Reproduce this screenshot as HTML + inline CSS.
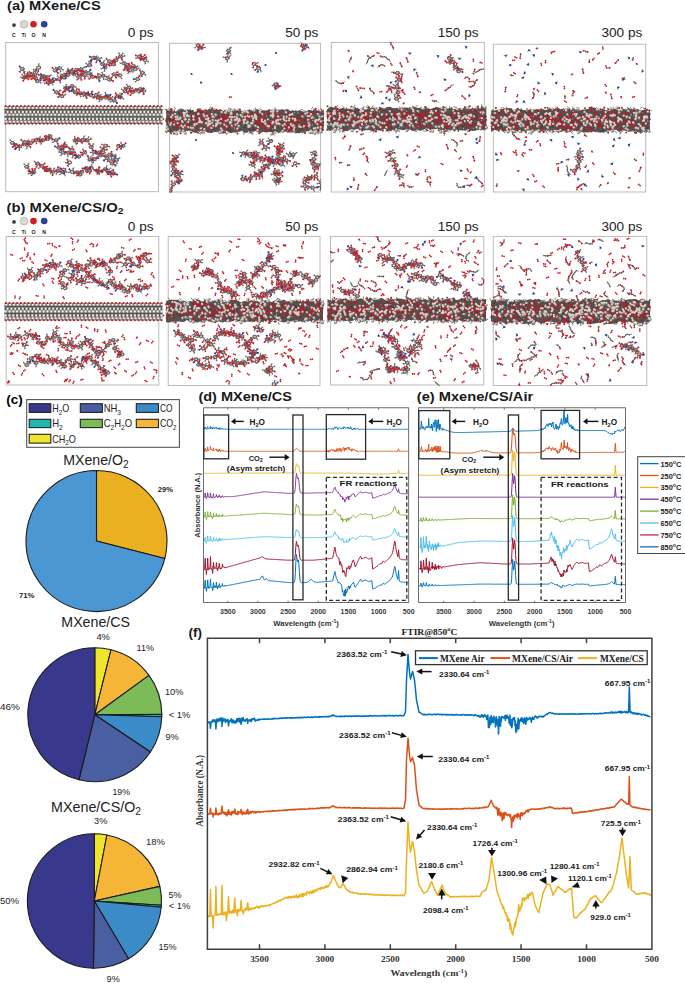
<!DOCTYPE html>
<html><head><meta charset="utf-8"><style>
html,body{margin:0;padding:0;background:#fff;}
svg{display:block;}
</style></head><body>
<svg width="685" height="983" viewBox="0 0 685 983">
<rect width="685" height="983" fill="#fff"/>
<defs><clipPath id="ca1"><rect x="5.2" y="42.1" width="153.7" height="150.1"/></clipPath><clipPath id="ca2"><rect x="169.1" y="42.8" width="152.0" height="149.7"/></clipPath><clipPath id="ca3"><rect x="330.8" y="41.9" width="154.0" height="150.6"/></clipPath><clipPath id="ca4"><rect x="492.8" y="43.7" width="153.4" height="148.8"/></clipPath><clipPath id="cb1"><rect x="5.7" y="236.0" width="153.6" height="149.5"/></clipPath><clipPath id="cb2"><rect x="167.7" y="235.9" width="152.8" height="150.2"/></clipPath><clipPath id="cb3"><rect x="330.0" y="235.9" width="154.3" height="149.6"/></clipPath><clipPath id="cb4"><rect x="492.7" y="235.9" width="154.6" height="150.2"/></clipPath></defs>
<rect x="5.7" y="42.6" width="152.7" height="149.1" fill="none" stroke="#b4b4b4" stroke-width="0.9"/>
<rect x="169.6" y="43.3" width="151.0" height="148.7" fill="none" stroke="#b4b4b4" stroke-width="0.9"/>
<rect x="331.3" y="42.4" width="153.0" height="149.6" fill="none" stroke="#b4b4b4" stroke-width="0.9"/>
<rect x="493.3" y="44.2" width="152.4" height="147.8" fill="none" stroke="#b4b4b4" stroke-width="0.9"/>
<rect x="6.2" y="236.5" width="152.6" height="148.5" fill="none" stroke="#b4b4b4" stroke-width="0.9"/>
<rect x="168.2" y="236.4" width="151.8" height="149.2" fill="none" stroke="#b4b4b4" stroke-width="0.9"/>
<rect x="330.5" y="236.4" width="153.3" height="148.6" fill="none" stroke="#b4b4b4" stroke-width="0.9"/>
<rect x="493.2" y="236.4" width="153.6" height="149.2" fill="none" stroke="#b4b4b4" stroke-width="0.9"/>
<rect x="4.5" y="105.9" width="158.0" height="18.1" fill="#86827e"/>
<line x1="4.5" y1="109.6" x2="162.5" y2="109.6" stroke="#52504e" stroke-width="1.1"/>
<line x1="4.5" y1="116.7" x2="162.5" y2="116.7" stroke="#52504e" stroke-width="1.1"/>
<path d="M5.7 112h0m3.8 0h0m3.8 0h0m3.8 0h0m3.8 0h0m3.8 0h0m3.8 0h0m3.8 0h0m3.8 0h0m3.8 0h0m3.8 0h0m3.8 0h0m3.8 0h0m3.8 0h0m3.8 0h0m3.8 0h0m3.8 0h0m3.8 0h0m3.8 0h0m3.8 0h0m3.8 0h0m3.8 0h0m3.8 0h0m3.8 0h0m3.8 0h0m3.8 0h0m3.8 0h0m3.8 0h0m3.8 0h0m3.8 0h0m3.8 0h0m3.8 0h0m3.8 0h0m3.8 0h0m3.8 0h0m3.8 0h0m3.8 0h0m3.8 0h0m3.8 0h0m3.8 0h0m3.8 0h0m3.8 0h0m-153.9 6.9h0m3.8 0h0m3.8 0h0m3.8 0h0m3.8 0h0m3.8 0h0m3.8 0h0m3.8 0h0m3.8 0h0m3.8 0h0m3.8 0h0m3.8 0h0m3.8 0h0m3.8 0h0m3.8 0h0m3.8 0h0m3.8 0h0m3.8 0h0m3.8 0h0m3.8 0h0m3.8 0h0m3.8 0h0m3.8 0h0m3.8 0h0m3.8 0h0m3.8 0h0m3.8 0h0m3.8 0h0m3.8 0h0m3.8 0h0m3.8 0h0m3.8 0h0m3.8 0h0m3.8 0h0m3.8 0h0m3.8 0h0m3.8 0h0m3.8 0h0m3.8 0h0m3.8 0h0m3.8 0h0m3.8 0h0" stroke="#454545" stroke-width="1.9" stroke-linecap="round" fill="none"/>
<path d="M6.3 107.9h0m3.8 0h0m3.8 0h0m3.8 0h0m3.8 0h0m3.8 0h0m3.8 0h0m3.8 0h0m3.8 0h0m3.8 0h0m3.8 0h0m3.8 0h0m3.8 0h0m3.8 0h0m3.8 0h0m3.8 0h0m3.8 0h0m3.8 0h0m3.8 0h0m3.8 0h0m3.8 0h0m3.8 0h0m3.8 0h0m3.8 0h0m3.8 0h0m3.8 0h0m3.8 0h0m3.8 0h0m3.8 0h0m3.8 0h0m3.8 0h0m3.8 0h0m3.8 0h0m3.8 0h0m3.8 0h0m3.8 0h0m3.8 0h0m3.8 0h0m3.8 0h0m3.8 0h0m3.8 0h0m3.8 0h0m-156.4 6.9h0m1.9-2.8h0m1.9 2.8h0m1.9-2.8h0m1.9 2.8h0m1.9-2.8h0m1.9 2.8h0m1.9-2.8h0m1.9 2.8h0m1.9-2.8h0m1.9 2.8h0m1.9-2.8h0m1.9 2.8h0m1.9-2.8h0m1.9 2.8h0m1.9-2.8h0m1.9 2.8h0m1.9-2.8h0m1.9 2.8h0m1.9-2.8h0m1.9 2.8h0m1.9-2.8h0m1.9 2.8h0m1.9-2.8h0m1.9 2.8h0m1.9-2.8h0m1.9 2.8h0m1.9-2.8h0m1.9 2.8h0m1.9-2.8h0m1.9 2.8h0m1.9-2.8h0m1.9 2.8h0m1.9-2.8h0m1.9 2.8h0m1.9-2.8h0m1.9 2.8h0m1.9-2.8h0m1.9 2.8h0m1.9-2.8h0m1.9 2.8h0m1.9-2.8h0m1.9 2.8h0m1.9-2.8h0m1.9 2.8h0m1.9-2.8h0m1.9 2.8h0m1.9-2.8h0m1.9 2.8h0m1.9-2.8h0m1.9 2.8h0m1.9-2.8h0m1.9 2.8h0m1.9-2.8h0m1.9 2.8h0m1.9-2.8h0m1.9 2.8h0m1.9-2.8h0m1.9 2.8h0m1.9-2.8h0m1.9 2.8h0m1.9-2.8h0m1.9 2.8h0m1.9-2.8h0m1.9 2.8h0m1.9-2.8h0m1.9 2.8h0m1.9-2.8h0m1.9 2.8h0m1.9-2.8h0m1.9 2.8h0m1.9-2.8h0m1.9 2.8h0m1.9-2.8h0m1.9 2.8h0m1.9-2.8h0m1.9 2.8h0m1.9-2.8h0m1.9 2.8h0m1.9-2.8h0m1.9 2.8h0m1.9-2.8h0m1.9 2.8h0m1.9-2.8h0m-157.7 6.9h0m.6 2.9h0m3.2-2.9h0m.6 2.9h0m3.2-2.9h0m.6 2.9h0m3.2-2.9h0m.6 2.9h0m3.2-2.9h0m.6 2.9h0m3.2-2.9h0m.6 2.9h0m3.2-2.9h0m.6 2.9h0m3.2-2.9h0m.6 2.9h0m3.2-2.9h0m.6 2.9h0m3.2-2.9h0m.6 2.9h0m3.2-2.9h0m.6 2.9h0m3.2-2.9h0m.6 2.9h0m3.2-2.9h0m.6 2.9h0m3.2-2.9h0m.6 2.9h0m3.2-2.9h0m.6 2.9h0m3.2-2.9h0m.6 2.9h0m3.2-2.9h0m.6 2.9h0m3.2-2.9h0m.6 2.9h0m3.2-2.9h0m.6 2.9h0m3.2-2.9h0m.6 2.9h0m3.2-2.9h0m.6 2.9h0m3.2-2.9h0m.6 2.9h0m3.2-2.9h0m.6 2.9h0m3.2-2.9h0m.6 2.9h0m3.2-2.9h0m.6 2.9h0m3.2-2.9h0m.6 2.9h0m3.2-2.9h0m.6 2.9h0m3.2-2.9h0m.6 2.9h0m3.2-2.9h0m.6 2.9h0m3.2-2.9h0m.6 2.9h0m3.2-2.9h0m.6 2.9h0m3.2-2.9h0m.6 2.9h0m3.2-2.9h0m.6 2.9h0m3.2-2.9h0m.6 2.9h0m3.2-2.9h0m.6 2.9h0m3.2-2.9h0m.6 2.9h0m3.2-2.9h0m.6 2.9h0m3.2-2.9h0m.6 2.9h0m3.2-2.9h0m.6 2.9h0m3.2-2.9h0m.6 2.9h0m3.2-2.9h0m.6 2.9h0m3.2-2.9h0m.6 2.9h0" stroke="#eeebe5" stroke-width="2.3" stroke-linecap="round" fill="none"/>
<path d="M5.7 106.1h0m3.8 0h0m3.8 0h0m3.8 0h0m3.8 0h0m3.8 0h0m3.8 0h0m3.8 0h0m3.8 0h0m3.8 0h0m3.8 0h0m3.8 0h0m3.8 0h0m3.8 0h0m3.8 0h0m3.8 0h0m3.8 0h0m3.8 0h0m3.8 0h0m3.8 0h0m3.8 0h0m3.8 0h0m3.8 0h0m3.8 0h0m3.8 0h0m3.8 0h0m3.8 0h0m3.8 0h0m3.8 0h0m3.8 0h0m3.8 0h0m3.8 0h0m3.8 0h0m3.8 0h0m3.8 0h0m3.8 0h0m3.8 0h0m3.8 0h0m3.8 0h0m3.8 0h0m3.8 0h0m3.8 0h0m-155.8 17.7h0m3.8 0h0m3.8 0h0m3.8 0h0m3.8 0h0m3.8 0h0m3.8 0h0m3.8 0h0m3.8 0h0m3.8 0h0m3.8 0h0m3.8 0h0m3.8 0h0m3.8 0h0m3.8 0h0m3.8 0h0m3.8 0h0m3.8 0h0m3.8 0h0m3.8 0h0m3.8 0h0m3.8 0h0m3.8 0h0m3.8 0h0m3.8 0h0m3.8 0h0m3.8 0h0m3.8 0h0m3.8 0h0m3.8 0h0m3.8 0h0m3.8 0h0m3.8 0h0m3.8 0h0m3.8 0h0m3.8 0h0m3.8 0h0m3.8 0h0m3.8 0h0m3.8 0h0m3.8 0h0m3.8 0h0" stroke="#b51a22" stroke-width="2.0" stroke-linecap="round" fill="none"/>
<path d="M21.4 70.3l-1.4 1.4M21.3 67.7l-1.6-1.2M23.3 70.2l1.4 1.4M24.2 76.8l-1.7 1M27.2 77.7l1.2 1.6M27.9 76.3l1.9-.5M22.3 69l2 3.9M24.3 72.9l1.7 3.7M30.9 72.9l2-.4M28.7 74.8l-.5 1.9M30.5 74.3l1.5 1.3M26 76.6l1.3-2.1M27.3 74.4l1.8-1.1M33.1 78l-1.5 1.3M32.6 76.5l-1.9-.5M35.8 75.9l1.2-1.6M29.1 73.3l2.5 2.7M31.6 76l2.8 .9M37.2 79.6l-.1-2M39.2 81.6l1.6 1.2M39 80.1l1.6-1.3M34.5 76.9l.6 2.5M35.1 79.4l2.4 1.7M38.8 69l-.6 1.9M38.7 66l.1-2M37.1 68.3l-1.4 1.4M44.1 77.9l-.3 2M42.4 75.6l-1.6-1.2M42.4 77.1l-1.5 1.3M46.8 81.6l-1.6-1.2M48.5 80.9l-.5-1.9M46.7 83.1l-2 .2M44.1 76.4l2.6 3M46.7 79.3l1.7 3.1M51.6 80.4l1-1.7M51.5 83l1.3 1.5M49.6 83l-1 1.7M48.4 82.4l1.3-1.2M49.7 81.3l.9 .4M54.2 69.3l-1.6-1.1M56.6 71.6l1.4 1.4M57.3 70.2l1.8-.9M57.8 67.7l-2-.2M60 69.6l.6 1.9M61.4 68.7l1.6 1.2M55.4 70.4l1.7-.8M57.1 69.6l2.5-1.4M62.4 78.1l-1.9 .7M65.8 76.7l1.9-.5M62.5 76.6l-1.9-.7M69.2 73.9l1.5-1.3M67.3 73.6l-.7-1.9M66.1 74.7l-1.7-1.1M64.1 77.4l1.6-1.8M65.8 75.7l2.2-.6M71.5 70.6l.9-1.8M72.8 73l1.5 1.4M69.8 71.2l-1.9-.7M67.9 75l2.1-2.1M70.1 72.9l1.3-.9M75.1 75.2l1.3 1.5M74.8 72.6l1.1-1.6M75.9 73.8l1.8-.8M71.3 72.1l2.1 1.6M73.5 73.6l.5 .4M78.5 75.5l-1.6-1.1M80.6 78l.8 1.8M78.7 78.1l-1.2 1.6M74 74l3.7 .8M77.7 74.7l1.8 2M82.3 71.4l.4-2M80.3 73.5l-1.5 1.3M83.8 72.4l2-.1M79.5 76.7l1.9-1.9M81.4 74.9l.6-1.9M86.3 75.7l1.8 1M82.8 74.5l-2-.3M84.8 76.5l0 2M82 72.9l.4 1.4M82.4 74.4l2.1 .7M87.8 64.6l-1.7-1.1M89.3 63.6l-.3-2M88.2 66.1l-1.9 .7M95 56.9l1.9-.7M92 58.8l-1.2 1.6M91.8 57.3l-1.9-.6M89.6 65.1l1.6-3.3M91.2 61.8l2.3-4M96.9 60.3l-.5 1.9M95.8 59.1l-2 .2M99.6 58.8l1.8-.8M93.5 57.9l1.4 .9M94.9 58.7l2.8 .2M101.5 62.7l-1.5-1.3M103.4 62.6l.7-1.9M103.5 65.2l.7 1.9M97.7 58.9l2.4 2.1M100.1 61l2.4 2.9M103.1 67.9l-1.8 .8M104.5 68.9l0 2M105.5 66l1-1.7M102.5 63.9l1.6 2.7M104.1 66.6l.9 .9M109.4 62.8l-.6 1.9M107.9 60.5l-1.3-1.5M111.1 62.1l2 .4M105 67.5l1.8-2.9M106.7 64.6l2.7-3.3M113.1 62.7l-.1-2M111.6 63.6l-1.7-1M111.8 65.1l-1.9 .6M109.5 61.3l1.3 2.3M110.8 63.6l2.6 .6M115.6 61.8l-.7 1.9M114.1 60.9l-1.4 1.4M116.1 58.9l.3-2M113.3 64.2l1.3-2.4M114.6 61.8l1.2-1.4M121.6 55l1.2-1.6M122.6 56.3l2-.4M119.7 55.1l-.8-1.8M115.8 60.4l2.3-2.3M118.1 58.1l2.6-1.7M122.5 63l-2 .2M124.9 64.8l0 2M126.2 63.7l2 .1M120.7 56.4l1.4 3.4M122.1 59.8l2.2 3.6M129.3 65.8l-.1-2M126.9 67.6l-1.8 .9M128.2 68.7l-.3 2M124.3 63.3l1.8 2.3M126.1 65.6l2.6 1.6M132.7 64.6l-1.2-1.6M135 66.5l2 .1M131.4 65.6l-1.9-.6M128.7 67.2l2.6-.2M131.3 67.1l1.9-1M137 69l1.9-.8M136 67.7l1.5-1.4M134.2 70.4l-1.3 1.5M133.2 66.1l.2 1.5M133.4 67.6l1.7 1.4M139.6 58.2l.9 1.8M137.7 56.1l-1.9-.6M137.9 57.6l-1.9 .7M141.5 56.5l-.8-1.9M143.4 56.5l1.3-1.5M144.3 57.9l1.9-.6M139.4 56.7l2 0M141.4 56.7l1.1 1.2M146.6 60.7l1.7 1.1M143.2 59.2l-2-.3M144.9 61.5l.4 2M142.4 57.8l.9 1.2M143.3 59l1.6 .9M24.2 78.9l-.9 1.8M23.6 76.3l-1.4-1.5M23 77.8l-2-.4M32.3 75.6l1.5-1.3M30.6 75l.5-1.9M29.1 75.9l-2-.2M24.8 77.5l2.5-.8M27.3 76.7l3.4-.2M34.8 74l-.5 1.9M34.2 71.4l-.7-1.9M36.1 71.1l.6-1.9M30.8 76.5l2.2-2.2M32.9 74.3l2.5-1.7M43.2 78.7l.5 1.9M41.3 78.7l-.8 1.8M44.1 77.3l1.9 .7M35.4 72.6l3.1 2.3M38.6 74.8l3.7 2.6M48 78.8l.5 1.9M49.1 76.3l1.7-1M46.2 78.3l-1.4 1.4M42.2 77.4l3.2-.2M45.5 77.2l2.2 .2M54.1 80.4l1.9-.6M50.8 80.1l-1.2-1.6M52.5 79.5l.9-1.8M47.6 77.3l1.7 1.7M49.3 79l3 2M59.8 80.5l.6 1.9M57.4 78.7l-2 .2M58.7 77.6l-1.2-1.6M52.3 81l4.1-.9M56.4 80.1l2.9-1.1M62.7 74.5l-2-.1M64.9 76.4l.7 1.9M63.1 75.9l-1.7 1M59.3 79l1.7-1.3M60.9 77.7l3.6-2.8M72.3 72l1.5 1.3M69.3 70.2l-1.4-1.4M69.1 71.6l-2 .3M64.5 74.9l2.3-1.1M66.8 73.8l4-2.7M76.7 71.4l.5 1.9M74.9 71l-1.8 .9M78.1 70.4l1.9 .6M70.8 71.1l3.6 .3M74.4 71.4l1.9-1.4M79.5 70.3l-1.9 .6M82.5 68.4l1.7-1.1M81.3 70.9l.4 2M76.3 69.9l1.4 .3M77.7 70.2l3.3-.8M89.6 74.2l.8 1.8M87.5 71.7l-1.6-1.2M89.4 71.6l1-1.7M81 69.4l3.2 2M84.2 71.4l4.3 1.6M90.9 77.7l-1.6 1.1M92.2 75.3l-.4-2M94.2 77.3l2 .1M88.6 73l2.7 2.2M91.3 75.2l1.2 1.6M98.8 79l.7 1.9M96.5 77.1l-2 .2M97.9 76.1l.1-2M92.5 76.8l2.9-.2M95.4 76.6l2.9 1M101.4 75.2l-1.8-1M103.4 77.3l.2 2M102.9 74.3l-.9-1.8M98.3 77.6l3.3-1.8M101.6 75.8l1.6 0M109 78.1l-.2-2M111.3 79.9l1.6 1.1M107.6 79.2l-2 0M103.1 75.8l3.7 1M106.8 76.7l2.7 2.8M115 75.8l1.1 1.7M116.2 74.6l1.8 .9M115.4 73.3l1.7-1M109.5 79.6l2.1-1.9M111.6 77.6l2.7-3.2M119.1 74l-1-1.7M118 75.2l-2-.3M120.5 76.8l1.1 1.7M114.3 74.5l2.6 .2M116.9 74.7l3 .7M126 66l-1-1.7M125.3 68.5l-1.5 1.4M127.8 66.3l1.6-1.3M128.2 70.3l-2-.1M129.3 71.6l-1.2 1.6M130.9 68.8l1.4-1.5M126.6 67.4l1 1.4M127.6 68.8l2.5 1.4M138.4 77.5l1.3-1.5M136.8 80.2l-1.2 1.6M135.7 79l-2 .2M142.2 74.3l-.5 1.9M143.9 73.8l1.6 1.1M140.9 71.9l-1-1.7M137.6 78.9l1.7-3.1M139.3 75.8l3.1-2.9M55 91.4l-1.5-1.3M58 93.2l1.3 1.5M58.3 91.7l1.6-1.1M60.7 95l-1.3-1.6M60.2 96.4l-1.9 .6M63.9 95.6l1.6-1.2M56.5 92.3l2.2 1.8M58.7 94.1l3.3 2M66 86.7l.2-2M65.2 89.7l-.3 2M67 89.2l1.2 1.6M62 96l1-3.7M63 92.3l2.6-4.1M66 87.8l-1.9-.7M68.6 89.3l.9 1.8M66.7 89.2l-1.3 1.5M65.6 88.2l.2-.1M65.8 88.1l2.1-.1M72.3 87.6l0 2M73.9 86.7l2 .4M70.6 87l-1.7 1M67.9 87.9l1.2-.4M69.1 87.5l3-1.4M73.4 91.9l-1.8-.8M76.3 90.8l.6-1.9M76.1 93.4l1.4 1.4M72.1 86.1l1.3 3.5M73.4 89.6l1.8 2.4M79.6 91.6l-.7-1.9M78.2 94l-1.7 1.1M79.9 94.6l.8 1.9M75.3 92l2.9 1.5M78.1 93.5l1.7-.4M85 94.8l.7 1.9M85.6 93.4l2 .2M81.9 93.9l-2-.1M79.8 93.1l1.8 .9M81.6 94.1l2.2-.4M86.4 96l.3 2M85.2 93.6l-1.3-1.5M84.9 95.1l-1.5 1.3M83.8 93.6l2-.5M85.8 93.2l1 1.4M89.3 93.9l-1.2-1.6M91.2 93.6l.9-1.8M91.9 96.1l1.4 1.4M86.7 94.5l2.2 .2M88.9 94.8l1.7 .3M97.6 94.1l1-1.7M96.4 96.5l.5 1.9M94.6 96l-1.5 1.3M90.6 95l1.8-.7M92.4 94.3l3.7 .7M100.1 97.7l2-.4M99.4 96.3l1.4-1.4M96.3 97.2l-2 .3M96.1 95l1.8 .8M97.9 95.8l.3 1.7M99.9 99.6l-.6 1.9M100.1 97l-1.2-1.6M102.9 98.4l2-.4M98.2 97.5l2.2-.2M100.4 97.3l.6 1M106 94.5l-.8-1.8M106.2 97.1l-.4 2M105.2 95.9l-1.9 .7M101 98.3l3.3-1.5M104.3 96.8l2.8-1M111 97.8l1.8-.9M109.7 96.8l.6-1.9M107.8 97.2l-1.1-1.7M107.1 95.8l.4 1.7M107.5 97.5l1.7 .7M114.7 99.1l.9-1.8M112.3 100.9l-1.8 .8M115.5 101.6l1.5 1.3M109.2 98.2l1.6 1.1M110.8 99.3l3.4 1.2M119.2 96.6l2 .4M116.7 95l-1-1.7M116.1 97.5l-1.1 1.7M114.2 100.5l.9-3M115.1 97.5l2.3-1.1M121.9 97.6l1.6 1.2M118.3 96.5l-2 0M119.8 95.6l.3-2M117.3 96.4l1.5 .5M118.9 96.9l1.2 .1M125 89.7l-.5-1.9M126.7 91.9l1.3 1.5M123.4 90.4l-1.6-1.1M120.1 97.1l1.8-3.1M122 93.9l3-2.8M126.9 87.6l-1.8 .8M130.7 87.4l1.9 .7M127.7 86.2l-1.1-1.6M125 91.2l1.6-2M126.6 89.2l2.1-1.7M131.6 93.4l-1.1 1.6M131.5 90.8l-.5-1.9M130.6 92.1l-1.9-.6M128.8 87.5l1 2.6M129.8 90.1l2.8 2M134.1 89.5l-1.7-1M133.6 91l-2 0M136.7 91.6l1.7 1M132.5 92.1l.8-1M133.4 91.1l2.1-.5M141.4 90.2l1.3 1.5M141.5 88.7l2-.4M139.7 90.8l-.5 1.9M135.4 90.6l1.8-1.2M137.2 89.4l2.6 0M142.1 91l-1.8 .8M143.4 92l.3 2M142.5 89.5l-1.2-1.6M139.8 89.3l2.4 1.1M142.3 90.4l1.6 .1M13.2 144.2l1.2 1.6M11.6 141.5l-1.4-1.4M14.3 143l1.8 .8M15.8 147.2l-.5 1.9M14.7 145.9l-1.8 .9M15.5 144.6l-1.4-1.4M12.4 142.8l1.8 1.1M14.2 143.9l2.4 1.8M21.3 145.8l1.8-.9M17.9 147.1l-1.8 .9M19.5 147.9l-.2 2M16.6 145.8l2.2 .5M18.7 146.3l.9 .2M24.4 143.6l-.1 2M26.1 142.9l1.3 1.5M23 141.2l-1.7-1.1M19.6 146.4l3.1-2.7M22.7 143.8l1.8-1.7M27.1 146.3l-.3 2M28.9 145.7l1.5 1.3M27.7 143.3l0-2M24.6 142.1l2.3 2.1M26.8 144.2l.6 .6M29.7 141.6l-1.3-1.5M31.6 141.5l.5-1.9M28.8 143l-2 .1M27.4 144.8l2.2-.7M29.6 144.1l1.1-1.2M37.7 139.3l1.7-1.1M34.5 140.9l-1.5 1.4M36.1 141.6l.3 2M30.7 142.9l3.1-1.4M33.8 141.5l2.3-1.4M39.1 139.8l-1.7-1.1M40.8 142l.5 1.9M40.7 139l-.4-2M36.1 140.1l3.3-.5M39.4 139.6l1.3 .9M44.5 139.3l1.5-1.4M41.3 140.9l-1.9 .5M41.2 139.4l-1.4-1.4M40.7 140.5l.1 .5M40.8 141l2.1-.9M46.5 137.6l-1.7-1.1M48.4 137.5l1.4-1.5M49.4 138.7l2 0M42.9 140.1l3-.3M45.9 139.8l1.6-1M51 137.3l1.2 1.6M48 136.2l-2 0M49.1 137.4l-.7 1.9M47.5 138.8l1.6-1.1M49.1 137.7l.8-1.6M57.5 139.3l1.8-.9M54.5 141.1l-1.6 1.2M54.3 139.7l-2 0M49.9 136l2.4 2.6M52.3 138.7l3.7 1.5M59.2 149.1l.2 2M57 147.2l-1.9-.7M60.6 148.1l1.6 1.3M56 140.2l1.7 3.5M57.8 143.7l1 3.9M63.5 145.3l.8-1.8M61.8 148l-.8 1.8M64.6 146.6l2 .2M58.8 147.6l1.5-1M60.2 146.6l2.4 .1M65.3 144.2l-.4-2M66.7 146.6l1.9 .5M63.4 146.3l-1.6 1.3M62.7 146.7l1.7 .1M64.3 146.8l.8-1.1M71.9 148.6l.4-2M73.6 150.8l1.5 1.4M70.2 149.3l-1.6-1.3M65.1 145.7l4.4 2.5M69.5 148.2l2.4 1.8M74.9 138.9l-.2-2M75.3 141.9l.9 1.8M76.6 139.5l1.2-1.6M77.9 141.6l-.9 1.8M79.8 141.3l1.7 1M76.7 140.5l-2 .2M75.1 140.4l2.5-.7M77.5 139.7l1 .5M82.9 141.1l-.5 1.9M83.4 138.2l.7-1.9M84.7 140.6l1.8 .8M78.6 140.2l2.4 .2M80.9 140.4l2.3-.8M85.5 140.8l-1.9 .6M87.7 138.8l1-1.8M89.1 139.8l1.7-1.1M83.2 139.6l2.3 .8M85.5 140.4l1.9-.2M92.3 145.7l1-1.7M90.4 145.5l-1.4-1.4M92 148.3l.6 1.9M87.3 140.3l2.2 3.7M89.5 144l1.7 3M93.2 150.8l-.8-1.8M92.4 152.2l-2 .4M93.4 153.4l-.7 1.9M91.2 146.9l1.6 3.1M92.8 150l1.5 2M97.5 152.1l-1.7-1M101.1 152.9l1.9 .6M100.7 151.5l1.4-1.4M94.3 152.1l2.8 .8M97.1 152.9l2.2-.4M104.1 151.1l.9 1.8M104.9 149.8l2-.1M101.9 148.7l-1.4-1.4M99.3 152.5l1.2-.4M100.5 152.1l2.5-2.1M107.4 146.3l2 .3M103.8 145.2l-1.9-.7M104.1 146.7l-1.1 1.7M103 149.9l.4-1.5M103.4 148.4l2.2-2.6M110.8 153.5l.7-1.9M107.8 154.6l-1.9 .5M111.5 154.9l2 .3M112.5 156l-.2-2M113.4 158.9l-.3 2M114.3 156.4l1-1.7M109.7 154.7l1.7 .5M111.4 155.2l1.6 2.2M119.6 147.3l1.5 1.3M117.7 147.5l-.7 1.9M120.3 145.9l2-.1M121.9 147.1l-1.1 1.7M122.2 144.5l-1.2-1.6M124.1 144.7l1.4-1.4M118.4 146.1l1.3 .2M119.7 146.3l3.3-.4M25.6 165.5l-1.3-1.5M27.5 165.4l1.2-1.6M27.7 168l1.5 1.3M30.4 172l-1.9-.7M30.4 173.5l-2 .3M32.1 171.3l.5-1.9M26.6 166.7l2.9 4M29.6 170.7l2.5 2.1M32.8 173.5l-1.1 1.7M32.6 170.9l-.6-1.9M34.5 170.8l.5-1.9M32.1 172.8l.3-.5M32.4 172.3l1.3-.1M36.2 162.6l-1.7-1M39.1 164.5l1.2 1.6M37.3 165l-1 1.8M40.4 167l-1.6 1.2M43.1 164.9l1.5-1.3M43.6 166.4l2 .3M37.6 163.6l2.1 .9M39.8 164.5l2 1.5M48.1 169.4l1.8-.9M44.8 169.2l-1.9-.7M46.5 168.5l.6-1.9M41.7 166l2.5 1.7M44.2 167.7l2.2 2.3M49.7 171.1l1.1 1.7M46.5 170.4l-2 .4M47 169l-1.4-1.4M46.4 170l.1 1M46.4 171l1.9-1M51.6 170.6l-.9-1.8M53.4 170.2l.9-1.8M52.6 173.1l0 2M48.4 170l1.7 .2M50.1 170.2l2.9 1.4M57.4 172.1l-1 1.7M59.5 170.2l1.6-1.2M58 169.2l-.1-2M53 171.6l3.2-.5M56.2 171.2l1.5-.5M61.7 173.4l-1.7 1.1M64.7 172.4l1.9-.5M63.6 173.6l1.4 1.4M57.7 170.7l2.1 .8M59.8 171.5l3 .8M64 171.2l0 2M62.3 170.5l-1.8 .9M62.2 169l-1.9-.7M62.8 172.2l.3-1.5M63.1 170.7l.8-1M68.2 161.5l-.9-1.8M67.8 162.9l-2-.2M69.1 164l-1.1 1.7M71.1 170.6l-1.6-1.2M70.3 172l-1.9 .5M73 170.4l.3-2M75.6 172.6l-1.8 .9M79.2 171.8l1.9-.6M76.9 173.7l.1 2M72.2 171.8l2.8 .8M75.1 172.6l2.3-.4M78.5 173.6l-1.2-1.6M80.1 172.9l.7-1.9M81.8 173.6l1.5-1.3M77.4 172.2l.5 1.5M77.9 173.7l2.2 .6M87.4 169.7l.5 1.9M84.6 168.3l-2 .2M88.4 168.5l1.9-.6M80.1 174.4l2.8-3.6M82.9 170.7l3.7-2.4M88.9 171.7l1.2 1.6M89.2 170.2l1.6-1.2M86 169.7l-1.4-1.5M86.5 168.4l.1 .2M86.6 168.6l.8 2.1M91.2 166.2l.6-1.9M91.1 169.2l0 2M92.8 168.5l1.3 1.5M87.4 170.7l2.6-2M90 168.8l1.1-1M98.4 169.4l1-1.7M99.2 170.8l1.8 .9M98.1 172l1 1.7M91.2 167.7l3.7 2.3M94.9 170l2.4 .6M97.7 172.2l-.5 1.9M98.6 169.2l.5-1.9M100 170.3l2 .2M97.3 170.6l-.2-.8M97.1 169.9l1.1 .8M106.2 168.1l.5-1.9M105.8 170.7l.7 1.9M104 170.5l-1.4 1.4M98.2 170.7l4.2-.2M102.3 170.4l2.7-1.1M107.6 172l.2 2M109.2 171.2l1.7 1.1M109.2 169.7l1.4-1.5M105.1 169.3l1.7-.1M106.8 169.2l.7 1.3M110.8 172.2l1.2-1.6M111.4 173.6l1.8 .8M110.2 174.7l1.1 1.7M107.5 170.5l.9 2.4M108.4 172.9l1.2 .4M115.1 174.1l1.9 .5M111.7 172.8l-1.7-1.1M113.3 171.9l-.1-2M109.6 173.3l1.8 .1M111.4 173.4l2.1 0M60.9 152.6l-1.9-.5M62 153.8l-1 1.7M63.6 151.1l.1-2M66.5 153.1l-1.6 1.1M70.1 152.2l2 .1M67.9 154.2l-.1 2M62.8 152.4l2.8-.6M65.6 151.9l2.7 .8M72.1 154.4l-2-.1M73.2 155.6l-.7 1.9M75.1 155.4l1.5 1.3M68.3 152.7l2.9 .5M71.2 153.2l2.7 1M77 155.8l-1.8-.9M77.1 157.3l-1.7 1M80.3 155.6l1.5-1.3M74 154.2l1.8 1.2M75.8 155.4l2.9 1M82.8 152.5l-2-.1M83.6 151.1l-.8-1.8M83.8 153.7l-1.4 1.5M78.7 156.4l3.5-2M82.2 154.5l2.4-2.1M90.6 158.1l.8-1.8M88.7 158.4l-.9-1.8M91.3 160.6l1 1.7M84.7 152.4l3.2 3.5M87.8 155.9l2.2 3.6M92.5 159.5l-2 .1M93.8 160.6l-.5 1.9M96.2 158.7l2-.4M90 159.5l2.7 .6M92.7 160l1.6-.9M98.8 154.7l-1.9-.6M102.3 155.8l1.9 .6M102 154.3l1.8-.9M94.3 159.1l3.1-2.1M97.4 157.1l3.1-1.8M107.2 159.6l.4 2M108.8 158.7l1.5 1.3M105.5 158.9l-1.4 1.5M100.5 155.2l4.1 .4M104.6 155.7l2.4 2.4M113.8 162.6l1.7-1M113.8 164.1l1.6 1.2M112.2 161.9l-.2-2M107.1 158.1l2.3 3.6M109.3 161.6l2.8 1.8M117.8 158.9l1.8-.8M116 158.5l-.4-2M116.8 161.4l.2 2M112.2 163.4l1.8-1.7M114 161.7l2.4-1.8M21.4 70.3l-1-1.3 .9-1.3 1.9-.1 1 1.3-.9 1.3zM24.2 76.8l.6-1.4 1.9-.3 1.2 1.2-.7 1.4-1.8 .3zM28.7 74.8l-1.4-1 .4-1.5 1.8-.4 1.4 1-.4 1.4zM36.3 77.3l-1.3 1.1-1.9-.4-.5-1.5 1.4-1 1.8 .4zM36 82l-.3-1.5 1.5-.9 1.8 .5 .2 1.5-1.5 .9zM37.1 68.3l0-1.5 1.6-.8 1.7 .7 0 1.5-1.6 .8zM45.7 77.1l-1.6 .8-1.7-.8 0-1.5 1.7-.7 1.6 .7zM50 83.3l-1.7 .6-1.6-.8 .1-1.5 1.7-.7 1.6 .9zM49.6 83l-.9-1.4 1-1.2 1.9 0 .9 1.4-1 1.2zM53.5 70.7l.7-1.4 1.9-.3 1.2 1.2-.7 1.4-1.9 .2zM61.4 68.7l-1.4 .9-1.8-.4-.4-1.5 1.4-1 1.8 .5zM64 78.9l-1.6-.8 .1-1.5 1.7-.7 1.6 .8-.1 1.5zM66.7 76.1l-.6-1.4 1.2-1.1 1.9 .3 .6 1.4-1.3 1.1zM72.8 73l-1.7 .5-1.5-.8 .2-1.5 1.7-.6 1.6 .9zM73.2 75.4l-1.1-1.3 .8-1.3 1.9-.2 1.1 1.2-.8 1.4zM77.6 76.8l.9-1.3 1.9-.1 1 1.2-.8 1.4-1.9 .1zM83.5 73.9l-1.7 .5-1.5-.9 .2-1.5 1.8-.6 1.5 1zM86.3 75.7l-1.5 .8-1.8-.5-.2-1.5 1.5-.9 1.8 .6zM88.2 66.1l-.4-1.5 1.5-1 1.8 .5 .3 1.5-1.4 1zM93.8 59.3l-1.8-.5-.2-1.5 1.5-.9 1.7 .5 .3 1.5zM98.8 60.1l-1.9 .2-1.1-1.2 .8-1.4 1.9-.2 1.1 1.3zM100.6 64l.9-1.3 1.9-.1 1 1.3-.9 1.3-1.9 .1zM103.1 67.9l.6-1.5 1.8-.4 1.3 1.1-.5 1.5-1.8 .3zM109.4 62.8l-1.6-.8 .1-1.5 1.6-.7 1.6 .8 0 1.5zM115.1 64.7l-1.5 1-1.8-.6-.2-1.5 1.5-.9 1.7 .5zM117.3 61.3l-1.7 .5-1.5-.9 .2-1.4 1.8-.6 1.5 .9zM119.9 57.7l-1.1-1.3 .9-1.3 1.9-.1 1 1.3-.8 1.3zM126.2 63.7l-1.3 1.1-1.9-.4-.5-1.4 1.3-1.1 1.8 .3zM130 68.3l-1.8 .4-1.3-1.1 .5-1.5 1.9-.3 1.3 1.1zM135 66.5l-1.4 1-1.8-.4-.4-1.5 1.3-1 1.9 .4zM136.1 70.3l-1.9 .1-1-1.3 .9-1.3 1.9-.1 1 1.3zM137.9 57.6l-.2-1.5 1.5-.9 1.8 .7 .1 1.4-1.5 .9zM144.3 57.9l-.9 1.2-1.9 0-1-1.3 1-1.3 1.9 0zM144.9 61.5l-1.6-.8-.1-1.5 1.7-.7 1.6 .7 .1 1.5zM26.1 78.6l-1.9 .3-1.2-1.1 .6-1.5 1.8-.3 1.3 1.2zM30.9 78l-1.7-.6-.1-1.5 1.5-.9 1.7 .6 .2 1.5zM36.6 73.7l-1.8 .3-1.3-1.2 .7-1.4 1.9-.3 1.2 1.2zM43.2 78.7l-1.9 0-1-1.3 .9-1.3 1.9 0 1 1.2zM49.4 77.8l-1.4 1-1.8-.5-.4-1.4 1.5-1 1.8 .4zM53.8 81.9l-1.7 .6-1.5-.9 .2-1.5 1.7-.6 1.6 .9zM58 80.1l-.6-1.4 1.3-1.1 1.9 .4 .5 1.4-1.3 1.1zM63.1 75.9l-.4-1.4 1.4-1.1 1.8 .5 .4 1.4-1.4 1.1zM72.3 72l-1.7 .6-1.5-1 .2-1.4 1.8-.6 1.5 .9zM76.7 71.4l-1.8-.4-.4-1.5 1.4-1 1.8 .4 .4 1.5zM81.3 70.9l-1.8-.6-.3-1.4 1.5-1 1.8 .5 .3 1.5zM87.7 74.3l-1-1.2 .8-1.4 1.9-.1 1.1 1.3-.9 1.3zM92.7 78.3l-1.8-.6-.2-1.5 1.5-.9 1.8 .6 .2 1.4zM98.8 79l-1.9-.4-.4-1.5 1.4-1 1.8 .4 .4 1.5zM103.4 77.3l-1.8-.6-.2-1.5 1.5-.9 1.8 .6 .2 1.5zM110 81l-1.9-.4-.5-1.4 1.4-1.1 1.8 .4 .5 1.4zM115 75.8l-1.9-.2-.7-1.3 1.2-1.2 1.8 .2 .8 1.3zM121.7 75.6l-1.2 1.2-1.9-.2-.6-1.4 1.1-1.2 1.9 .2zM128.4 67.7l-1.2 1.1-1.9-.3-.6-1.4 1.3-1.1 1.8 .3zM129.3 71.6l-1.1-1.3 .8-1.3 1.9-.2 1.1 1.2-.8 1.4zM138.7 80.1l-1.9 .1-1.1-1.2 .8-1.4 1.9-.1 1.1 1.2zM142.2 74.3l-1.5-.9 .2-1.5 1.8-.5 1.5 .9-.3 1.5zM56.3 93.8l-1.5-.9 .2-1.5 1.8-.6 1.5 .9-.3 1.5zM61.6 97.5l-1.4-1.1 .5-1.4 1.8-.4 1.4 1-.5 1.5zM67 89.2l-1.8 .5-1.4-1 .4-1.5 1.8-.5 1.4 1zM68.6 89.3l-1.9-.1-.7-1.4 1.1-1.2 1.9 .1 .7 1.4zM70.6 87l-.2-1.5 1.5-.9 1.7 .6 .3 1.5-1.6 .9zM77.2 92.1l-1.1 1.3-1.9-.1-.8-1.4 1-1.2 1.9 .1zM81.5 93.8l-1.6 .8-1.7-.6-.1-1.5 1.5-.9 1.8 .7zM81.9 93.9l.6-1.4 1.9-.3 1.2 1.2-.6 1.4-1.9 .2zM88.2 95.5l-1.8 .5-1.5-.9 .3-1.5 1.8-.5 1.5 .9zM90 96.5l-1.2-1.2 .5-1.4 1.9-.3 1.3 1.1-.6 1.4zM94.6 96l-.3-1.5 1.5-.9 1.8 .5 .3 1.5-1.5 .9zM97 98.6l-.7-1.4 1.2-1.1 1.9 .2 .7 1.4-1.2 1.2zM99.9 99.6l-.8-1.4 1-1.2 1.9 .1 .9 1.3-1.1 1.3zM108.1 97.1l-1.9 0-1-1.2 .8-1.4 1.9 0 1.1 1.2zM108.7 99.7l-1.4-1.1 .5-1.4 1.9-.4 1.3 1-.5 1.5zM115.5 101.6l-1.9 .3-1.3-1 .5-1.5 1.9-.3 1.3 1zM119.2 96.6l-1.2 1.2-1.9-.3-.6-1.4 1.2-1.1 1.9 .2zM120.4 98.5l-1.8-.5-.3-1.5 1.5-.9 1.8 .5 .3 1.5zM126.7 91.9l-1.7 .8-1.6-.8 0-1.5 1.6-.7 1.6 .7zM127.9 88.8l-1-1.2 .8-1.4 1.9 0 1.1 1.2-.9 1.4zM131.6 93.4l-1-1.3 .9-1.3 1.9-.1 1 1.3-.9 1.3zM133.6 91l.5-1.5 1.8-.4 1.3 1.1-.5 1.4-1.8 .4zM138.1 90l.2-1.5 1.6-.7 1.6 .9-.1 1.5-1.7 .6zM142.1 91l.4-1.5 1.8-.4 1.4 1.1-.5 1.4-1.8 .4zM13.2 144.2l-1.9-.1-.8-1.4 1.1-1.2 1.9 .1 .8 1.4zM15.8 147.2l-1.1-1.3 .8-1.3 1.8-.2 1.2 1.2-.8 1.4zM17.9 147.1l.1-1.5 1.7-.7 1.6 .9-.1 1.5-1.7 .6zM24.4 143.6l-1.6-.9 .2-1.5 1.7-.6 1.6 .8-.2 1.5zM28.9 145.7l-1.8 .6-1.5-1 .3-1.5 1.8-.5 1.5 .9zM29.9 144.2l-1.1-1.2 .9-1.4 1.9-.1 1 1.3-.8 1.3zM37.7 140.8l-1.6 .8-1.6-.7-.1-1.5 1.6-.8 1.7 .7zM39.1 141.3l0-1.5 1.6-.8 1.7 .7 0 1.5-1.6 .8zM44.6 140.8l-1.6 .8-1.7-.7-.1-1.5 1.6-.8 1.7 .7zM45.6 138.9l.9-1.3 1.9-.1 1 1.2-.8 1.4-1.9 0zM49.1 137.4l-1.1-1.2 .8-1.4 1.9-.1 1.1 1.2-.8 1.4zM56.3 141.7l-1.8-.6-.2-1.4 1.5-1 1.7 .6 .3 1.5zM60.6 148.1l-1.4 1-1.8-.5-.4-1.4 1.4-1 1.8 .4zM60.8 146.8l.8-1.4 1.9-.1 1.1 1.3-.9 1.3-1.9 .1zM65 147.2l-1.6-.9 .2-1.5 1.7-.6 1.5 .9-.1 1.5zM70.3 150.8l-.1-1.5 1.7-.7 1.6 .7 .1 1.5-1.7 .8zM73.5 141.3l-.2-1.5 1.6-.9 1.7 .6 .2 1.5-1.5 .9zM76.7 140.5l.6-1.4 1.9-.3 1.2 1.1-.6 1.4-1.9 .3zM84.7 140.6l-1.8 .5-1.5-.9 .3-1.5 1.7-.5 1.6 .9zM87 141.7l-1.5-.9 .4-1.5 1.8-.5 1.4 1-.3 1.4zM90.1 148.1l-.8-1.3 1.1-1.3 1.9 .2 .8 1.3-1.1 1.3zM92.4 152.2l.8-1.4 1.9-.1 1.1 1.3-.9 1.3-1.9 .1zM99.8 154l-1.9-.5-.4-1.4 1.4-1.1 1.8 .5 .4 1.4zM104.1 151.1l-1.8 .2-1.2-1.2 .8-1.4 1.9-.1 1.1 1.2zM104.1 146.7l-.3-1.5 1.5-.9 1.8 .5 .3 1.5-1.5 .9zM110.4 156.1l-1.9-.2-.7-1.3 1.1-1.2 1.9 .1 .7 1.4zM113.4 158.9l-1.8-.4-.5-1.5 1.4-1 1.8 .4 .5 1.4zM117.7 147.5l-1.2-1.2 .8-1.4 1.8-.2 1.2 1.2-.7 1.4zM121.9 147.1l-.8-1.3 1.1-1.3 1.9 .2 .8 1.3-1.1 1.2zM27.7 168l-1.9 .1-1.1-1.3 .9-1.3 1.9-.1 1 1.2zM33.7 173.5l-1.6 .8-1.7-.8 0-1.5 1.7-.7 1.6 .7zM34.7 173.4l-1.9 .1-1.1-1.2 .9-1.4 1.9-.1 1 1.2zM35.9 164.1l.3-1.5 1.8-.5 1.4 .9-.3 1.5-1.8 .5zM40.4 167l-.5-1.4 1.3-1.1 1.9 .4 .5 1.5-1.4 1zM46.3 171.5l-1.6-.8 .1-1.5 1.7-.7 1.6 .9-.1 1.5zM49.7 171.1l-1.8 .4-1.4-1.1 .5-1.4 1.8-.4 1.4 1zM52.6 173.1l-1.4-1 .4-1.5 1.8-.4 1.5 1-.4 1.4zM57.4 172.1l-1.5-.9 .3-1.5 1.8-.5 1.5 1-.4 1.4zM63.6 173.6l-1.9-.2-.8-1.4 1.2-1.2 1.9 .2 .7 1.4zM64 171.2l-1.7-.7-.1-1.5 1.6-.8 1.7 .7 .1 1.5zM67.8 162.9l.4-1.4 1.9-.4 1.3 1.1-.5 1.4-1.8 .4zM71.5 173.2l-1.2-1.2 .8-1.4 1.9-.2 1.1 1.2-.7 1.4zM78.8 173.3l-1.9 .4-1.3-1.1 .4-1.4 1.9-.4 1.3 1zM78.5 175.1l0-1.5 1.6-.7 1.7 .7-.1 1.5-1.6 .8zM88.4 168.5l-1 1.2-1.9-.1-.9-1.3 1.1-1.3 1.9 .1zM88.9 171.7l-1.9 .5-1.4-1 .4-1.5 1.8-.5 1.4 1zM89.5 168.5l0-1.5 1.7-.8 1.6 .8 0 1.5-1.7 .7zM98.1 172l-1.9-.1-.8-1.4 1.1-1.2 1.9 .1 .8 1.4zM97.7 172.2l-1.4-1.1 .5-1.4 1.8-.5 1.4 1.1-.5 1.4zM106.9 169.5l-1.1 1.2-1.8-.2-.8-1.3 1.1-1.2 1.9 .1zM107.6 172l-1.7-.7 0-1.5 1.6-.8 1.7 .7 0 1.5zM110.2 174.7l-1.8-.2-.7-1.4 1.2-1.2 1.9 .3 .6 1.4zM111.8 174.3l-.1-1.5 1.6-.9 1.7 .7 .1 1.5-1.6 .8zM60.9 152.6l.8-1.4 1.9-.1 1.1 1.2-.8 1.4-1.9 .1zM69.7 153.7l-1.8 .5-1.4-1.1 .4-1.4 1.8-.5 1.4 1zM75.1 155.4l-1.9 .2-1.1-1.2 .7-1.4 1.9-.2 1.2 1.2zM78.8 157.9l-1.7-.6-.1-1.5 1.6-.9 1.7 .7 .1 1.5zM82.8 152.5l.8-1.4 1.9 0 1 1.2-.8 1.4-1.9 0zM88.1 159.8l.6-1.4 1.9-.3 1.3 1.1-.6 1.4-1.9 .3zM92.5 159.5l.5-1.4 1.8-.4 1.4 1-.5 1.5-1.9 .4zM100.8 156.7l-1.8-.5-.2-1.5 1.4-1 1.8 .6 .3 1.5zM108.8 158.7l-1.6 .9-1.7-.7-.1-1.5 1.5-.8 1.7 .6zM112.2 164.9l-1.7-.7 0-1.5 1.7-.8 1.6 .7 0 1.5zM118.2 160.4l-1.4 1-1.8-.5-.4-1.4 1.4-1 1.8 .4z" stroke="#5a5a5a" stroke-width="0.75" fill="none" stroke-linecap="round" clip-path="url(#ca1)"/>
<path d="M93.3 56.4h0m1.7 .5h0m1.9-.6h0m19.4 .6h0m2.5-.5h0m.1-3.1h0m.8 1.8h0m1.9-.1h0m1 1.3h0m.2-2.9h0m1.8 2.5h0m13.1 .2h0m1.5-.9h0m1.8 .7h0m.5 .6h0m1.9 0h0m-54.4 5.1h0m2.8-4.3h0m.2 1.5h0m1.8 .5h0m0 0h0m1.5-.9h0m.5 .7h0m.8-1.4h0m.3 2.6h0m1.6-2.8h0m.3 2.6h0m.8-1.3h0m1.8-.9h0m.1 4.8h0m1.9-.1h0m.8-1.8h0m3.6 1.2h0m.1-1.5h0m1.5 2.3h0m.1-3h0m.4 2.8h0m1.2-.5h0m0-1.5h0m2 2.1h0m1-1.8h0m1.5 .9h0m.5-2.9h0m1.2 2.4h0m.3-1.5h0m2.3-2.1h0m3.9 4.2h0m1.8 .3h0m10.4-3.9h0m1.9-.7h0m2.6 .2h0m.6-.5h0m.4 1.8h0m1.7 .1h0m.1 1.5h0m.1-1.6h0m.9-1.2h0m.6 3.6h0m1.6-2.3h0m.1 1.5h0m1.6 1.1h0m-126.9 5.9h0m1.9-.1h0m1 1.3h0m12.9-2.1h0m0 1.5h0m1.6-2.3h0m.1-2h0m1.6 2.7h0m0 1.5h0m15.4-.7h0m2 .2h0m1.4-1h0m1.8 .5h0m.4 1.5h0m6.5 0h0m8-.2h0m1.8 .4h0m1.5 0h0m1.5-1h0m1.8 .5h0m1.7-1h0m2-3.9h0m1.6 1.1h0m.4 1.5h0m1.1-2.5h0m.7 3h0m1.1-2.5h0m9.5-.1h0m.7 4.7h0m.3-3.4h0m1.5 2.6h0m.4-2.7h0m.2 1.2h0m.8 2.5h0m1-2.9h0m.8 2.6h0m.2-4.3h0m.3 2.8h0m4.8-3.5h0m.2 1.5h0m1.8 .6h0m1.2-2.5h0m.1 .5h0m5.6-.5h0m2-.2h0m.5 1.4h0m1.7 2.7h0m.2-2.3h0m0 2h0m.1-2.5h0m.3 4.2h0m.7-2.5h0m.2-2.3h0m.7 3.9h0m.3 1.2h0m.2-2.7h0m.4 .2h0m.4 2.4h0m.2-1h0m.6 1.3h0m.2-5.2h0m.1 2h0m.2-.8h0m.5 3.3h0m.6-1.4h0m.3 1.9h0m.5-3.2h0m.4 1.5h0m.4 .3h0m.5-2.8h0m.9 2.9h0m1-2.5h0m1.4 2.7h0m1-1.1h0m.5-.2h0m1.3 1.9h0m6.6-4.9h0m-125 5.6h0m1 1.3h0m.8 4.6h0m1.1-4.7h0m1.4 1.4h0m3 .7h0m1 2.5h0m.8-2.9h0m1 2.4h0m.4-1.4h0m2-.4h0m.6 .3h0m.1-3.3h0m.3 4.9h0m.3-3h0m.6 2.6h0m1.3-2.9h0m.5-1.9h0m0 4.5h0m.4 .6h0m.3-2h0m1.5-3.3h0m5.3 5.9h0m9.4-4.2h0m.7-1.4h0m.5 2.5h0m1.4-2.8h0m1.2 1.2h0m.9-1h0m.9 .1h0m.9 .3h0m.6 2h0m.1 2.8h0m2 .1h0m.3-4.6h0m1.1 3.5h0m.3 .2h0m1.7 1.1h0m.5-3h0m.5 .2h0m.2 1.7h0m1.9 .3h0m.1-3.7h0m.3 2.5h0m.2-1.5h0m.8 1.4h0m.1 0h0m.4-3h0m0 3.9h0m.4-2.9h0m.6 3.5h0m.2-2.1h0m.3-1.5h0m.2 2.5h0m.1-.2h0m.2-1.3h0m0 .4h0m1.2 2.4h0m.2-4.8h0m.3 3.1h0m.1-1.6h0m1 2.8h0m.8-2.4h0m.1 2.9h0m.5-1h0m.3-2.3h0m.5-.6h0m.7 4.4h0m.7-4.5h0m.8 3.2h0m.2-1.5h0m1.2 .8h0m.1 1.6h0m.9-4.9h0m.1 .4h0m0 4.6h0m.7-.6h0m.3-1.5h0m.5 1.2h0m1.5-1.3h0m.1-1.7h0m.2 3.6h0m.6-1.1h0m.8-1.4h0m.2 2.6h0m1.7-2.7h0m.2 2.6h0m.9-1.3h0m1.3 .4h0m7.9 .9h0m2.3-1.7h0m.9 1.8h0m1.6-3.4h0m.2 4h0m8.9-1.8h0m1.8 .2h0m.6 1.6h0m.2-.3h0m2-2.3h0m.9 1.7h0m1.9 .2h0m5.2-4h0m1.9 3h0m.1-2.9h0m3 1.1h0m.8-1.4h0m.9 1.9h0m.3-2.8h0m1 1.3h0m1.9-.1h0m.9-1.3h0m3.7 4.4h0m.2-1.5h0m1.3 2.4h0m.5-2.9h0m1.2 2.4h0m.3-1.5h0m1.4 2.6h0m-124.6 2.5h0m2 .4h0m.6-1.5h0m.6 .5h0m0 2.1h0m.6-3.5h0m.6 .6h0m.7 2.6h0m.6-3.5h0m.4 .5h0m.1 2.1h0m.7-1.4h0m.3 .4h0m1 .7h0m.7-1.6h0m.7-.8h0m.3 3h0m1.1-2.3h0m.3-.1h0m.2 1.5h0m.1-.6h0m1.4-1h0m1 2.9h0m.7 2.1h0m.1-4.6h0m.5 1.4h0m.8 .3h0m1.9 2.5h0m1.3-2.7h0m.2 1.5h0m.7-2.8h0m.1 2.6h0m1.1-1.6h0m.7-1h0m.1 2.6h0m.6 1.1h0m.3-1.9h0m0-.6h0m1.6-1.7h0m0 1.5h0m.1-.2h0m.2 1.2h0m.2 .2h0m1.1-2.4h0m.7 3.1h0m0-.2h0m.5 2.1h0m.9-3.1h0m.2 .7h0m.1 1.9h0m1.1-.3h0m0-4.7h0m.8 5h0m.9-.9h0m.9-1.8h0m.7 2.7h0m1.3-1.5h0m2-.2h0m.1-2.7h0m.5 4.1h0m.7-2.5h0m1.9 1.2h0m0-.8h0m.5 1.4h0m1.4-2.8h0m.6-.7h0m.9 3h0m.2-3h0m.7 .5h0m.8 1.8h0m.1-1.5h0m.5-1.4h0m.4 .8h0m1.1 .2h0m.7 .1h0m1.3-1.1h0m3.4 .1h0m1.9-.2h0m1.3 1.5h0m1.2 .1h0m.9-1.3h0m.2 2.6h0m1.7-2.7h0m.2 2.6h0m.8-1.4h0m1.6-.6h0m3.3-.3h0m1.7 .9h0m2.9 1.1h0m1.3-2.4h0m.5 3h0m1.3-2.4h0m.2 1.4h0m2.7 1.3h0m1-2.5h0m.9 2.9h0m.9-2.5h0m.4 1.5h0m1.3-2.8h0m.2 1.5h0m1.8 .6h0m.2 1.9h0m1.3-2.8h0m.7 2.8h0m2 0h0m.5 1.4h0m.7-4.5h0m.2 2h0m1 2.9h0m.8-2.5h0m2.3-2.9h0m1.9 .2h0m3.6 .8h0m1.9 .2h0m1.1 1.7h0m.1-2.9h0m14 3.4h0m.8-1.4h0m.3 2.6h0m1.6-2.7h0m.3 2.6h0m.8-1.4h0m.2-2.7h0m-103.7 6h0m1.7 .5h0m1.5-.9h0m1.6 1.2h0m3.9 .6h0m2.1-1.8h0m1.5 2.3h0m.4-2.3h0m.9 1.4h0m.4 .3h0m.1-1.5h0m.5-.2h0m.9 1.4h0m.6-.5h0m.7 2h0m7.6-2.1h0m5.6 4.3h0m.2-2h0m.9 1.9h0m1.9 .1h0m1.4-1.2h0m.2 1.5h0m1.3-2.4h0m1.7 .6h0m.3 1.5h0m52.7-2.1h0m1.1 1.6h0m1.9 0h0m6-4.4h0m-80.8 11.1h0m.2-1.5h0m1.8-.6h0m1.5 .9h0m5.5-3h0m.3-1.6h0m.1 .1h0m1 2.5h0m.8-1.9h0m1.4-.1h0m.8 3.1h0m.4-1.5h0m1.1-1.2h0m3.7 3.8h0m1-1.2h0m1.4-3.6h0m.5 3.7h0m.9 1.3h0m2.4-.5h0m1.8 .7h0m1.1 .2h0m1.5-.4h0m.4 .1h0m20.8 .5h0m16.5-3.4h0m1.7 1.1h0m0 1.5h0m1.6-2.2h0m0 3h0m0-4.3h0m1.6 2h0m.3-2.8h0m1 1.2h0m1.9 0h0m.9-1.4h0m.3 1.4h0m.5 2h0m.8-2.3h0m.3-.4h0m.8 2.6h0m.2 .3h0m.5-1.5h0m.3 2.5h0m.5 0h0m1.8-.4h0m.5-1.4h0m.9-.2h0m.2-1.5h0m.2 4.1h0m.8 .2h0m.4-2h0m.2-3h0m1.4 .2h0m.1 2.2h0m.1-1.5h0m.6 2.3h0m.6 .7h0m.7 .3h0m.9-2.9h0m.9 2.5h0m.5-1.4h0m-89.4 3.6h0m1.7-.6h0m2.2 3.2h0m1.4 1.1h0m.9-2.9h0m.9 2.5h0m.5-1.5h0m1.5-1.2h0m10.7-1h0m.4 1.7h0m1-.3h0m.7-.8h0m1.7 .6h0m.8 1.9h0m.8-2.7h0m.4 .1h0m1.2 1.1h0m.3 1.4h0m1.5-1.3h0m.1-.3h0m.2-1.2h0m.5 3h0m.7-.6h0m.6-2.9h0m1.2 2.4h0m.3-1.5h0m.3 1.3h0m.5-1.4h0m.7 2.6h0m1.2-2.9h0m.7 2.5h0m.6-1.4h0m.6 2.6h0m1.2-2.8h0m.3 1.5h0m1.2-2.4h0m.5 3.6h0m.1-.7h0m.5 1.9h0m.6-2.3h0m.1-2h0m.3 1.5h0m1 3.3h0m0-3.5h0m.2 2.8h0m.3-1.9h0m.7 1.4h0m0-.7h0m.7-2.1h0m1.2 2.2h0m.9 1.3h0m.4-1.8h0m1.5 1.4h0m.4-2.1h0m.8-1.4h0m.2 2.6h0m1.1 1.5h0m.5-1.4h0m.1-2.7h0m1.1 1.2h0m.7 1.1h0m1.3 1h0m1.8-.9h0m2.7-.8h0m.6 1.4h0m.2-1h0m1.7 1.3h0m.3-1.3h0m.3-1.3h0m0 2.8h0m.6-1.4h0m.6-1h0m.3-2h0m1.5 2.5h0m.3 1.5h0m1.6 1.2h0m8.1-5.4h0m1.9-.1h0m-34.2 8.2h0m.6-1.9h0m1.9 .1h0m4-.6h0m4.7 2.6h0m0-2.4h0m1.8 1.6h0m.5-1.5h0m.8 2.5h0m1.1-2.8h0m.3 .1h0m.5 2.4h0m.5-1.5h0m-67.2 34.7h0m1.9-.1h0m-40.5 5.4h0m14.5 .5h0m3.7-.5h0m3.7-.5h0m2.4 1.3h0m1.5-2.3h0m1.7 .7h0m0 1.5h0m1.4-1h0m.2-1.6h0m.5-.2h0m.5-1h0m.4 2h0m.5 .4h0m.1 1.5h0m1.1-1.2h0m.4-1.1h0m1.7 .7h0m.1 1.5h0m1-1.9h0m.9-1.3h0m.2 2.5h0m1.3-3.9h0m.3 3.1h0m.3 .8h0m.5-2.7h0m.3 1.3h0m.3-2.7h0m1.3 1.3h0m.4 1.4h0m.4-2.8h0m.5 3.7h0m2 .1h0m1.5-1h0m1.7 .6h0m.3 1.5h0m15.5-1h0m1.3-2.9h0m.1 3.8h0m1.9-1.2h0m.1 1h0m.1 .5h0m.5-1.9h0m1.9-.3h0m1.2 1.1h0m1 .3h0m.3-1.5h0m1.7-.5h0m.8-1.9h0m.5 4.3h0m.3-1.5h0m.5 1.7h0m2.2-2h0m.9-1.8h0m.5 2.8h0m-78.6 2.9h0m.8 1.4h0m.3-2.6h0m1.6 2.7h0m.3-2.6h0m.5 1.6h0m.3-.2h0m.4 2.9h0m.8-1.3h0m.6-.8h0m1.6 3.2h0m.3-1.4h0m.5 0h0m1.2-.7h0m1.6 .9h0m1.5-3.1h0m.2-1.5h0m1.3 4.4h0m.1-2h0m1.2 1.7h0m.3-1.5h0m.2-.9h0m.2-1.5h0m.5 1.7h0m.3 3.2h0m.6-3h0m1.1-.3h0m.1 2.7h0m1-1.5h0m1.7-2.7h0m.2 2.6h0m.8-1.3h0m3.5-1.2h0m.4 1.9h0m2.6-2.2h0m1.7 .7h0m.4 1.9h0m1.8-2.3h0m10 .8h0m1.5-1.3h0m1.8 .6h0m3.9 4.9h0m.6 .2h0m.8-1.4h0m1.8 .9h0m.2-1.5h0m1 1.8h0m.3-4.4h0m.4 2h0m1.4 2.4h0m.1-1.5h0m5.5 1.5h0m1.2-5.3h0m1.8 .6h0m.8 1.8h0m1.8-2.1h0m1.9-.3h0m2.6 1.8h0m.5-2h0m.7 .3h0m2.9 0h0m.5 .3h0m1.8-.5h0m.2 2.9h0m.3 2.7h0m1.1-1.3h0m3-1.5h0m8.6 .5h0m1.8 .7h0m.3 1.5h0m1.2-2.4h0m1.8 .5h0m2.2 1.8h0m7.2-.3h0m.8-1.4h0m3 1h0m.7-3h0m.1 2.9h0m1.1-1.3h0m1.9 .2h0m.8 1.3h0m-109.1 1.2h0m2.1-.1h0m1.4 2.8h0m.2-2h0m1.7-.6h0m5.6 .9h0m30.2-1h0m.4 1.4h0m1.6 3.5h0m.2-3h0m.2 2h0m1.2-3h0m.3 4.5h0m.8-1.4h0m.1-3.2h0m.1-.4h0m1.7 3.5h0m.1-3.2h0m1.3-.7h0m1.9 4.5h0m1.7-4.6h0m.1 1h0m0 3.1h0m1.4 1h0m.1-2.9h0m.1 1.5h0m1.6-2.2h0m0 3h0m.2 .8h0m1.5-1.6h0m1.1 2h0m8.1-.3h0m0-3.2h0m.8 1.8h0m2.9 1.2h0m3.6-4.2h0m.3 4.4h0m1.6-4.2h0m.4 3.9h0m0-3.2h0m.7-2h0m.1 3.8h0m1.9-.1h0m1.1 1.3h0m1.3 .1h0m1.4-1.1h0m2.2-.9h0m0 2.8h0m.8-4.2h0m.2 1.4h0m.2 1.2h0m1.5-2.7h0m.3 2.5h0m.8-1.3h0m.1 3.1h0m.9-5.7h0m11.8 .3h0m1.9-.2h0m1.2 1.5h0m1.1-1.7h0m1.9 .1h0m-62.8 8.3h0m1-1.7h0m1.9-.1h0m.9 .6h0m1.7-1.2h0m1.3 3.1h0m.1-2h0m4.2 .2h0m.4 3.1h0m.7-1.9h0m1.9-.2h0m.8-1.4h0m1.2 3.3h0m1.5-2.4h0m.2 3h0m1.5-2.3h0m.1 1.5h0m1.4-2.8h0m2-.6h0m1.9 0h0m2.1 2.9h0m.9 1.8h0m1.9-.3h0m.8-1.9h0m1.3-.9h0m.7-1.9h0m1.4 4.3h0m1.4 1h0m.6-4.6h0m1.1-.6h0m.9 1.2h0m.2 1.5h0m.8-2.2h0m1 2.7h0m1.2-2.4h0m.3 1.5h0m1.5-2.4h0m1.6 4h0m.1 1.5h0m.3-3.8h0m2-.5h0m.7 1.3h0m.1 1.3h0m.2 1.5h0m.1-5.3h0m1.5 2.7h0m.4-2.6h0m.3 3.5h0m.4-2.1h0m.1 3.6h0m.7-4.5h0m.2 2h0m.9 2.9h0m.1-3.7h0m.8 1.2h0m.5 1.4h0m.5-3.2h0m.7 3.9h0m1.8 .4h0m1.8-.8h0m-95.4 5.9h0m4.4-.2h0m5.8-2.2h0m1.8 1h0m1.8-.5h0m1.1 2.4h0m.3-1.5h0m1.8 1.5h0m1.9 .4h0m22.7-2.1h0m2.4-1.3h0m.9 2.5h0m1-2.9h0m.8 2.5h0m.5-1.4h0m16.7-2.4h0m1.3 1.1h0m1.1-1.3h0m.8 1h0m.5 3.7h0m.5-2h0m.2-2.8h0m.8 3h0m.5-1.9h0m1.9-.4h0m11.5-.6h0m.4 1.9h0m2.7-1.4h0m.2 2.6h0m0 1.5h0m1.4-4.3h0m.3 2h0m0 3h0m.9-4.1h0m.7 1.8h0m0 1.5h0m.8-4.6h0m.9 2.1h0m1.3-.2h0m.2 2h0m1.2-3h0m-93.5 6.4h0m.9-1.3h0m.2 2.6h0m1.7-2.7h0m.2 2.6h0m1.5 1.3h0m2.8-.3h0m.6 1.9h0m1.9-.1h0m2.8-5.8h0m1.5 3.2h0m1.5-2.1h0m.1 .9h0m1.8 .4h0m1.4-1h0m1.1 4.3h0m.1-1.5h0m.7-2.5h0m1 1.8h0m0 1.9h0m1.5 .5h0m.1-1.5h0m.7-.8h0m1.4 1h0m.5-.8h0m.9 1.8h0m1.8-.4h0m.9-1.8h0m1.9 1.3h0m1.8-.5h0m1.5 1h0m2.6 .6h0m.1-1.8h0m.1 1.5h0m1.5-2.3h0m1.7 .7h0m.1 1.5h0m5.5 .2h0m1.9-.2h0m.3-2h0m4.6 2.4h0m6.7-2.5h0m.9 1.3h0m.5 .1h0m1.4 0h0m.2-2.6h0m.2 2.1h0m.6-.7h0m.8 1.7h0m.3-3.2h0m1.4 2.1h0m.2 .1h0m.1-3h0m1.6 2.3h0m0-1.5h0m1.3 3.1h0m1.3 .4h0m1.1-1.2h0m.3 .4h0m1.6-.3h0m.2-.2h0m.6 1.6h0m.2-3.1h0m.6 2.6h0m3.2-1.1h0m.8 1.3h0m.3-2.5h0m1.5 2.7h0m.1-.9h0m.3-1.7h0m.4-1.9h0m.3 3.3h0m.6-.5h0m1.7 .7h0m1.3-1.4h0m1.4 2.2h0m-83.4 3.3h0m1.9-.3h0m1.3 1.7h0m0-2.9h0m.4-1h0m0 3h0m.7-.8h0m.9-1.5h0m0 1.5h0m1-.1h0m.8-1.4h0m10.8-.5h0m1.6 0h0m1.8-.4h0m1.5 1h0m1.4 1h0m1.9-.5h0m.4-1.4h0m1 0h0m.5 2.7h0m1-1.8h0m2.6 2.4h0m.5-3.1h0m.4 .6h0m.8 1.4h0m1.9 .2h0m.4-2.6h0m.7 1.4h0m.3 2.6h0m1.7-3.1h0m1.7 .6h0m1.9-.5h0m1.2 1.2h0m1.9-.2h0m.7-1.4h0m1.5 1h0m.4-1.4h0m.9 2.5h0m.1 2h0m.3-3.7h0m1.2 1.6h0m.7-1.8h0m.9 4.1h0m0-3h0m1-1.7h0m.6 3.9h0m.1-1.5h0m1.5-1.2h0m2.3-1.2h0m2.3 .5h0m1 0h0m7.3 .2h0m.1-.8h0m.9 3h0m.9-2.1h0m1.4-.3h0m6.4-.4h0m.7 1.3h0m1-.6h0m.1 1.1h0m.7 1.4h0m.8-3.3h0m1 3.5h0m.6-2.5h0m.1 .1h0m.5 1.3h0m.3-.8h0m.1 1.5h0m1.5-2.4h0m.2 3h0m1.5-2.3h0" stroke="#5d635f" stroke-width="1.6" stroke-linecap="round" fill="none" clip-path="url(#ca1)"/>
<path d="M89.3 55.5h0m8.8 1.3h0m19.3-.7h0m2-4h0m4.7 1.1h0m1.6 3.5h0m9.5-2.4h0m6.1-.8h0m4.7 1.5h0m-60.1 7.2h0m3.6-1.7h0m.3 .1h0m3-2.1h0m2.5 4.4h0m4.6-2.8h0m2.7-1.7h0m2.8 1.9h0m1.3-2.7h0m2.9 3.7h0m1.7 1h0m2.6-2.6h0m5.6 2.7h0m10.5 .4h0m1.8-1.1h0m3-4h0m5.3 3.5h0m.4-3.4h0m6.9 0h0m-127.8 7.4h0m14.5 3.1h0m3.7 .3h0m2-5.4h0m12.5 3.7h0m2.7-.4h0m13 .9h0m5.6 1h0m10.2 .4h0m1.3-2.6h0m.3 1.5h0m14.7 .6h0m3.6 0h0m3.9-3h0m.1-1.3h0m1.1 1h0m4.9-.8h0m0-.7h0m10.1 4.5h0m.2-.3h0m1.3-4.7h0m3.6 .9h0m.1 .8h0m1.7 .5h0m2.8 2.1h0m4.4 .3h0m.9-1.2h0m1.2 2.4h0m.3 .1h0m4.4-4.4h0m3.8-1.4h0m-129.8 8.5h0m3.6 2h0m2.4-.7h0m1.6 1.7h0m3.8 .3h0m2.2-2.5h0m1.7 .8h0m.4-3.5h0m.8 4.8h0m1.8-3h0m1.3 2.6h0m2.4-1h0m17 1.6h0m.3-.4h0m1.8-.8h0m.2-.8h0m.1 2.1h0m.2-5.1h0m2.8 1.5h0m1.1 1.1h0m1.8-1.1h0m1.2-.6h0m.2-1.3h0m4.5 2.2h0m.1 1.3h0m1.9 1.8h0m2.6-4.2h0m.1 4.1h0m0-1.4h0m.6-2.3h0m.3 3.9h0m1.4-1.1h0m1.1-.4h0m.6-1h0m.4 1.7h0m4.7-4.6h0m1.1 3.8h0m4.9-3.5h0m.9 2.6h0m6.3 1h0m.4-.3h0m3.2-1.6h0m1 .5h0m11.7 2.1h0m3.2-1.4h0m.1-1.5h0m4.1-1.1h0m2.8-.7h0m1.3 2.2h0m.1 1.9h0m4.8-1.3h0m-111.3 4.3h0m.9 1.1h0m5.9 0h0m1.1 3.2h0m2.1-1.4h0m.7-2.6h0m1.1 .4h0m1-.5h0m4.8 .1h0m1.8 1.8h0m2.1 .6h0m.9 1.6h0m.8-.9h0m1.6-.6h0m1.4 .2h0m2.2-1.4h0m1.1-.7h0m2.2-1.5h0m2 2.7h0m.5-.4h0m.1-.7h0m2.5 3.1h0m2.3-2.2h0m.7-1.7h0m5.1 2.9h0m3.7-2.4h0m5.4-1.4h0m1.9 4.2h0m.1-1.8h0m7.6 1.5h0m4.1-.9h0m.4-.7h0m1.6-.6h0m3.5-.8h0m3.6 1.9h0m5.7 1.9h0m1.9-2.1h0m5-3.1h0m6.1 3.7h0m2.5-2h0m3 2.9h0m11.5-1.4h0m7.8-1.4h0m.4-1h0m4.8 .3h0m-123.7 4.8h0m17.3 0h0m1.6 3.1h0m2-2.4h0m.7 .8h0m3.6 2.5h0m.6-3.2h0m4.8 4h0m7.1-2.3h0m3.8 2.4h0m3.7-2h0m13.6-2.9h0m18 1.1h0m14.3 .2h0m12 4.3h0m1.7-3.3h0m7.4-1.3h0m7.2 4.7h0m-88.1 2.1h0m6.2 3.3h0m1.6-1.3h0m2.6 1.6h0m.3-1.7h0m3.5-3.1h0m.4 4.5h0m1.2 .2h0m1.9-2.4h0m.3 .6h0m5.1-2.3h0m1.6 .1h0m.9 4.5h0m.5-4.2h0m4.6 2.2h0m4.2 .3h0m5 .3h0m6.5 .7h0m5.9-.6h0m10.4 .5h0m5.1 .9h0m.3-4.9h0m2.3-.1h0m4.4 2.4h0m2.5-.3h0m1-2.3h0m.3-.4h0m1.1 1.9h0m5.9 2.1h0m3.6 1.7h0m2-3.9h0m-87.4 7.3h0m2.1-.4h0m7.4-1.5h0m8.6 .3h0m2.2 1.3h0m2.7 1.5h0m2-1.3h0m3 1.5h0m3.3-3.3h0m3.3 2.6h0m1.5 1.8h0m0-2.2h0m5.8-2.6h0m3 1.9h0m0-1.1h0m1 3.1h0m2.8 .7h0m1.1-4.5h0m4.4 .1h0m2.6 3.1h0m1.5-1.9h0m1.3 1.4h0m5.1 1.2h0m6-3.4h0m1.3 .5h0m8.9-1.8h0m.7 .5h0m4.1 1.1h0m-57 4h0m10.4 .6h0m1.9 2.4h0m6.5-2.2h0m4.6 1.4h0m4.4-1.8h0m3.3 4.8h0m6.7-4.2h0m-113.5 38.8h0m10.9 0h0m7.5 0h0m.1 1.6h0m4.5-1.5h0m4-1.5h0m1.1 3.3h0m1.5-4h0m.8 1.7h0m.4-2.5h0m3.6-.7h0m.5 0h0m2 4.6h0m.2-1.8h0m3.7-2h0m.4 2.7h0m.6 1.5h0m.3-.5h0m8.2-.8h0m13.2 .9h0m1.7-3.9h0m3.7 1.9h0m3.4 3h0m2.8-5h0m4.6 .9h0m2.2 2.3h0m-80.4 7.5h0m2.3-4.6h0m2.5 3.1h0m6.8 1.4h0m1-1.1h0m1.6-3.1h0m1.5 3.5h0m4.3-3.5h0m4 2.4h0m4.8 .4h0m11.2-2.8h0m2.8 3.1h0m11-2.3h0m.2-1.8h0m2.9 5.6h0m4.8-.9h0m2.3-1h0m.1-1.1h0m5.5-.1h0m.5-.1h0m5.2-1h0m2.1 .2h0m5.5 .9h0m5.9 2.3h0m.9-2.7h0m19.9-1.7h0m2 5.1h0m3.5-3.4h0m-112.7 6.4h0m0-2.6h0m.8 .6h0m3.3 3h0m7.6-1.7h0m4.7-.7h0m27.8 2.7h0m.2 1.1h0m1.3-1.8h0m.8-2.8h0m1.7 3.1h0m2.4-2.4h0m2.6-.3h0m1.9 .3h0m10.7 3.2h0m3.4-3.3h0m6 3.7h0m2.8-.5h0m.8-3.5h0m2.6 2h0m.7 3.2h0m5.5-4.4h0m1.7 1.5h0m4.5 .4h0m2.2-2.8h0m2.6 3.5h0m.4 1.8h0m2.6-3.1h0m3.9-.9h0m1.6 .9h0m-61.5 5.9h0m3.9-1.8h0m3.3 3h0m.9 1.5h0m1.5-5.2h0m2 4.7h0m1.7-4.6h0m1.2 4.5h0m.6-4.3h0m.3-.1h0m1.6 4.5h0m4.4-2.8h0m2-.8h0m5.1 1h0m1.3 3.3h0m2-2.9h0m1.1 0h0m11.1-1.2h0m.9-.4h0m.1 .3h0m.1 3h0m.2-3.6h0m7.7 5h0m1.5-2.6h0m2.1-.9h0m.3-1.1h0m4.3 4.3h0m-96.6 4.1h0m5.6 .9h0m4.2-3.2h0m11.8 3.3h0m19-1.9h0m27.1 1.8h0m.2-.5h0m.8 .6h0m6.2-4.7h0m3.6 1.4h0m4.1 2.2h0m3.4-1.2h0m1.8 .2h0m4.1 2.8h0m.6-2.4h0m-88.8 8.1h0m1.3 .5h0m3.3-2.7h0m1.1 .8h0m1.4-1.6h0m1 1.2h0m1.4-.3h0m2.6-.6h0m2.3-.1h0m1.1 2.8h0m2.1-3.8h0m.7 1.5h0m2-1.7h0m2.8 2.8h0m0-1.3h0m4.5 .4h0m3.3-1.7h0m.4 4.6h0m.5-3.8h0m2.5 2h0m4.5-3.1h0m2.5 2.1h0m5-.4h0m3.2 3h0m4.1-3h0m.4 2.8h0m2.7-3.5h0m6.8 1.4h0m.6 .9h0m8.2-2.6h0m.4 .7h0m7-1.9h0m2.1 4.9h0m2-2.2h0m1.4 2.1h0m.9-1.3h0m1.4-2.3h0m-88.1 6.3h0m3 2.4h0m20.1-1.4h0m1.2 2h0m3.4-1.8h0m3.6 0h0m4.3-.1h0m2 2.2h0m2.3-4.5h0m.4 .8h0m4.9 .5h0m3.5 3.5h0m6.2-4.8h0m2.3 .7h0m2.6 .3h0m2.6 1.8h0m.3-2.5h0m3.8-.7h0m2.2 3.3h0m2.6 .3h0m2.5-3h0m.1 1h0m1.5-1.5h0m3.2 2.2h0m.9 1.3h0m4.2-1.4h0m2.7 2h0m3.9 .2h0m-6.7 1.9h0" stroke="#c4c4c4" stroke-width="1.1" stroke-linecap="round" fill="none" clip-path="url(#ca1)"/>
<path d="M135.8 55.5h0m4.9-.8h0m.7 2h0m3.3-1.7h0m-53.5 6.8h0m3.7-3.1h0m1.5 3.5h0m3.7-1.2h0m6.5-2.1h0m6 3.4h0m.4-1.6h0m0 1.7h0m1.3-2.9h0m.3 2.3h0m3.5-3.7h0m3.7-.5h0m.3 2.2h0m9.5 3.2h0m8-4.8h0m.9 1.8h0m.8-1.1h0m2 .1h0m1.6-.5h0m1.3-1.3h0m-93.7 10.9h0m19.9 .7h0m19-3.2h0m12.7 1h0m.3-2.7h0m2.3 .7h0m2.1 .1h0m1.1 1h0m.9-2.1h0m4.3 1.1h0m10 3.7h0m1-2.8h0m1.5 3.2h0m.6-5h0m1.2 1.2h0m1.9 2.1h0m2.1 .5h0m.7 .2h0m.9-1.3h0m-115 5.2h0m4.3 1.2h0m3 .9h0m0 .6h0m3.8-1.3h0m1.8 1.2h0m2.8-4.6h0m2.5 1.2h0m.4 3.9h0m18-3.2h0m.5-2h0m8.8 4.3h0m.9-.1h0m2.3-2.2h0m1 1.3h0m3.4 .7h0m.9-2.2h0m1.5-.4h0m1.8 2.1h0m0-2.9h0m0 4.5h0m2.3-3.7h0m.8 3.2h0m.5-3.3h0m.1 4h0m.9-3.5h0m.1 3h0m1.8-3h0m13.7 2.7h0m14.5 .2h0m4.5 .4h0m.2-2.5h0m6.8-2.3h0m3.9 .7h0m1.5 1h0m10.6-1.4h0m-117.5 7.6h0m.9 2.9h0m2.1-2.7h0m1.3-.8h0m.6-.5h0m1.1 2.6h0m.7-3.4h0m1.6 .1h0m.9 3.3h0m0-3.3h0m1.5 2h0m1.1-2.1h0m.9 3.5h0m2.1 .2h0m3.8-1.1h0m1.4-2.9h0m1.3 5h0m1.1-.9h0m.4 .7h0m.3-3.2h0m1.2 2.1h0m1.8 1.4h0m.6-4.4h0m.2 2.7h0m6.7 .8h0m.4 .3h0m3.4 .4h0m.9-4.6h0m.2 1.8h0m.5-.8h0m1 1.2h0m3.4-2.4h0m11.7 3.9h0m3.9 .2h0m3.4-3.3h0m0 2h0m4.5 .3h0m1.2-2.7h0m.2 .1h0m.6-1h0m3.2 2.1h0m.9-.7h0m.8 .8h0m.3-.3h0m5.1-1.3h0m5.2 .9h0m4.5 3.2h0m.3-2.3h0m4.5-.1h0m1.8-1.9h0m.1-.4h0m21.3 .6h0m2.4 .5h0m-95 6.8h0m1.9 1.6h0m1.1-3.4h0m2.8 .5h0m1.3 .1h0m59.2-.8h0m-53.1 9.5h0m3.1 1.7h0m1.9-.7h0m.5-1h0m.4-2.5h0m.9 1.1h0m.3 0h0m2.1-1.7h0m3.2 .1h0m1.1 2h0m3.5-.7h0m1.2 3.6h0m.8-2.8h0m19.7 2.7h0m25.9-4.6h0m2.1 1.4h0m.1 2.7h0m2-.4h0m1.1-1.4h0m.8 2h0m1-1.2h0m1.8 .2h0m2.5-2h0m1.3 .3h0m3 2.4h0m2.1-1.4h0m.2-.9h0m-84.2 7.5h0m.4-2.9h0m.7 .6h0m0-1.3h0m1.3 1.6h0m13.5-1.7h0m3.9 .2h0m1.8 .3h0m1.7 .3h0m4-.7h0m.2-.2h0m.9 4.8h0m.9-4.5h0m1.3 1.3h0m3.5-.5h0m.9 3.3h0m1-.1h0m2.7 1.1h0m.9-2.8h0m2.5 1.5h0m1.6 0h0m2.3-.5h0m3.2 .7h0m.6-.4h0m7 .4h0m.5-.2h0m.1-4.1h0m1 1.8h0m2.2 1.9h0m1.5 1.6h0m1.6-4.6h0m6-.5h0m2.5 1.6h0m13.2-1h0m-35 5.7h0m2.1-.4h0m-89.5 40.8h0m13.1-.7h0m3-.7h0m2 .9h0m1.4 1.4h0m4-4.6h0m1.1 3.4h0m.1-1.9h0m0-1.8h0m2.4 1.4h0m.7 .2h0m3.1 1.2h0m.1-.2h0m22.6 .2h0m2.6 .8h0m.3-1.8h0m3.1 2.5h0m4.6 0h0m.4-1.1h0m4.9-.6h0m-77.9 8.2h0m1.3-3h0m.2 1.9h0m2.9-1.4h0m1.4 1.9h0m4-2.5h0m.4 1.1h0m3.7-.7h0m.7 .2h0m.2-3.1h0m1.5 2.9h0m.4-.1h0m.1-2.5h0m3.3 .6h0m.8-.7h0m5.6-.1h0m3-.2h0m15.4 2.5h0m.6 2.5h0m1.8 .4h0m3.3-1.3h0m.8-1.8h0m0 3.3h0m2.2 0h0m10.5-3.4h0m4.5-1.1h0m8 1.7h0m2.8 1.7h0m15.1 .6h0m11.7-1.6h0m.6 1.6h0m5.8-3.1h0m-109.4 4.9h0m14.3-1.1h0m31.7 2.3h0m1.6-.2h0m1 3.2h0m.9-.4h0m3.9-3.7h0m4 1.1h0m1.5 2.9h0m5.8 .2h0m4.7-1.3h0m7.2-.9h0m.1-.2h0m4.3 2.9h0m3.4-5.6h0m0 4.8h0m.2-.6h0m2.3-3.2h0m.4 .1h0m3.5 1.2h0m4.6 2.1h0m5.4-2.3h0m4.2-.8h0m-51.4 5.1h0m.4 .6h0m1.1-1.1h0m1.6-.2h0m2.6 5.3h0m.4-2.9h0m1.2 .4h0m5.2-1.3h0m.2 .7h0m5.4 .7h0m5.2 2.2h0m2.3-4.8h0m2.1 3.8h0m2.8-3.4h0m2.9-.2h0m1.1 2.8h0m.4-.6h0m2.3 .9h0m4.5-1.4h0m-75.5 8.9h0m3.9 .4h0m4.8-.9h0m22.8-3.9h0m.4 3.2h0m24.1-3.7h0m.8 .8h0m16.6 1.6h0m4.7 .1h0m1-.8h0m-86.5 5.7h0m1.1 4.1h0m3-1.4h0m2.4-.4h0m1.4-2.1h0m3.5-1.2h0m3 2.9h0m1.3-.8h0m.4 3.1h0m1-3.2h0m1.4 1.4h0m.1-2.4h0m2.8 1.9h0m.2 1.7h0m7.9-3h0m3.1 1.7h0m2 1.8h0m4.9-5h0m14.9 5h0m1.7-2.5h0m1.1-1.2h0m.9 1.6h0m2.9-.1h0m.5 .3h0m4.9 1.2h0m2.2-.1h0m2-2.6h0m2.9 3.2h0m.3-.1h0m4.5-1.2h0m6.4 .7h0m-84.7 1.4h0m1.9 .7h0m2 .3h0m14-1.3h0m4.4 1.8h0m1.8 2.3h0m3.6-3.9h0m2.9 .4h0m.7-.1h0m4.2-.3h0m9.8 2.3h0m1.3-.9h0m2.8 1.1h0m.6 1.4h0m.3-1.8h0m2-2.3h0m6.2 1.2h0m3 1.1h0m1.1-2.1h0m6.6 1h0m1.4 1.5h0m1.9-2h0m1.5 .3h0m5.3 2h0m.6-1.1h0m.5-1h0m2.4 4.5h0m.1-3h0m1.9 .9h0m1.8-.2h0" stroke="#cc1f2a" stroke-width="2.0" stroke-linecap="round" fill="none" clip-path="url(#ca1)"/>
<path d="M89.9 56.7h0m.9 3.7h0m9.2 1h0m-80.3 5.1h0m66.6 .3h0m17.9 .3h0m-63.3 7.3h0m17.1-1.4h0m9.9-2.5h0m5.9 2.8h0m16.6-3.4h0m-49.8 10.6h0m12.1-1.8h0m13-.5h0m33.7 2.7h0m34.4-1.7h0m-80.3 10.9h0m15.3-2.2h0m.8 3.2h0m1.9 0h0m.8-1.5h0m15.8 2.7h0m3.9-.5h0m51.5-3.5h0m-36.8 7.2h0m3.6-.6h0m10.9 2.1h0m-4.2 5.9h0m-57.7 35.5h0m-4.2 8.1h0m67.2-.7h0m-107 3.3h0m45.7 .8h0m34.8 1.2h0m-20.6 3.8h0m1.5 1.8h0m21.4 1.6h0m17.5-1.8h0m-11.5 3.9h0m-43.8 7.9h0m9.2 1.1h0m13.2-.9h0m7.6-.7h0m25.1-2.4h0m-51.5 7.8h0m46.1-1.5h0m7 2.9h0" stroke="#2b3aa5" stroke-width="2.1" stroke-linecap="round" fill="none" clip-path="url(#ca1)"/>
<path d="M166.2 109.2 L169.2 110.7 L172.3 109.4 L175.3 111.2 L178.3 110.3 L181.4 108.8 L184.4 110.5 L187.4 111.1 L190.4 109.4 L193.5 111.7 L196.5 111.4 L199.5 108.9 L202.6 110.2 L205.6 111.6 L208.6 109.2 L211.7 109.1 L214.7 110.1 L217.7 109.8 L220.8 109.3 L223.8 111.3 L226.8 111.1 L229.8 111.7 L232.9 111.0 L235.9 110.5 L238.9 109.1 L242.0 111.2 L245.0 111.5 L248.0 110.0 L251.1 110.1 L254.1 111.7 L257.1 108.8 L260.2 110.9 L263.2 110.2 L266.2 110.4 L269.2 109.4 L272.3 110.4 L275.3 109.3 L278.3 109.8 L281.4 109.8 L284.4 109.7 L287.4 108.9 L290.5 111.1 L293.5 110.8 L296.5 111.4 L299.6 110.0 L302.6 111.6 L305.6 111.4 L308.6 109.9 L311.7 111.4 L314.7 109.0 L317.7 111.1 L320.8 111.3 L323.8 109.5 L323.8 131.1 L320.8 130.4 L317.7 131.7 L314.7 132.7 L311.7 130.7 L308.6 131.0 L305.6 131.7 L302.6 132.0 L299.6 133.2 L296.5 133.1 L293.5 132.3 L290.5 131.4 L287.4 132.7 L284.4 130.6 L281.4 132.0 L278.3 133.0 L275.3 130.8 L272.3 132.1 L269.2 132.1 L266.2 132.5 L263.2 131.7 L260.2 133.2 L257.1 130.5 L254.1 131.4 L251.1 131.4 L248.0 131.3 L245.0 132.9 L242.0 130.9 L238.9 131.7 L235.9 132.4 L232.9 132.5 L229.8 132.9 L226.8 130.9 L223.8 131.0 L220.8 130.4 L217.7 131.7 L214.7 131.9 L211.7 133.0 L208.6 132.7 L205.6 131.4 L202.6 130.6 L199.5 131.2 L196.5 132.1 L193.5 132.5 L190.4 130.4 L187.4 130.9 L184.4 130.5 L181.4 131.4 L178.3 131.0 L175.3 131.8 L172.3 132.6 L169.2 131.7 L166.2 132.3 Z" fill="#55514f"/>
<path d="M246.7 132.4l.2-2.2M239.1 110.6l-1.6 1.5M182.1 131l-.5-2.2M296.8 131.6l-2.2-.4M228 133.1l-1.7 1.3M230.6 109.1l-1.7-1.5M320.8 132.5l1-2M310.6 110.4l-.3 2.2M250.2 111.9l-.6-2.1M281.4 130.8l-.7-2.1M167 109.7l-2.2-.2M252.7 132.6l.2 2.2M274.5 129.9l1.9-1M167 132.4l-2.1-.5M188.1 111.9l-2.1 .7M271.1 109.9l-2.2 0M185.6 131.7l-2.2-.1M212.9 109.6l2-1M201.1 108.9l-2.2-.4M313.7 109l.2 2.2M199.1 132.9l1.4 1.7M246 132.5l1.5-1.6M310.4 130.4l-.7-2.1M250.3 131.9l-1.7 1.4M278.2 111l.8 2.1M172.2 112.2l-1.7-1.5M272.8 110l2.2-.2M318.8 110.5l1.9 1.1M219.9 131.7l-1.6 1.5M311 110.4l1.4 1.7M249.3 109.2l0 2.2M169.3 111.2l2.1 .6M211.1 130.4l-.1-2.2M273 110.8l-1.5 1.6M243.9 132.3l-.1 2.2M237 110.7l1.8 1.2M292.5 130.7l.7-2.1M301.1 109.3l2.1 .7M179.2 109.7l-.4 2.2M319 109.3l-1.7 1.5M293.2 131.1l2.1-.5M322.3 130.7l-.5 2.1M302.2 133.2l.8-2M189.6 130.4l1 1.9M209.7 108.8l.9-2M222.7 131.2l-.3 2.2M276.2 131.2l-.3 2.2M201.9 112.2l2.2-.3M275.2 109.8l-.3-2.2M204.3 133.1l-1.9-1M287.3 111.4l2.1 .7M304.8 110.6l1.8 1.3M290.7 132.5l2.1-.8M224.8 132.6l1.8 1.2M205 111.2l-1.4-1.7M259.5 111.5l-.8 2M225.2 111.8l-1-2M289.4 111.8l1.6 1.5M256 110l-.6-2.1M236.2 110.5l-1.4-1.7M172.3 111.8l.9 2M314 132.9l1.8-1.3M189 112.1l1.9 1.1M273.2 132.1l1.8-1.2M204 110l2.2 .4M208.2 130.5l-2.1 .8M186.3 109.7l-1.7 1.3M179.9 111.1l-.5 2.1M281.5 111.9l-.1-2.2M310.5 111.2l0 2.2M227.9 131.7l1.9-1.1M184.4 110.1l-1.9-1.1M271.7 110.6l2.2 .1M249.7 130l1-2M230.6 131.8l-2.2-.3M211.7 111.1l1.9-1.2M202.4 131.5l-1.8 1.3M257.7 109.4l-1.4 1.7M289.8 131.3l2.2 .5M232.3 109.4l-2.2-.2M310.3 110.6l-2.2 .4M268 130.5l.7-2.1M189.2 109.9l1.7-1.4M282.6 132l-2.1-.6M271.7 110.6l-2.2-.4M210.4 129.9l-2 1M283 109.9l-1.1 1.9M175.6 108.9l-1.2-1.8M296.1 132.7l-1.8-1.3M226.6 112.2l2-.8M170.3 112l2.1-.5M315.5 132.4l-1.9 1.2M199.2 110.6l-1.1-1.9M242.7 110.9l.1 2.2M291.9 110.4l2.1 .5M202.6 133.1l2.1-.8M198.8 130.7l1.5 1.6M304.6 132.4l-2.2 .4M244.2 110.8l.9 2M219.2 111.6l.7 2.1M200.9 132.2l1.2 1.8M223.6 131l0 2.2M319.5 133.1l-2 1M290.2 112.2l.3 2.2M179 110.5l1.1-1.9M207.5 111.9l-2.2 0M275 110.9l-.8 2M283.9 111.1l2.2 .3M197.5 111l-1.8 1.3M193.2 131.9l-2.1 .7M203.4 131.2l-1.9-1.1M208.6 110l1.5 1.6M231.4 131.8l2.2-.4M218.4 131.7l1.9-1.2M179.5 131.2l1.5-1.6M274.6 133l-1.8 1.3M171.9 130l2.1 .7M217.8 131.2l2.1-.6M246.9 112.2l1.8-1.3M214.6 111.8l-2.1-.7M190.9 110.8l2.1-.5M296.2 130.7l.2-2.2M215.5 129.8l1.3-1.8M273.6 133.2l.5 2.1M207.2 130.4l2.2 .2M202.5 111.6l-2.1 .6M293.6 131.7l.6-2.1M181.8 110l-1.5 1.6M311.6 109.1l1.1-1.9M210.3 129.9l1.5 1.6M179.9 111.5l-1.3-1.8M169.1 130.1l1.1 1.9M242.4 130.5l2.1-.8M297.2 131.9l-1.5 1.6M278 130.8l1.1 1.9M257 131.1l1.3-1.8M307.6 130.1l-1.9-1.2M217.2 131.9l0-2.2M218.6 111.8l1.4-1.7M261.6 109.7l-2-.9M223.9 131.8l-1.7-1.4" stroke="#5a5a5a" stroke-width="0.75" fill="none" stroke-linecap="round"/>
<path d="M169 109.8h0m4.8 .7h0m56.1-1h0m3.5 .8h0m5-.4h0m16.3 .3h0m19.4 0h0m-101.2 5.2h0m2.6-1.1h0m8.4-1h0m.6 1.6h0m.2 1.9h0m.6-3.3h0m.1 .2h0m1.9-1.3h0m.2 3.5h0m.1-.6h0m1.7 1.3h0m4.2 .1h0m.4-.4h0m4.6-1.7h0m.4-.4h0m5.1 .7h0m1 2h0m2.6-.6h0m4.6-1.7h0m4 .4h0m5.8-2.6h0m3.7 .8h0m1-2.1h0m2.6 .2h0m2.2 2.1h0m.2-.2h0m.1 1.2h0m5.8 .4h0m3.5 .7h0m2-2.6h0m2.2-1.5h0m2.2 .7h0m.5 4.2h0m.3-3.5h0m4 3.9h0m2.9 .2h0m.2-1.8h0m1 1.1h0m4.1-3.5h0m2.3 1.8h0m8.5 1.5h0m.1-4.1h0m.6 3.9h0m1.6-3.9h0m0 2.3h0m.4 2h0m3.9-4.5h0m.6 5.2h0m7.8-4.1h0m3.7 2.8h0m.6-.6h0m.2 .3h0m1.9-.9h0m10.1 2.4h0m2.9-2.7h0m2.1-1h0m.4 3.5h0m2.1-.1h0m1.2-1.8h0m6.8-.1h0m1.5 2.4h0m1.2-6h0m-149.4 6.4h0m4.5-.1h0m.5 2.6h0m1.3-2.5h0m.8 2.5h0m1.8-.7h0m.3-1.2h0m1.7 3.5h0m.4 .8h0m2.3-2.3h0m.8-.3h0m.2 0h0m2.6 2.7h0m.7-2.4h0m4.4 .1h0m.1-2.7h0m5.6 5.3h0m.1-3.9h0m.5 2.1h0m1.2 1.8h0m.9 .2h0m4.1-3.4h0m1.8-.4h0m.4 .7h0m.2 2.3h0m.1-3.4h0m1.1 2.9h0m.6 .3h0m2.3-4.8h0m.4 3.4h0m.2-3.5h0m2.7 4h0m1.8 1.4h0m.2-.7h0m.9-1h0m2.5-1.3h0m4.5 1.9h0m2.3-1h0m2-3.1h0m.1 5.3h0m1.3-2.1h0m.6-2.5h0m.1-.6h0m2.6 0h0m.1 3h0m1.4-.1h0m.8-2.2h0m.4 1.3h0m1 2.3h0m1.1-.5h0m0-1.4h0m2.9-2.6h0m1.2 3.3h0m.3 1.6h0m1.1-2.1h0m.1-2.6h0m2.8 5.3h0m1.3-5.3h0m3.8 3.8h0m.3-2.2h0m2.2-1.3h0m.6 .2h0m.3 1.6h0m5.4 2.2h0m.1-1.8h0m1.7 2.7h0m1.6-1.3h0m2.7-1.4h0m5.1 2.5h0m.1-5h0m.3 5.1h0m2.8 .2h0m.2-1.7h0m1.8-.6h0m2.5-.3h0m2.7-1h0m.4 .3h0m.2-2.2h0m.3 3.5h0m2.1 .8h0m.3-4.2h0m2.5 1.6h0m0 2h0m3.5-1.7h0m2.3 1.9h0m.1-1.7h0m.6 1.4h0m12.3-.5h0m4-2h0m.6-.4h0m2.5 3.8h0m.4 1h0m1.1-2.1h0m1.9-.2h0m.9-.8h0m1.5 2.4h0m1.4-4.9h0m-155.6 10.2h0m3.7-2.1h0m.7-1.6h0m3 1.6h0m3.6-1.5h0m3.8 2.7h0m.2-.5h0m1.6 1.9h0m1.7-1.7h0m3.3 1.6h0m2.7 .5h0m2.1 .2h0m1.3-2.6h0m.4-1.4h0m2.2-.1h0m4.2 4.6h0m5-5.2h0m1.7 2.6h0m.5-2h0m.9 .8h0m.7-.6h0m1.4 4h0m.1 .3h0m.6-5.4h0m1.2 2.8h0m2.7 .3h0m.2-2h0m.6 .8h0m1.2-1.7h0m2.4 .2h0m.7 5.2h0m3.3-3.7h0m2.2 1.7h0m3.7-3.5h0m1-.4h0m.6 3h0m3.8-.7h0m1.9-1.6h0m1.1 2.6h0m5.2-2.6h0m2.7-.2h0m1.9 2.3h0m0 1.6h0m1.3-1.3h0m.1 .9h0m1.3-3.3h0m1.4-.3h0m2.9 2.6h0m2.5 1.7h0m7.4-3.1h0m.3-.8h0m1.9 2.6h0m1.6 .1h0m3.2-3.1h0m2.7 5.3h0m.1-1.6h0m1.6-2.8h0m1.6-.5h0m1.1 .8h0m3.2 1.2h0m2.1-1.2h0m4.2 3.3h0m1.9-3.1h0m.3-.3h0m1.2 1.8h0m1.5-.4h0m.5 2.5h0m4.9-1.5h0m1.4 .5h0m3.3-.7h0m4.8-3.5h0m.1 3.3h0m.5-1.1h0m4.5 3.4h0m1.6-.2h0m2-3.9h0m.4 3.4h0m2.9-.8h0m-154.6 3.4h0m1.9-1.1h0m6.6 2.8h0m1.6 1.4h0m3.2-2.9h0m3.7 .1h0m1.7 2.2h0m19.4-3.6h0m15.5 2.8h0m2.4-1.3h0m15.1-2h0m20.3 1.6h0m13.6 3.3h0m11.3-2.7h0m2-2.2h0m9.3 1.4h0m15.8 1.9h0m1.1-1.3h0m1.3 1.2h0m2.5 .9h0m0-1.3h0m1.9-.1h0m4.1-1.8h0m.3 1.7h0" stroke="#7c7872" stroke-width="3.0" stroke-linecap="round" fill="none"/>
<path d="M187.7 110.5h0m5.1 .4h0m4.7-1.1h0m12 .4h0m19.6-1.1h0m53.1 1.2h0m-112.5 4.3h0m1.2-.5h0m.1 1.3h0m1.4-.6h0m2.3-.1h0m4 1.3h0m.4-2.7h0m.2 .9h0m7.5 0h0m2.2-3h0m1.9 .6h0m1 4.9h0m2.2 .3h0m1.9-2.5h0m4.8-2h0m7-.5h0m.7 4.4h0m4.1 .2h0m5.4-4.2h0m2.3 3.5h0m4.8-2h0m4.1 2.7h0m2.5-1.4h0m1.6 .1h0m.7-2.9h0m2.5 1.8h0m1.6-2.4h0m4.8 .9h0m8.6-.5h0m7.3 1.9h0m.2 1.5h0m6.2-2.7h0m2.3 1h0m.6 1.1h0m.1 .6h0m3.9-.4h0m2 1h0m11.6-1.5h0m1.9-.4h0m3.8-1.4h0m4.5-1.8h0m1.2 4.7h0m.7 .4h0m.2-1h0m3.3-1.2h0m.7 2.7h0m.7-2.5h0m.9-.1h0m5.2-2.6h0m1.7 5.3h0m.2-2.5h0m.2-2.9h0m.6 2.2h0m12 0h0m-157.1 7.7h0m1-2.6h0m.6 2.8h0m1-2.8h0m.5 2.1h0m.1-2.6h0m.6 3.6h0m.9-2.1h0m1.8 0h0m0 .8h0m4.6 1.9h0m.3-1.5h0m3.3-.7h0m3.2 1.1h0m2.4 1.5h0m.5-3h0m2.9 3.2h0m3.7-1.5h0m2.9 .9h0m.5-.9h0m1.7 1.2h0m1.7-.1h0m.5-.6h0m4-4.4h0m.3 2.8h0m1.3-3h0m.6 .4h0m1 5h0m.4-3.5h0m6.4 1.2h0m.4-.1h0m1 1.9h0m.9 .4h0m1.5-.4h0m.1-4h0m1.6 2.3h0m.1 .7h0m1.2 .2h0m1.2-4h0m1.8 2.8h0m.7 .3h0m3.2-.7h0m.3 .4h0m3.8-1h0m5.6 3.5h0m2.4-3.7h0m1 2.8h0m1.8-3.7h0m.8-.7h0m1.1 3.5h0m3.4 .6h0m.1-2.8h0m2.1 .9h0m2 3.1h0m3.4-1h0m.8-2.8h0m3-.1h0m1.5-.8h0m1.4 2.7h0m2.6 0h0m1.3 1.6h0m.6-2.6h0m.1 .3h0m.2-1.4h0m2.4 1.1h0m2.2 1.8h0m.8 0h0m1.7-.8h0m.5-.1h0m.9-1.4h0m4.3-.9h0m1.1 1.7h0m1.9-.4h0m.5 1h0m4.1-.9h0m3.2 .1h0m5.1 2.2h0m.8-1h0m.4-2.4h0m0-1.5h0m.1-.2h0m.3 .2h0m6 3h0m.6 0h0m1.5-1.8h0m.9 1h0m1.2 1.7h0m3.8-1.1h0m5.5-2.4h0m5.1 1.7h0m.4 3.2h0m-154.3 6.5h0m1.6-5.1h0m3.2 3.2h0m.4-.1h0m4.1-3.4h0m2.2 1.5h0m0 .4h0m1.2-2.1h0m.1 1.3h0m5.5 .3h0m.8 2.3h0m.2-3.7h0m.8 0h0m1.6 3.4h0m3.4 .1h0m3.7 .4h0m9.4-1.8h0m5.3-.9h0m.6 .6h0m0-.5h0m.5-.7h0m2.8 3.7h0m0-1.7h0m4.7 1.4h0m.5-2.1h0m1.8 1h0m2.2-1.7h0m.6 0h0m.3 .1h0m1 3.9h0m2.2-2h0m0-3.4h0m1.8 2h0m.7-2.2h0m.3 .5h0m3.9 2.3h0m.2-1.3h0m.2 1.7h0m1.6-1.8h0m6.6 2.5h0m.4-2.4h0m4.3-.6h0m0-.1h0m1.5 4.8h0m2.2-.5h0m2.7-4h0m2 .6h0m4.7-1.8h0m2.1 .5h0m3.4 2.7h0m4 0h0m3.7-3.1h0m.1 3.1h0m.1 .9h0m.6 1.3h0m1.6-4.1h0m3.5 .4h0m.6-1.4h0m2.5 5h0m2.6-4.6h0m.4 1.4h0m.1-1.3h0m.8 3.2h0m.9 1.3h0m1-.9h0m2.1 .6h0m1.8-3.2h0m1.2 3.6h0m.4-4.8h0m1.4 2.2h0m1.2 3h0m.6-2h0m3.1 .8h0m.6-1h0m.7-2h0m.1-1.2h0m1.4-.4h0m1.1 2.8h0m2-.8h0m.1 .3h0m.1-2.1h0m5.1 3.6h0m2.7-.6h0m.1-3h0m1.3 1.3h0m1 .5h0m1.1-.9h0m.7-.9h0m-151.3 7.2h0m1.6 3h0m7.1-3.7h0m6.6 1.7h0m29.4-1.3h0m14.6-.3h0m1.8 .2h0m.9 2h0m9.6-2.4h0m6.2 1.7h0m1.6-2.4h0m1 2.1h0m3-.4h0m.4-.6h0m17.9-.6h0m.6-.3h0m3.3 1h0m6.5-.6h0m13.3-.4h0m3.3 2.3h0m1.7-2.2h0m9.3 1h0m2.8 2.2h0m6.5-2.2h0m3.4-.6h0m.7-.4h0" stroke="#454545" stroke-width="1.9" stroke-linecap="round" fill="none"/>
<path d="M214.1 109h0m30.2 1h0m6.7-.2h0m.2-.1h0m9.7 .8h0m22.3-1.1h0m2 1.4h0m30.2-1h0m-147.3 4.7h0m1.7 .8h0m6.1-3.7h0m2.2 3.6h0m5.8-.3h0m2.6 1.4h0m21.4-3.5h0m3.7 4h0m3.5-2.3h0m.3 1.4h0m4.8 0h0m6.7-4h0m3.2 2.2h0m6.2 2.1h0m5.4-2h0m1.4-2.9h0m1 .4h0m5.7 4.3h0m9.3-5h0m4.7 5.7h0m2.1-3.7h0m.7 2.9h0m9.4-3.1h0m2.7-1.5h0m.4 1.8h0m2.3 1.9h0m2.3 1.1h0m10.9-3.8h0m3.3 .6h0m-129.7 8.4h0m.3 1.6h0m4.5-4.2h0m1 2.7h0m9.1 1.2h0m14.5-2h0m15.2 1h0m1.5-4.4h0m14.8 .2h0m16.8 3.3h0m1.3-.7h0m9.5 2h0m.3-2.7h0m13.9 1h0m6.8-.2h0m.3 .6h0m1.9-.9h0m6.2-1.6h0m.9 2.6h0m1.4 2.1h0m10.8-2.7h0m5 1.5h0m4.5-2.5h0m2-1.1h0m2.1 2.3h0m2.2-1h0m7.8 1.2h0m-143.4 5.7h0m.1-2.9h0m7.2-.3h0m1.5 .9h0m3.5 3.9h0m3.2-4.5h0m3.9 4.6h0m1.4 .9h0m5-5.3h0m.5-.3h0m12.3-.2h0m7.3 1.2h0m4.9-.1h0m4.1 3.3h0m.1 1.2h0m.4-4.9h0m33.3 4.1h0m4.3-4.4h0m.3 5.2h0m13.6-3.5h0m2.5 2.3h0m10-2.7h0m.8 .1h0m3.4 2.6h0m2.6-2.3h0m2.3-2.1h0m4.8 2h0m5.4 1.8h0m5.3 1.2h0m-81.4 2.5h0m30.6 1.5h0m14.7-1.3h0" stroke="#c4c4c4" stroke-width="1.1" stroke-linecap="round" fill="none"/>
<path d="M170.9 109.2h0m.7 .1h0m.8 1.3h0m25.8 .3h0m1.3-.1h0m2-.1h0m4.6-.4h0m6.1-1.9h0m2.4 2.5h0m1.8-1.2h0m9 1.1h0m8-.8h0m6.5-.5h0m28.8 1.5h0m46.9-2.1h0m5.6 1h0m-152.8 1.9h0m1.9 2.2h0m.2 1.4h0m4.4-2.7h0m7.2 3.4h0m.1-3.3h0m.2 2.7h0m6-2.4h0m5 3.5h0m.5-.8h0m1.9-1.9h0m1.5 2.7h0m1.5-.5h0m2.5-1.8h0m1.4-2.4h0m1.3 4.4h0m.6 .5h0m.1-4.2h0m0 3.8h0m3.1-3.8h0m2 4.4h0m.2-.5h0m1.2 0h0m.8-.7h0m6.8 0h0m.2 .2h0m1.4-4.7h0m1.3 5.3h0m.9-.7h0m1.1-.9h0m2.1 .9h0m1.7-.2h0m.2 .4h0m1.6-.1h0m3.6 0h0m1.7-.5h0m10.2 .6h0m1.5-1h0m1.7 .1h0m2.4-.3h0m.6-2.5h0m.1 1.6h0m.7 .1h0m5.3 .7h0m.1-.9h0m3.5 .9h0m1-.4h0m.6-2.9h0m1.5 2.2h0m.5 2.2h0m3-2.7h0m1.6 .2h0m.5-1h0m4.9 2.5h0m1-2.1h0m3-1h0m.4 3.7h0m.1-4.2h0m.3 1.4h0m1.7 1.3h0m3.8 1.2h0m1 1.5h0m2.9 0h0m1-1h0m.7-.1h0m.2-1.9h0m.9-.4h0m5.1 3.2h0m5.2-2.7h0m0-.6h0m0 .1h0m1.3 1.8h0m5.7-.7h0m2.8 1.1h0m1.5-3.8h0m.3 1.6h0m4.8 .5h0m.8-1.7h0m.3 4.3h0m1.8-4.8h0m-154.7 8.6h0m.1 .1h0m.4-1.5h0m.5 .1h0m2.7 2.7h0m.1-2.4h0m2.8 .7h0m1.5-.8h0m.7 1.4h0m1.6-3.3h0m1 4.5h0m.5-1.8h0m1.6 1.9h0m0-2.7h0m3.8 1.1h0m5.4 1.4h0m2.3-3.1h0m.2 .8h0m1.3 1.4h0m.8 1.7h0m1.7-4.5h0m2.5 0h0m.1 2.5h0m.6-.8h0m1.9-1h0m.8 3.6h0m1.8-3.2h0m2.2-.1h0m.3-1.5h0m1.7 4.3h0m1.6 1h0m.3-2.2h0m3 .9h0m3.6-.8h0m4.3 0h0m0-3.3h0m.9 4h0m.3 .2h0m1.5-1.7h0m.2-1.7h0m.7 1.4h0m.4-.6h0m.9 .2h0m.1 2.3h0m.8 1.2h0m.8-5.1h0m.2 .4h0m3.9 2.4h0m1.3-2.9h0m.4 4.8h0m2.4-2.6h0m0-.1h0m.5-1.9h0m1.9 4.4h0m.4-4.1h0m1 .6h0m.3 3.9h0m.3-3.3h0m.8 3.4h0m2.9-4.1h0m.7 2.9h0m.2-4.1h0m.4 1.7h0m3-1h0m.1 .7h0m.9-.7h0m.9 .5h0m1.7-1.3h0m.3 5.7h0m.2 0h0m2.4-3h0m2.3 1h0m.2 2h0m1.2-.1h0m.5-1.4h0m.2-2.6h0m.3 .6h0m1.6 .6h0m.5 2h0m.4-4.3h0m2.3 2.3h0m.4-1.5h0m2 1.1h0m.9 0h0m4.2 2.1h0m2 .2h0m1-1.9h0m1-1.2h0m.1-.5h0m.4-.7h0m2.3 0h0m.4 2.8h0m.2-1.1h0m.6 3.8h0m1.6-1.6h0m.8-1.6h0m3.1-1.5h0m2.6 3.2h0m.7 1.2h0m.4-.1h0m.3-4.3h0m1.3 4.3h0m1-1.7h0m.9-3.8h0m1 1.2h0m.3-.1h0m1.2 2.8h0m1 .7h0m.8-3h0m.6 .5h0m.7 1.9h0m.3 .3h0m2.5 .2h0m.1-3h0m.1 3.9h0m1.7-4.7h0m1 2.9h0m2.1 .8h0m2.5-3.4h0m1 .8h0m.6 3.5h0m1.3-5.2h0m.1 4.1h0m.7-.8h0m1.1-3.5h0m1.9 5.5h0m4.8-3.4h0m1.5 1h0m.3 2.7h0m2.4-5h0m-152.7 5.3h0m1 .8h0m1.6-.8h0m1.1 2.1h0m1.8 .5h0m1.6 1.2h0m.1-2.7h0m1.5-.2h0m.5 1.3h0m2.5 1.5h0m.2 .1h0m.5-2.3h0m1.8-.5h0m.1 2.9h0m.2 .3h0m1.9-2.3h0m1.2-1.2h0m1.3 2.3h0m2.2 .9h0m1.7 .8h0m2.6-4.4h0m2.2 2h0m2.6-1h0m.3-1.1h0m2.4 .3h0m4 2.5h0m1.8-.5h0m.3 1h0m2.1-3.4h0m.2 .3h0m.3 4.1h0m0 .3h0m.1-1.6h0m1.4 2.5h0m1.3-2.5h0m1.6-2.4h0m2 2.6h0m.1-2.7h0m1.6-.6h0m.1-.1h0m2.4 2.5h0m2.8 1h0m.2-2.4h0m.2 2.9h0m.3 .6h0m2.1-2.2h0m.9 1.4h0m2-3.1h0m2.5 1.6h0m.8 .9h0m2.3-2.6h0m7.6 .1h0m5.9 2.2h0m.8 2.3h0m4.2-4.5h0m2.2 5.1h0m2.3-4.7h0m.4 1.7h0m.8-1.3h0m1-.2h0m1.1 2h0m1.2-1.1h0m.3 .2h0m1.8 2.7h0m.4-1.3h0m.9-1h0m.3-1.3h0m.1-.7h0m1.8 2.1h0m.5-2.8h0m.4 2.3h0m.3 1h0m0 1.3h0m1.4-1.4h0m3.5-3.2h0m1-.1h0m0 1.7h0m2.4 0h0m.2 .3h0m2.6 .9h0m3.5 .7h0m.7-2.8h0m1.1-.2h0m0 3.1h0m.4-3.2h0m1.8 3.6h0m.4-1.4h0m1.4 1h0m.3 1.5h0m.6-3.4h0m.1 1.4h0m.1 2.2h0m.1-1.2h0m1.8-1.9h0m0-.5h0m.9-1.4h0m1.1 .5h0m.1-.3h0m3.4 2h0m1.7-.9h0m0 3.7h0m2.3-3.8h0m1.5 2.4h0m1-.7h0m.3-3.2h0m.5 4.7h0m.1-1.2h0m9 1.1h0m1.1-4.1h0m.2 .9h0m.1-.3h0m.4-1.1h0m1.8 5.6h0m.2-3.8h0m.2-1.3h0m1 2.3h0m.6 0h0m1.4-.6h0m-152.4 6.6h0m3.3 1.6h0m6.7-.3h0m3-3.5h0m7.4 3h0m4.8-.8h0m1.6-2.9h0m.5 3.7h0m4.3-3.7h0m5.5 2.3h0m.7-.3h0m15.1 1.3h0m1.6-.1h0m3.5-2.6h0m8.7 3.8h0m1.5-3.7h0m12.3 3h0m6.4-2h0m1.5 2.4h0m1.3-4.2h0m4.9 2.1h0m3.2-.5h0m4.4 1.2h0m11.7-1h0m1.2-1.1h0m3.2 1.9h0m.3-.7h0m1.3-.7h0m2.9 .1h0m11.6 2.7h0m13.5-1.6h0" stroke="#b01e28" stroke-width="2.1" stroke-linecap="round" fill="none"/>
<path d="M168.5 109.3h0m4.8 .7h0m52.9 .6h0m2.6 .2h0m.6-1.8h0m3.5 .8h0m5-.4h0m6.9 1.5h0m9.4-1.2h0m19.4 0h0m46.9 .8h0m-149.4 6.4h0m1.3-2h0m2.6-1.1h0m.6 3h0m1.8 .1h0m6-4.1h0m.6 1.6h0m.2 1.9h0m.6-3.3h0m.1 .2h0m1.9-1.3h0m.2 3.5h0m.1-.6h0m1.7 1.3h0m4.2 .1h0m.4-.4h0m.1 1.1h0m4.5-2.8h0m.4-.4h0m5.1 .7h0m1 2h0m2.6-.6h0m4.6-1.7h0m.7 2.5h0m.6-.1h0m2.7-2h0m5.8-2.6h0m3.7 .8h0m4.7 4h0m1.1-3.8h0m.2-.2h0m.1 1.2h0m.7 2.9h0m2.6 0h0m2.5-2.5h0m3.5 .7h0m1.7 1.6h0m.3-4.2h0m2.4 4.4h0m2-5.2h0m.5 4.2h0m.3-3.5h0m1.3 4.5h0m2.7-.6h0m2.9 .2h0m.2-1.8h0m1 1.1h0m4.1-3.5h0m2.3 1.8h0m8.5 1.5h0m.1-4.1h0m.6 3.9h0m1.5 1.5h0m.1-5.4h0m0 2.3h0m.4 2h0m3.9-4.5h0m.6 5.2h0m5.9 .2h0m1.9-4.3h0m.8 4.4h0m2.9-1.6h0m.6-.6h0m.2 .3h0m1.9-.9h0m10.1 2.4h0m2.9-2.7h0m2.1-1h0m.4 3.5h0m2.1-.1h0m1.2-1.8h0m6.8-.1h0m1.5 2.4h0m2.9 0h0m-151.2 6.5h0m5.1-3.6h0m2.1 0h0m1.8-.7h0m.3-1.2h0m1.7 3.5h0m.4 .8h0m2.3-2.3h0m.8-.3h0m.2 0h0m2.6 2.7h0m.7-2.4h0m4.4 .1h0m5.7 2.6h0m.1-3.9h0m.5 2.1h0m1.2 1.8h0m.9 .2h0m4.1-3.4h0m1.8-.4h0m.4 .7h0m.2 2.3h0m.1-3.4h0m1.1 2.9h0m.6 .3h0m1.9 1.4h0m.8-2.8h0m2.9 .5h0m1.8 1.4h0m.2-.7h0m.2 1.8h0m.7-2.8h0m2.5-1.3h0m4.5 1.9h0m2.3-1h0m2.1 2.2h0m.2 .9h0m1-.4h0m.1-2.6h0m.6-2.5h0m2.8 2.4h0m1.4-.1h0m.8-2.2h0m.4 1.3h0m1 2.3h0m1.1-.5h0m0-1.4h0m4.1 .7h0m.3 1.6h0m1.1-2.1h0m2.9 2.7h0m4.7 .8h0m.4-2.3h0m.3-2.2h0m2.2-1.3h0m.6 .2h0m.3 1.6h0m5.4 2.2h0m.1-1.8h0m1.7 2.7h0m1.6-1.3h0m2.7-1.4h0m4.5 3.6h0m.6-1.1h0m.4 .1h0m2.8 .2h0m.2-1.7h0m1.8-.6h0m2.5-.3h0m2.7-1h0m.4 .3h0m.5 1.3h0m2.1 .8h0m2.8-2.6h0m0 2h0m3.5-1.7h0m2.3 1.9h0m.1-1.7h0m.6 1.4h0m12.3-.5h0m.8 3h0m3.2-5h0m.6-.4h0m2.5 3.8h0m.4 1h0m1.1-2.1h0m1.9-.2h0m.9-.8h0m1.5 2.4h0m-154.2 5.3h0m3.7-2.1h0m3.7 0h0m3.6-1.5h0m3.8 2.7h0m.2-.5h0m1.6 1.9h0m1.7-1.7h0m3.3 1.6h0m2.7 .5h0m2.1 .2h0m1.3-2.6h0m.4-1.4h0m2.2-.1h0m4.2 4.6h0m5-5.2h0m1.7 2.6h0m.5-2h0m.9 .8h0m.7-.6h0m1.4 4h0m.1 .3h0m1.8-2.6h0m2.7 .3h0m.2-2h0m.6 .8h0m3.6-1.5h0m.7 5.2h0m3.3-3.7h0m2.2 1.7h0m5.3-.9h0m3.8-.7h0m1.6 3.8h0m.3-5.4h0m1.1 2.6h0m5.2-2.6h0m2.7-.2h0m1.9 2.3h0m0 1.6h0m1.3-1.3h0m.1 .9h0m1.3-3.3h0m4.3 2.3h0m2.5 1.7h0m7.4-3.1h0m.3-.8h0m1.9 2.6h0m1.6 .1h0m5.9 2.2h0m.1-1.6h0m1.6-2.8h0m1.6-.5h0m1.1 .8h0m3.2 1.2h0m1.8 3.3h0m.3-4.5h0m4.2 3.3h0m1.9-3.1h0m.3-.3h0m1.2 1.8h0m1.5-.4h0m.5 2.5h0m4.9-1.5h0m1.4 .5h0m3.3-.7h0m4.9-.2h0m.5-1.1h0m4.5 3.4h0m1.6-.2h0m2-3.9h0m.4 3.4h0m2.9-.8h0m-154.6 3.4h0m1.9-1.1h0m6.6 2.8h0m1.6 1.4h0m3.2-2.9h0m3.7 .1h0m1.7 2.2h0m19.4-3.6h0m15.5 2.8h0m2.4-1.3h0m35.4-.4h0m13.6 3.3h0m11.3-2.7h0m11.3-.8h0m15.8 1.9h0m1.1-1.3h0m1.3 1.2h0m2.5 .9h0m0-1.3h0m1.9-.1h0m4.1-1.8h0m.3 1.7h0" stroke="#d6d2ca" stroke-width="2.2" stroke-linecap="round" fill="none"/>
<path d="M229.4 49.4l1.1-1.7M227.7 52l-.7 1.9M229.6 52l1.1 1.7M225.6 57.5l-2-.2M228.9 57.3l1.3-1.6M227.4 59.6l-.1 2M228.5 50.7l-.2 2.7M228.3 53.4l-1 4.7M253.8 65.5l-.6 1.9M255.9 63.5l1.9-.7M255.6 65l1.8 1M256.8 68.7l-1.6 1.2M260 69.3l.9 1.8M258.2 69.7l-.4 2M254.1 64l2.8 2.4M257 66.4l1.6 1.8M198.2 46.9l-.1 2M199.7 46l1.4 1.4M196.5 46.2l-1.3 1.5M202.3 46.5l1-1.8M199.8 48.7l-1.4 1.4M202.9 47.9l2-.4M198 45.4l1.4 .9M199.5 46.3l1.6 1.3M304.8 45.6l2-.3M304 47l.8 1.8M301.9 44.5l-.6-1.9M303.4 48.9l-1.1 1.7M306.3 47.6l2-.1M305.4 46.3l.5-1.9M302.9 45.7l.5 .4M303.4 46.2l1.1 1.4M277.5 85.2l1.7 1M274.3 84.7l-1.7 1M275.7 85.7l-.9 1.8M278.6 86.4l2-.4M275.4 85.8l-1.7-1.1M277.2 85.3l0-2M276.1 84.2l.7 2.2M276.8 86.4l0 .4M179.6 174.9l.5 1.9M180.3 172.4l1.6-1.1M180.9 173.8l1.9 .7M174.7 174.4l.2 2M172.9 174l-1.5 1.3M175.6 171.9l1.4-1.4M179 173.5l-3.3-.6M175.8 172.8l-1.5 .1M175.7 173.2l-1.9-.8M177.5 172.8l.7-1.9M176.6 175.7l-.3 2M172.7 169.9l-1.4 1.4M172.8 168.4l-1.5-1.4M174.5 167.7l-.6-1.9M177 174.2l-2-3.1M175.1 171.1l-.6-1.9M179.9 180.4l2-.3M178.3 179.5l.2-2M176.6 181.7l-1.4 1.4M178.2 180.7l-1.4 1.4M178.5 179.2l-1.3-1.5M179.7 181.6l-.9 1.8M178.2 181l1.3 .5M179.6 181.6l.4-1.5M176.3 160.7l1.8 .9M174.2 158.7l-.1-2M174.8 161.6l-.1 2M174.1 163.7l1.7 1M170.8 162.3l-2-.3M172.5 164.5l.2 2M174.5 160.2l-1.4 .7M173.1 160.9l-.6 2.2M174.4 156.2l-1.8-.8M174.7 157.7l-1.7 1.1M177.6 155.8l1.5-1.4M173.3 161l-2 .4M176.1 159.5l.2-2M174.4 162.2l-.4 2M176.2 156.8l-.6 1.3M175.6 158l-.4 2.8M174.4 183.2l.5-1.9M172.4 185.7l-1 1.8M172.5 183.1l-.9-1.8M169 189.5l-1.6-1.2M168.3 190.9l-2-.2M169.4 192.1l-.5 1.9M173.4 184.5l-1.3 3.8M172.1 188.3l-1.9 2.4M277 159l-2 .3M280.8 158.9l2-.3M278 160.2l-.6 1.9M279 151l-1.6 1.2M278.9 149.5l-1.3-1.5M282.2 149.4l1.8-.9M278.9 158.9l.3-5.1M279.2 153.8l1.4-3.6M280.4 144.7l-1.6-1.1M282.3 144.6l1.3-1.5M279.6 146l-1.9 .7M280.6 150.2l-.5-1.7M280.1 148.5l1.3-2.6M278.5 159.6l1.4-1.4M279.1 161l2 .4M276.6 159.3l-.8-1.8M282.3 160.2l.5 1.9M279.8 158.5l-2-.2M283 157.7l.9-1.8M277.2 160.7l2.3-.7M279.5 160l2.2-1.2M286.8 161.8l.5 1.9M288.1 160.7l2 .2M285.7 159l-.7-1.9M281.7 158.8l1.7 1.7M283.4 160.5l2.8-.1M274.4 180.6l-1.9-.7M275.9 182.9l.5 1.9M277.7 180.7l1.9-.8M279.8 180.9l1.9 .6M278.4 181.9l.3 2M279.4 179.5l1.1-1.6M276 181.4l.2-.7M276.2 180.7l1.8-.2M277.4 177.9l-1-1.7M278.8 180.7l.8 1.8M276.2 179l-1.9-.5M278 180.4l.2 .2M278.2 180.7l-.1-1.4M277.5 150.1l-.6-1.9M280.3 151.5l2 .3M279.3 152.7l.9 1.8M279.2 155.6l.4 1.9M279.3 153l.5-1.9M277.3 155.5l-.5 1.9M278.4 151.4l-.7 1.5M277.7 152.9l.6 1.3M276.3 147.3l-1.7-1M279.4 146.3l1-1.7M280.1 147.7l2 .3M278.3 154.3l.5-4.3M278.9 149.9l-.7-2.5M279.2 172.6l-.3-2M280.9 173.3l1.5-1.3M280.9 174.8l1.7 1.1M273.6 174.1l-2 .3M277.4 174.1l1.9-.4M276.5 175.4l.5 1.9M279.3 174.1l-1.6 .5M277.7 174.6l-2.1-.5M274.7 170.8l.1-2M276.6 171.1l1.4-1.4M275.9 173.7l.1 2M275.5 174.1l.2-.7M275.7 173.4l-.4-1.2M259.4 171.9l-1.1-1.7M261.2 174.5l1.1 1.7M258.4 173.1l-2 .2M261 169.7l-2 .3M261.8 171.1l-1.4 1.4M264 168.7l1-1.7M260.3 173.2l2.2-1.5M262.5 171.7l.4-1.8M263.5 166.7l-2 .4M266.6 167.4l1.7 1M264.8 167.7l-1.2 1.6M262.9 169.9l1.7-1.9M264.7 167.9l.6-1.6M273.7 159.9l2-.1M270 160.6l-1.9 .6M271.3 161.7l-.7 1.9M265.9 159.6l-1.6 1.2M267.8 159.9l1 1.8M266.6 157.1l-1.3-1.5M271.9 160.3l-3.3-1.3M268.6 159l-1.4-.5M261.1 158.7l-1.4-1.4M261.2 160.2l-1.2 1.6M262.9 160.9l-.4 2M267.2 158.5l-2.4 1.4M264.8 159.8l-2-.4M269.6 159.6l-2 .3M270.1 161l-1.4 1.4M271.9 161.4l.7 1.9M272.6 162.4l1.8 .8M270.9 163l-.7 1.9M271.3 160.1l-.5-1.9M271.4 159.9l.1 .9M271.5 160.8l-.5 .7M266.1 166.8l-1.2 1.6M265.3 165.4l-1.9-.7M268 166.9l1.3 1.5M271.1 161.6l-2.1 3M268.9 164.5l-1.7 1M289.7 153.8l.2-2M288.2 154.7l-1.7-1.1M291.8 155.8l1.9 .5M291.6 153.7l-1.7-1M294.8 154l1.5-1.3M292.8 156.1l.4 2M290 155.2l1.3 .4M291.3 155.6l1.7-1.1M297.1 163.7l2 .1M293.9 164.5l-1.3 1.5M295.7 164.8l1 1.7M279.8 163.3l-1.9-.6M281.5 162.7l.8-1.8M282.8 165.1l1.8 .9M276.8 161.8l1.6-1.2M274.4 164.1l-.8 1.8M277.5 163.2l1.7 1.1M281.3 164.2l-3.8-1.4M277.5 162.8l-1.9 .2M272 158.5l.4-2M269.7 160.4l-1.9 .7M270.1 158.9l-1.2-1.6M275.6 162.9l-2.4-.7M273.2 162.2l-1.7-2.3M257.8 159.1l-1.3 1.5M259.7 158.8l.9 1.8M260.2 157.4l1.9-.5M257.2 152.6l2 .2M256.2 153.8l.2 2M254.3 153.8l-1.6 1.1M258.4 157.7l-.6-3.1M257.8 154.5l-2.5-2M254.3 154.5l2-.1M253.3 155.8l1.1 1.7M253.4 153.2l1.3-1.5M255.3 152.5l-1.4 1.1M253.9 153.6l-1.5 .9M260.5 144l-1.4 1.4M260.4 141.4l-.5-1.9M262.3 141.4l.5-1.9M266 148.5l.1 2M264.1 148.2l-1.7 1M267.3 147.4l1.9 .7M261.4 142.7l2.3 2.3M263.7 145l1.7 2.1M268.8 141.2l-2-.2M269.8 139.9l-1.3-1.5M269.8 142.5l-1.3 1.5M265.4 147.1l3.1-3.2M268.5 143.9l2.2-2.7M248.4 155l-1.2-1.6M251.5 156.8l1.5 1.3M250.2 154.4l1-1.7M246 155.1l-.7 1.9M247.9 153l1.9-.6M246.4 152.1l.8-1.8M249.9 155.9l-2.8-1.4M247.2 154.5l-1-.9M241.9 152.8l-1.9-.5M245.5 154l1.8 .8M242.2 154.3l-1.1 1.7M246.2 153.6l-.3 .3M245.9 153.9l-2.2-.5M254 166l.9 1.8M251.3 164.6l-2 .3M252.3 163.3l-1.5-1.3M253.1 157.9l-1.6-1.3M254.9 157.4l-.4-2M254.4 160.4l-1 1.7M253.2 164.6l1.3-2M254.5 162.6l.2-3.7M253.8 155.6l-2 0M254.9 154.4l-.6-1.9M254.5 157l-.8 1.8M254.6 158.9l.9-1.8M255.6 157.1l.1-1.3M313.9 162.1l1.6 1.3M312.2 162.7l-.1 2M314 160.6l1.7-1M318 166.6l.2 2M316.3 165.9l-1.8 .8M319.6 164.3l1.9-.7M312.3 161.2l2.1 1.4M314.4 162.6l3.6 2.5M319.6 183.5l-2 .1M319.9 182.1l-1.2-1.6M321.7 181.6l-.2-2M322.9 187.9l1 1.7M321 187.9l-.8 1.8M320 186.7l-2 .4M321.4 183.1l1 2.1M322.4 185.2l-.5 1.4M310.8 177l1.1-1.7M308.1 178.5l-1.9 .7M308.9 177.2l-1.3-1.5M306 181l.7-1.9M306.6 182.4l2 .3M304.1 180.7l-1.1-1.7M310 178.4l-2.4 1.7M307.6 180.1l-2.8 2M316.5 165.8l2 .3M314.5 163.8l-.2-2M313 164.7l-1.9-.8M316.2 167.5l1.8-.8M314.2 169.5l.4 2M315.9 169l1.8 .9M314.7 165.2l.3 1.3M315 166.5l-.6 1.5M306.8 177.8l-2-.4M310 177.3l1.6-1.2M307.1 179.2l-1.9 .7M314.8 177.7l-.5 1.9M316.6 175.1l.5-1.9M316.7 177.7l1.2 1.6M308.6 178.3l3.3-.6M311.8 177.6l3.9-1.3M314.4 187.8l2-.2M313.4 189l.8 1.8M310.6 187.6l-2 .4M303.5 186.7l-2-.1M306.7 187.2l.9 1.8M304.9 187.7l.3 2M312.5 187.7l-3.7-1.2M308.8 186.4l-3.5-.2M313.5 160.4l-.3 2M312 159.5l-1.9 .6M314.2 157.5l.6-1.9M312.7 152.4l-2 0M313.4 153.8l-1.6 1.2M315.3 154l1.2 1.6M313.8 159l1.1-4M315 155l-.4-2.4M242.6 177.7l-.3-2M244.4 178.2l1.2-1.6M244.7 179.7l2 .3M250.3 179.9l-.3 2M250.3 176.9l.4-2M248.6 179.1l-1.5 1.3M242.9 179.2l3.5-.4M246.4 178.8l3.9-.4M256.3 177l0 2M255.3 174.1l-.8-1.9M257.6 175.9l2 .1M250.3 178.4l2.1-1.8M252.4 176.5l3.4-1M260.6 173.7l-.1-2M261.4 176.2l1.1 1.7M259.5 176.6l0 2M255.8 175.5l1.4-.8M257.2 174.7l2.9 .4M229.6 52l-1.9 0-1.1-1.2 .9-1.4 1.9 0 1 1.2zM225.7 59l-.1-1.5 1.6-.9 1.7 .7 .1 1.5-1.6 .8zM253.8 65.5l-1.4-1 .3-1.4 1.8-.6 1.4 1-.3 1.5zM258.2 69.7l-1.4-1 .4-1.5 1.9-.4 1.3 1-.4 1.5zM199.7 46l-1.5 .9-1.7-.7-.2-1.5 1.6-.8 1.7 .6zM201.7 49l-1.9-.3-.6-1.4 1.3-1.1 1.8 .3 .6 1.4zM301 45.8l.9-1.3 1.9-.1 1 1.2-.8 1.4-1.9 .1zM306.3 47.6l-1 1.3-1.9 0-.9-1.3 1-1.3 1.9 0zM277.5 85.2l-1.8 .5-1.4-1 .4-1.5 1.8-.4 1.4 1zM278.2 87.8l-1.8 .5-1.4-1.1 .4-1.4 1.8-.5 1.4 1.1zM179.6 174.9l-1.8-.3-.6-1.5 1.3-1.1 1.8 .4 .6 1.4zM176.1 173.4l-1.4 1-1.8-.4-.5-1.4 1.4-1.1 1.8 .4zM175.2 174.6l.5-1.4 1.8-.4 1.4 1-.5 1.5-1.8 .4zM172.7 169.9l.1-1.5 1.7-.7 1.6 .8-.1 1.5-1.7 .7zM179.9 181.9l-1.7 .6-1.6-.8 0-1.5 1.7-.7 1.6 .9zM178.2 180.7l.3-1.5 1.7-.6 1.5 .9-.2 1.5-1.8 .6zM174.8 161.6l-1.8-.5-.3-1.5 1.5-.9 1.7 .5 .4 1.5zM170.8 163.8l0-1.5 1.6-.8 1.7 .7 0 1.5-1.6 .8zM176.5 158.2l-1.8-.5-.3-1.5 1.4-.9 1.8 .5 .3 1.5zM173.3 161l.9-1.4 1.9-.1 1 1.3-.8 1.3-1.9 .1zM175.3 184.5l-1 1.3-1.9-.1-.9-1.3 1-1.3 1.9 .1zM169.4 192.1l-1.1-1.2 .7-1.4 1.9-.2 1.1 1.2-.7 1.4zM279.9 160.2l-1.9 0-1-1.2 .9-1.4 1.9 0 1 1.3zM279 151l-.1-1.5 1.6-.8 1.7 .7 .1 1.5-1.6 .8zM279.6 146l.8-1.3 1.9-.1 1.1 1.2-.9 1.4-1.9 .1zM276 161.9l-.6-1.4 1.2-1.2 1.9 .3 .6 1.4-1.2 1.1zM282.3 160.2l-1.9-.3-.6-1.4 1.3-1.1 1.9 .3 .6 1.4zM284.9 161.5l-.5-1.4 1.3-1.1 1.8 .3 .6 1.4-1.3 1.1zM277.6 182.2l-1.7 .7-1.6-.8 .1-1.5 1.7-.7 1.6 .8zM278.4 181.9l-1.8-.5-.4-1.5 1.4-.9 1.8 .5 .4 1.4zM280 179.5l-1.2 1.2-1.9-.3-.7-1.4 1.2-1.1 1.9 .2zM277.4 152.7l-.9-1.3 1-1.3 1.9 .1 .9 1.3-1 1.2zM277.3 155.5l-.9-1.3 1-1.3 1.9 .1 .9 1.3-1 1.3zM278.9 148.9l-1.9-.2-.7-1.4 1.2-1.2 1.9 .2 .7 1.4zM280.9 174.8l-1.6 .8-1.6-.7-.1-1.5 1.6-.8 1.7 .7zM276.5 175.4l-1.9 0-1-1.3 1-1.3 1.9 0 .9 1.3zM277.2 172.5l-1.3 1.2-1.8-.3-.6-1.5 1.2-1.1 1.9 .3zM259.3 174.5l-.9-1.4 1-1.2 1.9 0 .9 1.4-1 1.2zM263.7 171.2l-1.9-.1-.8-1.4 1.1-1.2 1.9 .2 .8 1.3zM266.6 167.4l-1.8 .3-1.3-1 .5-1.5 1.8-.4 1.3 1.1zM273.2 161.4l-1.9 .3-1.3-1.1 .6-1.4 1.8-.3 1.3 1zM265.9 159.6l-.6-1.4 1.3-1.1 1.9 .3 .5 1.4-1.2 1.1zM262.9 160.9l-1.7-.7-.1-1.5 1.6-.8 1.7 .7 .1 1.5zM271.9 161.4l-1.8-.4-.5-1.4 1.3-1.1 1.8 .4 .5 1.4zM269.3 162.2l.2-1.5 1.8-.6 1.5 .8-.2 1.5-1.7 .6zM268 166.9l-1.9-.1-.8-1.4 1.1-1.2 1.9 .1 .8 1.4zM288.5 156.2l-.3-1.5 1.5-.9 1.7 .5 .4 1.5-1.5 .9zM294.5 155.5l-1.7 .6-1.5-1 .3-1.4 1.7-.6 1.5 .9zM295.7 164.8l-1.8-.3-.5-1.5 1.3-1.1 1.8 .4 .6 1.4zM279.6 164.8l.2-1.5 1.7-.6 1.5 .9-.2 1.5-1.7 .6zM277.5 163.2l-1.2 1.2-1.9-.3-.7-1.4 1.2-1.2 1.9 .3zM269.7 160.4l.4-1.5 1.9-.4 1.3 1-.4 1.5-1.9 .4zM257.8 159.1l-1.3-1.1 .6-1.4 1.8-.3 1.3 1.1-.5 1.4zM254.3 153.8l-.9-1.4 1.1-1.2 1.9 .1 .8 1.3-1 1.2zM254.3 154.5l-1 1.3-1.9-.1-.9-1.3 1-1.3 1.9 .1zM262.4 143.9l-1.9 .1-1-1.2 .9-1.4 1.9 0 1 1.2zM264.1 148.2l-.6-1.4 1.3-1.1 1.8 .3 .7 1.4-1.3 1.1zM272.6 141.2l-.9 1.3-1.9 0-1-1.3 1-1.3 1.9 0zM249.7 157.4l-1.5-.9 .2-1.5 1.8-.6 1.5 .9-.2 1.5zM247.7 154.5l-1.7 .6-1.5-.9 .2-1.5 1.7-.6 1.5 .9zM245.5 154l-1.5 .9-1.8-.6-.3-1.5 1.5-.9 1.8 .6zM252.1 165.9l-.8-1.3 1-1.3 1.9 .1 .9 1.3-1.1 1.3zM254.4 160.4l-1.5-1 .2-1.5 1.8-.5 1.5 .9-.3 1.5zM257.5 156l-1.1 1.2-1.9-.2-.7-1.4 1.1-1.2 1.9 .2zM312.2 162.7l-1.6-.8 .2-1.5 1.7-.7 1.5 .9-.1 1.5zM318 166.6l-1.7-.7 0-1.5 1.6-.8 1.7 .7 0 1.5zM321 184.5l-1.4-1 .3-1.4 1.8-.5 1.5 1-.4 1.5zM322.9 187.9l-1.9 0-1-1.2 .9-1.3 1.9-.1 1 1.3zM311.1 179.6l-1.9 .2-1.1-1.3 .8-1.3 1.9-.2 1.1 1.3zM303.5 183.2l-.6-1.4 1.2-1.1 1.9 .3 .6 1.4-1.3 1.1zM316.5 165.8l-1.5 .9-1.8-.5-.2-1.5 1.5-.9 1.7 .5zM315.9 169l-1.7 .5-1.5-.9 .2-1.5 1.8-.5 1.5 .9zM308.9 179.8l-1.8-.6-.3-1.4 1.4-1 1.8 .5 .3 1.5zM316.7 177.7l-1.9 0-1-1.3 .9-1.3 1.9 0 1 1.2zM314.4 187.8l-1 1.2-1.9-.1-.9-1.3 1-1.3 1.9 .1zM303.5 186.7l.4-1.5 1.9-.5 1.4 1.1-.5 1.4-1.8 .5zM313.5 160.4l-1.5-.9 .4-1.5 1.8-.5 1.4 1-.3 1.4zM315.3 154l-1.9-.2-.7-1.4 1.2-1.2 1.8 .2 .8 1.4zM244.7 179.7l-1.5 1-1.8-.6-.3-1.5 1.5-.9 1.8 .5zM250.3 179.9l-1.7-.8 0-1.5 1.7-.7 1.6 .7 0 1.5zM257.6 175.9l-1.3 1.1-1.8-.4-.5-1.5 1.3-1 1.9 .3zM259.5 176.6l-1.3-1.1 .6-1.4 1.8-.4 1.3 1.1-.5 1.4z" stroke="#5a5a5a" stroke-width="0.75" fill="none" stroke-linecap="round" clip-path="url(#ca2)"/>
<path d="M196.3 44.7h0m1.6-.8h0m1.7 .6h0m102.3 0h0m1.9-.1h0m2.1 0h0m-110.8 3.3h0m1.4-1.5h0m1.6 2.7h0m1.1-1.6h0m.5-1.3h0m.1 2.7h0m.7-2.5h0m1.8 .3h0m.6 1.4h0m2-.4h0m21.7 3.3h0m.9-1.4h0m1.9 0h0m1 1.2h0m71.7-3.5h0m.4 .5h0m1-1.3h0m.5 .7h0m.8-1.4h0m.5 3.3h0m.1-2.6h0m.9 1.3h0m-79.3 6.3h0m.2 2.7h0m.5-4.6h0m1.9 0h0m.6 3.8h0m.4-2.1h0m-7 3.5h0m2.1 1.8h0m1.6 2.6h0m.1-2h0m1.5-2.3h0m.1 1.5h0m25.5 3.7h0m3.3 .3h0m-5.4 1.7h0m1.4 1h0m1.8-.5h0m.3-1.5h0m.9 5.2h0m.4-1.5h0m.2-1.3h0m3 1.9h0m-2.2 1.9h0m1.8-.4h0m.9 1.8h0m11.7 14.6h0m1.1-1h0m.6 0h0m.4-1.5h0m.7 2.6h0m.3-.1h0m.8-2.9h0m.7 .5h0m0 2h0m.7-1.5h0m.7 2.6h0m2-.4h0m-5.8 1.5h0m1.6 .8h0m1.8-.5h0m-18.3 51.7h0m2.9-.1h0m5.6-1h0m1.4 1.5h0m-10.7 5.5h0m.4-2.6h0m1 1.2h0m1.8-2.6h0m.1 2.5h0m.9-1.3h0m.2 4.2h0m1.3-1.1h0m1.8 .3h0m.2-5h0m2 .2h0m1 1.3h0m1.9 0h0m.9-1.3h0m4.9 4.9h0m1.3-2.6h0m.6 2.8h0m.2-.3h0m.8-1.3h0m1.9-.1h0m1.3-1.5h0m-43.6 9.2h0m1.9 .5h0m1.5-.9h0m1.3 .8h0m.5-.2h0m1.2-.4h0m.9-1.8h0m2.6 2.1h0m4.4 .1h0m.2-1.3h0m.2 .5h0m1.7-.4h0m.8 1.3h0m2 .2h0m4.9-4.6h0m1.9 .3h0m.1 2h0m1.2-3.1h0m9-.1h0m.2 4.1h0m.9 1.3h0m0-.5h0m.2-4.2h0m1.3 .9h0m0 .6h0m.1 1.5h0m.3 1.7h0m0 .3h0m.1-2.8h0m.7-2.5h0m.2 3.8h0m.2-2.8h0m.1-1.4h0m1.4 .7h0m.2 1.4h0m.1 1.5h0m.2-3.7h0m7.3 5.5h0m.1-.9h0m6.5 1h0m14.3-.4h0m2 0h0m1.2-1.2h0m1.8 .2h0m.8 1.4h0m-142.4 3.9h0m.1 2h0m.2-2.5h0m.3 1.5h0m1.1-2.4h0m.7 2.9h0m1.1-2.4h0m1.5-1.4h0m63.1-.1h0m1.8 .6h0m.5-.7h0m.7 2.8h0m.3-3h0m.5 1.1h0m1.3-.4h0m.4-.2h0m.2-1.5h0m.3 3.5h0m.2-1.5h0m1.3 2.4h0m.5-3h0m.3 0h0m1 2.4h0m0-3.7h0m.1 3.6h0m.1-1.4h0m.9-.4h0m.3 3.3h0m.4-2.4h0m.1-2.6h0m.3 5.6h0m.1-3.2h0m.5-1.8h0m0 .7h0m.2 2.5h0m.4 .4h0m0-3h0m1.3-.6h0m.1 .7h0m.1 2.7h0m0 1.1h0m.1-.3h0m.3-3.4h0m.3 2h0m.4-.6h0m1.4 .3h0m.8 2.5h0m0-1.4h0m1.4 1.3h0m1.6-.8h0m3.9-.8h0m1.9 .3h0m.5 1.4h0m1.7-.7h0m.2 .4h0m1.1 0h0m.4 .4h0m.3 0h0m3.1-1.4h0m.6-3.3h0m.5 3.3h0m.1 1.5h0m.3-3.5h0m.5 2.8h0m.1-.7h0m1.3-2h0m.5 1.9h0m.1 .1h0m0 .9h0m0-.4h0m.3-3.5h0m.1-.3h0m.6 4.6h0m.3-1.5h0m1.7 1.2h0m1-2.7h0m1.9 3.1h0m.8-5.4h0m1.7 1.1h0m.3 1.5h0m1.2-2.4h0m.6 2.9h0m1-1.6h0m.1-.8h0m.2-.6h0m.2 2.1h0m1 .3h0m.4 1.9h0m.1-4.9h0m.4 3.1h0m.8-.7h0m.3-1.5h0m17 .9h0m.6 3.1h0m1-4.2h0m.8 3.7h0m1.1-3.5h0m.3 4.5h0m-144.8 3.8h0m0 1.5h0m1.6-2.3h0m.1 3h0m.5-3.4h0m.3-.1h0m.7 3.2h0m.1-2h0m.1-2.6h0m.2 2.6h0m.3 1.4h0m.1-2h0m1.1-2.4h0m.2 .3h0m.2 1.2h0m0 1.4h0m.8-1.3h0m72.2 4.1h0m2-.3h0m1.6-5.2h0m1.3 4h0m.2-3h0m.7 4.3h0m1-4.9h0m1.7-.7h0m2.2 2.7h0m1.2-1.6h0m1.4 2.7h0m.3-2h0m.5 3.9h0m1.1-4.7h0m1.4-.5h0m.5 4.6h0m1.4-4.3h0m0 1.1h0m.5 3.3h0m.3-1.9h0m.1-.7h0m.6 .5h0m.3-2.6h0m.1 .8h0m.3 .2h0m.1 .4h0m.1 3.9h0m.4-5.7h0m0 4.4h0m.3-.6h0m.1-1.6h0m.3-1.3h0m0 1.6h0m.6-.3h0m.7 1h0m.2-1.5h0m.1 .1h0m.3 .4h0m0-1.1h0m.1-.8h0m.4 .4h0m0 2.8h0m.7 1.4h0m0-.9h0m.5-1.7h0m.1-2.3h0m.4 1.3h0m.6 1.4h0m.3 2.5h0m.3-5.1h0m.2 2.5h0m.7 1.4h0m.4-1.1h0m.5-1.5h0m.7 .4h0m.5 3.8h0m.2-1.5h0m.1-3.1h0m.5-.3h0m.6 1.5h0m.5 1.3h0m.8-2.5h0m.7 3.4h0m.6-4.5h0m.8 1h0m.5 1.4h0m2.4 2.3h0m.2-4.5h0m.6 1.4h0m5.3 2.3h0m.5 1.5h0m.8-2.6h0m1 2.9h0m.8-2.5h0m.6 1.4h0m13.5-1.8h0m.2-1.5h0m.3 3.5h0m.9-4.4h0m.1 5.2h0m.1-2h0m.3-3h0m.5 5h0m.5-4.3h0m.4 1.7h0m.1-1.5h0m.3 1.2h0m.2 2h0m.8-3.9h0m.1 3.4h0m.4-3.7h0m.4 4.7h0m.1 .1h0m1.6-.8h0m1.7 .7h0m1.9-.6h0m-150.1 3.3h0m1.3 2.9h0m.1-1.5h0m1.5 2.3h0m.2-3h0m1.5 2.3h0m.1-1.5h0m76-2.6h0m1.9 .1h0m.9 1.8h0m3.4 2.4h0m.7-.2h0m2-.3h0m1.1-1.2h0m1.4-1.8h0m.5-1.5h0m0 3.5h0m.8-1h0m0 2.3h0m.3-3h0m.2-1.6h0m.8 1.4h0m.5 .6h0m.5-1.5h0m.9 1h0m.3 1.5h0m.8-2.7h0m.2 2.7h0m4.3-2.5h0m1.1 4.9h0m3.3-1.1h0m1 1h0m2.1-5h0m1.7-.6h0m1.8 .9h0m12.1 .6h0m16 2h0m.2-1.5h0m.3-.9h0m1.3 .5h0m.2-.1h0m.3 .1h0m.9 2.3h0m.3-1.5h0m.1-1.6h0m.2-.1h0m1.3 4h0m.2-3.2h0m.5-.5h0m1.1-.3h0m-148.3 5.5h0m1.1 1.3h0m.5 1.4h0m.9-2.5h0m0 .9h0m.9 2h0m.5 .2h0m.4-2.7h0m.1 1.3h0m.4 .2h0m.5 2.3h0m.6-2.6h0m.3-.3h0m.3 1.8h0m.6 .7h0m.1-3.3h0m.4 1.8h0m.7 1.1h0m1.3-1.1h0m1.9 .7h0m67.5 2.4h0m3.7-1.8h0m.5 1.5h0m1.8 .4h0m.9-2.6h0m.4 1.5h0m.8-2.8h0m.4 1h0m.5 .4h0m.1-2.6h0m.1 4.7h0m.1-.6h0m1-2.3h0m.6 .8h0m.1-2.6h0m.1 4.3h0m.4-5.1h0m.1 3.7h0m.3-1.5h0m1.5-2.1h0m8 3.2h0m1.8-2.5h0m.1 2.2h0m1 1.3h0m1.3-1.7h0m.1 2h0m.4 .4h0m.1-3.3h0m0 2.6h0m.1-4.3h0m.6 1.4h0m.2 1.6h0m.3 .8h0m1.5-2.3h0m.1 3h0m1.6-2.3h0m0 1.5h0m26.6 .9h0m.7 1.1h0m3.6-1.5h0m2 1.1h0m.9-1.3h0m1.9 0h0m1 1.2h0m-142.7 5h0m1.4-3.7h0m.3 4.1h0m0-1.5h0m1.6 .5h0m.1-1.2h0m.2-.3h0m0-1.6h0m1.2 4h0m.2 .3h0m0-1.5h0m.3-1.8h0m1.5 .9h0m.2 .6h0m59.5 0h0m1.2-2.4h0m.6 3h0m1.2-2.5h0m.3 1.5h0m3.9-.6h0m0-1.5h0m3.3 1.5h0m0-1.5h0m10.6 .3h0m10.1 1.9h0m1.7-1.2h0m0 3.5h0m.1-1.5h0m1.5 2.3h0m.2-3h0m.1 0h0m0-.9h0m.4 2.4h0m.3-1h0m.1-3h0m.4 .5h0m.2 4.3h0m0-3.2h0m.8 2.9h0m.4-1.2h0m.5-2.6h0m.4 4.4h0m.1-1.6h0m.8-3.1h0m1.1 3.7h0m21.2 .3h0m.1-2.8h0m1.1 1.7h0m1.1-.8h0m.8 1.1h0m.2-1.7h0m.4 3.1h0m.2-4.6h0m.3 1.4h0m1-.7h0m.8-1.3h0m0 2.6h0m1.1-2.5h0m.3 1.5h0m.5-1.8h0m.3 2.6h0m.8-1.3h0m4.8-.6h0m2 2.8h0m1.2 1.6h0m1.8-.5h0m1.5 1h0m-150.8 3.1h0m.1-2.6h0m1.8 2.7h0m.1-2.6h0m.8 0h0m.1 1.3h0m101.1 .3h0m2.3-.9h0m24.8 2.8h0m.4-1.5h0m1 2.5h0m.4-4.2h0m.5 1.2h0m.9 2.5h0m.5-1.4h0m1.4 2.2h0m2-.4h0m.9 1.3h0m.1-2.6h0m1.9 .1h0m.9 1.4h0m3.2-4.2h0m2-.1h0m.4 3.2h0m.9-1.3h0m.1-.9h0m1.8-.4h0m0 1.2h0m.1 2.6h0m.9-1.3h0m-157.5 4.1h0m2 .2h0m.7-1.4h0m.4 2.6h0m1.5-2.8h0m1.1 1.2h0m135.6-1.5h0m5.8 0h0m.7 1.9h0m6.2-1.1h0" stroke="#5d635f" stroke-width="1.6" stroke-linecap="round" fill="none" clip-path="url(#ca2)"/>
<path d="M204.5 44.3h0m97.4-2.9h0m5.1 2.3h0m-113.2 4h0m3.3 2.4h0m0-.4h0m4-.9h0m4.9-.6h0m25.8-.7h0m69.3 3.3h0m3.2-.8h0m3.5-3.8h0m1.5 2.2h0m-86.5 7.8h0m3-1.7h0m4.5 .4h0m1.2 .7h0m45.7-1.8h0m-50.9 8.7h0m25.8 5.5h0m5.6-.8h0m1.3-3.9h0m7.7 2.5h0m-74 9h0m40 0h0m21.2-5h0m2.8 2.6h0m3.7-.1h0m-58.2 11.1h0m69.1 2h0m2.2-2h0m4.6-1h0m3.5 4.3h0m-8 1.2h0m3.1 1.9h0m2.8-2.3h0m-66.3 43.3h0m-16 10h0m63.4-2.4h0m3.3 .4h0m2.1 1.2h0m2.5-2.9h0m-10.7 8.3h0m9.3-1.3h0m7.1 .9h0m2.3 1.1h0m1.3 .6h0m.8-4.4h0m3.1 2h0m3.2-1.3h0m-45.5 8.1h0m8.1 1h0m1-2.2h0m4 2.5h0m2.4-1.1h0m1.1 .4h0m5.1-2.9h0m4.1 2.6h0m4.5-2.1h0m6.4 2.7h0m1.5-5h0m3.3 3.4h0m1.9-1.3h0m.3 3.7h0m2.1-3.8h0m1.1 3.4h0m3.2-1h0m1.4-.4h0m6.7 1.9h0m12.2-1.4h0m-138 7.1h0m.3-4.4h0m2.9 1.5h0m2.3 1.1h0m3.1-2.3h0m53.8-.7h0m5.6 2.4h0m4.2 1.3h0m3.8-1.5h0m3.1-1.4h0m.1-1.5h0m.4 1.6h0m.1 .7h0m2.6 3.3h0m1.2-4.3h0m.2 2.4h0m1.7-1.4h0m2.5 .7h0m.3-2.3h0m3.3 3.8h0m2.1-3.4h0m3.7 1.8h0m2.3 1h0m2.1-1.1h0m.5 2.5h0m1.7-.3h0m.6-1.8h0m.7 .9h0m2 1.4h0m.7-2.8h0m1.4 2.3h0m4-2.6h0m.5 .4h0m8.8 1.4h0m16.1-2.6h0m5.4 .3h0m.5 1.8h0m-148.3 4.1h0m2.2-.3h0m2.6 4.3h0m.9-.4h0m.7 .2h0m3.9-1.9h0m69.9 1.3h0m2.3-3.4h0m1.6 1.7h0m.3-3.1h0m.5 .2h0m2.3 1.3h0m3.4 1.1h0m1.4-.1h0m1.4 1.8h0m1.3 0h0m.2-2.9h0m3.6-1.7h0m0 1.5h0m.4 .2h0m.3 1.6h0m1 .6h0m1.1 1.2h0m2.7 .3h0m2.8 0h0m1.4-1.7h0m.4-2h0m.6 .8h0m2.4-.8h0m2 1.8h0m.4 .8h0m1.4-2.9h0m.3-.9h0m2.8 5.4h0m4.2-2.9h0m1.6-2.9h0m7.5 5.7h0m9.1-5.3h0m1.6 3.2h0m1.5 .5h0m3.1-2.4h0m.4 3.8h0m1.4-4.6h0m5.6 4.2h0m-151.3 1.5h0m.6 1.8h0m4.3-1.5h0m2.1 4.6h0m1.1-.2h0m75.1-1.4h0m3.5 .2h0m.6-.3h0m1.8-2.6h0m1 4.5h0m.9-1.3h0m1.3-1h0m2.7-1.8h0m2.4 2.9h0m.3-4.1h0m.2 4.2h0m3.1-3.3h0m3.6 1.6h0m3.4 1.7h0m.1-4.2h0m.4 4.1h0m5.2-2.3h0m6.3-1.2h0m5.1 1.7h0m14.7-2.2h0m2.2 .6h0m4.1 3.4h0m1.8-2.4h0m0-.1h0m-149.2 4.2h0m.1 4h0m3.2-4.1h0m4 5.2h0m2.2 .4h0m3.8-5.3h0m0 4.2h0m59.8-1h0m3.8 1.8h0m4.9-2.3h0m3.3-3.2h0m.3 1.4h0m3.7 .1h0m1.4 4.4h0m10.1-3.3h0m4.5 3h0m1.6-1.7h0m3.8-.5h0m3.2-2.2h0m20.4 4.1h0m3.5-1.9h0m5.3 1.9h0m.2-1.2h0m.7-2.5h0m4.4-1.6h0m0 1.5h0m-146.1 7.6h0m2.1-2.7h0m1 1h0m.3 3.6h0m.5-1.4h0m3.5-2.7h0m3.4 3h0m62.9-.6h0m1.6 .7h0m1.5 1.6h0m6.5-2.7h0m3.2-.4h0m3.3-2h0m.3 1.7h0m9.9-.6h0m1.5-1.2h0m2.6 1.1h0m4.6 2h0m1.1-2.9h0m.4 5.1h0m.5-5.4h0m20.6 .4h0m.6 1.6h0m1-.6h0m2.8-.2h0m5.3 1.7h0m3.5 2.5h0m1-2.1h0m1.3-1.4h0m3.5-.6h0m-155.2 8.5h0m3 .7h0m3.7-4.6h0m3.7 .6h0m98.1 2.1h0m2.2-1h0m1.3-1.2h0m21.5 1.8h0m6.9 1.7h0m1.7-3.5h0m7.7 2.6h0m.4 2h0m-151.9 1.4h0m2.3 5h0m136.6-4h0m2.8-.5h0m6.4 1.9h0m5.4-1.8h0m4.6 .6h0" stroke="#c4c4c4" stroke-width="1.1" stroke-linecap="round" fill="none" clip-path="url(#ca2)"/>
<path d="M203.3 44.7h0m98-2.1h0m-103.1 4.3h0m.2 3.2h0m1.1-3.8h0m1.6 1.2h0m.6 1.5h0m28.8-1.3h0m70.5-1.9h0m2.4 .4h0m0 2.7h0m1.4-.1h0m3.5-1.3h0m-80 5.9h0m-2.7 4.1h0m27.1 5.6h0m.5 4.3h0m3.8-1h0m2.1 .4h0m-3.9 3.1h0m21.6 16.5h0m.7-1.2h0m1.7 1.1h0m-4.2 .9h0m-3.3 52.7h0m-11.3 1.5h0m3.3 3.6h0m4.8-1.1h0m6.1 2.4h0m3.1 .4h0m2.7-2.1h0m3 1.2h0m-32.2 6.9h0m2.2-.3h0m9-3.2h0m6.7-1.1h0m7.8 .1h0m.1 .5h0m.4 4.2h0m.1-2.8h0m.2 2.8h0m1.2-3h0m.9 1.1h0m.3-2.5h0m.6 3.2h0m1.6 0h0m1.7-3.2h0m-111.5 6.9h0m.5 3.4h0m2.6-.8h0m.7-.4h0m1.6-.3h0m68-3.4h0m1.3 .6h0m.1-1.1h0m4.1 2.3h0m1.7 2.2h0m.8-4.3h0m.5 3.9h0m.1-2.1h0m1.1 1.7h0m.8-1.3h0m1.4-1.3h0m2.4 2.9h0m2-.5h0m2.2 1.7h0m.9-3.1h0m0 2.7h0m4.8 .7h0m9.1-5.1h0m3.8 3.9h0m2-.6h0m6.3-1.5h0m23.5 0h0m.2-.6h0m1.6 .5h0m-147.8 6.5h0m2.6-.7h0m1.3-1.7h0m.4 1.3h0m1 2.8h0m1.8 1h0m2.2-3.1h0m72.6 .4h0m1.6 1.3h0m1.1-1.2h0m1.1 .5h0m2-1.9h0m4-.1h0m3.8 .2h0m.5-1h0m1 5h0m1.8-5h0m.5 1.5h0m.5-2.3h0m.3 5.5h0m.6-3.8h0m2 .1h0m1.7 1.4h0m2.5-2.4h0m1.7 2.3h0m.1 .7h0m.4-.1h0m.1-2.5h0m.5-.6h0m.7 4.7h0m.3-4.3h0m2.8 .9h0m1.1-.4h0m3.4 1.3h0m3.3-.8h0m8.9 2.8h0m11.1-3.7h0m3.1 2.3h0m1.2 .2h0m-141.7 3.9h0m1.2-.7h0m3.1 4.7h0m1.2 .4h0m83.3-3.9h0m2.1 2.3h0m1.1-1.4h0m.2 .5h0m10 .4h0m17.7-2.8h0m21.6 3.5h0m.8-3h0m3 .2h0m.2 1.9h0m-143.2 7.8h0m.1-5.3h0m.7 1.7h0m4.3 4h0m.2-4.4h0m70.4 2.5h0m1.7 1.6h0m2.2-4.3h0m.7 1.9h0m1.1-.8h0m.8 1.4h0m1 .8h0m2.3-3.8h0m1.7 4.5h0m.3-4.5h0m11.6 1.7h0m.5-.6h0m1.1 .6h0m1.9 0h0m.1 1.2h0m1.7-.9h0m3-1.6h0m.2 3.9h0m29 .1h0m3-4.6h0m2.5 1.6h0m-145.5 8.2h0m5.2 .8h0m.4-4.4h0m1 4.8h0m1.4-.9h0m1.9-.6h0m59.6-2.4h0m5.3 .2h0m.3 1.2h0m.4 .4h0m2.8 1.5h0m.4-2h0m6-.9h0m3.2-.4h0m16.7 2.1h0m1.5 0h0m.5 0h0m1.2-1.2h0m.2 .5h0m.4-.5h0m24.8-2.1h0m1.9 1.7h0m.9 1h0m1 2.6h0m.6-2.9h0m2.6-2.2h0m2.4 2h0m.6-1.9h0m3 1.6h0m-150.4 9h0m4-.8h0m.1-3.1h0m.6 3.9h0m129.4-1.8h0m2-3.3h0m5.3 3.2h0m7.6 1.1h0m4.6 .4h0m1.4-2.7h0m-153.5 8.9h0m2.4-2.2h0m133.9-2.2h0m18.8-.1h0" stroke="#cc1f2a" stroke-width="2.0" stroke-linecap="round" fill="none" clip-path="url(#ca2)"/>
<path d="M229.5 97h0m1.7 0h0" stroke="#c8202a" stroke-width="1.75" stroke-linecap="round" fill="none" clip-path="url(#ca2)"/>
<path d="M302.4 50.6h0m4.4-5.2h0m-30.8 7.6h0m-10.5 12h0m-74 9h0m40 0h0m26.3-2.3h0m-56.8 10.9h0m74.5 6.4h0m-63.5 41h0m-16 10h0m72.4 4h0m-35.4 9h0m8.1 3h0m10.7-.4h0m17.1 1.7h0m3.5-.8h0m.2 6.7h0m10.2-1h0m-111.4 13.2h0m10.6-4.2h0m60.3 4.5h0m3.3 .9h0m14.8-4.1h0m61.2 7.1h0m-142.8 3.8h0m139.2 3.7h0" stroke="#2b3aa5" stroke-width="2.1" stroke-linecap="round" fill="none" clip-path="url(#ca2)"/>
<path d="M327.0 109.6 L330.0 106.8 L333.0 107.3 L336.0 108.7 L339.0 109.4 L342.0 109.6 L345.0 108.6 L348.0 108.8 L351.0 108.9 L354.1 109.4 L357.1 107.7 L360.1 109.3 L363.1 109.6 L366.1 109.6 L369.1 108.8 L372.1 107.5 L375.1 107.7 L378.1 109.6 L381.1 107.2 L384.1 108.8 L387.1 106.9 L390.1 106.8 L393.1 108.3 L396.1 108.0 L399.1 109.5 L402.1 107.9 L405.1 107.6 L408.2 108.4 L411.2 108.8 L414.2 107.0 L417.2 107.8 L420.2 108.0 L423.2 109.6 L426.2 108.0 L429.2 109.4 L432.2 108.4 L435.2 107.7 L438.2 107.3 L441.2 108.4 L444.2 108.7 L447.2 108.8 L450.2 108.0 L453.2 109.5 L456.2 109.3 L459.2 108.3 L462.3 109.7 L465.3 108.2 L468.3 108.7 L471.3 109.1 L474.3 108.6 L477.3 106.8 L480.3 108.7 L483.3 107.3 L486.3 108.1 L486.3 129.1 L483.3 130.3 L480.3 129.3 L477.3 129.8 L474.3 131.1 L471.3 130.7 L468.3 129.3 L465.3 130.4 L462.3 130.5 L459.2 130.0 L456.2 129.7 L453.2 129.6 L450.2 130.7 L447.2 128.4 L444.2 128.9 L441.2 130.6 L438.2 128.4 L435.2 129.3 L432.2 129.3 L429.2 128.8 L426.2 128.5 L423.2 129.8 L420.2 131.0 L417.2 129.5 L414.2 131.2 L411.2 129.8 L408.2 129.6 L405.1 130.0 L402.1 130.0 L399.1 129.2 L396.1 130.2 L393.1 129.8 L390.1 131.0 L387.1 129.8 L384.1 128.8 L381.1 130.7 L378.1 130.2 L375.1 130.6 L372.1 131.1 L369.1 130.1 L366.1 129.9 L363.1 130.6 L360.1 130.0 L357.1 128.8 L354.1 130.0 L351.0 128.4 L348.0 131.0 L345.0 131.0 L342.0 129.2 L339.0 128.9 L336.0 129.3 L333.0 128.6 L330.0 131.2 L327.0 128.7 Z" fill="#55514f"/>
<path d="M354.4 107.8l-2.2-.3M445 109.9l1.9-1.1M465.6 109.9l.1 2.2M350.3 129.1l.7 2.1M420.9 129.7l-.9-2M363.3 108.8l1.6 1.6M429.5 109.5l-1.9 1.2M401.2 127.9l.7 2.1M474.6 127.9l-.1-2.2M405.8 128.9l1.7 1.4M370 131l2.2 .1M344.4 131.1l1.9-1M388.1 128.3l-1.1 1.9M339.4 107.6l-1.7 1.4M396.5 130.9l-.5 2.1M358.7 130.6l1.8-1.3M428.6 130.6l2-.9M399.2 108.5l-2.1 .7M445.3 130.3l-1 2M397.9 130.6l1.9 1.1M354 109.5l-.5-2.2M401.9 109.4l2.2 0M481.4 109.9l-1.3-1.8M400.1 109l-.6-2.1M408.6 129.8l-1.8 1.2M435.4 107.3l2.2 .4M393.4 130.3l2 1M439.7 109.4l1.1-1.9M482 106.8l-.3-2.2M420.3 108l-1 2M388.3 130.4l.8 2M485.9 130l0-2.2M455.4 128.2l.9-2M362 109.9l.3 2.2M388.7 108.6l-2.2-.5M481.9 110.2l1.9-1.1M465.6 130.8l.3-2.2M415 109.4l1.9 1.1M478.1 109.5l-2.1-.6M367.8 108.2l2.2 .3M414.3 106.9l-2-1M465.9 128.4l1.4 1.7M377.6 109.4l.6 2.1M334.4 107.4l1.6 1.5M397.4 108.8l-2.1 .8M448.1 130.6l1.5 1.6M450 108.4l-.6-2.1M443.4 108.2l-1.2 1.9M332.2 129.6l2-.9M351 128.3l-.3-2.2M415.7 106.9l1.5-1.6M444.6 131.2l-2.1 .7M385.9 131.2l.8-2M355.9 128.9l-2.1-.6M372.2 130.1l1.6 1.5M363 129.7l.8-2.1M428.5 108.1l1.6 1.5M421.5 107l-1.1 1.9M391 109.6l-2.1 .7M425 109l-.2-2.2M481 128.2l0 2.2M340.6 130.1l-.9 2M481.2 109.6l-1.4 1.7M411.5 129.2l1.9 1.1M408.6 130.5l-1.6-1.5M437.1 107.4l-2 .9M391.6 129l-.3 2.2M419.9 128.3l0-2.2M453.5 128.5l-2.2 .1M374.3 130.6l-.5 2.1M423.4 130.9l2.2 .3M364.1 130.5l.6-2.1M440.6 128.6l-1 2M432.2 109.4l1.6-1.5M439.4 130.3l.4 2.2M445.6 128.5l-.5-2.1M344.4 130.9l1.6-1.5M440.5 109.8l-1.7 1.4M468.1 108.2l.8-2.1M388.6 109.7l1.8-1.3M445 129.6l1.4 1.7M378.5 109.6l-2-.9M417.5 129.8l-1.2 1.9M397.1 107.7l1.2 1.8M369.2 110l1.4 1.7M397 130.7l.2-2.2M375 128.1l1.9 1.1M331.1 128.6l1.7 1.4M396.8 130.6l-.1-2.2M328.5 127.8l0 2.2M440.3 130.7l-2.2-.4M442.3 108.1l1.1-1.9M449.3 110.1l-.8 2.1M446.3 107.3l-2.2-.1M410.4 107.9l2.1-.7M468.8 130.4l-1.5 1.6M414.3 107.6l-2.2 .2M453.8 106.8l2.1 .6M415.6 129.6l-.7-2.1M414.6 128.3l1.7-1.4M478.2 109.6l1.6 1.5M376.6 128.4l-2.1-.6M344.1 107.6l-1.5-1.6M360.1 109.6l.3 2.2M370.9 108.5l-1.9 1.1M407.1 128l-1.4-1.7M398.3 131l1.6-1.6M481.6 109.3l-1.9 1M347.9 128.3l.4-2.2M455 129.1l-1.7-1.4M346.5 107.6l.2 2.2M457.1 129.5l-.1-2.2M403 109.2l-.9-2M420.2 110.2l-.5-2.1M393.6 128.5l-.6-2.1M390.4 129.6l-.2-2.2M456 107l1.5 1.6M444.4 107.7l-1.7 1.3M365.9 129.8l0-2.2M472.7 109l1.9 1.1M337 131.2l-1-2M431.7 129l2.2-.4M461.5 127.8l2.2-.4M367.4 127.9l-.1 2.2M371.8 107.3l1.6-1.5M417.5 128.7l2.1-.7M343.8 108.5l-1.2 1.8M363.2 108.4l.9-2M456 128.8l-.9 2M426.6 107.2l-2.1-.5M386.7 108.3l-1 2M353.7 106.9l1.2-1.8M331 109.6l-2-.9M484 109.5l-.5-2.1M414 130.2l1.8 1.3M442.9 128.6l-2.1-.5M393.7 108.8l2.2 .2M336.5 107.4l1-1.9M477.1 128.1l.5 2.1M363.9 107.9l-2.2 .2M352.4 128.6l-1.5-1.6M484.1 107.8l1.2 1.8M425.1 110.1l-1.5-1.6" stroke="#5a5a5a" stroke-width="0.75" fill="none" stroke-linecap="round"/>
<path d="M351.9 108.6h0m1.8 .3h0m7.7 1h0m6-3.1h0m4.7 3.6h0m1.2 .2h0m2.6-2.4h0m1.2 2.3h0m24.8-.6h0m10.1-1.3h0m1.5 1.5h0m28.6-1.7h0m3.7 2.4h0m11.8-1.2h0m4.7-.2h0m5.3-1.3h0m.3 .1h0m8.6-.4h0m8.7-.4h0m-156.3 6.5h0m1.8 2.8h0m2.9-3h0m.1 .6h0m.7-2.7h0m.8-.4h0m.2 3.3h0m0-1.3h0m4.6 .6h0m.2 2.3h0m2.8-.8h0m4.7 1.6h0m.9-4.6h0m2.2 4.6h0m.1-2.8h0m2.3-.8h0m1.9 2.3h0m.1 .5h0m5.7-4h0m1-1h0m.2 5.8h0m1.4-5.3h0m.1 4h0m2.5-.1h0m.4-1.6h0m4.5 2.6h0m.2-3.2h0m.3-.3h0m6.2 3.9h0m4.6-2.1h0m4.6 .1h0m3.4-3.1h0m1.9 2.9h0m5.8 0h0m1.8-.5h0m5-.1h0m4.4 2.4h0m4.5-4.7h0m.3 3.5h0m4.1-3.8h0m11.4 5.1h0m.7-.6h0m.5 .6h0m.6-3.6h0m.5-1.5h0m1.4 1.8h0m3.2-2h0m5.1 4h0m.8-3.4h0m1.7 .7h0m.1 2.7h0m1.6 1h0m8.1-5.2h0m1.3 2.5h0m3.7 2.6h0m.1-2.6h0m1 3.3h0m5 .1h0m1.3-.6h0m3.2-.8h0m2 .7h0m0-1.3h0m3.2 1.9h0m6.6-4.1h0m2.5 0h0m-155.2 7.8h0m1.1 .3h0m0-2.2h0m4.8 .2h0m.6 .5h0m4.5 .6h0m.8-1.9h0m3.8-1.1h0m2 3.9h0m3.1-.9h0m.1 .1h0m.6-1.5h0m4.3 3.3h0m.8 .6h0m2.3 .3h0m1.5-5.3h0m.2 4.4h0m1.8-.9h0m1-2.9h0m.9 3.6h0m1.5-1.3h0m1.6 1.9h0m1.3-.8h0m3.4-.7h0m.8 1.2h0m1.7-1.8h0m.8 1.6h0m2-2.1h0m.7 2.7h0m.1-1.4h0m2-3.6h0m1.5 5.1h0m7.4-2.2h0m2.8-1.2h0m2.8 1.6h0m.1 .1h0m.3-2.6h0m2.2 1.7h0m2.9 3h0m.6-5.6h0m.3 1.9h0m1 .1h0m2.7 2.5h0m.7-.8h0m0 .7h0m1.6-.7h0m1.3 .9h0m.7-3.8h0m.7 1.8h0m.1 2.5h0m1.1-2.5h0m.1 2.1h0m.6 .5h0m.6-5h0m.6-.5h0m.1 2.8h0m4.1-1.1h0m.8-.7h0m.4 4.7h0m9-4.3h0m.8 .6h0m.3 3.3h0m2.3-1.2h0m1.8 0h0m1.5-1.5h0m3.3-1.4h0m1.8-.2h0m6.1 .6h0m1 3.2h0m2.2-3.9h0m.2 4.6h0m0-5h0m.9 1.9h0m.8-2h0m.1 3.8h0m.9-3.5h0m.4 2.9h0m0 2.4h0m.9-3.2h0m.1 2h0m5.3-1h0m1.6 .1h0m1.6-2.2h0m3 .4h0m.8-.5h0m0-.4h0m1.9 3.3h0m.6-3.9h0m1.5 .6h0m.8-.3h0m.3 3.3h0m0 0h0m1.4-2.3h0m1.8 2.9h0m7.2 1.1h0m3.5-4.2h0m-154.6 5.9h0m3.6 0h0m2.3 2.1h0m.3-1.5h0m.5 .1h0m.8-2h0m1.1 .9h0m1.6-.7h0m0 2.3h0m1.9 .2h0m1.6 1h0m.4-2.1h0m.1 .4h0m2.3-.2h0m3.7 0h0m5.1 .2h0m.5 1.2h0m.4-.9h0m1.3-1.5h0m5.7 4h0m1.5-3.5h0m0 .2h0m4.3 3.3h0m1.1-.8h0m1.1-.4h0m4.1-.4h0m1.5 1.5h0m2.2-3.7h0m2.2 1.5h0m1.9 1.9h0m1.9-4.3h0m2.2 .4h0m1.7 3.9h0m6.6-2.8h0m1.7-.5h0m.1 .5h0m5.9 .3h0m1 .6h0m.2-1.8h0m8 1.7h0m1.6-1.9h0m1.6 2.4h0m11.1-2h0m8.3-.3h0m3.7 3.2h0m3 .1h0m2.5-.7h0m1.1-1.1h0m.3 2.3h0m6-3.3h0m3.2 1.2h0m1-1.6h0m.7 4.6h0m.8-2.6h0m1.1-.4h0m1.4-1.8h0m1.8-.1h0m2-.6h0m8.9 0h0m6.7 4.5h0m1.5-2.8h0m1.4-.1h0m.5 4h0m.5-2.7h0m.1-.7h0m5.5 2.2h0m-152.1 4.3h0m1-2.5h0m3.4-.3h0m13.5 1.8h0m44.4-.9h0m10.1 .6h0m23.5 .6h0m2.4 .1h0m8 .7h0" stroke="#7c7872" stroke-width="3.0" stroke-linecap="round" fill="none"/>
<path d="M327.6 106.3h0m2.3 4.6h0m4.5-1.6h0m2.5 .6h0m2.7-.2h0m2.4-.6h0m13.2-.9h0m3.1 2.7h0m9.8-1.2h0m11.6-1.9h0m4.9 2.6h0m24.9-2.3h0m1.9 2.6h0m10.5 .2h0m3.6-.1h0m8.2-1.4h0m0-.2h0m4.7 1.7h0m4.2-2.9h0m9.1 .2h0m1.8 1.7h0m7.1-.8h0m2.7 .1h0m1.4-1.4h0m9.5 3.2h0m1-.5h0m6.6-3.3h0m-154 6.4h0m3 3.3h0m.6-5.4h0m3.3 3.9h0m.3 .8h0m2.3-4.8h0m4.6 4.9h0m1-4.6h0m.8 5h0m.6-1.4h0m.6 1.5h0m.8-1.1h0m1.3-2.1h0m.2-2.6h0m.5 1.5h0m2.2 .4h0m7.8 1.5h0m5.2-1.9h0m1.8 1.2h0m7.3-2.2h0m1.5 2.2h0m.3 1.1h0m3.4-.7h0m4.1 2.8h0m2.1-.8h0m.1 0h0m2.8-1.7h0m1.2-.1h0m0 2.2h0m3.8 .5h0m.6-5.4h0m1.9 3.9h0m4-3.2h0m3.7 3.2h0m2.9-1.3h0m1.7 1.7h0m.4 .5h0m.7-2.9h0m0 0h0m1.9 0h0m1.9 .9h0m1.2 2.1h0m0-4h0m.3 1.9h0m4.1-3h0m.4 .8h0m2.7 1h0m.8 .7h0m1.8 2.2h0m.4-1h0m.2 1.6h0m1.6-1.2h0m2-1.3h0m1.3-2.6h0m1.2 3.3h0m.5-2h0m.2 0h0m1.3 .4h0m1.5-1.2h0m3.1 4.1h0m1.9-5.2h0m.6 3.4h0m2.8 2.5h0m.9-3.7h0m2.3 .4h0m1.5 1.9h0m2.9-.7h0m.4-.2h0m1.2 .8h0m1.2 1.5h0m.1-3.9h0m2.9-1.2h0m2.3 4.4h0m.3-.7h0m.3-4.3h0m1.4 5h0m.2-2.4h0m1.4 2.3h0m1.1-4.1h0m.7 1.5h0m2.9-1.2h0m.8 3.7h0m5.6-4.3h0m.2 .7h0m1.2 .4h0m2.2 1.3h0m.3 1.2h0m.8-.1h0m1-2h0m6.8 3.6h0m.9-1h0m1.1 .7h0m-158.3 4.9h0m2.6 1.4h0m1.7-4.9h0m.8 .3h0m.6 4.5h0m.3-1.8h0m.1 .4h0m1.3-1.1h0m.7-2.7h0m1.8-.4h0m.5 1.6h0m3 2.6h0m3.1-.1h0m.3-2.1h0m1.5-.9h0m1 4.8h0m1-6h0m2.3 5.7h0m3.5-4.9h0m5.4 1.9h0m4.9 3h0m.1-.6h0m.4-3.7h0m1.8 1.7h0m6.1 1.7h0m.7 .6h0m1.5-1.3h0m.7 .4h0m1.3-2.3h0m0 3.4h0m.8-.7h0m.1-3.9h0m.1 3.5h0m3.9-2.5h0m.4-1.4h0m.1 5.3h0m4.8-5.8h0m.8 5.2h0m.4-2.4h0m.8-2.6h0m.7 5.5h0m1.4-.4h0m.9-1.4h0m3.8-3.6h0m0 2.8h0m.1-1.7h0m.8 1.9h0m2.4-1.4h0m.8-.5h0m2.6 3.7h0m.5-1.7h0m.1-2.6h0m1.6 3.7h0m.2-2.7h0m1.2-.4h0m.2-.8h0m3.5 4.3h0m0-1.6h0m0-3h0m.4 1.5h0m.6 3.5h0m.4 .5h0m.6-4.1h0m.7 4h0m1.1-5.7h0m.2 3.5h0m.9 .5h0m2-1.7h0m1.9 2.4h0m.7-2.2h0m1-.7h0m1.1-.5h0m2.5 3.6h0m1 0h0m1.2-.2h0m4.7-3.2h0m.1 3.1h0m2.3-.9h0m2-1h0m.1-.3h0m.4-.3h0m9.7 2.4h0m.5-.9h0m.3 .7h0m1.5 1.1h0m3.1-2.8h0m1.2-1.1h0m1.8 3.7h0m.4-4h0m1-.7h0m1.2 4.8h0m.7 .5h0m2.6-3.8h0m.2 1.6h0m0-2.5h0m2.1 3.6h0m1.3 .3h0m.7-.3h0m.2-3.3h0m.2 1.8h0m2.7 1.3h0m1.1-1.3h0m2.2-1.4h0m1.9 .9h0m.1 2.6h0m2.2-4.1h0m1.1-1h0m2.2-.2h0m0 2.5h0m4.6-.1h0m1.5 2.6h0m-153.2 6.2h0m12.3-1.3h0m2.3 1.7h0m2.5-2.9h0m7.3-1.5h0m13.7 1.7h0m4.3-1.3h0m2.6 3.2h0m3.6-.7h0m1.2-.5h0m3.9 .4h0m1.1-1.7h0m.2-.4h0m2.7-.4h0m.7-1.4h0m1.2 .1h0m1 4.1h0m4.1-1.2h0m.7-2.2h0m2.5 1.7h0m.2 .1h0m4.6-1.6h0m8.2-1h0m0 1.9h0m.3 .6h0m3.9-.8h0m6.6-.4h0m8.5-.1h0m3.5-.6h0m2.3-.7h0m8.4 0h0m.8 4h0m.9-3.1h0m.1 4.9h0m.2 0h0m.2-5.4h0m1.5 4.5h0m2.4-2.8h0m1.6-.8h0m.6 1.4h0m1-.9h0m6.9-.6h0m1.7 2h0m2.6-.8h0m.6 1.1h0m5-2.3h0m.3 1.7h0m.7-1.6h0m.8 0h0m.6 2.2h0m1 2.1h0m3.1-3.3h0m1.4-2.3h0m2.6-.1h0m3.2 4.3h0m-141.9 4.1h0m14.1 .3h0m5.1-2.6h0m11.1 .6h0m2.3-.1h0m4.5-.3h0m9.7 .2h0m6-.5h0m30.8 .6h0m.9 .8h0m11.4-.2h0m19.6 .6h0" stroke="#454545" stroke-width="1.9" stroke-linecap="round" fill="none"/>
<path d="M337.8 110.6h0m62.9-1h0m3.3-.4h0m39.8-1.3h0m28.6 2.3h0m-143.5 3.2h0m1.2-.7h0m2.6 3.4h0m7.4-.8h0m.4-2.3h0m12.2 .2h0m8.9 .5h0m15.8 0h0m2.1-1.8h0m2.2 3.7h0m19.2-.3h0m5.7-4.2h0m1.9 3.6h0m2.7-.1h0m7.6-2.1h0m4.4 2.1h0m6.6-2.4h0m2.8 .7h0m27.7 2.8h0m3.5-2.1h0m5.2 2.3h0m9.8-4.4h0m3.7 2.9h0m.5-.5h0m-145.4 8.4h0m.3-4.2h0m.2 4.6h0m7.8-1.7h0m2.3-1.6h0m3.9 0h0m1.8 1.2h0m6.5-3.6h0m5.8 2.2h0m6.8 1.5h0m3.5-.4h0m2.6 1h0m5.6 .3h0m12.4-1.7h0m5.9 2.9h0m.4-4h0m1.1 1h0m.3 .6h0m2.8 2.2h0m1.9-1.6h0m2.2-2.4h0m4 3.4h0m1.6-2.1h0m5 .2h0m3.9-1.5h0m14.8-1.1h0m1.6 4.4h0m2.2-3.6h0m4.7 3.9h0m1.1-4.9h0m.1 5.1h0m3.2-1.6h0m.6-1.7h0m14.4-2h0m9.4 5h0m.9-4.2h0m1.2-.1h0m.8 2.7h0m-154.1 7.5h0m2-2.5h0m9.4 2h0m12.1 .5h0m9-2h0m3-2.2h0m1.3 1.2h0m2.6-.6h0m8.4-1.1h0m24.8 3.8h0m14.3 .6h0m2.1-3.5h0m2.5 2.3h0m3.2-2.9h0m3.6 .6h0m9.2 1.9h0m10.8-1.9h0m.6 .4h0m7.5 1.4h0m10.1 2.6h0m8-4.9h0m2.2 4.6h0m4.8-4.8h0m-107.7 6.8h0m4.6-.6h0m70.9 1.8h0m37.2-1.1h0m.5 .3h0" stroke="#c4c4c4" stroke-width="1.1" stroke-linecap="round" fill="none"/>
<path d="M334.7 110.5h0m1-3.4h0m.9 2.2h0m.6-.4h0m2.8 1.1h0m.8-.5h0m2.3-.8h0m8.3-1.8h0m4.2 3.5h0m13.3-3h0m4.2 3.2h0m.7-.8h0m5.7-.3h0m10.6-.1h0m10 1h0m.8-1.8h0m5.4 .2h0m1-.3h0m4.1-.4h0m2.3 .7h0m11.9-1.3h0m2.2 1.7h0m2.2 1.3h0m6-2.2h0m1.7 2.7h0m4.4-2h0m1.4-1.7h0m11.4 2.6h0m7.4 .4h0m2.7-3h0m4.7-1h0m2.7 2.3h0m5.7-2h0m3.7 2.5h0m-154.5 2.4h0m.1 5h0m.1-2.2h0m.1-1.9h0m3.3 2.6h0m0-.6h0m1-1.4h0m.8 1.6h0m2.3-3h0m.8 2.8h0m.2-1.4h0m2.2 3.8h0m1.2-1.9h0m1-.8h0m.2 2.3h0m.5-3.7h0m.1 1.7h0m.9-1.7h0m1.4 3.4h0m1.8-3.2h0m1.2 .2h0m1.7 3.2h0m.5-2.1h0m2.3-2.4h0m4.9 1.5h0m1.4 3.4h0m5.1-3.8h0m.6 2h0m.8-3h0m.7-.3h0m.6 1.8h0m.9 3.1h0m.4-.8h0m1.2-2.5h0m.7 0h0m.7-.5h0m4.6 2.9h0m1.1 .6h0m1.2-2.6h0m3.5 2.7h0m1.7-4.5h0m3.9 2.8h0m1.4-1.2h0m.8 1.7h0m.6 .8h0m2-3.6h0m3.5 .4h0m2.2 2.8h0m1-3.3h0m.5 .7h0m4.2 .5h0m1.6-.8h0m.2 2.9h0m.3-.5h0m.7 .6h0m.5 .7h0m2-2.1h0m.2 .4h0m1.2-1.1h0m.9 .3h0m.6-.2h0m2.1 2.1h0m1.3-3h0m.2-.3h0m1 2.2h0m2.6 .7h0m1.7-.1h0m.9-1.7h0m.5 2.6h0m.2-2.8h0m2.1 1.2h0m.1 1.4h0m.5-.3h0m.7-.8h0m1.3-1.7h0m.6 2.3h0m.4 1.3h0m1.2-4.8h0m3.9 1.4h0m3.2-.2h0m1.1 2.4h0m.1-3.8h0m1.4 4.7h0m.4-2.1h0m.2-1.1h0m.5-1.8h0m.6 4.2h0m2.1-.4h0m1.1-3h0m.1 2.3h0m.2-2h0m3.6-.1h0m5.1 3.7h0m1.2-3.4h0m.3 3.7h0m2.1-5h0m1.3 2.8h0m.4 1.9h0m1.3-1.9h0m5-1h0m1.1 3h0m1.1 .5h0m2.8 0h0m1-4.5h0m0 1.2h0m1.3 2.5h0m1.7-4.5h0m1.4 .7h0m3.6 .7h0m.6 .7h0m1-1.4h0m1.6 4.6h0m1-5.6h0m1 5.1h0m.4-3.5h0m2.6 4h0m-156.3 3.6h0m2.4-1.4h0m1.5-.4h0m1.1-.6h0m2.4 1.7h0m.3-.2h0m1.9 3.4h0m2.2-1.1h0m1.2-2h0m.1 2.4h0m3-2.8h0m1.8 1.5h0m2.9-3.7h0m.9 1.3h0m0-.6h0m1.8 3.9h0m.9-2.2h0m1.7 .8h0m.2 .1h0m.2-.1h0m.3 .7h0m2-1.5h0m.1 1.7h0m.5-.8h0m.4 1.9h0m.2-2.2h0m1.3 .5h0m.1-3h0m.1-.2h0m.5 3.7h0m.4 .4h0m2-.9h0m.3 .1h0m1-2.5h0m.2 0h0m.1 1.9h0m.2-.5h0m1.1-2.2h0m.2 2.2h0m1.1-.3h0m.3-.3h0m.7-1h0m.3 1.1h0m2.1 0h0m.9-1.8h0m0 3.3h0m4.4-1.5h0m.5-1.3h0m1.9-.8h0m1.4 3.2h0m3.6 1.5h0m1.1-.5h0m.4-2.4h0m.7 1.2h0m.1-1.1h0m1.1 3h0m1.9-3.4h0m.7 2.2h0m4.5 1.8h0m2.2-1h0m.2-3.8h0m1.3 1.3h0m.5-1.8h0m.6-.2h0m1.1 .1h0m3.9 4.4h0m.1-1.6h0m.5-2.7h0m.4 4h0m.9-1.7h0m.3-1.9h0m1.4-.1h0m.6 1.5h0m.6 .5h0m.3 1.1h0m4.4-2.8h0m.4 2.6h0m6.5-2.2h0m.9 4.8h0m0-2.1h0m.8-3.3h0m2.5-.5h0m.9 2.6h0m.5-1.4h0m.6 .4h0m.3 4.1h0m2.1-3.3h0m.7 .2h0m.3-.4h0m.9-2.2h0m.4 1.1h0m.3 1.9h0m1.3 2.7h0m.7 0h0m1.9-1h0m.7-3.4h0m.3 3.2h0m1.7 1.1h0m.6-3.3h0m.2 2.9h0m.7-4.6h0m.4 1.5h0m1 1.7h0m.3-3.9h0m1.5 4.9h0m2.5 1.1h0m.4-.8h0m.7-2.5h0m.9 1.8h0m2.3 .7h0m.1-4.1h0m2 3h0m4-1.7h0m1.2-1.3h0m.1 3.8h0m.7-4.5h0m.7 5.2h0m2-4.6h0m.4 4.6h0m.1-1h0m2.1-1h0m1-.4h0m.2 .5h0m2.8 .1h0m2.1-.3h0m.7-2.8h0m.2 5.1h0m.9-3.1h0m.7 2.2h0m.9-4.2h0m.1 4.1h0m2.9-4.1h0m1.8 .9h0m1.9 1.7h0m2.2 1.8h0m1.4-3h0m.2 3.3h0m.9-4.5h0m1.3 5h0m.8-.9h0m1.1-2.1h0m-154.6 3.7h0m1.4 2.2h0m7.2-2.2h0m.1 .2h0m.4-.2h0m5.8-.1h0m1.6 .5h0m.5-.7h0m2.9 4.6h0m6.9-3.3h0m2.9 1.6h0m1.9-2h0m.3-1.2h0m.6 .6h0m4.8 3.9h0m2.6-2.2h0m6.8 0h0m1.7 .4h0m2.7 2.4h0m1.1-3.4h0m.5 .6h0m2.9-.3h0m1.5 2.4h0m.3-3.9h0m1.6 5.3h0m1.1-2.1h0m3.1-2.7h0m10.3-.3h0m.9 1.8h0m2.7-2.1h0m0 .6h0m1.3 1.2h0m3.6 .4h0m1.7-.1h0m.4-.4h0m.3-1.4h0m2.5 .3h0m.8 1.8h0m1.1 2.1h0m1.5-1.1h0m1.8-2.1h0m4.1 .6h0m1.7 2.5h0m.5 .2h0m1.1-2.4h0m7.7 2.4h0m2.4-1.3h0m3.2 .7h0m0 1.2h0m1.2-4h0m.8 2.8h0m1.6-1.3h0m.5 1.2h0m2.7-1.6h0m6 1.5h0m3.6-3.8h0m.6 1h0m3.8 .9h0m.7-1.6h0m.8-.7h0m2.2 3.6h0m1.2-1.7h0m.8 .8h0m1.1 .2h0m2.4-.6h0m.2-1.5h0m5.3 2.7h0m.7-2h0m3.1 3.4h0m.1-.9h0m2.4-.9h0m-158.9 3.7h0m16.4 .1h0m18.5 .7h0m10.4-1.4h0m3.5 2.2h0m6.9-.8h0m4.3-.1h0m24.8-.8h0m18.5-.4h0m13.4 .3h0m10.5 .9h0m14.8 .5h0m.6-.8h0" stroke="#b01e28" stroke-width="2.1" stroke-linecap="round" fill="none"/>
<path d="M334.7 110.7h0m16.7-2.6h0m1.8 .3h0m7.7 1h0m.5 1.2h0m5.5-4.3h0m4.7 3.6h0m1.2 .2h0m2.6-2.4h0m1.2 2.3h0m24.8-.6h0m10.1-1.3h0m1.5 1.5h0m22.9 1.2h0m5.7-2.9h0m3.7 2.4h0m8 .3h0m3.8-1.5h0m4.7-.2h0m5.3-1.3h0m.3 .1h0m8.6-.4h0m8.7-.4h0m-156.3 6.5h0m1.8 2.8h0m2.9-3h0m.1 .6h0m.7-2.7h0m1 2.9h0m0-1.3h0m4.6 .6h0m.2 2.3h0m2.8-.8h0m1.1 1.7h0m3.6-.1h0m.9-4.6h0m2.2 4.6h0m.1-2.8h0m2.3-.8h0m1.9 2.3h0m.1 .5h0m5.7-4h0m1.2 4.8h0m1.4-5.3h0m.1 4h0m2.5-.1h0m.4-1.6h0m4.5 2.6h0m.2-3.2h0m.3-.3h0m6.2 3.9h0m.9 .5h0m3.7-2.6h0m4.6 .1h0m3.4-3.1h0m1.9 2.9h0m5.8 0h0m1.2 2.6h0m.6-3.1h0m5-.1h0m4.4 2.4h0m1.5 1h0m.6-.5h0m2.4-5.2h0m.3 3.5h0m4.1-3.8h0m11.4 5.1h0m.7-.6h0m.5 .6h0m.6-3.6h0m.5-1.5h0m1.4 1.8h0m8.3 2h0m.8-3.4h0m1.7 .7h0m.1 2.7h0m1.6 1h0m1.3 1.2h0m1.7-.1h0m6.4-3.8h0m3.7 2.6h0m.1-2.6h0m1 3.3h0m5 .1h0m1.3-.6h0m3.2-.8h0m2 .7h0m0-1.3h0m3.2 1.9h0m6.6-4.1h0m2.5 0h0m-155.2 7.8h0m1.1 .3h0m0-2.2h0m4.8 .2h0m.6 .5h0m.3 3.9h0m2.7 .2h0m1.5-3.5h0m.8-1.9h0m5.8 2.8h0m3.1-.9h0m.1 .1h0m.6-1.5h0m4.3 3.3h0m.8 .6h0m2.3 .3h0m1.5-5.3h0m.2 4.4h0m1.8-.9h0m1-2.9h0m.9 3.6h0m1.5-1.3h0m1.6 1.9h0m1.3-.8h0m3.4-.7h0m.8 1.2h0m1.7-1.8h0m.8 1.6h0m2-2.1h0m.7 2.7h0m.1-1.4h0m3.5 1.5h0m2.7 .9h0m4.7-3.1h0m2.8-1.2h0m2.8 1.6h0m.1 .1h0m.3-2.6h0m2.2 1.7h0m2.9 3h0m.9-3.7h0m1 .1h0m2.7 2.5h0m.7-.8h0m0 .7h0m1.6-.7h0m1.3 .9h0m.7-3.8h0m.7 1.8h0m.1 2.5h0m1.1-2.5h0m.1 2.1h0m.6 .5h0m1.3-2.7h0m4.1-1.1h0m.8-.7h0m.4 4.7h0m9-4.3h0m.8 .6h0m.3 3.3h0m2.3-1.2h0m1.8 0h0m1.5-1.5h0m3.3-1.4h0m1.8-.2h0m6.1 .6h0m1 3.2h0m2.2-3.9h0m.2 4.6h0m.9-3.1h0m.9 1.8h0m.9-3.5h0m.4 2.9h0m0 2.4h0m.9-3.2h0m.1 2h0m5.3-1h0m1.6 .1h0m1.6-2.2h0m1.8 4.4h0m1.2-4h0m.8-.5h0m0-.4h0m1.9 3.3h0m.6-3.9h0m1.5 .6h0m.8-.3h0m.3 3.3h0m0 0h0m1.4-2.3h0m.4 4.2h0m1.4-1.3h0m7.2 1.1h0m3.5-4.2h0m-154.6 5.9h0m3.6 0h0m2.3 2.1h0m.3-1.5h0m.5 .1h0m.9 4h0m1-5.1h0m1.6 1.6h0m.8 3.2h0m1.1-3h0m1.6 1h0m.4-2.1h0m.1 .4h0m2.3-.2h0m3.7 0h0m5.1 .2h0m.5 1.2h0m.4-.9h0m1.3-1.5h0m5.7 4h0m1.5-3.5h0m0 .2h0m4.3 3.3h0m1.1-.8h0m1.1-.4h0m4.1-.4h0m1.5 1.5h0m2.2-3.7h0m2.2 1.5h0m1.9 1.9h0m4.1-3.9h0m1.7 3.9h0m6.6-2.8h0m1.7-.5h0m.1 .5h0m5.9 .3h0m1 .6h0m.2-1.8h0m8 1.7h0m1.6-1.9h0m1.6 2.4h0m11.1-2h0m8.3-.3h0m3.7 3.2h0m3 .1h0m2.5-.7h0m1.1-1.1h0m.3 2.3h0m6-3.3h0m3.2 1.2h0m1-1.6h0m.7 4.6h0m.8-2.6h0m1.1-.4h0m1.4-1.8h0m1.8-.1h0m17.6 3.9h0m1.5-2.8h0m1.4-.1h0m.5 4h0m.5-2.7h0m.1-.7h0m5.5 2.2h0m-152.1 4.3h0m17.9-1h0m44.4-.9h0m10.1 .6h0m23.5 .6h0m2.4 .1h0m8 .7h0" stroke="#d6d2ca" stroke-width="2.2" stroke-linecap="round" fill="none"/>
<path d="M366 64.1l1.1-1.7M367.1 62.5l.6-1.9M367.7 60.5l.9-1.8M368.6 58.8l1.8-.9M370.4 57.9l1.5-1.3M372 56.6l1.8-.8M420.1 92.3l-1.5 .1M407.2 59.9l-.7-1.9M390.8 82.5l1.5-.6M390.8 82.5l-.2 1.6M444.8 79.8l-.9-1.3M444.8 79.8l1.6-.1M343.4 91.1l.5-1.4M459.6 58.7l-1.4-.8M459.6 58.7l1.4-.8M464.1 78.7l1.6-1.2M465.7 77.5l2-.2M467.7 77.3l1.5 1.3M393.8 49.6l-.6-1.9M393.2 47.7l-.9-1.8M392.3 45.9l-1.4-1.4M390.9 44.5l0-2M390.9 42.5l-.1-2M392 72.2l2 .4M361.2 97.4l-1.3 .9M361.2 97.4l-.1-1.6M369.3 57.3l-1.4-1.4M385.7 93l1.5-1.4M387.2 91.7l1.5-1.3M388.6 90.3l.6-1.9M389.2 88.4l-.6-1.9M388.6 86.5l-1.9-.7M474.1 71.5l.7-1.9M348.3 77.3l1-1.2M348.3 77.3l.5 1.5M389.4 99.7l1.3-1M389.4 99.7l.2 1.6M344.6 81.6l-1.5 1.3M343.1 82.9l-1.9 .7M341.2 83.6l-2-.4M339.3 83.2l-1.8-.9M337.5 82.3l-1.4-1.5M463.7 97.3l1.5 1.4M409.7 53.5l-1.3-1M409.7 53.5l1.5-.6M474.6 73.2l1.7-1.1M476.2 72l1.8-.9M478 71.2l1.6-1.2M479.6 69.9l1.8-.8M481.5 69.2l2 .2M414.4 69.5l1.6-.2M414.4 69.5l-.6 1.5M453.2 84.7l-1.8 .8M451.4 85.5l-1.1 1.7M450.3 87.2l-1.8 .8M448.5 88l-1.5 1.3M447 89.3l-1.6 1.3M357.5 88.4l1 1.8M377.6 67.2l1.6-1.2M379.3 66.1l1.6-1.2M380.9 64.8l2 .2M382.8 65.1l1.8 .8M471.2 81.5l-2 0M466.3 47l-.3 1.6M466.3 47l-1.2-1M391.7 87.2l-.9 1.8M390.7 88.9l.7 1.9M391.4 90.8l.4 2M415 89.3l-.9-1.8M349.9 62.7l-.3-2M349.5 60.7l1.2-1.6M350.7 59.1l.7-1.9M453.4 65.2l.2 2M453.6 67.2l1.4 1.5M454.9 68.7l2 .1M456.9 68.7l2 .1M458.9 68.8l1.9 .7M460.8 69.5l2 .3M374.1 94.7l-.5-1.9M373.6 92.8l-1.3-1.5M372.3 91.3l-1.8-.9M370.5 90.5l-.5-1.9M390.1 61.5l-.9-1.8M389.2 59.7l-1.9-.7M387.3 59l-1.2-1.6M386.1 57.4l-1.8-.8M384.3 56.6l-1.9 .6M382.4 57.2l-1.7-1M386.9 86.1l2-.1M388.9 86l1.8 .8M390.7 86.8l1.8 .8M392.5 87.6l1.7 1.1M394.2 88.7l1.9-.5M403 73.2l-.7 1.9M402.3 75.1l-.8 1.8M401.5 76.9l-.1 2M401.4 78.9l-.4 2M401 80.9l.6 1.9M454.1 60.4l-1.9 .8M452.3 61.1l-1.7 1.1M450.6 62.2l-1.8 .8M448.7 63l-1.9-.5M446.8 62.5l-1.4-1.4M382.4 103.2l1.4 .7M382.4 103.2l-1.3 .9M353.2 71.5l-.6-1.4M401 64.8l.7 1.9M362.2 88.3l-2-.2M438.2 56.1l-.2 1.6M438.2 56.1l-1.3-.9M437.8 102.4l-1.4-1.4M436.3 101l-2 .2M434.4 101.2l-1.9-.6M372.6 65.6l.8 1.4M372.6 65.6l-1.6 0M386.2 98l.5-1.5M386.2 98l1 1.2M348.5 50.8l.9 1.2M403.5 103.4l1.3-.8M417.2 74.7l.5 1.9M468.7 86.7l2 .3M470.7 87l1.8-.9M472.5 86.1l1.7-1.1M474.2 85.1l.6-1.9M474.8 83.1l.7-1.9M475.4 81.3l1.6-1.2M346.1 90.9l.5 1.5M346.1 90.9l-1.6-.4M469.5 95.6l-.8 1.4M469.5 95.6l-.7-1.4M464.1 186.9l-1.5 .6M464.1 186.9l.2-1.6M470.5 172.4l1.3-.8M430.4 182.3l1.5-.1M407.5 155.4l-.5-1.4M465.8 134.3l-1.4-.6M366.7 175.4l-1.2-1.6M363.1 134.1l-2 .4M476.3 177.4l1.5 .4M476.3 177.4l-1.2 1.1M419.4 157.2l1.5 .4M419.4 157.2l-1.1 1.1M404.6 187.6l-1-1.8M403.7 185.8l-1.8-.9M401.9 184.9l-1.9 .5M465.9 185.3l2 0M467.9 185.4l2 .4M469.8 185.7l1.7-1.1M444.3 135.3l0-2M444.3 133.3l.8-1.8M445 131.5l1.9-.6M446.9 130.9l1-1.7M448 129.2l1.5-1.3M449.4 127.9l.7-1.9M479.9 139l-.3 2M345 136.4l-.6-1.4M365.2 155.6l1.6 1.2M366.8 156.8l.8 1.9M367.5 158.6l-.4 2M367.1 160.6l1.2 1.6M473.8 158.7l-.5-1.9M385.2 152.2l1.7 1.1M430.7 186.2l-.6-1.9M430.1 184.3l-.9-1.8M429.2 182.5l-1.7-1.1M427.5 181.4l-.4-2M427.1 179.5l.5-1.9M456.3 151.6l-1.4-1.4M477.2 143l-1.6-.3M477.2 143l1.1-1.2M413.5 186.5l-1.9 .6M411.6 187.1l-2-.3M409.6 186.9l-1.7-1M350.9 187.1l-1.2-1M350.9 187.1l1.5-.5M358.1 187.1l-.4 2M476.4 139.1l1.1-1.2M476.4 139.1l.5 1.5M416.3 174.5l-1-1.3M416.3 174.5l1.6-.2M464.1 185.6l-1.6 1.2M462.5 186.8l-1.9 .6M460.6 187.4l-2-.2M458.6 187.3l-1.3-1.5M457.3 185.8l-.2-2M456.8 146.7l.5-1.9M457.3 144.7l-.6-1.9M456.7 142.8l-1.6-1.2M455.1 141.6l-1.4-1.5M453.8 140.2l-1.9-.5M347.8 189l-1.2 1.1M347.8 189l-.3-1.6M460.3 141.3l1.9-.5M353.9 178.1l0 2M349.9 147.9l.6-1.9M447.3 146.5l.7 1.9M387.7 169.9l-1.2 1.6M386.5 171.5l-.8 1.8M385.6 173.3l-.8 1.9M349.7 165.1l-2 .1M361.7 148.9l-1.9 .7M341.8 162.5l-2 .2M397.6 137.1l-1.6-.2M397.6 137.1l1-1.3M380.4 139.7l-1.6 .2M380.4 139.7l.6-1.5M474.3 178l2 .2M476.3 178.2l1.6 1.2M477.9 179.3l1.1 1.7M479 181l1.7 1.1M480.7 182.1l1.4 1.4M387.6 155.7l1.5-1.3M461.1 170.8l-.9-1.3M461.1 170.8l1.6-.2M335.6 159.7l-.3-2M375.8 188.6l1.1-1.7M395.6 73.1l-2-.1M398.3 74.5l.2 2M399.4 73.3l1.8 .9M397.3 80.3l-1.6 1.2M400.6 80.6l1.4 1.4M397.6 78.8l-1.3-1.5M397.5 73.2l1.5 2.6M399 75.8l.1 4M395.4 87l-1.7 1M395.3 85.5l-1.9-.7M398.7 86.8l1.3 1.5M399.1 79.7l-1.4 3.7M397.7 83.4l-.7 2.7M396.6 93.4l-1.7 1M397.4 90.9l-.9-1.8M398.4 93.8l.7 1.9M397 86.2l1.3 2.3M398.3 88.5l-.4 3.9M395.3 97.7l-.7-1.9M397.6 100.1l1 1.7M398.4 98.7l1.8-.9M397.9 92.4l-.4 3.4M397.5 95.8l-1 3.1M450.6 59.4l1.6 1.2M450.2 56.8l.4-2M451.4 58l1.9-.4M451.2 61.5l-2-.4M452.5 60.4l-.2-2M451.7 63l-1.8 1M449.5 58.2l1.4 2.8M450.9 61l2.1 .9M454.5 65.5l-.8-1.8M454.8 68.1l-1.1 1.7M456.4 65.4l.3-2M453 61.9l.7 2M453.8 63.8l1.9 2.9M458.1 69.7l.1-2M460 70.1l1.2-1.6M460.5 71.5l2 .4M455.6 66.7l1.5 1.3M457.1 68l1.5 3.2M391.7 151.4l1.4-1.4M389.4 153.8l-.8 1.8M392.5 152.8l2-.1M390.3 160.4l-1.9 .6M393.6 160.5l1.9 .5M393.7 159l1.5-1.3M390.6 152.6l-.3 3M390.3 155.6l1.7 4.1M394.4 165.2l-1.9 .6M395.4 166.4l-1 1.8M395.2 163.9l-1.2-1.6M392 159.7l1.6 1.8M393.7 161.5l2.6 3.6M395.9 172.9l-1.3 1.5M397.7 173.3l.9 1.8M398.6 170.8l1.5-1.3M396.3 165.1l-.2 3.7M396.1 168.9l1.2 3M401.3 176.6l1.8 .9M401.6 175.1l2-.2M399.5 177.1l0 2M397.2 171.8l1.6 2M398.9 173.9l1 1.8M399.4 73.3l-1.1 1.2-1.9-.1-.8-1.3 1.1-1.3 1.9 .1zM400.6 80.6l-1.7 .6-1.6-.9 .3-1.5 1.7-.6 1.5 .9zM397.1 87.7l-1.7-.7-.1-1.5 1.5-.8 1.7 .6 .2 1.5zM399.8 92.7l-1.4 1.1-1.8-.4-.5-1.4 1.3-1.1 1.9 .4zM397.6 100.1l-1.8 .2-1.2-1.2 .7-1.4 1.9-.2 1.2 1.2zM447.6 58.4l.7-1.4 1.9-.2 1.2 1.2-.8 1.4-1.9 .2zM451.7 63l-.5-1.5 1.3-1.1 1.8 .4 .6 1.4-1.3 1.1zM453.7 66.9l.8-1.4 1.9-.1 1.1 1.2-.8 1.4-1.9 .1zM459.2 72.6l-1.8-.3-.6-1.5 1.3-1.1 1.9 .4 .5 1.4zM391.3 154l-1.9-.2-.7-1.4 1.1-1.2 1.9 .2 .8 1.4zM390.3 160.4l.1-1.5 1.7-.7 1.6 .8-.1 1.5-1.7 .7zM394.4 165.2l.8-1.3 1.9-.1 1.1 1.3-.9 1.3-1.9 0zM399.1 172.3l-1.4 1-1.8-.4-.5-1.5 1.4-1 1.8 .4zM401.3 176.6l-1.8 .5-1.5-1 .4-1.5 1.8-.4 1.4 .9z" stroke="#5a5a5a" stroke-width="0.75" fill="none" stroke-linecap="round" clip-path="url(#ca3)"/>
<path d="M390.8 40.5h0m.1 4h0m1.4 1.4h0m-20.3 10.7h0m12.3 0h0m65.9 .2h0m-100.7 3.9h0m1.9-3.5h0m15.7 5.3h0m.6-2h0m.9-1.7h0m.7-1.5h0m1.1 .6h0m12-.7h0m3.7 .2h0m1.2 1.6h0m1.9 .7h0m18 .2h0m40.4-1.5h0m1.1 4.6h0m0-3.4h0m1.9 2.6h0m0-2.8h0m.6 2.1h0m.2-3.5h0m.3 5h0m.5-2.3h0m.1 .4h0m0-2.6h0m.2 1.9h0m.8-2.8h0m1 3.2h0m-73.4 4h0m1.9 .3h0m1.9 .8h0m16.3-1.1h0m49-.9h0m3.6-.6h0m.1 3.6h0m.8-1.4h0m.3 2.6h0m.1 .6h0m1.5-3.3h0m.5 3.3h0m.6-2.1h0m.7 1.1h0m2.9 .8h0m-69.1 3.7h0m1.6 .7h0m2 .2h0m.8 1.3h0m.3-2.6h0m1.9 .1h0m.8 1.4h0m1.8 .9h0m16 .5h0m36.6-4.9h0m3 1h0m.6 1.5h0m1.8 .3h0m.8-2.5h0m.5 1.4h0m.3-2h0m2 .3h0m11.3 1.7h0m2.1 .5h0m1.8-.8h0m3.5-2h0m2 .1h0m-147.4 11.6h0m61.2-.6h0m1.2-3.8h0m.8 1.7h0m1.3 2.4h0m.2-1.5h0m1.5-4h0m65.4 2.2h0m-130.2 5h0m1.8 .9h0m47.4 2.6h0m1.9 .7h0m.3-.5h0m1.8 .8h0m2.7-2h0m1.9 .7h0m1.5-.8h0m1.7 .6h0m.2 1.5h0m.2-5.6h0m2.8 1.6h0m.3-.8h0m49.4 3.5h0m19.8-4h0m3 3.6h0m1.2-3.8h0m-117.9 7.1h0m4.7-.1h0m8.3 2.2h0m1.8 .8h0m19.5 1.5h0m2.4-4.1h0m1.2-1.7h0m.7 5h0m0-3.8h0m.4 .9h0m.6-1.4h0m.3 3.2h0m1.9 .4h0m.5 1.4h0m15.2-3.4h0m32 0h0m3.3-2.1h0m-55.7 8.7h0m.2-1.5h0m.5 3.3h0m1.3-4.3h0m.6 4.1h0m1.2 1.2h0m0-4.9h0m65.3 3.5h0m-69.1 1.8h0m1.2 1.2h0m1.8-.2h0m1.1 1.7h0m33.7-1.2h0m3.9 .4h0m13.1 26.9h0m-86.3 6.2h0m81.9-2.6h0m1.9-.6h0m1.1-1.7h0m3.8 10.5h0m2 .5h0m26.1-1.2h0m-32.6 7.5h0m7.8-4.9h0m2.2 3.1h0m3-3.4h0m-110.4 6.6h0m11.8 1h0m23.5 3.3h0m3.5 .2h0m1.1-1.2h0m1.9 .2h0m.8 1.4h0m.6-2.8h0m63.2 1.6h0m-68.7 4.1h0m1.1 0h0m.7-1.9h0m1 5.1h0m.9-4.9h0m.8 4.2h0m3.1-.5h0m78.6 1h0m-138.2 1h0m6.2 2.8h0m26.5-.3h0m22-1.8h0m1.6 .8h0m1.8-2.2h0m.4 3.2h0m1.1 1.7h0m1.9-.1h0m-47.4 1.3h0m45.7 1.3h0m1.9 0h0m.9-1.3h0m.4 5.7h0m-31.9 4.6h0m18.2-.3h0m.7-1.8h0m.9-1.8h0m8.1 2.9h0m.8-3h0m.5 1.5h0m1.8 .4h0m.3 2.8h0m.4-1.5h0m.2 .5h0m.5-2.8h0m1.1 1.9h0m1.1 2.4h0m.3-1.5h0m2-.1h0m-49.7 3.1h0m45.6-1h0m3.5 .4h0m24.1 2h0m2.1 3h0m47.1-4.3h0m1.6 1.1h0m1.1 1.7h0m1.7 1.1h0m-122.6 5h0m17.7 1.5h0m26.1-3.7h0m6 .9h0m3.7 1.3h0m18.5-2.8h0m27-.5h0m.2 2h0m1.3 1.5h0m2 .1h0m1.9-.6h0m5.4-1.4h0m3.6-.8h0" stroke="#5d635f" stroke-width="1.6" stroke-linecap="round" fill="none" clip-path="url(#ca3)"/>
<path d="M465.1 46h0m.9 2.6h0m-116.6 3.4h0m59 .5h0m2.8 .4h0m25.7 2.3h0m14.8-1h0m-13.7 3.5h0m10.5 2.4h0m3.8 1.9h0m.9-4.5h0m1 5h0m.2-4.2h0m3.4 4.3h0m.4-4.7h0m2.8 .1h0m-90 7.6h0m2.4 1.4h0m75.3-3.4h0m10.5 3.3h0m3.2 1.4h0m-109.8 1.8h0m40.1 1.9h0m21.1-1h0m2.2-1.7h0m36.5 .8h0m10.7 2.8h0m-114.3 5.9h0m.5-2.7h0m46.9-.1h0m1.3 1.5h0m3.9-2h0m42.4 3h0m2.5 1.2h0m-55.8 4.4h0m1.7-2.2h0m.6 1.7h0m1.6-2.2h0m7.5 1.9h0m-58.1 6.4h0m.7 .8h0m2 1.9h0m45.9-4.7h0m4.5 .2h0m2.9 1.7h0m18.7 2.7h0m-58.7 6h0m1.2-2.5h0m25.7 .7h0m3.9 2.3h0m2.9-4.8h0m1.5 .7h0m3.4 2.2h0m2.9 1.4h0m67.2-1.4h0m.1-2.7h0m-87.6 9.9h0m2.7-.2h0m3.5-4.7h0m2.3 2.1h0m8.7 1.8h0m6.5-.5h0m59.6 31.1h0m-120 1.4h0m34.4 4.8h0m2.2-1.7h0m15.1-1.3h0m2.5-1h0m78.3 4.8h0m.6-2.8h0m-1.9 4.8h0m2.6-.9h0m-83.8 8.2h0m-6.9 6.1h0m7.9-2.5h0m1.1 4.1h0m10.5-3.8h0m11.3 4.4h0m2.7-.7h0m-33.7 2.7h0m7 .7h0m1.9 1.1h0m-4.9 3.1h0m1.9 3.3h0m8.2 1.1h0m58.7-.1h0m2.6 1.1h0m-69.4 3.9h0m4.9 1.8h0m6.4-.5h0m10.8-2.6h0m2.5 1.1h0m53.8-2.7h0m-73.1 8.4h0m4.8-1.2h0m28.5 3.4h0m43.2-3.7h0m2.7-.6h0m-130.4 9.6h0m2.3-1.5h0m2.7 .5h0m110.2 1h0m1.7-2.2h0m-117.7 4.8h0" stroke="#c4c4c4" stroke-width="1.1" stroke-linecap="round" fill="none" clip-path="url(#ca3)"/>
<path d="M390.9 42.5h0m-42.4 8.3h0m44.7-3.1h0m-25.3 8.2h0m5.9-.1h0m6.9 .4h0m69.9-1.3h0m-99.9 4.2h0m49.6 3.8h0m6.2-4.9h0m1.4 3.7h0m37.5-.7h0m1.4 1.5h0m1.5-5.5h0m.9 4.2h0m1.7-.2h0m4 1.2h0m-75.6 3.9h0m22.5 .5h0m51.8 .6h0m.1-3.5h0m.1 .1h0m2.9-.4h0m0 4.6h0m.4 0h0m1.8 .8h0m-105.7 2.7h0m40.7 1.1h0m4.4 1.9h0m18.4-1.8h0m41.4-3h0m4.4 2.2h0m10.9 1.5h0m1.4-3.8h0m4.8 .3h0m-83.4 7.4h0m1.4 1.5h0m1.4-3h0m2 5.1h0m.4-2h0m.1-2h0m16.3-.3h0m47.9 .9h0m3.5 1.2h0m7.8 1.3h0m-135.8 3.6h0m1.9-.7h0m13.4 3.7h0m41.2-3.2h0m71.5-1.9h0m3.3 4.6h0m.7-4.6h0m1.6 1.6h0m-131.4 8h0m15-.9h0m1.8-2.1h0m4 .4h0m5.7 0h0m3.7 4.3h0m13.6-1.1h0m1.4-1.4h0m.6-1.9h0m1.5 .5h0m.7 1.9h0m1.1-3.2h0m1.2 .5h0m4.6 .4h0m1.7-.2h0m14.2-.8h0m5.9 4.8h0m25.3-1.7h0m3.1-2.6h0m22.2-1h0m-73.2 8.8h0m1.6-.1h0m1.1 2.1h0m62-1.8h0m3 2.7h0m-61.7 4.7h0m30.9-2.2h0m15.8 24.8h0m-89 8.5h0m83.1-1.2h0m21.5 1h0m-120.8 2.1h0m117.3 4.4h0m17.9-3.7h0m-129.7 8.9h0m96.1-1.3h0m10.1-1.9h0m22.9-1.8h0m-130.3 8.8h0m10.6-.2h0m3.7-1.4h0m30.9 4.5h0m53.4-4.3h0m7 1.7h0m-119.6 7.6h0m31.5-.9h0m.7 1.8h0m18.6-1.6h0m.8-3.7h0m2.2 1.1h0m1.2 1.2h0m17.2-.2h0m65.7 1.4h0m-133.4 5.9h0m27.3-2.1h0m21.3 .3h0m5.2-.4h0m.1 1h0m1.9-.5h0m78.7-.3h0m-126.6 4.5h0m44.8 .6h0m1.9-.6h0m0 3h0m1.7 .7h0m.7 1.5h0m3.3-.9h0m-34.6 4.3h0m33.4 .1h0m71.6-1.5h0m-116.6 7.7h0m45.6-1h0m28 2.3h0m.1-3.9h0m2.8 4.8h0m-71.9 2.8h0m18.4 1.8h0m23.1-1.5h0m3.7 .4h0m5.9 1.1h0m60.2-1.2h0m12.3-2.2h0m-124.4 5.5h0m17 1.3h0" stroke="#cc1f2a" stroke-width="2.0" stroke-linecap="round" fill="none" clip-path="url(#ca3)"/>
<path d="M377.1 52.8h0m1.7 .5h0m94.5 6h0m.1 1.8h0m6.8 1.3h0m1.7 .5h0m-91.1 .6h0m1.1 1.5h0m-11.9 26.8h0m1.8-.3h0m19.6-.8h0m1-.1h0m.4-.9h0m.3 2.5h0m.5 .5h0m1.3 1.3h0m26.2 1.4h0m1.5-.9h0m-89.7 43.9h0m1.4-1.2h0m73 8.9h0m1.7 .8h0m-5.1 3.9h0m1.4-1h0m-52.2 4.7h0m1.3-1.3h0m94.9 5.5h0m1.3-1.2h0m-19.4 6.1h0m1.6 .8h0m-36.3 2.6h0m.9-1.5h0m18 4.3h0m42-.6h0m.7 1.7h0m-50.4 4.1h0m1.1-1.4h0m6.7-2h0m4 4.9h0m-26.9 6.3h0m27.8-4.8h0m34.6 .3h0m1.8 .4h0m-62.8 5.2h0m66 1.5h0m1.6-.9h0m10 2.1h0m1.3-1.2h0" stroke="#c8202a" stroke-width="1.75" stroke-linecap="round" fill="none" clip-path="url(#ca3)"/>
<path d="M466.3 47h0m-56.6 6.5h0m28.5 2.6h0m21.4 2.6h0m-87 6.9h0m41.8 3.9h0m-66.1 7.8h0m96.5 2.5h0m-54 2.7h0m5-.9h0m-49.7 9.3h0m15.1 6.5h0m25 .6h0m83.3-2.4h0m-87.1 7.6h0m7-3.5h0m-9 40h0m17.2-2.6h0m78.8 2h0m.8 3.9h0m-57.8 14.2h0m41.7 13.6h0m-44.8 3.7h0m60 2.9h0m-125.4 9.7h0m113.2-.2h0m-116.3 2.1h0" stroke="#2b3aa5" stroke-width="2.1" stroke-linecap="round" fill="none" clip-path="url(#ca3)"/>
<path d="M491.2 110.7 L494.3 110.6 L497.3 109.7 L500.4 109.5 L503.4 108.5 L506.5 108.6 L509.5 108.0 L512.6 110.1 L515.6 109.5 L518.7 109.0 L521.7 110.3 L524.8 109.9 L527.8 110.9 L530.9 110.2 L534.0 109.7 L537.0 108.9 L540.1 109.4 L543.1 109.7 L546.2 109.9 L549.2 108.5 L552.3 110.4 L555.3 108.3 L558.4 108.1 L561.4 109.7 L564.5 108.9 L567.5 108.8 L570.6 110.3 L573.7 108.7 L576.7 110.3 L579.8 110.4 L582.8 109.6 L585.9 109.7 L588.9 108.5 L592.0 108.1 L595.0 108.0 L598.1 110.0 L601.1 110.4 L604.2 109.6 L607.2 110.2 L610.3 110.9 L613.4 108.5 L616.4 109.3 L619.5 110.8 L622.5 108.6 L625.6 109.5 L628.6 109.6 L631.7 108.7 L634.7 110.7 L637.8 109.0 L640.8 110.4 L643.9 110.0 L646.9 110.0 L650.0 109.9 L650.0 130.2 L646.9 131.9 L643.9 130.7 L640.8 132.1 L637.8 132.1 L634.7 130.8 L631.7 130.7 L628.6 131.9 L625.6 130.0 L622.5 129.8 L619.5 132.3 L616.4 130.0 L613.4 129.7 L610.3 130.6 L607.2 130.5 L604.2 132.4 L601.1 132.3 L598.1 132.4 L595.0 131.9 L592.0 130.7 L588.9 132.4 L585.9 132.3 L582.8 132.2 L579.8 130.2 L576.7 131.6 L573.7 129.8 L570.6 131.1 L567.5 130.4 L564.5 130.6 L561.4 131.9 L558.4 130.3 L555.3 129.7 L552.3 130.0 L549.2 130.4 L546.2 130.0 L543.1 130.8 L540.1 131.6 L537.0 129.7 L534.0 131.4 L530.9 130.6 L527.8 130.5 L524.8 131.3 L521.7 131.2 L518.7 129.6 L515.6 131.7 L512.6 130.7 L509.5 129.7 L506.5 130.8 L503.4 130.8 L500.4 129.8 L497.3 130.7 L494.3 129.7 L491.2 132.3 Z" fill="#55514f"/>
<path d="M543.6 109.4l-1.9 1.1M636.6 110.8l2.2 .3M507.1 132l2.1-.5M640.3 108.4l1.7-1.4M645.9 130.5l.4 2.2M614.6 131.7l2.1 .6M571.2 131.4l-2.2 .2M573.8 129.2l1.4 1.7M536.4 130l-2.1-.7M647.2 109.6l-2.1 .5M611.9 108.6l-1.7 1.4M618.1 129.8l-1.6-1.6M545.9 131.6l1.8-1.2M561.9 109.2l-1.7 1.3M631.2 131.4l2.2-.3M632.5 110.5l-1.1 1.9M623.8 129.3l-1.8 1.3M590.3 129.9l-1.5-1.6M588.6 110.9l-2.1-.5M520.2 132.3l2.1-.5M619 129.1l2.2 .3M628.7 109.1l-1.1-1.9M588.5 109.3l.2 2.2M506.8 130.7l2.2 .4M625.8 110.4l1.8 1.3M580.8 131.4l-2.1-.5M568 130l-.3 2.2M611.9 129.2l-.9-2M606.1 131.7l2.2-.4M542.6 131.3l2 .9M544.7 130.7l-1-2M636.9 109.5l1.8 1.3M555.4 129.3l1.7 1.4M565.3 110.6l2.2 0M563.3 108.6l1.9 1M615.1 129.2l-1.9 1.1M603.7 132l-.3-2.2M539.1 132.3l-1.7-1.4M514 129.6l0 2.2M580.3 132.4l-2.1-.7M575.7 111l-.9-2M577.3 111.2l-2.2-.1M609.1 130.4l1.7-1.4M503.1 131.1l1.6 1.5M561.5 109.6l-1.3 1.8M533.2 130.5l-1.3 1.8M572.1 108.9l.9-2M526.7 130.7l-2 .9M516.6 130.5l-1.8-1.3M544.4 129.1l1.4 1.7M571.3 132.3l1.5 1.6M648.3 109.8l-2.1 .6M566 129.8l-1.5 1.7M548.3 109.2l1.8-1.3M647.6 130.8l-1.5 1.6M511.7 111.2l-.5 2.1M628.8 110l2-.9M596.3 109.7l.3-2.2M611.8 108l.5 2.1M564.5 129l-2.2 .3M609 109.4l-1.7-1.3M618 111.1l1.9 1.1M638.9 130.1l-.3-2.2M555.2 111.1l-2 1M521.4 110.7l2.2-.3M584.4 110.3l2.1-.5M629.7 109.1l1-2M554.6 110.8l.7 2.1M526.2 108.4l1.5 1.6M627 110.1l-1.5 1.6M506.1 108.4l2 1M643.5 129.9l.8 2.1M507.2 108.8l-.9-2M501 109.4l.8-2.1M612.2 130.9l-2.2-.2M613.1 110.2l2.1-.7M517 109.2l1.4 1.7M516.7 110.9l-.3 2.2M527.4 108.8l-.4 2.2M530 108.7l1.4 1.7M494.1 111l-1.2-1.8M572.7 109.7l1.4-1.7M629.1 129.6l-1.8-1.2M644.9 109.5l-1.7-1.4M518.7 130.3l-.2-2.2M504.5 109.2l-.2 2.2M552.9 132.3l2.1-.8M632 130.1l-2.1 .8M593 110.9l-1-2M555.9 131.2l2.2 .4M514.5 130.7l2.1-.5M561.1 129.7l2.2-.4M531.1 109.8l-2.1 .5M601 110.7l-1.9 1.1M635.3 108.5l-2.1-.7M540.6 130.9l-.2-2.2M638.8 131l1.2 1.9M546 131.4l1.2 1.8M635.4 130.3l-2.2 .3M574.1 129.4l-2.1-.6M622.8 131.3l1.1-1.9M552.7 130.7l-.5 2.1M554.1 129.9l-.7 2.1M621.6 131.6l-1.5 1.6M513.5 129.8l1.7-1.4M565.5 129.8l1.4-1.7M516.3 110.1l2.2-.1M491.2 110.9l2.1-.6M519.1 110.1l-1.1-1.9M607.5 129.1l.5-2.1M634.9 110.2l2.1-.7M551.2 131.9l-2.2-.2M643.7 131.1l-2.1-.7M550.6 129.5l-1.9 1.1M647.5 110.2l2.1 .6M502.5 111.3l-1.2 1.8M638.5 132.2l-.9-2M519.1 131.9l1.8-1.3M529.6 132.4l-1.6 1.5M564.6 129.4l1.8 1.2M577.6 111.1l2-.8M571.8 132.1l1.4-1.7M619.5 108.2l-1.8-1.2M504.6 129.9l-1.5-1.6M583.4 130.8l-2.1 .8M560.6 129.8l1.9-1.1M594.6 111.3l-2.1 .8M569 108.2l-1.6-1.5M553.1 130.6l-1.9-1.2M519.6 129.1l-.5 2.1M552.5 130.1l.5-2.1M582.4 131.8l-.7-2.1M595.7 109l2.2-.4M593.8 110.9l-1.5-1.6M642.3 132.4l.1-2.2M602.7 109.1l-2 1M649.3 110l2.1 .5M588.4 110l2.2 .4M504.2 110.3l-1.7 1.4M621.3 132.3l-1.3 1.8M514.1 132.3l2.2 .2M505.6 130.2l-.7 2.1" stroke="#5a5a5a" stroke-width="0.75" fill="none" stroke-linecap="round"/>
<path d="M503 108.6h0m2.5 2.2h0m26.9 .2h0m20.3-2h0m3.9-1.2h0m9.7 2.9h0m.3-1.4h0m10.9-.6h0m.7 .3h0m19.1 .7h0m13.1-.8h0m2.4-.5h0m4.2-.5h0m4.7 2.2h0m-126.4 3.4h0m4.1-2.3h0m7.1 1.4h0m1.9-1.3h0m2.6 5.2h0m.8-2.1h0m1.4 1.5h0m1.5-4.8h0m.7 5.4h0m.1-.8h0m.4 .9h0m.9-.7h0m.9-2.4h0m1.2-1.5h0m.6 0h0m6 3.1h0m.6 1.7h0m1-.2h0m5.9-5.4h0m2.3 3.4h0m1.1 .4h0m2.5-1.5h0m6.7 1.1h0m1.3-.9h0m2.4 .7h0m1.2-.8h0m.4 2h0m5.2-3.1h0m.1 3.2h0m.2-2.5h0m.5 1.5h0m1.1-1.2h0m9.9 1.3h0m7.2-.3h0m1.3 1.8h0m.7-1.7h0m7.8-2.1h0m2.3 3.5h0m0-1.7h0m2 2h0m1.2-1.2h0m1.7 .7h0m5.1 1.2h0m8.5-.7h0m.5-3.9h0m4.7 3.5h0m2 .2h0m.8-.9h0m1.7 .6h0m4-3h0m4.8 3.4h0m4.5-4.9h0m5.7 2h0m2.1 3.5h0m.2-2.7h0m0 2h0m.3-2.9h0m3.1-1h0m5.3 4.7h0m1.9 0h0m.9-4.9h0m-156.6 5.1h0m.5 3.9h0m.4 0h0m.4-3.5h0m1.8 .6h0m3 2.6h0m3.8-2.8h0m1 3h0m1 .5h0m.5-2h0m.5 1.8h0m.4-.5h0m.2-3.2h0m0 .8h0m1.3 3.1h0m.1-2.9h0m1 .7h0m2.3-1.8h0m.3 .1h0m1.4 4.5h0m4.2-2.7h0m.4-1.9h0m0 4.5h0m2.3-.5h0m1.9 .5h0m2.6-2.4h0m2.3-2.1h0m.7 2h0m1.3-1.9h0m1.7 .3h0m.2 1.4h0m1.4 .7h0m4.7 2h0m6-4.2h0m.3 3.6h0m.1-4.1h0m.9 5.5h0m1.1-2.2h0m1.7-1.4h0m1.3 3.3h0m3.9-1.1h0m.3 1.6h0m.5-4.4h0m2.9-1.4h0m9.1 2.7h0m1.6-2h0m.3 3.8h0m1.5-2h0m.9 .4h0m1.3 2.4h0m.7-1.7h0m.7 .3h0m8-2.1h0m1.8-.9h0m1.9 3h0m1.5-3.7h0m.9 2.4h0m1.1-.5h0m1.8 3h0m.7-.7h0m1.6-4h0m1.6 2.4h0m1.5-.6h0m1.9 2.4h0m.4-.1h0m.1-1.9h0m.9-.5h0m1.2 2.9h0m1.9-3.3h0m3.3 1.4h0m.3 1h0m1.4-3.2h0m1.8 4.6h0m0 0h0m.6-1.7h0m1.2 1.5h0m2.8 .5h0m0-1.3h0m1.5 1.1h0m6.5-4.7h0m.2 3.8h0m.2-1.2h0m.3 .2h0m.4-.6h0m.1-.7h0m.5-.3h0m.6 .2h0m1.1 1.1h0m5.3-3.5h0m0 .6h0m2.1 4.3h0m.9-3.7h0m0 4.6h0m3.4 .1h0m2.3-3.5h0m.2-.5h0m3.5-.7h0m3.9 3.2h0m.9-4.1h0m.1 1.9h0m0 1.7h0m1.3-3.6h0m1.6 .6h0m-153.7 9.7h0m1.7-4.2h0m1.4-.3h0m1.9 2.6h0m3.1-2.7h0m2.3 1.5h0m1 .4h0m1.5 .4h0m1.4-.4h0m1 2.7h0m1.8 1.4h0m.1-.7h0m2.8-5.3h0m.5 4.3h0m5.4-2.6h0m1.3 1.9h0m.3-3.2h0m1.9 1.4h0m.8 1h0m4.1 1.8h0m.3 .9h0m3-5.4h0m.1 1.7h0m2.3-.5h0m3.8 2.1h0m.1-3.3h0m1 2.5h0m5.7-.5h0m1.2-.6h0m.7-1.4h0m1.5 4.5h0m.6 .4h0m1.2-3.5h0m1.1 .6h0m3-.8h0m3.7 1.5h0m1.5-1.6h0m1.8 .3h0m3.9 .5h0m6.8 .4h0m.9 0h0m1.9 2.4h0m1.4-3.2h0m1.6 .6h0m5.2 2.9h0m1.9-4.8h0m.4 1.8h0m1.7 .4h0m1.3-2.3h0m2.5 .8h0m1.5 1.3h0m3.8-.4h0m.6 1.5h0m8.8 1.5h0m.5-3.2h0m2.5 1.2h0m.5 1.5h0m2.9-2.2h0m.2 .8h0m1.7 2.3h0m1-1.6h0m.6-3.3h0m.9 1.9h0m8.4 1.5h0m.5-.3h0m1.7 2.4h0m1.5-4.9h0m.1 2.2h0m6.2-2.9h0m2.3 5h0m.3 0h0m2 .5h0m.5-4.2h0m.9 .5h0m1 1.3h0m1.4 2.1h0m1.7-.3h0m2.3-4.1h0m-138.9 5.3h0m.7 2.3h0m4.6-.6h0m1.4 .6h0m6.2-.3h0m5.6-2.1h0m5.1 3.7h0m1.8-2.1h0m6.3-.1h0m21.5-.4h0m8.1 .3h0m9.5 2.1h0m3.1-3.2h0m31.1 1.5h0m15.7-1h0m14.7-.8h0m1.5 .9h0m4.8 1h0" stroke="#7c7872" stroke-width="3.0" stroke-linecap="round" fill="none"/>
<path d="M511.4 109.3h0m9.9 .1h0m7.2 1.3h0m5-.2h0m11.6-2.7h0m2.4 0h0m14.6 1.8h0m1.9 .8h0m13.1-2.5h0m10 2.9h0m4.5-2h0m16.6 .3h0m10.9-.9h0m9.2 .8h0m16.8-.4h0m-151.3 7.1h0m3.4-1.7h0m1.4-1.5h0m1.2 .5h0m4.6 1.4h0m6.6-.8h0m.7-1.5h0m1.4 .3h0m1.2 4.3h0m.4-.1h0m1.7-1h0m.6-3.2h0m.1 3.6h0m.3-2.7h0m1.7 .9h0m1.6-3.1h0m5.4 1.8h0m2.1 2.4h0m5.3 .9h0m1.1 0h0m2.5-.1h0m2.3-2h0m2.8-.9h0m1.2 1.3h0m1.7-2.6h0m6.5 2.9h0m2.9-2.2h0m3.6 1.3h0m1.5 2.3h0m8-2.7h0m1.4 1.1h0m.7 1.8h0m1.1-2.5h0m.5 .1h0m5.5 1.7h0m2.3 .5h0m.4-1.4h0m.2-1.1h0m9.9-.6h0m1.5 1.5h0m.6 1.4h0m.6 .5h0m.3-1.4h0m1.3-2h0m2.9 1.1h0m4.7-1.8h0m6.1 .6h0m1.3 3.6h0m1-1.7h0m1.6-.2h0m4.6 .7h0m.4 .1h0m1.4-3.7h0m2.2 4.9h0m13.3-2.9h0m3.2 1.6h0m4.6-1.9h0m1.3 .8h0m.7-3.2h0m2.5 4.5h0m.3 .6h0m1.9-1.3h0m1.6-1.5h0m.2 .6h0m-155.5 3.5h0m.3 2.4h0m.9 2.3h0m8.5-4.9h0m1 2h0m.4 1.9h0m.8-1.2h0m1.9-1h0m.9 .5h0m7-.2h0m.6 3.2h0m2.6-2.6h0m1 2.4h0m4-2.9h0m8.3 1.4h0m2.1-3.6h0m.2 1.3h0m3.8-1.2h0m.9 1.7h0m.6 1.7h0m0-2.7h0m1.6 4.4h0m.1-2.2h0m.8 1.9h0m2.3-2.8h0m3.7-.2h0m.2-1.6h0m.2 1h0m2-.4h0m4.9 3.6h0m.7-1.7h0m4.7-.3h0m1.1-1.8h0m1.5 2.9h0m.5-3.3h0m.6 4.9h0m.8-4.5h0m5.1 5.1h0m.2-5.5h0m.3 4.8h0m.4-3.5h0m1.7 2.2h0m5.7-.1h0m1.8-1.6h0m1 .8h0m3.1-.8h0m4.8 1.6h0m.6-1.4h0m3.4-.1h0m1.4 2.2h0m1.8-1h0m3.8-2.8h0m7.3 1.1h0m.5-1.2h0m.5 4.6h0m.6-2.5h0m.3-2.1h0m4.8 2h0m1-1h0m2.5-.5h0m1.3 2.1h0m.4 .3h0m1.1-1.2h0m1.2-2h0m1.2 .9h0m.1 1.8h0m.3 .9h0m1.3-3.7h0m.6 0h0m.5 3.2h0m2.5-1.1h0m2.2 2.1h0m.7-3.8h0m10.6 4.6h0m1.7-2.4h0m.1 3h0m1.9-2.1h0m2.5-.2h0m.7-2.2h0m.7 .9h0m-158.4 7.1h0m1 .5h0m.8 1.7h0m.7-5.3h0m1.2 3.7h0m1.2 2h0m0-5.6h0m.9 4.2h0m.7-3.5h0m.9-.3h0m.6 2.8h0m1 1.3h0m.5-4.2h0m.9 2.9h0m.2-1.4h0m.4-.4h0m2.4-.2h0m8.8-1.5h0m5.7 2.1h0m.6 1.8h0m1.8-1.6h0m5.1 2.1h0m.4-.5h0m3.5-3.4h0m2 1.1h0m.6 .4h0m4.4 .8h0m.1 0h0m4 1.7h0m.5-1.8h0m.2-1h0m1.3-1.4h0m6.4 3.9h0m.8-3.9h0m1.9 3.8h0m5.7-.7h0m2 .8h0m1.8-2.2h0m.5 2.5h0m5-.1h0m2.6-2.9h0m1.1-.3h0m1.4 3.3h0m4.7-1.5h0m.7 .1h0m1.5-2.9h0m2 1.3h0m.5 2.4h0m2.1-3.1h0m1.3 0h0m1 1.5h0m1.7-1.7h0m1.7 4.6h0m.3-.3h0m2.1-3h0m1.2 3.5h0m3.4-1.7h0m1.3-1h0m8.6-.2h0m.7-2h0m1.6 1.6h0m4.1-1.2h0m1.8 1.2h0m.5-2.1h0m.8 3.8h0m1.1-1.6h0m2.2-1.7h0m2.8 2.9h0m.6-3.3h0m1.1 4.3h0m.2-2.2h0m.1 1.3h0m.1-2.3h0m2.7 1.6h0m.4 2.4h0m1.4-.6h0m9-1.9h0m.6 2.7h0m0-3.6h0m2.5 2.6h0m1.7-1.7h0m1.5 2.6h0m2.3-4.6h0m.4 4h0m-148.6 3.1h0m3.7-.5h0m1.3-.2h0m5-.6h0m.4 .1h0m3.4 1.8h0m4.9-.8h0m22.5 1h0m18.5 .4h0m4.7-2.3h0m5.4 .2h0m11.3-.6h0m4.3 1.1h0m.3 2.1h0m16.2-1.1h0m2.3 0h0m.2-1.9h0m5 3.1h0m3.7-1.5h0m13.3-1.3h0m1 2.5h0m9.7 .4h0m5-.2h0" stroke="#454545" stroke-width="1.9" stroke-linecap="round" fill="none"/>
<path d="M498.2 109.9h0m58.6-.7h0m6.6 1.5h0m.3-.7h0m10.1 .7h0m44.3 .1h0m16.3-2.9h0m9.8 1.3h0m-148.8 3.6h0m.3 .6h0m26.9 .1h0m4.4-2.5h0m3.7 5.1h0m2.9 .3h0m17.3 .4h0m21.7-2.4h0m.1-2.7h0m1.4 .1h0m26.5 2.5h0m10.7 1.8h0m.6-.2h0m10.9 .9h0m8.2-1.6h0m.1-.9h0m2.8 1.3h0m1.3 .2h0m7.1-2.7h0m-148.9 6.8h0m2.2 1.2h0m.7-.6h0m3-.3h0m1.1 1.9h0m1.7-2.3h0m2.8 2.9h0m2.4-2.1h0m.5-1.5h0m1.7-1.5h0m4.5 3.6h0m7.8-1h0m3.8-.4h0m2.9-.2h0m.6-1.7h0m2.7 .7h0m6.7 1.5h0m2.8 .6h0m.7-3.7h0m2.1 1.1h0m1.6 2.8h0m1.2 1.8h0m6.4-1.5h0m3.3-4.1h0m0 .8h0m3 4.1h0m1.6-2h0m7-2.9h0m2.1 1h0m.4 1.8h0m1.8-.9h0m3.1 3.1h0m9.7-3.4h0m2.5-.5h0m3 .3h0m7.6 2h0m4.7-2.1h0m.5 .9h0m2.3-.5h0m1.2-.3h0m2.8 1.4h0m10.1-.7h0m.8-.9h0m.4 1.3h0m1 2.4h0m24.9-4.3h0m.3 3.2h0m1.4-.5h0m.5 1.2h0m-157.6 3.6h0m3.7-.9h0m8.2 1.8h0m6.8 1.2h0m12.7-.5h0m13.7-2.7h0m1.5 2.8h0m4.4 1.9h0m6.1-4h0m14 .8h0m1.7-2.3h0m12.2 2.9h0m9.6 .7h0m4.7-2.5h0m4.2 4.3h0m.3-3.8h0m54.3 .6h0m-148.6 3.8h0m14.9 1.7h0m68.6 1.4h0m12.4-1.1h0m22.6 1.4h0m27.6-2.6h0" stroke="#c4c4c4" stroke-width="1.1" stroke-linecap="round" fill="none"/>
<path d="M495.9 108.1h0m6.3 2.7h0m.3-.1h0m.4-1.1h0m6.8-.2h0m7.9-.5h0m12.6 1.6h0m7.9 .4h0m3.2-1.5h0m9.3 .2h0m6.4-1.1h0m1.1 1.8h0m4.2 0h0m7.2-1h0m15.6-1h0m4.5-.6h0m2-.2h0m.2 .1h0m2.4 1h0m.9 .4h0m5.4 .3h0m2.4 .3h0m1.5-2h0m17.3 .1h0m12.3 1.8h0m13.1 .3h0m.1 .3h0m-155.9 5.5h0m3.9-1.9h0m2.4-.1h0m3.1-.3h0m.9-2h0m3.5 3.8h0m2.9 1h0m.4 .2h0m.9-3.3h0m2.7 3.4h0m.9-.6h0m1.6-.5h0m1.4-2.2h0m1.3-1.1h0m.1 4.1h0m.4-.6h0m1 1.5h0m1-.1h0m.3-.5h0m2.2-3.7h0m3.9 2.6h0m2.1 1.3h0m.2 .3h0m.6-.4h0m.2-2.5h0m.2 1.1h0m.2 .2h0m1-1.7h0m1.2-.1h0m2.7 1.2h0m1.2 1.2h0m4-.3h0m.7 1.2h0m5.4-1.2h0m1.8-4.3h0m.1 3.6h0m.8 1.2h0m1.7-.7h0m.6-1.3h0m5 1h0m2 .3h0m1.4-1h0m.6-1.1h0m.5 3h0m.5-1.3h0m2.7-3.2h0m3.7 3.9h0m3.1-1.4h0m.1 2.6h0m1.7-.1h0m.1-3.8h0m2.1-.8h0m.3 2.5h0m1.5-1h0m6.5 2.2h0m1.2-1.3h0m.3-.6h0m6.8-2.9h0m1.8 5.8h0m1.6-4.5h0m2 1.3h0m1.3 2h0m.2 .4h0m0-1.1h0m5.1-.8h0m.1 .3h0m1.7 .6h0m1.4 1.7h0m.3-1.1h0m1.4 .5h0m.6-3.7h0m.2 2.4h0m1.7 1h0m.6-4.4h0m3.5 .2h0m.7 2.1h0m.4 2.7h0m1.6-4.2h0m.4 .6h0m4.2 1.1h0m1.2 2.8h0m1.7-2.4h0m1.9-1.6h0m1.1 .2h0m.5-.6h0m.5 1.6h0m6.1-3h0m4 5.3h0m2.7-2.9h0m3.4-2h0m.3 1h0m.7 3.1h0m2.8 0h0m-156.8 2h0m.1-.4h0m1.8 2.5h0m.2-2h0m1.9 .1h0m2.5 2.5h0m.1-.4h0m1-1.9h0m0 3h0m1-3.9h0m.7 0h0m.6 4.9h0m.2-2.4h0m.3-.2h0m2.9 1.8h0m0-3.2h0m4.4 3.5h0m.2-3.1h0m.1-.2h0m0-.1h0m.1 4.2h0m.4-.7h0m1-3.6h0m1.9 2.7h0m.1 1.3h0m2-3.6h0m.5-.2h0m1 4.5h0m2.8-3.2h0m.8-1.9h0m4.2 1.5h0m2.1-1.4h0m.1 5.4h0m1.2-2.7h0m1.4 .4h0m.2-1.9h0m.7-1.5h0m1 2.4h0m0-1.4h0m3.2-.1h0m.4 .4h0m1.9 4.3h0m0-3.4h0m.5-1.7h0m1.1 1.4h0m2.1 1.8h0m2.5-2.3h0m.3 1.6h0m.1-2.4h0m.4 2.1h0m.5 1.8h0m0 .2h0m.3-2.6h0m.5 3.4h0m2-3.7h0m1.1 3.2h0m.2-1.7h0m.3-1.2h0m1.5 .7h0m.8-.4h0m.9 2.1h0m.8-2.9h0m1.2-1.9h0m.1 2.7h0m1.1 2.3h0m1.1-3.7h0m.2 2.1h0m.4-.1h0m.2 1.5h0m1.6-1.2h0m1.7-1.2h0m.2 1.3h0m.5 .8h0m2.7 .1h0m.9-4h0m.3 1.5h0m1.2 1.4h0m1-2.5h0m.1 1.9h0m1.3-1.6h0m2.7 2.8h0m1-.5h0m3.1-2h0m1.4 1.1h0m.3 1.2h0m1.2-3.3h0m.6 2.3h0m.9 2.9h0m2-1h0m2.1-3.6h0m1.7-.2h0m1.8 2.4h0m.2-2.2h0m.8 1.5h0m.7 1.4h0m.2-2.7h0m.5 3.3h0m.9-3.2h0m.5-1.1h0m.8 5.1h0m2.8 0h0m0-1.9h0m3-2.5h0m.5 1.3h0m.8 .7h0m.6 1.8h0m.4 .8h0m2.3-2.2h0m1-2.5h0m3 .4h0m1.6 1.8h0m3.8-.3h0m2.7 0h0m.5-.9h0m.2 2.5h0m3.7-.4h0m.4-1.3h0m.5 .9h0m1.3 1.5h0m1.6-4.6h0m3.3 4.1h0m.6-.9h0m.5-3.1h0m.2 2.3h0m.2 2.6h0m3.3-3h0m1.1 0h0m2.7 1.1h0m6.1-2.5h0m1.5-.2h0m.3 3.7h0m1.4-4h0m5.3 2.2h0m-157.7 3.2h0m.4 5.5h0m1.4-2.5h0m.1-.8h0m1.6-2.2h0m.3 4.6h0m1-2.4h0m.2-1.7h0m.5 4.8h0m.6-.6h0m5 .7h0m6.1-.3h0m.2-3.2h0m2.2 3.7h0m.5-3.9h0m2.8-.3h0m.7 2.9h0m.1 .5h0m1.2-2.2h0m.5 .2h0m3.8-2.4h0m5.1 1.9h0m.2 2.3h0m.6-2.8h0m2-.8h0m.5 3.6h0m3.6 1.1h0m.9-4.1h0m.3 1.1h0m2.6-2.5h0m.9 1.4h0m1.1 1.6h0m2.2 2.3h0m1.8 .3h0m1.6-4.1h0m1.4-.2h0m1.5 1.4h0m4.5-.4h0m2.3-.5h0m4.1-1.9h0m.5 5.7h0m.6-1.7h0m1.6-2.6h0m.7 2h0m1.5-.4h0m.6-2.4h0m.9 3.8h0m.5-1.4h0m1.5 2.8h0m.4-3.2h0m2.9 1.5h0m.5-2.3h0m1.5 2h0m0 .4h0m1.5-4h0m.1 1.6h0m.3 2.7h0m1.5-2.4h0m2.8 3.1h0m1.6-3.7h0m4.5 4.3h0m.3-2.2h0m2.5 .4h0m1.9 .8h0m.5-.5h0m.2 .9h0m2.6-5h0m4.8 1h0m2.2-1.2h0m.5 3.5h0m.2-2.3h0m.2-.5h0m.9 1.2h0m1.9 1.1h0m4.3-1.9h0m0 2.6h0m0 .3h0m4.2-1.8h0m1.3 3.5h0m.9-4.7h0m.8 1h0m.8 1.7h0m1.9-3.4h0m.9 .5h0m2.8 4.7h0m1.1-3.1h0m1.8-1.4h0m4.1 .5h0m2.3-1h0m.2 .6h0m1.7 2.6h0m.2-3.9h0m.9 3.1h0m.6-2.3h0m2.1 .4h0m.4-1h0m2.6 1.5h0m2.2-.4h0m.9 4.1h0m.6-4h0m.2 3.1h0m4.3-2.7h0m.4 .6h0m.1 .4h0m-144.4 4.1h0m11.1 .9h0m3.4-1.5h0m3.6 1.8h0m5.1 1.1h0m6.4-1.2h0m11.2 .9h0m7-2.2h0m10.1 .9h0m5.7 1.1h0m.5-1.4h0m2.8-.7h0m.1-.3h0m4.4 .4h0m16.6-.7h0m.3 2.5h0m1.7-.8h0m17.3-1.7h0m11.1 1h0m6-.3h0m.9-.6h0m7 3.3h0m1 .3h0" stroke="#b01e28" stroke-width="2.1" stroke-linecap="round" fill="none"/>
<path d="M498.9 110.7h0m3.6-2.6h0m2.5 2.2h0m2.9 .5h0m6.3-.2h0m17.7-.1h0m.6 .2h0m19.7-2.2h0m3.9-1.2h0m9.7 2.9h0m.3-1.4h0m10.9-.6h0m.7 .3h0m19.1 .7h0m13.1-.8h0m2.4-.5h0m4.2-.5h0m4.7 2.2h0m7 1.2h0m-137.1 5.8h0m3.7-3.6h0m9.8 4h0m1.4-4.9h0m3.3 4.8h0m.3 .1h0m.9-1h0m.8-2.1h0m1.4 1.5h0m2.2 .6h0m.1-.8h0m.4 .9h0m.2 .8h0m.7-1.5h0m.9-2.4h0m1.2-1.5h0m.6 0h0m5.7 5.4h0m.3-2.3h0m.6 1.7h0m1-.2h0m.1 .9h0m8.1-2.9h0m1.1 .4h0m2.5-1.5h0m2.7 3.7h0m4-2.6h0m1.3-.9h0m2.4 .7h0m1.2-.8h0m.4 2h0m3.3 1.5h0m1.9-4.6h0m.1 3.2h0m.2-2.5h0m.5 1.5h0m1.1-1.2h0m9.9 1.3h0m7.2-.3h0m1.3 1.8h0m.7-1.7h0m6.4 2.7h0m1.4-4.8h0m2.3 3.5h0m0-1.7h0m2 2h0m1.2-1.2h0m1.7 .7h0m5.1 1.2h0m8.5-.7h0m.5-3.9h0m4.7 3.5h0m2 .2h0m.8-.9h0m1.7 .6h0m4-3h0m4.8 3.4h0m3 .8h0m7.2-3.7h0m2.1 3.5h0m.2-2.7h0m0 2h0m.3-2.9h0m3.1-1h0m4.3 5.1h0m1-.4h0m.4 .4h0m1.5-.4h0m.9-4.9h0m-156.1 9h0m.4 0h0m.4-3.5h0m1.8 .6h0m.7 5.3h0m1.4-.3h0m.9-2.4h0m3.8-2.8h0m.3 5.1h0m.7-2.1h0m1 .5h0m.5-2h0m.5 1.8h0m.4-.5h0m.2-2.4h0m1.3 3.1h0m.1-2.9h0m1 .7h0m4 2.8h0m2.2 1h0m2-3.7h0m.4 2.6h0m2.3-.5h0m1.9 .5h0m.9 1.5h0m1.7-3.9h0m3-.1h0m3-1.6h0m.2 1.4h0m1.4 .7h0m.8 3.2h0m3.9-1.2h0m2.4 1.2h0m3.6-5.4h0m.3 3.6h0m1 1.4h0m1.1-2.2h0m1.7-1.4h0m.9 4h0m.4-.7h0m3.9-1.1h0m.3 1.6h0m.5-4.4h0m12 1.3h0m1.6-2h0m.3 3.8h0m1.5-2h0m.9 .4h0m1.3 2.4h0m.7-1.7h0m.7 .3h0m8-2.1h0m1.8-.9h0m1.9 3h0m2.2 2.3h0m.2-3.6h0m1.1-.5h0m1.8 3h0m.3 1h0m.4-1.7h0m1.6-4h0m1.6 2.4h0m1.5-.6h0m1.9 2.4h0m.4-.1h0m.1-1.9h0m.9-.5h0m1.2 2.9h0m1.9-3.3h0m3.3 1.4h0m.3 1h0m1.4-3.2h0m1.8 4.6h0m0 0h0m.6-1.7h0m1.2 1.5h0m2.8 .5h0m0-1.3h0m1.5 1.1h0m2.7 .7h0m3.8-5.4h0m.2 3.8h0m.2-1.2h0m.3 .2h0m.4-.6h0m.1-.7h0m.5-.3h0m.6 .2h0m1.1 1.1h0m5.3-2.9h0m2.1 4.3h0m.9-3.7h0m0 4.6h0m3.4 .1h0m.4 .4h0m1.9-3.9h0m.2-.5h0m3.5-.7h0m3.9 3.2h0m1-2.2h0m0 1.7h0m2.9-3h0m-153.7 9.7h0m5-1.9h0m5.4-1.2h0m1 .4h0m1.5 .4h0m.9 4.1h0m.5-4.5h0m1 2.7h0m1.8 1.4h0m.1-.7h0m3.3-1h0m5.4-2.6h0m1.3 1.9h0m2.2-1.8h0m.8 1h0m2.1 3.5h0m2-1.7h0m.3 .9h0m3.1-3.7h0m2.3-.5h0m3.8 2.1h0m1.1-.8h0m5.7-.5h0m1.2-.6h0m2.2 3.1h0m.6 .4h0m1.2-3.5h0m1.1 .6h0m3-.8h0m3.7 1.5h0m1.5-1.6h0m1.8 .3h0m3.9 .5h0m6.8 .4h0m.9 0h0m1.9 2.4h0m1.4-3.2h0m1.6 .6h0m5.2 2.9h0m2.3-3h0m1.7 .4h0m3.8-1.5h0m1.5 1.3h0m3.8-.4h0m.6 1.5h0m8.8 1.5h0m.5-3.2h0m2.5 1.2h0m.5 1.5h0m2.9-2.2h0m.2 .8h0m1.7 2.3h0m1-1.6h0m1.5-1.4h0m8.4 1.5h0m.5-.3h0m1.7 2.4h0m1.5-4.9h0m.1 2.2h0m8.5 2.1h0m.3 0h0m2 .5h0m.5-4.2h0m.9 .5h0m1 1.3h0m1.4 2.1h0m.5 .8h0m1.2-1.1h0m2.3-4.1h0m-138.2 7.6h0m4.6-.6h0m1.4 .6h0m6.2-.3h0m10.7 1.6h0m1.8-2.1h0m6.3-.1h0m21.5-.4h0m8.1 .3h0m9.5 2.1h0m3.1-3.2h0m31.1 1.5h0m15.7-1h0m16.2 .1h0m4.8 1h0" stroke="#d6d2ca" stroke-width="2.2" stroke-linecap="round" fill="none"/>
<path d="M589.4 60.1l-.1 2M538.5 83.2l-.6-1.5M538.5 83.2l1.6 .3M629.1 58l-.6 1.5M629.1 58l-1-1.3M534 55.3l.2 1.6M534 55.3l-1.5-.6M618 87.6l1.5-.4M618 87.6l-.4 1.5M585.7 51.4l1.9 .6M513 75.5l-2-.3M552.7 74.1l0 1.6M552.7 74.1l-1.4-.8M528.2 64.6l-1.6 .2M528.2 64.6l.6-1.5M609.6 67.7l-1.4 .5M633.9 82l1.6 1.2M536.6 48.4l1.5-.2M505.5 89.6l.3-2M505.8 55.7l-1.6-.3M505.8 55.7l1.1-1.2M520.4 56.2l.2-2M533.8 89l1.2-.9M524 101.6l1.3 1M524 101.6l-1.5 .6M545.6 60.5l-.1 2M605.8 65.9l.8 1.8M623.4 79.4l1.6 .1M623.4 79.4l-.9 1.3M585.3 98.2l1.9-.6M616.8 61.6l-1.3 1.5M551.4 52.6l.2 1.5M556.2 82.9l1.2-1M556.2 82.9l.3 1.6M531.6 99.4l1.4-1.4M533 98l.7-1.9M533.7 96.1l.3-2M534 94.1l-1-1.7M545.2 93.6l-.9 1.3M545.2 93.6l-.7-1.4M621.1 97l1 1.2M624.4 77.9l-1.9 .5M611.4 96.5l.4 1.9M510.2 65.1l1.6 .3M510.2 65.1l-1 1.2M529 50.3l1.5 .7M529 50.3l-1.3 .9M524.7 72.9l-1.3 .9M524.7 72.9l-.1-1.6M636.9 64.1l-1-1.1M565.1 98.2l-.2-2M580.4 52.3l-1.4-.8M580.4 52.3l1.4-.8M572.3 74.2l-1.3 .8M594.1 58.2l-1.3 1.5M583 71.2l-.4-2M573 93.6l.5-1.9M605.8 92.5l.3 1.5M642.6 71.3l-1.2 1.1M642.6 71.3l-.4-1.6M633.3 57.9l-.6 1.9M523 77.8l-1.6 0M523 77.8l.8-1.4M516.6 101.5l1.6 0M516.6 101.5l-.8 1.4M613.3 145.9l1.4-.9M613.3 145.9l.1 1.6M608 182.9l-1 1.1M526.1 137.3l-1.5 0M628.9 187.6l-1.5-.1M578.4 143.8l-1.1-1.2M578.4 143.8l1.6-.3M496.1 154.4l-.3-1.6M496.1 154.4l1.5 .5M584.8 184.8l.5 1.5M584.8 184.8l-1.6-.4M602.3 176.5l-.4-1.6M602.3 176.5l1.5 .5M613.6 172.6l1.3 1.6M524.8 144.7l-1.4 .9M524.8 144.7l-.1-1.6M566.5 159.8l2-.3M520.4 140l-1.7-1M518.7 138.9l-1.9-.5M516.8 138.4l-1.3-1.5M515.5 136.9l-1.4-1.4M514.1 135.5l-1.3-1.5M512.8 133.9l-.3-2M570.8 174.5l-1.8-1M569.1 173.5l-1.2-1.6M567.9 171.9l-.6-1.9M567.3 170l.1-2M567.4 168l-.6-1.9M527.9 179.3l.9 1.3M527.9 179.3l-1.6 .1M591.9 151.4l1 1.1M640.1 169.3l.7-1.9M572.7 137.1l-1.5-.5M572.7 137.1l1.2-1.1M614 139.6l.6-1.5M614 139.6l1 1.3M497.1 184.1l-.5 1.9M551.3 140.1l.4 1.5M551.3 140.1l-1.5-.4M516.2 152.8l.4 2M619.6 138.2l-1.6 0M619.6 138.2l.8-1.4M564.1 141.8l.6 1.9M524.7 142.5l1.2-1.6M561.5 162.1l1.6 .2M561.5 162.1l-1 1.2M628.9 144.9l1.3-1M628.9 144.9l.2 1.6M588.2 171.4l-1.5 .5M588.2 171.4l.3-1.6M629.7 178.3l-1.4-.4M497.3 159.7l1.6 .2M497.3 159.7l-1 1.3M612 163.9l-1.6 0M612 163.9l.8-1.4M518.5 170.9l-1.5 0M599.4 186.7l1.1-1.7M523.4 156.5l-1-1.7M581.4 188.9l.8 1.3M523.6 189.6l.4 1.6M523.6 189.6l-1.5-.4M586.5 136.2l-1.8-1M578.4 179.3l-.8 1.4M578.4 179.3l-.8-1.4M576.3 187.4l2-.2M578.3 187.2l1.5-1.4M579.8 185.8l1.6-1.2M581.4 184.7l1.8-.9M583.2 183.8l1.9 .6M585.1 184.4l1.4 1.5M536.4 142.1l1.4-1.4M568.6 175l.4 1.6M568.6 175l-1.5-.5M581 151.6l1.9-.6M580.5 153.1l1.5 1.3M579.7 150.6l.5-1.9M580.8 156.7l2 .3M577 156.6l-2 .3M578 155.3l-1.5-1.3M579.2 152l-1 3M578.2 155l.7 1.6M579.3 162.8l-.3 2M577.3 160.7l-1.4-1.4M580.6 160.4l1.8-.8M578.9 156.6l.8 1.8M579.7 158.5l-.6 2.8M579.3 167.4l1 1.7M577.5 167.9l-1.1 1.7M578.1 164.9l.6-1.9M579.1 161.3l.1 2.5M579.1 163.7l-1.3 2.7M576 169.9l1.6-1.2M572.7 170.2l-2-.4M574.6 172.3l.1 2M577.8 166.4l-2 3M575.8 169.4l-1.3 1.4M577.4 152.4l.5-1.5 1.8-.3 1.3 1-.5 1.5-1.8 .3zM577.9 157.9l-.9-1.3 1-1.3 1.9 .1 .9 1.3-1 1.3zM579.3 162.8l-1.8-.6-.2-1.5 1.5-.9 1.8 .6 .2 1.5zM579.3 167.4l-1.8 .5-1.5-1 .4-1.5 1.7-.5 1.5 1zM572.9 171.7l-.2-1.5 1.6-.9 1.7 .6 .2 1.5-1.6 .9z" stroke="#5a5a5a" stroke-width="0.75" fill="none" stroke-linecap="round" clip-path="url(#ca4)"/>
<path d="M520.4 56.2h0m65.3-4.8h0m-40.1 9.1h0m43.8-.4h0m4.7-1.9h0m22.7 3.4h0m16.5-3.7h0m-27.5 8h0m-22.8 5.3h0m-70 4.3h0m111.4 2.4h0m9.5 4.1h0m-128.4 7.6h0m27.5 2.8h0m.7 3.7h0m31.4 2.1h0m7.9-4.6h0m12.3 4.6h0m26.1-1.7h0m-98.9 35.5h0m.3 1.9h0m2.7 3h0m71-.7h0m-61.8 6.3h0m11.7-.4h0m27.7-.3h0m-47.9 11h0m61.2-.4h0m.5-1.5h0m1.8-.3h0m1.3 1h0m2-.5h0m-59.6 5.4h0m51.6 .4h0m1.5-2.9h0m.5 2.6h0m1-1.3h0m.7-1.9h0m1.1 4.6h0m.1-2.6h0m.6-2.3h0m.3 3.6h0m1.2-2.3h0m-15.5 5.4h0m9.4-.5h0m1.4 1.4h0m.2 1.5h0m.6 2.7h0m.6-1.9h0m.1-3.2h0m.1 4.9h0m.4-1.9h0m1.3-2.4h0m.2 1.5h0m1.6-2.4h0m-15.6 6.5h0m.5 4h0m.1-2h0m5.3 2.2h0m1.6-.9h0m1.7-2.4h0m0 3h0m.4-4.5h0m0 4.2h0m1.2-.8h0m1.7-1.4h0m.3-1.5h0m.7 3.2h0m59.8 .2h0m-72.2 2.6h0m1.2 1.6h0m3.8-1.8h0m3.3-.3h0m37.4 1.2h0m-116.5 11.5h0m86.1-.3h0m1.9 .6h0m1.4 1.5h0m12.9 .8h0" stroke="#5d635f" stroke-width="1.6" stroke-linecap="round" fill="none" clip-path="url(#ca4)"/>
<path d="M530.5 50.9h0m7.6-2.7h0m-33.9 7.2h0m2.6-.9h0m20.9-3.3h0m4.8 3.5h0m1.7 2.2h0m17.4-2.8h0m27.4-2.6h0m2.8 .1h0m46.4 5.2h0m.3 2.7h0m-119.3 6.8h0m2.6-.9h0m14.8-.6h0m2.2-1.7h0m79.4 5.1h0m27.7-5.2h0m-112.5 10.8h0m1.2-2.5h0m26.8 2h0m19.6 1.6h0m70.4-2.6h0m.8-2.6h0m-120.8 8.1h0m2.4-1.4h0m28.9-.7h0m69.8 5.1h0m2.5-1.3h0m-87.1 2.2h0m2.1 1.7h0m16.5 1.1h0m.9-2.6h0m-22.4 6.2h0m9.5 4.1h0m73.1-3.1h0m2-1.9h0m-75.3 7.8h0m61.8-1h0m16 4.1h0m-106.3 4.8h0m2.4-1.4h0m4.3 .7h0m2.8 .4h0m-.7 34.6h0m25.1 2.5h0m21.5-3.1h0m2.7-.6h0m40.7 2.1h0m.4 2.8h0m3-2.7h0m2.4-1.4h0m-96.9 8.8h0m1.3-2.5h0m26.9-1.5h0m25.6 1h0m2.7 .8h0m34.7 1.6h0m14.4 1.5h0m1-2.6h0m-134.3 8.9h0m80.6-.1h0m4.9-4.7h0m2.8 3.7h0m8.8 .9h0m20.5-5.1h0m-115.7 7.4h0m76.3 1.2h0m1.9 1.9h0m6.2-2.3h0m1.4 2.4h0m-87.1 2.9h0m2.5-1.1h0m61.6 3.4h0m2.6-1h0m16.7 .1h0m3.8-2.4h0m26.8 3.9h0m2.4-1.4h0m-95.8 8.4h0m53.1-2.2h0m5 1.2h0m2.8-4.4h0m1 3.5h0m1.1 1.3h0m8.5-.5h0m-21.4 4.7h0m1.8 2h0m5-1.2h0m12.8-3.4h0m15.2 3h0m1.9 2h0m-77.5 2.5h0m2.5 1.2h0m48.8 0h0m0-2.7h0m50.6 0h0m-45 6.6h0m2 1.9h0m21.8-2.4h0m20.4 3.5h0m-105.3 1.7h0m1.9 2h0m58.2-1.1h0" stroke="#c4c4c4" stroke-width="1.1" stroke-linecap="round" fill="none" clip-path="url(#ca4)"/>
<path d="M536.6 48.4h0m47.2 2.3h0m-63.2 3.5h0m30.8-1.6h0m36.2-.6h0m-67.4 6.2h0m25.3 4.3h0m43.8-.4h0m3.5-2.4h0m25.4 .4h0m14.4-.3h0m-26 8h0m3-.1h0m5.9-4.6h0m21.4 1h0m-64.6 10.1h0m10.3-5h0m.8 3.9h0m-72.3 2.1h0m111.4 3.2h0m13 4.8h0m-130.3 8.4h0m.5-4h0m28.1 1.4h0m39.7 2.7h0m32.3 .8h0m-72.8 5.5h0m1-3.9h0m30.9 2.1h0m7.6-.6h0m14.7 2h0m23.7-3.1h0m.9 3.9h0m9.3-1.4h0m-107 38.5h0m2.7 2.9h0m1.9 .5h0m7.2 2.1h0m.2-3.7h0m11.6 3.4h0m47.1-5.4h0m-20.1 8.4h0m-48.9 7.1h0m64.4-2.2h0m11.7 2.8h0m-75.4 3.4h0m5.8 0h0m55.6 3.1h0m.3-2.9h0m1.5 3.5h0m-11.2 .9h0m10.6 4.3h0m-60.6 7.2h0m52.3-1.1h0m5-.4h0m1.7-1.5h0m63.3-.5h0m-66.2 4.9h0m.2 2h0m40-.2h0m24.6-2.9h0m-31.4 11.7h0m21.7-4.6h0m-133.1 7.8h0m81.7 1.1h0m1.5-1.4h0m1.6 3.1h0m0-4.2h0m19.2 .3h0m28.3 2.6h0" stroke="#cc1f2a" stroke-width="2.0" stroke-linecap="round" fill="none" clip-path="url(#ca4)"/>
<path d="M602.7 47.1h0m.2 1.8h0m-87.9 8h0m37.9-5.1h0m1.7-.4h0m43.2 2.5h0m1.5-.9h0m-86.6 7.4h0m1.8-.3h0m2.1-2.3h0m24.5 5.7h0m.3 1.8h0m-27.6 7.2h0m1.3 1.2h0m49.2 13h0m40.9-2.1h0m1.1 1.5h0m-68.9 3.8h0m1.2 1.4h0m25.8-2.8h0m8.7 2h0m1.4 1.1h0m-57.5 4.8h0m.7-1.6h0m115 2.3h0m1.7-.4h0m-69.7 4.2h0m1.5 1.1h0m-26.1 41.9h0m.4 1.7h0m24 .6h0m-63.7 6.7h0m12.5-1.1h0m1.5 .9h0m14.8-3h0m1.8 .2h0m34.6-2.7h0m-64.6 7.3h0m21.7-1.5h0m1.8 .1h0m118.4 1.9h0m.1-1.7h0m-86.6 10.6h0m1.8-.4h0m34.1-.6h0m1.1 1.4h0m40.8-4.9h0m1.6 1h0m-78.5 8.7h0m.4 .3h0m.1 1.5h0m.1-3.3h0m26.9-.4h0m1.1-1.4h0m-53.5 8.9h0m1.1 1.5h0m1 5.5h0m1.6-.8h0m6.4 5.1h0m1.3 1.3h0m33 .4h0m61.5-3.3h0m1.4 1.1h0m-63.2 4h0" stroke="#c8202a" stroke-width="1.75" stroke-linecap="round" fill="none" clip-path="url(#ca4)"/>
<path d="M529 50.3h0m-23.2 5.4h0m28.2-.4h0m46.4-3h0m48.7 5.7h0m-118.9 7.1h0m18-.5h0m-3.5 8.3h0m28 1.2h0m89.9-2.8h0m-119.6 6.5h0m100.4 1.6h0m-84.9 3.8h0m17.7-.3h0m61.8 4.7h0m-72.8 6h0m-28.6 7.9h0m7.4 .1h0m27.3 38.5h0m21.4-3h0m41.3 2.5h0m5.6-1.4h0m-94.8 6.5h0m53.6-.9h0m34.9 2.1h0m15.6-1h0m-132.8 9.5h0m86.7 2.6h0m-85.5 2.7h0m64.2 2.4h0m50.5 1.8h0m-43.4 11.1h0m19.6-3.6h0m14.1 5.1h0m-74.4 2.8h0m50.5 0h0m6.4 5.5h0m-61.2 4.8h0" stroke="#2b3aa5" stroke-width="2.1" stroke-linecap="round" fill="none" clip-path="url(#ca4)"/>
<rect x="4.5" y="302.8" width="158.0" height="17.7" fill="#86827e"/>
<line x1="4.5" y1="306.4" x2="162.5" y2="306.4" stroke="#52504e" stroke-width="1.1"/>
<line x1="4.5" y1="313.4" x2="162.5" y2="313.4" stroke="#52504e" stroke-width="1.1"/>
<path d="M5.7 308.8h0m3.8 0h0m3.8 0h0m3.8 0h0m3.8 0h0m3.8 0h0m3.8 0h0m3.8 0h0m3.8 0h0m3.8 0h0m3.8 0h0m3.8 0h0m3.8 0h0m3.8 0h0m3.8 0h0m3.8 0h0m3.8 0h0m3.8 0h0m3.8 0h0m3.8 0h0m3.8 0h0m3.8 0h0m3.8 0h0m3.8 0h0m3.8 0h0m3.8 0h0m3.8 0h0m3.8 0h0m3.8 0h0m3.8 0h0m3.8 0h0m3.8 0h0m3.8 0h0m3.8 0h0m3.8 0h0m3.8 0h0m3.8 0h0m3.8 0h0m3.8 0h0m3.8 0h0m3.8 0h0m3.8 0h0m-153.9 6.7h0m3.8 0h0m3.8 0h0m3.8 0h0m3.8 0h0m3.8 0h0m3.8 0h0m3.8 0h0m3.8 0h0m3.8 0h0m3.8 0h0m3.8 0h0m3.8 0h0m3.8 0h0m3.8 0h0m3.8 0h0m3.8 0h0m3.8 0h0m3.8 0h0m3.8 0h0m3.8 0h0m3.8 0h0m3.8 0h0m3.8 0h0m3.8 0h0m3.8 0h0m3.8 0h0m3.8 0h0m3.8 0h0m3.8 0h0m3.8 0h0m3.8 0h0m3.8 0h0m3.8 0h0m3.8 0h0m3.8 0h0m3.8 0h0m3.8 0h0m3.8 0h0m3.8 0h0m3.8 0h0m3.8 0h0" stroke="#454545" stroke-width="1.9" stroke-linecap="round" fill="none"/>
<path d="M6.3 304.7h0m1.3 4.1h0m2.5-4.1h0m1.3 4.1h0m2.5-4.1h0m1.3 4.1h0m2.5-4.1h0m1.3 4.1h0m2.5-4.1h0m1.3 4.1h0m2.5-4.1h0m1.3 4.1h0m2.5-4.1h0m1.3 4.1h0m2.5-4.1h0m1.3 4.1h0m2.5-4.1h0m1.3 4.1h0m2.5-4.1h0m1.3 4.1h0m2.5-4.1h0m1.3 4.1h0m2.5-4.1h0m1.3 4.1h0m2.5-4.1h0m1.3 4.1h0m2.5-4.1h0m1.3 4.1h0m2.5-4.1h0m1.3 4.1h0m2.5-4.1h0m1.3 4.1h0m2.5-4.1h0m1.3 4.1h0m2.5-4.1h0m1.3 4.1h0m2.5-4.1h0m1.3 4.1h0m2.5-4.1h0m1.3 4.1h0m2.5-4.1h0m1.3 4.1h0m2.5-4.1h0m1.3 4.1h0m2.5-4.1h0m1.3 4.1h0m2.5-4.1h0m1.3 4.1h0m2.5-4.1h0m1.3 4.1h0m2.5-4.1h0m1.3 4.1h0m2.5-4.1h0m1.3 4.1h0m2.5-4.1h0m1.3 4.1h0m2.5-4.1h0m1.3 4.1h0m2.5-4.1h0m1.3 4.1h0m2.5-4.1h0m1.3 4.1h0m2.5-4.1h0m1.3 4.1h0m2.5-4.1h0m1.3 4.1h0m2.5-4.1h0m1.3 4.1h0m2.5-4.1h0m1.3 4.1h0m2.5-4.1h0m1.3 4.1h0m2.5-4.1h0m1.3 4.1h0m2.5-4.1h0m1.3 4.1h0m2.5-4.1h0m1.3 4.1h0m2.5-4.1h0m1.3 4.1h0m2.5-4.1h0m1.3 4.1h0m2.5-4.1h0m1.3 4.1h0m-157.7 2.7h0m3.8 0h0m3.8 0h0m3.8 0h0m3.8 0h0m3.8 0h0m3.8 0h0m3.8 0h0m3.8 0h0m3.8 0h0m3.8 0h0m3.8 0h0m3.8 0h0m3.8 0h0m3.8 0h0m3.8 0h0m3.8 0h0m3.8 0h0m3.8 0h0m3.8 0h0m3.8 0h0m3.8 0h0m3.8 0h0m3.8 0h0m3.8 0h0m3.8 0h0m3.8 0h0m3.8 0h0m3.8 0h0m3.8 0h0m3.8 0h0m3.8 0h0m3.8 0h0m3.8 0h0m3.8 0h0m3.8 0h0m3.8 0h0m3.8 0h0m3.8 0h0m3.8 0h0m3.8 0h0m3.8 0h0m-155.8 4h0m.6 2.9h0m3.2-2.9h0m.6 2.9h0m3.2-2.9h0m.6 2.9h0m3.2-2.9h0m.6 2.9h0m3.2-2.9h0m.6 2.9h0m3.2-2.9h0m.6 2.9h0m3.2-2.9h0m.6 2.9h0m3.2-2.9h0m.6 2.9h0m3.2-2.9h0m.6 2.9h0m3.2-2.9h0m.6 2.9h0m3.2-2.9h0m.6 2.9h0m3.2-2.9h0m.6 2.9h0m3.2-2.9h0m.6 2.9h0m3.2-2.9h0m.6 2.9h0m3.2-2.9h0m.6 2.9h0m3.2-2.9h0m.6 2.9h0m3.2-2.9h0m.6 2.9h0m3.2-2.9h0m.6 2.9h0m3.2-2.9h0m.6 2.9h0m3.2-2.9h0m.6 2.9h0m3.2-2.9h0m.6 2.9h0m3.2-2.9h0m.6 2.9h0m3.2-2.9h0m.6 2.9h0m3.2-2.9h0m.6 2.9h0m3.2-2.9h0m.6 2.9h0m3.2-2.9h0m.6 2.9h0m3.2-2.9h0m.6 2.9h0m3.2-2.9h0m.6 2.9h0m3.2-2.9h0m.6 2.9h0m3.2-2.9h0m.6 2.9h0m3.2-2.9h0m.6 2.9h0m3.2-2.9h0m.6 2.9h0m3.2-2.9h0m.6 2.9h0m3.2-2.9h0m.6 2.9h0m3.2-2.9h0m.6 2.9h0m3.2-2.9h0m.6 2.9h0m3.2-2.9h0m.6 2.9h0m3.2-2.9h0m.6 2.9h0m3.2-2.9h0m.6 2.9h0m3.2-2.9h0m.6 2.9h0m3.2-2.9h0m.6 2.9h0m3.2-2.9h0m.6 2.9h0" stroke="#eeebe5" stroke-width="2.3" stroke-linecap="round" fill="none"/>
<path d="M5.7 303h0m3.8 0h0m3.8 0h0m3.8 0h0m3.8 0h0m3.8 0h0m3.8 0h0m3.8 0h0m3.8 0h0m3.8 0h0m3.8 0h0m3.8 0h0m3.8 0h0m3.8 0h0m3.8 0h0m3.8 0h0m3.8 0h0m3.8 0h0m3.8 0h0m3.8 0h0m3.8 0h0m3.8 0h0m3.8 0h0m3.8 0h0m3.8 0h0m3.8 0h0m3.8 0h0m3.8 0h0m3.8 0h0m3.8 0h0m3.8 0h0m3.8 0h0m3.8 0h0m3.8 0h0m3.8 0h0m3.8 0h0m3.8 0h0m3.8 0h0m3.8 0h0m3.8 0h0m3.8 0h0m3.8 0h0m-155.8 17.3h0m3.8 0h0m3.8 0h0m3.8 0h0m3.8 0h0m3.8 0h0m3.8 0h0m3.8 0h0m3.8 0h0m3.8 0h0m3.8 0h0m3.8 0h0m3.8 0h0m3.8 0h0m3.8 0h0m3.8 0h0m3.8 0h0m3.8 0h0m3.8 0h0m3.8 0h0m3.8 0h0m3.8 0h0m3.8 0h0m3.8 0h0m3.8 0h0m3.8 0h0m3.8 0h0m3.8 0h0m3.8 0h0m3.8 0h0m3.8 0h0m3.8 0h0m3.8 0h0m3.8 0h0m3.8 0h0m3.8 0h0m3.8 0h0m3.8 0h0m3.8 0h0m3.8 0h0m3.8 0h0m3.8 0h0" stroke="#b51a22" stroke-width="2.0" stroke-linecap="round" fill="none"/>
<path d="M23.2 278.9l-.2 2M24.6 276.5l1.3-1.6M22.8 275.9l-.4-2M29.4 275.8l2-.1M25.8 276.6l-1.9 .6M26.2 275.2l-1.5-1.4M23 277.4l2.8 .3M25.9 277.7l1.7-1.4M30 272.5l-.1 2M29.3 269.9l-1.6-1.2M31.1 269.6l.9-1.8M27.6 276.2l1.3-3.2M28.9 273l1.6-2M36.6 277.7l.3 2M34.6 275.1l-.7-1.9M34.7 277.7l-.3 2M30.5 271l3.5 2.3M34 273.4l1.6 3.1M37.6 274.1l-1.8 .8M39.4 274.5l.9 1.8M40.7 273.4l2-.1M35.6 276.4l2.1-.8M37.7 275.7l1.2-2.6M41.1 271.2l-1.4 1.4M43.9 269.9l2 0M40.1 270l-1.9-.5M38.9 273.1l.6-2.5M39.5 270.6l2.5-.7M48.1 264l1.7-1M45.7 266.3l-1.3 1.5M45 264.9l-2 .2M42 269.9l3-3.1M45 266.8l1.9-1.6M50.8 264.9l-.8-1.8M53 266.8l1.6 1.2M52.6 265.3l1.8-.8M46.9 265.2l2.7 1.2M49.6 266.4l1.6-.1M55.2 264.2l1.3 1.5M53.6 265l.9 1.8M53.3 262.1l-.6-1.9M51.2 266.3l1.7-.9M52.9 265.4l.6-1.9M59.3 264.3l1-1.7M56.1 264.9l-1.6-1.2M59.7 265.7l1.9 .6M53.5 263.6l2.4 .9M55.9 264.4l2 .9M60.7 274l-.8-1.8M63.1 275.8l1.8 .8M59.9 276.5l-1.4 1.4M64.3 271.8l0 2M66.5 269.9l2-.3M62.9 270.8l-1.8 .8M61.2 275.4l2.1-3.1M63.3 272.3l1.4-2M69.9 263.5l-.3 2M70.9 261l1-1.7M68 263l-1.5 1.4M70 265.9l-1.7 1M73.7 265.2l2-.1M73.1 266.7l.7 1.9M69.5 262l1.6 2.4M71.1 264.4l.8 1.2M75.4 270l-1.5 1.3M77.8 267.6l1.5-1.3M77.3 270.2l-.1 2M71.8 265.5l1.4 .8M73.2 266.4l3.4 2.4M77.2 263.7l-.7-1.9M77.5 266.3l-.4 2M80.2 264.8l2 .4M76.6 268.8l.4-1.8M77 267l1.2-2.1M84 270.6l1.7 1.1M84.3 269.2l2-.3M80.7 270.1l-1.8 .9M78.3 264.9l3.1 2.6M81.4 267.5l1.2 2.1M87.9 266.8l1.2 1.6M89 265.5l1.9 .5M86 266.7l-1.1 1.6M82.5 269.7l3.1-2.1M85.7 267.6l1.4-2.1M89.8 261.2l-1.8-.8M91.1 260.1l-.7-1.9M93.5 261.9l2 .1M87.1 265.4l2.8-1.5M89.9 264l1.8-2.4M95.3 262.1l-.7-1.9M95.9 265.1l.5 1.9M94.1 264.5l-1.9 .6M91.7 261.6l2.3 1.9M94 263.5l1.6 .1M100.2 264.7l1.9-.6M97.3 266l-1.5 1.3M97.3 263.4l-1.4-1.4M95.6 263.6l1.2 1.5M96.8 265.1l1.5-.4M103.1 264.6l.8 1.8M101.4 263.9l-1.4 1.4M103 261.6l-.6-1.9M98.3 264.7l2.2-1.5M100.5 263.2l2.5-.1M103.7 263.8l-1.5-1.3M105.1 262.8l-.8-1.8M104 265.2l-1.7 1M103 263.1l.8-.2M103.9 263l1.6 1.3M110.7 270l-.4-2M110.2 273l-.8 1.8M108.7 272.1l-1.8 .8M105.4 264.3l3.3 2.9M108.7 267.1l1.7 4.4M111.9 261.8l-1.7 1M112 260.3l-1.2-1.6M115.1 262l1.9 .7M118.5 255.9l.4-2M116.3 257.8l-1.9 .6M119.9 256.9l2-.3M113.5 261.1l2.5-2.6M116 258.6l2.1-1.3M119.1 255.1l-2-.4M121.7 253.5l.5-1.9M122.9 254.7l2 0M118.1 257.3l2.3-1.9M120.4 255.5l.7-.6M123.6 263.6l-1.8-.8M123.9 265.1l-1.4 1.4M125.6 265.6l.7 1.9M130.3 258.2l1.9-.5M126.6 258.7l-2 .1M129.6 259.6l1 1.7M125.4 264.1l.9-3.8M126.2 260.3l2.2-1.9M131.7 262.5l-1.1-1.7M130.7 263.7l-1.9-.5M131.6 265l-1.4 1.4M128.5 258.4l2.5 1.7M131 260.1l1.6 3.6M140.6 266.2l2 .2M139.7 264.8l.6-1.9M136.8 266l-1.9-.6M132.6 263.8l3.5 1.7M136.1 265.5l2.7 .6M138 257.9l-1.6-1.2M139.9 257.7l1-1.7M140.3 260.3l1.1 1.7M138.7 266.1l.4-4M139.1 262l.1-2.9M146.6 254.1l2-.4M143 255l-1.9 .4M144.4 256l-1.1 1.7M139.2 259.1l3.3-2.8M142.5 256.3l2.4-1.8M149.4 261.9l2 .4M146 260.5l-1.8-.9M149.3 260.4l1.4-1.4M144.8 254.5l1.7 3.5M146.5 258.1l1.2 3.1M60.6 283.6l-2 .2M61.9 284.6l-.2 2M61 282.1l-1.8-.8M63.3 288.2l-1.9 .5M66 286.7l1.1-1.7M64.1 286.9l-1-1.7M62.4 283.2l1.2 2.5M63.6 285.7l1.7 2.4M70.2 280.5l.6 1.9M71.8 279.8l2 .3M68.5 278.3l-1.8-.9M71.1 273.8l-1.9-.6M73.3 275.7l-.3 2M72.5 272.8l0-2M70.2 279l.7-1.4M70.9 277.6l2-3.3M77.5 282.5l-.7 1.9M77.3 279.9l-1.3-1.5M80.3 281.1l1.9 .5M72.9 274.3l3.3 4.2M76.3 278.4l2.1 2.7M83 278.6l1.4-1.4M81.7 281l-.3 2M81.3 278l.3-2M78.4 281.1l1.9 .1M80.3 281.2l1.2-1.7M82.3 281.9l-2-.3M82.8 283.3l-1 1.7M83.6 280.8l-1-1.7M81.5 279.5l1.4 1.3M82.9 280.7l1.3 1.5M88.5 274.4l1.1-1.6M86.6 274.3l-.5-1.9M89.3 275.7l1.9 .5M84.1 282.2l1.8-3M85.9 279.2l1.5-3.6M90.5 277.5l-1.4 1.4M92.4 277.9l1.2 1.6M93.1 275.3l1.7-1M87.4 275.6l1.7-.4M89.1 275.2l2.7 1.2M95.1 279.1l-.5-1.9M93.5 281.4l-1.6 1.2M93.5 279.9l-1.4-1.4M91.8 276.4l2.2 2M94 278.4l1.2 2.2M97 281l-1.8-.9M100.3 281.5l1.9-.5M98.8 280.5l.7-1.9M95.1 280.6l1.8 .7M97 281.3l1.5 .6M99.8 284.7l-1.7 1.1M103.1 284.7l1.9 .6M99.8 283.2l-1.4-1.4M98.5 282l1.2 1.8M99.7 283.7l1.8 .2M103.9 285.9l-2-.3M106.5 284.3l1-1.7M106.9 286.9l1.6 1.2M101.5 284l1.2 .5M102.6 284.4l3.1 1.3M108.6 281.4l-1.6 1.2M110.2 282.2l.2 2M112 280.1l2-.4M105.8 285.7l2.7-3.3M108.5 282.4l1.8-1.6M114.9 285l1.8 1M114.3 283.5l1.2-1.6M113.7 286.1l.8 1.9M110.3 280.7l2.2 1.7M112.5 282.5l.5 2.2M119.6 287.7l2 .4M117 286.1l-1.1-1.7M116.5 288.7l-.8 1.9M113.1 284.7l2.5 1.1M115.6 285.8l2.1 1.7M120.3 286.8l.2 2M121.9 286l1.8 .8M120.1 283.8l-.4-2M117.7 287.5l1.7-2M119.3 285.5l.8-.2M122.9 287.3l-.8-1.9M122.1 288.7l-1.8 .9M123.2 289.9l-1 1.7M120.2 285.3l2 1.8M122.2 287.1l1.8 1.4M127 290.5l-1.1-1.7M128.9 290.4l.9-1.8M126.2 291.9l-1.9 .5M124 288.5l1.3 1.5M125.3 290l2.8 1.8M131.3 285.9l-.7-1.9M129.6 286.6l-1.8-.8M132.9 286.7l1.8-.8M128.1 291.8l.8-2.2M128.9 289.6l2.4-2.2M133.9 286l-2 .2M137.7 285.8l1.9-.5M134.9 287.2l-1.4 1.4M131.2 287.4l3.2-1.2M134.4 286.2l1.4-.3M138 288.6l-.2-2M139.3 291l1.7 1M139.6 289.5l2-.1M135.8 285.9l.4 2.4M136.2 288.3l1.7 1.8M145.6 286.8l2-.3M142.3 286.6l-1.8-.9M145.5 288.3l1.9 .7M137.8 290.1l3.1-.4M141 289.7l2.9-2.3M146 288.5l-1.8 .9M148.6 286.2l1.7-1.1M145.4 287l-1.8-.8M143.9 287.4l2.6 .6M146.5 288.1l.8-.7M13.3 338.4l1.6 1.2M11.3 336.4l-.8-1.8M9.8 337.3l-1.8-.8M14.6 336.9l-1.3 1.6M17.9 335.3l1.9-.4M16.2 334.6l-.5-1.9M11.5 337.9l2.2-.6M13.8 337.2l2.5-1.2M17.7 337.2l-2 .4M20.8 338.1l1.1 1.7M18.9 338.4l-.6 1.9M16.3 336.1l.8 .6M17 336.7l2.5 .3M24.6 346.2l.4 2M26 345.2l2 .1M25.6 343.8l1.2-1.6M25.3 334.6l-1.8 .9M26.1 333.2l-1.2-1.6M29.1 334.3l1.9-.6M34.3 335.2l1.9-.6M31 335l-1.9-.6M32.5 337.3l-.4 2M27.2 334.4l2.1 .1M29.3 334.6l3.3 1.3M36.2 337.4l1.4 1.4M34.3 337.4l-.9 1.8M37.2 336.1l2 0M32.6 335.8l2.2 0M34.9 335.8l.4 .3M39.9 343.6l1.5 1.3M39.1 341.1l.5-1.9M40.4 342.2l2-.3M35.3 336.1l1 2.9M36.3 339l2.2 3.6M41.8 343.2l-1.8-.9M44.9 342.3l1.4-1.4M42.5 344.6l-1.1 1.6M38.6 342.5l2.8-.4M41.4 342.1l2.3 1.3M47.4 336.4l-.7-1.9M49.1 338.6l1.4 1.4M47.5 339.4l-.4 2M43.7 343.5l2.6-2.4M46.3 341l1.1-3.1M55 337.1l1.5-1.3M53.4 339.4l-.1 2M51.7 338.6l-1.7 1M47.4 337.9l3.1 .8M50.5 338.7l2.8-.8M55.7 332.1l1.3-1.5M53.8 332l-.6-1.9M55.4 334.7l.5 1.9M53.4 337.9l-.4-2.6M53 335.3l1.6-1.9M57.6 338.3l-1.7-1.1M59.1 337.4l.1-2M59.6 340.3l-.5 1.9M54.6 333.4l2.6 2M57.2 335.4l2.2 3.4M60.3 343l-1.7-1.1M60.7 344.5l-1.6 1.3M62.5 345l-.3 2M59.4 338.8l.9 2.3M60.3 341.2l1.8 2.3M67.3 347.2l.2 2M65.6 346.4l-1.4 1.4M67.4 344.2l.4-2M62.1 343.5l1.8 1.7M64 345.2l3.3 .5M69.8 341.3l-1.4-1.4M71.4 340.5l.6-1.9M71.5 343.5l-.5 1.9M67.3 345.7l1.9-1.8M69.3 343.9l2.2-1.9M74.2 346l1.3-1.5M75.3 347.2l1.9-.5M72.3 346.1l-1.1-1.7M71.5 342l1.7 3.4M73.1 345.5l.2 1.9M79.7 344.8l-1.2-1.6M79.7 347.4l-1.5 1.3M81.6 347.5l.5 1.9M73.4 347.3l3.5-1.4M76.9 345.9l3.8 .2M85.4 342.5l1.5-1.3M82.2 342.2l-1.9-.6M85.2 344l1.5 1.4M80.7 346.1l1.3-2.1M82 344l1.7-.9M88.8 340.1l1.9-.6M85.9 341.3l-.8 1.8M86 338.7l-1-1.7M83.7 343.1l1-.8M84.7 342.3l2.2-2.3M91.4 342.5l1.2-1.6M90 345.3l-.4 2M91.9 345.1l1.2 1.6M86.9 340l1.2 1.8M88.1 341.8l2.6 2.1M95.9 351.7l.1 2M96.4 349.1l1-1.7M97.1 350.5l2 0M90.7 343.9l2.2 4M92.9 347.9l2.3 2.3M96.5 353.5l-1.9-.8M99.8 353.3l1.1-1.7M98.4 355.6l-.4 2M95.3 350.3l2.2 1.4M97.4 351.6l.8 2.5M104.2 351.2l1.9 .7M102.8 352.3l.8 1.8M103.6 349.8l1.2-1.6M98.2 354.1l2.4-1.7M100.7 352.4l1.7-1.5M107.9 343.9l.6-1.9M106.1 344.4l-1.4-1.5M109.3 344.9l1.9-.5M102.3 350.9l3.6-3.1M105.9 347.8l1.6-2.4M115 340.5l1.9 .7M113.8 341.6l1.3 1.6M111.3 339.9l-2 .3M107.5 345.4l2.8-3M110.3 342.4l2.8-2.2M115.9 347.3l1.2-1.6M115.1 349.9l.1 2M116.5 348.8l2-.2M113.2 340.2l1 3.6M114.2 343.8l.4 4.7M120.4 352.9l1.1-1.7M118.2 355.3l-.7 1.9M118.5 352.7l-.3-2M114.6 348.4l2.8 2.5M117.4 350.9l1.9 3.1M121.1 355.6l-1.5 1.3M120.1 354.4l-2 0M121 353l-1.5-1.3M119.3 354.1l.8 .8M120.1 354.9l1.9-.6M27.1 363.5l.3-2M28.6 364.3l1.6-1.2M25.3 364.1l-1.6-1.3M29.4 358.7l-2 .4M32.6 359.4l1.2 1.6M30.8 359.8l-.5 1.9M26.8 364.9l2.5-3.1M29.4 361.9l1.9-3.5M36.2 364.2l-.1 2M34.3 362.1l-1.7-1M37.6 361.8l1.8-.8M31.3 358.4l1.8 2.2M33.1 360.6l3 2.1M38.2 356.6l1.8 1M38.4 355.1l1.9-.7M34.9 356.4l-1.9 .5M36.1 362.7l.8-4.2M36.9 358.5l-.2-2.8M41.4 359.6l-.3-2M39.7 360.3l-1.2-1.6M43 360.4l1.6-1.1M36.7 355.8l1.7 2.5M38.4 358.3l2.9 2.8M46 362.6l1.9 .6M44.4 360.4l-.2-2M42.8 361.1l-1.9-.5M41.3 361.1l1.7 .3M43 361.4l1.4 .5M50.4 358.7l1.6-1.2M50.8 360.2l2 .4M48.6 358.2l.2-2M44.4 361.9l1.5-.3M45.9 361.6l3.1-2M52.2 362.8l.3 2M52.6 360.2l.5-1.9M50.7 360l-1.2-1.6M49 359.7l1.2 0M50.2 359.6l1.3 1.8M56.4 359.1l1.1-1.7M54.4 361.6l-.9 1.8M56.3 361.7l.8 1.8M51.4 361.4l1.1-.5M52.6 360.8l2.8-.5M59.6 360.7l1.6-1.3M56.3 361.2l-2-.1M59.9 362.2l1.7 1.1M55.4 360.4l1.6-.1M57 360.2l1.2 1.5M61.8 362.3l-.9-1.8M60.6 364.7l-1.3 1.5M63.6 362.8l1.8-.8M58.1 361.7l1.5 .7M59.7 362.4l2.4 1.4M62.7 366.9l-1.5 1.3M64.5 364.7l-.6-1.9M62.8 365.4l-1.6-1.1M62.1 363.8l.2 .5M62.3 364.3l2 2M69.8 357.6l1.3-1.6M67.3 359.3l-1.7 1M71 358.8l2 .4M64.4 366.2l1.8-4.3M66.2 361.9l3-2.9M70.8 365l-1.5-1.3M71.6 367.5l-1.2 1.6M72.6 364.6l1.2-1.6M69.2 359l2 2.6M71.1 361.6l1 4.4M75.5 361.1l-.4-2M73.9 363.4l-1.3 1.5M77.2 363.4l1.9 .8M72.1 366.1l2.4-1.6M74.5 364.4l1-1.8M79.3 365.9l-1.1 1.7M81 366.5l.8 1.8M82.5 365.7l1.5 1.3M75.5 362.6l3.4 .6M78.9 363.3l1.9 1.8M86.1 357.7l1.9-.7M85 356.5l1.3-1.6M85.3 359.1l.5 1.9M80.8 365l1.1-4.4M81.9 360.7l2.3-2.8M83.8 359.6l-2 0M84.8 360.8l-1.2 1.6M84.7 358.2l-1.5-1.3M84.2 357.9l.6 .7M84.8 358.5l.9 .9M88.4 357.4l-2-.3M91.5 356.5l.8-1.8M90.9 359.1l1.1 1.6M85.7 359.5l1.4-.8M87 358.7l3.2-1M93.1 362.9l-1.2 1.6M92.4 361.5l-1.8-.8M96.2 361.9l2 .2M90.3 357.7l1.4 2.6M91.6 360.3l2.6 1.4M96 362.8l-1-1.7M95.8 365.3l-1.4 1.5M97.7 365.4l.8 1.8M94.3 361.7l2.2 1.7M96.5 363.4l.4 .7M103 367.8l1-1.8M104 369.1l1.9 .7M103 370.4l.8 1.8M96.9 364.1l3 2.5M99.9 366.6l2.1 2.5M103.2 373.5l-1.5 1.3M102.6 372.1l-2 .3M105 373.8l.5 1.9M102.1 369.1l.8 1.9M102.9 371l1.6 1.4M106.3 371.6l-1.6-1.1M107.1 374.1l-1.1 1.6M105.8 373l-1.8 .9M104.4 372.4l1-.2M105.5 372.2l2.2 .5M97.8 259.1l1.5-.2M59.6 246l-1.3 .7M34.3 254.6l-.1-1.5M77.1 357.3l1.2-.9M117.9 340.1l-.5-1.4M137 337.6l-.8 1.2M41.8 344.5l-.8 1.3M17.2 350.8l1 1.1M71.6 366.3l-.2-1.5M23.2 278.9l-1.7-.7-.2-1.5 1.5-.8 1.8 .6 .1 1.5zM27.1 277.7l-1.3-1.1 .4-1.4 1.9-.4 1.3 1-.5 1.5zM28.7 271.4l.6-1.5 1.8-.3 1.3 1.1-.6 1.4-1.8 .4zM34.7 277.7l-1-1.3 .9-1.3 1.9 0 1 1.3-.9 1.3zM39.4 274.5l-1.8-.4-.5-1.4 1.3-1.1 1.8 .4 .5 1.4zM40.1 270l.9-1.4 1.9 0 1 1.3-.9 1.3-1.9 0zM47.6 266.6l-1.9-.3-.7-1.4 1.2-1.1 1.9 .2 .7 1.4zM53 266.8l-1.4 1-1.8-.5-.4-1.4 1.4-1 1.8 .4zM53.6 265l-1.7-.6-.1-1.5 1.5-.8 1.7 .6 .2 1.5zM56.5 266.4l-.4-1.5 1.3-1 1.9 .4 .4 1.4-1.3 1.1zM59.9 276.5l-.5-1.4 1.3-1.1 1.9 .4 .5 1.4-1.3 1.1zM62.9 270.8l.4-1.5 1.8-.4 1.4 1-.4 1.4-1.8 .5zM69.9 263.5l-1.9-.5-.4-1.4 1.4-1 1.9 .4 .4 1.5zM70 265.9l.6-1.5 1.8-.3 1.3 1.1-.6 1.5-1.9 .3zM78.5 269.1l-1.2 1.1-1.9-.2-.7-1.5 1.2-1.1 1.9 .2zM77.5 266.3l-1.1-1.2 .8-1.4 1.9-.1 1.1 1.2-.8 1.3zM82.2 271.1l-1.5-1 .4-1.4 1.8-.5 1.4 1-.3 1.4zM89 265.5l-1.1 1.3-1.9-.1-.8-1.4 1-1.2 1.9 .1zM92.3 263l-1.9-.3-.6-1.5 1.3-1.1 1.9 .4 .5 1.4zM94.1 264.5l-.3-1.4 1.5-1 1.8 .6 .2 1.4-1.4 1zM99.2 266l-1.9 0-.9-1.3 .9-1.3 1.9 0 1 1.3zM104.7 263.8l-1.6 .8-1.7-.7 0-1.5 1.6-.8 1.6 .7zM107.2 264.8l-1.4 1-1.8-.6-.3-1.4 1.4-1 1.8 .5zM112 272.4l-1.8 .6-1.5-.9 .2-1.5 1.8-.6 1.5 .9zM111.9 261.8l.1-1.5 1.6-.7 1.6 .9-.1 1.5-1.7 .6zM119.5 258.4l-1.8 .4-1.4-1 .4-1.5 1.8-.4 1.4 1zM119.1 255.1l.8-1.4 1.8-.2 1.2 1.2-.7 1.4-1.9 .2zM125.6 265.6l-1.7-.5-.3-1.5 1.5-.9 1.8 .5 .2 1.5zM129.6 259.6l-1.8 .2-1.2-1.1 .7-1.4 1.8-.3 1.2 1.2zM134.5 263.8l-1 1.3-1.9-.1-.9-1.3 1-1.2 1.9 0zM137.7 267.3l-.9-1.3 1.1-1.2 1.8 0 .9 1.4-1 1.2zM140.3 260.3l-1.9 .2-1.1-1.2 .7-1.4 1.9-.2 1.1 1.2zM144.4 256l-1.4-1 .4-1.5 1.8-.4 1.4 1-.3 1.4zM146.1 262l-.1-1.5 1.7-.8 1.6 .7 .1 1.5-1.7 .8zM60.6 283.6l.4-1.5 1.9-.4 1.3 1-.4 1.5-1.9 .4zM63.3 288.2l.8-1.3 1.9-.2 1.1 1.3-.8 1.3-1.9 .2zM68.5 279.8l0-1.5 1.6-.8 1.7 .8 0 1.5-1.6 .7zM71.5 275.3l-.4-1.5 1.4-1 1.8 .5 .4 1.4-1.4 1zM77.5 282.5l-1-1.3 .8-1.3 1.9-.1 1.1 1.3-.9 1.3zM83.2 280.1l-1.5 .9-1.8-.7-.1-1.5 1.5-.8 1.7 .6zM84.7 283.7l-1.9-.4-.5-1.4 1.3-1.1 1.9 .3 .5 1.5zM89.3 275.7l-1 1.3-1.9-.1-.9-1.3 1.1-1.3 1.9 .1zM93.6 276.7l-1.2 1.2-1.9-.4-.6-1.4 1.3-1.1 1.9 .3zM95.2 282.1l-1.7-.7 0-1.5 1.6-.8 1.6 .7 .1 1.5zM99.9 282.9l-1.8 .5-1.4-.9 .3-1.5 1.8-.5 1.5 1zM99.8 284.7l0-1.5 1.6-.7 1.7 .7 0 1.5-1.6 .8zM105 287.1l-1.1-1.2 .7-1.4 1.9-.2 1.2 1.2-.8 1.4zM110.2 282.2l-1.6-.8 .1-1.5 1.7-.7 1.6 .9-.1 1.5zM111.8 285.8l-.6-1.4 1.2-1.1 1.9 .2 .6 1.5-1.2 1.1zM116.5 288.7l-.7-1.4 1.2-1.2 1.8 .2 .8 1.4-1.2 1.2zM121.9 286l-1.6 .8-1.7-.7-.1-1.5 1.6-.8 1.7 .7zM125.1 289.7l-1.9 .2-1.1-1.2 .8-1.4 1.8-.1 1.2 1.2zM126.2 291.9l.8-1.4 1.9-.1 1.1 1.2-.8 1.4-1.9 .1zM129.6 288.1l0-1.5 1.7-.7 1.6 .8 0 1.5-1.7 .7zM136.8 287.2l-1.9 0-1-1.2 .9-1.4 1.9 0 1 1.2zM139.3 291l-1.7 .6-1.5-.9 .2-1.5 1.7-.6 1.6 .9zM145.5 288.3l-1.7 .6-1.6-.8 .1-1.5 1.7-.7 1.6 .9zM147.9 288.8l-1.9-.3-.6-1.5 1.3-1.1 1.9 .3 .6 1.5zM10.1 338.8l-.3-1.5 1.5-.9 1.7 .5 .3 1.5-1.5 .9zM17.9 336.8l-1.6 .8-1.7-.7 0-1.5 1.6-.8 1.7 .7zM17.7 337.2l.6-1.4 1.9-.2 1.2 1.1-.6 1.4-1.9 .3zM22.8 345.8l-.4-1.5 1.4-1 1.8 .5 .4 1.4-1.4 1zM26.5 335.8l-1.2-1.2 .8-1.4 1.8-.1 1.2 1.2-.8 1.3zM32.5 337.3l-1.6-.8 .1-1.5 1.8-.7 1.5 .9-.1 1.5zM36.2 337.4l-1.9 0-.9-1.3 .9-1.3 1.9 0 1 1.3zM38.1 344l-1.4-1.1 .5-1.4 1.9-.4 1.3 1.1-.5 1.4zM45.6 343.7l-1.3 1.2-1.8-.3-.7-1.4 1.2-1.2 1.9 .3zM47.5 339.4l-1.7-.7 0-1.5 1.6-.8 1.6 .7 .1 1.5zM51.7 338.6l0-1.5 1.6-.7 1.7 .7 0 1.5-1.6 .8zM56.5 333.5l-1.1 1.2-1.9-.1-.8-1.4 1.1-1.2 1.9 .1zM57.9 339.8l-.3-1.5 1.5-.9 1.8 .5 .2 1.5-1.5 .9zM63.9 344l-1.4 1-1.8-.5-.4-1.5 1.4-1 1.8 .5zM65.6 346.4l.1-1.5 1.7-.7 1.6 .8-.1 1.5-1.6 .7zM69.8 342.8l0-1.5 1.6-.8 1.7 .7 0 1.5-1.6 .8zM71.5 347.4l.8-1.3 1.9-.1 1.1 1.2-.9 1.4-1.9 .1zM79.7 347.4l-.9-1.3 .9-1.3 1.9 .1 1 1.3-1 1.3zM85.2 344l-1.8 .6-1.5-.9 .3-1.5 1.7-.6 1.5 .9zM87.8 341.4l-1.9-.1-.9-1.3 1-1.3 1.9 .1 .9 1.3zM90 345.3l-1.2-1.2 .7-1.4 1.9-.2 1.2 1.2-.7 1.4zM95.9 351.7l-1.8-.3-.7-1.4 1.2-1.1 1.8 .2 .7 1.4zM98.4 355.6l-1.7-.6-.2-1.5 1.6-.9 1.7 .7 .2 1.5zM102.8 352.3l-1.8-.4-.5-1.4 1.3-1.1 1.8 .4 .6 1.4zM108.9 346.3l-1.7 .5-1.5-.9 .4-1.5 1.8-.5 1.4 1zM111.9 341.3l-.6-1.4 1.3-1.1 1.9 .3 .5 1.4-1.2 1.1zM116.5 348.8l-1.4 1.1-1.8-.4-.5-1.4 1.3-1.1 1.8 .3zM121.2 354.2l-1.1 1.2-1.9-.1-.8-1.4 1.1-1.2 1.9 .2zM121.1 355.6l-1-1.2 .9-1.4 1.9 0 1 1.2-.9 1.4zM25.1 365.5l.2-1.4 1.8-.6 1.5 .8-.2 1.5-1.8 .6zM29.4 358.7l.6-1.4 1.8-.4 1.3 1.1-.5 1.4-1.8 .4zM36.2 364.2l-1.7-.6-.2-1.5 1.6-.9 1.7 .6 .2 1.5zM38.2 356.6l-1.7 .7-1.6-.9 .2-1.5 1.7-.6 1.6 .8zM41.2 362.6l-1.6-.8 .1-1.5 1.7-.7 1.6 .8-.1 1.5zM42.7 362.6l.1-1.5 1.6-.7 1.6 .7 0 1.5-1.6 .8zM47.5 360.6l-.3-1.4 1.4-1 1.8 .5 .4 1.5-1.5 .9zM50.3 362.6l-.7-1.4 1.1-1.2 1.9 .2 .7 1.4-1.1 1.2zM56.3 361.7l-1.9-.1-.9-1.3 1-1.2 1.9 0 .9 1.4zM56.7 362.7l-.4-1.5 1.5-1 1.8 .5 .3 1.5-1.4 1zM60.6 364.7l-.3-1.5 1.5-.9 1.8 .5 .3 1.5-1.5 1zM66 367.1l-1.7 .6-1.6-.8 .1-1.5 1.7-.7 1.6 .9zM67.3 359.3l.6-1.4 1.9-.3 1.2 1.2-.6 1.4-1.9 .3zM71.6 367.5l-1.3-1 .5-1.5 1.8-.4 1.4 1.1-.5 1.4zM75.6 364.1l-1.7-.7-.1-1.5 1.7-.8 1.6 .8 .1 1.5zM82.5 365.7l-1.5 .8-1.7-.6-.2-1.5 1.5-.8 1.8 .6zM83.4 359.3l-1.1-1.3 .8-1.3 1.9-.2 1.1 1.2-.8 1.4zM84.8 360.8l-1-1.2 .9-1.4 1.8-.1 1.1 1.3-.9 1.3zM90.9 359.1l-1.9-.3-.6-1.4 1.2-1.1 1.9 .2 .6 1.5zM93.1 362.9l-.7-1.4 1.2-1.2 1.9 .2 .7 1.4-1.2 1.2zM97.7 365.4l-1.9-.1-.8-1.3 1-1.2 1.9 0 .9 1.4zM104 369.1l-1 1.3-1.9 0-.9-1.3 .9-1.3 1.9 0zM106.3 372.7l-1.3 1.1-1.8-.3-.6-1.4 1.2-1.1 1.9 .3zM109 373.7l-1.9 .4-1.3-1.1 .5-1.4 1.9-.4 1.3 1.1z" stroke="#5a5a5a" stroke-width="0.75" fill="none" stroke-linecap="round" clip-path="url(#cb1)"/>
<path d="M117.2 254.7h0m1.7-.8h0m1-.2h0m1.8-.2h0m.5-1.9h0m.7 3.1h0m20.1 .3h0m2.2-1.9h0m1.4 1h0m-77.6 6.5h0m2.8-1.3h0m19.3 .8h0m1.9 .4h0m11.3 .5h0m7.7-.7h0m1.6-.7h0m1.6 .9h0m1.1-2.7h0m.4-1.5h0m1 2.5h0m.8-2.9h0m.6-.8h0m.4 3.3h0m.8-2.1h0m1.6 .3h0m.3-.5h0m4.4 2.6h0m.7-1.4h0m.5 2.5h0m1.3-2.8h0m1.2 1.2h0m2-.5h0m5 1.6h0m.7-1.4h0m.4 2.6h0m1.9-.2h0m.6-4.3h0m.1 2.9h0m2.4-1.2h0m1-1.7h0m1.6 4.5h0m.3-5h0m1.4 4.2h0m1.6 .7h0m-104.3 4.5h0m.7 1.4h0m.5-2.5h0m1.4 2.8h0m.5-2.6h0m.7 1.4h0m2-.5h0m1-2h0m.1 1.5h0m.7 .9h0m.4 1.5h0m.3-4.7h0m1.2 4.8h0m.5-4.2h0m.2 1.5h0m.9 .7h0m1.3-1h0m1 2.9h0m.9-2.5h0m.4 1.4h0m2 .6h0m5.9-4.7h0m.6 5.2h0m1.3-1.3h0m.4-2h0m.1 2.4h0m.6-1.5h0m.3-3.4h0m.3 6h0m.1-4.5h0m1.1 1.6h0m.7 2.6h0m2.6-1.6h0m1.5-1.4h0m.3 2.6h0m1.6-2.7h0m.3 2.5h0m.8-1.3h0m5.8 1.9h0m.2-2.6h0m1.7 2.7h0m.2-2.6h0m.9 1.3h0m.8-4.3h0m.6 1.5h0m.5 3.3h0m1.3-.9h0m.1-2.1h0m1.5 .1h0m.3 1.4h0m1.2-2.4h0m.6 3h0m.5-.4h0m.7-2h0m.2 3.3h0m0-2.6h0m0 .7h0m1.9 1.9h0m0-2.6h0m1 1.3h0m1.2-2.3h0m0 1.5h0m1.6-2.3h0m.1 3h0m.6-.8h0m.2 2.7h0m.8-2.7h0m.4-1h0m.7 3h0m1.1-2.5h0m.3 1.5h0m2.9-2h0m3.3-.2h0m1.7-.6h0m6.7 .8h0m.6 3.7h0m1.2-2.9h0m.3 1.5h0m1.2-2.4h0m.5 2.9h0m1.3-2.4h0m1.8 .1h0m2 .4h0m.9 1.3h0m.1-2.5h0m1.8 2.6h0m1-1.3h0m.4 1.6h0m1.9 .6h0m1.1-1.2h0m1.8 0h0m.9 1.4h0m.8-4.2h0m4.7 0h0m1.6 .7h0m3.6-.4h0m-123.6 6.4h0m1 2.7h0m1.3 1.1h0m1.1-2.9h0m.7 2.5h0m.2-4.3h0m.4 2.9h0m4.7 2h0m1.3-1.1h0m1.3 1.1h0m.5-.7h0m.8-3.4h0m.1 2.6h0m1.8-2.6h0m.1 2.6h0m.9-1.3h0m5.9-2.6h0m1.8 .5h0m11.3 3h0m.4-1.5h0m1 2.5h0m.8-2.9h0m1 2.4h0m.4-1.4h0m2-.3h0m4 3.2h0m2.2-4.3h0m.7 1.5h0m.5-2.6h0m1.4 2.8h0m.5-2.6h0m.7 1.5h0m.5 1.9h0m1.7-.9h0m.4-1.4h0m1.1 2.4h0m.7-2.9h0m1.1 2.4h0m5.1-2.2h0m17.8 4.5h0m1.8-.8h0m.2-1.5h0m1.3 2.4h0m.1-5h0m1.7 4.4h0m.2-1.5h0m14.2-3.4h0m11.3-.2h0m-116.2 10.9h0m.9-4.3h0m.4 2h0m.4 3h0m.6-1.7h0m.8-.7h0m.1 1.5h0m1.1-1.4h0m0-1.7h0m1.3 2.8h0m1-2.9h0m.8 2.5h0m.5-1.5h0m5.2-.7h0m.1 2.6h0m1-2.8h0m.8 .2h0m.1 2.6h0m.9-1.3h0m.1-2.3h0m1.8 .4h0m3.3-1.1h0m16.7 1.7h0m.5 1.4h0m.8-2.5h0m1.1 2.9h0m.8-2.5h0m.5 1.4h0m1.8 .8h0m1.8 .8h0m2.5-4.2h0m.9 4.3h0m1-3.7h0m.4 1.5h0m.3 3h0m2.5-5h0m.4 1.4h0m1.3 3.7h0m3.8 .4h0m3.2-.2h0m1.5-1.4h0m1-1.6h0m.9 1.3h0m.2-2.6h0m1.9 .1h0m.6 4.6h0m.2-3.3h0m.6 .4h0m.6 1.4h0m.7-2.5h0m1.2 2.9h0m1.2-1.2h0m1 .4h0m5 1.5h0m-76.6 2.2h0m13.8-1.1h0m21.8 4.1h0m2.4-1.7h0m.9 2.5h0m1-2.9h0m.9 2.5h0m.4-1.5h0m4.3-2.9h0m1.7 .7h0m1.6-.7h0m5.5 .1h0m.2 2.6h0m1.7-2.7h0m.2 2.6h0m.5-2.1h0m.4 .8h0m1.1 1.8h0m.3-1.9h0m.6 .9h0m.3-2.9h0m.2 4.3h0m.4-3.2h0m.4 .7h0m1.1 2.9h0m.8-2.6h0m.5 1.5h0m5.9 0h0m1.6-1.2h0m.1-1.9h0m1.5-.4h0m.1 3h0m1.5-2.3h0m.1 1.5h0m.2-.3h0m1.1 2.4h0m.7-2.9h0m1 2.7h0m0 1.5h0m.1-1.8h0m.4-1.4h0m1.1 1h0m.8-1.5h0m.9 3.7h0m1.5-.2h0m1.9-.2h0m.5-1.7h0m.5 0h0m1.2-2.7h0m1.5 2.3h0m.2 2h0m0-5h0m.8 5.2h0m.7-2.8h0m.1-1.5h0m.4 3.2h0m1.9 .2h0m.6 1.5h0m.6-3h0m.4 2.4h0m2.6 .2h0m1.1-2.7h0m.5 1.9h0m1.7 .7h0m8.8-.5h0m4.2 .6h0m-73.4 4.1h0m.4-2.1h0m1.3-1.4h0m.2 3h0m.8-1.3h0m.3 2.6h0m1.6-2.8h0m.3 2.6h0m.8-4.3h0m0 3h0m14.7-3h0m16.4 .8h0m3.3-.3h0m2.4 .4h0m1.1 1.2h0m0-1.8h0m2.7 .2h0m4.1 .3h0m1.9 .3h0m2.1 1.2h0m.7 1.4h0m.5-2.6h0m1.4 2.8h0m.2-2.8h0m1 1.6h0m.7-.9h0m0 2.8h0m1.2-1.5h0m.4-2.1h0m.2 2.7h0m.8-1.4h0m.3 2.6h0m.5-3.1h0m1 .4h0m.4 2.5h0m.8-1.3h0m0 .5h0m1.1 1.6h0m.8-4.6h0m1.1 4.5h0m.7-2.3h0m0-1.5h0m.2 2h0m1.4 .3h0m.7-2.7h0m1 2h0m0-1.5h0m.6 2h0m.4-2.7h0m.8-.1h0m.2 1.3h0m1.2 3.5h0m.2-1.5h0m.5-2h0m.9-1.4h0m.2 .8h0m1.4 4.4h0m.3-1.5h0m0-4.1h0m.9 .3h0m1.7 2.4h0m.1-1.5h0m1.3-.4h0m.2 2.7h0m.2-3h0m.2 3.4h0m1.2-2.3h0m.1 1.3h0m.5 .2h0m1.3 .4h0m.2-2.4h0m.4 2.3h0m.7-2.6h0m.6 1.5h0m-27 3.9h0m4 .3h0m1.1 1.2h0m1.9-.1h0m8.4-1.4h0m3.5 .4h0m-125.4 40.6h0m37.4-2.5h0m.7 1.9h0m1.9 .1h0m1.3-1.5h0m-47.2 6.7h0m.3 1.5h0m1.2-2.4h0m2 2h0m1.3-3h0m0 1.5h0m1.6-2.3h0m.1 3h0m1.4-.4h0m.2-.4h0m.4-1h0m.6 2.6h0m.9-3.6h0m.4 .8h0m.6 2.5h0m2.7-2.6h0m1.8-.9h0m.8-1.4h0m.4 2.6h0m1.4-2.7h0m.4 2.5h0m.8-1.2h0m1.8 2.1h0m.1-2.9h0m0 1.4h0m1.5 2.3h0m.9-1.2h0m.8 .6h0m.1-1.5h0m0-.4h0m0 2.6h0m1.9-2.6h0m0 2.6h0m9.6-.2h0m0 1.5h0m.9-4.2h0m2.3 2.6h0m.1 1.5h0m2.6 0h0m1-5.4h0m.6 3.2h0m.2-1.8h0m1.5 2.5h0m0 1.5h0m.4-3.9h0m.5 2h0m0 .5h0m.6-3.7h0m0 2.3h0m1.1 2.5h0m1.5-.9h0m.1-2h0m1.7 2.5h0m27 .9h0m24.7 0h0m-100.8 .5h0m3.1 .3h0m7.5 4.7h0m1.4-1h0m1.8 .5h0m6.4-4.5h0m5.2 2.2h0m.9 2.5h0m1-2.9h0m.8 2.5h0m.1-1.3h0m.4-.1h0m1 2.7h0m.4-1.7h0m.6-1.4h0m.1 2.8h0m.5-2.6h0m1.3 2.9h0m.6-2.6h0m.7 1.4h0m1.9-4.3h0m2.5 .2h0m.5 .4h0m2.9-.6h0m4.5 .4h0m1.2 2.5h0m.5-2h0m1.1 4.2h0m.4-5.1h0m.6 2.6h0m.8 3h0m1-2.5h0m.4 1.5h0m1.8 .9h0m1.7-.7h0m.3-2h0m1.3 2.8h0m.8-3.7h0m1.6-.8h0m.1 3h0m1.6-2.3h0m0 1.5h0m2.4 1.8h0m3-1.3h0m1.2 1.6h0m.6-3.2h0m1.3 3.3h0m.3-1.2h0m.3-1.5h0m1.2 2.4h0m.5-3h0m1.1-1.6h0m.4 2.5h0m.5-1.2h0m1.1 0h0m.8 .1h0m1 2.7h0m0-4h0m.7 2.6h0m1.9-.2h0m1.2 1.2h0m13.5 .7h0m1.8-.5h0m.6-1.9h0m.8 2.9h0m1.9-.5h0m.1-4.5h0m.6 1.4h0m1.9 .3h0m.7-2.5h0m.5 1.4h0m1.9 .7h0m-94.1 4.6h0m1.8 .4h0m.3 2h0m3.1-2.9h0m31.2 .5h0m6.4 .6h0m1.7 .8h0m1.6-.7h0m2.6 .9h0m.8-1.3h0m.2 2.6h0m1.7-2.7h0m.2 2.6h0m.9-1.4h0m2.8 1.5h0m.7-2.6h0m2.8 1.4h0m.5 1.9h0m.5-3.2h0m7.4-.9h0m1.9-.2h0m1.2 1.6h0m1.5 2.2h0m1.8 .2h0m.7 1.4h0m.3-3.1h0m3.1 3.1h0m1.3-1.1h0m1.8 .4h0m1.3-1.6h0m2.3-1.4h0m1.7-.5h0m3.9 1.8h0m.5 1.4h0m.8-2.5h0m1 2.9h0m1.4-1.1h0m.7-3h0m1 4.9h0m.3-2.1h0m-86.7 8.3h0m3.3-2h0m1.7-.6h0m1.4 2.3h0m.2-1.5h0m10.5 1.1h0m34.2 .5h0m1.9-.2h0m1.2-1.5h0m5.3 1.5h0m.8-1.8h0m1.8-3.3h0m.6 1.3h0m1.2-1h0m.1 2h0m.5-.2h0m.2 1.5h0m1.4-2.4h0m.3 3h0m1.6-.8h0m.9-3.2h0m1.9 .7h0m1.4-1.1h0m1.8 .7h0m11.4 2h0m.7 .5h0m.1 .9h0m.3-2.6h0m1.1 4.2h0m.5-1.5h0m0-1h0m.9-1.4h0m.1 2.6h0m.1-1.4h0m1.7-1.2h0m.1 2.6h0m.9-1.4h0m-100.1 8.6h0m3.7-3.7h0m1.9-.4h0m.6-1.4h0m.8 2.5h0m1.8-.4h0m.5-1.4h0m.8 3h0m.4 1.1h0m1.6-.9h0m.6-3.9h0m1.1 4.5h0m1.8-.8h0m.2 .8h0m.4-4.2h0m1.1 .1h0m.1 4.9h0m.2-3h0m1.3 3h0m.1-1.5h0m.1 .8h0m.1-1.5h0m3 2.2h0m0-1.5h0m1.2-1.9h0m.3 1.4h0m1.1-2.4h0m.9 .2h0m.8 4.2h0m.1-3.9h0m.3 1.3h0m.1 .2h0m1.2-2.7h0m.2 5.3h0m.4-2.6h0m.5-1.9h0m.2 3.3h0m.2-1.3h0m.8 .8h0m.1 .5h0m1.9 .1h0m0-.5h0m.1-2.1h0m.3 3.6h0m.6-2.2h0m.5-.3h0m1.8 .5h0m.3 1.5h0m1-1.7h0m.2-1h0m.7 2.8h0m1.8 .5h0m.3 0h0m1.5-.8h0m1.9-2.7h0m.6-1.4h0m.6 2.6h0m1.3-2.9h0m.6 2.6h0m.6-1.4h0m2 .4h0m.8 2.7h0m1.7-.8h0m1.6 .8h0m4.7-2.4h0m1.6-.2h0m.2 3.1h0m.2-2.8h0m.9-1.4h0m.1 2.6h0m.5-1.7h0m.8-1.4h0m.4 .4h0m.2 2.6h0m1.7-3.3h0m.6 1.4h0m1.6 1.9h0m.3-1.6h0m1.2-1.1h0m.3 3.5h0m.7 1.4h0m.5-2.6h0m2.4 2.5h0m.2-.9h0m1.7 .9h0m-72.8 2.7h0m.2-1.4h0m1.3 2.3h0m.5-2.9h0m1.3 2.3h0m.2-1.5h0m1.6-1.2h0m6 3.1h0m0-2h0m1.6-.9h0m6.6 .1h0m14.1-.2h0m.8 3h0m1-3h0m.3 1.5h0m.6 3.5h0m0-3.9h0m.4-1.1h0m1.1 3.7h0m.1-1.5h0m1.1-1.1h0m.6 .4h0m1.5 2.4h0m.1-1.5h0m4.7-.6h0m.8 2.5h0m1-2.6h0m0-.3h0m.9 2.5h0m.3-4.1h0m.1 .4h0m.1 2.3h0m1.6-1.6h0m1.6-.7h0m1.9 1h0m.2 1.5h0m1.3-2.3h0m.4 2.9h0m.8 1.9h0m.6-4.2h0m1.6 2.8h0m8-2.5h0m3-.5h0m0-.9h0m.8 2.2h0m1.9 .1h0m.8 1.9h0m.3-3.1h0m2.3 3.6h0m1.9 0h0m-1.9 2.6h0m1.5 1.7h0m.4-1.7h0m.2 3.1h0m.6-1.3h0m.2-3.1h0m1 4.7h0m.7-2.5h0m.1 1.7h0m.5-.3h0m0-1.1h0m.8 2.5h0m1.9-.4h0m.5-1.4h0" stroke="#5d635f" stroke-width="1.6" stroke-linecap="round" fill="none" clip-path="url(#cb1)"/>
<path d="M58.2 246.7h0m-24 6.4h0m82.3 .5h0m3.5-.4h0m3.3-2.3h0m16.7 3.8h0m9.7-.3h0m-96.4 4.6h0m19.8-.1h0m3.9 1.7h0m10.5-1.3h0m3.5-2.2h0m4.2 2h0m.7 1.6h0m3.4-1.8h0m3.7-.3h0m1.8 1.2h0m6.1-2.3h0m2.3 .3h0m9.7-.4h0m.7 .4h0m2.2-2.1h0m5 3.8h0m2.6-1.2h0m2.8-2.8h0m5.9 2.5h0m.1-2.3h0m1.7 2.6h0m8.1 .7h0m-110 5.3h0m8.4-2.5h0m.7 1.5h0m3.2-.8h0m1.3 2.4h0m.8 2.1h0m5.2-4.7h0m3.7 2h0m1.7 2.1h0m1.4-.2h0m8.2-.2h0m4 .5h0m2.2-.2h0m8.2-1.8h0m5.4-1.5h0m2.3 2.3h0m2.3 .5h0m1.1-4.7h0m1.1 3.6h0m5.7-2.3h0m2.1 4.6h0m6.5-3.1h0m3.6 2.5h0m.2-4.8h0m6.8 .5h0m.8 4.3h0m1.4-3.8h0m4 1.7h0m6.8-1.1h0m.4-.9h0m10.6 1h0m-128.9 9.5h0m1.5-.3h0m2.8-5.1h0m5.8 0h0m1.1 4.7h0m3.2-3.8h0m.8 4.4h0m4.7-4.8h0m3.7 2.9h0m7.2-2.7h0m.8 1.1h0m5.1 2h0m.5-.2h0m1.9-3.5h0m6.3 4.5h0m1-1.7h0m3 .9h0m.6-1.5h0m.3 .2h0m2.5-1h0m1.7 1.7h0m5.9-2.1h0m2.4 4.5h0m.8-1.7h0m.5-1.7h0m1.6 .1h0m2 2.8h0m.7-5.4h0m2.9 .1h0m1.2 .9h0m7.7-.4h0m2.3 4.7h0m20.1-3.7h0m17.6-1.4h0m-120.7 9.3h0m4.4-1.8h0m1.8 .5h0m3.5 1.3h0m2.1-2.2h0m5.4 3.1h0m3.8-3.3h0m13.5 3.8h0m6.3-3.3h0m1.8 3.2h0m1-1.7h0m5.7 2.3h0m4.1-1.4h0m.1-4h0m6.5 2.1h0m.3 2.6h0m2.8-.6h0m2 1.8h0m4.1-1.7h0m.1-.1h0m2.9 1.6h0m.4-2.8h0m.7-1.4h0m4.8 3.5h0m7.4-2.8h0m-86.3 6.3h0m11.4-1.1h0m2.7 .2h0m21.6 2.3h0m1.2-2.9h0m4.7 3.8h0m4.9 .9h0m1.8-1.2h0m4.4-2.5h0m1 3.8h0m4-4.4h0m.7 3.2h0m2.6-1h0m7.7-.4h0m2.8-1.6h0m5.1-.2h0m2.7 4h0m2.1-2.8h0m2.4 .7h0m3-.2h0m6.4-1.8h0m1.1 2.8h0m.6-1.3h0m3.6-1.1h0m2.2 3.5h0m4.7 .3h0m3.8-1.7h0m9.1 1.5h0m-79.9 3.6h0m.5-.6h0m19.8-2h0m16.3 .1h0m8.7 1h0m3.1 2.9h0m.8-4.2h0m4.4 3.9h0m3.1-1.9h0m2.1 2h0m.6 .6h0m2.5-.6h0m1.9-1.2h0m2.1-.4h0m4.7-2.2h0m.1 2.8h0m1.2 .4h0m3.7-2.2h0m2.8-.8h0m2 .5h0m1.8 4.2h0m.5-1.4h0m.1-3.9h0m4.8 5.1h0m.7-2.9h0m2.9-1.7h0m-37 5.5h0m6.4 .9h0m2.3-.2h0m18.2 1.6h0m-125.1 38.2h0m8.8-1.2h0m28.6-1.3h0m4.6 1.6h0m-50.8 4.6h0m3.5-1.9h0m1.1 5.2h0m2.5-1.6h0m6.3-1.4h0m1.4-.4h0m6.2-1.8h0m3.6 .9h0m5.3 1h0m2.7 1.8h0m.7 1.6h0m6.5-5.3h0m7.9 4.5h0m.5-1.9h0m2.1 0h0m2.4-1.4h0m8.2 4.1h0m4.7-.6h0m12.3-2.3h0m32 3h0m18.7 .1h0m-121.1 2.1h0m2.1 0h0m4.4 .2h0m6.6 .9h0m2.8-2h0m1.3-.5h0m5.4 .6h0m2 1h0m3.8 1.5h0m2.6-.5h0m1.6-1.3h0m1.2-1.6h0m1.7 2.1h0m1.8 .9h0m5.7 .7h0m.4-2.2h0m10.4 .8h0m2.8 1.6h0m5.2 1.3h0m1.9-2.5h0m1-1.4h0m4.2 3.1h0m4.4-2.2h0m3.6-1.3h0m2 .8h0m10.9 .7h0m3.5-2.2h0m1.3 2h0m5.3 3.1h0m2.6-2.1h0m-93.3 6.9h0m4.6-3h0m11.2 .2h0m1-.7h0m.5 .4h0m16.4-.6h0m3.3 2.1h0m1.7 .1h0m3.8 2.4h0m3.1-4.1h0m7 2.5h0m1.5-1.2h0m3.1 3.1h0m5.3-3.8h0m1.8 1.3h0m4.4 0h0m5.8-.9h0m7.5 1h0m6.1-3h0m6.2 .5h0m.5 4.1h0m.3 .8h0m.2-1.1h0m3.3 1.6h0m-104.6 .9h0m13.7 4.3h0m9.5-1.2h0m.5 1.6h0m8-1.2h0m22.4 .6h0m6 .4h0m4.7-.7h0m2.6 .4h0m1.9-1.3h0m6-.6h0m.7-2.7h0m.9 3.1h0m4.9-3.2h0m2.2 0h0m1 3.9h0m3.4-2.2h0m7.7-.3h0m2.9 .7h0m1.1 3.3h0m-94.7 4.7h0m2.8-3.2h0m2.1 2.4h0m.6 1.7h0m3.2-2.6h0m1.4 2.5h0m5-4.9h0m1.5 2h0m.1-.6h0m.3 2.7h0m4.4-4.1h0m.9 2.1h0m3.8-2.4h0m3.6 .5h0m.1 4.1h0m.1-1.5h0m.8-2.6h0m4.5-.4h0m2.2 5.8h0m.3-3.7h0m1.1 .3h0m1.9 .5h0m.3 1.6h0m2 .8h0m2.6-.1h0m4.5-2.1h0m1.4 2.5h0m.7-4.7h0m5.1 .5h0m1.4 3.9h0m2.8-.4h0m4-4.6h0m1.1 2h0m1.6 2.5h0m3.5-2.2h0m1.6-1.5h0m19.3-.7h0m-84.7 5.7h0m3.7 3.8h0m13.3-2.7h0m3.2 1.4h0m.5-2h0m4.4 1h0m1.4 1.5h0m1.9 1.8h0m2-3.6h0m9.4 .5h0m.1-.2h0m5.5 3h0m2.6-2.5h0m4.6 3h0m6.6-3.6h0m2.5 2.1h0m4.8 1.7h0m1-5.4h0m6.3 2.6h0m-36.2 3.6h0m12.2 .3h0m18.2 2.1h0m.9 3.1h0m2.4-1.2h0m.5-.2h0m1.2-4.2h0m1.9 1.8h0m-1.7 5h0m.2 .9h0" stroke="#c4c4c4" stroke-width="1.1" stroke-linecap="round" fill="none" clip-path="url(#cb1)"/>
<path d="M59.6 246h0m-25.3 8.6h0m90.6 .1h0m18.5-1.2h0m5.2 .2h0m-95.9 6.5h0m35.3 .3h0m2.4-2.2h0m4.2 1.9h0m3.2-1.1h0m4.6 .6h0m8.3-1h0m3.7-.3h0m1.6 .2h0m3.9-1.7h0m.5-1.4h0m4.2 3.2h0m1.6 1.6h0m3.4-.7h0m1 1.2h0m.4-.7h0m5.4-3.3h0m3.5 .9h0m1.2-2.3h0m1.4 .9h0m1.7 3.2h0m2.3-1.4h0m4.2 .9h0m-107.7 6.2h0m2 1.6h0m4.4-.9h0m.2 .5h0m.3-3.4h0m3 2.4h0m.7-.4h0m.8-.5h0m.1-.7h0m1.4 .6h0m.6 1.3h0m0 .7h0m10.1-2h0m1.4-1.4h0m3.1 1.4h0m2.1 2h0m.5-1.2h0m2.7-.1h0m0-3.3h0m2.9 4.5h0m2.8-1.1h0m3.1 .1h0m4.7-1.3h0m3.6-2.1h0m.5 1.6h0m1.5-1.5h0m.4 0h0m.9 3.1h0m3.2 .2h0m.5-2.1h0m1.6 .9h0m.1 2.1h0m1.7-3.2h0m.1 2.2h0m.6-2.9h0m7.3-.5h0m5.1 .9h0m10.1 2h0m3.6-3.4h0m2.9 1.2h0m2.5 3h0m3-3.5h0m1.3 .9h0m2.2 3.4h0m6.8-4.4h0m-120.1 8h0m8.9-.5h0m1.3 1.2h0m.6-.6h0m4.3-2.2h0m10.2 .2h0m5.3 4.2h0m1.2-.6h0m2.2 .7h0m10.5-3.8h0m3.2-1.5h0m.1 1.2h0m4.3-.7h0m2.9 1.7h0m.6-.9h0m.8-.7h0m0 4.1h0m.4 .7h0m.2-3.6h0m3.3 3.9h0m6.2-5.4h0m.6-.3h0m12.3 .1h0m2 2.9h0m28.9-2.6h0m-118.3 9.3h0m4.6 1h0m.3-2.5h0m2.7-2.2h0m1 1.5h0m1.5 1.2h0m2.3 .7h0m.2-3.1h0m.1 .1h0m3.7 2.3h0m2.6 .6h0m.4-2.9h0m17.8 4.6h0m5.9-4.2h0m4.1 4.5h0m2.4-.7h0m2.2 .1h0m.2-2h0m3 2.7h0m5-.4h0m7-1h0m.8-1.8h0m2.2 1h0m.7 2.3h0m1.1-3.2h0m.9 3.1h0m.8-4.1h0m14.6 .5h0m-50.2 6.5h0m1.4 2.3h0m10.2-1.2h0m3-2.3h0m2.7 1.1h0m.3 3.1h0m3.5-3.1h0m0 .3h0m1.9 0h0m.7-.8h0m3-1.5h0m7.6 .7h0m3.2 2.6h0m.3-1.2h0m1.4 .5h0m1.3 1.9h0m2.9 .7h0m.5-1.2h0m5.4-.8h0m.1-1h0m3.9 1.1h0m1.5-2.9h0m22.7 5h0m-73.1 1.1h0m43.3 1.2h0m7.6 1h0m1.1-2.1h0m1.1 .1h0m2.1 .4h0m.5-.8h0m1.2 3.3h0m1.6-3.3h0m.1 1.6h0m3.1 2.9h0m3.6-.4h0m2.4-3.7h0m3.1 .3h0m1.8 2.1h0m1.8 .3h0m3 1.1h0m4.6-2.9h0m.9 1.3h0m.2-2.2h0m3.6-.7h0m-26 7.2h0m5.7-.8h0m-105.1 40h0m-16.9 4.9h0m2.5-2h0m2.5 2.4h0m.4 1.5h0m.4-1.2h0m3.2-.5h0m.9-1.4h0m3.5 1.4h0m7.7-2.4h0m.2 .3h0m3.5-.3h0m2.1 1.5h0m1.3-1.2h0m.1 4.4h0m.9-2.9h0m.4 2.7h0m9.8-2.4h0m3.1 2.3h0m1.2-1.6h0m1.3-1.8h0m4.2 .1h0m14.7 3.2h0m14.1 .1h0m51-1.1h0m-118.7 2.7h0m3.5-.5h0m11.6-.6h0m3.3 3.7h0m2.9-3.7h0m1.8 2.9h0m.4 2.4h0m4.5-3.6h0m0 .1h0m.8 .4h0m6.2 0h0m5.3 .6h0m1.7-.8h0m0 1.8h0m8.1-3.1h0m.9 4h0m.5-1.1h0m1.4 1.6h0m10.8-.4h0m2.7-1.7h0m.4 .8h0m.1 .9h0m2.9-2.2h0m4.6-.8h0m12 1.9h0m4.6-2.7h0m1 2.2h0m3.9 1.4h0m.8-.6h0m2.9-3.1h0m-100.7 10.7h0m8.8-5.6h0m15.3 1h0m20.9 .8h0m1.8-1.8h0m.2 2.6h0m3.3 1.4h0m3.5-3.7h0m2.1 0h0m3.8 .4h0m.3 .8h0m2.5 .7h0m7-2h0m2.9 1.9h0m3.3 .6h0m.5 2.1h0m12.3-4.1h0m.2 1.9h0m10-.5h0m1.5 3.6h0m-84.4 6h0m1.9-.5h0m5.4-2h0m30.7 1.7h0m16.9 .9h0m1.7-.7h0m7.8-4.7h0m2.4 1.7h0m.9-.9h0m.3-.5h0m2.7 2.2h0m11.5-2.2h0m4.3-.1h0m.6 3.1h0m.3-2h0m1.1-1.7h0m-94.1 10.3h0m2 .4h0m3.7-1.3h0m3.8-2.1h0m1.5-.2h0m.1 .4h0m1.2 1.6h0m1.1 .3h0m2.2 .8h0m1.2-3h0m.2 2h0m.2-1.1h0m1.3 2.3h0m3.4-.5h0m.3 .1h0m.6-1.6h0m2.4 1.2h0m.1-.2h0m1.8-1.5h0m2.5 1.1h0m.6-2.7h0m2.1 4.9h0m5.9-2h0m.6 1.5h0m4.9-.3h0m3.9-2.4h0m2.1-1.9h0m4.8 3.4h0m.4-2.7h0m2.5 .5h0m1 2.5h0m.6-3.8h0m.6 1.5h0m.6 .7h0m4 .9h0m.4 .5h0m3 .2h0m.5-.5h0m2.7 1.6h0m19.3-5h0m-83 6.5h0m13.4-.4h0m5.6 .2h0m3.6 .2h0m5.2 .7h0m.1 1h0m1.9 2.4h0m5-4h0m1 2.8h0m1.3-.2h0m2.9-1.9h0m3.6 3.2h0m.8-4.3h0m.1 .8h0m3.5 1.6h0m14-2.3h0m3.4 3.2h0m4.1-.5h0m-33.6 3h0m29.8 0h0m.4 3.3h0m1.1 2.5h0m1.2-3.9h0m.9 0h0m.3 3h0m1.4-1.8h0m.3-2.4h0m2.4 1.4h0m-2.6 4.6h0m.4 0h0" stroke="#cc1f2a" stroke-width="2.0" stroke-linecap="round" fill="none" clip-path="url(#cb1)"/>
<path d="M24.2 239.6h0m.4 .8h0m.7-2.2h0m.2 3.7h0m.2 .8h0m45.5-4.5h0m1.4 3.5h0m.1-2.5h0m4.7 2.6h0m.8-1.6h0m51.2-.2h0m1.6-.9h0m-106.4 8.9h0m2.7-4.6h0m20.5 .3h0m1.8-.1h0m2.5 0h0m.5 1.8h0m2.1 1.1h0m1.5 1.1h0m16.3-4.1h0m17.7 .8h0m1.6-.9h0m1.4 3h0m.1-1.8h0m3.2 1.3h0m1-1.5h0m24.3 3.2h0m1.8 .4h0m14.7 .9h0m1.8 0h0m-129.3 5.6h0m13.9-4.7h0m2.8 4.7h0m.6-1.6h0m23.9 1.5h0m20.7-4.4h0m1.6-1h0m11.8 1h0m.8 1.6h0m46.9-.6h0m1.1-1.3h0m9.3 3.8h0m1.8-.2h0m.1-.8h0m.9 1.5h0m2.5-.6h0m1.8 .3h0m-138.8 1.4h0m7.9 3.4h0m1.7-.7h0m.6 2.9h0m1.8 0h0m2.3-4h0m1.1-1.4h0m2.2 2.4h0m.4 1.8h0m14.7 .4h0m1.6 .9h0m4.2-4.9h0m47.9 2.6h0m.7 1.7h0m10.1 .1h0m2-.4h0m25.8-1.7h0m1.1-1.5h0m.4 .5h0m.5 1.8h0m.2-.9h0m.3 2.6h0m2.9-1.8h0m.6-1.7h0m-111.5 4.6h0m1.3 1.3h0m12.9 1.6h0m1.6 .9h0m30.2 1.4h0m.4-1.8h0m31-3.1h0m1.3-.7h0m6.5 5.2h0m1.2-4.3h0m1.8-.2h0m11.3 4.6h0m.7-1.6h0m-85.4 7.4h0m1.2-1.3h0m.2-1.7h0m1.7-.3h0m6-1.1h0m.1 1.8h0m22.9 .6h0m.2 1.8h0m6.8-1.1h0m1.6 .8h0m.2-.3h0m1.7 .2h0m1.5-1.1h0m14.6-2.7h0m.7 1.6h0m2.4 1.1h0m1.8 0h0m6.3-2.5h0m3.9 3.9h0m1.1-1.3h0m5.2-.7h0m1.8-.4h0m1.4 2.2h0m.8-1.6h0m1 1.6h0m1.7-.6h0m18.5 1.4h0m-127.5 5.7h0m.5-.4h0m1.1-1.4h0m2 1.1h0m2.7 .7h0m.8-1.6h0m20.3 1.4h0m1.7 .6h0m23.4-4.6h0m.7 1.7h0m10.8-2.6h0m24.1 3.4h0m1.5 1h0m25.9 1.2h0m11.2-4.6h0m1.9 1.5h0m.8 1.7h0m-135.7 3.1h0m1-1.5h0m3.6 2.2h0m.5-1.8h0m.7 .6h0m5.3-1h0m13.5 4.9h0m9.5-2.7h0m.7 1.7h0m6.9-2.8h0m1.4-1.1h0m4.8 5h0m1.5-1h0m.1 .9h0m20.2-1.9h0m1.8-.2h0m34.9-1.4h0m1.3-1.2h0m12.3 .1h0m2.3 1.5h0m1.8-.1h0m1.8 2.9h0m1.7 .4h0m4.7 .1h0m-106.7 1.3h0m22.5-.5h0m19.5 1.9h0m1.6 .9h0m19.5 1.2h0m1.5-.9h0m6.9-1h0m1.6 .9h0m21.5 2h0m.7-1.6h0m.2-1.5h0m.6-1.7h0m11.3 .6h0m-136.2 10.1h0m21.2-.3h0m1.8 .4h0m6.1-.1h0m18.9 .9h0m47.2-3.3h0m1.7 .6h0m13.5 2.4h0m1.6-.8h0m4.9-1.1h0m.4 1.7h0m13.9-.9h0m1.3-1.3h0m-132.6 3.6h0m4.5 .9h0m.6-1.7h0m24.1 .8h0m19.9 .6h0m-7.3 27.9h0m24.6-1h0m-63.4 3.2h0m1.6-.8h0m9.9 3.4h0m1.1-1.4h0m5.1 3.2h0m20.2-5h0m1.1 .4h0m1.8-.5h0m11.3 3.7h0m11.4-4.4h0m4.7-.1h0m1.5 1h0m7 .9h0m0 1.8h0m2.7 .8h0m.3-1.8h0m7.8 .4h0m.4 1.8h0m-81.6 6h0m3 .5h0m1.2-1.3h0m6.9-2.5h0m28.7 3.1h0m.9-4.2h0m.9 4.2h0m.9-4h0m3.6-.4h0m5.4 5.2h0m.7-1.6h0m1.6-1.1h0m1.4-1.1h0m42.5 1.8h0m1-1.4h0m1.1 2.6h0m-112.4 7h0m1.2-2.2h0m1.4 1.1h0m2.7 0h0m1.8-.3h0m3.2-.2h0m1.3 1.3h0m2-5h0m18.3 5.5h0m1 0h0m.6-.9h0m.8-.3h0m7.9-2h0m1.6-.9h0m33.1 1.1h0m.3-1.8h0m1.9 3.7h0m12.2-1.2h0m1.5-.9h0m20.1-2.2h0m15 4.9h0m1-1.5h0m5.9-2.5h0m1.6 .8h0m3.7 1.6h0m1.1-1.5h0m-142.3 4.8h0m31.6 1.1h0m1.5 1.1h0m14.5 .4h0m0 1.8h0m7.9-.6h0m1.8 .4h0m3.8 .6h0m1.6-5.1h0m1.8 0h0m16-.2h0m.9 3.8h0m.2-1.8h0m.4 1.3h0m1.6 .7h0m2.1-2.9h0m1.8 .2h0m1.5 .3h0m1.6 .7h0m-90.9 6.2h0m.9-1.5h0m.9 1.6h0m.8-1.2h0m10.1 .2h0m1.7 .8h0m.8 .2h0m1.7 .7h0m11.7 .8h0m7.7-1h0m1.7 .7h0m21.6-4.4h0m17.8 2.9h0m1.5-.9h0m6.1 4h0m.9-1.6h0m4.4-3.1h0m1.6-.9h0m.1 5.2h0m1.1-1.4h0m14.9-.2h0m.5-1.7h0m-79.3 5.4h0m.3-1.4h0m1.4 .8h0m1.3 1.5h0m1.8-.2h0m10.9 1h0m.9 1.6h0m30-.8h0m.5 1.7h0m16.1-2.7h0m.4-1.7h0m6.2 2.7h0m1.6-.9h0m15.5-1.1h0m1.8-.2h0m7.7 3.4h0m1.6-.7h0m13.1 .4h0m-132 2.9h0m1.5 1.2h0m60.9-.3h0m1.8 .2h0m31.3 1h0m1.3 1.2h0m3.1-3.5h0m1.2-1.3h0m24.6 3.6h0m.6 1.7h0m7.2-5.7h0m-139.1 9.5h0m.9 1.6h0m7.7 .6h0m.8-1.6h0m1.3-2.2h0m1.4-1.2h0m17.3 4.4h0m13.6-3.6h0m.7 1.6h0m41.5-2.8h0m1.8-.3h0m14.8 3.4h0m1.3 1.2h0m8.7-3.2h0m1.4 1.2h0m7.2 3.1h0m2.1-1.3h0m.9-1.6h0m17.7-2.3h0m1.7 .5h0m.8 2.4h0m.1-1.8h0m-113 4.8h0m21.8 4.4h0m.8 .8h0m.9-1.5h0m3 .8h0m10.8-.1h0m1.7-.6h0m18.8-1.1h0m.6 2.6h0m.2-1h0m1.6 .7h0m28-4.7h0m13.3 4.7h0m8-2.2h0m.7-1.7h0m-146.2 5.9h0m.4 .3h0m.4-1.8h0m.8 .6h0m55.3-.2h0m4.5 0h0m4 1.6h0m.8-1.6h0m72.8 0h0" stroke="#c8202a" stroke-width="1.75" stroke-linecap="round" fill="none" clip-path="url(#cb1)"/>
<path d="M49.8 263h0m10.5-.4h0m41.9-.2h0m28 4h0m-84.3 3.5h0m26.6 .9h0m1.4 .5h0m3.3 .9h0m-52.4 1.6h0m56.8 2.2h0m-47.2 3.7h0m60.9 .3h0m6.6 5.5h0m6.6 2.6h0m7.2 2.4h0m25.9-1.1h0m-125.9 48.2h0m23.5-1.5h0m45.8 .9h0m-58.2 5.2h0m63.9-2.7h0m8.4 11h0m-16 6.5h0m-52.9 4.7h0m2.4-.6h0m65.4-3.5h0m-45.5 7.1h0m42 2.1h0m10.2 3.6h0" stroke="#2b3aa5" stroke-width="2.1" stroke-linecap="round" fill="none" clip-path="url(#cb1)"/>
<path d="M166.0 301.6 L169.0 300.0 L172.0 300.1 L175.1 299.8 L178.1 300.0 L181.1 301.7 L184.1 300.8 L187.1 302.5 L190.2 301.1 L193.2 301.7 L196.2 300.4 L199.2 299.8 L202.2 302.0 L205.2 300.5 L208.3 301.1 L211.3 302.2 L214.3 300.4 L217.3 299.7 L220.3 301.5 L223.4 302.0 L226.4 302.1 L229.4 301.7 L232.4 299.8 L235.4 300.0 L238.5 300.9 L241.5 302.4 L244.5 301.0 L247.5 301.8 L250.5 300.2 L253.6 300.3 L256.6 301.4 L259.6 301.9 L262.6 300.9 L265.6 300.3 L268.7 301.2 L271.7 302.1 L274.7 300.6 L277.7 300.9 L280.7 300.8 L283.8 299.6 L286.8 301.6 L289.8 301.1 L292.8 300.7 L295.8 300.2 L298.8 300.4 L301.9 302.2 L304.9 301.4 L307.9 300.3 L310.9 301.6 L313.9 301.4 L317.0 300.3 L320.0 301.8 L323.0 301.7 L323.0 320.7 L320.0 320.5 L317.0 320.6 L313.9 322.2 L310.9 320.8 L307.9 321.1 L304.9 319.6 L301.9 321.9 L298.8 320.5 L295.8 320.4 L292.8 320.7 L289.8 321.2 L286.8 321.9 L283.8 322.5 L280.7 321.8 L277.7 320.4 L274.7 319.7 L271.7 320.2 L268.7 320.8 L265.6 320.1 L262.6 322.0 L259.6 320.7 L256.6 320.7 L253.6 321.4 L250.5 321.4 L247.5 321.1 L244.5 322.5 L241.5 319.9 L238.5 321.5 L235.4 319.9 L232.4 321.0 L229.4 322.3 L226.4 320.3 L223.4 322.5 L220.3 321.9 L217.3 319.8 L214.3 322.2 L211.3 322.3 L208.3 320.6 L205.2 320.4 L202.2 320.0 L199.2 321.8 L196.2 322.4 L193.2 320.8 L190.2 322.4 L187.1 319.8 L184.1 322.1 L181.1 321.8 L178.1 321.6 L175.1 321.8 L172.0 321.5 L169.0 322.5 L166.0 322.0 Z" fill="#55514f"/>
<path d="M318.2 302.3l-1.6 1.5M216.8 321.3l1.7-1.3M197.7 299.9l-1.2 1.9M257.1 319.7l.3 2.2M191.4 321.8l2.1-.5M181.2 300.1l-1.7-1.4M306.8 301.3l-.1-2.2M258.5 301.9l-1.9-1.2M284.2 300.6l-.6 2.1M220 319l-1 2M258.3 302.9l2.1 .5M244.2 319.4l-1.1-1.9M269.9 300l-2.2-.2M205.5 321.7l-1.6 1.6M238.3 320.1l-1.7-1.4M301.1 300.9l-1.5-1.6M253.2 302.9l-2 .9M169.7 299.6l-1.6-1.5M228 302.4l1.1 1.9M226.5 302.7l-.9-2M265.4 319.7l.8 2M223 320.6l2.1-.8M278.4 322.3l.7 2.1M278 301.1l1.6-1.5M262.5 301l-1.9-1M267.1 300.7l-2.1 .5M229.2 302.8l2.1-.7M205.3 301.1l-1.5-1.6M170.2 322l2.2-.3M222.6 320.9l-2.1-.7M190.5 320.6l-.4-2.2M204.8 300.5l2.1 .5M220.2 300.6l-2-1M269 302.8l2.1 .7M166.5 320.2l.7 2.1M278.6 300.1l-1.2-1.8M199.7 319l.1 2.2M266.6 319.1l2-.9M246.9 301.4l1.5-1.6M226.3 322.1l-1.1-1.9M219.6 302.5l-1.2 1.9M280 301.2l0-2.2M167.7 302.8l2.2-.3M219.5 300.3l1.1-1.9M176 321.1l1.8-1.2M263.7 320.1l-.4 2.2M191.7 320.2l-2.2 .2M207.7 319.5l-2-.9M268.7 321.9l1.8 1.3M316.5 302l1.8 1.2M276.4 299.7l2-1M272.2 320.6l-2.1 .6M265 320.3l-.5-2.1M204.4 321.5l-.5-2.1M212.2 301.6l-2.1 .5M257.6 302.2l-2.1-.7M197.8 302.5l-1.7 1.4M291.7 319.3l.4 2.2M184.9 302.6l1.3-1.8M281 302.2l1.8 1.3M320.3 300.3l.5-2.2M178.1 299.6l.3 2.2M254.3 319.8l-2.2 .2M203.7 302.1l-2.2-.3M196.7 321.5l2.1 .5M197.2 299.7l1.5-1.6M238.9 299.9l1.1-1.9M222.2 319.5l-.4-2.2M318 321.8l-.3 2.2M304.3 302.2l1.8-1.2M283.5 301.3l-2.1 .6M194.4 320.3l-1.7 1.4M311.9 300.4l1.7-1.3M205.6 300.5l-1.2-1.8M305.2 322.5l-1.8-1.2M199.8 303l-1.9-1.1M275.5 302.8l-.1-2.2M319.5 300l-1.3-1.8M263.9 300.8l1.8 1.3M230.7 301.2l-1.9-1M252.3 321.9l.1-2.2M310.3 302.8l-2.2-.2M283.2 302.3l.8 2.1M304 320.5l-1.3 1.8M261.7 302.6l2.2 .3M181.4 301.3l2.2-.4M203.1 322.3l-2.2-.3M225 320.8l.1-2.2M180.2 319.7l-2.2 0M174 320.5l-.2 2.2M266.5 319.2l1.2-1.8M313.1 301.7l-1.4 1.7M243.1 320.2l1.4 1.7M198.7 301.8l-1.4-1.7M314.4 302.9l-1.2-1.8M306.7 321.6l2.1-.6M209.1 300.2l1.7-1.4M179.9 320.2l.9-2M183.2 320.1l-1.1 1.9M197 321.9l2.1-.8M291.9 320.6l-2.1 .6M222.5 301.3l2.1-.7M297.4 321.2l-2.1 .7M196.8 299.6l-2-.9M197.1 302.8l1.9-1.2M248 322l1.2-1.9M207.5 302.9l-1.8 1.2M253.6 302.5l.3-2.2M231.3 301.7l-2.1-.5M217.2 320.8l-1.4 1.7M261 302.2l2.1 .7M312.6 299.8l1.5-1.6M192.5 299.7l-1.3-1.7M234.5 301.4l1.9 1.1M292.5 300.5l-2.2-.4M310.3 300.5l1.8-1.2M212 302.6l.6-2.1M215.3 322.2l2.1-.7M237.7 321.5l-2.2-.3M260 321.5l-1.4 1.7M322.2 321.7l1.9-1M242.8 301.9l2 .9M269.8 302.8l-.2 2.2M295.9 319.7l0-2.2M242.5 322l-1.5-1.6M208.1 300.1l-2-.9M170.9 301.4l.8-2M272.7 320.6l-1.7 1.4M212.7 321.2l-1.5-1.6M306.9 301.6l2.2 0M226.6 301.9l-2 .9M313.7 322.3l1.5-1.6M205.1 320.4l-.2-2.2M299.6 320.4l-.7-2.1M232.4 302.6l-1.7-1.3M232.6 300.4l-2.2 .1M205.2 321l-2.2 .5M246.1 320.2l2-.9M315.4 322l1.7-1.4M273.5 302.6l2.2 .4M262.5 301.4l1.9 1" stroke="#5a5a5a" stroke-width="0.75" fill="none" stroke-linecap="round"/>
<path d="M172.9 302.3h0m2.5 .4h0m13.1-.2h0m9.5 0h0m9.2-2h0m.1 1.8h0m1.7-3h0m8.1 1.6h0m4.5-.6h0m.2 2.6h0m7.4-1.8h0m18.7-1.3h0m6 .9h0m9.9 1.9h0m4.2-1.2h0m7.9 .9h0m.6 .4h0m15.2-.8h0m4.4-1.5h0m3.6 .5h0m16 1.8h0m6.7-1.3h0m-154.6 5.3h0m3.9 2.2h0m4.8-.6h0m.4-2h0m0-2.8h0m.1 .9h0m2.1-.3h0m1.9 1.1h0m.2 2h0m2.6 1.6h0m1.1-3.9h0m0-1.3h0m1 4h0m1.7-2.9h0m.7 .1h0m2 2.9h0m4.2 1.2h0m.6-1.8h0m.5-.7h0m1.5 2.3h0m2-.1h0m.4 0h0m3-4.2h0m2.2 3.9h0m.8 .4h0m3.3-1.9h0m.4 .8h0m6.3-3.2h0m3.3 2.2h0m1.5 1.4h0m2-2.9h0m1.5 .4h0m.5 1.6h0m.5 1.6h0m3.2-4.5h0m2.6 1.1h0m4.8-.1h0m.2 2.4h0m1.1-.4h0m5.2-2.7h0m.7 2.3h0m4.2 .8h0m1.1 .1h0m2.5-2.9h0m1.4-1.2h0m5.3 1h0m2.1 4.3h0m1.3-3.1h0m.8-2.3h0m.6 4.2h0m.9 .5h0m2.1-2.7h0m.5-1.2h0m6.1 3.1h0m5.9-.9h0m.7-1h0m.5-1.8h0m.9 2.6h0m6.7-.3h0m2 1.6h0m.8-1.2h0m4.5 1.2h0m5.3 .8h0m2-3.6h0m4.7 .2h0m.3 .9h0m6.4 2.2h0m2.2 .6h0m7.3-2.4h0m1.1-2.1h0m.3-.4h0m-156.3 9.2h0m.8-1.2h0m.6-2h0m1.4 3.2h0m2.2 .6h0m1.4-2.5h0m0-.8h0m3-.5h0m1.4 .6h0m2 2.2h0m.9-3.1h0m1.9 3.5h0m2-.9h0m1.7-1.2h0m0-1.3h0m.2 1.8h0m4.3-.3h0m4.3 2.5h0m.1 .4h0m1.9-3.1h0m.1 0h0m5.6 2.1h0m.1 .9h0m3.1 .2h0m1-3.8h0m1 1.2h0m2.5 1.3h0m9.6-.2h0m2.3 .7h0m.7-.5h0m2-.6h0m1.3-1.6h0m2.4 .3h0m1.2 3.4h0m.7-1h0m2.6-4.1h0m3.8 5.2h0m5-4h0m1.6-.7h0m.4 4.3h0m.7-.2h0m.1-3.5h0m.7 3.3h0m2.3-1.9h0m1.3-1.4h0m1.5 2.4h0m2.5-.2h0m.3-3.4h0m2.8 2.6h0m.4-.9h0m.4-1.2h0m1 .9h0m.8 2h0m1.8-2h0m.6 1.7h0m.1 .7h0m.4 1.4h0m.4-.4h0m1.9-2.7h0m1 1.6h0m6.7 .7h0m5.8-2.3h0m4 1.2h0m3.7-.9h0m.7 0h0m1.7-2.5h0m2.6 4h0m.7-1.3h0m.1 2.6h0m.3-2h0m1.5-3.1h0m2.1 3.1h0m1 1.2h0m.7-3.5h0m.3 2.9h0m.6 1.9h0m.7-1.4h0m.6 1.4h0m.5-2.2h0m3.8-.4h0m4.5 .6h0m7.2-2.9h0m2.1 1h0m1.4 3.6h0m.2-5.3h0m1 2.4h0m.2-.3h0m-137 7h0m3.4-.7h0m4.3-.4h0m.4 3.6h0m1.1-3.2h0m7.7-.5h0m6.5 .6h0m2.5 1.4h0m1.9-.3h0m2.5 1.7h0m3.1-1.2h0m.9-3.5h0m1.3 4.2h0m.9-3.8h0m2.2 3.2h0m0-1.1h0m.6-2.8h0m5.2 .7h0m1.5 4.6h0m1.7-5.2h0m2.7-.4h0m2.6 3.4h0m.1-2.6h0m.4-.4h0m2.7 3.3h0m3.3 1.1h0m.8-.3h0m.1-1.6h0m.1 .7h0m2-1.6h0m1.7 2.7h0m1-4.5h0m3.4 0h0m.8 2h0m1.1 0h0m.4-2.2h0m.9 1.3h0m1.2 0h0m3.9 1.4h0m.3 2.1h0m4.8-3.9h0m1-.3h0m1 1.8h0m4.5 0h0m5.7-.2h0m1.3 1.3h0m1.6-.5h0m1 2.4h0m7.8-2.8h0m1.2-.8h0m9.6-1.8h0m6.3 4.3h0m1.3-.6h0m3.4-3.5h0m4 2.8h0m-120.8 3.7h0m21.2-.4h0m26.4 1.2h0m18.7-1.2h0m28.4 .7h0m25.4-.6h0m5.7 .2h0m3.2 1h0" stroke="#7c7872" stroke-width="3.0" stroke-linecap="round" fill="none"/>
<path d="M175.8 302.7h0m29-.7h0m.1-.8h0m13.3-.7h0m58.1 2.3h0m22.9 .2h0m.6-1.6h0m1 1.2h0m19.1-2.1h0m-153.3 4.4h0m1.4-1.6h0m1 5.5h0m.8-.1h0m.8-5h0m4-.4h0m.5 1.2h0m1.2 2.1h0m3.1 .8h0m0 .8h0m3.6-3.3h0m1.3 2h0m.1-3.1h0m5.6 3.7h0m.6 .2h0m1.6 .7h0m.6-4.5h0m2.2 3.8h0m1.3-.8h0m2.3-1.3h0m.3-.5h0m1.3 1h0m2.6 1.7h0m1.2 .7h0m2.2-5.4h0m3.1 2.1h0m.8 3.5h0m2.4-2.2h0m2.1-1.8h0m6.5 1.7h0m.3 .2h0m2.6 .1h0m1.3-.4h0m1.6-.2h0m.8-1h0m3-.1h0m1.4-.7h0m2.5 3.3h0m1.6 .4h0m1.3 .9h0m1.6-3.8h0m1.9 1h0m1.4-1.5h0m1.1-1.3h0m.5 5.1h0m.5-.4h0m5.5-4.6h0m.7 5.2h0m.2-4.9h0m1.9 4.8h0m.3-1.8h0m3.9-3.4h0m1.6 2.4h0m2.1 1.3h0m3.9 1.3h0m2.8-.3h0m4.8-2.3h0m1-1.9h0m1.2 .6h0m3 3.3h0m0-4.2h0m3.4 4.2h0m3.4-.5h0m.2-.5h0m.9 1.6h0m.7-2h0m1.5 0h0m2.7 2.1h0m5.2-2.7h0m.3 1.3h0m.4 1.2h0m1.4-.5h0m2.2-1.6h0m1.2 1.5h0m.9-2.3h0m.2 1.5h0m.9 .8h0m1.6-1.5h0m2.2 .8h0m.7-.5h0m2.4 2.3h0m5.3-1.6h0m.7 .8h0m2-1.6h0m.9 1.7h0m.3-.8h0m3.6 1.3h0m.3-2.8h0m-156.1 4.2h0m.6 2.4h0m.2-.3h0m.3-2h0m.2 .4h0m.4-.8h0m.7 .1h0m2 3.9h0m2.4-2.4h0m.3 2.8h0m3.6 .8h0m.1-1.5h0m3.3 1.4h0m0-.6h0m.4-2.4h0m2.6 1.4h0m.6 1h0m5.9 .4h0m.1-5.4h0m6.6 4h0m9.4-3.9h0m.1 2.4h0m1.7-.1h0m2.1-2.2h0m1.8 4.5h0m.1-1.6h0m.8 2.3h0m1.2-1.7h0m3.7 .4h0m.5-1.8h0m.5-1.7h0m.6 .8h0m1.2 2.1h0m.2-2.1h0m1.8-1.1h0m.3 4.4h0m2.5-4.3h0m.3 1.1h0m5.3 1.1h0m1.4-2.2h0m.4 4.8h0m.5-2.1h0m1.3 .4h0m.5-3.3h0m1.8 1.2h0m5 2.5h0m4.6-3.7h0m2.2 .2h0m3.7 2.8h0m2.6-2h0m.5 4.3h0m.1-3.3h0m1.3 2.9h0m.6-3.2h0m.4-.2h0m1.1-1.2h0m.5 3.1h0m3.8-.1h0m.1-3.6h0m2.2 3.8h0m1.4-.2h0m.3-2.5h0m1.5-.7h0m.8 4.7h0m4-3.4h0m.5 1.3h0m.4-1.9h0m1.6 3.8h0m.7-.9h0m.1-1.5h0m.8-.8h0m.6-.6h0m1.8 3.3h0m.2-4.1h0m1 1.5h0m2.6-.4h0m1 .4h0m1.8 .3h0m.8 1.2h0m.4 1.1h0m.6-1h0m.9-.8h0m.2 .3h0m.7 0h0m.4 .4h0m.4 .7h0m1.4 1.8h0m5.4-5.7h0m2.9 2.1h0m3 1.1h0m0-3.1h0m2.8 .4h0m.1 3.7h0m0-3.8h0m2.9 3.7h0m1.7 1.5h0m.1-2.1h0m.7-2.8h0m.3 .2h0m.2 .7h0m.2-1.2h0m.9 4.8h0m2.2 0h0m.3-1.4h0m.9-.9h0m.9-2.7h0m1.8 2h0m1.2 0h0m-147.6 6h0m.6 .7h0m6.1-.2h0m.9 .7h0m3.3-1.8h0m3.2 2.7h0m9.7 1.1h0m2.7-4.3h0m6.8 1.3h0m3.1-1.8h0m1.5 1.8h0m1.6-2.3h0m1.1 4.1h0m.2 .5h0m.5-3.9h0m2.1 1.8h0m1.8-.8h0m.8-1.4h0m6.2 2.7h0m3.2-1.6h0m1.1 2.1h0m2.7-1.3h0m6.3 3h0m11.1 .5h0m.5-4.4h0m4.6-1.4h0m5.8 2h0m1-.6h0m3.8 3.6h0m3.6-1.8h0m1.6 .4h0m2.2-3h0m1 .3h0m.5 2.1h0m3.5-2.2h0m1.3 .8h0m4.3 .7h0m3.8-1.9h0m3.9 3.5h0m1.2-3h0m.4 .9h0m4.1-.1h0m1.6 3.9h0m1-2.6h0m.6-1.6h0m8.8-1.1h0m4.2-.1h0m7.3 .5h0m-119.3 5.2h0m13.4 1.2h0m10.7-1.1h0m35.9-.1h0m8.3 .2h0m4.7 .3h0m20.1 0h0m9.8-.4h0m6.6 .2h0" stroke="#454545" stroke-width="1.9" stroke-linecap="round" fill="none"/>
<path d="M166.4 300.4h0m7.3 1.1h0m51.6-1h0m18.4 2.5h0m7.8-.5h0m11 .5h0m14.4-1.9h0m1.5 1.8h0m-108.7 2.7h0m4.1 2.3h0m3.3-2.4h0m27.6 1.4h0m1.2 .2h0m2.2-.8h0m10.6-2.6h0m6.7-.7h0m10.2 6h0m.4-2.4h0m5.6 .6h0m3.7 1h0m2.1 .5h0m11.5-.4h0m0-4.3h0m12.2 1.4h0m9.1 2.7h0m4.3-.7h0m9.9 1.2h0m5.1 .1h0m5.4-5.3h0m2.3 1.6h0m1.2 1.8h0m2.7 2.2h0m4.9-2.6h0m3.6 2.5h0m-153.5 3.3h0m1.8-3.2h0m10.5 2.4h0m6.5 1h0m1.1-1.3h0m14.2 3.2h0m2.1-3.6h0m11 1.8h0m3.6-2.5h0m5.5 3.8h0m6.4-.3h0m1.7-4.4h0m1.2 1.2h0m3.7 2h0m12.1-3h0m3.9 3.2h0m1.7-2h0m1.7 .9h0m1.4-2.1h0m7.4 .9h0m4.4 0h0m8.2 1.7h0m.4 2.5h0m2.5-3.7h0m3.9-.8h0m9.8-.8h0m3.2 1.5h0m14.6 3.2h0m2.6-.9h0m.4 .4h0m1.4-1.9h0m2 .6h0m.8-2.6h0m.9 4.4h0m-146.8 2.8h0m12-.1h0m3.5 1.8h0m1.5-.4h0m6.6-2.6h0m5 .3h0m2.7 2.6h0m8.6-.7h0m9 1.5h0m11.8-.5h0m9.6-.8h0m32.2-1.6h0m.7-.3h0m17.1 .8h0m4.9-.1h0m7.4 3.6h0m4.9-2h0m2.5-2h0m2.6-.4h0m4.3-.3h0m.7 3.8h0m-87.1 2.9h0m5.9-.5h0m34.5-.5h0m37.7 .3h0m6.1 .7h0" stroke="#c4c4c4" stroke-width="1.1" stroke-linecap="round" fill="none"/>
<path d="M172.3 301.2h0m1-.1h0m20 1.2h0m.3-1.8h0m3 1.5h0m3.8 .5h0m5.7 .4h0m24.8-2h0m5.2-.7h0m8.4 1.9h0m3.8-2.8h0m5.5 2.8h0m9.7 .8h0m12.7-1h0m20.5-.6h0m6.3 .1h0m1.8 1.3h0m3.4-2.6h0m3.6 2.8h0m4.7-3h0m3.1 .9h0m-153.3 3.6h0m.9 3.6h0m.3-2.6h0m2.9-1.1h0m1.1 .7h0m1.4-.7h0m.5 3.2h0m3.1-.6h0m2.6-3.6h0m.6 2.6h0m.6 .8h0m2.9 .9h0m6.6-.1h0m.4 1.1h0m3.4-2.5h0m0-.4h0m1.2-1.8h0m1.4-.7h0m.3 2.5h0m.9-.3h0m.5 .4h0m.6-1.3h0m1.7 2h0m.9-1.3h0m2.1-2.2h0m.1 2.7h0m.8-.7h0m.3 3.2h0m2.3-2.5h0m1.2 .1h0m1 .3h0m3.4-1.3h0m.7 0h0m.7 3.3h0m8.1-4.7h0m4.7 3.4h0m1.1-1.3h0m.6 3.4h0m.1-4.4h0m.2 2.8h0m2.1-.3h0m1.5-2.1h0m.4 2.9h0m10.1-.7h0m1.5-2h0m1.6 3.7h0m.7-1.8h0m5.5-1.7h0m.8-.6h0m.2-.1h0m.6-1h0m.5 2.2h0m.3 2.8h0m1.2 .2h0m.4-5.6h0m.8 4.1h0m0 1.2h0m.2-4.8h0m1.1 3.7h0m1.6-4.1h0m.5 4.7h0m.1-3.9h0m.6 .7h0m1.8 3.8h0m.5-4.8h0m.8 .8h0m1.2 4.1h0m3.9 .2h0m.8-4.7h0m2.6 2.4h0m.2-2.2h0m.2 .6h0m1.2-1.7h0m2.1 3.7h0m.4-.8h0m.7 2.2h0m4.9-3.8h0m1 1.7h0m.2-2.9h0m1.8 4.6h0m.4 .5h0m1.1 .2h0m.2-2.3h0m.7-2.9h0m1.7 1.8h0m4.7 2.9h0m4.1 .7h0m.4-.2h0m3.4-1.9h0m.6-1.3h0m0 3.1h0m.8-1.3h0m2.8-4h0m2.1 1.1h0m1.2 3.8h0m3.3-.2h0m2.8-2.1h0m3.7-1.3h0m0-.7h0m.1 .7h0m0 1.5h0m.2 1.1h0m.6-2.5h0m.4-.4h0m-153.7 5.2h0m.5 5h0m.2-5h0m2.9 2.9h0m.5-1.2h0m2.3 .2h0m5.9 2.9h0m.4 .1h0m2.7-4h0m.7 4.3h0m2.8-2.9h0m2.3 1.9h0m.3-3.4h0m.8 3.1h0m0-2.8h0m2 1.5h0m.9 1.3h0m.4 0h0m.6-1.2h0m2.2 1.2h0m.5-3.8h0m4.4 2h0m1.5 .5h0m.7-1.1h0m.3 3.5h0m.1-3.1h0m1.3 .2h0m2.8-1h0m1.8-.6h0m2 1.8h0m2.4-1h0m.2 1.1h0m1.9 .5h0m.4-2.3h0m1.6 2h0m0 2.3h0m1.3-1.2h0m.3 1.7h0m.5-5.6h0m.7 2.1h0m1.2 .3h0m.7-2.4h0m1.4 2.1h0m.3-1.8h0m0 3.2h0m.3-1h0m.6-1.9h0m.6 0h0m.5 .9h0m.7 .6h0m2.6-.5h0m.5 1.3h0m.1 .2h0m.8-2.2h0m0 2.6h0m1.6-3.1h0m.5 .2h0m1.2 .5h0m1.9 3.8h0m.8-.8h0m.6-2.8h0m.7 1.5h0m.1 .5h0m4.5 1.1h0m.1-1.1h0m1-2h0m1 1.6h0m.5-2.5h0m.1 1.8h0m.4 .6h0m.7 1.2h0m0 .9h0m.1-4.5h0m8.4 .4h0m.9 1.3h0m.2 1.1h0m.2-1.6h0m.3-1.3h0m.3 4.8h0m.6-2.7h0m1.2-1.5h0m3.9 2.7h0m.7-.5h0m.1 1.4h0m2.4 .3h0m.7-1.5h0m.1 .1h0m.7-.3h0m.5 .5h0m0 .4h0m.5-3.1h0m.8-.2h0m.3 1.2h0m.8 .6h0m1.1 2.5h0m2.5-3.4h0m.8 1.9h0m4.9-2.5h0m1.1-1.3h0m2.3 3.6h0m.1 .3h0m.1 1.6h0m2.8-4.3h0m.4 2.3h0m1.3 1h0m.2 1.1h0m5.8 .3h0m.3-4.9h0m.7 3.8h0m1.4-1.9h0m1.3-.7h0m0 2.1h0m.2-3.1h0m1.4 .7h0m.5 .6h0m1.3-2.1h0m.2 4.7h0m1.3-.8h0m.2-2.6h0m1 .8h0m.6 3.2h0m.5-4.5h0m.5-.7h0m4.1 2.8h0m.9-2.6h0m1.9 3.5h0m.8-1.5h0m.3-1.9h0m.9 .5h0m1.9 3.1h0m.3-1.9h0m1.1 1.7h0m.9 1.2h0m.4-4.7h0m.1 4.5h0m1.2-2.6h0m.9-2.6h0m1.9 .5h0m-155.2 8.9h0m1.3-3.3h0m1.6 .5h0m4 0h0m6.5-.2h0m.6 .9h0m.6 1h0m11.6 3.5h0m.1-2.6h0m3.3 1.6h0m.2-4.4h0m5.3 1.2h0m.4 .7h0m.9-1.6h0m.3 3.8h0m3-1h0m2-.8h0m.1-1.6h0m.4 4.3h0m.4-.4h0m.7-3.7h0m1-.5h0m2.9 .1h0m1.6 2.4h0m4.7-2.5h0m.9-.6h0m1.3 4.2h0m2.4-3.3h0m4.5 3.8h0m2.8-4.4h0m.8 4.6h0m.4-4h0m.2-.5h0m.7-.5h0m.2 0h0m5.5 .3h0m7.2 4h0m3.5-1.2h0m.5-2.6h0m1.5 .9h0m2.9 1h0m2.1 3.5h0m.1-5.4h0m.9 2.3h0m2.4 .1h0m.5-2.8h0m1.9 3.7h0m2.2 1.6h0m3.6-1.4h0m9.9 .2h0m4.1-2.5h0m7.7-1.3h0m5.1 .9h0m3.8-1h0m7.2-.3h0m1.4 1.8h0m1.5-1.8h0m1.7 5.2h0m2.8-4.8h0m7.3 2.1h0m-146 5h0m78.6-1.6h0m14.8 1.9h0m1.1-1.6h0m5.5 .1h0m41.9 1.4h0m4.2 0h0" stroke="#b01e28" stroke-width="2.1" stroke-linecap="round" fill="none"/>
<path d="M172.4 301.8h0m2.5 .4h0m13.1-.2h0m9.5 0h0m9.2-2h0m.1 1.8h0m1.7-3h0m8.1 1.6h0m4.5-.6h0m.2 2.6h0m7.4-1.8h0m18.7-1.3h0m6 .9h0m7.4 2.8h0m2.5-.9h0m4.2-1.2h0m7.9 .9h0m.6 .4h0m15.2-.8h0m4.4-1.5h0m3.6 .5h0m16 1.8h0m6.7-1.3h0m-154.6 5.3h0m3.9 2.2h0m4.8-.6h0m.4-2h0m0-2.8h0m.1 .9h0m2.1-.3h0m1.4 5.4h0m.5-4.3h0m.2 2h0m2.6 1.6h0m1.1-3.9h0m0-1.3h0m1 4h0m1.7-2.9h0m.7 .1h0m2 2.9h0m4.2 1.2h0m.6-1.8h0m.5-.7h0m1.5 2.3h0m2-.1h0m.4 0h0m3-4.2h0m2.2 3.9h0m.8 .4h0m3.3-1.9h0m.4 .8h0m6.3-3.2h0m3.3 2.2h0m1.5 1.4h0m2-2.9h0m1.5 .4h0m.5 1.6h0m.5 1.6h0m3.2-4.5h0m2.6 1.1h0m2.5 3.9h0m2.3-4h0m.2 2.4h0m1.1-.4h0m5.2-2.7h0m.7 2.3h0m4.2 .8h0m1.1 .1h0m2.5-2.9h0m1.4-1.2h0m1.5 5.5h0m3.8-4.5h0m2.1 4.3h0m1.3-3.1h0m1.4 1.9h0m.9 .5h0m2.1-2.7h0m.5-1.2h0m6.1 3.1h0m5.9-.9h0m.7-1h0m.5-1.8h0m.9 2.6h0m6.7-.3h0m1.3 3h0m.7-1.4h0m.8-1.2h0m3.7 2.8h0m.8-1.6h0m5.3 .8h0m2-3.6h0m4.7 .2h0m.3 .9h0m6.4 2.2h0m2.2 .6h0m4 .5h0m3.3-2.9h0m1.1-2.1h0m.3-.4h0m-156.3 9.2h0m.8-1.2h0m.6-2h0m1.4 3.2h0m2.2 .6h0m1.4-2.5h0m0-.8h0m3-.5h0m1.4 .6h0m2 2.2h0m2.8 .4h0m2-.9h0m1.7-1.2h0m0-1.3h0m.2 1.8h0m4.3-.3h0m4.3 2.5h0m.1 .4h0m1.9-3.1h0m.1 0h0m5.6 2.1h0m.1 .9h0m3.1 .2h0m1-3.8h0m1 1.2h0m2.5 1.3h0m9.6-.2h0m2.3 .7h0m.7-.5h0m2-.6h0m1.3-1.6h0m2.4 .3h0m1.2 3.4h0m.7-1h0m2.5 1.9h0m3.9-.8h0m5-4h0m1.6-.7h0m.4 4.3h0m.7-.2h0m.1-3.5h0m.7 3.3h0m2.3-1.9h0m.1 3.7h0m1.2-5.1h0m1.5 2.4h0m.7 2.7h0m1.8-2.9h0m.5 2.7h0m2.6-3.5h0m.4-.9h0m.4-1.2h0m1 .9h0m.8 2h0m1.8-2h0m.6 1.7h0m.1 .7h0m.4 1.4h0m.4-.4h0m1.9-2.7h0m1 1.6h0m6.7 .7h0m5.8-2.3h0m4 1.2h0m3.7-.9h0m.7 0h0m4.3 1.5h0m.7-1.3h0m.1 2.6h0m.3-2h0m3.6 0h0m1 1.2h0m.7-3.5h0m.3 2.9h0m.6 1.9h0m.7-1.4h0m.6 1.4h0m.5-2.2h0m.1 2.6h0m3.7-3h0m4.5 .6h0m2.8 2.6h0m4.4-5.5h0m2.1 1h0m1.4 3.6h0m1.2-2.9h0m.2-.3h0m-137 7h0m3.4-.7h0m4.3-.4h0m.4 3.6h0m1.1-3.2h0m7.7-.5h0m6.5 .6h0m2.5 1.4h0m1.9-.3h0m2.5 1.7h0m1.8 1h0m1.3-2.2h0m.9-3.5h0m1.3 4.2h0m.9-3.8h0m2.2 3.2h0m0-1.1h0m.6-2.8h0m5.2 .7h0m1.5 4.6h0m1.7-5.2h0m5.3 3h0m.1-2.6h0m.4-.4h0m2.7 3.3h0m3.3 1.1h0m.8-.3h0m.1-1.6h0m.1 .7h0m2-1.6h0m1.7 2.7h0m5.2-2.5h0m1.1 0h0m1.3-.9h0m1.2 0h0m3.9 1.4h0m.3 2.1h0m4.8-3.9h0m1-.3h0m1 1.8h0m4.5 0h0m5.7-.2h0m1.3 1.3h0m1.6-.5h0m1 2.4h0m7.8-2.8h0m1.2-.8h0m15.9 2.5h0m1.3-.6h0m7.4-.7h0m-120.8 3.7h0m47.6 .8h0m18.7-1.2h0m28.4 .7h0m25.4-.6h0m5.7 .2h0m3.2 1h0" stroke="#d6d2ca" stroke-width="2.2" stroke-linecap="round" fill="none"/>
<path d="M195.3 266.2l2 0M193.8 265.2l.9-1.8M195 267.7l1.5 1.3M194 267.4l-1.6-1.2M197.2 266.9l1.2-1.6M194.4 268.9l-1.5 1.3M193.5 266.7l.5 1.3M194 268.1l1.8-.2M200.2 262.1l1.9 .6M200.1 260.6l1.8-.8M196.8 260.7l-1.7-1.1M195.8 267.9l2.2-3.1M198.1 264.9l.4-3.4M203.3 273l-.6-1.9M205 273.7l1.4-1.4M201.7 273.7l-1.8-.8M205.3 271.7l-1.7 1M208.5 272.2l1.8 1M206.7 272.6l.1 2M203.4 274.5l1.5-1.9M204.9 272.6l2.2-1.4M211 275.3l1.7 1.1M211.7 273.9l1.9 .5M207.9 274.4l-2-.1M207.1 271.2l.8 1.1M207.9 272.3l1.9 1.8M210.6 272.5l-.9 1.8M209.4 271.3l-2 .1M210.2 269.9l-1.4-1.4M209.8 274.2l1.2-2.3M210.9 271.9l.4-.7M217 277.4l1.7 1M213.8 276.6l-2 0M216.3 274.8l1.3-1.5M211.3 271.1l1.4 2M212.7 273.1l2.9 3.1M218.7 284.3l-.4 2M220.6 284.1l.7 1.9M217.5 283.1l-2-.2M215.7 276.3l2 3.6M217.7 279.8l1.7 3.1M221.2 290.1l-.2 2M223.1 289.9l1 1.8M220 289l-2 0M219.4 282.9l1 2.8M220.4 285.8l1.4 2.9M224.2 291.5l-1.4 1.4M223.6 290l-1.9-.6M224.9 288.9l-.5-1.9M221.9 288.7l1.8 1.3M223.6 290l1.9 .4M227.5 290.8l-1.6-1.3M229.6 293.3l1.6 1.1M226.7 292.1l-2 .3M225.5 290.4l1 .5M226.5 290.9l2.1 1.2M231.3 293.5l-.4 2M234.2 292.3l2-.2M233.2 293.6l1.2 1.6M228.6 292l1.6-.4M230.2 291.6l2.1 .7M235.3 293.5l-.1-2M234.1 295.9l-1.9 .7M235.8 296.5l-.4 2M232.3 292.3l1.7 .9M234 293.2l1.6 1.8M237.2 283.4l-1.7 1.1M238.9 284.1l-.6 1.9M240.4 281.8l1.3-1.6M242.8 283l1.9-.5M240.2 281.4l-.2-2M241.7 284.2l1.3 1.6M238.8 282.6l1.9 .8M240.7 283.4l.2-.6M242.1 279.3l-2 0M242.5 280.7l-1.3 1.5M244.3 281.1l-.2 2M240.9 282.8l2-1.7M243 281.1l.9-1.4M247 286.4l-.4-2M248.9 288.9l1.5 1.3M247 289l-1 1.7M243.9 279.7l2 3.2M245.9 282.8l2 4.8M239.9 276.9l-1.4-1.4M242.8 278.1l1.9-.5M241.8 276.8l1.4-1.4M245.2 274.9l.5 1.9M242.2 273.9l-2-.2M242.9 272.5l-1.7-1.1M240.9 278.1l2.3-1.7M243.2 276.5l.8-2.8M245.5 281.6l-1.8 .9M249.2 281.2l2 0M248.5 282.6l1.7 1.1M244.1 273.7l2.3 3.8M246.4 277.5l1 3.9M250.3 283.9l-1.2 1.6M250.2 281.3l-.5-1.9M252.2 283.9l.6 1.9M247.4 281.4l2.1 1.1M249.5 282.5l1.7 .1M254.3 273.6l.4-2M252.6 274.2l-1.5-1.3M255.8 274.5l1.8-.9M251.2 282.6l1.3-4.6M252.5 277.9l1.5-2.9M256.2 275.6l1.3 1.5M257.4 274.5l1.9 .7M254.3 275.3l-1.4 1.4M254.1 275.1l0-.9M254 274.2l1.6 0M256.5 267.2l-2-.1M258.5 269.3l0 2M256.7 268.7l-1.5 1.3M255.6 274.2l1.4-2.4M257 271.7l1.3-3.9M261.9 268.9l1-1.7M260 268.8l-.6-1.9M262.8 270.2l1.8 .8M258.2 267.8l1.5 .6M259.7 268.4l1.2 1.7M263.6 263.3l-1.5-1.4M263.4 264.8l-2 .4M266.7 265l1.5 1.3M260.9 270.1l1.5-3.3M262.4 266.8l2.8-2.7M270.4 258.8l2 0M267.2 259.2l-1 1.7M268.9 259.8l.5 1.9M265.1 264.2l2.5-2.9M267.6 261.3l1-3M271 254.8l1.3-1.5M269.3 254.2l-.9-1.8M268 256.6l-1.1 1.7M268.6 258.3l1.2-.6M269.9 257.7l-.4-2M269.8 259l-.6 1.9M270.4 256.1l.8-1.8M271.8 257l1.5-1.3M269.5 255.7l.7 1.5M270.2 257.2l-.1 .3M272.1 266.8l-1.9-.7M273 268.2l-1.1 1.7M275.9 267l1.9 .7M276.5 269.7l-1.2-1.6M279.2 271.1l2-.1M278.2 272.3l.3 2M274 266.9l1.1 2.7M275.1 269.6l2.2 1.4M278.4 275.4l1.8-.8M275.1 275.7l-1.9-.7M277.1 277.8l0 2M277.3 271l-1 2.4M276.3 273.4l.6 2.9M279.5 283l-.7 1.9M279.2 280.4l-1.4-1.4M282.2 281.5l1.9-.7M276.9 276.3l1.7 3.6M278.6 279.9l1.7 1.7M282.3 283.5l-.8-1.8M282.9 286.1l-.9 1.8M284.2 283.3l.6-1.9M280.3 281.6l1.7 1.1M282 282.7l1.5 2M289.7 286.2l1 1.7M287 284.2l-1.3-1.5M287.9 286.6l-.2 2M283.5 284.7l2.4 .3M285.9 285l2.4 .2M291.6 283.4l1.5 1.3M289.9 284.1l.5 1.9M290.2 281.1l.1-2M288.4 285.2l.8-.4M289.2 284.8l.9-2.2M294 273.4l-1.2-1.6M295.9 273.8l1.7-1.1M292.7 274.5l-1.8-.9M290.1 282.6l1.3-3.5M291.4 279.1l3.1-4.2M298.8 273.1l1.6-1.2M295.4 274.4l-1.5 1.4M295.5 272.9l-1.7-1M294.5 274.9l1.1 0M295.6 274.9l1.5-1.1M300.3 287l1.5 1.4M297.3 285.2l-1.9-.6M300.6 285.5l1.8-.9M302.5 274.3l-1.1-1.7M304.4 274.5l1.7-1M304 277l1 1.7M307.3 275.9l.7-1.9M307.9 277.3l2 .3M304.8 278.1l-1.7 1.1M303.3 275.6l2.1 .1M305.4 275.8l.6 1.2M310 282.4l-1.6 1.2M312.9 281.2l2 .1M310.1 279.8l-1.1-1.7M306 277l1.7 2.5M307.8 279.5l3.3 1.7M314.4 282.1l1.8-1M312.4 284.2l.2 2M310.9 283.3l-1.8 .8M311 281.2l1 1.7M312.1 282.9l.6-.2M318.9 276.6l1.9-.5M317.3 278.9l.1 2M315.6 276.6l-1.5-1.3M312.6 282.7l1.7-3M314.4 279.7l2.9-2.4M254.5 296l-1.7 1M256.2 296.8l.4 2M257.8 296l1.9 .5M261.7 296.9l2-.4M260.3 295.9l.5-1.9M261.3 298.4l1.2 1.6M256.2 295.3l2.7 1.3M258.8 296.5l1.1 .8M265.6 294.4l1.7-1M263.3 296.8l-1.2 1.6M263.7 294.2l-1.4-1.4M259.9 297.4l1.4-.3M261.3 297.1l3.1-1.5M266 293l-1.9-.6M266.7 294.3l-1.4 1.4M267.2 291.8l-.7-1.9M264.4 295.6l1-2.1M265.4 293.5l2.5-.4M272.5 292l1.8 .9M270.7 292.7l.4 2M269.2 291.8l-1.5 1.4M267.9 293.1l1.5-1.8M269.4 291.3l1.5-.1M274.4 290.3l.2 2M276.6 288.3l1.8-.9M273 289.3l-1.6 1.2M270.9 291.2l2.8-1.5M273.7 289.7l1.1-.9M278.1 286.4l-1.4-1.5M280 286.5l1.4-1.4M277 287.7l-2-.3M274.8 288.8l2.5-.9M277.3 287.9l1.7-.2M280.4 284.8l-1.9-.5M281.7 283.7l-.6-1.9M284.1 285.6l1.8 .9M278.9 287.7l2.6-1.7M281.5 286l.7-.8M284.9 287.4l1.3-1.5M284.3 289.9l.7 1.9M283.1 287.1l-.6-1.9M282.2 285.2l.2 .9M282.5 286.1l1.2 2.4M291.3 290.2l1.9 .7M287.8 288.9l-1.4-1.4M291.1 288.7l1.5-1.4M283.7 288.5l3 1.4M286.7 290l2.9-.4M290.8 288.1l-1.9 .5M291 286.6l-1.5-1.3M294.3 286.9l1.4-1.4M289.6 289.5l2.4-1.6M292 287.9l.5-.4M177.5 331.7l.2-2M175.7 332l-1.5-1.3M176.5 334.6l-1.2 1.6M182.4 334.1l2 .4M181.4 335.4l.5 1.9M179.5 332.7l-.6-1.9M177 333.1l.9 0M177.9 333.1l2.6 1M182.7 338l-1.8-.8M184 340.4l.6 1.9M182.5 339.5l-1.8 .9M180.5 334.1l2.7 1.7M183.1 335.7l1.1 3.2M188.2 340.3l1.1 1.7M188 337.7l.6-1.9M186.1 337.8l-.9-1.8M184.2 338.9l2.4 .9M186.6 339.8l.5-.7M191 341.1l-1.5 1.4M191.2 338.5l-.6-1.9M193.9 340l2 .1M187.1 339.1l2.7 .2M189.8 339.3l2.2 .6M195.3 332.3l-1.3-1.5M194.7 333.8l-1.8 .9M196.1 334.9l.2 2M192 339.9l2.3-3.6M194.4 336.3l2.2-2.9M199.4 336.9l-2 .4M202.7 337l1.4 1.4M201.2 334.7l.1-2M196.6 333.4l1.5 1.8M198.1 335.2l3 1M201 348.7l-1.7 1M204.7 348.1l1.9-.5M201.6 347.3l-1.5-1.3M209 340l1.6-1.2M205.8 340.3l-1.5-1.3M207.7 342.4l-.1 2M202.8 348.4l1.5-3M204.3 345.4l3.2-4.5M212.7 344l1.8-.8M212.2 345.4l1.7 1.1M209.5 343.3l-1.4-1.5M207.5 340.9l2.1 1.2M209.6 342l1.2 2.3M217 338l1.4 1.4M216.1 335.5l.8-1.8M215.1 338.4l-.1 2M210.9 344.3l2.1-3.7M212.9 340.6l2.7-3.7M224 334l1.8 .8M221.5 332.3l-.1-2M220.3 333.4l-2 .2M215.6 336.9l3.6-1.7M219.3 335.3l2.9-1.5M221.9 330.7l-1.3-1.5M223.8 330.8l.4-2M220.8 331.9l-2 .1M222.1 333.7l.2-1.6M222.4 332.2l.3-.1M224.5 332.6l-2 .1M227.7 333.3l1.6 1.1M225.8 333.7l-.8 1.8M222.7 332.1l2.7 .4M225.4 332.5l.9-.2M232.5 333.1l2 .1M230 334.7l-1.1 1.7M231.9 334.5l1.6 1.2M226.3 332.2l1.3 1.2M227.6 333.5l3-.1M232.3 335.1l-2 .2M234.1 332.9l-.5-1.9M232.4 333.6l-1.4-1.5M230.7 333.3l2.2 .6M232.9 334l1.1 .5M238.5 338.6l.9 1.8M237 335.9l-.3-2M238.9 336.1l.7-1.9M234 334.4l2.4 1.6M236.4 336l1.3 1.2M240.4 335.4l-1.5-1.4M241.7 337.8l.5 1.9M242.1 334.8l.8-1.8M237.7 337.2l2.1-.2M239.9 337.1l2-.8M244.1 344.5l-1.7 1M247.5 343.1l1.7-1.1M245.9 342.3l-.2-2M241.9 336.3l2.7 3.6M244.6 340l1.2 3.8M250 339.7l.7-1.9M251.5 342l1.7 1.1M248.2 341.9l-2 .4M245.8 343.8l1.4-.6M247.2 343.2l2.7-2M252.9 337.3l-1.6 1.1M256.1 337.7l1.3 1.5M256.4 336.2l1.9-.4M249.9 341.2l2.3-1.7M252.3 339.5l2.4-2.8M258.2 326l1.2-1.6M255.5 328.1l-.9 1.8M258.7 327.5l1.7 1.1M261.3 329.1l.8-1.8M259.4 331.2l-2 .2M259.6 329.8l-1.5-1.3M256.8 327.1l2 .8M258.8 327.9l2.3 2.7M265.7 340.2l-1 1.7M266.9 337.8l0-2M267.5 340.7l.9 1.8M272.1 339.9l2 .1M268.4 339.3l-1.7-1.1M271.5 338.5l.7-1.9M267.2 339.3l1.9-.2M269.1 339l1.1 .6M274.6 335.4l.2 2M273.3 332.6l-.8-1.8M272.1 333.7l-2 .1M270.2 339.6l.9-3.4M271.1 336.2l2.8-2.2M277.4 336.5l-1.8 .9M279.2 336.8l.1 2M278.1 334l-.7-1.9M274 334l1.4 1.3M275.4 335.3l3.3 .1M188.5 345.5l-2-.4M190.1 344.7l.6-1.9M191.8 345.3l1.9-.6M191.9 350.5l-1.7 1.1M193.7 350.9l.5 1.9M191.4 349l-1.9-.5M190.2 346.2l2.2 2.5M192.4 348.6l.8 .8M197.8 359.4l2-.3M194 359.3l-1.9 .5M195 360.7l-1.1 1.7M200.5 364.3l2 0M199.8 365.7l1.7 1.1M199.3 363.1l0-2M195.9 359.4l2.3 2.3M198.3 361.7l.4 2.8M202.8 364.7l-.4-1.9M204 367.5l1.3 1.5M204.6 365l1.4-1.4M198.7 364.5l2.2-.2M200.9 364.3l2.5 1.8M206.3 359.1l-1 1.7M209.2 357.8l1.9 .6M205.4 357.8l-2 .4M211.6 366.6l1.9 .6M207.9 366l-2-.4M208.5 367.4l-1.2 1.6M207.3 357.8l1.8 4.8M209.1 362.6l.7 3.7M216.9 357.1l1.9-.5M213.1 357.1l-2-.4M216 358.4l.6 1.9M218.4 349.8l.4-2M216.7 350.5l-1.4-1.5M216.6 352l-1.5 1.4M215 357.1l2-2M217.1 355.2l1.3-3.9M223.6 350.9l1.2-1.6M221.1 352.6l-2 .2M224.2 353.5l1.8 1M218.3 351.3l1.8-.1M220.1 351.2l2.8 1.1M226.7 359.5l1-1.7M224.8 362.1l-.3 2M223.9 360.8l-2 0M222.9 352.3l.5 4M223.5 356.3l2.3 4.5M231.8 362.4l.7-1.9M232.2 365l1.4 1.4M229.2 364l-2-.1M225.8 360.8l2.1 1.9M227.9 362.7l3.1 1.1M236.3 361.2l.6-1.9M235.6 363.7l.2 2M234.4 360.9l.1-2M231.1 363.8l1.6-.2M232.7 363.6l2.3-1.2M237.5 364.5l-.5 1.9M239.8 362.6l1.6-1.2M236.6 362l-1.2-1.6M235 362.3l1.3 1.1M236.3 363.4l1.7-.4M243.1 364.6l1.5 1.3M243.3 362l1.6-1.2M240.3 363.2l-1.9 .6M238 363l2.1 .2M240.1 363.2l2.1 0M246.8 362.9l2 .1M243 363.4l-2-.3M243.6 362l-.7-1.9M242.2 363.2l1.1 0M243.3 363.2l1.5-.1M247.7 357.5l-1.7-1M251 357.8l2-.2M250.8 359.3l1.6 1.2M244.9 363.1l2.9-2.8M247.7 360.3l1.5-1.9M252.1 353.6l-2-.3M255.8 353.5l1.8-.8M253.1 354.9l-1 1.7M249.2 358.4l3.3-2.3M252.6 356.2l1.4-2.6M245.8 346.7l-.5 1.9M248.1 344.8l2-.4M246.8 343.8l.5-1.9M247.5 345.6l-.9-1.8M249.4 345.6l.9-1.8M249.5 348.2l1.1 1.7M246.3 345.2l1.3 1.3M247.6 346.5l.9 .4M251.5 354l.4 2M249.5 351.9l-1.9-.8M252.8 351.6l1.1-1.7M248.5 346.9l.7 2.6M249.2 349.5l2.1 3M256 350.8l1.2-1.6M254.4 353l0 2M256 352.3l1.9 .6M251.3 352.5l2-.1M253.2 352.4l1.1-.9M255 361.8l-2-.3M257.5 360.1l1.3-1.5M255.6 360.4l-.8-1.8M262.8 357.5l2-.3M261.8 356.3l1.3-1.5M259 357.7l-2 .3M256.9 361.5l3-2.1M259.9 359.4l1-1.8M260.2 358.4l-1.2 1.6M262.7 356.1l1.8-.9M260.8 355.8l-.4-2M260.9 357.6l1.1 .7M262 358.3l-.6-1.1M265.3 357.8l2-.3M264.3 359l1.6 1.3M264.3 356.4l1.4-1.4M261.5 357.2l1.3 .2M262.8 357.5l.6 .3M264.8 370.4l-2-.3M268 369.8l1.6-1.1M268.4 371.3l1.9 .6M269.1 370.6l1.6-1.2M267.2 370.5l-.5-1.9M268.8 373.2l.8 1.8M266.6 370.8l1.3-.1M267.9 370.8l.1 1.1M272.8 370.8l1.9 .6M271.6 372l.8 1.9M270.2 369.2l-.9-1.8M268 371.8l1.4 .3M269.4 372.2l1.5-1.6M268.8 368.1l-1.8 .9M272.4 367.2l1.8-.8M271 366.2l.5-1.9M270.9 370.6l.8-1.9M271.7 368.7l-1.1-1M275.7 385l1.1 1.7M274.3 382.7l.5-1.9M275.8 383.5l1.7-1.1M231.1 288.9l1.4 .6M251.3 292.5l1.5 .1M239.7 285.6l-1.3 .8M299.7 257.7l1.3 .7M212.2 288.1l-1.4 .6M271.7 248.3l1.3-.8M281.4 354.6l.9-1.2M299 373.6l1.5-.3M283 355.9l-.6 1.4M195 267.7l-1.8 .5-1.5-1 .4-1.4 1.7-.6 1.5 1zM194.4 268.9l-.4-1.5 1.4-1 1.8 .5 .4 1.5-1.4 1zM200.2 262.1l-1.6 .8-1.7-.7-.1-1.5 1.6-.8 1.7 .7zM205 275.2l-1.6 .8-1.7-.8 0-1.5 1.6-.7 1.7 .7zM208.5 272.2l-1.8 .4-1.4-.9 .4-1.5 1.8-.5 1.4 1zM207.9 274.4l.7-1.4 1.9-.2 1.2 1.1-.7 1.4-1.9 .2zM209.4 271.3l.8-1.4 1.9-.1 1.1 1.2-.8 1.3-1.8 .2zM217 277.4l-1.9 .3-1.3-1.1 .6-1.4 1.9-.4 1.3 1.1zM218.7 284.3l-1.2-1.2 .8-1.3 1.8-.2 1.2 1.1-.7 1.4zM221.2 290.1l-1.2-1.1 .7-1.4 1.8-.3 1.2 1.2-.6 1.4zM227.4 290.7l-1.3 1.1-1.9-.3-.6-1.5 1.3-1.1 1.9 .4zM229.6 293.3l-1.9 .1-1-1.3 .8-1.3 1.9-.1 1.1 1.2zM231.3 293.5l-.9-1.3 1-1.3 1.9 .1 .9 1.3-1 1.3zM234.1 295.9l-.3-1.5 1.5-.9 1.7 .5 .3 1.5-1.5 1zM238.9 284.1l-1.7-.7-.1-1.5 1.6-.8 1.7 .7 .1 1.5zM242.8 283l-1.1 1.2-1.9-.2-.7-1.4 1.1-1.2 1.9 .2zM245.7 280.1l-1.4 1-1.8-.4-.4-1.4 1.3-1.1 1.8 .4zM248.9 288.9l-1.9 .1-1-1.3 1-1.3 1.9 0 .9 1.2zM239 278.2l.9-1.3 1.9-.1 1 1.3-.8 1.3-1.9 .1zM245.2 274.9l-1.9 .2-1.1-1.2 .7-1.4 1.9-.1 1.2 1.2zM246.6 282.8l-1.1-1.2 .7-1.4 1.9-.2 1.1 1.2-.7 1.4zM250.3 283.9l-1-1.3 .9-1.3 1.9 0 1 1.2-.9 1.4zM253.8 276.6l-1.5-.9 .3-1.5 1.7-.6 1.5 .9-.2 1.5zM257.4 274.5l-1.2 1.1-1.9-.3-.6-1.4 1.3-1.1 1.8 .2zM258.5 269.3l-1.8-.6-.2-1.5 1.5-.9 1.8 .6 .2 1.5zM262.8 270.2l-1 1.2-1.9 0-.9-1.3 1-1.3 1.9 .1zM265 265.7l-1.6-.9 .2-1.5 1.7-.6 1.5 .8-.1 1.5zM267.2 259.2l-.3-1.4 1.4-1 1.8 .5 .3 1.5-1.5 1zM269.7 257.2l-1.7-.6-.2-1.5 1.5-.9 1.7 .6 .3 1.5zM269.8 259l-1.5-.9 .3-1.5 1.8-.5 1.4 .9-.3 1.5zM274.9 268.2l-1.9 0-.9-1.4 1-1.2 1.9 0 .9 1.4zM278.2 272.3l-1.9-.1-.9-1.3 1.1-1.2 1.9 0 .8 1.4zM277.1 277.8l-1.8-.6-.2-1.5 1.6-.9 1.7 .6 .2 1.5zM279.5 283l-1.1-1.3 .8-1.3 1.9-.1 1.1 1.2-.8 1.3zM281.7 284.9l.6-1.4 1.9-.2 1.2 1.1-.6 1.4-1.9 .3zM287.9 286.6l-1.4-1 .5-1.4 1.8-.5 1.4 1.1-.5 1.4zM291.6 283.4l-1.7 .7-1.5-.8 .1-1.5 1.7-.7 1.6 .8zM295 276.3l-1.8-.4-.5-1.4 1.3-1.1 1.9 .4 .4 1.5zM295.4 274.4l.1-1.5 1.7-.6 1.6 .8-.1 1.5-1.8 .7zM300.3 287l-1.8 .6-1.4-1 .2-1.4 1.8-.6 1.5 .9zM305.1 275.8l-1.1 1.2-1.9-.2-.7-1.4 1.1-1.1 1.9 .2zM306.6 278.4l-1.8-.3-.6-1.4 1.2-1.1 1.9 .3 .6 1.4zM310 282.4l-.9-1.3 1-1.3 1.9 .1 .9 1.3-1 1.3zM312.4 284.2l-1.5-.9 .2-1.5 1.8-.6 1.5 .9-.3 1.5zM315.6 278.1l0-1.5 1.6-.7 1.7 .7 0 1.5-1.6 .8zM257.8 296l-1.6 .8-1.7-.8 0-1.5 1.6-.7 1.7 .7zM261.3 298.4l-1.8 .4-1.4-1 .4-1.4 1.8-.5 1.4 1zM263.3 296.8l-.7-1.4 1.1-1.2 1.9 .2 .7 1.4-1.1 1.2zM266.7 294.3l-.7-1.3 1.2-1.2 1.8 .2 .8 1.3-1.2 1.2zM272.5 292l-1.8 .7-1.5-.9 .1-1.5 1.8-.6 1.5 .8zM276.2 289.8l-1.8 .5-1.4-1 .4-1.5 1.8-.5 1.4 1zM279.8 289.1l-1.9-.1-.9-1.3 1.1-1.3 1.9 .1 .8 1.3zM280.9 286.3l-.5-1.5 1.3-1.1 1.9 .4 .5 1.5-1.4 1zM282.4 289.6l-.6-1.4 1.3-1.1 1.8 .3 .6 1.4-1.2 1.1zM288 290.4l-.2-1.5 1.6-.9 1.7 .7 .2 1.5-1.6 .8zM292.3 289l-1.5-.9 .2-1.5 1.7-.6 1.6 .9-.3 1.5zM178.3 334.2l-1.8 .4-1.3-1.1 .5-1.5 1.8-.3 1.3 1.1zM182.4 334.1l-1 1.3-1.9-.1-.9-1.3 .9-1.3 1.9 .1zM182.5 339.5l.2-1.5 1.7-.6 1.6 .9-.2 1.5-1.8 .6zM188.2 340.3l-1.9 .1-1.1-1.2 .9-1.4 1.9-.1 1 1.3zM191 341.1l-.9-1.3 1.1-1.3 1.9 .1 .8 1.4-1 1.2zM196.1 334.9l-1.4-1.1 .6-1.5 1.8-.3 1.3 1.1-.5 1.4zM199.4 336.9l.1-1.5 1.7-.7 1.6 .8-.1 1.5-1.7 .7zM202.3 349.8l-1.3-1.1 .6-1.4 1.8-.3 1.3 1.1-.6 1.4zM206 341.8l-.2-1.5 1.5-.9 1.7 .6 .3 1.5-1.6 .9zM210.3 345.8l-1.3-1.1 .5-1.4 1.9-.4 1.3 1.1-.5 1.4zM215.1 338.4l-1.3-1.1 .4-1.4 1.9-.4 1.3 1-.4 1.5zM220.8 334.8l-.5-1.4 1.2-1.1 1.9 .3 .6 1.4-1.3 1.1zM223.5 333.4l-1.9-.1-.8-1.4 1.1-1.2 1.9 .1 .8 1.4zM227.7 333.3l-1.9 .4-1.3-1.1 .4-1.4 1.9-.4 1.3 1zM231.9 334.5l-1.9 .2-1.2-1.1 .7-1.4 1.8-.3 1.2 1.2zM232.3 335.1l.1-1.5 1.7-.7 1.6 .9-.2 1.4-1.6 .7zM239.6 337.4l-1.1 1.2-1.9-.2-.7-1.4 1.1-1.1 1.9 .2zM241.7 337.8l-1.5-.9 .2-1.5 1.7-.6 1.6 .9-.3 1.5zM245.7 345.3l-1.6-.8 .1-1.5 1.7-.7 1.6 .8-.1 1.5zM249.8 342.7l-1.6-.8 .1-1.5 1.7-.7 1.6 .8-.1 1.5zM254.3 338.2l-1.4-.9 .3-1.5 1.8-.5 1.4 .9-.3 1.5zM258.7 327.5l-1.4 1-1.8-.4-.5-1.4 1.4-1.1 1.8 .4zM261 332.1l-1.6-.9 .2-1.4 1.7-.7 1.6 .9-.2 1.5zM269 339.8l-1.5 .9-1.8-.5-.3-1.5 1.5-.9 1.8 .5zM272.1 339.9l-1.3 1.1-1.9-.3-.5-1.4 1.3-1.1 1.8 .3zM274.6 335.4l-1.9-.3-.6-1.4 1.2-1.1 1.9 .3 .6 1.4zM277.4 336.5l-.6-1.4 1.3-1.1 1.9 .3 .5 1.4-1.3 1.1zM191.9 346.8l-1.6 .9-1.7-.7-.1-1.5 1.6-.8 1.7 .6zM193.7 350.9l-1.8-.4-.5-1.5 1.3-1 1.9 .4 .5 1.4zM197.8 359.4l-.9 1.3-1.9 0-1-1.4 1-1.2 1.9 0zM196.8 364.7l.7-1.4 1.8-.2 1.2 1.2-.7 1.4-1.8 .2zM205.3 366.4l-1.3 1.1-1.8-.3-.7-1.4 1.3-1.1 1.8 .3zM208.2 359.1l-1.9 0-.9-1.3 1-1.3 1.9 0 .9 1.3zM210.3 367.7l-1.8-.3-.6-1.4 1.3-1.1 1.9 .3 .5 1.4zM216 358.4l-1.9 0-1-1.3 1-1.3 1.9 0 .9 1.3zM216.6 352l.1-1.5 1.7-.7 1.6 .8-.1 1.5-1.7 .7zM221.1 352.6l.6-1.4 1.9-.3 1.2 1.2-.6 1.4-1.9 .3zM223.9 360.8l.9-1.3 1.9 0 1 1.3-1 1.3-1.9 0zM232.2 365l-1.8 .2-1.2-1.2 .7-1.4 1.9-.2 1.2 1.2zM236.9 362.6l-1.3 1.1-1.8-.3-.6-1.4 1.2-1.1 1.9 .3zM236.2 363.4l.4-1.4 1.9-.4 1.3 1-.4 1.5-1.9 .4zM244.1 363.3l-1 1.3-1.9-.1-.9-1.3 1.1-1.3 1.9 .1zM243 363.4l.6-1.4 1.9-.3 1.3 1.2-.7 1.4-1.8 .3zM249 359.9l-1.5-.9 .2-1.5 1.8-.6 1.5 .9-.2 1.5zM253.1 354.9l-1-1.3 .8-1.3 1.9-.1 1 1.3-.8 1.3zM247.7 346.3l-1.9 .4-1.3-1.1 .4-1.4 1.9-.4 1.3 1zM247.6 348.2l-1-1.3 .9-1.3 1.9 0 1 1.3-.9 1.3zM251.5 354l-1.7-.6-.3-1.5 1.6-.9 1.7 .6 .2 1.5zM254.4 353l-1.7-.7 .1-1.5 1.6-.8 1.6 .8 0 1.5zM255 361.8l.6-1.4 1.9-.3 1.2 1.1-.6 1.4-1.8 .3zM261.9 358.9l-1.9 .1-1-1.3 .9-1.3 1.9-.1 1 1.2zM260.2 358.4l-.6-1.4 1.2-1.2 1.9 .3 .6 1.4-1.2 1.1zM265.3 357.8l-1 1.2-1.9 0-.9-1.3 .9-1.3 1.9 0zM265.2 371.9l-.4-1.5 1.4-1 1.8 .4 .4 1.5-1.4 1zM266.9 373.1l-.8-1.4 1.1-1.2 1.9 .1 .8 1.4-1.1 1.2zM272.8 370.8l-1.2 1.2-1.9-.2-.7-1.4 1.2-1.2 1.9 .2zM268.8 368.1l.4-1.5 1.8-.4 1.4 1-.4 1.5-1.8 .4zM274 385.6l-1.6-.8 .1-1.5 1.8-.6 1.5 .8-.1 1.5z" stroke="#5a5a5a" stroke-width="0.75" fill="none" stroke-linecap="round" clip-path="url(#cb2)"/>
<path d="M269.3 254.2h0m1.8 0h0m1.2-.9h0m-77.2 6.4h0m3.3 .2h0m1.7 .7h0m1.8-.8h0m64.2 1.2h0m.8-3.2h0m.3 1.4h0m.6-4.1h0m.2 1.5h0m.3 1.5h0m.6 1.7h0m.8-2.6h0m.1 1.8h0m.3-1.7h0m.3-1.2h0m0 2.7h0m.9-2.5h0m.2 2.2h0m.3-1.5h0m1.5-1.3h0m-81.2 10.1h0m.3 .5h0m1.4-1.1h0m.9-1.7h0m.6 2.7h0m.1 .2h0m1.5-4.2h0m.3 4.7h0m.1-.7h0m1.3-3.3h0m1.6-.8h0m1.9 .6h0m55.9 3.6h0m1.3 .6h0m.5 0h0m1.7-1.6h0m.6-3.3h0m1.3 2.8h0m.2-1.5h0m1.4 2.4h0m.3-3h0m1.4 2.3h0m.1-1.5h0m1.5 2.8h0m4.8-.7h0m1.9 0h0m.9 1.4h0m-82.7 1.2h0m.8-.8h0m1 .3h0m1.2 1.7h0m.3-.4h0m1.1-.6h0m5.7 4.6h0m.3-.3h0m2.1-2.5h0m.7 2.1h0m.3 .3h0m.8-2.9h0m1 2.5h0m.1 .8h0m.2-4.5h0m.1 2.2h0m.5 .6h0m.8-1.4h0m.3 2.9h0m.1-.3h0m1.5-2.7h0m1.1 1.2h0m28.1 .4h0m1.6 1.1h0m1.9-.1h0m9.7-5.3h0m.2 4.5h0m.3 1.2h0m.2-2.8h0m1.3-2.8h0m2 2.1h0m.5 .8h0m.9 1.3h0m.1-3h0m1.8 3h0m.1-2.5h0m.9 1.3h0m10.2-2h0m1.9 0h0m.4-.2h0m.1 2.9h0m.9 1.3h0m.2-2.5h0m1.3-2h0m.4 4.6h0m1-1.2h0m2-.1h0m11.7 .8h0m2.6 1.1h0m1.7-.6h0m.4 .5h0m2.8-.9h0m1.1 .7h0m-99.8 1.1h0m0 1.5h0m3.3-1.5h0m0 1.5h0m2.9-.8h0m1.2 1.1h0m1.2-2.4h0m.7 2.2h0m.8 1.3h0m2 0h0m.6-1.4h0m.7 2.5h0m1.2-2.9h0m.7 2.6h0m.6-4.1h0m1.1 5.1h0m20.3-.2h0m.9-1.3h0m1.9-.1h0m1 1.3h0m.5-3h0m.1 3.1h0m1.3-.7h0m.5-2.6h0m0 3.7h0m.8-5h0m6.6 .6h0m1.1-.3h0m.1 2.7h0m.5-3h0m0 1.7h0m1.3 .7h0m.2-1.5h0m.4 1.1h0m1.2-1.1h0m.1 2.6h0m.1-3.4h0m15.7 1.3h0m1.8 .7h0m.2 1.5h0m1.4-2.4h0m.4 3h0m1.3-2.4h0m.1-1.1h0m1.7 .3h0m10.7-1h0m1.8 .9h0m.5 1.4h0m.7-.1h0m.1-2.4h0m1 2.9h0m.4-1.9h0m.9 .9h0m.6 0h0m1.9-2.2h0m2.6 2.3h0m.7 1.4h0m.4-2.5h0m1.5 2.7h0m.2-.3h0m.2-2.2h0m.4 3.6h0m.2 .7h0m.1-3h0m1-2.4h0m.5 5h0m.7-2.5h0m.6 1.4h0m1.2 .8h0m5-2.8h0m1.5 1.3h0m0 1.5h0m1.6-2.2h0m.1 3h0m1.6-.8h0m-103.4 4.8h0m2 .2h0m.8-1.3h0m.4 2.5h0m1.4-2.7h0m1.2 1.1h0m14.2 1.8h0m1.6-2.6h0m.1 1.5h0m1.5-2.3h0m1.1 2.9h0m.2-4.6h0m.1-.2h0m0 .3h0m.1 1.9h0m.2 .4h0m.1 1.5h0m1.2 .9h0m.3-4.8h0m.1-.1h0m0 2.3h0m.4-.9h0m.3 2.3h0m.9-.4h0m.4 .5h0m.2-2h0m1.2 .5h0m.2-1.5h0m.5 .1h0m.3 4.2h0m.1-1.6h0m1.5-2.8h0m.4 2.6h0m.7-1.4h0m.1 1.4h0m.9-1.3h0m0 2.4h0m.1 .2h0m1.8-2.6h0m1 1.2h0m25.3-.8h0m.5 3.2h0m.3-4.5h0m1.2 4.4h0m.7-4.5h0m.1 1.5h0m.2 1h0m.1-1.1h0m.2 3.2h0m0-1.2h0m.5-2.2h0m.1 2h0m1.3 .6h0m.5-3.4h0m.1 2.6h0m1.5-.7h0m1.3 1.6h0m1.5-2.4h0m.3 1.9h0m1.1 .4h0m.3-3h0m0 3.7h0m1.4-1.4h0m.2-1.5h0m3.6 2.7h0m3.7 0h0m3.3 0h0m6-1h0m.7-2.5h0m.9 1.3h0m.1-2.6h0m.8 3.5h0m1-.8h0m.1-2.6h0m.4 4.3h0m.5-3h0m0 0h0m1.2 2.4h0m.3-1.5h0m.5-.8h0m1.3-.1h0m1.1-.3h0m-97.3 8.1h0m.7-1.4h0m.5 2.5h0m1.3-2.8h0m.6 2.6h0m.5 .1h0m1.3-1.1h0m1.9 .4h0m.6 1.4h0m.1 .1h0m10.8-4.8h0m4.7-.3h0m3 5h0m0-3h0m1-1.3h0m0 2.6h0m1.9-2.6h0m0 2.5h0m.9-1.3h0m.7 2.6h0m2.3-4.4h0m13.7 4.1h0m2.8 .4h0m1.8-.6h0m1.5 .8h0m.4-1.2h0m.4-1.5h0m1 2.5h0m.7-3h0m.1 0h0m1 2.5h0m.8-2.1h0m.9 1.3h0m.2-2.6h0m1.7 2.7h0m.2-2.6h0m.8 1.3h0m.1-1.5h0m.9 1.9h0m.6 1.4h0m.3-3h0m.2-.5h0m.2 1h0m1-1.5h0m.2 4.3h0m.5-4.1h0m.1 1.6h0m.6 1.4h0m.8-2.9h0m.1 1.6h0m.1-1.9h0m1.3 3.3h0m.1-2.3h0m.1 3.8h0m.8-1.8h0m.7-3.3h0m.2 .9h0m.8-.2h0m.3 2.1h0m.3 .6h0m.2 1.5h0m1-1.2h0m.4-3h0m.5 4.9h0m.8-2.5h0m.3-1.5h0m2.8-.3h0m1.4 1h0m1.8-.6h0m.3-1.5h0m1.2 2.9h0m-79 4.5h0m1.4-1.4h0m.5 .9h0m1.4-.6h0m.6 .3h0m1 1.3h0m1.9-.1h0m.8-1.1h0m.1-.3h0m.4 3.6h0m.4-1.1h0m0-.9h0m.9 3.1h0m1-3h0m.1-2.6h0m.5 3.4h0m.4-2.1h0m1-.8h0m.1 2h0m.5 3h0m.4-4.4h0m.8 1.9h0m.3 1.5h0m17.2-1h0m0 1.5h0m1.6-2.2h0m.1 3h0m1.6-2.3h0m.7 1.9h0m3.2 .5h0m.6-4.1h0m1 4h0m.4-2.6h0m.4-1.9h0m1.1 4.7h0m.1-1.2h0m.3-1.4h0m.7 1.4h0m.4-1.5h0m.5-2.5h0m.1 1.6h0m.4-.2h0m.9 1.3h0m.4-2.5h0m.8 1.3h0m.9-.6h0m1.8-.7h0m1.8 .9h0m.2-.6h0m15.2-1.3h0m-54.2 7.4h0m21 .3h0m1.6-.9h0m1.4 1h0m1.8-.4h0m.8 0h0m.4 1.6h0m-7.5 26.7h0m1.4-1.1h0m1.8 .4h0m1.2-1.6h0m-83.7 7.6h0m1.8-.3h0m.2-2h0m1.1 3.1h0m.7-.1h0m1.9 .1h0m13.9-.5h0m5.9 .4h0m19.6-.8h0m.6-1.6h0m.5 .4h0m.6 2.1h0m.9-.2h0m.4-1.8h0m.7 1.8h0m.4-1.4h0m1.9-.4h0m4.5 1.1h0m2.8 1h0m20.5-3h0m.9-1.8h0m1.8 .4h0m2.3 1.3h0m.7-1.2h0m.7 3.5h0m.3-3h0m.9-1.8h0m.5 4.2h0m.2-1.5h0m9.6 .8h0m2.7 2.1h0m2.3-.8h0m-102.3 1.4h0m.1 2.7h0m3-2h0m.3-.2h0m2.3 3.2h0m.5-1.8h0m.5 1.9h0m.5-3.2h0m.3 3.9h0m1.6-3.5h0m.1 2.9h0m.8-1.4h0m.8 2.3h0m.1-.5h0m2.5-2h0m.4 3.2h0m2.2-.5h0m1.7-3.8h0m.2 3.9h0m1.6-4.8h0m1.4 1.1h0m.2 1.9h0m1.2 .5h0m.4-2.8h0m.5-1.4h0m1 3.8h0m1.6 .8h0m.2-3h0m1.5 2.3h0m.1-1.5h0m1.4 2.9h0m9.6-1.1h0m.4-1.4h0m.9 2.5h0m1-2.9h0m.9 2.5h0m.4-1.5h0m.9-2.9h0m2-.2h0m.5 1.4h0m.8-1.5h0m1.1 1.8h0m.8-1.7h0m.5 .6h0m1.8-.3h0m1.9-.4h0m1.1 .3h0m.1 2.8h0m1.1-1.7h0m1.9-.2h0m.4 .6h0m.1-1.5h0m.1-.5h0m1.4 2.8h0m1.6-.7h0m.2-1.4h0m.2 3.2h0m.7 1.4h0m.1-4.5h0m.3 2h0m1.5 2.7h0m.4-2.5h0m0-2h0m1.3 2.8h0m.2-1.5h0m1.3 2.4h0m.4-3h0m1.6 .9h0m7.1 2.1h0m2.1-.5h0m.3-1.5h0m1.1 2.4h0m.7-2.9h0m1.1 2.4h0m.3-1.5h0m9 2.5h0m1.5-.9h0m1.8 .5h0m1.4-4.5h0m1.4 4.7h0m.6-4.8h0m.2 3h0m.4-1.6h0m1.9 .3h0m.2 2h0m.8 0h0m.2-3.1h0m1 .8h0m.6 1.4h0m.7-2.5h0m1.1 2.8h0m.1 2h0m.7-4.5h0m.5 1.4h0m-98 3.8h0m2.7-.3h0m.6 .6h0m.5 .6h0m1.9-.1h0m1.1 1.7h0m.2 .5h0m.6 2.2h0m0-4.9h0m.9 1.3h0m2.7 3.6h0m.2-4.7h0m10.3-1h0m1.6 1.3h0m.2 1.5h0m1.3-2.4h0m.4 5h0m.5-2.6h0m.8 2.9h0m0-4.7h0m.3 1.5h0m.2 1.8h0m1.9-.4h0m1.3 1.1h0m1.8-.8h0m3.9-3.8h0m21 1h0m2.8-.7h0m1.9 4.8h0m.1-1.5h0m.7 1.2h0m.8-3.9h0m.2 2h0m.9 1.5h0m.5-2h0m.1 2.8h0m.1-1.5h0m.6 1.7h0m.1-2.9h0m.1-1.5h0m1.5 2.3h0m.2-3h0m.1 4.7h0m.3-.6h0m1.2-3.3h0m5.8-1.3h0m10.1 1.5h0m.9-1.4h0m0 3.2h0m.5-1.8h0m.1-.9h0m1.8 1.2h0m1.3-1.1h0m2 .1h0m-87.5 5.1h0m1.9 .4h0m.1 1.5h0m.9 1.5h0m.8-.8h0m1.1 1.3h0m.4-3.7h0m.1 5.2h0m1.8 .4h0m.9-2.5h0m.5 1.4h0m5.9-1.1h0m.6-1.4h0m.7 2.5h0m1.1-2.8h0m.7 2.5h0m.6-1.4h0m5.6-2.3h0m1.9-.4h0m4.5 5.1h0m1.7-.7h0m.4-1.9h0m1.2 2.7h0m3.6 .3h0m20.9-5.3h0m1.2-.3h0m.1 1.4h0m.8 .2h0m.9-1.3h0m.1 2.6h0m.1-1.9h0m1.8 1.9h0m.9-1.3h0m3.5 3h0m.5 .1h0m1.6 .8h0m-65.8 .7h0m4 1.3h0m12.2 3.7h0m1.9 0h0m5.8-.7h0m1.9 0h0m.6-3.8h0m1.6 .8h0m.7 3.8h0m2.2-4h0m1.2 1.2h0m1.9-.3h0m.6-1.4h0m21.2 4.4h0m3.5 .4h0m0-5h0m1.6-.9h0m.4 3h0m.4 2h0m.8-3.7h0m.1-.7h0m.1 .7h0m.1 .8h0m.1 1.8h0m1.3-1.9h0m.4-.8h0m.2 2.6h0m.8-1.3h0m.2-1.2h0m1.9 .6h0m1.7 4.1h0m.3-.6h0m.6-2.5h0m.3 1.9h0m1 .5h0m1.3-1.5h0m1.2 1.6h0m.2-1.2h0m1.2-.2h0m-73.6 4.9h0m1.9-.6h0m1-1.2h0m1.9 2.6h0m0-2.6h0m.9 1.3h0m2-.4h0m2.5 3.7h0m3-1.8h0m1-1.8h0m1.9 0h0m1-1.3h0m3.9-.7h0m2.9 1.3h0m.6 1.9h0m.3-3.2h0m7 3.7h0m.9-1.3h0m0 2.6h0m1.9 0h0m1-1.3h0m.1-3h0m4 4.6h0m2.6-1.5h0m.1-2h0m1 1.4h0m.8 .9h0m.3 .8h0m.3 .6h0m0-3.3h0m1.6 2.3h0m1.3 1h0m1.6-1.2h0m1.6-1.3h0m.3 1.9h0m.3 0h0m1.3-1.2h0m.6 .9h0m1.3 1.2h0m.7-3.9h0m.2-1.5h0m1.3 2.4h0m1.8-.6h0m1.5 1.3h0m2.5-2.1h0m.2 3.3h0m.6-1.4h0m.7 2.5h0m1.2-2.8h0m.6 2.5h0m.9-4.9h0m0 2.3h0m1-1h0m.2-.6h0m1.3-.7h0m.4 1.2h0m.2-.3h0m.3 .4h0m.4-1.5h0m.5 0h0m1 1.5h0m1-1.2h0m1.9-.3h0m-70.4 7.2h0m.7-1.4h0m.5 2.6h0m1.3-2.8h0m.5 2.6h0m1.7 1.1h0m0-1h0m.7 1.4h0m.3-2.9h0m1.5 3.2h0m.6-2.5h0m.7 1.4h0m.7-2.9h0m1.9 2.5h0m.6 1.4h0m1.8 .3h0m.8-2.5h0m.5 1.4h0m1.9 .7h0m11-3.2h0m2.7-.3h0m2 .2h0m1.2 1.2h0m1.8-.2h0m.8-1.4h0m.6 2.8h0m.2-3h0m1.8 .3h0m.6-.3h0m1.3 1.1h0m.9-.8h0m1 .4h0m.9-.9h0m.7-.1h0m.2 1.4h0m1.8-1.1h0m.1 1.2h0m1-1.3h0m.2 1.3h0m1.8-.3h0m20.9 4.7h0m1.8-.9h0m.4-.7h0m.4 1.3h0m1.4-2.5h0m.5-1.9h0m.5 4.4h0m.4-1.5h0m1.9-.7h0m-68.9 2.5h0m57.4 1.1h0m2 .3h0m.4 1.5h0m.9-.2h0m.1-2.3h0m.7 3.7h0m.1-.8h0m.2-1.8h0m.8-.7h0m.4 1.5h0m.4 1.9h0m.3-2.6h0m.6 1.2h0m.2 .2h0m.3-2.9h0m0 .1h0m.1 2.6h0m.4-2.4h0m.9 2.6h0m.5-2.6h0m.3 4.4h0m.4-3h0m-3.2 4.2h0m5.2 5.7h0m-2.4 4.1h0m.1-1.5h0m1.5 2.3h0m.3-2.9h0m1.5 .8h0" stroke="#5d635f" stroke-width="1.6" stroke-linecap="round" fill="none" clip-path="url(#cb2)"/>
<path d="M272.9 247.4h0m-4.1 3.8h0m3.5 2.5h0m1.3-.5h0m-78.8 5.2h0m8.3 2h0m59 .3h0m3.6-2.1h0m7.6 1.2h0m1.3-4h0m26.4 2.5h0m-108.8 6.7h0m3.8-1.9h0m3.7 2h0m3-1.3h0m51 2.3h0m6.2-.3h0m.5-1.3h0m3.8 2.3h0m.7-5.6h0m3.1 .3h0m.8 1.3h0m.9 2.1h0m5.8 1.8h0m-83.9 3.5h0m5 .1h0m1.6-3.1h0m1.2 4.6h0m2.9 .5h0m1.1-2.4h0m3.1 .6h0m1.2 1.9h0m1.1-5.2h0m30.6 5.5h0m1.7-2.6h0m9.9 1.5h0m2.9-1.7h0m1.9 1h0m1.7 1.3h0m7.5 0h0m3.4-4.6h0m2.2 2.4h0m7.7-1.1h0m3.9 3h0m8.3 .4h0m2.6-1.8h0m.4 .1h0m8.1 1.4h0m.1-.7h0m-96.7 2h0m1 2.3h0m2.5-.9h0m2.1-.3h0m.3 1.3h0m2 2h0m1.3-2.1h0m4.7-2.4h0m19.6 1h0m.7 4.1h0m1.7 .1h0m3.6-2.9h0m.6 2.5h0m.8 .2h0m4.4 .1h0m1.3-1.6h0m5.8 1.7h0m1.5-4.3h0m.9 2.2h0m12.9-2.5h0m5 1.6h0m.1 2.3h0m3.6-2.5h0m9.9 3.1h0m1.3-2.6h0m6.2-2.6h0m3 5.8h0m5.6-5.1h0m1.7-.3h0m.3 3.4h0m1.2 1.8h0m3.4-4.7h0m7.9 2.8h0m-107.2 5.1h0m4.3-2.3h0m15.2 4.5h0m5.8-1.7h0m2.5-.2h0m.5-2.1h0m.1 3.8h0m2.8-.8h0m1.3 .2h0m5-1.2h0m23.9-1.4h0m.7 2.9h0m1-.4h0m4-2.5h0m.2-.2h0m1 3.5h0m2.3-2.7h0m.5 0h0m.1-.5h0m3.5 3.2h0m5.5-.6h0m9.7-3.4h0m2.6 3.5h0m.6 .1h0m8-1.3h0m.6-.5h0m1-.2h0m-106.6 7.2h0m6.3-.8h0m.1-1h0m3.5 .2h0m.5 1h0m3.9-2.3h0m.8 2.3h0m6.6 1.3h0m3.6 1h0m1-3.9h0m1.3-.2h0m4.4 .6h0m1.9 4h0m3.2-5.3h0m2.5-.7h0m1.8 1.9h0m14.9 1.8h0m3 1.6h0m4.2-4h0m3.4-.9h0m1.9 2.5h0m1.2 .4h0m1.9-3.2h0m3.6 2.6h0m.1-1.5h0m.3 3.2h0m.9-3.5h0m.1 2h0m2.1-.8h0m.6 2.1h0m2.9-3.2h0m.6 1.4h0m3.1-1.9h0m4.8 4.2h0m1.8-4.6h0m8.2 2.1h0m-91.8 5.7h0m1.5-.1h0m2.1 .1h0m.1-1.3h0m6.1 4.6h0m1.2-.2h0m.5-.3h0m2.7 .8h0m3-3.6h0m13.4-1.4h0m.9 5.1h0m1.3-4.1h0m9.1 .8h0m.4-1.8h0m1.2-.3h0m.5 4.6h0m2.4-2.7h0m2.1 .6h0m1.9 2h0m3.3-2.5h0m1 1h0m9.7-1.2h0m9.3-1h0m-59.3 7.1h0m21.4 .7h0m4.6-2.1h0m.4 .8h0m1.5 2.8h0m2.4-4h0m-4 26.9h0m2.7 2.7h0m-89.3 2.6h0m4.6-.6h0m.8 .8h0m14.5-.1h0m8.2 2.2h0m15.1 1h0m.6-1.7h0m2.9-3.2h0m.7 4h0m.8-2.6h0m3-1.1h0m5.8 2.6h0m3.2-.9h0m3.2 2.9h0m1.4 0h0m5.3-.2h0m9.1-2.3h0m3.2 .2h0m1.6-3.4h0m2.4 2.8h0m8.7 3h0m3.8-3.4h0m5 1.4h0m-104 5.4h0m6.4-.3h0m.8 2.4h0m3.8-2.8h0m.7-.8h0m4 .4h0m1.5 .3h0m.5-1.3h0m3.8 3.6h0m.9-1.2h0m7.7 1.1h0m7.8 1.2h0m6.2-5.8h0m5.7 2.9h0m2.4 .1h0m1.4 .5h0m1.7-2.2h0m.2 1.3h0m4.2 1.2h0m1.7-2.7h0m5.4-.6h0m9.2 4.6h0m2-.8h0m7.5-.9h0m7 .4h0m1.3-2h0m5.7 1.3h0m.4 2.2h0m.5-1.4h0m-94.9 3h0m4.5 3.4h0m1.9 .6h0m2.3-1.6h0m.8 .9h0m2.9-1.1h0m4.9-1.2h0m3.2 3.7h0m4.2-5h0m4.1 .8h0m5.7 .7h0m1.7 2.5h0m2.7-3h0m20.6 .9h0m2.6-.7h0m3.6 .6h0m1.3-2.2h0m.6 3.3h0m1.3-1.4h0m2.1 1.1h0m1.1 1.1h0m1.9 1h0m3.8-3.9h0m6.2 1.8h0m4.6 1.4h0m6.9-2.7h0m3.4-1.2h0m-89.6 7.6h0m6.1-2.1h0m3.1 4.1h0m8.7-4.2h0m1 3.1h0m6.4-.5h0m1.3-.1h0m4.6-.5h0m6.1 2h0m15.1-4h0m3 4.1h0m3 .7h0m4-4.9h0m3.9 4.6h0m3.5-.6h0m-69.7 2.1h0m4.7 2.7h0m16.9 1.8h0m3.4-2.4h0m4.2-1.4h0m8.2 3.8h0m19.4-.5h0m3.6-2.9h0m1-1.2h0m.5 5.8h0m2.6-1h0m5.1-1.8h0m.4-1h0m2.3-.3h0m3.2 1.9h0m1.3 .9h0m1.3-.6h0m15.3-1.6h0m-91.3 5.8h0m1.6 3.4h0m7.7-2.4h0m.6-.4h0m1.5-2.3h0m.6 4.1h0m1.1-.4h0m7.6-1.7h0m4.3 2h0m4-4.2h0m1 2.6h0m5.4 2.9h0m2.6-5.3h0m4.7 2.5h0m1.8-1.9h0m.2 1h0m2.4-.4h0m2.2 3.4h0m2.4-.5h0m.9-2.7h0m2.6 2.2h0m5-4h0m1 3.4h0m.3 1.4h0m1.5-3.4h0m1.2-1.2h0m.8-.1h0m1.8 2.9h0m2.3-1.6h0m5.7-.5h0m.1 3.6h0m2.4-3.3h0m14-1.1h0m-80.6 10.9h0m1.7-2.9h0m1.8-.7h0m2.1-1h0m6.8 4.9h0m9.3-3.6h0m10.2 2.9h0m1.4-1h0m.9 .3h0m1.4-3.9h0m7.4 4.1h0m4.9-3.2h0m16.2 4.5h0m1.6-1.1h0m2.2-1.2h0m1.3 2.7h0m1.7-5.3h0m2.9 3.4h0m-70.2 3.3h0m.7-1.1h0m56.1-.2h0m8.9 4h0m1-3.4h0m3.3 3h0m25.2 .7h0m-31.4 2.9h0m2.7-1.2h0m4.1 5.1h0m2.9 2.7h0m-2.3 5.1h0" stroke="#c4c4c4" stroke-width="1.1" stroke-linecap="round" fill="none" clip-path="url(#cb2)"/>
<path d="M271.7 248.3h0m-.7 6.5h0m-74.2 5.9h0m71.5-3.9h0m.3-.2h0m.5 4.3h0m.8-3.2h0m.3-.5h0m2.2 1.6h0m27.3-1.1h0m-101.6 7.2h0m.3 .4h0m64 1.5h0m5.2-5.5h0m2.6 4.8h0m1.9 .7h0m-80.4 .4h0m1.2 3.1h0m1.1-2.2h0m.4 .8h0m5.5 4.1h0m2.9-1.9h0m2.1 1.5h0m.4-.9h0m2.6 .6h0m3-.4h0m1.5 .4h0m38.7 .6h0m5.6-4.2h0m.3 3h0m2.7-3.3h0m.3 .4h0m2.9-1.7h0m1.7 3.9h0m7.2-1.2h0m3.3-.2h0m3.3 .1h0m15.4 2.2h0m-90.4 4.1h0m2.5-1.7h0m1 .3h0m2.8-.3h0m2-.4h0m1 2.5h0m0-3.3h0m.9 1.3h0m4 1.5h0m20.9-.4h0m1.7-1.8h0m2 .2h0m1 1.5h0m0 1.1h0m2.5 .4h0m.7 .6h0m5.9-1.8h0m.2 2.2h0m.4-1.2h0m1.1-2.5h0m2.8-1.2h0m2.5 2.2h0m17-1.8h0m2.3 3.5h0m17-2h0m.3-1.1h0m2.8 .8h0m6.7 1.2h0m0-.2h0m2.5-1.6h0m2 3.6h0m9-1h0m-101.2 3.2h0m2.9 4.3h0m18.3 0h0m.2-1.5h0m1.6 .8h0m.6-1.1h0m.4-2.1h0m1.3 .9h0m1.8 1.4h0m1.1 .3h0m3.6-.3h0m.1-3.1h0m1.6 1.8h0m1 2.7h0m24.5 1h0m1.1-5.9h0m.7 5.3h0m.1-4.4h0m.9 3.1h0m2.5-.3h0m2.8-1.3h0m.6 3h0m.5 .6h0m2.5-1.7h0m.8 1.5h0m1.1-5.7h0m1.1 0h0m1.8 5.6h0m9.9-5.5h0m4.7 .3h0m1.2 4.6h0m2.1-2.3h0m1 1.1h0m2.3-3.2h0m-102.2 8.4h0m6.1-1.8h0m2.1-.5h0m.9 .2h0m.5 3.4h0m1.8 .6h0m.1-1.5h0m.8-1.5h0m1.5 2.5h0m.5 1.4h0m2.9-.2h0m1.7-1.8h0m.3 2h0m8.3-5.3h0m9.4-.1h0m24.6 4.2h0m2.9-1.4h0m.7-.4h0m1.1-.4h0m3-2.4h0m.1 .9h0m.9-.8h0m.1 .9h0m3.4 .4h0m.8 3.5h0m1-1.4h0m1.7-.6h0m1.4-.1h0m.2-1.3h0m1 1.3h0m.6-.6h0m4.7-2.1h0m15.3 1h0m-91.6 5.9h0m3-.5h0m6.2 0h0m3.8 1.6h0m.1 2.7h0m.3-.7h0m16.9-2.7h0m1.5 4.5h0m5-1h0m1 .5h0m.9 0h0m.6-.6h0m.5-1.9h0m1.8 1.4h0m1.1 1.1h0m1.7-3h0m.6-.5h0m3.2-1.2h0m.2-.5h0m15.6 .5h0m-23.7 5.3h0m-82.4 33.7h0m15 .1h0m3.2 1.1h0m21.7 0h0m2.7 .3h0m.9-.1h0m1.8-3.3h0m.4 3.3h0m.8 .3h0m2.7-.7h0m1.4 .4h0m1.5-.1h0m27.1-3.7h0m.6-.9h0m.1 .4h0m.6 3.3h0m13.9 1.4h0m-96.8 2h0m1.4-1.5h0m1.6 2.2h0m3.6 .4h0m4.9 2h0m2.6-1.1h0m3.8-.3h0m3.7-1.1h0m1.4 .2h0m11.1 3.3h0m6.2-5.1h0m2.5 1.7h0m5.7 .2h0m.8-.6h0m1.8-1.4h0m1.7 .9h0m1 .9h0m2.6-1.3h0m.6 1.7h0m1-2.5h0m1.9 2.8h0m3.2-1.8h0m0 3.2h0m.3-.3h0m3.5 .1h0m7.8 1.2h0m7.2-2.6h0m8.3 2.4h0m3 0h0m1.4-2h0m4.3-.9h0m-94.7 5.1h0m3.3 0h0m.6 1.9h0m2-2.5h0m3.2-.5h0m.9 3.5h0m2.2-1.6h0m3-1.1h0m11.8 2.3h0m1.9-.4h0m3.3-1.4h0m2.1-.2h0m29.6-.4h0m1.7 2.3h0m.4 1.5h0m.5-.6h0m2-1.2h0m2.3 0h0m.8-2.5h0m.9 3.6h0m11.6-1.1h0m.9-1.8h0m3.4-1.2h0m-77.2 7.8h0m.5 1.8h0m.3-.6h0m7.3-2h0m4.3-.6h0m2.3 2.2h0m7.2-1.1h0m1.5 2.5h0m9.5 .4h0m17.6-3.9h0m3 3.1h0m2.2-2.1h0m1.6 3h0m.2-3.9h0m1.2 4.3h0m2.2 .9h0m-41.6 6h0m5.9-1.6h0m2-2.4h0m.8-.7h0m.2-.9h0m1.6 0h0m1.8 5.1h0m2.4-1.9h0m21.8-3.2h0m2.1 2.2h0m2.3 .2h0m0 3h0m.5-.4h0m.6-3.8h0m1.2 2.6h0m8 1.4h0m.3-.3h0m18.7-1.5h0m1.6 1.3h0m-88 4.8h0m3.3 1h0m1.1-.6h0m4-2.9h0m2-.4h0m3.7 4.8h0m2-4.2h0m3 0h0m7.8 2.4h0m4.8-1.3h0m1.2 3.2h0m2-.1h0m2.6-2.1h0m.7 1.5h0m8.2-.1h0m6.3-1.6h0m3.3-2.5h0m2 3.7h0m4-3.5h0m1.7 3.2h0m.1-2.6h0m1.1 .8h0m2.1-1.1h0m.8-.8h0m2-.3h0m1 3.1h0m-65.3 4h0m.4 0h0m1.9 .4h0m3.2 .9h0m1.3 3.4h0m1.9-4.1h0m23.5-1.3h0m3.1 2.1h0m.5-2.3h0m.7 3h0m3.1-3.2h0m3.2 0h0m1.3 2.7h0m4.1-2.9h0m18 5.5h0m2.5-1.9h0m2.5 2.1h0m-3.8 2.1h0m1.1-.4h0m.4 1.8h0m5.3-.8h0m24.3 2.2h0m-23.3 11.4h0" stroke="#cc1f2a" stroke-width="2.0" stroke-linecap="round" fill="none" clip-path="url(#cb2)"/>
<path d="M183.2 241h0m1 1.5h0m45.8-1.3h0m1.5 1h0m6.5-3.2h0m1.7 .3h0m18-1h0m0 3.4h0m1.3-2.1h0m.4 1.4h0m1.3 1.6h0m42.6-.6h0m-113.8 6.6h0m10.1-1.4h0m1.6-.8h0m35.5 .5h0m1.8-.2h0m20.8-3.1h0m6.5 1.1h0m1.1 1.4h0m1.4-2.9h0m0 3.9h0m.8-2.3h0m1 2.8h0m6.2-1.5h0m1.7 .5h0m5.6-1.2h0m.1-.5h0m1.5 1h0m.2-.7h0m16.3 1.1h0m.4 1.8h0m.8-4.4h0m-111.7 5.3h0m10.8 5.1h0m1.1-1.5h0m12.1 .6h0m1.8 .4h0m1.2-.5h0m.1 1.8h0m10.8-3.3h0m1.1-1.4h0m46.6 1.3h0m1.6-.8h0m-92.4 8.6h0m26.3 .6h0m2-1.4h0m1.4-1.1h0m26.6 2.1h0m1.6 .9h0m51.8-.3h0m2.6-2.8h0m1.8 .5h0m1-.2h0m1.8 .3h0m-117.3 3.1h0m8.8 4.3h0m.9 1.5h0m1.2-3.5h0m1.4 1.1h0m.3 1.6h0m15.3-4.7h0m47 1.9h0m1.5-1h0m24.3-.1h0m1.7-.5h0m7.6 .3h0m-116.1 8.4h0m1.4 1.1h0m16.9-3.7h0m8.9 .5h0m1.7 .5h0m.5 1.6h0m1.7-.7h0m12 2.3h0m12.7-1.5h0m1.8-.1h0m18.9-2.2h0m1 1.5h0m19.3 3h0m1.7-.6h0m2.1-1.3h0m1.7 .5h0m4.7-.2h0m1.1 1.4h0m6.4-1.6h0m1.6 .9h0m.9-1h0m.1 1.8h0m-114 5.5h0m.1-1.8h0m4.5 .6h0m.6 1.7h0m6.4-3.1h0m.4 1.8h0m28.8-3.7h0m12.5 2.2h0m.7 1.7h0m29 .5h0m5.9-.1h0m.6-1.7h0m-95.1 3.4h0m1.8 .1h0m45.9 1.4h0m1.2-1.3h0m40 0h0m5.7 3.3h0m.3-2h0m.3 3.6h0m.7-2.1h0m3.9 1.1h0m.1-1.7h0m2.4 1.8h0m1.3-1.3h0m-108.9 4.7h0m1.7-.6h0m25.4 3.1h0m.6-1.7h0m27.6 .3h0m.9-1.5h0m.8 2.4h0m.6-1.7h0m7.2-1.1h0m.5 1.7h0m17.4-.8h0m1.2 1.4h0m6.4-1.9h0m1.3 1.3h0m20.6 1.9h0m18.1-.5h0m1.6-.7h0m-124 4h0m.6 1.7h0m35.1 .7h0m.3-1.7h0m6.4 2.2h0m9.5 1.2h0m1-1.3h0m5-.9h0m1.5 1h0m5.3-.3h0m.6-1.7h0m7 1.4h0m1.6-.7h0m7.9-1.7h0m1.7 .6h0m4.5 2.9h0m2.5 .5h0m1-1.5h0m11.5-4h0m9.2 2.4h0m.6 1.7h0m7.5-1.7h0m0-1.8h0m-77.3 5.6h0m9.1 1.3h0m.6-1.3h0m34.7 .5h0m-89 28.7h0m.5-1.7h0m24.1 1.3h0m1.6-.8h0m14.2 .2h0m14.7-.9h0m1.4 1.1h0m19 1.2h0m63.5-1.3h0m-100.2 4.7h0m.7-1.6h0m1.9-1.7h0m11.6 2.7h0m.7-1.7h0m15 4.7h0m8-4.5h0m7.2 1.7h0m1.7-.3h0m35.2-.3h0m.5-1.1h0m1 .1h0m.7-.3h0m1.9 2.5h0m1.6 .8h0m13.1-4h0m-70 7h0m22.2 .8h0m1.8 .5h0m33.4 .4h0m1.1-1.5h0m2.9 2.7h0m.7-1.7h0m-121.4 8.5h0m5.3 .3h0m9-2.1h0m1.2-1.4h0m32.8 1.6h0m1.7-.6h0m.3-.6h0m.8 1.6h0m35-.4h0m1.1-1.4h0m4.8-.5h0m1.5-1h0m6.9 1.6h0m1.5-1h0m9.7 3.3h0m1.7 .6h0m-124 1.1h0m1.7 .7h0m7.8-.5h0m7.2 .7h0m10.9 3.3h0m2.2-3.2h0m1.7-.6h0m17.3 2.4h0m.4 1.8h0m11.8-2.6h0m1.2-1.3h0m45.1 1.2h0m1.7-.5h0m1.9 3.4h0m1.4-1h0m1.7 1h0m12.8-3.2h0m1.7-.5h0m10.4 2.3h0m1.7 .6h0m-112.9 2h0m12.9 5.3h0m1-1.5h0m2.2 2h0m.6-.1h0m6.6-.8h0m1.7 .6h0m3.3-2.5h0m1.7 .5h0m17.5 1.9h0m22.7-2.5h0m1.7-.7h0m7-.6h0m1.6 .8h0m1.9 2.7h0m.9 .2h0m1.6-5.4h0m.2 5.2h0m-114.6 5.9h0m.8-4.3h0m1.3 1.2h0m11.7 1.6h0m1.3-1.3h0m1.3 .6h0m.3-1.8h0m27.3-.4h0m.8 .3h0m6.3 .5h0m1.2-1.4h0m22.9 3.2h0m.3-2.9h0m.4 4.5h0m11.5 0h0m25.3-4.1h0m2.9-.2h0m.7 2.4h0m.5 1.8h0m.1-3h0m1 1.5h0m.1 1.8h0m.1-2.4h0m6.1 1.3h0m0-1.8h0m10.6 .1h0m1.8-.3h0m-135.9 4.8h0m15.9 5.2h0m12.2-.4h0m5.2-2.1h0m.4 1.8h0m6.6 .1h0m.4-3.3h0m1.4 1.4h0m.3-.7h0m.2-1h0m44.7-1.2h0m20.1 1.9h0m.9-1.5h0m.6 .9h0m.8 1.6h0m7.5-3.3h0m7.5 .6h0m1.5 1h0m3.3 .8h0m1.8 0h0m-125.6 8.9h0m.1-1.8h0m10.6-2h0m10-1.6h0m14.3 1h0m14.7 4.2h0m6.6-3.7h0m1.4 1.1h0m7.7 2h0m1.5 1.1h0m-60.5 2.6h0m1.7 .6h0m37.5 2.5h0m4-4.4h0m43.1-.2h0m1.6 .9h0m3.9 2.9h0m-54.1 1.8h0m2.7 2.3h0m.2-1.8h0m51.3-.5h0" stroke="#c8202a" stroke-width="1.75" stroke-linecap="round" fill="none" clip-path="url(#cb2)"/>
<path d="M268.4 252.4h0m-1.5 5.9h0m2.6 3.4h0m-62.1 9.7h0m51.1-.1h0m62.3 4.8h0m-43.7 3.7h0m-59.1 9.1h0m53.4 1.6h0m10.6-2.6h0m13.7-2.4h0m-24.5 9.1h0m-97.1 36.2h0m46.5-1.6h0m13 1.8h0m23.8 .4h0m-14.4 1.6h0m23.8 2.8h0m-67.5 14h0m58-.6h0m-42.1 4.2h0m34.9-.1h0m7.6-.6h0m-63.8 9.6h0m59.1-4.6h0m23.8 29h0m.7-4.2h0" stroke="#2b3aa5" stroke-width="2.1" stroke-linecap="round" fill="none" clip-path="url(#cb2)"/>
<path d="M327.5 299.1 L330.5 300.5 L333.6 300.6 L336.6 298.1 L339.7 298.8 L342.7 299.3 L345.8 298.4 L348.8 300.5 L351.9 300.4 L354.9 300.5 L358.0 299.1 L361.0 298.3 L364.1 299.9 L367.1 299.7 L370.2 298.6 L373.2 299.4 L376.3 299.7 L379.3 298.4 L382.4 298.1 L385.4 300.5 L388.5 299.3 L391.5 299.3 L394.6 299.5 L397.6 298.2 L400.7 298.8 L403.7 299.2 L406.8 299.9 L409.8 299.4 L412.8 299.9 L415.9 298.2 L418.9 298.3 L422.0 300.6 L425.0 298.7 L428.1 300.9 L431.1 298.5 L434.2 299.9 L437.2 299.4 L440.3 299.5 L443.3 300.0 L446.4 299.1 L449.4 298.3 L452.5 299.3 L455.5 300.1 L458.6 299.8 L461.6 298.0 L464.7 298.8 L467.7 300.4 L470.8 298.1 L473.8 298.5 L476.9 298.8 L479.9 299.8 L483.0 299.2 L486.0 300.1 L486.0 319.5 L483.0 321.9 L479.9 319.2 L476.9 321.8 L473.8 321.6 L470.8 320.6 L467.7 320.8 L464.7 319.3 L461.6 321.2 L458.6 319.7 L455.5 320.7 L452.5 321.4 L449.4 321.3 L446.4 322.0 L443.3 320.3 L440.3 320.4 L437.2 319.9 L434.2 320.6 L431.1 320.7 L428.1 320.1 L425.0 319.4 L422.0 321.3 L418.9 321.1 L415.9 319.4 L412.8 320.1 L409.8 319.7 L406.8 320.4 L403.7 321.4 L400.7 319.1 L397.6 321.4 L394.6 320.4 L391.5 320.5 L388.5 320.7 L385.4 319.7 L382.4 319.5 L379.3 321.6 L376.3 320.5 L373.2 319.2 L370.2 319.5 L367.1 320.2 L364.1 319.3 L361.0 321.9 L358.0 320.4 L354.9 319.5 L351.9 320.9 L348.8 320.5 L345.8 321.1 L342.7 320.8 L339.7 319.9 L336.6 321.9 L333.6 320.9 L330.5 319.6 L327.5 321.8 Z" fill="#55514f"/>
<path d="M401.9 301.1l-.3-2.2M447.4 299.6l.9 2M454.9 320.8l2.2 .1M444.3 299.9l2.2 .4M338.4 320.8l2.1 .8M330.7 300.8l.6 2.1M409.6 301.2l-2-.9M334.4 321.7l.6 2.1M438.9 320.8l-1.3 1.8M407.7 318.7l-2.2 0M351.8 319l-1.2 1.8M438.2 300.3l-.4-2.2M385 300.4l1.4-1.7M411.8 318.9l1.9-1.1M441.7 318.8l2.1 .6M369.7 300l2-.8M403.6 320.1l1.7 1.3M370.3 298.2l2 1M467.4 301.3l1.5-1.6M421 299.3l-1.8-1.2M339.7 300.7l1.8 1.2M461.9 320.2l1.8 1.3M463.7 320.5l-1.2-1.8M371.4 301.2l-.5-2.1M396.6 320.5l2.2-.3M346.7 299.9l-1.2-1.8M457.5 321.2l-1.6 1.5M353.8 299l1.2-1.8M441.4 321.6l1.9 1.1M458 321.1l-.2-2.2M421 320.4l-.8 2M383 301.5l1.2 1.8M413 299.1l.4 2.2M446.2 321.3l.5-2.1M460.2 299.7l-.7 2.1M364.2 321.7l1.5-1.6M341.4 300.7l.1 2.2M479.5 320.1l-1 2M438.5 320.3l-2.1-.6M339.3 300.6l-1.8 1.2M383.6 321l.1-2.2M482.1 319.4l2.2-.3M354.7 301l-1.7-1.4M422.9 300.6l.5-2.2M454 321.4l.6 2.1M453.7 298.6l-2.2-.2M408.6 318.5l-1 2M348.9 299.8l-1.8 1.2M406.3 318.8l-.2 2.2M378.6 321.8l.9 2M391.1 301.3l-.5-2.2M436.6 300.2l2.1 .5M446.5 321.7l2 .9M485.6 318.7l2.1 .6M464.9 299.4l1.3 1.7M395.8 318.9l-2.2-.2M415.2 301.3l.9 2M370.8 318.9l1.5 1.6M398.8 319.6l-1.8 1.2M436.7 319.5l-.3-2.2M356.3 300.8l1.1-1.9M422.6 319l-2.2 .3M438.9 299.5l2 .9M386.7 320.8l1.3 1.8M406.3 298.1l-.3 2.2M417.4 298.3l-2.2-.3M450.2 300.6l-2.1 .7M454.8 320.5l-.5 2.1M471.2 301.4l2.1-.5M454.8 299.4l-1.3-1.8M434 321.4l-.5 2.1M343.9 321.4l.2-2.2M443.9 301.4l-1 2M485.2 320.7l2-.9M388.4 320.3l-1 2M443.1 299.8l-2.2-.4M416.4 299.9l-2.2-.1M342.7 299.7l-2.1-.6M476.4 321.9l1.3-1.8M425.8 320.3l2.2 .2M483 320.2l2.1 .6M374.4 319.6l2 1M348.5 300.4l2 .9M485.2 319.7l-.8-2M432.7 300.5l0 2.2M449.3 300.8l1.9-1.1M370.9 301.2l-1.6 1.5M452.5 318.8l-2.2 .3M395.3 319l-.1-2.2M472.4 321.9l-1.7 1.4M410.9 320.8l1.6-1.6M396.7 299.9l.1-2.2M413.7 299.9l1.9 1.1M471.6 320.2l-2.2 0M388.7 298.9l-2.1-.6M398.2 319.3l-1.8-1.3M388.8 299.2l.4 2.2M428.8 298.5l-.2-2.2M426.5 320.7l1.5-1.6M363.2 298.9l.5-2.1M367.4 298.4l.6 2.1M357.1 321.7l-1.8-1.3M367.9 298.8l-.9-2M404.8 300.4l2.2 .2M407.4 319.2l-1.7 1.4M457.7 320.7l-2.1 .6M368 299.5l.1 2.2M419.7 299.1l-1.1-1.9M473.7 299.2l1.9-1.2M401.7 300l-.9 2M362.8 299.1l-1.4 1.7M329.4 321.3l-2 .9M430.1 320.9l-.9-2M408.4 298.9l-.9 2M363.8 300.2l1.7 1.4M485 318.7l-2 .9M463.1 320.5l-.8 2.1M471.2 319.6l.5 2.1M468.7 320.4l1.3 1.8M381.8 300.8l-2.1 .6M445.5 299.9l2.1-.7M366.7 320.6l-.5 2.1M450.8 320.9l1.9-1.2M433.6 298.5l0-2.2M373.9 298.5l2.2-.3M406 321l.5-2.1M428 300.1l-1.8 1.3M398.9 321.5l-1.9-1.2M332.5 300.5l-.3-2.2M430.2 300.7l-2.1-.6M383.4 320.4l2.1 .6M367.3 299.8l.1-2.2M475.4 301.4l1.8 1.2M349.4 298.2l1.9-1.1M364.8 321.2l1.3-1.8M367.5 321.4l-.8 2.1M428.4 299.4l1.5-1.6M434.8 319.1l1.6 1.5M427.2 321.7l-2.1 .6M369.3 320.8l-1.6-1.5M347.2 300.2l-1.5 1.6M474.3 299.6l-1.7-1.5" stroke="#5a5a5a" stroke-width="0.75" fill="none" stroke-linecap="round"/>
<path d="M336.5 301.3h0m1.5-1.4h0m7 1.9h0m10.3-1.7h0m10.6 .8h0m1.7 1.5h0m4.8-.7h0m15-1.8h0m8.5 1.9h0m2 .8h0m10-4.1h0m1.8 2.5h0m4.7 1.1h0m2.8-1.8h0m2.9-2h0m17.2 3.8h0m4.5-2h0m10 .3h0m15.6-1.6h0m3.5-.9h0m.9 2.5h0m9.7-.6h0m1 2.8h0m-153.8 5h0m.6 .5h0m3.4-3h0m1.4 3.5h0m1.7-.6h0m0-3.6h0m1.6 .7h0m3.2 3.3h0m0 .1h0m.9-2.7h0m2.4 3.1h0m.5-.6h0m.5-.9h0m.2 1h0m10.3-1h0m4.8-1.1h0m3.3 0h0m6-2.2h0m.6-.1h0m1.1 3.3h0m2.3 .8h0m.1-2.2h0m12.3-.4h0m1.8-.1h0m10.3 1.1h0m1.3 .9h0m.8 1h0m2.3-.4h0m1.2-1.8h0m.3 .2h0m4.1-1h0m2 2.1h0m.2 .8h0m1-4.7h0m1.1 4.4h0m.4-2.4h0m4.8 3.4h0m3.6-2.7h0m2.1-3.2h0m5.5 .8h0m2.4 4.3h0m2.3-3.7h0m.1-.5h0m.5 2.8h0m1.2-2.7h0m.5-.4h0m1.9 2.6h0m2.3-1.1h0m3.3 .5h0m.5 1.2h0m2.3-2h0m2.1 2.6h0m.4-1.1h0m2.2 1h0m1.8-.2h0m.8 1.3h0m1.3-1.7h0m1.2 .6h0m1-2.6h0m4.2-1.3h0m.4 4.9h0m2-.5h0m.3-2.6h0m0-1.2h0m2.8 4.4h0m4-.3h0m1.8-4.1h0m.6 3h0m3.5-2.7h0m1.2 1.4h0m1.7 1.1h0m1.7-.1h0m.5-2.3h0m2 3.1h0m2.7-2.3h0m-150.5 4.3h0m2.7 4.7h0m.8-1.7h0m.6-1.3h0m1.1 3.1h0m.2-3.8h0m.6-1.1h0m2.9 2h0m.5 1.8h0m.6 1.6h0m4.5-2.9h0m.4 2.6h0m1.6-.4h0m1.8-.9h0m6-2.3h0m.7-1.3h0m.8 5.2h0m1.3 0h0m.9-3.5h0m1 2.7h0m.4-4.2h0m0 2.8h0m2.6-3.1h0m2.1 0h0m1.7 2.3h0m2-.6h0m2.3 2.9h0m.3-1h0m1.5-3.5h0m.4 5.3h0m.3-4.6h0m2.2 2.3h0m1.7-1h0m.4 .4h0m2.3 .1h0m.8 1.3h0m.3-1h0m.6-1.5h0m.4-.3h0m3.5 1.6h0m2.7-2.7h0m.6 2.8h0m1.4 .9h0m.6-3h0m.8-1.3h0m1.7 .2h0m2.8 1h0m1.6-.1h0m3.1 3.6h0m0-2.9h0m.2 2h0m4.1-2.1h0m4.5 3.9h0m6.4-.8h0m1.4-4.1h0m.5 3.7h0m2.7 1.4h0m2.1-.1h0m6.2-3.3h0m.1 .6h0m4 1.1h0m2-2.2h0m0 .6h0m2.4 2.2h0m1.1-2h0m0 1.2h0m.4 .5h0m.3 .1h0m2.2-.9h0m2 2.3h0m.4-5.1h0m.4 5h0m.5-1.6h0m1.7-.2h0m.1-.7h0m3.3-.9h0m.9 1.4h0m.5-1.4h0m.8-1.4h0m.9-.2h0m.8 2.2h0m4.3-1.9h0m.5-.7h0m.6 5.1h0m4.8-5.2h0m.8 3.1h0m3-1.8h0m4.4-1.4h0m1.9 .5h0m2.2 3.6h0m.1-3.6h0m1 3.7h0m.9-4.1h0m-149.8 6.3h0m2.3 3.9h0m.1-2.9h0m.2 2h0m1.4-2.6h0m2.8 3.2h0m1-2.1h0m6 2.2h0m3.6-3.3h0m3.4 2.4h0m2.3-3.2h0m2.4 4.3h0m1.8-.2h0m1.6 1.1h0m.7-5.4h0m1.6 4.1h0m1.1-2.8h0m5 2.3h0m2.3-.6h0m7.5-.5h0m.4 .7h0m1.6-2.3h0m7.9 2.2h0m1.5-1.4h0m2.3 .1h0m2 3.9h0m.8-1.7h0m7.1 1h0m.7-2.9h0m8.8-.1h0m1.7 1.9h0m7.2-1h0m1.8-2.9h0m1.9 2.3h0m.3-1.7h0m6 1.5h0m1.7-1.1h0m3.1 1.1h0m10.3 1.4h0m3.4 1.9h0m1.5-3.5h0m3.8-1h0m.5 3.1h0m2.4-.9h0m8.9 2.4h0m1.3-5h0m3.4 3.7h0m3.9-3.8h0m2.4 1.8h0m3.6 1.2h0m-146.9 3.8h0m23.5-.5h0m13.6-.7h0m46.9 .6h0m23.9-.4h0m8.5 .2h0" stroke="#7c7872" stroke-width="3.0" stroke-linecap="round" fill="none"/>
<path d="M333.5 303h0m.9-5h0m16.6 3.9h0m0 .1h0m.4-2.4h0m13.8 2.7h0m1.9-1.6h0m1.6-.6h0m11.2 1.2h0m6.9 .1h0m4.9-1.5h0m7.1 2.3h0m8.1-4.7h0m.3 3.8h0m15-.3h0m7.6-2.3h0m1.5 3h0m7.1-3.6h0m1.4 4.5h0m1.8-3h0m.9-.9h0m.6 3.7h0m4-4.8h0m2.9 2.8h0m4.5-.6h0m15.3-.4h0m4.1 1.7h0m1.2-2.3h0m2.2-.5h0m.7 4.5h0m7.4-2.9h0m-156.8 7.9h0m2.7 1.1h0m1-5.4h0m3.5 4.4h0m.7-.6h0m2.7 1.7h0m.3-5.9h0m1.1 5.5h0m11.2-2.6h0m1.9 2.4h0m9.3-2.4h0m6.1 2.9h0m1.9-4.7h0m.2 1.1h0m.7-.6h0m.9 1.9h0m.5-1.5h0m.6-.2h0m2-.8h0m1.1 3.3h0m5-2.2h0m.5-1.2h0m1.8 .8h0m.5 1.8h0m2.9 .7h0m0-3.8h0m1.2 2.6h0m1.2 1.5h0m.1-2.2h0m2.1 1.6h0m1.3-1.1h0m.5 1.7h0m.3-1h0m2.5-.3h0m3.3 1.4h0m.6-3.2h0m2.7 4.1h0m.3-1.7h0m3.4 .3h0m.6-1.7h0m3.4 2.1h0m2.7-2.2h0m.2 .1h0m.2-1.2h0m.1-.1h0m2.7 2h0m1.8-1.1h0m10.8-.3h0m4.1-1.2h0m.2 3.1h0m2.5-1.8h0m1-1h0m.9 3.7h0m0-2.2h0m2.8 2.9h0m5.4-3.3h0m.1 2.7h0m2.1-3.1h0m2.8 3.4h0m.4-1.3h0m.9 1.2h0m3.3-1.9h0m.7 1.3h0m.5 1.4h0m.4-1.6h0m.4 1.6h0m.1-4.4h0m1 4.7h0m.5-5.1h0m.6 2.9h0m.5-3.1h0m.3 5.2h0m.5-4h0m.9 3.1h0m.8-3.1h0m4.4 1.7h0m2.4 .7h0m4.8-1.7h0m1.5 1.3h0m.1 1.9h0m.8-.1h0m2.7-4h0m1.2 1.8h0m.3 1.8h0m1.9-2.9h0m2-.6h0m-153.8 4.6h0m1.5 5.5h0m2-3.8h0m.6 .9h0m2.1 .2h0m.6-.1h0m6.3 .4h0m.8 2.1h0m.2-.7h0m1.5-3.4h0m1-1.1h0m3.1 3.3h0m2.9 .4h0m0 0h0m1.6 1.2h0m1.9-3.3h0m.1 3h0m2.5-2.5h0m2.1 1.9h0m.1-3.8h0m1.7 3.1h0m1.3-1.5h0m.5-1.2h0m2.8 .4h0m1.7 .1h0m.4 2.3h0m1-3.7h0m0 0h0m.2 1.5h0m2.6 1.1h0m2.4 2.6h0m1.6-2.3h0m.9-.1h0m.5-1.9h0m1.2-.3h0m1.1-.2h0m.5 3.3h0m3-3h0m.1 .4h0m3 2.1h0m6.2 0h0m5.5-2.9h0m.5 2.7h0m1.2-.3h0m.6 1.3h0m2.3-.3h0m2.8-.8h0m.6-2.8h0m.1 .4h0m1.2 1.7h0m.9-1.9h0m1-.3h0m1.3 2.7h0m10.2 .8h0m.2-.5h0m.2-1.4h0m2.7 1.1h0m.1-.7h0m5.2 1.5h0m1.4-2.3h0m1.3 .2h0m.5 3.6h0m.3-1.9h0m.8 2.4h0m.6-3.6h0m5.2 3.4h0m1-.3h0m2.4-1h0m.6-1.2h0m.6 3.1h0m1.3-.6h0m5.2-3.5h0m1.1 2h0m.9-2.1h0m7 .7h0m.2 1.5h0m1.3 .4h0m.2-3.4h0m.2 2.8h0m.6 .1h0m4.7-2.4h0m1.7-.2h0m1.2-.4h0m.2 2.4h0m2.2 0h0m.1-3h0m.4 3h0m1.4 .1h0m.5-1.8h0m.8 2.2h0m.3-3.4h0m.7 1.7h0m1.1 1h0m0 1.9h0m2.1-5h0m.4 .2h0m.7 5.1h0m-155 1.6h0m3 1.4h0m.8 2.9h0m3.3-1.2h0m4.8-1.3h0m1.2 1.1h0m6.4-1.8h0m1.6 3.8h0m2.9-1.1h0m2.7-4.2h0m7.3 2h0m.6-1.5h0m2.3 .4h0m.2 .5h0m1.2-.2h0m1.4-.8h0m.4 3h0m.5-.7h0m8.5-.2h0m2.7 2.4h0m.6-5.3h0m1.6 .7h0m.3 .2h0m7.8 2.5h0m1.4-1.2h0m.6-2.1h0m.7 4.3h0m.9-2.2h0m5.7-.5h0m.9 3.4h0m9.7-1.3h0m4-2h0m.2 .4h0m12.9 3.6h0m9-4.1h0m1-.4h0m2.8 3h0m.4-2.2h0m.9 2.5h0m2.9-4h0m4 .3h0m3.2-.3h0m4.1 3.4h0m7.5 .8h0m.7-3.6h0m3.6-.2h0m3.7 3.3h0m6.1-3.7h0m6.3 .7h0m-132.8 6h0m64.3-.2h0m65.3-.8h0" stroke="#454545" stroke-width="1.9" stroke-linecap="round" fill="none"/>
<path d="M339.4 299.8h0m15.5-1.7h0m15.7 4.8h0m8.5-3.3h0m13 1.7h0m2.7-.3h0m.6 .2h0m9.9 .5h0m23.9-.4h0m7.3-.8h0m32.1-.4h0m11.6 2.6h0m-152 .4h0m9 2.2h0m2.7 .8h0m2.5-1.7h0m.6 1.8h0m2.4 2.1h0m12.8 .6h0m8.4-1.3h0m5 1.3h0m9.6-4.2h0m1 3.2h0m3.4-.8h0m1.3 .6h0m2.4-3.1h0m1.5 .2h0m.1 4.1h0m3.7-2.8h0m4-2.7h0m.7 4.1h0m2.9 .2h0m.3-1.3h0m.1-.4h0m2.4 1.1h0m10.5 1.9h0m3.7-.8h0m1.2-1.5h0m1.7 0h0m13.9-1.1h0m4.4 2.2h0m.8-4h0m2.9 3.1h0m4.3-.3h0m7.3-1.4h0m3.8-.7h0m4.9 2.3h0m4.5 0h0m7.1-3.7h0m7.4 5.1h0m-153.9 2.8h0m.5 3h0m3-5h0m4.3 5.1h0m18.9-1.3h0m3 2h0m3.2-5.3h0m2.8 2h0m1.8 2.2h0m1.5-2.6h0m3.1 2.4h0m3.2-1.8h0m4.1-.1h0m.9 2.3h0m2.3-3.5h0m3.9 2h0m3.5-2.5h0m.5 2.1h0m.2 .5h0m4.8 2.4h0m.1-1h0m3.4-.4h0m3.2-2.9h0m.6 3.5h0m1.6 .3h0m1-1h0m.5-1h0m3.4 1.5h0m5.8-1.1h0m7.2-2.2h0m1.6 1.9h0m1.3-2.5h0m7.3 4.7h0m1.4-2.2h0m7.1-1.4h0m.2-1.1h0m5.6 1.4h0m5-.4h0m5 3.9h0m3.2-3.9h0m4.5 2.7h0m1-.4h0m2.2-.6h0m3.7-.3h0m.1-.8h0m2.5 1.2h0m8.3 2h0m1.2-3.7h0m.7 .9h0m-151.1 8.3h0m1.6 .4h0m22.3-3.9h0m25-1.7h0m20.9 2h0m.5-2h0m22.8 2.8h0m22.1 1.6h0m10.8-1.4h0m15.1-1.8h0m7-1.2h0m.9 5.1h0m-44.9 1.8h0m38.4 .1h0" stroke="#c4c4c4" stroke-width="1.1" stroke-linecap="round" fill="none"/>
<path d="M332.8 302.2h0m.5-1.6h0m3.7-1.3h0m1.2 1.6h0m4 1.7h0m1.5-3h0m4.5 2.1h0m6.8 .8h0m.1-.1h0m1.6-.9h0m9.6-2.9h0m3.7-.1h0m11 1.8h0m6.2 1.3h0m.8-2.6h0m3.1-1.3h0m.4 2.1h0m1.8 2.7h0m6.9-.9h0m3.5 1h0m.9-.2h0m3.8-.4h0m2-1.7h0m.2-1.1h0m2 2h0m4.2 1.8h0m4.3-1.5h0m14.8 .2h0m.5-1.7h0m2.9 1.4h0m3.3 .9h0m5.4-.5h0m1.2 .6h0m.8-.8h0m3.9-2.9h0m10.1 3.3h0m.5-2.6h0m.9-1h0m4.7 4.2h0m3.9-.6h0m7-1.2h0m1.1-.8h0m-153.3 9h0m2.6-2.5h0m2.2 .3h0m.1 1.1h0m1.8-3.4h0m1.8 4.4h0m.7-2.8h0m4 .7h0m4.3-2.9h0m3.1 3.4h0m2.1-3.8h0m.2 4.4h0m.1 0h0m2.9-4.8h0m.6 4h0m3.4 .9h0m1.3-2.3h0m1 .7h0m2.5 1.3h0m.5 .6h0m.1-1.9h0m1.1-2.3h0m.2 4.4h0m1.8-1.5h0m2.4 1.8h0m.3-2.3h0m2.2-.9h0m1.6 1.3h0m.3-2.4h0m1.8 1.7h0m1.2 1.6h0m3.5 1h0m1.8-2.8h0m1.4 .6h0m.2-2.9h0m.3 2.2h0m.3-1.2h0m1-.3h0m2.4 3.1h0m.2 .8h0m1-.2h0m.6-.5h0m0-.2h0m1.3-1.2h0m2.7-2h0m2.7 3.9h0m3.2-3.7h0m.2 4.2h0m2.1 0h0m.6-.8h0m1.4-1h0m0-.2h0m1-3.1h0m.9 4h0m5.3-.2h0m2.4-4h0m2.2 5.3h0m.1-3.2h0m.6 3.2h0m.4-1.7h0m1.1-2.2h0m3-.2h0m.6 1.9h0m1.5-1.2h0m2.6 2.1h0m6.1 1.4h0m.1-3.1h0m.5 0h0m.1-2.5h0m4.4 .3h0m.6 5.6h0m5.3-4.6h0m.7 4.3h0m2-.7h0m0-.6h0m.1 1.1h0m1.6-4.3h0m.6-.7h0m.9 3.3h0m1.3 1.6h0m1.3-2.2h0m.9 .4h0m2.6-.1h0m1 1.8h0m1.4-1.4h0m.5 .4h0m1.9 .6h0m.4-3.5h0m.5-1h0m0 4.6h0m2.7-4.5h0m.3 5.4h0m3-3.2h0m.8-.5h0m1.8 1.8h0m4.2 1.6h0m.2-4.5h0m.5-.1h0m.1 3.3h0m2.5-1.6h0m1.5 1.4h0m.4 1.3h0m.4-1.7h0m1.6 1.4h0m.5-1.1h0m1.9-2.7h0m1 .5h0m2.1 3.2h0m-157.8 2.6h0m1.2 4.3h0m.3-4.3h0m.4 3.1h0m.1-4.7h0m1.1 1.8h0m.2-.5h0m.4 3.1h0m3.1-.3h0m1.6-3.8h0m.3 4.3h0m1.2-1.9h0m.7-.7h0m.5 .2h0m1.5 3h0m1.5-.6h0m1.2-3h0m1.6 0h0m.2 2.2h0m2-1.5h0m.3 .9h0m.7-1.3h0m1.3 .6h0m.9-1.7h0m.2-.5h0m1.4 4.2h0m.1-.2h0m1.3-2.9h0m.1 .2h0m1.2-.6h0m.4-.9h0m1.3 2.5h0m.1 .5h0m.4-2.3h0m1.2 .4h0m.9 2.5h0m2.5-1.4h0m.1 3.6h0m.3-5.1h0m2.2 .5h0m.8 2.9h0m.4 .1h0m1.5-3.5h0m.6 2.7h0m3.1-.9h0m.8 2.2h0m1.2-2.5h0m.6 2.5h0m2.2 .7h0m.6-3.4h0m1.2-1.1h0m1.2 .1h0m2.1 2.9h0m.8-2.6h0m.4 1.2h0m.5 3.2h0m0-3.2h0m1 .1h0m.8 1.4h0m1.9-3.5h0m.2 1.2h0m0-.9h0m.5-.8h0m1.1 2.8h0m1 2.7h0m1.3-3.9h0m1.5 1.6h0m.6 .7h0m.7-2.9h0m1-.9h0m2.7 3.3h0m.1-3.1h0m1.9 3.7h0m.8-1.2h0m1.9 1h0m.4-3h0m2 3.2h0m.8 .6h0m0-.2h0m1-2.8h0m2-1h0m0 3.3h0m2.7-2.8h0m1.2-1h0m.7 3.1h0m1.1-2.3h0m5.5 2.8h0m.5-.9h0m3.3 .8h0m1.5-1.1h0m0 1.7h0m.7 1.4h0m.7 .3h0m.9-5.9h0m2.2 2.2h0m.5 2.9h0m2.8-3.7h0m0 .5h0m.6 3.9h0m4.8-1.6h0m.8 .3h0m.7-4.1h0m.6 2.1h0m.3 .5h0m2.3-1.7h0m2.8 3.5h0m1.5-1.2h0m.6 2.2h0m.4-2.8h0m.1 2.6h0m.4-5.7h0m1.1 2.1h0m.4 2.9h0m1.1 .4h0m5.6-3.5h0m1.8-.6h0m.9 2.9h0m.1-3.2h0m6.1 .4h0m2.8 1.5h0m.1 .2h0m2.5-1.5h0m.8 2.4h0m.1-3.7h0m.3 3.8h0m3.8-2.9h0m1.3 .8h0m.4-.3h0m1.2 .9h0m.3 .3h0m.4 2.1h0m.3-2.8h0m.9 1h0m3.1-2.2h0m1.1 0h0m1.1 2.9h0m.8-3.7h0m-158.1 7.5h0m.7 2.4h0m5.1-1.3h0m4 1.9h0m.7-1.8h0m6.4 1.3h0m1.8-1.8h0m8.6-2.2h0m3.2 4.9h0m.4-5.1h0m3.6 1h0m6.1 1.9h0m1.6 .2h0m1.4-2.6h0m2.1 2.9h0m1.2-2.6h0m2.8 2.5h0m1.7-2.6h0m.4-.2h0m2.5-.4h0m.6 5h0m1.1-3.3h0m2.8-.3h0m4.7-.7h0m.2 1.6h0m4.5-.7h0m3.3 1.1h0m.5 0h0m3.2-1.2h0m4.4 .1h0m1-1.3h0m0 .1h0m5.1-.5h0m2.2 2.8h0m1.9-2.1h0m.9-.7h0m1.8 3.2h0m4.3 .2h0m2.9-1.3h0m.2 3.6h0m5.7-3.3h0m2.1-.7h0m2.4 .3h0m3.7 4h0m1.9-5.8h0m.1 2.5h0m1.6 2.2h0m.2-4.2h0m1.4 2.7h0m1.2-2.5h0m.2 1.6h0m1.8 .6h0m.1-1.5h0m.4 3.1h0m2-3.9h0m0 .1h0m1.2 1.2h0m.2-1.1h0m4.7-.3h0m1.1 3.2h0m.7-.6h0m4.2 2.5h0m1.9-.3h0m6.4-2.9h0m2.9 2.5h0m1-.7h0m1.2 .6h0m5.8-4.6h0m1.4 .2h0m-102.9 5.9h0m59.1 0h0" stroke="#b01e28" stroke-width="2.1" stroke-linecap="round" fill="none"/>
<path d="M336 300.8h0m1.5-1.4h0m7 1.9h0m10.3-1.7h0m10.6 .8h0m1.7 1.5h0m4.8-.7h0m15-1.8h0m8.5 1.9h0m2 .8h0m10-4.1h0m1.8 2.5h0m4.7 1.1h0m2.8-1.8h0m2.9-2h0m3.1 4.8h0m14.1-1h0m4.5-2h0m10 .3h0m9.2 3.1h0m6.4-4.7h0m3.5-.9h0m.9 2.5h0m9.7-.6h0m1 2.8h0m-153.8 5h0m.6 .5h0m3.4-3h0m1.4 3.5h0m1.7-.6h0m0-3.6h0m1.6 .7h0m3.2 3.3h0m0 .1h0m.9-2.7h0m.2 3.7h0m2.2-.6h0m.5-.6h0m.5-.9h0m.2 1h0m10.3-1h0m4.8-1.1h0m3.3 0h0m6-2.2h0m.6-.1h0m1.1 3.3h0m2.3 .8h0m.1-2.2h0m12.3-.4h0m1.8-.1h0m8.9 3.6h0m1.4-2.5h0m.3 2.7h0m1-1.8h0m.8 1h0m2.3-.4h0m1.2-1.8h0m.3 .2h0m4.1-1h0m2 2.1h0m.2 .8h0m1-4.7h0m1.1 4.4h0m.4-2.4h0m4.8 3.4h0m3.6-2.7h0m7.6-2.4h0m2.4 4.3h0m2.3-3.7h0m.1-.5h0m.5 2.8h0m1.2-2.7h0m.5-.4h0m1.9 2.6h0m2.3-1.1h0m3.3 .5h0m.5 1.2h0m2.3-2h0m2.1 2.6h0m.4-1.1h0m2.2 1h0m1.8-.2h0m.8 1.3h0m1.3-1.7h0m1.2 .6h0m1-2.6h0m4.6 3.6h0m2-.5h0m.1 1.5h0m.2-4.1h0m0-1.2h0m2.8 4.4h0m2.4 .8h0m1.6-1.1h0m1.8-4.1h0m.6 3h0m3.5-2.7h0m.7 4.8h0m.5-3.4h0m1.7 1.1h0m1.7-.1h0m.5-2.3h0m1.7 4.8h0m.3-1.7h0m2.7-2.3h0m-150.5 4.3h0m2.7 4.7h0m.8-1.7h0m.6-1.3h0m1.1 3.1h0m.2-3.8h0m3.5 .9h0m.5 1.8h0m.6 1.6h0m4.5-2.9h0m.4 2.6h0m1.6-.4h0m1.8-.9h0m2.5 1.9h0m3.5-4.2h0m.7-1.3h0m.8 5.2h0m1.3 0h0m.2 .1h0m.7-3.6h0m1 2.7h0m.4-4.2h0m0 2.8h0m2.6-3.1h0m2.1 0h0m1.7 2.3h0m2-.6h0m2.3 2.9h0m.3-1h0m1.5-3.5h0m.4 5.3h0m.3-4.6h0m2.2 2.3h0m1.7-1h0m.4 .4h0m2.3 .1h0m.8 1.3h0m.3-1h0m.6-1.5h0m.4-.3h0m3.5 1.6h0m2.7-2.7h0m.6 2.8h0m1.4 .9h0m.6-3h0m5.3-.1h0m1.6-.1h0m3.1 3.6h0m0-2.9h0m.2 2h0m4.1-2.1h0m4.5 3.9h0m6.4-.8h0m1.4-4.1h0m.5 3.7h0m1.4 1.6h0m1.3-.2h0m2.1-.1h0m6.2-3.3h0m.1 .6h0m4 1.1h0m2-2.2h0m0 .6h0m2.4 2.2h0m1.1-2h0m0 1.2h0m.4 .5h0m.3 .1h0m2.2-.9h0m2 2.3h0m.4-5.1h0m.4 5h0m.5-1.6h0m1.7-.2h0m.1-.7h0m3.3-.9h0m.9 1.4h0m.5-1.4h0m.8-1.4h0m.9-.2h0m.8 2.2h0m4.3-1.9h0m1.1 4.4h0m5.6-2.1h0m3-1.8h0m4 4.8h0m2.3-5.7h0m2.2 3.6h0m.1-3.6h0m1 3.7h0m-148.9 2.2h0m2.3 3.9h0m.1-2.9h0m.2 2h0m1.4-2.6h0m2.8 3.2h0m1-2.1h0m6 2.2h0m3.6-3.3h0m3.4 2.4h0m4.7 1.1h0m1.8-.2h0m1.6 1.1h0m2.3-1.3h0m1.1-2.8h0m5 2.3h0m2.2 2.4h0m.1-3h0m7.5-.5h0m.4 .7h0m1.6-2.3h0m7.9 2.2h0m1.5-1.4h0m2.3 .1h0m2 3.9h0m.8-1.7h0m7.1 1h0m.7-2.9h0m8.8-.1h0m1.7 1.9h0m7.2-1h0m3.7-.6h0m.3-1.7h0m6 1.5h0m1.7-1.1h0m3.1 1.1h0m6.4 4.1h0m3.9-2.7h0m3.4 1.9h0m1.2 1h0m.3-4.5h0m3.8-1h0m.5 3.1h0m2.4-.9h0m8.9 2.4h0m1.3-5h0m3.4 3.7h0m6.3-2h0m3.6 1.2h0m-146.9 3.8h0m23.5-.5h0m60.5-.1h0" stroke="#d6d2ca" stroke-width="2.2" stroke-linecap="round" fill="none"/>
<path d="M349.1 249.2l-1.9 .7M351.4 247.4l-.3-2M349.6 247.8l-1.4-1.4M353.4 250.6l1.1-1.7M350.5 251.9l-2-.2M354.3 251.9l1.9 .8M350.9 248.8l.4 .7M351.3 249.6l1.2 2.3M355.6 252.3l1.5-1.3M352.6 253.4l-2-.3M355.3 254.9l.6 1.9M352.4 251.9l.9 1.5M353.3 253.4l1.2 .2M357.3 254.8l1.6 1.2M355.7 255.6l.2 2M355.6 252.6l-.6-1.9M354.5 253.6l1 .3M355.4 253.9l.2 .2M357.3 258.4l-1.5 1.4M360.3 257.4l1.8 1M357.7 255.8l-.2-2M355.6 254.1l1.8 1.3M357.5 255.4l.9 1.8M360.1 260.6l.8 1.8M358.3 260.2l-.9 1.8M357.7 258.8l-1.9-.6M358.4 257.2l.5 .4M358.9 257.6l.7 1.6M379.1 256.3l-.6 1.9M382.1 255.1l2 0M381 256.3l1.1 1.7M385.6 261l1.5 1.3M386 259.5l1.8-.8M383.8 261.5l-1.1 1.7M380.2 255l2.8 3.5M383 258.5l1.2 1.5M385.9 258.2l-1.3-1.5M389.3 259.7l1.9 .6M387.6 257.4l-.5-1.9M384.2 260l1.3-.7M385.4 259.3l2.2-.3M388.8 257.9l-1.6-1.2M392.1 257.9l2-.4M388.9 259.4l-1.7 1M387.6 258.9l2.3-.1M389.9 258.9l.6-.2M393.9 263.9l-1.8 .9M396.5 261.8l.9-1.8M394.7 261.4l-.9-1.8M390.5 258.7l2.2 2M392.7 260.6l2.5 2.2M397.5 266.4l1.1-1.7M396.3 268.8l.6 1.9M394.2 266.8l-1.9-.5M395.2 262.9l.6 3M395.8 265.8l.3 1.5M400.2 267.4l-.8-1.8M401.9 267.9l1.6-1.2M402.2 269.4l1.9 .8M396 267.3l2.1 .6M398.1 267.9l2.3 .9M402.3 269.2l-1.7 1.1M403.2 266.7l-.1-2M404.1 269.6l.4 2M400.5 268.9l2.4 .6M402.9 269.5l.7-1.3M406.4 266.5l.1 2M407.5 264.1l1.2-1.6M404.6 266.1l-1.7 1M403.6 268.2l.7-1.4M404.3 266.8l1.7-1.7M412.6 265l1.3 1.5M410.9 265.7l.5 1.9M411.1 262.7l.5-1.9M406.1 265.1l1.8-.6M407.9 264.5l3.1-.3M415.1 265.4l1.6 1.2M413.6 266.4l.8 1.8M411.4 264.5l-1.8-.8M411 264.2l1.5 .9M412.5 265.1l.7-.1M413.9 261.6l-1.2-1.6M416.2 264.1l1.6 1.3M415.8 261.5l.5-1.9M413.3 265l1.3-1.2M414.5 263.8l.5-.9M419.5 265.6l-.8 1.8M422.7 264.8l1.8 .8M421.4 265.9l.7 1.9M415 262.9l2.3-.1M417.4 262.8l3.4 1.7M410.2 279.7l-.2 2M412.7 278l2 0M412 279.4l1.6 1.2M416.4 275.7l0 2M416.9 273.1l1.4-1.4M413.8 274l-2-.3M410.8 278.2l1.5-1.3M412.3 277l3.4-2.7M418.7 277.2l-1.1 1.7M418.2 275.8l-1.9-.5M421.9 276.5l2 0M415.7 274.3l2.3 .8M418 275.1l2.1 1.1M421.4 280.5l-1.9 .5M424.7 279l1.4-1.4M424.7 280.5l1.4 1.4M420 276.1l1 .9M421 277l2 2.8M425.7 277.8l-2 .3M427.2 278.7l-.2 2M429 278.2l1.5 1.3M423 279.8l1.4-.9M424.5 278.9l3-1.7M432.8 278.8l.8 1.8M429.6 278.2l-1.6 1.2M431 279.2l.1 2M427.5 277.2l3 0M430.4 277.3l1 .5M433.2 283.1l-2-.4M436.5 283l2-.4M434.8 282.3l.5-1.9M431.5 277.8l1.5 2.3M433 280.1l1.8 3.7M439.9 273.4l-.1-2M440.4 276.4l.4 2M438.6 275.8l-1.6 1.2M443.9 279.7l-.8 1.8M443.8 277.1l-.7-1.9M445.8 279.6l1.5 1.3M440.2 274.9l2.8 1.4M442.9 276.3l1.9 2.1M448.5 280.3l1.6 1.2M449 278.9l1.8-.8M445.9 278.2l-1.7-1.1M444.8 278.4l1.6 .2M446.4 278.5l.8 .7M454.9 284l1.9-.7M454 285.3l.4 2M454 282.7l.6-1.9M447.2 279.2l3.6 2M450.8 281.2l2.3 2.7M455.7 286.9l-.2 2M458 285l2 .1M456.6 283.9l.9-1.8M453 284l1 .5M454 284.5l2.1 .9M459.6 284.5l.2-2M457.8 284.9l-1.7-1.1M458.6 287.4l-1 1.7M456.2 285.4l1.1-.7M457.2 284.7l1.9 1.3M467 292.5l2 0M466.3 293.9l.9 1.8M465.8 291.3l1.1-1.7M465.9 295.1l-1.8 .9M469.1 295.9l1.7 1.1M467.2 296.2l.2 2M465.1 292.7l1.3 1M466.4 293.7l1.4 1.1M343.7 292.1l.7 1.9M341.7 289.6l-.8-1.8M344.6 290.8l1.9 .6M348.1 294.2l1.4 1.5M345.9 291.8l-.5-1.9M347.8 291.6l.9-1.8M342.7 290.8l2.4 1.5M345.1 292.4l1.8 .6M349.5 291.6l-2 .4M350.2 293l-1 1.7M352.1 293.2l1.3 1.5M347 293l2.8-.6M349.7 292.4l1.7-.6M356.5 294.7l-1.4-1.4M358.4 294.8l.5-1.9M356.4 297.3l-.4 2M351.4 291.8l2.2 3M353.6 294.8l3.8 1.3M378.1 351.5l-2-.3M380.7 349.9l.2-2M381.2 352.5l.7 1.9M379.1 350.6l-1.4 1.5M381.8 348.5l1.7-1M380 348.1l-.8-1.8M380 351.3l-.3-1.9M379.7 349.4l.8 .1M384.8 350.4l.2-2M385.9 352.9l1.9 .7M386.3 351.4l1.9-.5M380.5 349.5l2 1.8M382.5 351.3l2 .5M387.3 360.3l2 .1M385 358.4l-.9-1.8M386.8 358.8l1.5-1.4M384.5 351.9l.5 3.7M384.9 355.6l.6 4.3M387.4 366.9l0-2M387.8 369.9l.7 1.9M389.1 367.5l1.4-1.4M385.5 359.9l1.9 3.6M387.4 363.5l.2 4.9M392.2 371.2l1.9 .7M389 370.7l-1.5 1.3M392.6 369.7l1.5-1.3M387.6 368.4l2.5 .2M390.1 368.6l.7 1.6M389.1 369.3l-2-.2M392.9 369.5l2 .3M389.9 370.7l-.9 1.8M390.8 370.2l-.1-1.4M390.7 368.8l.3 .6M394.7 366l-.2-2M394.7 369l-.6 1.9M396.4 368.3l2 .3M391 369.4l1.6-1.6M392.6 367.8l2.1-.3M397.4 370.1l.2 2M395.8 369.3l-1.7 1M395.8 367.8l-2-.4M394.7 367.5l1.7 .1M396.4 367.7l1 .9M400.3 355.8l1.5-1.3M400.5 357.3l1.9 .6M397.2 357.4l-1.9 .5M401 355.5l1.1-1.7M400.2 358.4l0 2M402 358l1.8 .8M398.8 356.6l.5 .2M399.3 356.8l1.3 .2M404.6 358.3l1.9-.6M400.9 358.6l-2 .4M401.7 357.3l-1.5-1.4M400.6 357l1.8 1.3M402.4 358.3l.3 .2M405.1 370.1l1.1 1.7M405.2 368.6l2-.2M403.3 370.7l0 2M405.7 369.8l-2 .2M406 368.3l-1.2-1.6M407.2 370.7l.4 2M403.5 369.2l1.9 .6M405.4 369.8l2.1-.5M406 361.7l-1.5-1.3M408.6 363.8l1 1.7M405.5 363.1l-1.8 .8M407.5 369.2l-.7-2.6M406.8 366.6l.5-3.9M409.3 349.1l.1-2M409.8 351.7l1.2 1.6M407.4 349.4l-1.5-1.3M410.1 353.9l-.9 1.8M413 352.6l1.9-.7M412 351.3l1.5-1.3M408.6 350.5l1.7 1.6M410.3 352.1l.7 .5M413.6 346.6l.3-2M415 347.7l2-.3M411.8 347l-1.2-1.6M411.1 352.6l.4-1.5M411.5 351.1l1.6-3M415.3 340.8l-1.4-1.4M417 340.3l.2-2M418.5 341.2l1.6-1.2M413.1 348.1l2-2.8M415.1 345.3l1.6-3.5M420.9 346.6l.8 1.8M418.4 344.3l-1.1-1.7M420.2 344l.2-2M416.7 341.7l2.4 1.1M419.2 342.8l.5 2.6M385 335.5l-1.2-1.6M384.4 336.9l-2-.2M388.1 336.2l2-.3M388.4 336.5l-1.9-.5M392 337.3l1.9 .7M389.7 335.4l-.5-1.9M386.3 336.6l1.3 .2M387.6 336.8l2.6 .1M390.3 340.6l-1.9 .7M393.6 340.6l1.7 1M391.9 341.3l.1 2M390.2 336.9l0 1.2M390.2 338l1.7 1.8M397.8 347.9l1.5 1.3M397.4 346.4l1.8-.8M394.2 346.9l-2 0M391.9 339.8l1.3 4.2M393.2 344l2.8 3.4M398.2 352.9l-1.2 1.6M398.7 350.3l-.3-2M400 353.1l.4 2M396 347.4l1.6 1.8M397.6 349.2l1.8 2.5M399.6 353.2l-2-.1M400.2 351.8l-1.7-1.1M402.7 354.1l.7 1.9M399.4 351.7l.7 1.3M400.1 353l1.4-.1M473.1 366l1.7 1M471.9 367.2l.1 2M472.3 364.6l1.6-1.2M472.2 365.6l-2 0M474.6 367.3l.5 1.9M475.9 366.2l2 .1M471.2 365.8l1-.4M472.1 365.4l1.9 .5M478.9 367.6l1.5 1.3M475.6 367.8l-1.6 1.2M477.3 368.4l.1 2M474 365.9l1.2-.1M475.2 365.8l2 1.2M395.8 290.2l1.4-.6M409 289.3l-1.3 1.5M407.7 290.8l-.6 1.9M407.2 292.7l-.6 1.9M406.6 294.7l-.4 2M406.2 296.6l1 1.7M407.3 298.4l1.9 .6M476.2 263.4l-1.7-1M408.1 281.6l.4-1.6M408.1 281.6l1.1 1.1M372.4 247.8l1.9-.6M470 251.8l-1.1 1.7M468.9 253.5l-1.7 1.1M467.2 254.6l-.9 1.8M466.3 256.4l-.4 2M465.9 258.4l.9 1.8M466.8 260.2l1.8 .9M450.1 289.5l1.8-1M451.8 288.5l1.9 .7M453.7 289.2l1.9 .6M455.6 289.8l1.9 .5M402 287.2l1.2 1.1M402 287.2l-1.5 .5M334.8 252.6l-2 .1M332.8 252.7l-1.8-.8M331 251.9l-1.6-1.2M329.4 250.7l-1.7-1M333.1 260l-1.4 1.4M393.9 258.8l-2-.4M392 258.4l-1.5-1.4M390.5 257l-1.2-1.6M389.3 255.5l-.2-2M359.9 266.3l-.9-1.3M359.9 266.3l1.6-.1M381.1 241.5l-2-.3M379.1 241.2l-1.1-1.7M378 239.6l-.3-2M377.6 237.6l-1.5-1.4M376.2 236.2l-.8-1.8M375.4 234.4l.4-2M406.4 254.3l-1.6 1.2M424.7 241.9l1.3-1M424.7 241.9l.2 1.6M467.9 273.7l-2-.2M465.9 273.5l-1.8-.9M464.2 272.6l-1.9-.5M389 240.6l.6 1.9M389.7 242.5l-.8 1.8M388.9 244.3l-1.5 1.4M387.4 245.7l-1.5 1.3M385.9 247l-1.7 1M477.3 252.4l1.1-1.6M377.3 276.6l2-.2M379.3 276.4l2 0M381.3 276.5l2 .1M373.5 281.9l1.8 .8M472.8 274.9l1.4-.8M472.8 274.9l0 1.6M358.2 281.5l.3 2M358.5 283.4l1.4 1.4M359.9 284.9l1.7 1.1M361.6 286l1.6 1.2M363.2 287.1l1.4 1.4M469.2 295.2l-.3-1.6M469.2 295.2l1.5 .6M439.2 261.9l-1.5 1.3M437.7 263.2l-1.6 1.2M436 264.4l-.3 2M355.4 289.6l1.4 .7M355.4 289.6l-1.3 .9M359.1 239.6l1 1.1M422.8 244.4l1.1-1.2M422.8 244.4l.5 1.5M460.6 243.7l1.3-.9M460.6 243.7l.1 1.6M441.2 271l1.7-1M398.1 255.8l2 .1M350.3 282l1 1.7M351.3 283.7l.9 1.8M352.1 285.5l1.6 1.2M353.7 286.7l2-.1M355.7 286.6l1.8-.8M456.2 253.9l2 .1M458.2 254l2 0M460.2 254l1.7 1.1M461.9 255.1l1.7 1.1M479 269.9l-1.6 1.1M477.4 271.1l-1.7 1.1M475.7 272.2l-2-.3M473.7 271.9l-2-.4M471.8 271.6l-1.9-.7M477.8 283.4l1.5 1.4M479.3 284.7l2-.1M481.3 284.7l1.7-1.1M483 283.6l1-1.7M483.9 281.8l-.3-2M483.6 279.9l-1.4-1.4M381.5 290.1l-1.7-1M379.8 289.2l-1.9 .7M377.9 289.8l-1.7 1M376.2 290.9l-2 .3M374.2 291.2l-1.7-1.1M372.6 290.1l-2-.3M412.4 340.8l-1.4-.7M412.4 340.8l1.3-.9M441.1 361.4l-.8-1.8M367.5 341.9l-1.6 1.2M450.8 347.3l-.8 1.8M450 349.1l-1.5 1.3M448.5 350.4l-1.1 1.7M340.6 352.4l1.7-1.1M415.2 357.8l-.5-1.9M414.7 355.9l.7-1.9M415.4 354l1.7-1M411.4 357.4l.4 2M411.9 359.3l1 1.7M412.9 361.1l2 .4M414.8 361.5l1.7 1M349.9 376.7l-1.5-.3M363 347.3l-1 1.2M363 347.3l-.5-1.5M369.7 376.4l-1.1 1.7M368.6 378.1l-1.5 1.4M367.2 379.4l-2 0M365.2 379.5l-2 .3M378.6 335.8l.1-1.6M378.6 335.8l1.3 .9M398.3 334.5l.7 1.3M345.8 348.8l1.8-.8M424 332.2l.6-1.9M451.5 359.3l0 1.6M451.5 359.3l-1.4-.8M404.7 356.1l.1-1.6M404.7 356.1l1.4 .9M413.9 334.5l-1.5 .4M413.9 334.5l.4-1.5M405.3 353.8l-1.1-1.1M405.3 353.8l1.5-.4M388.9 338.8l-.9-1.8M388.1 337l-1.7-1.1M386.4 335.9l-1.6-1.2M384.8 334.7l-.8-1.8M392.7 328.3l-1.3 1.5M391.4 329.8l-1 1.7M390.4 331.5l-1.1 1.6M389.2 333.1l-.4 2M388.8 335.1l-1.5 1.3M377.2 368.9l2 .2M427.4 326.8l1.5 .3M360.2 348.9l-1.2-1.6M434.9 375.5l-1.5-1.3M433.3 374.2l-.1-2M433.3 372.2l-1-1.7M432.2 370.5l-2-.3M430.3 370.2l-1.8 .8M378 369.1l-1.9 .6M376.1 369.7l-2 .3M374.1 370l-1.7 1M372.4 371l-.4 2M372 372.9l-.7 1.9M371.3 374.8l-1.8 .8M474.4 334.3l1.4-1.4M475.8 332.9l0-2M475.7 330.9l1-1.7M476.7 329.1l-.5-1.9M450.5 328.1l.8 1.8M477.2 362.3l-1-1.7M434.7 381.2l1.2 1.6M435.9 382.8l1.6 1.2M437.5 384.1l1.5 1.3M439 385.4l.5 1.9M439.5 387.3l1.8 .9M407.3 374.6l-1.5-1.4M405.8 373.2l-2-.2M403.9 373.1l-2 .2M393.9 335.2l.5 1.9M394.4 337.1l.8 1.8M395.2 338.9l1.9 .6M397.1 339.5l.7 1.9M397.8 341.4l-.5 1.9M397.3 343.3l-.9 1.8M406.7 357.2l-1.9-.5M364.1 333.5l.1-2M454.9 338.1l1.9-.6M370.5 371.9l.5-1.4M419.9 350.6l-2-.4M417.9 350.2l-1.9 .5M416 350.6l-2-.3M414 350.4l-1.9-.6M412.1 349.8l-.9-1.8M357.4 363.4l1.8-.9M359.1 362.4l2 .1M361.1 362.5l2-.4M363.1 362.1l2-.4M352.2 249.9l-1.8 .4-1.3-1.1 .5-1.4 1.8-.4 1.3 1zM354.3 251.9l-.9 1.3-1.9 0-1-1.3 1-1.3 1.9 0zM356.4 253.7l-1.1 1.2-1.9-.1-.8-1.4 1.1-1.2 1.9 .1zM355.7 255.6l-1.7-.7 0-1.5 1.6-.8 1.7 .7 0 1.5zM357.3 258.4l-.8-1.4 1.2-1.2 1.8 .2 .8 1.4-1.1 1.2zM360.1 260.6l-1.8-.4-.6-1.4 1.3-1.1 1.9 .4 .5 1.4zM379.1 256.3l-.8-1.4 1-1.2 1.9 .1 .9 1.3-1.1 1.2zM383.8 261.5l-1.4-1 .4-1.5 1.8-.5 1.4 1-.4 1.5zM387.6 260.4l-1.6-.7-.1-1.5 1.7-.8 1.6 .8 .1 1.5zM388.9 259.4l-.1-1.5 1.6-.7 1.7 .7 .1 1.5-1.6 .8zM395.7 264.3l-1.8-.4-.6-1.4 1.4-1.1 1.8 .4 .5 1.4zM396.3 268.8l-1.8-.5-.3-1.5 1.5-1 1.8 .6 .3 1.4zM400.8 270.3l-1.8-.5-.3-1.5 1.5-.9 1.7 .5 .3 1.5zM404.1 269.6l-1.8-.4-.5-1.4 1.4-1.1 1.8 .4 .4 1.5zM407.9 265.5l-1.5 1-1.8-.4-.3-1.5 1.4-1 1.8 .5zM412.6 265l-1.7 .7-1.6-.8 .1-1.5 1.7-.7 1.6 .8zM411.8 266l-.4-1.5 1.5-1 1.8 .5 .4 1.4-1.5 1zM413.2 263l.7-1.4 1.9-.1 1.1 1.2-.7 1.4-1.9 .1zM421.4 265.9l-1.9-.3-.6-1.5 1.3-1.1 1.9 .4 .6 1.4zM412 279.4l-1.8 .3-1.3-1.2 .7-1.4 1.8-.3 1.3 1.2zM417.6 274.5l-1.2 1.2-1.9-.3-.7-1.4 1.2-1.1 1.9 .2zM420.5 277.6l-1.8-.4-.5-1.4 1.4-1.1 1.8 .4 .5 1.4zM424.7 280.5l-1.7 .8-1.6-.8 0-1.5 1.7-.7 1.6 .7zM429 278.2l-1.8 .5-1.5-.9 .3-1.5 1.7-.6 1.5 1zM432.8 278.8l-1.8 .4-1.4-1 .5-1.5 1.8-.4 1.4 1.1zM434.8 285.3l-1.6-.7 0-1.5 1.6-.8 1.7 .7 0 1.5zM438.6 275.8l-.2-1.5 1.5-.9 1.8 .6 .2 1.5-1.5 .9zM445.8 279.6l-1.9 .1-1-1.3 .9-1.3 1.9-.1 1 1.3zM446.6 280.7l-1.3-1.1 .6-1.4 1.8-.4 1.3 1.1-.5 1.4zM454 285.3l-1.9-.1-1-1.3 1-1.3 1.9 .1 .9 1.3zM454.3 285.9l.5-1.5 1.8-.5 1.4 1.1-.5 1.4-1.8 .5zM457.3 286.4l.5-1.5 1.8-.4 1.4 1.1-.5 1.5-1.9 .3zM463.2 292.9l.8-1.4 1.8-.2 1.2 1.2-.7 1.4-1.9 .2zM465.9 295.1l.6-1.4 1.9-.3 1.3 1.1-.6 1.4-1.9 .3zM340.8 290.9l.9-1.3 1.9-.1 1 1.3-.9 1.3-1.9 .1zM345.1 293.1l.8-1.3 1.9-.2 1.1 1.3-.8 1.3-1.9 .2zM352.1 293.2l-1.9-.2-.7-1.4 1.2-1.2 1.9 .3 .7 1.4zM359.3 296.1l-1 1.3-1.9-.1-.9-1.3 1-1.3 1.9 .1zM381.2 352.5l-1.9 .2-1.2-1.2 .8-1.4 1.8-.2 1.2 1.2zM379.1 350.6l-.5-1.5 1.4-1 1.8 .4 .5 1.4-1.4 1.1zM382.7 352.4l.3-1.5 1.8-.5 1.5 1-.4 1.5-1.8 .5zM386 361.3l-1.8-.3-.5-1.5 1.3-1.1 1.8 .4 .5 1.5zM386.1 369.3l-.3-1.5 1.6-.9 1.7 .6 .2 1.5-1.5 .9zM390.4 371.7l-1.4-1 .3-1.5 1.8-.5 1.5 1-.4 1.5zM391.8 370.7l-1.9 0-.8-1.4 1-1.2 1.9 .1 .9 1.3zM396.4 368.3l-1.7 .7-1.6-.7 0-1.5 1.6-.8 1.7 .8zM395.8 369.3l0-1.5 1.7-.7 1.6 .8-.1 1.5-1.6 .7zM400.5 357.3l-1.6 .8-1.7-.7-.1-1.5 1.5-.8 1.7 .7zM398.8 357.4l.4-1.5 1.8-.4 1.4 1-.4 1.5-1.8 .4zM402 359.8l-1.1-1.2 .8-1.3 1.8-.2 1.1 1.2-.7 1.4zM405.1 370.1l-1.8 .6-1.5-.9 .2-1.5 1.7-.6 1.5 .9zM408.9 370.2l-1.7 .5-1.5-.9 .3-1.5 1.8-.5 1.5 .9zM406.8 364.2l-1.3-1.1 .5-1.4 1.8-.4 1.3 1.1-.5 1.4zM407.9 351.9l-1.2-1.1 .7-1.4 1.9-.3 1.2 1.2-.7 1.4zM413 352.6l-1 1.3-1.9 0-.9-1.3 .9-1.3 1.9 0zM414.5 349.1l-1.9 .4-1.3-1.1 .5-1.4 1.8-.4 1.4 1.1zM418.2 342.7l-1.7 .5-1.5-.9 .3-1.5 1.7-.5 1.5 .9zM419 346.8l-1.3-1.1 .7-1.4 1.8-.3 1.3 1.1-.6 1.5zM387.6 337.7l-1.9 .3-1.3-1.1 .6-1.4 1.8-.4 1.3 1.1zM390.6 338.3l-1.8-.4-.4-1.4 1.3-1.1 1.9 .4 .4 1.5zM391.9 341.3l-1.6-.7 0-1.5 1.6-.8 1.7 .8 0 1.5zM396.4 348.9l-1.8-.5-.4-1.5 1.4-1 1.8 .5 .4 1.5zM401.3 352l-1.3 1.1-1.8-.2-.7-1.4 1.2-1.2 1.9 .3zM402.7 354.1l-1.9 .3-1.2-1.2 .6-1.4 1.9-.3 1.2 1.2zM471.9 367.2l-1.9-.2-.7-1.4 1.2-1.2 1.8 .2 .8 1.4zM475.9 366.2l-1.3 1.1-1.9-.3-.5-1.4 1.2-1.1 1.9 .3zM475.6 367.8l-.1-1.5 1.5-.9 1.7 .7 .2 1.5-1.6 .8z" stroke="#5a5a5a" stroke-width="0.75" fill="none" stroke-linecap="round" clip-path="url(#cb3)"/>
<path d="M375.4 234.4h0m.8 1.8h0m2.9 5h0m-29.5 6.6h0m1.5-2.4h0m1.6 3h0m19.7-.6h0m15-2.1h0m-59.7 4h0m1.7 1h0m3.4 2h0m15.7-1.1h0m.6-2.4h0m1.3 1.1h0m.1 1.6h0m.1 1.2h0m.9 .1h0m0-2.6h0m.7-.7h0m.4 3.5h0m.8-.2h0m0-2.6h0m.3 1.6h0m.3 1.2h0m0 1.5h0m1-4.2h0m.3 4.2h0m.3-2.6h0m.8 1.4h0m.9-.4h0m0 1.5h0m22-1.1h0m1.9 .1h0m7.9-.3h0m17.3 .8h0m51.8-.3h0m2 0h0m7 .6h0m1.7-1.1h0m8.4-1.1h0m-144.2 7.6h0m22.6-4.4h0m.1 2h0m.1-.8h0m.6 .2h0m.8 1.4h0m.4-2.6h0m0 3h0m.6 1.4h0m.9-1.6h0m.3-2.6h0m.6 4.6h0m.2-3.2h0m.6 .7h0m.5 1.4h0m.6-1.2h0m17.1-2h0m1.9 0h0m1.1-1.2h0m0 2.9h0m.3 2.5h0m.4-1.5h0m1.8-.5h0m1 2.5h0m.3-2.8h0m.1 1.5h0m0-.2h0m1.1-4h0m.1 1.3h0m.4 .6h0m0 3h0m1.2-2.5h0m.1 1.5h0m.3-1.2h0m.1 1.5h0m0-4.2h0m1.1 1.7h0m.1-.2h0m.1 3.2h0m.6 .1h0m.8-1.9h0m.1-.5h0m.1 1.5h0m1.5 .2h0m.4-2.1h0m4-1.7h0m13.5 4.9h0m1.1-.7h0m49.2-4.9h0m1.7 1h0m2.3 2.3h0m.4-2h0m.5 3.8h0m-105.9 2.2h0m21.8 .7h0m1.1-1.6h0m3.3 .8h0m5 2.6h0m.2 1.3h0m1.6-2.3h0m.3 2.9h0m.5-5.4h0m1 2.9h0m0 1.5h0m.8-4h0m.5 1.4h0m.5 3.2h0m5.5-1.7h0m.2 2h0m.3 0h0m.8-2.1h0m.3 1.5h0m1.8 .4h0m1.1-2.4h0m.4 1.4h0m.8-3h0m.6 2.4h0m.1-1.5h0m1.5 2.3h0m.9 .3h0m.8-1h0m.1-1.5h0m.2 0h0m.3-.5h0m.4 3.4h0m.3-4.8h0m.4 2.6h0m.4-.2h0m.4 1.4h0m1.1-1.3h0m.4 2.6h0m.3-4h0m2 1.4h0m.6 1.5h0m1.9 .3h0m.7-2.5h0m.6 1.4h0m1.8 .8h0m44-4.5h0m7.7 2.3h0m-81.7 4.9h0m2.4 2.4h0m.9-2.9h0m.9 .5h0m.3 1.5h0m1.2-2.4h0m.4 2.9h0m.2 0h0m1-2.5h0m.1 .1h0m.4 1.3h0m1.8 .4h0m0 .5h0m1.3-1.5h0m1.2-.1h0m7.9-.3h0m.5 4.7h0m24.8-1.5h0m1.4-.4h0m21 1h0m9.6-.4h0m1.9 .3h0m2 .3h0m1.7-1.1h0m-98.1 5.3h0m2 .1h0m27.6 2h0m.7-1.4h0m1.8-.3h0m1.3 1.2h0m1.1-4h0m.7 1.4h0m.2 2.6h0m1.7-2.3h0m.5-2.6h0m.7 1.4h0m0 4.4h0m.6-3.1h0m.5 1.4h0m.9-2.5h0m.9 2.9h0m.9-2.5h0m1.7 3.2h0m.6-.2h0m.2-1.5h0m1.8 1.2h0m.3-1.5h0m1.2 2.4h0m.5-3h0m1.3 2.5h0m.2-1.5h0m.4 1.5h0m.5-1.5h0m1.8-.4h0m.9 2.5h0m5.6-4.5h0m.2 1.5h0m1.3-2.4h0m.5 3h0m.4 1.9h0m.9-4.3h0m1.2 4.4h0m.9-1.3h0m.4 0h0m1.5-.1h0m1 1.3h0m1-.5h0m1.3 1.1h0m16.9-5.4h0m16.3 4.9h0m-130.9 5.3h0m7.2-.3h0m1.4 1.5h0m13.6-3h0m36.7-2.2h0m1.8-.3h0m7.4 1.6h0m2-.5h0m0-1.5h0m1.6 2.3h0m1.7-.8h0m0-1.5h0m3.3 .4h0m3-.2h0m.1 2h0m.1 1.5h0m2 .4h0m0 1.5h0m.5-4h0m1.1 1.7h0m.5-1.9h0m1.2 2.6h0m1.9-.3h0m5.5-3h0m1.4-.1h0m.5 0h0m.8 1.1h0m.7 .3h0m1.2-.7h0m1.6 1.2h0m1 2.4h0m1-1.3h0m2.7 1.8h0m.1-.4h0m1.2-.2h0m.5 .1h0m.2-.6h0m.6-1.2h0m.4 2.8h0m.2 .1h0m1.6-.5h0m.2-2h0m19.5 2.2h0m3.7-1.1h0m-142.2 7.3h0m.9-1.3h0m1.9-.1h0m1.8 .3h0m5.3 .6h0m1.4-4.9h0m.5 5.2h0m1.1-4h0m2-.1h0m1.9-.8h0m5.6 1.3h0m1.4 1.5h0m6 1.2h0m2 .3h0m5.3-.3h0m29.8 1h0m27.1-5.5h0m17 3.2h0m.3-3.3h0m1.9 .1h0m.3 .6h0m1.2 3h0m.1 .9h0m.1-2.9h0m1.6-.5h0m.2 0h0m0 4h0m.2-1.2h0m.9-1.8h0m1.9-.3h0m-118.7 5.1h0m1.9-.1h0m1.4 1h0m.8-1.3h0m1.9-.2h0m.3 2.6h0m.8-1.3h0m.5 2.8h0m.1-4.1h0m.7 1.4h0m1.9 .2h0m1.3 1.5h0m1.6-1.4h0m.5 2.7h0m1-1.3h0m1.9 .1h0m.9 1.3h0m46.9 .5h0m.4-1.9h0m57.4-3.2h0m.4 2.6h0m1.4-2.8h0m.1 3.8h0m.4-1.2h0m.2-.2h0m.5-1.2h0m.2 3.7h0m1.9-.3h0m.6-1.4h0m-113.7 4.8h0m.4-2h0m1.9 .1h0m50.9 1.5h0m58.2-.7h0m-43.4 34h0m26.5-4.1h0m26.2 1h0m-112.6 4.4h0m20.3 3.4h0m.4-2.2h0m.2 .8h0m.7 2.5h0m.7-2.1h0m.4-.8h0m.8 2.6h0m.5-.7h0m0-.8h0m.3 .3h0m.4-1.4h0m0 2.8h0m.4-4.8h0m.5 2.3h0m.4 .6h0m.5 2.3h0m1-2.5h0m.3 2.5h0m2.5-1.2h0m60.5 1h0m-87.4 3.8h0m20.9-.6h0m1.9-2.2h0m0 1.5h0m1.6 .7h0m1.7-2.2h0m3.5 .4h0m.2 3.8h0m.5-1.9h0m16.1-2h0m0 5.2h0m1.1-2.3h0m.3-1.5h0m1.2 2.4h0m.5-2.9h0m.3 2.3h0m.9 .1h0m.2 1.6h0m.1-3.1h0m1.7 2.8h0m.2-2h0m-74.6 6.8h0m14.4 .1h0m18.4 .2h0m.3 1h0m.2 .5h0m.9-2.5h0m.7 1.8h0m.2 1.1h0m.9-2.5h0m.5 1.4h0m.7 1h0m.5-3.5h0m1.3 3h0m7.4-3.5h0m2 0h0m.4 1.5h0m1-2.5h0m1.8 .5h0m.4 1.5h0m.7 2.8h0m.2-.4h0m.6-1.1h0m1.3 1.4h0m5.3-2.6h0m.8 2.8h0m.7-1.4h0m2-2.3h0m1.1 3.2h0m.7-2.3h0m.1 .4h0m.5-1.4h0m.3 2.8h0m.5-.3h0m1-2.9h0m.4 3.8h0m.5-1.3h0m.5-1.4h0m1 2.9h0m1.7-4.9h0m.2 4.5h0m1.1-3.4h0m1.9-.2h0m.6-1.5h0m-80.9 7.3h0m35.6-1.3h0m1.5 .9h0m.4-.5h0m1.2 1.2h0m2.6-1.6h0m2.2 5.6h0m0-3.3h0m1.8-.5h0m.4-1.5h0m10.7 3.1h0m.1 1.4h0m.4-4.4h0m.1 1.6h0m.6-.2h0m.4 2.2h0m.6 .8h0m.4-2.7h0m.4-.1h0m.2-1.3h0m.8 3.7h0m.9-1h0m.2-3h0m0 2.3h0m.6 .3h0m.6-1.4h0m.1 3.2h0m4.5-4h0m1.3 .7h0m.6-.9h0m.3-.4h0m1.9 2.6h0m0-2.6h0m1 1.3h0m1.8-.7h0m2.3 1.2h0m30.3-1h0m-88.3 10.3h0m2 .1h0m2-.4h0m20.6-2.6h0m.5 1.5h0m.8-2.6h0m1 2.9h0m1.3-1h0m7.9-2.4h0m2-.5h0m1.6 0h0m.1 .7h0m0 .9h0m1.2 1.4h0m.1-2h0m.3-1.1h0m.4 1.3h0m.8-1.3h0m.3 2.5h0m0-1.8h0m1.8 .8h0m.1 .9h0m.7-1.4h0m1.4 3.4h0m.7-4.5h0m1.1 4.1h0m1.3 1.1h0m3.8-1.3h0m1.9 .4h0m26.3-.1h0m36.1 .9h0m-100 6.6h0m8.6-1.1h0m1.6-.9h0m0-2h0m1.7 2.6h0m1 .6h0m.4-2h0m.6 2.6h0m2-.4h0m0-1.5h0m.8 .6h0m.7-3.4h0m.1 2h0m1.1 1.8h0m.6-1h0m1.1 .3h0m1.6 .8h0m2.9 .4h0m1.6-4.4h0m.1 3.8h0m1.1-1h0m.4 1.9h0m.3-5.5h0m.5 5.2h0m.8-4.1h0m.4 4.1h0m.6-.5h0m.8-4h0m.7 4.9h0m.3-3.2h0m59.7 .1h0m.7 1.4h0m.2-1.5h0m.3-1.1h0m1.4 2.8h0m.3-1.6h0m.1-1h0m.4 2.4h0m.7-2.5h0m1.2 2.8h0m.9-1h0m.1 1.5h0m.3-1.6h0m1.1-.8h0m.3 3h0m.5-2h0m1.1 1.2h0m1.5 1.3h0m-109.1 5.9h0m1.1-3.8h0m1.7-1h0m2-.3h0m10-.4h0m1-.2h0m.4 2.9h0m.3-2.1h0m.7 1.9h0m.5-1.1h0m.1-1.4h0m.2-.3h0m0 .2h0m.6 1.5h0m1.9 0h0m.4 .5h0m.4-1.5h0m.3-.2h0m1.8-.5h0m1.1 .3h0m1.6 .8h0m.2 2h0m1.4-2.7h0m2.8 .4h0m.1 3.4h0m1.4-.5h0m0-2h0m.4-.8h0m.2 3.2h0m1.2-3h0m.6-.3h0m.1 3.4h0m.4-1.5h0m1-1h0m.3 2h0m1.4-2.5h0m19.5 .8h0m3.8-.5h0m1.1 1.7h0m0 2h0m40.7-5.2h0m3.5 1.4h0m-114.3 9.3h0m2-.2h0m2-.1h0m1.4-1.3h0m.8-2.5h0m66.5 7.2h0m1.6 1.3h0m1.5 1.3h0m.5 1.9h0m1.8 .9h0" stroke="#5d635f" stroke-width="1.6" stroke-linecap="round" fill="none" clip-path="url(#cb3)"/>
<path d="M360.1 240.8h0m65.8 .1h0m36 1.9h0m-113.8 2.3h0m3.8-.7h0m3.9 4.3h0m67.5-2.7h0m.6-2.8h0m1 .3h0m35.8 1.8h0m-114.7 4h0m1.8 1.3h0m2.1 1.4h0m5.7-2.5h0m1.1 4.3h0m1.6-.9h0m.1-1.8h0m29.4 3.3h0m-33.3 5.3h0m.5-1.1h0m.2-1.6h0m.1 1h0m3.8-.7h0m3.3 2.3h0m15-.8h0m4.4 .5h0m3-3.9h0m.2 .6h0m.9 4.1h0m1.1-4.6h0m2 3.7h0m5.1-.8h0m1.1-.2h0m3.4 1.4h0m14.1 .5h0m.2-1.3h0m4.5 .1h0m-61.3 3.5h0m2.9 2.6h0m1.5-1.4h0m1 2.6h0m20-2.8h0m5.7 .2h0m3.6 .8h0m.9 .7h0m0-3.6h0m8.2 2.9h0m0 .1h0m1.7 2.2h0m2.3-2.9h0m.9 3.1h0m4.4-4.4h0m.8-.1h0m7.8 4.2h0m7.1 .3h0m-28.6 4.9h0m3-1.8h0m4.4 2.6h0m.9-1.3h0m1.1-1.8h0m5.1-.8h0m.3 4h0m2.7-4.9h0m.2 1.7h0m2.8-1.5h0m.7-.2h0m2.1 3.9h0m1.9-2.8h0m19.1 1.5h0m-25.1 8.2h0m.1 .3h0m0-4.7h0m7.1 3.1h0m2.1 .2h0m2.6 .1h0m8.4-.8h0m7.8-2.7h0m.3 1.7h0m8.1 2.7h0m20.8-2h0m1.3-2.4h0m-65.6 5.9h0m.4 2.4h0m.3 .3h0m4.6-.8h0m2.5-2.8h0m2 1.2h0m7.7 3h0m.1-1.8h0m.7-2.4h0m3.5 3.1h0m.2-.6h0m0-.8h0m2.7 1h0m3.2-2.1h0m3.1 3.7h0m.5-4h0m1.9 2.6h0m5.4 .3h0m3 .5h0m5.5-2.6h0m.1 2.3h0m2.1 1.3h0m.7-2.1h0m2.1 0h0m-119.4 4.8h0m4.6 2.2h0m3.9 .8h0m4.2 1h0m2.7-.2h0m40.4-.7h0m3.3-2h0m2.7 .7h0m50.5 0h0m.8 1.4h0m1.9-.2h0m4.4-3.5h0m7.4 3.4h0m-124.4 5.8h0m2.7-4h0m.6 1.4h0m.8 2.4h0m1.5 2h0m3.9-1h0m1.7-4h0m5 .2h0m102.9 3.4h0m3.8 1.3h0m2.2-3.3h0m1-.1h0m.7 2.3h0m-115.7 4.2h0m111.6-.8h0m4.5-.9h0m-87.1 34.3h0m6-.2h0m24.4 .5h0m14.5-5.7h0m-50.1 7h0m1.2 2.4h0m1.7-.9h0m4.2-.9h0m5.3 2h0m7.9-1h0m13.3-.9h0m1.6 3.2h0m4.4-.6h0m-31.1 3.2h0m3.9 3.6h0m3.3-5.2h0m1.2 3.8h0m15.1 1.2h0m.2-4h0m2.8-.2h0m1.2 4h0m2.7-2.6h0m3.8-1.1h0m.1 1h0m-59.6 7.3h0m.5-2.7h0m13 4.3h0m4.3-5.1h0m2.3 2.1h0m2.8 .7h0m1.3-.2h0m5.2-1.6h0m7 3.4h0m1-2.1h0m.1 3.2h0m1.1-4.4h0m5.3 .7h0m4.6-.5h0m4.4 3.8h0m3.2-2h0m3.2 1.5h0m-44.8 2.5h0m4.9 3.4h0m3.2-.1h0m3.8-.6h0m1-3.2h0m6.4 3h0m1-2.5h0m3 4.1h0m.5-1.6h0m3 0h0m.2-1h0m.8-.9h0m.6 1.8h0m1.3 2.4h0m.8-3.5h0m1.1 2.7h0m2.9-1.5h0m5.1-2.1h0m-26.4 5h0m.6 3.8h0m4-4.1h0m3.6 1.1h0m1.4 3h0m3.7-4.2h0m.1 1.9h0m1.3 1h0m0-.9h0m3.4-.7h0m42.4 .2h0m1.4 2.3h0m-65.2 7.2h0m2-4.1h0m3.5 2.1h0m1.4 .2h0m2.2 2.2h0m0-5.4h0m7 .3h0m2.7 2h0m4.2 1.4h0m60-2.2h0m3.4 4.2h0m2.4-.5h0m.1-4.7h0m3.5 3.8h0m-107.7 3.1h0m15.2 1.4h0m1.6 1h0m.1 .1h0m4.9-3h0m.2 1.5h0m1.6 1.6h0m1-2.3h0m1.2 2.3h0m2.3-3.4h0m3.3 3.9h0m.3-4.5h0m3.2 3.9h0m.9 .7h0m1.4-4.5h0m62.9 1h0m3.4 .2h0m2.1 1h0m3.8-1.2h0m-132 6.2h0" stroke="#c4c4c4" stroke-width="1.1" stroke-linecap="round" fill="none" clip-path="url(#cb3)"/>
<path d="M375.8 232.5h0m-16.7 7.1h0m18.5-2h0m.4 2h0m11.7 2.9h0m-38.3 4.9h0m3.1 1.5h0m19.8-1.7h0m9.9 .9h0m1.7-1.1h0m3-2.7h0m-57.9 7.6h0m16.2-2h0m4.1-.3h0m2 3.8h0m.1 1.4h0m.9-2.9h0m1.1 2h0m.2-1.3h0m.6 0h0m.9-1.6h0m.3 2.9h0m20.9 1h0m100.2-4.2h0m-122.7 9.1h0m0-1.6h0m1.7-2.8h0m1.4 2.2h0m0-1.6h0m.1 1.7h0m19.6 .5h0m4.4 .3h0m1.1-3.4h0m.6 1.6h0m.7 2.6h0m1.8 1.2h0m.6-1.8h0m2.1 .2h0m2.8 1.7h0m7.4-4.8h0m4.7-.4h0m11.5 4.1h0m-84.7 1.9h0m25.8 .6h0m35.9 .5h0m2.5 3.3h0m2.8-1.1h0m.8 .9h0m4.9 1.2h0m1.4-3.2h0m2.2 .9h0m3.2-1.8h0m.3 1.8h0m1.1 .6h0m1.4 1.4h0m.6-2.7h0m1.3-2.3h0m1.6 1.3h0m2.8 .2h0m15.6 3.4h0m.2-2h0m1.7-1.2h0m36.8-.9h0m3.4 2.1h0m-81.6 4.4h0m1.8-.9h0m4.1 1.5h0m.7-2.4h0m0 2.5h0m2.1-2.4h0m6.4 .5h0m6.9 4.1h0m.4-4.3h0m20.8 4.7h0m3.4-2.1h0m21.3 2.6h0m5.7-1.7h0m-86.6 5.6h0m28.5-2.7h0m.5 3.2h0m4-1.7h0m.1 2.4h0m1.6-2.6h0m3 1.9h0m.9-.5h0m2.6 2.4h0m5.9-1.6h0m2.9 .1h0m8.6-1.9h0m1 .8h0m3 1.9h0m.5 .3h0m4.4-.5h0m-79.1 3.1h0m3.7 1.7h0m38.2-2.2h0m12.5 1.4h0m1-1.3h0m3.4-1.2h0m2.5 .6h0m3.5 4.4h0m6.6-3h0m7.7-.3h0m3.2 1.5h0m0 1.8h0m3.2 .2h0m24.1 0h0m2.3-4.8h0m.3 1.9h0m-143 5.9h0m3.7 3.1h0m4.1-.9h0m12.9-3.9h0m14.6 4.9h0m3.6-1.7h0m16 1h0m57.9-1h0m.7-2h0m5.6-2.2h0m1 .6h0m5.9 4.1h0m-122.5 4.3h0m.7-1.6h0m1.1 2h0m.3-3h0m1.1 .5h0m1.6 2.8h0m.5-2.3h0m3.6-.3h0m.3 2.7h0m5.3-2h0m15.3-1.6h0m33 1.5h0m56 .2h0m3.2 .8h0m.7 2h0m1.3-2.3h0m.6-.8h0m-61.7 5.8h0m63.5-1.4h0m-43.4 29.8h0m22.4-.6h0m-85.7 5.3h0m19.9 1.4h0m6.4-1.4h0m1-1.7h0m33.2 .5h0m26.7-.4h0m24.4 1h0m.1 2h0m.4-5.7h0m-112.2 8.3h0m18.4 1.2h0m4.9-.3h0m.3 .4h0m1.6-3.3h0m1 4.5h0m1.8-.7h0m1.9 .7h0m1.3 .9h0m3.1-4.4h0m19 3.8h0m39.6-.8h0m-91 5.6h0m26.1 .2h0m1.2 .7h0m.4-3.4h0m25.6 2.2h0m.9-2.8h0m-76.1 9.6h0m3.6-1.7h0m11.4-.6h0m2.3 3.2h0m17.9-4.3h0m.5 3.2h0m5.3-1h0m3.2 2.5h0m8.2-2h0m0-3.8h0m1.2 4.1h0m.9-.9h0m.8-2.7h0m10 3.5h0m1.2-3.7h0m3 4.6h0m1.6-4.7h0m1.8 2h0m4.8 1.1h0m26.8 2h0m1.5-1.3h0m-107.8 2.2h0m39 1.2h0m1.3-1.2h0m.2 1.1h0m2.2 3.2h0m2.9-2h0m11.5 3.2h0m.8-3.8h0m.1 2.9h0m.1-.1h0m.5-1.4h0m.5-2.4h0m1.1 4.5h0m2.3 .3h0m5.4-2.9h0m.2-1.8h0m.7 1.2h0m.5-2.2h0m3.2 4.8h0m.7-1.9h0m-50.4 7.7h0m21.8-2.9h0m1.5-1.3h0m1 2.8h0m13.1-2.4h0m0 .4h0m1.1-1.2h0m.9 3.3h0m2.2-2.7h0m5.3 1.6h0m4.7 3.2h0m23.7-2.9h0m35.9 1h0m-88.8 2.9h0m2.7 5.1h0m.6 .2h0m1.3-.6h0m.6-.4h0m1.5 .6h0m2.3-.1h0m0-.6h0m2 .9h0m8.4-2h0m65.3-1.2h0m1 .6h0m.8-2.6h0m.9 3.6h0m.4-1.2h0m.1-1h0m2.9-.7h0m.5 2h0m-108.2 5.8h0m1.5 1h0m7.1-3.8h0m10 3.4h0m1.3-.8h0m3.6-1.3h0m.1 1.5h0m0-1h0m.7-1.1h0m10.6 0h0m24.9 .4h0m41.7-1h0m3.1 .1h0m-125.2 7.4h0" stroke="#cc1f2a" stroke-width="2.0" stroke-linecap="round" fill="none" clip-path="url(#cb3)"/>
<path d="M407.5 242.8h0m21.9-1.9h0m.1 1.8h0m2.2-1.8h0m1.6-.8h0m30 1.5h0m1.7-.6h0m8.5 .7h0m.6-1.7h0m-110.5 3.4h0m1.7 .4h0m16.2 3.7h0m24.4-3.9h0m8.5 4.1h0m1.8-.2h0m1.2-1.2h0m.1 2.6h0m.7-4.2h0m12.6 .7h0m1.8 .3h0m.7 .6h0m1.5-1h0m23.5 2.7h0m-120.1 3.2h0m.1-1.8h0m24.3 .1h0m0 1.8h0m5.8 .7h0m1.6-.7h0m12.5-2.3h0m5.8 1.5h0m1.5 1h0m29.5-2.4h0m21.6 2.2h0m1.5 1h0m9.3-1h0m1.1 1.5h0m5.3-3h0m1.7 4.5h0m19.5-1.4h0m1.7-.6h0m-122.8 6.8h0m.4 1.8h0m18.3-.2h0m.7-3.4h0m1 2.8h0m.6-2h0m24.5-1.6h0m.4 1.8h0m19.7-1.3h0m1.7 .6h0m4.2-2.3h0m1.2 1.3h0m27.5-1.1h0m3.6 4.2h0m13-3.1h0m.9 1.5h0m-93.3 7.5h0m1.6-.9h0m50.3-1.4h0m1.8-.1h0m14.1 2.9h0m11.5-4.6h0m3-.2h0m.6 1.7h0m-100.4 4.6h0m1.8-.5h0m55.5 4.4h0m1.3-1.2h0m25.3-3.1h0m18.5 3.9h0m1.5 1h0m-125.4 6.1h0m52-4.6h0m1.3 1.2h0m2.7 .7h0m.6 1.6h0m.4-1.6h0m.9-1.6h0m6 .3h0m.9 1.6h0m54.7-.2h0m1.7-.4h0m.1 2.2h0m1.1-1.5h0m6.4 3h0m-134.6 3.1h0m1.5 1.1h0m1.5-1.3h0m1.4-1.2h0m2.5-1h0m15.4 1.3h0m.2-1.7h0m5.4 1.6h0m1.8 .5h0m8.8 3.3h0m9-3.3h0m1.2 1.3h0m65.3 .2h0m1.1 1.4h0m20.1-3.6h0m-140.5 4.6h0m.1 1.8h0m.6 3.7h0m4.8-2.8h0m1.5 1h0m13 0h0m1.8 .3h0m5.1 .1h0m8.9-1.6h0m1.6 .8h0m5.6-2.2h0m22.9 1.5h0m0-1.8h0m-65 6.4h0m26-1.3h0m22 4.4h0m1.2-1.7h0m.3 .7h0m1 .6h0m16.8 31.7h0m1-1.5h0m4.9 1.6h0m56.8-.8h0m-98.1 5.6h0m1.8 .2h0m13.8-1.6h0m1.7-.5h0m14.2 2.6h0m8.2-4.5h0m46.8 2.9h0m1.5 1.1h0m1.6-1.9h0m1.3-1.2h0m5.4 3.6h0m3-4.9h0m-113.3 8.9h0m.3-1.8h0m3.2 4.2h0m28.6-4.2h0m1.8 .2h0m13.2-1.5h0m19.9 3.5h0m.7-1.7h0m2.8 2.8h0m.7-1.8h0m1.6-.8h0m16.8 .7h0m.2 1.8h0m6.2-.8h0m.2-1.8h0m13-1.3h0m-104.3 5.9h0m1.2 2.5h0m1.5-.9h0m14.2 2.4h0m.2-1.7h0m14.8-1.2h0m.4 1.8h0m.3-3.1h0m1.8 .1h0m8.2 5.3h0m23.2-5.3h0m-68.3 5.8h0m1.1 1.4h0m15.8-.6h0m1.8-.2h0m27.3 .4h0m4.1 2h0m.4 1.8h0m31.1-4.4h0m.5 1.8h0m17.9-1.4h0m1.4-1.1h0m16.6 3.7h0m1.6 .9h0m-130.5 6h0m37.6-4.7h0m.4 1.8h0m37.1-.1h0m.8 1.6h0m26.2 1.6h0m1.8-.4h0m4.1-.1h0m1.5 1h0m7.7-3.5h0m1.8 .3h0m-118.1 4.1h0m121.9 3.3h0m1.4 1h0m-103.3 2.9h0m1.2-1.3h0m21.6 3.5h0m.1-1.8h0m2.8 1.8h0m1.6-.9h0m12.9 1.7h0m-67.2 3.7h0m1.7-.7h0m61.1-1.5h0m1.5 .9h0m3.7-.8h0m7.9 4.8h0m1.8 0h0m3.7 .5h0m.9-1.6h0m21.1-2.6h0m.7 1.7h0m22.9 1.8h0m1.4-1.2h0m11 .6h0m1.7-.7h0m-116.8 5.2h0m1.7 .4h0m8.4-1.2h0m.3 1.8h0m22.6 .3h0m.5 1.8h0m39-2.7h0m1.7-.4h0m19.1 2.8h0m.9-1.5h0m-65 2.9h0m.9 1.5h0m71.3-1h0m1.5-1h0" stroke="#c8202a" stroke-width="1.75" stroke-linecap="round" fill="none" clip-path="url(#cb3)"/>
<path d="M424.7 241.9h0m-76.6 4.5h0m74.7-2h0m37.8-.7h0m-63.2 16.3h0m-37.5 6.3h0m49.7-2.6h0m8.1 1.6h0m-13.2 6.3h0m17.6-3.8h0m4 9.8h0m10.9-.6h0m6-1.8h0m29.8-.3h0m-64.7 6.7h0m1.8 0h0m44.7-.8h0m-99.2 8.8h0m46.6-2.4h0m62.2 8.8h0m5-.8h0m-90.6 40.6h0m5.1-1.9h0m2.7 2h0m27.5-1.4h0m-18.6 7.1h0m17.1-.8h0m-49.4 6.5h0m17.9 .6h0m.9 6.4h0m18.6 .8h0m4.3 1h0m.6-2.3h0m3.9 1.9h0m42.3 3.6h0" stroke="#2b3aa5" stroke-width="2.1" stroke-linecap="round" fill="none" clip-path="url(#cb3)"/>
<path d="M491.0 301.2 L494.0 299.6 L497.0 299.2 L500.0 301.3 L503.0 301.1 L506.0 300.9 L509.0 302.0 L512.0 301.5 L515.0 301.9 L518.0 301.8 L521.0 299.4 L524.0 301.5 L527.0 300.1 L530.0 299.1 L533.0 299.9 L536.0 299.4 L539.0 299.0 L542.0 300.7 L545.0 301.6 L548.0 301.5 L551.0 301.6 L554.0 301.8 L557.0 300.3 L560.0 299.2 L563.0 300.6 L566.0 299.1 L569.0 300.1 L572.0 302.0 L575.0 300.6 L578.0 301.4 L581.0 301.1 L584.0 299.1 L587.0 299.7 L590.0 299.4 L593.0 300.0 L596.0 301.3 L599.0 301.7 L602.0 300.0 L605.0 300.2 L608.0 299.1 L611.0 300.6 L614.0 300.9 L617.0 300.4 L620.0 301.4 L623.0 299.1 L626.0 299.9 L629.0 299.2 L632.0 299.3 L635.0 299.1 L638.0 301.0 L641.0 299.1 L644.0 300.5 L647.0 300.9 L650.0 300.2 L650.0 321.3 L647.0 322.6 L644.0 323.8 L641.0 323.8 L638.0 322.3 L635.0 321.1 L632.0 322.8 L629.0 321.5 L626.0 322.3 L623.0 322.3 L620.0 321.1 L617.0 322.7 L614.0 323.5 L611.0 323.9 L608.0 322.7 L605.0 321.1 L602.0 322.4 L599.0 323.1 L596.0 323.3 L593.0 323.7 L590.0 323.9 L587.0 321.2 L584.0 321.3 L581.0 322.7 L578.0 323.8 L575.0 321.3 L572.0 321.3 L569.0 323.3 L566.0 322.2 L563.0 323.1 L560.0 321.2 L557.0 322.6 L554.0 322.2 L551.0 321.8 L548.0 321.6 L545.0 322.3 L542.0 323.4 L539.0 322.8 L536.0 321.1 L533.0 322.6 L530.0 323.9 L527.0 323.5 L524.0 323.9 L521.0 322.8 L518.0 321.7 L515.0 321.1 L512.0 323.4 L509.0 322.2 L506.0 323.9 L503.0 322.5 L500.0 321.1 L497.0 323.3 L494.0 322.8 L491.0 321.6 Z" fill="#55514f"/>
<path d="M516.9 321.3l-1.1 1.9M492.4 300.1l-1.2 1.9M644.6 322.6l.9-2M545.1 300.3l-2.2 0M642.2 299.1l2.2 .3M621.6 300.8l.2-2.2M639.2 323.5l-2.1-.8M572.8 323.1l1.6-1.5M495.8 301.4l2.2 0M602.2 300.4l1.2 1.8M607 320.9l1.8-1.3M566.9 300l.8 2.1M539.9 322.4l2.2 0M511.7 301.3l.9 2M539.9 300.8l2.2-.1M505.8 300l2.1 .7M572.5 323l.3 2.2M641.8 299.8l0 2.2M628 323.4l-1-1.9M528.7 300.7l-.8 2M647.7 323.4l1.4-1.7M634.2 323.8l2.1 .5M632.3 322.9l-.5-2.1M506.6 299.4l.2 2.2M614.2 323.6l2.1 .7M557.8 322.3l-.9-2M500.5 299.7l-1.7 1.5M578.3 299.5l-1.4-1.7M491.7 302.4l2.2-.5M563.3 299.2l2.2 0M579.2 322.5l-1.3 1.8M520.2 300.6l-2.1 .8M646.6 321.4l.3 2.2M560 299.8l.9 2M507.6 300.8l-2.2-.4M580.3 323.6l.5 2.2M559.1 302.3l1.9 1M532.6 322.4l1.8 1.3M644.9 323l1.9 1.1M516.3 301.3l-2.2 .4M559.3 300.4l-1.9-1M503.6 299.9l2.1 .5M615.4 301.1l-2.1-.6M494.7 323.2l-1.7-1.4M530.3 322.8l-2.1 .6M522.2 300.4l-1.2 1.9M633.8 323l.6 2.1M554.8 299.7l1.3-1.8M642.2 320.6l-1.6-1.5M545.6 323.4l1.5 1.6M615.1 301.8l-1.6-1.5M533.6 321.6l1.5 1.7M620.5 299.2l1.8-1.3M580.3 323.3l1.6-1.5M583.1 323.8l-.7-2.1M492.4 320.9l.4 2.2M553.1 320.7l.1-2.2M583.5 321.6l-1-2M498.8 320.8l2.2-.3M567.5 322.6l2.2 .2M527.9 324l1.5 1.6M646.6 300.8l1.5 1.7M493.5 320.8l1-2M526.8 323.3l1.6-1.5M642.5 322.7l-1 2M550.8 301l-2.2-.2M589.1 301.6l-1.2 1.8M519.1 302l1.8-1.3M618.6 300l2 .8M509.2 301.1l.6 2.1M517.9 300.7l1.8-1.2M580.2 321.5l2.1 .7M612.2 299.1l1.8 1.2M606.5 300.7l1.9-1.1M506.8 299.9l2.1-.6M539.8 321.5l2.1-.7M506.7 322l-.9 2M516.6 321.9l1.4 1.7M531 301.4l-1.8 1.2M542.5 322.6l.4-2.2M515.6 301.1l1.3-1.8M636.6 300.7l1.1 1.9M527.5 323.7l1.6 1.5M567.5 323.3l1.9 1.1M501.1 323l-1.4-1.7M594.8 321.1l-.8 2.1M592.6 301.8l2.2 .3M525.6 301l-1.1-1.9M550.9 323.7l2.2-.2M592.5 321.8l-.4-2.2M564.1 321l-1.3-1.7M626.4 300.6l-.1 2.2M637.3 300.2l-2.2-.1M557 323l-1.8-1.3M584.4 320.6l-1.5-1.6M582.8 299.2l-1.1 1.9M547.9 301.9l1.4 1.7M590.1 321.9l2.1 .5M578.9 299.8l-.4 2.2M585.4 301.1l1.2-1.8M505.4 320.9l.2 2.2M588.4 302.5l-.9-2M588.8 299.9l1.4-1.7M577.2 323.5l0-2.2M543.9 324l-.1-2.2M499.4 302.2l1.9 1.1M613.3 322.8l1.8 1.3M620.1 302.3l2.2 .1M586.7 320.5l.8 2.1M589.3 302.3l.8 2.1M645.8 323.1l-1.5-1.6M567.2 323.1l.6-2.1M525 300.9l-2 .9M571.4 322.5l2-1M581.5 322l.9 2M637.1 322.2l.9-2M574.7 321.1l-2.1-.7M491.1 300.6l-1.1-1.9M507.5 320.9l2.2-.1M628.6 300.6l-1.4 1.7M591.6 322.5l-1 1.9M507.1 321.2l1.3-1.8M647.2 321l-1.4-1.7M531.7 323.2l2.1 .8M597.1 299.9l1.1-1.9M500.3 302l.9 2M538.3 302.1l-1.6-1.5M573.5 321.2l1.1-1.9M508.3 323.5l1-1.9M630.5 300.7l.9 2M584 323.2l-2 .9M502.7 321.5l.3-2.2M561.6 321.6l1.6 1.5M553.2 301.1l.6 2.1M533.2 320.9l1.2-1.8M557.1 323.7l.5-2.1M527.5 320.5l1.7-1.4M639.3 320.6l-.1 2.2M587.7 323.3l-.1-2.2M550.9 322l-.2 2.2M634.4 301.4l-2.2-.4M501.6 323.5l.9 2M573.8 302.4l1.6 1.5" stroke="#5a5a5a" stroke-width="0.75" fill="none" stroke-linecap="round"/>
<path d="M497.4 300.9h0m3.4-1.7h0m2.4 .3h0m13.5 1.5h0m8.3-.7h0m27.6 .8h0m0 1.3h0m7.1-1.5h0m1.8-.6h0m5.4 1.8h0m.4-.5h0m1.4-.3h0m18.2-.5h0m6-1.2h0m18.6 2.5h0m12.1-1.1h0m10.5 1.4h0m1.3 .4h0m6.6-1.7h0m1.4 .4h0m-151.9 6.4h0m4.9-.2h0m4.1-1.2h0m.3 1.8h0m1.6-.8h0m.9-1.2h0m5.1-2.9h0m6.2 2.1h0m6.7-.7h0m2.8 .2h0m2.7-1.6h0m5.5 .3h0m.6 4.2h0m8.6 1h0m1.7-.1h0m2.7-2.1h0m2 1.1h0m1.8-.3h0m.5-3.2h0m2.3 4.4h0m2.5-5.2h0m.8 1.4h0m6.6 .4h0m.7 2.5h0m.5 0h0m.8 .5h0m11.7-2.5h0m.8 2.3h0m.7-4.2h0m3.6 2h0m1.5-.4h0m0 2.7h0m.6-2.6h0m3.5 1.7h0m.6-.3h0m.6-3.7h0m1 4.7h0m.7 .5h0m6.1-4.8h0m.9 2.5h0m2.7-.6h0m.5-.6h0m.8 4h0m.7-1h0m.7-4.8h0m.4 4.2h0m1.1-3.4h0m1.1-.8h0m2.2 .1h0m2.1 2.4h0m1.3 1.3h0m2-2.1h0m.2 4h0m.8-5.7h0m0 4.5h0m1.8 .2h0m1-3.6h0m.9 2.8h0m1.2-.3h0m.1-2.6h0m8.1 4.7h0m3.2-1.7h0m1 1.8h0m.1-5.1h0m1.8 1.1h0m1.9 .9h0m2.9 3h0m2.8-.2h0m1-4.5h0m.7 1.9h0m1.5 .8h0m1.6-.3h0m.7-1.3h0m-152.9 8.6h0m.4-1.1h0m.6-.7h0m.2 2.8h0m5.4-5.3h0m.6 4.6h0m2.8-1.9h0m5.1 2.1h0m.5-2.6h0m.4-.1h0m3.5-.9h0m0 1.6h0m1.7-1.7h0m3.3 .8h0m1.1 .8h0m.4-.7h0m.9 2.1h0m2.1-3.6h0m1.2 2.6h0m1.1-.6h0m1 1.6h0m.7 .9h0m2.1-2.4h0m1.5 2.4h0m.7-2.1h0m1.4-2.2h0m1.9 1.5h0m.5 .8h0m.4 1.1h0m.6 .9h0m5.5-.5h0m.1-2h0m3.9 2.1h0m.8-2.6h0m1 1.4h0m.6-.9h0m2.1 2.7h0m2.7 .2h0m.7-3.4h0m.9-.9h0m7.4 2.6h0m.9-3h0m.1 2.4h0m.7-2.8h0m4.2 3.5h0m1.1-1.2h0m2.1 2.2h0m.8-3.7h0m.9 4.3h0m0-5.4h0m1.1 .4h0m.6 1.5h0m.6 .2h0m1.8-2.2h0m1.3 4.8h0m1.7-.2h0m1.6-2.8h0m.1 2.7h0m.1-.7h0m.3 .8h0m.2 .4h0m1.2-4.3h0m.2-.2h0m.6 2.6h0m.4-2.9h0m2.3 .9h0m.6 3.8h0m.3-3.8h0m.2 4.2h0m1-.2h0m.7-3.4h0m1.3-1.7h0m.6 2h0m.5-.8h0m1.2 3.3h0m2.2-1.4h0m.4-2.7h0m1.2 .4h0m.3 3.7h0m2.5-.9h0m.4 .4h0m.5 .1h0m1.3-1.3h0m1 .2h0m1.7 1h0m2.6-.8h0m.1 .4h0m2.3-2.6h0m.4-1h0m4 1.8h0m1.3 0h0m.6-1.7h0m2.9 .4h0m.2 3.4h0m2.5-1h0m1.9 .9h0m1.3-3.4h0m.7 1.3h0m.3 1h0m1.8 2h0m2.6-3.9h0m1.8 4.1h0m.7-3.2h0m1.3 1.9h0m1-.8h0m1.5 1h0m1.2-1.6h0m.4-.9h0m1.4-1.2h0m0 .4h0m1.1 .5h0m.3 2.3h0m.6-2.2h0m.7 2.9h0m1.1-1.5h0m1.7-2.3h0m3.4 2.7h0m1.8-2.6h0m.4-.5h0m-153.7 6.1h0m3.8 .4h0m1.4 1.1h0m5.5-1.1h0m5-.2h0m.4 1.5h0m2.6 3.6h0m.8 .1h0m5.6-5.7h0m2.8 .1h0m5.7 2.6h0m.3-.5h0m1.1 1.1h0m.3 2.1h0m.5-.3h0m1.5-.2h0m.2-4.6h0m5 1.3h0m3-.4h0m4.8-.6h0m3.1-.4h0m5.5 0h0m.2 1.7h0m3.1 .6h0m2.3 1.3h0m4.3-2.4h0m1.7 1.1h0m4.3-1.1h0m1 3.2h0m.6-1.3h0m.5 1.8h0m.4-4.5h0m.3-.5h0m1 2.5h0m.1-2.2h0m2.2 .5h0m.3-.7h0m3.6 4h0m1.2-1.6h0m2.5-.2h0m5.1-.1h0m2 1h0m5.3-2.8h0m.5 .7h0m4.7-.3h0m0 3.1h0m.6 .2h0m4.5-2.2h0m1.6-1.5h0m.2 2.9h0m1.1-2.3h0m.7-.3h0m1 4.9h0m2-2h0m1.2-2.4h0m1.1-.8h0m.3 1.9h0m5.5-1h0m5.7 2.8h0m1.4-2.6h0m.5-1.1h0m3.6 2.9h0m.7 2.2h0m5.6-5.4h0m9.1 .7h0m1.3 2.5h0m.9 1h0m-157 4.1h0m3.3 .4h0m11.9-2.8h0m13.9 1.4h0m6.5-1h0m4.8 1.4h0m.8-1.5h0m38.8-.3h0m9.6 0h0m25.2 1.4h0m31.5 2.2h0m2.1-.1h0m3.6-1.6h0" stroke="#7c7872" stroke-width="3.0" stroke-linecap="round" fill="none"/>
<path d="M494.2 302.4h0m13.3 .2h0m16.9-2h0m8.6 1.4h0m5.7-2h0m10.4 2.4h0m8-1.8h0m4.5-1.6h0m7.5 3.9h0m2.7-3.3h0m15.4 2.7h0m.5-2.4h0m1.2-.1h0m2.5-.9h0m2.1 3.9h0m1.2 0h0m.2-.9h0m17.7 1h0m13.6-1.1h0m11.6-.6h0m6.3 1.2h0m2.3-.9h0m3 1.3h0m.5-2.7h0m-158.7 7.8h0m3.1-4.5h0m.4 5.2h0m2.9 .2h0m1.1-2.7h0m.8 2.1h0m1.2 .8h0m2.7-5.7h0m2.3 2.2h0m3.4-2.4h0m.8 3.9h0m.6-3h0m.4-.8h0m.1 1.9h0m2.6-1.4h0m2.5 4.9h0m.3 0h0m1.1-.8h0m2.7-4.4h0m2.4 .5h0m.1 2.7h0m.2 1.1h0m2.5-2.6h0m1.2 2.2h0m.6-.9h0m2.7-.2h0m1.6-2.6h0m1 3.1h0m.5 .9h0m.4-1.2h0m3.2 .2h0m3.2 1.7h0m2-4.9h0m1.2 3.6h0m.6 1.1h0m2.2-3.9h0m1.3 1.8h0m2.5-2.1h0m2.2 .5h0m2.4 2.6h0m.3 .7h0m1.3 .6h0m2.2-2.9h0m6.1-1.5h0m1.8-.4h0m.8 5.3h0m.1-2.3h0m2.6-3.4h0m2.1 4.1h0m.9-.3h0m.6-3.1h0m2.2 3.2h0m4.4-3.4h0m1.5 5.2h0m.9-4.3h0m2.2 1.9h0m3.2 .5h0m2.5 1.1h0m.8-3h0m5.1 .6h0m.1 2.8h0m2-2.1h0m15.1 .2h0m.8 0h0m.4-3.1h0m5.1 1.5h0m1.5 1.4h0m3.3 .4h0m.4 2h0m1.9-5.1h0m.2 5.1h0m1.7-4.8h0m4.5 3h0m1.1-.6h0m1.8 1.9h0m3.5-1.3h0m2.3 1.5h0m1.3-4.2h0m-151 5.4h0m1.8 3.8h0m.5 1.5h0m2.8-4.3h0m1 .8h0m4.3 1.5h0m1-.2h0m2.2-1.5h0m1.4-1.1h0m2.4 4.9h0m1.1-.8h0m.1-4.7h0m1.8 .6h0m.3-.9h0m.2 .2h0m1.6 2.5h0m.7-2.2h0m.6 1.8h0m.4 2h0m.2-.1h0m.3 .8h0m2.9-2.8h0m4 1.3h0m1.4-2.4h0m1.2 1.1h0m.8 2.6h0m.3-3.8h0m.9 2.8h0m.1-2.3h0m.5 2.2h0m2.9-1.6h0m1.7 .5h0m.8 .9h0m.8 1.7h0m.4-.5h0m2.9-1.2h0m3.3-3h0m1.1 2.8h0m.4 2.5h0m1.7-5.5h0m3.9 1.9h0m.5 2.6h0m.9-1.9h0m.5-3h0m.1 1.8h0m2.3 2.3h0m.1-3.7h0m1.6 1.3h0m0-.1h0m.2 3.8h0m2-2.1h0m1.7-3.1h0m3.9 0h0m.3 3.9h0m1.1-1.8h0m4.5-.9h0m.5 3.2h0m2.8-2.2h0m.6 .4h0m1.1 1.9h0m.2-1.8h0m.9 0h0m1.4-2.3h0m1.6 2.9h0m.2 .6h0m2-.7h0m2 1.9h0m.4-4.2h0m1.4-1h0m.7 1.8h0m.9 .7h0m1.1-.8h0m5.1 .3h0m1.8-2.1h0m.2 3.5h0m1.7 2.1h0m.1-3.4h0m.2-1.5h0m2.5 .7h0m.5 3.4h0m2.2 .4h0m.1-3.9h0m.5 .5h0m.3 1.5h0m2.9-.2h0m1.5-3h0m2.9 1.9h0m1.8-.9h0m1-.2h0m1.1-.1h0m3.5 .8h0m1.9 2.1h0m.5 .7h0m.7 .8h0m.1-2.9h0m2.3 .7h0m.5-1.2h0m2-.3h0m1.6 3.5h0m.9-3.8h0m1.2-1h0m.4 3.6h0m1.7 1.5h0m2 .3h0m.6-.4h0m2.2-4.6h0m6.1 .9h0m.1 1.9h0m4.8 .6h0m.8-1h0m1.2-1.6h0m-156.3 6.6h0m7.7 1.6h0m4.9-1.4h0m2.8 1h0m2.5 2.4h0m2.8-3.9h0m2.3-.8h0m2.3 .1h0m1.3 1h0m1.3-.3h0m3.5 2.7h0m5.5-2.4h0m.5 .4h0m2.1-1.7h0m.3 2.9h0m.3 .6h0m1.5 .4h0m2-3.7h0m2.5 .4h0m5.7 .2h0m6-1.2h0m2.8 .3h0m2.3-.6h0m1.4 .2h0m6.2 2.3h0m.4-1.4h0m.6 3.1h0m1.2-4.1h0m2.1 .9h0m1.4 4.7h0m.2-2.6h0m1-.9h0m2.6 1.9h0m1.6-1.3h0m.8 2.1h0m3.4-3.1h0m.1-.1h0m.3 3.2h0m0-1.8h0m.9 2.2h0m.8-3.4h0m3.1 .5h0m.2-2.4h0m16.6 4.7h0m3.5 .1h0m1.8-3.4h0m8.1 3.5h0m1.8-2.2h0m2.5 2.1h0m9.6 0h0m3.1 .1h0m.3-3.6h0m3.7 1.3h0m2.6 2h0m.3-.6h0m0-3.4h0m5.7 4.6h0m.6-4.6h0m7.2 1.1h0m-156.3 4.4h0m2 .7h0m11 1.7h0m12-2.6h0m10.1 1.9h0m4.2 1.2h0m8.5-.5h0m19.1-1.4h0m7.8-.4h0m5.4-.4h0m4.2 1.8h0m3.5-1.8h0m6.3 1.9h0m6.9-1.2h0m1.8-.7h0m7.9 2.5h0m1.8-.7h0m32 .4h0m4.6-2.6h0m.7 .6h0" stroke="#454545" stroke-width="1.9" stroke-linecap="round" fill="none"/>
<path d="M529.3 299.2h0m2 3.8h0m6.8-.9h0m1 .1h0m2.2-.6h0m28.3-3h0m9.7 3.4h0m12.9-.4h0m36-.1h0m7.3 1.3h0m5.6-3.2h0m-133.6 8.3h0m4.1-2.8h0m2.5-.5h0m1.9-1.5h0m.6 5h0m9.4-.7h0m6.6 .5h0m6.4-4.8h0m6.3 1.5h0m5.6 1.5h0m.5-2.5h0m2.2 4.8h0m9.3-.2h0m.8 .3h0m7.5 .3h0m2.2-3.4h0m10-2h0m5.9 1.7h0m.8-.3h0m15.9 3.6h0m2.5-1.2h0m2.5-2h0m7 1.7h0m3.7 .9h0m4.9-.7h0m6.2-1.8h0m7.6-1.3h0m-138.7 9.8h0m.9-3.3h0m1.9 3.2h0m.6-4.5h0m3.4 3.2h0m.6 1.5h0m1-1.7h0m1-3.1h0m.6 .5h0m2.2 4.3h0m11.1 .4h0m.8-4.8h0m.2 5.4h0m4-3.7h0m.6-1.5h0m1.8 3.1h0m1.2-.3h0m8.7-.3h0m7.7-1.2h0m2.1-1.2h0m1.8 0h0m3.3 .4h0m1.2 2.3h0m4.7-1.2h0m1.8 .8h0m15.3-.9h0m.5-.6h0m.7 3.7h0m0-3.9h0m.9 4h0m1.9-.2h0m1.5-.6h0m2.9-3.2h0m.5 4.5h0m2.3-.3h0m1.5-2.6h0m.5 1.1h0m1.8 .4h0m2.5-3.4h0m1.6-.4h0m1.6 3.9h0m1.6 1h0m14-4.6h0m7.3 1.6h0m8.1 .6h0m5.6-1.2h0m-116.5 5.3h0m2.7 2.3h0m8.1 1.9h0m.5-4.8h0m4.5-.6h0m5.6 3.6h0m5.8-2.4h0m2.8 4.4h0m6.2-5.4h0m15.4 1.3h0m1.7 3.6h0m11.2-2.7h0m7.2 2.4h0m5.8-1.9h0m1.2 2.3h0m3.3-2h0m3.7 1.9h0m0-3.4h0m4.9-1.1h0m.3 3.7h0m4.5-3.7h0m2.3 1.4h0m1.5-1.3h0m9.1 1h0m5.6-1.7h0m3.3 3.4h0m9.8 .8h0m.5-3.8h0m-156.4 5.7h0m17.8 1.2h0m.6 .2h0m2.6 .6h0m3-2.1h0m1.1-.1h0m54.7 3.1h0m4-.6h0m23-.7h0" stroke="#c4c4c4" stroke-width="1.1" stroke-linecap="round" fill="none"/>
<path d="M496.7 301.8h0m4.4-.4h0m13.6-.6h0m9-.5h0m11.1 2.5h0m.3-2.7h0m15.2-.4h0m1 1.4h0m.2 .3h0m7.2 .6h0m9.6 .5h0m3.6-1.7h0m2.1-.8h0m11.5-1.2h0m9.5 .9h0m2.2 .1h0m13.3 2.5h0m23.1-.9h0m2.5-1h0m.5 .5h0m4.8-1.2h0m-149.4 7.3h0m.6-1.5h0m3.7 3.1h0m3.4-2.3h0m1.8 0h0m8-1.5h0m2.7 2.6h0m1.5-.5h0m1.2 .4h0m4.1 1h0m1-3.4h0m1 .8h0m.7-1.2h0m1.1-.3h0m1.1 4.3h0m1.5 .2h0m1.3-4.2h0m.9 1.4h0m1.5-.1h0m.6-2.4h0m1.1 3.1h0m.2 2.3h0m1.5 0h0m.7-.9h0m.1-1.1h0m1.5-.6h0m.3 .8h0m.2-2.7h0m.3-.4h0m3 5.1h0m.8-3.2h0m.7 .2h0m0-1.1h0m3.2 .5h0m5.1 .8h0m1.5 0h0m1.6 1.2h0m.1-3.4h0m.8 4.9h0m2.1-3.7h0m.2 1.2h0m3.5-1.2h0m2.4 2.6h0m1-4.5h0m.8 .5h0m.8 1h0m1 .4h0m3.3 2.4h0m.1 .8h0m1.8-.5h0m1.8-2.8h0m.2-.4h0m1.2 2.7h0m2.5 1.1h0m1-3h0m2.6 3.2h0m.3-3.6h0m.3-.4h0m5.2-.9h0m1.8 4.1h0m1.5-.3h0m1.6-3.7h0m.4 4.6h0m5.7-1.7h0m1.7 .2h0m2 1.8h0m.6-.1h0m3.9 0h0m4.7-.9h0m2.2-.1h0m.2-2h0m6.5 2.9h0m2.7-.8h0m1.9-3.2h0m1.9-1.5h0m.5 3.3h0m0 .7h0m1-3.4h0m.9 2.5h0m1.2-1.5h0m4.7-1.6h0m.2 2.4h0m0 2.9h0m2.8 .5h0m1.7-1.8h0m.5-1.3h0m3 2.1h0m.2 .8h0m2.4-2.5h0m0-2.7h0m1.3 3h0m5-.6h0m.3 2h0m.4-1.2h0m-158 6.8h0m.3 .2h0m2.2-1.5h0m.8 2h0m1.3-.7h0m.3 1.2h0m.1-2.6h0m.1 2.2h0m2.5-.2h0m2.2-1.6h0m1.8 .5h0m1.2-.4h0m1.2-1.6h0m1 3.8h0m1.3-.1h0m.1-1h0m2.2 .2h0m1-4h0m2.1 2.2h0m.1-2.5h0m2.1 5.1h0m1.5-3.2h0m1.4 .7h0m1.8-1.5h0m2 2.7h0m2.4 .7h0m0-.6h0m2.4 1.3h0m.6-4.6h0m4.9 .5h0m.3 1.7h0m.1 1.4h0m.1-3.5h0m.1 2.4h0m.5-3.2h0m2.1 0h0m.5 3.4h0m1.9-3.6h0m1.4 1.1h0m2.9 3.1h0m.7-4.2h0m3.3-.1h0m7.2 1.5h0m3.7-1.3h0m.2 .1h0m.9-.1h0m6.6 2.1h0m.7-2.3h0m4.1 .7h0m.3 4h0m1.3-4.3h0m3.9 4.5h0m0-4h0m.3 3.3h0m.5 1.2h0m.5-3.2h0m.3 .6h0m2.7 2.5h0m4.3-2.8h0m3.7 2.9h0m2.3 .2h0m.4-5h0m2.5 .5h0m3.3-.6h0m4.4 .3h0m1.2 3.8h0m1.2 0h0m.3-1.5h0m1.7 .6h0m.1 .4h0m1.1-3.1h0m.7 .6h0m.4-.3h0m2.7 1.8h0m.4 .5h0m1.9 2h0m0-4.5h0m1.6 2.7h0m0 .3h0m.2 .8h0m2.5 .6h0m1.4-2.8h0m1 .3h0m.2 .5h0m.4-.6h0m2 .1h0m.2 2.1h0m4.2-3.3h0m1.4-1.5h0m.1 3.8h0m2-4.1h0m.4 3.3h0m.9-3.2h0m.1 3.7h0m.3 .4h0m1.3-1h0m.6 2.1h0m.8 0h0m.8-.3h0m.4-5.1h0m1.3 4.7h0m3.7-1.4h0m.6 2.6h0m3.3-1h0m1.8-.9h0m.9 .2h0m1.8-3.6h0m.6 1.7h0m-156 4.1h0m2.7 5h0m2.1-2h0m1.4 1h0m.5 .5h0m.5-.9h0m.4-1.6h0m8 2.7h0m.5-5.1h0m3.3 3.8h0m.8 1.1h0m.4-3.8h0m.1 .8h0m3.1-.1h0m9.2-1.4h0m0 .1h0m1.5 3.1h0m.9-1.9h0m.7-1.5h0m0 3.2h0m.9 .7h0m0-1.5h0m4 .8h0m.4-3.1h0m1.1 5.5h0m7-1.7h0m3 1.8h0m1.6-5h0m.8 4.2h0m1.2-.1h0m2.1-4.9h0m.3 1.7h0m3.1-1.8h0m0 2.8h0m9.8 1h0m1.9-.9h0m5.2 1.3h0m.1-.5h0m2.4-2h0m.1 2.5h0m4.2-2.5h0m3.5-.4h0m1.6 2.2h0m1.2-2.1h0m1.7 1.9h0m2.1 1.7h0m0-2.6h0m1.8 3.4h0m.1-4.2h0m1.4-.4h0m1.5 .1h0m.4 3h0m.5-4.2h0m1.1 .5h0m1.3 5.2h0m7.2-4.4h0m.1 1.8h0m.1-.8h0m.6-.7h0m1 .2h0m8.2-.6h0m3.5 .7h0m2.2-2h0m1.4 5h0m2.6-3.9h0m1.1 3.2h0m.8-4.3h0m5 5.6h0m2.9-2.3h0m1.6-.1h0m2-2.2h0m1.5-1h0m.9 2.8h0m3.4-2.4h0m.9 .1h0m.4 2.3h0m.5-1.2h0m.1-.5h0m-151 6.3h0m6.5 .4h0m9.7-1.2h0m6.8 1.7h0m3.7-2.3h0m23.5 .9h0m3.3 2h0m6.9-.7h0m5.5-1.9h0m.1 2.4h0m.2-1h0m4-1.1h0m.3 2.4h0m1.3-2.5h0m.9-.5h0m1.3 .4h0m19.9 1.6h0m1.6-.9h0m.7 1.1h0m10.6-1.9h0m2.3-.3h0m4.3 1.5h0m2.4 .3h0m1.4-1h0m5.6 .9h0m4.8-1.8h0m.9 2.4h0m1.3-1.8h0m1.3 2.5h0m0-1.9h0m.1 2.2h0m12.8-3.2h0" stroke="#b01e28" stroke-width="2.1" stroke-linecap="round" fill="none"/>
<path d="M496.9 300.4h0m3.4-1.7h0m2.4 .3h0m5.2 3.9h0m8.3-2.4h0m8.3-.7h0m1.8 3.1h0m25.8-2.3h0m0 1.3h0m2.4 1.1h0m4.7-2.6h0m1.8-.6h0m5.4 1.8h0m.4-.5h0m1.4-.3h0m18.2-.5h0m1.1 2.5h0m4.9-3.7h0m9.2 3.6h0m2.6 0h0m2.2 .1h0m4.6-1.2h0m1.8 1.1h0m10.3-2.2h0m10.5 1.4h0m1.3 .4h0m6.6-1.7h0m1.4 .4h0m-151.9 6.4h0m4.9-.2h0m4.1-1.2h0m.3 1.8h0m1.6-.8h0m.9-1.2h0m11.3-.8h0m6.7-.7h0m2.8 .2h0m8.2-1.3h0m.6 4.2h0m8.6 1h0m1.7-.1h0m2.7-2.1h0m2 1.1h0m1.8-.3h0m.5-3.2h0m2.3 4.4h0m3.3-3.8h0m6.6 .4h0m.7 2.5h0m.5 0h0m.8 .5h0m11.7-2.5h0m.8 2.3h0m.7-4.2h0m3.6 2h0m1.5-.4h0m0 2.7h0m.6-2.6h0m3.5 1.7h0m.6-.3h0m1.6 1h0m.7 .5h0m6.1-4.8h0m.9 2.5h0m2.7-.6h0m.5-.6h0m.8 4h0m.7-1h0m1.1-.6h0m1.1-3.4h0m5.4 1.7h0m1.3 1.3h0m2-2.1h0m.2 4h0m.8-1.2h0m1.8 .2h0m1-3.6h0m.9 2.8h0m1.2-.3h0m.1-2.6h0m8.1 4.7h0m3.2-1.7h0m1 1.8h0m.1-5.1h0m1.8 1.1h0m1.9 .9h0m2.9 3h0m2.8-.2h0m1-4.5h0m.7 1.9h0m1.5 .8h0m1.6-.3h0m.7-1.3h0m3.6 4h0m-156.5 4.6h0m.4-1.1h0m.6-.7h0m.2 2.8h0m1.6 .5h0m3.8-5.8h0m.6 4.6h0m2.8-1.9h0m5.1 2.1h0m.5-2.6h0m.4-.1h0m3.5-.9h0m0 1.6h0m1.7-1.7h0m3.3 .8h0m1.1 .8h0m.4-.7h0m.9 2.1h0m1 1.4h0m1.1-5h0m1.2 2.6h0m.5 2.5h0m.6-3.1h0m1 1.6h0m.7 .9h0m2.1-2.4h0m1.5 2.4h0m.7-2.1h0m1.4-2.2h0m1.6 5.1h0m.3-3.6h0m.5 .8h0m.4 1.1h0m.6 .9h0m5.5-.5h0m.1-2h0m3.9 2.1h0m.8-2.6h0m1 1.4h0m.6-.9h0m2.1 2.7h0m.1 .5h0m2.6-.3h0m.7-3.4h0m.9-.9h0m1.3 4.6h0m6.1-2h0m.9-3h0m.1 2.4h0m.7-2.8h0m4.2 3.5h0m1.1-1.2h0m2.1 2.2h0m.8-3.7h0m.9 4.3h0m0-5.4h0m1.1 .4h0m.6 1.5h0m.1 3.7h0m.5-3.5h0m.6 3.8h0m1.2-6h0m1.3 5.8h0m0-1h0m1.7-.2h0m1.6-2.8h0m.1 2.7h0m.1-.7h0m.3 .8h0m.2 .4h0m1.2-4.3h0m.2-.2h0m.6 2.6h0m.4-2.9h0m2.3 .9h0m.6 3.8h0m.3-3.8h0m.2 4.2h0m1-.2h0m.7-3.4h0m1.3-1.7h0m.6 2h0m.5-.8h0m1.2 3.3h0m2.2-1.4h0m.4-2.7h0m1.2 .4h0m.3 3.7h0m2.5-.9h0m.4 .4h0m.5 .1h0m1.3-1.3h0m1 .2h0m1.7 1h0m2.6-.8h0m.1 .4h0m2.3-2.6h0m.4-1h0m4 1.8h0m1.3 0h0m.6-1.7h0m2.9 .4h0m.2 3.4h0m2.5-1h0m1.9 .9h0m1.3-3.4h0m.7 1.3h0m.3 1h0m1.8 2h0m2.6-3.9h0m1.8 4.1h0m.7-3.2h0m1.3 1.9h0m1-.8h0m1.5 1h0m1.2-1.6h0m.4-.9h0m1.4-1.2h0m0 .4h0m.8 5.3h0m.3-4.8h0m.3 2.3h0m.6-2.2h0m.7 2.9h0m1.1-1.5h0m1.7-2.3h0m3.4 2.7h0m1.8-2.6h0m-149.5 6h0m1.4 1.1h0m5.5-1.1h0m2.2 5.4h0m2.8-5.6h0m.4 1.5h0m2.6 3.6h0m.8 .1h0m14.1-3h0m.3-.5h0m1.1 1.1h0m.3 2.1h0m.5-.3h0m1.5-.2h0m5.2-3.3h0m3-.4h0m4.8-.6h0m8.8 1.3h0m3.1 .6h0m2.3 1.3h0m4.3-2.4h0m1.7 1.1h0m4.3-1.1h0m1 3.2h0m.6-1.3h0m.5 1.8h0m.4-4.5h0m.4 5.5h0m.9-3.5h0m2.3-1.7h0m3.9 3.3h0m1.2-1.6h0m1.3 3.5h0m1.2-3.7h0m5.1-.1h0m2 1h0m5.3-2.8h0m.5 .7h0m4.7-.3h0m0 3.1h0m.6 .2h0m4.5-2.2h0m1.6-1.5h0m.2 2.9h0m1.1-2.3h0m.7-.3h0m1 4.9h0m2-2h0m1.2-2.4h0m1.1-.8h0m.3 1.9h0m5.5-1h0m5.7 2.8h0m1.4-2.6h0m.5-1.1h0m3.6 2.9h0m.7 2.2h0m14.7-4.7h0m1.3 2.5h0m.9 1h0m-157 4.1h0m3.3 .4h0m25.8-1.4h0m6.5-1h0m4.8 1.4h0m.8-1.5h0m73.6 1.1h0m31.5 2.2h0m2.1-.1h0m3.6-1.6h0" stroke="#d6d2ca" stroke-width="2.2" stroke-linecap="round" fill="none"/>
<path d="M613 277l1.9-.7M614.9 276.3l1.4-1.4M616.3 274.9l1.8-.8M618.1 274.1l1.6-1.2M619.7 272.9l2-.1M621.7 272.9l1.5-1.3M506.9 292.9l-1.7-1.1M505.2 291.9l-1.9-.6M503.3 291.2l-1.3-1.5M502 289.7l-1.7-1.1M500.3 288.7l-2-.1M564 250.9l-.5-1.9M563.5 249l.7-1.9M564.2 247.1l1.6-1.2M565.9 246l1.7-1M567.6 245l2-.1M569.6 244.9l1.8 .8M523.9 271.9l.7-1.9M524.6 270l1.8-.8M526.4 269.2l1.9-.5M528.3 268.7l1.9 .5M530.3 269.2l1.1 1.7M591.8 262.3l-1.7 1M533.5 293.4l1.5 .6M533.5 293.4l-1.2 1M526.4 272.7l-.1 2M506.1 265.1l-1.5 1.3M548.8 261.8l1.5 1.4M627.2 264l1.8 .9M629 264.9l2 .3M631 265.3l1.9 .7M632.8 266l1.3 1.5M634.1 267.5l1.2 1.6M629.2 258.3l.7 1.9M595.9 264.9l.7-1.4M595.9 264.9l.9 1.3M499.4 295.1l-1.9 .5M497.5 295.6l-1.8 .9M495.7 296.5l-1.8 .9M499.9 246.1l1.8-.8M501.8 245.3l.8-1.8M502.5 243.4l1.4-1.5M503.9 242l.2-2M506.5 293.2l-1.9-.6M504.6 292.6l-1-1.7M503.6 290.8l-.6-1.9M503 288.9l-1-1.7M502 287.2l-1.7-1M500.2 286.2l-2 .4M608.2 297.7l-1.7-1.1M606.6 296.6l-1.5-1.3M605 295.3l-.8-1.8M604.3 293.5l.9-1.8M584.6 243.9l1.7-1M586.3 242.9l1.9 .6M588.2 243.5l2 .4M590.2 243.9l2-.2M592.2 243.7l1.1-1.7M593.3 242l-.2-2M627.5 293l1.5 1.3M580.4 242.3l-1.5-1.3M580 294.1l1.5-1.3M578.2 282.1l-1.7-1M551.9 255.7l-2-.2M549.9 255.5l-2 .2M547.9 255.7l-2 .2M545.9 255.9l-2-.4M616.4 240.5l-2-.2M496.6 267.8l-.1 2M520.5 283.9l.7 1.9M535.4 283.1l-1.5 .3M642.7 246.3l-1.2-1M642.7 246.3l1.5-.5M600.6 247.7l-.7 1.5M600.6 247.7l-.9-1.3M597.4 239.9l2-.4M599.4 239.5l1.9 .7M601.2 240.2l1.6 1.2M503.6 286.6l.5 1.5M503.6 286.6l-1.6-.4M519.7 294.5l-1.5-.6M519.7 294.5l1.3-1M577.2 298l-.6-1.9M571.8 290.5l-1.5 .5M571.8 290.5l.3-1.6M567.8 263.6l-1.4-1.5M535.1 244.3l2-.3M518.8 265.6l1.8 1M520.6 266.5l.9 1.8M521.4 268.3l1.5 1.3M522.9 269.7l1.5 1.4M631.5 292.3l-.3-2M561.7 289.2l1.6-.1M561.7 289.2l-.7 1.4M570 284l-.9-1.8M569.1 282.2l-1-1.8M568.1 280.4l.3-2M568.5 278.5l.5-1.9M569 276.5l1.2-1.6M570.2 274.9l1-1.7M582.1 290.2l1.7 1.1M583.8 291.2l1.7 1M585.6 292.2l2-.3M587.5 291.9l1.6 1.2M572.1 247l-.1-1.6M572.1 247l1.4 .7M510.7 260.9l1.1 1.1M510.7 260.9l-1.5 .4M497.4 290.3l1.5 1.3M498.9 291.6l.1 2M499.1 293.6l.4 2M499.4 295.6l1.7 1.1M589.5 278.2l-.1-2M617.2 286.6l1.5-1.4M618.6 285.3l2-.4M620.6 284.9l1.5 1.3M622.1 286.2l1.6 1.2M623.7 287.4l.5 1.9M624.2 289.3l-1.2 1.6M607.2 281.4l.9 1.8M608.1 283.2l1.3 1.5M609.4 284.8l.6 1.9M557.2 286.9l-.1 2M557.1 288.9l1.3 1.5M558.4 290.4l.5 1.9M558.8 292.4l.1 2M558.9 294.4l.3 2M566.2 256.4l-.4 2M565.8 258.3l.1 2M565.9 260.3l1 1.8M566.8 262.1l.8 1.8M567.7 263.9l1.8 .9M578.3 271l-2-.2M576.3 270.8l-1.4 1.4M574.9 272.2l-.9 1.8M573.9 274l-1.4 1.5M572.6 275.4l-.5 1.9M572.1 277.4l1 1.7M628 293.7l1.9-.6M629.9 293.2l1.7 1M631.6 294.2l1.8 .8M633.5 295l1.8 .9M575.1 333.4l-2-.3M573.2 333.1l-1.2-1.6M572 331.4l-1.2-1.6M570.8 329.8l-.6-1.9M570.2 327.9l-1-1.7M536.3 334.1l-1.2-1.6M578.8 364.4l-1-1.1M514 362.1l1.9-.7M515.8 361.3l1.3-1.5M517.1 359.8l2-.4M519.5 382.8l-.3 2M519.2 384.8l1.1 1.7M520.3 386.5l.4 2M520.7 388.4l-1.1 1.7M519.6 390.1l-1 1.7M518.6 391.8l-1.2 1.6M570.4 336.9l-1.5 .7M570.4 336.9l.2-1.6M608 335.3l.6 1.9M608.6 337.2l1.4 1.4M610 338.6l1 1.8M611 340.4l1.8 .8M504 327l1.6 .2M504 327l-1 1.3M556.1 344.6l1.9 .7M558 345.3l1.5 1.4M559.4 346.7l.7 1.9M609.2 365.5l.3-1.5M559.8 382.1l-1.7 1M558.1 383.2l-2-.4M556.1 382.8l-1.9 .5M554.2 383.3l-2 .2M552.2 383.5l-1.3 1.5M631.5 334.1l-1.9 .6M629.6 334.7l-2-.3M627.6 334.3l-1.9 .8M625.7 335.1l-1.2 1.6M624.6 336.7l-2 .4M555.7 374l.9-1.8M556.7 372.2l1.8-.8M558.5 371.4l1.8-.8M560.3 370.6l2 .3M633.6 337.6l-1.6 0M633.6 337.6l.8-1.4M561.3 379.3l.8 1.8M565.7 337.9l.8-1.3M591.5 343.4l.4 2M602.5 341.3l1.5 1.3M604 342.6l.6 1.9M604.6 344.5l-.9 1.8M603.7 346.3l-1.8 .9M555.7 327.9l.5-1.9M556.2 326l1.7-1.1M557.9 324.9l.4-2M558.3 323l.7-1.9M559 321.1l.2-2M559.2 319.1l-1.4-1.5M535.4 356.8l-2 .2M533.4 357l-2 .2M531.4 357.2l-1.5 1.3M529.9 358.5l-1.9 .7M528 359.1l-1.7 1.1M526.3 360.2l-2 .2M620.5 337l-1.9-.7M584.5 348.1l.1 1.6M584.5 348.1l-1.4-.7M625.9 365.3l-1.7-1.1M624.2 364.2l-1.1-1.7M623.1 362.6l-.8-1.8M622.3 360.7l.7-1.9M623 358.8l-1-1.7M634.2 359.4l1-1.7M625.4 343.3l2 .2M627.4 343.6l1.5-1.3M628.9 342.2l2 .2M630.9 342.4l1.9-.5M590.2 337.4l2-.2M592.2 337.3l1.9 .6M594.1 337.9l1.6 1.2M595.6 339.1l.1 2M595.7 341.1l.2 2M595.9 343.1l-.1 2M496.4 338.9l-.1 1.6M496.4 338.9l-1.3-.9M632.3 362.2l.1-1.6M632.3 362.2l1.3 .9M517 340.7l-1.3-.7M635.5 342.5l1.6 .3M635.5 342.5l-1 1.2M584.5 383.2l-1.1-1.7M583.4 381.5l-.9-1.8M582.5 379.7l-1.2-1.6M581.2 378.2l.4-2M617.7 344.5l-1.2 1.6M616.4 346.1l-2 .4M614.5 346.5l-1.8 .8M558.8 382.8l1.9 .6M560.7 383.4l1.7-1M562.4 382.4l.9-1.8M610.3 380.4l-1.2 1.1M610.3 380.4l-.3-1.6M497.8 363.9l-1.3-.9M497.8 363.9l1.4-.7M522.7 363.3l-1 1.7M521.7 365l-1.6 1.2M520.1 366.2l-.1 2M520 368.2l.6 1.9M520.5 370.1l-.7 1.9M512.8 366.3l-.4-2M598.6 329.1l0 2M618.2 361.1l-.1-2M618.1 359.1l-.6-1.9M617.5 357.2l-.2-2M617.3 355.2l1.1-1.6M606.3 335.1l.5 1.5M606.3 335.1l-1.6-.3M619.6 369.5l-1.2 1.6M495.9 330.7l.2 2M496.1 332.7l.2 2M496.3 334.7l1.5 1.3M497.8 336l1.6 1.2M535.5 343.7l-1-1.7M536.6 344.3l-1.7 1.1M534.9 345.3l-2-.2M532.9 345.1l-2 .1M530.9 345.2l-1.3 1.5M529.5 346.7l-1.2 1.6M534 347.9l1.3-.9M534 347.9l.2 1.6M561.8 338.2l.4-2M562.2 336.3l.7-1.9M563 334.4l-.7-1.9M562.2 332.5l-.1-2M587 373.9l1.2 1.6M588.3 375.5l-.2 2M588.1 377.5l-.5 1.9M587.6 379.4l-.6 1.9M518 338.9l2-.4M523.2 359.6l-1.5 1.3M521.7 360.9l-2-.3M519.7 360.5l-1.1-1.7M518.6 358.9l-.7-1.9M517.9 357l.4-2M518.3 355l1.4-1.5M587.9 375.6l.1-1.6M587.9 375.6l1.3 .9M517 335l-.7 1.5M517 335l-.9-1.3M536.7 357.6l-.7-1.9M536 355.7l-1.6-1.2M534.3 354.6l-1.4-1.4M532.9 353.2l-1.7-1M534.1 376.9l1.4-1.4M535.5 375.5l1.9-.7M537.4 374.8l.7-1.9M538.1 373l1.8-.8M540 372.2l1.6-1.2M541.5 370.9l1.5-1.3M576.1 253l-1 1.7M577.8 253.5l-.2 2M579.1 251.1l1.5-1.3M581.1 257.6l1.8-.9M577.3 258.1l-1.9 .5M578.5 259.3l-.3 2M577.6 252l-.2 3.8M577.4 255.9l1.8 2M583.8 262.1l2 .2M582.6 261l.7-1.9M583.2 263.5l.7 1.9M579.2 257.9l1 2.3M580.2 260.2l1.7 2.2M583.2 270.1l-1.5 1.3M585.1 270.4l1.2 1.6M585.6 267.8l1.7-1.1M582 262.4l.6 3.7M582.5 266.1l1.9 2.9M624 345.2l2-.1M621.9 347.2l-.5 1.9M620.8 344.7l-1.3-1.5M623.3 345.4l-1.6-1.2M625.5 347.2l.4 2M623.7 346.8l-1.1 1.7M622.2 345.7l2 .8M624.2 346.5l.9-.7M628.6 345.7l-1.6-1.2M629.6 348.2l-.7 1.9M628.2 347.1l-2-.2M625.1 345.8l1.6-.3M626.7 345.5l3.3 1.2M630.2 348.8l-1.9 .5M631.8 349.6l.6 1.9M631.9 346.6l.3-2M630 346.7l1.3 1.2M631.3 347.9l.6 .1M637.2 350.2l1.7 1.1M636.7 348.7l1.5-1.4M635.9 351.2l-.1 2M631.8 348.1l1.6 1.5M633.4 349.5l2 .3M638.1 355.5l-.7 1.9M641.3 354.7l2 .1M640 355.8l0 2M635.4 349.8l1.7 1.7M637 351.5l2.4 2.8M576.1 253l-.3-1.5 1.5-.9 1.8 .5 .2 1.5-1.5 .9zM578.5 259.3l-1.2-1.2 .7-1.4 1.8-.2 1.3 1.1-.7 1.4zM580.1 262.6l.7-1.4 1.8-.2 1.2 1.1-.6 1.4-1.9 .3zM586.3 269.2l-1.2 1.2-1.9-.3-.7-1.4 1.3-1.1 1.8 .2zM623.7 346.6l-1.8 .6-1.5-1 .4-1.5 1.7-.5 1.5 1zM626.9 346.2l-1.4 1-1.8-.4-.4-1.4 1.3-1.1 1.9 .4zM628.2 347.1l.4-1.4 1.9-.5 1.3 1.1-.4 1.4-1.8 .5zM633.4 348.9l-1.6 .7-1.6-.8 0-1.5 1.7-.7 1.6 .8zM637.2 350.2l-1.3 1-1.9-.3-.5-1.5 1.4-1 1.8 .3zM640 355.8l-1.9-.3-.6-1.4 1.3-1.2 1.9 .4 .6 1.4z" stroke="#5a5a5a" stroke-width="0.75" fill="none" stroke-linecap="round" clip-path="url(#cb4)"/>
<path d="M503.9 242h0m.2-2h0m76.3 2.3h0m5.9 .6h0m6.7-2.9h0m.3 2h0m7.9-1.8h0m1.6 1.2h0m13.6-.9h0m-114.6 4.8h0m33.3-1h0m29.1 2.8h0m1.7-1.1h0m5.5-.3h0m16.8-2.2h0m2 .4h0m2-.2h0m-28.7 5.3h0m11.5 5.7h0m.8-3.2h0m1.5-.9h0m.5 2.9h0m1.3-2.4h0m.2 1.5h0m1.3-2.8h0m-36.7 5.7h0m2 .4h0m4-.4h0m15.9 2.8h0m11.5-.2h0m.7-1.4h0m.5 2.6h0m1.3-2.8h0m.6 2.5h0m.7-1.4h0m1.5 3.4h0m.2-4.3h0m46.4 1.6h0m-123.1 6.8h0m14.5 1.4h0m28.2-4.7h0m18 .3h0m.9 1.8h0m.1-.3h0m10.4-2.4h0m1.9 1.4h0m1.2 1.2h0m1.9-.3h0m.6-1.4h0m3.5 4.6h0m4.5-4.4h0m39.2 3h0m-134.4 2.5h0m26.3 1.9h0m1.7 .3h0m1.8 2.7h0m1.9-4h0m2 .5h0m1.1 1.7h0m43.5 1.3h0m1.4-1.4h0m6.2-2.1h0m.7 1.4h0m.6-2.5h0m1.8 .2h0m.7 4.2h0m0-2.8h0m33.4 3.7h0m2 0h0m12.4-5.4h0m-63.9 7.4h0m2.4 .5h0m1.3-1.4h0m15.6 4.2h0m25.4-1.9h0m3.2-2.2h0m-97.6 9.8h0m47.6-3.5h0m1 1.8h0m4-3.1h0m5.1 3h0m29.9 1.1h0m1.3 1.6h0m11.2 .1h0m-122.3 1.8h0m0 1.9h0m1.9-2.4h0m1.8 1h0m0 2.5h0m1-.8h0m.6 1.9h0m54.8-.4h0m51.6-3.7h0m8.6-1.4h0m5.1 2.1h0m.5 1.9h0m-128.5 7.2h0m1.8-.9h0m1.4-4h0m4.4-.4h0m1.3 1.4h0m.6-.7h0m54 4.4h0m20.8-2.2h0m3.8-2.9h0m1.8 1h0m1.9-.3h0m17.5 3.4h0m.2-3.6h0m22.3 1.3h0m2.4 .2h0m1.6-.9h0m2 2.7h0m1.8 .9h0m-58.1 2.1h0m-18 21.1h0m-3 6.9h0m1.7-1.1h0m1.1-3.8h0m10.2 5.1h0m-7 6.3h0m8-4.6h0m.6 1.9h0m27.8-.7h0m-102.3 5.6h0m3.1 2.5h0m18.6 1.7h0m18.3-4.8h0m25.9 2.2h0m11-3.2h0m19 4.2h0m1.9 .6h0m14.5-.7h0m1.4 1.4h0m10.5-1.6h0m4.1-.3h0m1.1-1.6h0m1.9-.8h0m2 .4h0m-94.1 9h0m56-.3h0m4.1-4.3h0m8.4 3.5h0m.6 1.9h0m6.4-4.1h0m1.8 .8h0m8 3.5h0m1.7-.5h0m2.1 .1h0m2.4 .2h0m.4-.9h0m1.5-1.4h0m3.2 2.4h0m.7-2.7h0m-104.4 6.4h0m1.1-1.6h0m1.4-1.5h0m2-.1h0m2 .2h0m23.1 0h0m1.4 1.4h0m36.4-1.6h0m6.1 2.1h0m1.8-.9h0m8.9 1h0m1.9-.8h0m7.4 .7h0m.7 1.3h0m.7-3.1h0m.4 1.2h0m0 .2h0m.3-1.6h0m1.5 2h0m.4 2h0m.1-4.1h0m.9 1.1h0m1.3 .9h0m.4-1.4h0m1 2.5h0m.6 .6h0m0-1.5h0m.3-2.1h0m1.3 4.4h0m0-3.3h0m.1 .3h0m1.5 2.3h0m.1-1.5h0m0 2h0m.5 1.5h0m.9-2.5h0m1.8 .3h0m.5 1.5h0m-117.5 3.4h0m13.2-.4h0m1.4 1.4h0m1.7 1.1h0m81.3-.5h0m1.1-1.7h0m14-2h0m3.5-.3h0m1.6 2.9h0m.6 1.4h0m.7-2.6h0m.1-1.6h0m1.8 2h0m.6 1.4h0m-125.5 6.6h0m1.3-1.5h0m.8-2.8h0m.7 1.9h0m.5 .6h0m7.2 .7h0m1.7-1.1h0m1.9-.6h0m1.5-1.3h0m2-.2h0m84.7 2.1h0m3.9-2h0m.3 3.6h0m11.9-1.3h0m-121.4 6.9h0m7.2 1.9h0m.1-2h0m-.3 5.8h0m.7-1.9h0m16.9 4.7h0m.7-1.8h0m3.4-2.1h0m1.5-1.3h0m15.5 1.8h0m1.8-.8h0m2 .3h0m57.3-1.4h0m-84.1 6h0m25.8 3.8h0m19.9-1.1h0m.4-2h0m.9 3.5h0m5.6-2.2h0m.2-2h0m-36.1 8h0m2-.2h0m3.9-.1h0m4.3-.8h0m24.7-1.1h0m-68.5 10.5h0m1-1.7h0m1.1-1.7h0m-3.3 5h0" stroke="#5d635f" stroke-width="1.6" stroke-linecap="round" fill="none" clip-path="url(#cb4)"/>
<path d="M572 245.4h0m1.6 2.3h0m26.1-1.3h0m41.8-1.1h0m2.7 .5h0m-70.4 9.2h0m8.1-5h0m18.1-.9h0m-25.7 8.8h0m2.3-1.6h0m7.5 .8h0m.5 1.5h0m-75.4 2.7h0m2.7 .7h0m65.3 0h0m6.1 4.6h0m3.4-3.3h0m9.8 .2h0m.3 2.7h0m-16.4 5.1h0m8.2-4.3h0m-2.6 6.3h0m-52.1 10.1h0m-31.8 2.9h0m2 1.8h0m56.9 2.5h0m2.3-1.5h0m8.8-.2h0m-53.9 4.9h0m2.8-.3h0m11.3 .9h0m2.7-.5h0m35.3-2.9h0m-67.3 37.2h0m2.6-1h0m-10.5 10.9h0m21-4.5h0m.2 2.8h0m50.2 .2h0m2.4 1h0m1.7-2.3h0m34.2-.5h0m2 1.8h0m25.2 1h0m2.4-1.4h0m-138.1 4.3h0m19.4-.5h0m103.8 1.9h0m2 1h0m5.3 .3h0m6.4 .6h0m1.3-.1h0m2.6-.9h0m-103 6.6h0m1.2-2.5h0m47.8 .5h0m1.6 2.2h0m35.5 .1h0m1.2-.9h0m3.8 1.5h0m.2-4.3h0m1.5 0h0m.2 2.6h0m.6 2h0m11.8-3.2h0m-7.7 5.2h0m2.9 1.5h0m4.5-1.6h0m4.9 3.3h0m-147.6 7.2h0m135.8-2.4h0m3.9-2.7h0m2.9 .8h0m-139.8 4.5h0m78.5 .1h0m31.7 .7h0m24.1-.9h0m-45.6 10.9h0m1.2 2.5h0m20.8 2.3h0m-.8 2.7h0" stroke="#c4c4c4" stroke-width="1.1" stroke-linecap="round" fill="none" clip-path="url(#cb4)"/>
<path d="M578.9 241h0m20.5-1.5h0m15 .8h0m4 .4h0m-115.9 2.7h0m34.6 .6h0m30.5 1h0m2-.1h0m12.3-1.3h0m-5.8 9.4h0m-28.8 7.5h0m.6-4.8h0m18 4.6h0m9.5-1.7h0m2-2.7h0m.2-.4h0m2.6 4.7h0m48.3-3.8h0m1.4 3.7h0m-125.3 6.3h0m2.9-2.7h0m42.7-.5h0m16.2-1h0m2.8 2.9h0m.3-.3h0m11.3-3.6h0m1.7 4.9h0m1.3-.7h0m2-3.1h0m4.3 1h0m38.9 1.6h0m3.8 1.1h0m-136.3 3.8h0m24.9-1.5h0m3 2.7h0m2-1.8h0m.1 1.5h0m55.2 .7h0m3.4-1h0m38.1 1.2h0m12.1-2.5h0m-109 5.6h0m42.2 3.8h0m.5-2h0m2.2-3.3h0m.9 4.2h0m17.3-1.2h0m26.9-1.3h0m-96.4 7.1h0m15.5 1.1h0m41.1-2h0m3.5 2.1h0m9.7-3h0m-89.4 8.5h0m20.9-2.9h0m35.9 3.1h0m65-2.7h0m.9 4.7h0m8.2-.6h0m-132.1 3.3h0m.3 2h0m1.7 1.1h0m57.7-4.3h0m.1 2h0m17.7 1.7h0m5-3.3h0m7.6 .3h0m15.1 .4h0m2.3 3.1h0m22.4-2.3h0m2.6-.1h0m-137.7 3.2h0m83.8 2.5h0m-19.8 17.7h0m.4 5.4h0m-62.2 9.7h0m39.1-.2h0m26.9-2h0m9.9 .9h0m26.5-.3h0m.1-4h0m-100.8 8.9h0m22.2 2.5h0m43-4.1h0m2.7 3.5h0m53-1.6h0m3.9 .8h0m-106.5 2.1h0m.9 1.5h0m17.5 1.3h0m61.2-.9h0m.2 2h0m23.5 .1h0m2.3 .9h0m4.8 .6h0m4.4-2.3h0m-70.8 6.2h0m31.8-3.3h0m24.5 .8h0m4 .1h0m1 2.9h0m2.8-2.6h0m2.5-1h0m2.2 4.5h0m2.4-2.1h0m.1-.2h0m2 1.8h0m4.8-2.1h0m-119.9 7.6h0m12.9-2.9h0m104.5 1.1h0m1.3-1.7h0m3 4.3h0m-120.3 4.7h0m2 .4h0m2.6-.5h0m93.2-3.2h0m5.5 1.6h0m.1 3.8h0m10.1-1.5h0m2-3.4h0m2.2-.3h0m2.6 .4h0m-127.5 6.5h0m9.2 .7h0m57.1-.6h0m30.4 1.1h0m11.6 2.4h0m3.4-3.7h0m-84.2 8h0m16.7 0h0m61.7-1.1h0m-55.1 9.5h0m24.3-1.2h0m-68.4 5.4h0m1.1 1.7h0m30.6-1.5h0m5.2-2.2h0m4.6 .6h0m1.4-2.2h0m21.3 .3h0" stroke="#cc1f2a" stroke-width="2.0" stroke-linecap="round" fill="none" clip-path="url(#cb4)"/>
<path d="M500.5 242.5h0m63.1-3.3h0m1.8 0h0m27.2 2.1h0m1.7-.3h0m21.1-2.2h0m1.8 .5h0m9.9-.3h0m1.7-.6h0m-127.1 5.4h0m17.3-.8h0m1.8 .4h0m38.4 5.1h0m2.3 .5h0m.2-1.8h0m3.7-2.7h0m.2 1.8h0m1.1 .7h0m.2-1.8h0m54.7 2.7h0m1.8 .1h0m1.3-2.4h0m.2 1.8h0m-113.8 3h0m1.8-.2h0m37.8 3.5h0m1.5-1h0m5.6-3.1h0m20 2.2h0m1.7-.3h0m29.8 2.9h0m1.5-1h0m-108.5 2.5h0m1.8 .4h0m33.5 3.2h0m75.1 .1h0m8.9-.3h0m1.2-3.1h0m1.6 .8h0m-86.4 4.2h0m5.6 2.6h0m.5 2.3h0m1.2-2h0m.5 2.5h0m24-3.3h0m.8-1.7h0m14 1.5h0m1.7-.3h0m20.8 1.8h0m.3-.8h0m.2 2.5h0m.7-4.1h0m4.4 1.4h0m.2-2.3h0m.9 .8h0m7.9-1h0m7.4 5.6h0m-118.1 1h0m1.8 .3h0m42.2 .9h0m1.7-.6h0m14.9 2.1h0m.4 1.7h0m31.9-.7h0m1.2-1.3h0m4.8 1.9h0m.8-1.6h0m2.9 2.1h0m1.8-.1h0m14.8-4.3h0m6.4 0h0m1.8 0h0m-140.9 7.8h0m1.8 .1h0m47.4 1.8h0m1.7-.6h0m9.7-4.1h0m1.8-.1h0m25.8 5.6h0m13.1-3.3h0m.5 1.8h0m4-4h0m1.8 .1h0m18.7 5.4h0m1.8 .2h0m17.5-4.1h0m1.5 1h0m-148.4 8.3h0m1.7-.3h0m2.3-3.9h0m1.3 1.2h0m19.6 3.1h0m6.7-4.4h0m1.8-.4h0m4.8 3.5h0m1 1.5h0m49.6-4h0m-62.5 4.9h0m10.5 2.5h0m1.8 .3h0m12.2 7.1h0m.4-1.7h0m48 3.6h0m.8-1.7h0m4 .7h0m1.7 .5h0m13.7-3.8h0m1.3 1.3h0m23.4-.3h0m.7-1.6h0m-51.9 34h0m1.7 .4h0m32.1 0h0m1.8-.4h0m.1 .8h0m5.6-.9h0m3.8-.4h0m-84.5 7.4h0m7.3-5h0m1.7 3h0m.1-3h0m1.7 3.3h0m50.6 1.1h0m.8-1.7h0m14-2.4h0m5.6-.8h0m2.9-.1h0m5.4 1.7h0m0 1.8h0m-90.6 6.7h0m1-1.5h0m1.2-2.6h0m11.3-.2h0m1 1.5h0m2 .8h0m1.7 .1h0m5.4 1.1h0m1.2-1.3h0m31.6 9h0m-85.9 4.9h0m1.6 .9h0m17.9 .4h0m1.8 .1h0m63.3-5.1h0m11 .6h0m.5 1.7h0m-80.9 7.7h0m1.6-.8h0m13-1.6h0m1.1 1.4h0m6.9 2h0m43.4-3.8h0m1.6 .8h0m4.5 .5h0m.9 1.5h0m35.2-2.9h0m.9 1.6h0m-144.8 4.7h0m1.8-.1h0m29.3 1h0m1.6-.8h0m26.2-.8h0m8.6-.9h0m1.8 .2h0m18.3-.3h0m1.4 1.2h0m3.9-.1h0m1.7 .5h0m19.5 1.6h0m1.7-.4h0m26.6 2.5h0m.2-.9h0m-142.4 1.6h0m1.3 1.2h0m.2-.8h0m1.6 .9h0m18.3 3.9h0m18.5-.3h0m18.2-1.5h0m.9-1.6h0m7.1-2.1h0m1.7 .6h0m26.4 2.3h0m.9-1.6h0m46.5-.9h0m.7 1h0m-122.1 5.4h0m5.3 2.8h0m.4-1.7h0m14.2-.9h0m4.8 1.6h0m.2 1.8h0m3.4-3.8h0m1.6 .9h0m1.8 1.7h0m.9 1.6h0m10.4-.2h0m23.7 .7h0m1.8-.4h0m-84 1h0m1.8 .3h0m38.7 2.5h0m1.6 .7h0m12.3 1.1h0m1.7 .5h0m3.4-4.9h0m1.5 1.5h0m0-.3h0m.1 1.8h0m1.7-1.3h0m-38.5 5.9h0m1.8 .1h0m45.4-.3h0m1.2 1.4h0" stroke="#c8202a" stroke-width="1.75" stroke-linecap="round" fill="none" clip-path="url(#cb4)"/>
<path d="M572.1 247h0m28.5 .7h0m42.1-1.4h0m-132 14.6h0m72.7-1.8h0m12.5 5.8h0m-92.3 21.7h0m58.1 2.6h0m10.1 1.3h0m-52.1 4h0m13.8-1.1h0m-29.5 33.6h0m-7.6 11.9h0m20.6-3.9h0m53.4 1.9h0m35.9-1.8h0m27.3 2.5h0m1.9 4.9h0m-101.5 5.4h0m50.5 .2h0m41.7-1.1h0m2 2.3h0m15.1 5.5h0m-11 7.4h0m-134.5 1.7h0m90.1 11.7h0m22.4 4.8h0" stroke="#2b3aa5" stroke-width="2.1" stroke-linecap="round" fill="none" clip-path="url(#cb4)"/>
<text x="7.0" y="9.8" font-size="12.6" font-family='"Liberation Sans", sans-serif' font-weight="bold" textLength="93.7" lengthAdjust="spacingAndGlyphs" fill="#1a1a1a">(a) MXene/CS</text>
<text x="6.6" y="211.6" font-size="12.6" font-family='"Liberation Sans", sans-serif' font-weight="bold" textLength="116.9" lengthAdjust="spacingAndGlyphs" fill="#1a1a1a">(b) MXene/CS/O<tspan dy="2.6" font-size="70%">2</tspan><tspan dy="-2.6"></tspan></text>
<circle cx="14.0" cy="25.1" r="1.9" fill="#3a3a3a"/>
<circle cx="24.1" cy="24.3" r="3.9" fill="#dcd8cf" stroke="#9a968e" stroke-width="0.5"/>
<circle cx="33.5" cy="24.3" r="3.3" fill="#d41c28"/>
<circle cx="44.2" cy="24.2" r="3.3" fill="#2e3f9e"/>
<text x="13.8" y="37.0" font-size="5.2" font-family='"Liberation Sans", sans-serif' font-weight="bold" text-anchor="middle" fill="#222">C</text>
<text x="23.8" y="37.0" font-size="5.2" font-family='"Liberation Sans", sans-serif' font-weight="bold" text-anchor="middle" fill="#222">Ti</text>
<text x="33.5" y="37.0" font-size="5.2" font-family='"Liberation Sans", sans-serif' font-weight="bold" text-anchor="middle" fill="#222">O</text>
<text x="44.0" y="37.0" font-size="5.2" font-family='"Liberation Sans", sans-serif' font-weight="bold" text-anchor="middle" fill="#222">N</text>
<circle cx="14.0" cy="221.9" r="1.9" fill="#3a3a3a"/>
<circle cx="24.1" cy="221.1" r="3.9" fill="#dcd8cf" stroke="#9a968e" stroke-width="0.5"/>
<circle cx="33.5" cy="221.1" r="3.3" fill="#d41c28"/>
<circle cx="44.2" cy="221.0" r="3.3" fill="#2e3f9e"/>
<text x="13.8" y="233.7" font-size="5.2" font-family='"Liberation Sans", sans-serif' font-weight="bold" text-anchor="middle" fill="#222">C</text>
<text x="23.8" y="233.7" font-size="5.2" font-family='"Liberation Sans", sans-serif' font-weight="bold" text-anchor="middle" fill="#222">Ti</text>
<text x="33.5" y="233.7" font-size="5.2" font-family='"Liberation Sans", sans-serif' font-weight="bold" text-anchor="middle" fill="#222">O</text>
<text x="44.0" y="233.7" font-size="5.2" font-family='"Liberation Sans", sans-serif' font-weight="bold" text-anchor="middle" fill="#222">N</text>
<text x="153.5" y="37.3" font-size="13.6" font-family='"Liberation Sans", sans-serif' text-anchor="end" fill="#222">0 ps</text>
<text x="318.4" y="37.3" font-size="13.6" font-family='"Liberation Sans", sans-serif' text-anchor="end" fill="#222">50 ps</text>
<text x="478.5" y="37.3" font-size="13.6" font-family='"Liberation Sans", sans-serif' text-anchor="end" fill="#222">150 ps</text>
<text x="642.3" y="37.3" font-size="13.6" font-family='"Liberation Sans", sans-serif' text-anchor="end" fill="#222">300 ps</text>
<text x="153.5" y="231.0" font-size="13.6" font-family='"Liberation Sans", sans-serif' text-anchor="end" fill="#222">0 ps</text>
<text x="318.4" y="231.0" font-size="13.6" font-family='"Liberation Sans", sans-serif' text-anchor="end" fill="#222">50 ps</text>
<text x="478.5" y="231.0" font-size="13.6" font-family='"Liberation Sans", sans-serif' text-anchor="end" fill="#222">150 ps</text>
<text x="642.3" y="231.0" font-size="13.6" font-family='"Liberation Sans", sans-serif' text-anchor="end" fill="#222">300 ps</text>
<text x="6.2" y="404.4" font-size="13.2" font-family='"Liberation Sans", sans-serif' font-weight="bold" textLength="16.5" lengthAdjust="spacingAndGlyphs" fill="#000">(c)</text>
<rect x="26.7" y="399.6" width="152.7" height="47.7" fill="#fff" stroke="#555" stroke-width="1.1"/>
<rect x="29.2" y="403.7" width="21.6" height="8.7" fill="#38388c" stroke="#222" stroke-width="1.1"/>
<text x="52.2" y="412.1" font-size="11" font-family='"Liberation Sans", sans-serif' textLength="17.0" lengthAdjust="spacingAndGlyphs" fill="#222">H<tspan dy="2.5" font-size="70%">2</tspan><tspan dy="-2.5">O</tspan></text>
<rect x="80.3" y="403.7" width="22.0" height="8.7" fill="#4a5ea2" stroke="#222" stroke-width="1.1"/>
<text x="103.7" y="412.1" font-size="11" font-family='"Liberation Sans", sans-serif' textLength="17.2" lengthAdjust="spacingAndGlyphs" fill="#222">NH<tspan dy="2.5" font-size="70%">3</tspan><tspan dy="-2.5"></tspan></text>
<rect x="136.3" y="403.7" width="22.2" height="8.7" fill="#3b8bc9" stroke="#222" stroke-width="1.1"/>
<text x="159.9" y="412.1" font-size="11" font-family='"Liberation Sans", sans-serif' textLength="12.6" lengthAdjust="spacingAndGlyphs" fill="#222">CO</text>
<rect x="29.2" y="419.3" width="21.6" height="8.3" fill="#1fb8b0" stroke="#222" stroke-width="1.1"/>
<text x="52.2" y="427.3" font-size="11" font-family='"Liberation Sans", sans-serif' textLength="10.5" lengthAdjust="spacingAndGlyphs" fill="#222">H<tspan dy="2.5" font-size="70%">2</tspan><tspan dy="-2.5"></tspan></text>
<rect x="80.3" y="419.3" width="22.0" height="8.3" fill="#7dbb58" stroke="#222" stroke-width="1.1"/>
<text x="103.7" y="427.3" font-size="11" font-family='"Liberation Sans", sans-serif' textLength="28.4" lengthAdjust="spacingAndGlyphs" fill="#222">C<tspan dy="2.5" font-size="70%">2</tspan><tspan dy="-2.5">H</tspan><tspan dy="2.5" font-size="70%">2</tspan><tspan dy="-2.5">O</tspan></text>
<rect x="136.3" y="419.3" width="22.2" height="8.3" fill="#f5b637" stroke="#222" stroke-width="1.1"/>
<text x="159.9" y="427.3" font-size="11" font-family='"Liberation Sans", sans-serif' textLength="16.6" lengthAdjust="spacingAndGlyphs" fill="#222">CO<tspan dy="2.5" font-size="70%">2</tspan><tspan dy="-2.5"></tspan></text>
<rect x="29.2" y="434.3" width="21.6" height="8.8" fill="#efe52a" stroke="#222" stroke-width="1.1"/>
<text x="52.2" y="442.8" font-size="11" font-family='"Liberation Sans", sans-serif' textLength="23.6" lengthAdjust="spacingAndGlyphs" fill="#222">CH<tspan dy="2.5" font-size="70%">2</tspan><tspan dy="-2.5">O</tspan></text>
<text x="63.2" y="465.2" font-size="14" font-family='"Liberation Sans", sans-serif' textLength="65.4" lengthAdjust="spacingAndGlyphs" fill="#222">MXene/O<tspan dy="2.6" font-size="72%">2</tspan><tspan dy="-2.6"></tspan></text>
<path d="M96.50 541.00 L96.50 470.50 A70.5 70.5 0 0 1 164.79 558.53 Z" fill="#ebb020" stroke="#1a1a1a" stroke-width="1.1" stroke-linejoin="round"/>
<path d="M96.50 541.00 L164.79 558.53 A70.5 70.5 0 1 1 96.50 470.50 Z" fill="#4b97d3" stroke="#1a1a1a" stroke-width="1.1" stroke-linejoin="round"/>
<text x="165.4" y="491.8" font-size="7.6" font-family='"Liberation Sans", sans-serif' font-weight="bold" text-anchor="middle" textLength="15.2" lengthAdjust="spacingAndGlyphs" fill="#222">29%</text>
<text x="26.7" y="597.5" font-size="7.6" font-family='"Liberation Sans", sans-serif' font-weight="bold" text-anchor="middle" textLength="15.5" lengthAdjust="spacingAndGlyphs" fill="#222">71%</text>
<text x="61.3" y="627.0" font-size="14.5" font-family='"Liberation Sans", sans-serif' textLength="68.7" lengthAdjust="spacingAndGlyphs" fill="#222">MXene/CS</text>
<path d="M94.80 714.70 L94.80 647.70 A67.0 67.0 0 0 1 111.05 649.70 Z" fill="#efe52a" stroke="#1a1a1a" stroke-width="1.1" stroke-linejoin="round"/>
<path d="M94.80 714.70 L111.05 649.70 A67.0 67.0 0 0 1 149.00 675.32 Z" fill="#f5b637" stroke="#1a1a1a" stroke-width="1.1" stroke-linejoin="round"/>
<path d="M94.80 714.70 L149.00 675.32 A67.0 67.0 0 0 1 161.80 714.28 Z" fill="#7dbb58" stroke="#1a1a1a" stroke-width="1.1" stroke-linejoin="round"/>
<path d="M94.80 714.70 L161.80 714.28 A67.0 67.0 0 0 1 161.77 716.80 Z" fill="#1fb8b0" stroke="#1a1a1a" stroke-width="1.1" stroke-linejoin="round"/>
<path d="M94.80 714.70 L161.77 716.80 A67.0 67.0 0 0 1 150.45 752.01 Z" fill="#3b8bc9" stroke="#1a1a1a" stroke-width="1.1" stroke-linejoin="round"/>
<path d="M94.80 714.70 L150.45 752.01 A67.0 67.0 0 0 1 78.95 779.80 Z" fill="#4a5ea2" stroke="#1a1a1a" stroke-width="1.1" stroke-linejoin="round"/>
<path d="M94.80 714.70 L78.95 779.80 A67.0 67.0 0 0 1 94.80 647.70 Z" fill="#38388c" stroke="#1a1a1a" stroke-width="1.1" stroke-linejoin="round"/>
<text x="96.4" y="639.5" font-size="9" font-family='"Liberation Sans", sans-serif' textLength="13.6" lengthAdjust="spacingAndGlyphs" fill="#222">4%</text>
<text x="136.6" y="651.2" font-size="9" font-family='"Liberation Sans", sans-serif' textLength="17.3" lengthAdjust="spacingAndGlyphs" fill="#222">11%</text>
<text x="165.0" y="695.0" font-size="9" font-family='"Liberation Sans", sans-serif' textLength="18.4" lengthAdjust="spacingAndGlyphs" fill="#222">10%</text>
<text x="168.8" y="718.3" font-size="9" font-family='"Liberation Sans", sans-serif' textLength="21.6" lengthAdjust="spacingAndGlyphs" fill="#222">&lt; 1%</text>
<text x="165.5" y="740.2" font-size="9" font-family='"Liberation Sans", sans-serif' textLength="13.2" lengthAdjust="spacingAndGlyphs" fill="#222">9%</text>
<text x="112.4" y="794.8" font-size="9" font-family='"Liberation Sans", sans-serif' textLength="17.6" lengthAdjust="spacingAndGlyphs" fill="#222">19%</text>
<text x="0.0" y="710.4" font-size="9" font-family='"Liberation Sans", sans-serif' textLength="19.9" lengthAdjust="spacingAndGlyphs" fill="#222">46%</text>
<text x="51.1" y="811.9" font-size="14.5" font-family='"Liberation Sans", sans-serif' textLength="89.9" lengthAdjust="spacingAndGlyphs" fill="#222">MXene/CS/O<tspan dy="2.6" font-size="72%">2</tspan><tspan dy="-2.6"></tspan></text>
<path d="M94.30 901.00 L94.30 833.80 A67.2 67.2 0 0 1 106.89 834.99 Z" fill="#efe52a" stroke="#1a1a1a" stroke-width="1.1" stroke-linejoin="round"/>
<path d="M94.30 901.00 L106.89 834.99 A67.2 67.2 0 0 1 159.88 886.34 Z" fill="#f5b637" stroke="#1a1a1a" stroke-width="1.1" stroke-linejoin="round"/>
<path d="M94.30 901.00 L159.88 886.34 A67.2 67.2 0 0 1 161.37 905.22 Z" fill="#7dbb58" stroke="#1a1a1a" stroke-width="1.1" stroke-linejoin="round"/>
<path d="M94.30 901.00 L161.37 905.22 A67.2 67.2 0 0 1 161.20 907.32 Z" fill="#1fb8b0" stroke="#1a1a1a" stroke-width="1.1" stroke-linejoin="round"/>
<path d="M94.30 901.00 L161.20 907.32 A67.2 67.2 0 0 1 128.51 958.84 Z" fill="#3b8bc9" stroke="#1a1a1a" stroke-width="1.1" stroke-linejoin="round"/>
<path d="M94.30 901.00 L128.51 958.84 A67.2 67.2 0 0 1 93.46 968.19 Z" fill="#4a5ea2" stroke="#1a1a1a" stroke-width="1.1" stroke-linejoin="round"/>
<path d="M94.30 901.00 L93.46 968.19 A67.2 67.2 0 0 1 94.30 833.80 Z" fill="#38388c" stroke="#1a1a1a" stroke-width="1.1" stroke-linejoin="round"/>
<text x="94.0" y="824.4" font-size="9" font-family='"Liberation Sans", sans-serif' textLength="13.4" lengthAdjust="spacingAndGlyphs" fill="#222">3%</text>
<text x="146.0" y="845.2" font-size="9" font-family='"Liberation Sans", sans-serif' textLength="19.0" lengthAdjust="spacingAndGlyphs" fill="#222">18%</text>
<text x="168.5" y="898.3" font-size="9" font-family='"Liberation Sans", sans-serif' textLength="13.1" lengthAdjust="spacingAndGlyphs" fill="#222">5%</text>
<text x="168.8" y="909.4" font-size="9" font-family='"Liberation Sans", sans-serif' textLength="21.6" lengthAdjust="spacingAndGlyphs" fill="#222">&lt; 1%</text>
<text x="158.5" y="950.0" font-size="9" font-family='"Liberation Sans", sans-serif' textLength="18.1" lengthAdjust="spacingAndGlyphs" fill="#222">15%</text>
<text x="106.6" y="982.4" font-size="9" font-family='"Liberation Sans", sans-serif' textLength="13.1" lengthAdjust="spacingAndGlyphs" fill="#222">9%</text>
<text x="0.0" y="904.2" font-size="9" font-family='"Liberation Sans", sans-serif' textLength="19.0" lengthAdjust="spacingAndGlyphs" fill="#222">50%</text>
<text x="198.4" y="400.7" font-size="12.2" font-family='"Liberation Sans", sans-serif' font-weight="bold" textLength="93.6" lengthAdjust="spacingAndGlyphs" fill="#1a1a1a">(d) MXene/CS</text>
<text x="416.8" y="400.7" font-size="12.2" font-family='"Liberation Sans", sans-serif' font-weight="bold" textLength="116.4" lengthAdjust="spacingAndGlyphs" fill="#1a1a1a">(e) Mxene/CS/Air</text>
<path d="M203.6 429.1l.5 0 .5-.1 0 0 .5-2 .1 .1 .4 1.6 .1 .3 .1-.4 .3 .5 .3 0 .2-.3 .3 .4 .2 0 .1-1 .4-.9 .1-.8 .4 1.3 .2 .5 .3 .4 .5-.4 .5 .3 .3-.1 .2-1.4 .4-.7 .1 .7 .4 1.8 .1-.6 .5-.8 .5-.1 0 .2 .5 1.5 0-1 .4-.1 .1 .4 .1-1 .3-.5 .1 0 .5 .6 0 .8 .5 .4 .5-1 .5 .2 .3 .3 .2-1.1 .3 .2 .2 .9 .4 .5 .1-.1 0 .5 .5-.9 0 .7 .5-.4 .1 .3 .4-.7 .1 1.1 .4-1.5 .2-.1 .3 1.4 .2 .5 0-.7 .3 .1 .2-.2 .3 0 .3 .5 .2-.6 .5 0 .2 .4 .3-.6 .3 .4 .2 .4 .3 .3 .2-.3 .5-.2 .5 .2 .5-.5 .5 .8 .5-.4 .5 0 .5-.1 .5 .3 .5 0 .5 0 .5 0 .5 0 .5 0 .5 0 .5 0 .5 0 .5 0 .5 0 .5 0 .5 0 .5 0 .5 0 .5 0 .5 0 .5 0 .5 0 .5 0 .5 0 .5 0 .4 0 .5 0 .5 0 .5 0 .5 0 .5 0 .5 0 .5 0 .5 0 .5 0 .5 0 .5 0 .5 0 .5 0 .5 0 .5 0 .5 0 .5 0 .5 0 .5 0 .5 0 .5 0 .5 0 .5 0 .5 0 .5 0 .5 0 .5 0 .5 0 .5 0 .5 0 .5 0 .5 0 .5 0 .5 0 .5 0 .5 0 .5 0 .5 0 .5 0 .5 0 .5 0 .5 0 .5 0 .5 0 .5 0 .5 0 .5 0 .5 0 .5 0 .5 0 .5 0 .5 0 .5 0 .5 0 .5 0 .5 0 .5 0 .5 0 .5 0 .5 0 .5 0 .5 0 .5 0 .5 0 .5 0 .5 0 .5 0 .5 0 .5 0 .5 0 .5 0 .5 0 .5 0 .5 0 .5 0 .5 0 .5 0 .5 0 .5 0 .5 0 .5 0 .5 0 .5 0 .5 0 .5 0 .5 0 .5 0 .5 0 .5 0 .5 0 .5 0 .5 0 .5 0 .5 0 .5 0 .5 0 .5 0 .4 0 .5 0 .5 0 .5 0 .5 0 .5 0 .5 0 .5 0 .5 0 .5 0 .5 0 .5 0 .5 0 .5 0 .5 0 .5 0 .5 0 .5 0 .5 0 .5 0 .5 0 .5 0 .5 0 .5 0 .5 0 .5 0 .5 0 .5 0 .5 0 .5 0 .5 0 .5 0 .5 0 .5 0 .5 0 .5 0 .5 0 .5 0 .5 0 .5 0 .5 0 .5 0 .5 0 .5 0 .5 0 .5 0 .5 0 .5 0 .5 0 .5 0 .5 0 .5 0 .5 0 .5 0 .5 0 .5 0 .5 0 .5 0 .5 0 .5 0 .5 0 .5 0 .5 0 .5 0 .5 0 .5 0 .5 0 .5 0 .5 0 .5 0 .5 0 .5 0 .5 0 .5 0 .5-.1 .5 0 .5 .3 .5-.1 .5-.5 .5 .3 .5 .6 .5-.6 .5 .1 .5-1 .5 .7 .5-.1 .5-.1 .5 0 .5 .3 .5-.1 .5-.2 .5-.9 .5 .7 .5 1.3 .5-1.5 .5-1.2 .5-.1 .5 1.4 .4-1.5 .5 .1 .5 0 .5 1 .5 1.6 .5-1.6 .5-.2 .5-.1 .5 .2 .5-.2 .5 .8 .5 .6 .5-.7 .5-.9 .5 .7 .5 .8 .5-2.4 .5 .2 .5 1.1 .5 .2 .5-.3 .5-.2 .5 .6 .5-1.1 .5 1 .5 .5 .5-1.5 .5 1.3 .5-.2 .5 .6 .5-2.2 .5 2.6 .5-.3 .5 .7 .5 .1 .5-1.6 .5 1 .5-1.1 .5 1.1 .5 .7 .5-1.5 .5 .4 .5-.4 .5 .2 .5 .1 .5-.1 .5 1.2 .5-.2 .5-.4 .5 .1 .5-.1 .5 .1 .5 0 .5 0 .5 0 .5 0 .5 0 .5 0 .5 0 .5 0 .5 0 .5 0 .5 0 .5 0 .5 0 .5 0 .5 0 .5 0 .5 0 .5 0 .5 0 .5 0 .5 0 .5 0 .5 0 .5 0 .5 0 .5 0 .5 0 .5 0 .5 0 .5 0 .5 0 .5 0 .5 0 .5 0 .5 0 .5 0 .5 0 .5 0 .5 0 .5 0 .5 0 .5 0 .5 0 .5 0 .5 0 .5 0 .4 0 .5 0 .5 0 .5 0 .5 0 .5 0 .5 0 .5 0 .5 0 .5 0 .5 0 .5 0 .5 0 .5 0 .5 0 .5 0 .5 0 .5 0 .5 0 .5 0 .5 0 .5 0 .5 0 .5 0 .5 0 .5 0 .5 0 .5 0 .5 0 .5 0 .5 0 .5 0 .5 0 .5 0 .5 0 .5 0 .5 0 .5 0 .5 0 .5 0 .5 0 .5 0 .5 0 .5 0 .5 0 .5 0 .5 0 .5 0 .5 0" fill="none" stroke="#0072BD" stroke-width="0.9" stroke-linejoin="round"/>
<path d="M203.6 451.1l.5-.1 .5 0 0 .2 .5-2.8 .1-.3 .4 2.2 .1 .2 .1 .3 .3 .4 .3 .5 .2-1.1 .3-.2 .2-.3 .1 .8 .4-2.6 .1-1.4 .4 3.3 .2 .8 .3-.5 .5-.1 .5-.8 .3-.2 .2-.2 .4-2.9 .1 .8 .4 2.5 .1-.4 .5 .7 .5-.1 0 .7 .5-.1 0 .2 .4-.5 .1-.3 .1-.6 .3-1.4 .1 1.5 .5 1.5 0-.2 .5-.2 .5-.7 .5-.1 .3 .2 .2-1 .3 .4 .2-.1 .4 1.9 .1-.8 0 1 .5 .1 0-1.5 .5 .3 .1 1.2 .4-.7 .1 .9 .4-1.6 .2-.9 .3 1.5 .2 .6 0-.6 .3-.2 .2 .5 .3 1 .3-.4 .2-1 .5 .3 .2-.2 .3-.4 .3 .7 .2-.6 .3 1 .2-.1 .5-.3 .5 .7 .5-.7 .5 .6 .5-.5 .5 .3 .5-.1 .5 .1 .5 .2 .5-.1 .5 0 .5 0 .5 0 .5 0 .5 0 .5 0 .5 0 .5 0 .5 0 .5 0 .5 0 .5 0 .5 0 .5 0 .5 0 .5 0 .5 0 .5 0 .5 0 .4 0 .5 0 .5 0 .5 0 .5 0 .5 0 .5 0 .5 0 .5 0 .5 0 .5 0 .5 0 .5 0 .5 0 .5 0 .5 0 .5 0 .5 0 .5 0 .5 0 .5 0 .5 0 .5 0 .5 0 .5 0 .5 0 .5 0 .5 0 .5 0 .5 0 .5 0 .5 0 .5 0 .5 0 .5 0 .5 0 .5 0 .5 0 .5 0 .5 0 .5 0 .5 0 .5 0 .5 0 .5 0 .5 0 .5 0 .5 0 .5 0 .5 0 .5 0 .5 0 .5 0 .5 0 .5 0 .5 0 .5 0 .5 0 .5 0 .5 0 .5 0 .5 0 .5 0 .5 0 .5 0 .5 0 .5 0 .5 0 .5 0 .5 0 .5 0 .5 0 .5 0 .5 0 .5 0 .5 0 .5 0 .5 0 .5 0 .5 0 .5 0 .5 0 .5 0 .5 0 .5 0 .5 0 .5 0 .5 0 .5 0 .5 0 .5 0 .5 0 .5 0 .5 0 .5 0 .5 0 .5 0 .5 0 .4 0 .5 0 .5 0 .5 0 .5 0 .5 0 .5 0 .5 0 .5 0 .5 0 .5 0 .5 0 .5 0 .5-.1 .5-.2 .5-.4 .5-.5 .5-.8 .5-.6 .5-.4 .5 .2 .5 .5 .5 .7 .5 .7 .5 .5 .5 .2 .5 .1 .5 .1 .5 0 .5 0 .5 0 .5 0 .5 0 .5 0 .5 0 .5 0 .5 0 .5 0 .5 0 .5 0 .5 0 .5 0 .5 0 .5 0 .5 0 .5 0 .5 0 .5 0 .5 0 .5 0 .5 0 .5 0 .5 0 .5 0 .5 0 .5 0 .5 0 .5 0 .5 0 .5 0 .5 0 .5 0 .5 0 .5 0 .5 0 .5 0 .5 0 .5 0 .5 0 .5 0 .5 0 .5 0 .5 0 .5-.1 .5 0 .5 .1 .5-.3 .5 .7 .5-1 .5 .2 .5 1 .5-.5 .5-1.3 .5 2.2 .5-2.1 .5 0 .5 1.5 .5-1.4 .5-.2 .5-.8 .5 0 .5 1.6 .5-1.3 .5 1.2 .5-.9 .5 .2 .5 2 .5-2 .4 .3 .5 1.1 .5-2.9 .5-.2 .5 3.1 .5-.4 .5-2.5 .5-.3 .5 2.3 .5 .9 .5-3.3 .5 3.3 .5-.4 .5-1.2 .5-.8 .5-1.5 .5-.3 .5 3.9 .5-3.2 .5 1.9 .5-2.1 .5 2.3 .5-1.1 .5-1.3 .5-.6 .5 2.3 .5-2.5 .5 .8 .5 1.5 .5 1.4 .5-.7 .5-1 .5 2.6 .5-2.4 .5-.4 .5 1.1 .5 .7 .5-1.1 .5 .5 .5 .6 .5 .7 .5-1.2 .5 .7 .5 1.3 .5 .1 .5-.7 .5 .1 .5-.2 .5-.5 .5 .2 .5 .2 .5 0 .5 .1 .5 0 .5 0 .5 0 .5 0 .5 0 .5 0 .5 0 .5 0 .5 0 .5 0 .5 0 .5 0 .5 0 .5 0 .5 0 .5 0 .5 0 .5 0 .5 0 .5 0 .5 0 .5 0 .5 0 .5 0 .5 0 .5 0 .5 0 .5 0 .5 0 .5 0 .5 0 .5 0 .5 0 .5 0 .5 0 .5 0 .5 0 .5 0 .5 0 .5 0 .5 0 .5 0 .5 0 .5 0 .5 0 .4 0 .5 0 .5 0 .5 0 .5 0 .5 0 .5 0 .5 0 .5 0 .5 0 .5 0 .5 0 .5 0 .5 0 .5 0 .5 0 .5 0 .5 0 .5 0 .5 0 .5 0 .5 0 .5 0 .5 0 .5 0 .5 0 .5 0 0-.1 .5-1.6 .2-.8 .3 .9 .5 1.6 0 0 .5 0 .5 0 .5 0 .5 0 .5 0 .5 0 .5 0 .5 0 .5 0 .5 0 .5 0 .5 0 .5 0 .5 0 .5 0 .5 0 .5 0 .5 0 .5 0" fill="none" stroke="#D95319" stroke-width="0.9" stroke-linejoin="round"/>
<path d="M203.6 473.3l.5 0 .5 0 .5 0 .5 0 .5 0 .5 0 .5 0 .5 0 .5 0 .5 0 .5 0 .5 0 .5 0 .5 0 .5 0 .5 0 .5 0 .5 0 .5 0 .5 0 .5 0 .5 0 .5 0 .5 0 .5 0 .5 0 .5 0 .5 0 .5-.1 .5 0 .5 0 .5 0 .5 0 .5 0 .5 0 .5 0 .5 0 .5 0 .5 0 .5 0 .5 0 .5 0 .5 0 .5 0 .5 0 .5 0 .5 0 .5 0 .5 0 .5 0 .5 0 .5 0 .5 0 .5 0 .5 0 .5 0 .5 0 .5 0 .5 0 .5 0 .5 0 .5 0 .5 0 .5 0 .5 0 .5 0 .5 0 .5 0 .4 0 .5 0 .5 0 .5 0 .5 0 .5 0 .5 0 .5 0 .5 0 .5 0 .5 0 .5 0 .5 0 .5 0 .5 0 .5 0 .5-.1 .5 0 .5 0 .5 0 .5 0 .5 0 .5 0 .5 0 .5 0 .5 0 .5 0 .5 0 .5 0 .5 0 .5 0 .5 0 .5 0 .5 0 .5 0 .5 0 .5 0 .5 0 .5 0 .5 0 .5 0 .5 0 .5 0 .5 0 .5 0 .5 0 .5 0 .5 0 .5 0 .5 0 .5 0 .5 0 .5 0 .5 0 .5 0 .5 0 .5 0 .5 0 .5 0 .5 0 .5 0 .5 0 .5 0 .5 0 .5 0 .5 0 .5 0 .5 0 .5 0 .5 0 .5 0 .5 0 .5 0 .5-.1 .5 0 .5 0 .5 0 .5 0 .5 0 .5 0 .5 0 .5 0 .5 0 .5 0 .5 0 .5 0 .5 0 .5 0 .5 0 .5 0 .5 0 .5 0 .5 0 .5 0 .5 0 .5 0 .5 0 .5 0 .4 0 .5 0 .5 0 .5 0 .5 0 .5 0 .5 0 .5 0 .5 0 .5 0 .5 0 .5 0 .5 0 .5 0 .5 0 .5-.2 .5-.7 .5-2.4 .5-3.8 .5-2.3 .5 1.1 .5 1.4 .5-.4 .5-.2 .5 1.6 .5 2.6 .5 2.1 .5 .9 .5 .3 .5 0 .5 0 .5 0 .5 0 .5 0 .5 0 .5 0 .5 0 .5 0 .5 0 .5 0 .5 0 .5 0 .5 0 .5 .1 .5 0 .5 0 .5 0 .5 0 .5 0 .5 0 .5 0 .5 0 .5 0 .5 0 .5 0 .5 0 .5 0 .5 0 .5 0 .5 0 .5 0 .5 0 .5 0 .5 0 .5 0 .5 0 .5 0 .5 0 .5 0 .5 0 .5 0 .5 0 .5 0 .5 0 .5 0 .5 0 .5 0 .5 0 .5 0 .5 0 .5 0 .5 0 .5 0 .5 0 .5 0 .5 0 .5 0 .5 0 .5 0 .5 0 .5 0 .5 0 .5 0 .5 0 .5 0 .5 0 .5 0 .5 0 .4 0 .5 0 .5 0 .5 0 .5 0 .5 0 .5 0 .5 0 .5 0 .5 0 .5 0 .5 0 .5 0 .5 0 .5 0 .5 0 .5 .1 .5 0 .5 0 .5 0 .5 0 .5 0 .5 0 .5 0 .5 0 .5 0 .5 0 .5 0 .5 0 .5 0 .5 0 .5 0 .5 0 .5 0 .5 0 .5 .1 .5 0 .5 0 .5 0 .5 0 .5 0 .5 0 .5 0 .5 0 .5 .1 .5 0 .5 0 .5 0 .5 0 .5 0 .5 .1 .5 0 .5 0 .5 0 .5 0 .5 0 .5 .1 .5 0 .5 0 .5 0 .5 .1 .5 0 .5 0 .5 0 .5 0 .5 .1 .5 0 .5 0 .5 0 .5 0 .5 .1 .5 0 .5 0 .5 0 .5 0 .5 0 .5 .1 .5 0 .5 0 .5 0 .5 0 .5 0 .5 0 .5 0 .5 0 .5 0 .5 0 .5 0 .5 0 .5 0 .5 0 .5 0 .5 0 .5 0 .5 0 .5 0 .5 0 .5 0 .4-.1 .5 0 .5 0 .5 0 .5 0 .5 0 .5-.1 .5 0 .5 0 .5 0 .5 0 .5 0 .5-.1 .5 0 .5 0 .5 0 .5 0 .5-.1 .5 0 .5 0 .5 0 .5 0 .5 0 .5-.1 .5 0 .5 0 .5 0 .1 0 .4-1.6 .4-1.4 .1 .6 .5 2 .1 .4 .4-.1 .5 0 .5 0 .5 0 .5 0 .5 0 .5 0 .5 0 .5 0 .5 0 .5 0 .5 0 .5 0 .5 0 .5-.1 .5 0 .5 0 .5 0 .5 0" fill="none" stroke="#EDB120" stroke-width="0.9" stroke-linejoin="round"/>
<path d="M203.6 497.2l.5-.1 .5 .2 0 0 .5-3.5 .1-1 .4 3.2 .1 .9 .1 0 .3 1.5 .3 .4 .2-.4 .3-1.6 .2 .1 .1 .1 .4-3.1 .1-1.2 .4 2.5 .2 1.6 .3-.2 .5 1 .5-.1 .3 0 .2-1.3 .4-3.3 .1 1.2 .4 3.4 .1-.8 .5 .8 .5-.5 0 .5 .5 .9 0-.2 .4-.9 .1-1 .1-.6 .3-2 .1 1.6 .5 2.1 0 .3 .5-.4 .5-.3 .5 .3 .3-1 .2-.1 .3-1.7 .2 .4 .4 1.5 .1 .5 0-.4 .5 1.1 0 .2 .5-1 .1-.5 .4 .5 .1-.4 .4-.9 .2-.7 .3 1.1 .2 .1 0 1.1 .3 .7 .2-.6 .3 .2 .3 0 .2-1.2 .5 .1 .2 .9 .3-.5 .3-.9 .2-.2 .3 1 .2 .6 .5 0 .5-.1 .5-.7 .5 .6 .5-.4 .5 .2 .5-.4 .5 .5 .5-.2 .5-.1 .5 0 .5 0 .5 0 .5 0 .5 0 .5 0 .5 0 .5-.1 .5 0 .5 0 .5 0 .5 0 .5-.1 .5-.1 .5-.1 .5 0 .5-.1 .5-.1 .5-.1 .4-.1 .5 0 .5-.1 .5-.1 .5-.1 .5 0 .5-.1 .5-.1 .5-.1 .5-.1 .5 0 .5-.1 .5-.1 .5-.1 .5 0 .5-.1 .5-.1 .5-.1 .5-.1 .5 0 .5-.1 .5-.1 .5-.1 .5 0 .5-.1 .5-.1 .5-.1 .5-.1 .5 0 .5-.1 .5-.1 .5-.1 .5 0 .5-.1 .5-.1 .5-.1 .5-.1 .5 0 .5-.1 .5-.1 .5-.1 .5 0 .5-.1 .5-.1 .5-.1 .5-.1 .5 0 .5-.1 .5-.1 .5-.1 .5 0 .5-.1 .5-.1 .5 0 .5 .1 .5 0 .5 0 .5 .1 .5 0 .5 0 .5 0 .5 .1 .5 0 .5 0 .5 .1 .5 0 .5 0 .5 .1 .5 0 .5 0 .5 .1 .5 0 .5 0 .5 .1 .5 0 .5 0 .5 0 .5 .1 .5 0 .5 0 .5 .1 .5 0 .5 0 .5 .1 .5 0 .5 0 .5 .1 .5 0 .5 0 .5 0 .5 .1 .5 0 .5 0 .5 .1 .5 0 .5 0 .5 .1 .5 0 .4 0 .5 .1 .5 0 .5 0 .5 0 .5 0 .5 0 .5 0 .5 0 .5 0 .5 0 .5 0 .5 0 .5-.1 .5 0 .5-.3 .5-1.7 .5-5 .5-8.2 .5-4.7 .5 2.3 .5 3.1 .5-.4 .5-.4 .5 3.3 .5 5.4 .5 4.1 .5 1.8 .5 .6 .5 .1 .5 0 .5 0 .5 0 .5-.1 .5 0 .5 0 .5 0 .5 0 .5 0 .5 0 .5 0 .5 0 .5 0 .5 0 .5 0 .5 0 .5 0 .5 0 .5 0 .5 0 .5 0 .5 0 .5 0 .5-.1 .5 0 .5 0 .5 0 .5-.1 .5 0 .5 0 .5 0 .5-.1 .5 0 .5 0 .5 0 .5 0 .5 0 .5 0 .5 0 .5 0 .5 0 .5 0 .5 0 .5 0 .5 0 .5 0 .5 0 .5 0 .5 0 .5-.1 .5 0 .5 0 .5 0 .5 0 .5-.1 .5 0 .5 0 .5 0 .5 0 .5-.1 .5 0 .5-.1 .5-.5 .5-1.3 .5-1.2 .5-1.3 .5-.9 .5 1.2 .4 1.2 .5 1.1 .5 .6 .5 .5 .5 .8 .5-.4 .5 1.4 .5 .6 .5 .7 .5-.2 .5 2.2 .5-.9 .5 .5 .5 .1 .5 3.3 .5-2.1 .5 1.3 .5-.1 .5 3.1 .5-1.1 .5-.6 .5-3.2 .5 1.4 .5-.8 .5-1.4 .5-.5 .5 4 .5-3.8 .5 .5 .5-.4 .5 .4 .5-1.7 .5 .2 .5-.6 .5-.6 .5-.5 .5 .5 .5 1.1 .5 1 .5 1 .5-.6 .5-.5 .5-.6 .5-.5 .5-.6 .5-.6 .5-.4 .5-.4 .5-.5 .5-.4 .5-.1 .5 .8 .5 .5 .5-.2 .5-.2 .5-.1 .5-.1 .5 0 .5-.1 .5-.1 .5-.1 .5 .1 .5 .2 .5 .2 .5 .2 .5 .2 .5 .1 .5-.1 .5-.1 .5-.1 .5-.1 .5-.1 .5-.1 .5 3.1 .5 2.6 .5-.2 .5-.1 .5-.2 .5-.1 .5-.2 .5-.1 .5-.3 .5-.2 .5-.2 .5-.2 .5-.2 .5-.2 .5-.2 .5-.3 .5-.2 .5 .2 .5 .1 .5-.1 .5-.6 .5-.6 .5-.1 .5 .2 .5 .2 .4 .2 .5-.2 .5-.3 .5-.2 .5-.3 .5-.2 .5-.2 .5-.2 .5-.2 .5-.2 .5-.2 .5-.2 .5-.5 .5-.4 .5-.4 .5-.4 .5-.7 .5-1.3 .5-1.3 .5-1.4 .5-1.3 .5 .8 .5 1.8 .5 1.7 .5 1.1 .5 .9 .5 .9 .1 .2 .4-1.6 .4-1.8 .1 .9 .5 2.8 .1 .5 .4 .1 .5 .2 .5 .1 .5 .1 .5 .2 .5 0 .5 0 .5 0 .5 0 .5 0 .5 .1 .5 0 .5 0 .5 0 .5 0 .5 .1 .5 0 .5 0 .5 0" fill="none" stroke="#7E2F8E" stroke-width="0.9" stroke-linejoin="round"/>
<path d="M203.6 517l.5-.2 .5 .3 0-.1 .5-3.8 .1-1.1 .4 3.6 .1 1.4 .1-.1 .3 .8 .3 1.5 .2-1.2 .3-1 .2-.7 .1 .1 .4-3.3 .1-1.6 .4 3.4 .2 2.1 .3-.2 .5-.6 .5 .5 .3 .1 .2-2.2 .4-2.8 .1 .2 .4 4.3 .1-.4 .5 .2 .5 1.1 0-.7 .5 2.2 0-.8 .4-.8 .1-.7 .1-.7 .3-2.8 .1 1.2 .5 2.5 0-.7 .5-.2 .5 1.2 .5-.6 .3-.5 .2-.7 .3-1.8 .2 1.8 .4 1.1 .1-.6 0 1.2 .5-.4 0 .3 .5-1.1 .1 1 .4-1 .1 .6 .4-1.7 .2-.1 .3 1.2 .2 .3 0 .2 .3 .3 .2 .2 .3-.1 .3-1 .2 .5 .5-.3 .2 .8 .3-.5 .3-1.8 .2 .5 .3 1.5 .2-.2 .5-.6 .5 .7 .5 .2 .5-.5 .5-.1 .5 .1 .5 .2 .5-.4 .5 .1 .5 0 .5 0 .5-.1 .5 0 .5 0 .5 0 .5-.1 .5 0 .5 0 .5 0 .5-.1 .5 0 .5 0 .5-.1 .5 0 .5 0 .5-.1 .5 0 .5 0 .5-.1 .4 0 .5-.1 .5 0 .5 0 .5-.1 .5 0 .5-.1 .5 0 .5 0 .5-.1 .5 0 .5 0 .5-.1 .5 0 .5-.1 .5 0 .5 0 .5-.1 .5 0 .5 0 .5-.1 .5 0 .5-.1 .5 0 .5 0 .5-.1 .5 0 .5 0 .5-.1 .5 0 .5-.1 .5 0 .5 0 .5-.1 .5 0 .5-.1 .5 0 .5 0 .5-.1 .5 0 .5 0 .5-.1 .5 0 .5-.1 .5 0 .5 0 .5-.1 .5 0 .5 0 .5-.1 .5 0 .5-.1 .5 0 .5 0 .5 .1 .5 0 .5 0 .5 0 .5 .1 .5 0 .5 0 .5 0 .5 .1 .5 0 .5 0 .5 .1 .5 0 .5 0 .5 0 .5 .1 .5 0 .5 0 .5 0 .5 .1 .5 0 .5 0 .5 0 .5 .1 .5 0 .5 0 .5 .1 .5 0 .5 0 .5 0 .5 .1 .5 0 .5 0 .5 0 .5 .1 .5 0 .5 0 .5 0 .5 .1 .5 0 .5 0 .5 .1 .5 0 .5 0 .4 0 .5 .1 .5 0 .5 0 .5 0 .5 0 .5 0 .5 .1 .5 0 .5 0 .5 0 .5 0 .5 0 .5 0 .5 0 .5-.2 .5-.8 .5-2.7 .5-4.3 .5-2.5 .5 1.2 .5 1.5 .5-.5 .5-.3 .5 1.8 .5 3.1 .5 2.4 .5 1.1 .5 .3 .5 .1 .5 0 .5 0 .5 0 .5 0 .5 0 .5 .1 .5 0 .5 0 .5 0 .5 0 .5 0 .5 0 .5 0 .5 0 .5 .1 .5 0 .5 0 .5 0 .5 0 .5 0 .5 0 .5 0 .5 0 .5 .1 .5-.1 .5 0 .5 0 .5 0 .5 0 .5 0 .5 0 .5 0 .5 0 .5-.1 .5 0 .5 0 .5 0 .5 0 .5 0 .5 0 .5 0 .5 0 .5 0 .5-.1 .5 0 .5 0 .5 0 .5 0 .5 0 .5-.1 .5 0 .5 0 .5 0 .5-.1 .5 0 .5 0 .5 0 .5 0 .5-.1 .5 0 .5-.1 .5 0 .5-.5 .5-1.3 .5-1.2 .5-1.3 .5-.8 .5 1.1 .4 1.2 .5 1.1 .5 .5 .5 .5 .5 .1 .5 1.2 .5 .1 .5-.2 .5 .9 .5-.9 .5 1.6 .5 3.5 .5-1.2 .5-.8 .5 3.8 .5-2.3 .5 0 .5-.5 .5 .6 .5-.2 .5-.3 .5 2.8 .5-3.5 .5-.4 .5 1.5 .5 1.2 .5-2.9 .5 1.7 .5-1.7 .5 .4 .5-.4 .5 .1 .5-1.1 .5-.7 .5-.5 .5-.4 .5 .4 .5 .8 .5 .8 .5 .8 .5-.5 .5-.4 .5-.4 .5-.5 .5-.4 .5-.5 .5-.4 .5-.4 .5-.4 .5-.5 .5 0 .5 .7 .5 .5 .5-.2 .5-.2 .5-.1 .5-.1 .5 0 .5-.1 .5-.1 .5-.1 .5 .1 .5 .2 .5 .2 .5 .1 .5 .2 .5 .1 .5-.1 .5-.1 .5-.1 .5-.1 .5-.1 .5-.1 .5 2.7 .5 2 .5-.2 .5-.1 .5-.1 .5-.1 .5-.1 .5-.2 .5-.1 .5-.2 .5-.2 .5-.1 .5-.2 .5-.2 .5-.2 .5-.1 .5-.2 .5 .1 .5 .1 .5-.1 .5-.4 .5-.5 .5-.1 .5 .2 .5 .1 .4 .2 .5-.2 .5-.2 .5-.2 .5-.2 .5-.2 .5-.2 .5-.2 .5-.2 .5-.2 .5-.2 .5-.3 .5-.4 .5-.4 .5-.4 .5-.4 .5-.7 .5-1.3 .5-1.3 .5-1.3 .5-1.3 .5 .8 .5 1.7 .5 1.8 .5 .9 .5 .9 .5 .9 .1 .2 .4-1.6 .4-1.8 .1 .9 .5 2.8 .1 .5 .4 .1 .5 .2 .5 .1 .5 .1 .5 .1 .5 0 .5 .1 .5 0 .5 0 .5 0 .5 0 .5 0 .5 0 .5 0 .5 .1 .5 0 .5 0 .5 0 .5 0" fill="none" stroke="#77AC30" stroke-width="0.9" stroke-linejoin="round"/>
<path d="M203.6 541l.5 .1 .5-.4 0 .4 .5-4.1 .1 .1 .4 2.5 .1 1.6 .1-.2 .3 1.2 .3 1.1 .2-1.5 .3-1.2 .2 .4 .1-.5 .4-3.6 .1-1 .4 3.9 .2 1.3 .3-.1 .5-.7 .5 .9 .3-.6 .2-1.7 .4-2.9 .1 .8 .4 3.1 .1 .7 .5-.3 .5 .2 0 .7 .5 .8 0-.4 .4-.2 .1-.8 .1-1.2 .3-1 .1-1 .5 2.3 0 .1 .5 1.2 .5-.5 .5 .1 .3-.7 .2-.7 .3-.7 .2-.5 .4 1.5 .1-.1 0 .7 .5 1.3 0-.5 .5-.9 .1 0 .4-.5 .1 1.2 .4-1.9 .2-.8 .3 .9 .2 1.3 0-.5 .3 1.1 .2-.6 .3-.1 .3-.8 .2 1.1 .5-.2 .2-.4 .3-1.1 .3-.1 .2 .3 .3 1.2 .2 .1 .5-.2 .5-.6 .5-.3 .5 .9 .5-.1 .5-.6 .5 .2 .5-.1 .5 .1 .5-.1 .5-.1 .5 0 .5 0 .5-.1 .5 0 .5 0 .5 0 .5-.1 .5 0 .5 0 .5-.1 .5 0 .5-.1 .5 0 .5 0 .5-.1 .5 0 .5 0 .5-.1 .4 0 .5-.1 .5 0 .5 0 .5-.1 .5 0 .5-.1 .5 0 .5 0 .5-.1 .5 0 .5 0 .5-.1 .5 0 .5-.1 .5 0 .5 0 .5-.1 .5 0 .5 0 .5-.1 .5 0 .5-.1 .5 0 .5 0 .5-.1 .5 0 .5 0 .5-.1 .5 0 .5-.1 .5 0 .5 0 .5-.1 .5 0 .5-.1 .5 0 .5 0 .5-.1 .5 0 .5 0 .5-.1 .5 0 .5-.1 .5 0 .5 0 .5-.1 .5 0 .5 0 .5-.1 .5 0 .5-.1 .5 0 .5 0 .5 0 .5 .1 .5 0 .5 0 .5 0 .5 0 .5 0 .5 0 .5 .1 .5 0 .5 0 .5 0 .5 0 .5 0 .5 .1 .5 0 .5 0 .5 0 .5 0 .5 0 .5 .1 .5 0 .5 0 .5 0 .5 0 .5 0 .5 .1 .5 0 .5 0 .5 0 .5 0 .5 0 .5 .1 .5 0 .5 0 .5 0 .5 0 .5 0 .5 .1 .5 0 .5 0 .5 0 .5 0 .5 0 .4 .1 .5 0 .5 0 .5 0 .5 0 .5 0 .5 0 .5 0 .5 0 .5 0 .5 0 .5 0 .5 0 .5 0 .5 0 .5-.1 .5-.7 .5-2 .5-3.4 .5-1.9 .5 .9 .5 1.3 .5-.2 .5-.2 .5 1.4 .5 2.2 .5 1.8 .5 .7 .5 .3 .5 0 .5 0 .5 0 .5 0 .5 0 .5 0 .5 0 .5 0 .5 0 .5 0 .5 .1 .5 0 .5 0 .5 0 .5 0 .5 0 .5 0 .5 0 .5 0 .5 0 .5 0 .5 0 .5 0 .5 0 .5 0 .5 0 .5 0 .5 0 .5-.1 .5 0 .5 0 .5 0 .5 0 .5 0 .5-.1 .5 0 .5 0 .5 0 .5 0 .5 0 .5-.1 .5 0 .5 0 .5 0 .5 0 .5-.1 .5 0 .5 0 .5 0 .5 0 .5-.1 .5 0 .5 0 .5-.1 .5 0 .5 0 .5 0 .5-.1 .5 0 .5 0 .5-.1 .5 0 .5-.1 .5-.5 .5-1.2 .5-1.2 .5-1.2 .5-.9 .5 1.2 .4 1.1 .5 1.1 .5 .4 .5 .5 .5-.1 .5 .1 .5 2.4 .5-.3 .5 0 .5 1.6 .5-.3 .5 .9 .5-1.5 .5-.4 .5 0 .5 2 .5 2.1 .5-.9 .5-.1 .5 1 .5 .1 .5-1 .5-1.8 .5 2.3 .5-.3 .5 .1 .5-.2 .5-3.7 .5 2.3 .5-1.2 .5-.2 .5-.1 .5-.8 .5 0 .5-.3 .5-.4 .5 .3 .5 .7 .5 .6 .5 .6 .5-.4 .5-.3 .5-.4 .5-.3 .5-.3 .5-.4 .5-.4 .5-.4 .5-.4 .5-.5 .5 0 .5 .7 .5 .4 .5-.1 .5-.2 .5-.1 .5-.1 .5-.1 .5-.1 .5 0 .5-.1 .5 .1 .5 .1 .5 .2 .5 .2 .5 .1 .5 .1 .5-.1 .5-.1 .5-.1 .5-.1 .5-.1 .5-.1 .5 2.3 .5 1.5 .5-.1 .5-.1 .5-.1 .5-.1 .5-.1 .5-.1 .5-.1 .5-.2 .5-.1 .5-.1 .5-.2 .5-.1 .5-.2 .5-.1 .5-.1 .5 .1 .5 0 .5 0 .5-.4 .5-.4 .5-.1 .5 .2 .5 .1 .4 .1 .5-.1 .5-.2 .5-.2 .5-.1 .5-.2 .5-.2 .5-.2 .5-.2 .5-.2 .5-.2 .5-.2 .5-.4 .5-.5 .5-.4 .5-.4 .5-.6 .5-1.3 .5-1.2 .5-1.3 .5-1.3 .5 .8 .5 1.6 .5 1.7 .5 1 .5 .8 .5 .9 .1 .2 .4-1.7 .4-1.7 .1 .8 .5 2.8 .1 .6 .4 0 .5 .2 .5 .1 .5 .1 .5 .1 .5 0 .5 0 .5 0 .5 0 .5 0 .5 0 .5 .1 .5 0 .5 0 .5 0 .5 0 .5 0 .5 0 .5 0" fill="none" stroke="#4DBEEE" stroke-width="0.9" stroke-linejoin="round"/>
<path d="M203.6 569.8l.5-.1 .5 0 0-.1 .5-9.7 .1-1.5 .4 8.9 .1 2 .1 .4 .3 1.8 .3 3.1 .2-2.1 .3-3.6 .2 .9 .1-.7 .4-8.9 .1-2.1 .4 7.3 .2 4.6 .3-.2 .5-.3 .5-1.3 .3 .8 .2-3.2 .4-9.2 .1 2.2 .4 9.7 .1-.1 .5 1.1 .5-1 0 .5 .5 3.7 0 .7 .4-3.9 .1-3.3 .1 1.1 .3-4.9 .1 1 .5 5.3 0-.7 .5-.3 .5 .3 .5 .3 .3-1 .2-1.1 .3-3.5 .2 .4 .4 6 .1-.9 0 1.2 .5 .7 0 .8 .5-2.6 .1 .1 .4-.3 .1-1.2 .4-2.2 .2-1.4 .3 2.5 .2 1.3 0 1.1 .3 .9 .2 0 .3-.9 .3-.4 .2 .9 .5-.4 .2-.3 .3-1.1 .3-2.8 .2 .9 .3 1.8 .2 .1 .5-.3 .5 1 .5 .4 .5-1.2 .5 .7 .5 .2 .5-.3 .5-.6 .5 .3 .5-.2 .5-.1 .5-.2 .5-.1 .5-.1 .5-.2 .5-.1 .5-.2 .5-.1 .5-.1 .5-.2 .5-.1 .5-.2 .5-.1 .5-.1 .5-.2 .5-.1 .5-.2 .5-.1 .5-.1 .4-.2 .5-.1 .5-.2 .5-.1 .5-.2 .5-.1 .5-.1 .5-.2 .5-.1 .5-.2 .5-.1 .5-.1 .5-.2 .5-.1 .5-.2 .5-.1 .5-.1 .5-.2 .5-.1 .5-.2 .5-.1 .5-.1 .5-.2 .5-.1 .5-.2 .5-.1 .5-.1 .5-.2 .5-.1 .5-.2 .5-.1 .5-.2 .5-.1 .5-.1 .5-.2 .5-.1 .5-.2 .5-.1 .5-.1 .5-.2 .5-.1 .5-.1 .5-.1 .5-.1 .5-.3 .5-.3 .5-.4 .5-.3 .5-.2 .5 .1 .5 .3 .5 .4 .5 .4 .5 .4 .5 .3 .5 .1 .5 .2 .5 0 .5 .1 .5 0 .5 .1 .5 0 .5 0 .5 .1 .5 0 .5 0 .5 0 .5 .1 .5 0 .5 0 .5 0 .5 .1 .5 0 .5 0 .5 .1 .5 0 .5 0 .5 0 .5 .1 .5 0 .5 0 .5 .1 .5 0 .5 0 .5 0 .5 .1 .5 0 .5 0 .5 .1 .5 0 .5 0 .5 0 .5 .1 .5 0 .5 0 .5 .1 .5 0 .5 0 .4 0 .5 .1 .5 0 .5 0 .5 0 .5 0 .5 0 .5 0 .5 0 .5 0 .5 0 .5 0 .5 0 .5 0 .5 0 .5-.3 .5-1.6 .5-4.8 .5-7.6 .5-4.5 .5 2.1 .5 2.8 .5-.7 .5-.5 .5 3.2 .5 5.3 .5 4.1 .5 1.9 .5 .5 .5 .1 .5 0 .5 0 .5 0 .5 0 .5 0 .5 0 .5 0 .5 0 .5 0 .5 0 .5 0 .5 0 .5 0 .5 0 .5 0 .5 0 .5 0 .5 0 .5 0 .5 0 .5 0 .5 0 .5 0 .5 0 .5-.1 .5 0 .5 0 .5-.1 .5 0 .5-.1 .5 0 .5-.1 .5 0 .5-.1 .5 0 .5-.1 .5 0 .5-.1 .5 0 .5-.1 .5 0 .5-.1 .5 0 .5 0 .5-.1 .5 0 .5-.1 .5 0 .5-.1 .5 0 .5-.1 .5 0 .5-.1 .5 0 .5-.1 .5 0 .5-.1 .5 0 .5-.1 .5-.1 .5-.1 .5 0 .5-1.1 .5-2.7 .5-2.7 .5-2.7 .5-1.9 .5 2.5 .4 2.5 .5 2.4 .5 1.1 .5 1.1 .5 .5 .5 .5 .5 .1 .5 3.5 .5 3.4 .5-3.4 .5 1.4 .5 2.9 .5-1 .5 4.5 .5 3.5 .5-.6 .5-1.8 .5 1.4 .5 1.5 .5 2.6 .5 .8 .5-4.6 .5-4.3 .5 .3 .5 1 .5-2.6 .5-.3 .5 1.6 .5 1.7 .5-3.7 .5 1.6 .5-1.6 .5-2.4 .5-1.1 .5-1.2 .5-1.1 .5 1 .5 2.1 .5 2 .5 1.9 .5-1.1 .5-1.1 .5-1.1 .5-1.1 .5-1.1 .5-1.1 .5-1 .5-.9 .5-.9 .5-.9 .5-.1 .5 1.5 .5 1.1 .5-.4 .5-.4 .5-.2 .5-.2 .5-.2 .5-.1 .5-.2 .5-.1 .5 .2 .5 .3 .5 .4 .5 .4 .5 .4 .5 .1 .5-.2 .5-.2 .5-.2 .5-.2 .5-.3 .5-.2 .5 6.3 .5 5 .5-.3 .5-.3 .5-.3 .5-.3 .5-.3 .5-.3 .5-.4 .5-.5 .5-.4 .5-.4 .5-.4 .5-.5 .5-.4 .5-.4 .5-.4 .5 .2 .5 .3 .5-.2 .5-1.2 .5-1.2 .5-.2 .5 .4 .5 .4 .4 .4 .5-.5 .5-.5 .5-.5 .5-.5 .5-.5 .5-.4 .5-.4 .5-.4 .5-.4 .5-.4 .5-.6 .5-.9 .5-.9 .5-.9 .5-.9 .5-1.4 .5-2.8 .5-2.8 .5-2.8 .5-2.8 .5 1.6 .5 3.8 .5 3.7 .5 2.1 .5 2 .5 1.9 .1 .4 .4-3.2 .4-3.5 .1 1.7 .5 5.6 .1 1.1 .4 .3 .5 .2 .5 .3 .5 .3 .5 .2 .5 0 .5 .1 .5 0 .5 0 .5 .1 .5 0 .5 0 .5 0 .5 .1 .5 0 .5 0 .5 .1 .5 0 .5 0" fill="none" stroke="#A2142F" stroke-width="1.0" stroke-linejoin="round"/>
<path d="M203.6 588l.5 0 .5 .2 0 .1 .5-7.6 .1-.5 .4 6.1 .1 1.7 .1-.7 .3 1.7 .3 2.4 .2-1 .3-3.1 .2 .3 .1-.3 .4-5.9 .1-1.6 .4 5.1 .2 3.5 .3-1.7 .5 1.3 .5 .1 .3-1.5 .2-1.4 .4-6.3 .1 2.6 .4 5.1 .1 .7 .5 .7 .5-.6 0-.5 .5 1.7 0 2 .4-2.7 .1-.8 .1-2.7 .3-1.7 .1 .8 .5 4.4 0-2.1 .5 .8 .5-.9 .5 1.7 .3-1 .2-.5 .3-3.9 .2 2.5 .4 3 .1-1.5 0 .8 .5 2.2 0-.9 .5-1.7 .1-.4 .4 1.1 .1-1.4 .4-.8 .2-1.3 .3 1.5 .2 0 0 1.7 .3 1 .2-.9 .3-.5 .3 .7 .2-.7 .5-.7 .2-.6 .3 .5 .3-2 .2 1.1 .3 .9 .2 .6 .5 .1 .5-.7 .5-.4 .5 1.3 .5-.2 .5-1.2 .5 .6 .5 0 .5-.2 .5-.1 .5-.1 .5-.1 .5-.1 .5-.1 .5-.1 .5 0 .5-.1 .5-.1 .5-.1 .5-.1 .5-.1 .5-.1 .5-.1 .5-.1 .5-.1 .5-.1 .5-.1 .5-.1 .5-.1 .4-.1 .5-.1 .5-.1 .5-.1 .5-.1 .5-.1 .5-.1 .5-.1 .5-.1 .5-.1 .5-.1 .5-.1 .5-.1 .5-.1 .5-.1 .5-.1 .5-.1 .5-.1 .5-.1 .5-.1 .5-.1 .5-.1 .5-.1 .5-.1 .5-.1 .5-.1 .5-.1 .5-.1 .5-.1 .5-.1 .5-.1 .5-.1 .5-.1 .5-.1 .5-.1 .5-.1 .5-.1 .5-.1 .5-.1 .5-.1 .5-.1 .5 0 .5 .1 .5-.1 .5-.3 .5-.7 .5-.9 .5-1 .5-.6 .5 .1 .5 .9 .5 1.2 .5 .9 .5 .6 .5 .1 .5-.5 .5-.7 .5-.2 .5 .6 .5 .8 .5 .6 .5 .2 .5 0 .5 .1 .5 0 .5 .1 .5 0 .5 .1 .5 0 .5 .1 .5 0 .5 .1 .5 0 .5 .1 .5 .1 .5 0 .5 .1 .5 0 .5 .1 .5 0 .5 .1 .5 0 .5 .1 .5 0 .5 .1 .5 0 .5 .1 .5 0 .5 .1 .5 0 .5 .1 .5 0 .5 .1 .5 0 .5 .1 .5 0 .5 .1 .5 0 .4 .1 .5 0 .5 .1 .5 0 .5 0 .5 0 .5 0 .5 0 .5 0 .5 0 .5 0 .5 0 .5 0 .5 0 .5-.1 .5-.4 .5-2.3 .5-7.2 .5-11.5 .5-6.7 .5 3.2 .5 4.1 .5-1 .5-.8 .5 4.8 .5 8.1 .5 6.1 .5 2.7 .5 .8 .5 .2 .5 0 .5 0 .5 0 .5 0 .5 0 .5 0 .5 0 .5 0 .5-.1 .5 0 .5-.1 .5-.2 .5-.3 .5-.4 .5-.4 .5-.5 .5-.5 .5-.3 .5-.2 .5 .1 .5 .2 .5 .5 .5 .5 .5 .4 .5 .4 .5 .3 .5 .2 .5 .1 .5 0 .5 0 .5 0 .5 0 .5-.1 .5 0 .5 0 .5-.1 .5 0 .5-.1 .5 0 .5 0 .5-.1 .5 0 .5-.1 .5 0 .5 0 .5-.1 .5 0 .5-.1 .5 0 .5 0 .5-.1 .5 0 .5-.1 .5 0 .5 0 .5-.1 .5 0 .5-.1 .5 0 .5-.1 .5-.1 .5-.1 .5-.9 .5-2.3 .5-2.3 .5-2.3 .5-1.6 .5 2.2 .4 2.1 .5 2.1 .5 .9 .5 .9 .5 1.4 .5 1.9 .5-.2 .5 0 .5-.2 .5 1.1 .5 .2 .5 .6 .5 1.6 .5 5.7 .5-1.2 .5 3.2 .5 2 .5 .2 .5-5.9 .5 6.1 .5-7.5 .5 4.5 .5-.4 .5-1.9 .5-2.2 .5-2.6 .5-.1 .5 3.1 .5-2.6 .5 1.1 .5-2 .5-.9 .5-.2 .5-.5 .5-.8 .5-.9 .5 .8 .5 1.5 .5 1.5 .5 1.3 .5-.8 .5-.8 .5-.7 .5-.8 .5-.8 .5-.8 .5-.8 .5-.8 .5-.8 .5-.7 .5-.2 .5 1.4 .5 .9 .5-.4 .5-.3 .5-.2 .5-.1 .5-.2 .5-.1 .5-.2 .5-.1 .5 .2 .5 .3 .5 .3 .5 .3 .5 .3 .5 .2 .5-.2 .5-.2 .5-.2 .5-.1 .5-.2 .5-.2 .5 4.8 .5 3.6 .5-.2 .5-.2 .5-.2 .5-.2 .5-.2 .5-.3 .5-.3 .5-.3 .5-.3 .5-.3 .5-.3 .5-.3 .5-.4 .5-.3 .5-.3 .5 .3 .5 .2 .5-.2 .5-.9 .5-.8 .5-.2 .5 .3 .5 .3 .4 .3 .5-.3 .5-.4 .5-.4 .5-.4 .5-.3 .5-.4 .5-.3 .5-.4 .5-.3 .5-.4 .5-.5 .5-.7 .5-.8 .5-.8 .5-.8 .5-1.2 .5-2.3 .5-2.4 .5-2.4 .5-2.3 .5 1.3 .5 3.2 .5 3.2 .5 1.8 .5 1.6 .5 1.7 .1 .3 .4-4.4 .4-4.5 .1 2.1 .5 6.9 .1 1.4 .4 .2 .5 .2 .5 .3 .5 .2 .5 .2 .5 0 .5 0 .5 .1 .5 0 .5 0 .5 0 .5 .1 .5 0 .5 0 .5 0 .5 .1 .5 0 .5 0 .5 0" fill="none" stroke="#0072BD" stroke-width="1.0" stroke-linejoin="round"/>
<path d="M418.6 428.8l.5 0 .5-.1 .5 .3 .5 .5 .1-1.1 .4-3.8 .3-3.4 .2 2.1 .5 4.9 0-1 .5 1.4 .5-1.7 .5-.1 .5 2.5 .5 .6 .5-.3 .5-2.7 .5 .9 .5-1.4 .5-.3 .5 1.4 .3 .5 .2-.3 .5-5.8 0-3.6 .5 6.5 .2 2 .3 .9 .5-.5 .5 .1 .3-1.2 .2 2.5 .5-4.6 0 1 .5 .4 .2 1.1 .3 4.2 .2-2.7 .3-3.2 .4-2.4 .1 .8 .5 1.7 .1 .9 .3 1.6 .1-2.1 .5-5.7 .1 4.5 .4-1.1 .3 2 .2 3.7 .2 2.8 .3-4.7 .4-6.8 .1 3.3 .5 4.1 .1-1.3 .1 2.3 .3-4 .4-4.8 .1 2.1 .5 7.9 .1 .5 .1 0 .3-5.7 .4 .6 .1-.8 .5 2.6 .1 1.8 .4 .8 .5-.1 .5 1 .5-2.2 .5 .4 .5 1.4 .5-.5 .5 .3 .5 .1 .5 .2 .5 .2 .5 .2 .5 .1 .5 .2 .5 .2 .5 .1 .5 .2 .5 .1 .5 .2 .5 .1 .5 .2 .5 .1 .5 .2 .5 .1 .5 .1 .5 0 .5 .1 .5 0 .5 0 .5 0 .5 0 .5 .1 .5 0 .5 0 .5 0 .5 0 .5 0 .5 0 .5 0 .5 0 .5 0 .5 0 .5 0 .5 0 .5 0 .5 0 .5 0 .5 0 .5 0 .5 0 .5-.1 .5 0 .5 0 .5 0 .5 0 .5 0 .5 0 .5 0 .5 0 .5-.1 .5 0 .5 0 .5 0 .5 0 .5 0 .5 0 .5 0 .5-.1 .5 0 .5 0 .5 0 .5 0 .5 0 .5 0 .5 0 .5-.1 .5 0 .5 0 .5 0 .5 0 .5 0 .5 0 .5 0 .5-.1 .5 0 .5 0 .5 0 .5 0 .5 0 .5 0 .5 0 .5-.1 .5 0 .5 0 .5 0 .5 0 .5 0 .5 0 .5 0 .5-.1 .5 0 .5 0 .5 0 .5 0 .5 0 .5 0 .5 0 .5-.1 .5 0 .5 0 .5 0 .5 0 .5 0 .5 0 .5 0 .5-.1 .5 0 .5 0 .5 0 .5 0 .5 0 .5 0 .5 0 .5-.1 .5 0 .5 0 .5 0 .5 0 .5 0 .5 0 .5 0 .5-.1 .5 0 .5 0 .5 0 .5 0 .5 0 .5-.1 .5 0 .5-.1 .5-.4 .5-.7 .5-1 .5-.7 .5 0 .5 .8 .5 .9 .5 .7 .5 .3 .5 .1 .5 0 .5 0 .5-.1 .5 0 .5 0 .5 0 .5 0 .5 0 .5 0 .5 0 .5-.1 .5 0 .5 0 .5 0 .5 0 .5 0 .5 0 .5-.1 .5 0 .5 0 .5 0 .5 0 .5 0 .5 0 .5-.1 .5 0 .5 0 .5 0 .5 0 .5 0 .5 0 .5-.1 .5 0 .5 0 .4 0 .5 0 .5 0 .5 0 .5-.1 .5 0 .5 0 .5-.1 .5 0 .5 0 .5-.1 .5-.1 .5-.1 .5-.1 .5-.1 .5-.2 .5-.6 .5 .1 .5 .9 .5-1.6 .5 .7 .5-.3 .5-.3 .5-.9 .5 .8 .5-2.6 .5 .2 .5-.5 .5-1.9 .5 1.5 .5 1.1 .5-1 .5-2.1 .5 .4 .5 1.3 .5-1.9 .5 .7 .5 3.2 .5-3.3 .2 .2 .3-1.4 .3 1 .2-1.4 .4 5.8 .1-.6 .5 1.4 .5 .4 .5-.2 .2-1.2 .3-2.6 .3 .7 .2-1.8 .4 2.1 .1 2.9 .5-.3 .5-2.4 .5 2.4 .5 1.1 .5-3.2 .5 1.3 .5-4.4 .5-.8 .3 1.2 .2-3.6 .4-1.2 .1-.6 .5 3.3 0 3.3 .5-.4 .5-.8 .5-4.4 0 .6 .5-9.6 .1 2.6 .4 5.2 .2 .7 .3 5.2 .5-5.2 0-.3 .5 2 .1-3.2 .4 5.5 .2-.3 .3-2.4 0 2 .5-2.9 .1-5.2 .4 8.8 .2-.2 .3 1.2 .5-.4 .5 3.1 .5-1 .5 .4 .5-1.4 .5 3.8 .5-2.2 .5 2.5 .5-2.4 .5 .9 .5 2.5 .5-1.1 .5 1.4 .5 .5 .5-1 .5 .7 .5-.4 .5-.7 .5 1.9 .5-.6 .5 .4 .5-.5 .5 .1 .5 0 .5 0 .5 0 .5 0 .5 0 .5 0 .5 0 .5 0 .5 0 .5 0 .5 0 .5 0 .5 0 .5 0 .5 0 .5 0 .5 0 .5 0 .5 0 .5 0 .5 0 .5 0 .5 0 .5 0 .5 0 .5 0 .5 0 .5 0 .5 0 .5 0 .5 0 .5 0 .5 0 .5 0 .5 0 .5 0 .5 0 .5 0 .5 0 .5 0 .5 0 .5 0 .5 0 .5 0 .5 0 .5 0 .5 .1 .5 0 .5 .1 .5 .1 .5 .1 .5 .2 .5 .3 .5 .3 .5 .4 .5 .5 .5-.1 .5 1 .5 .2 .5 0 .5 0 .5 .2 .5-.3 .5 1.1 .5-.8 .5-1 .5 .6 .5 .3 .5-.3 .5-2.4 .5 .9 .5-.3 .5-.6 .5-.5 .5 .1 .5-.4 .5 .1 .5-.6 .5 1.2 .5 .3 .5 .2 .5-1.2 .5-.3 .5 .1 .5-.4 .5 1 .5-1 .5-.2 .5-1.2 .5-1.5 .5 0" fill="none" stroke="#0072BD" stroke-width="1.0" stroke-linejoin="round"/>
<path d="M418.6 451.2l.5-.1 .5 .2 .5 .1 .5-.2 .1-.3 .4-2.3 .3-2 .2 1.3 .5 2.7 0 1 .5-1.1 .5 .1 .5 1.1 .5-.9 .5 .2 .5 .1 .5-1.5 .5 2.2 .5 .2 .5-2.4 .5 1.4 .3 .6 .2-1.9 .5-3.8 0-1.8 .5 5.9 .2 1.5 .3-1.1 .5 .1 .5-1.2 .3 .3 .2 .7 .5-1.3 0-1.8 .5 1.3 .2 3.3 .3-2.5 .2 1.6 .3-1.8 .4-2 .1 1.9 .5 1.9 .1-1.9 .3-1.5 .1 .1 .5 1.4 .1-3.1 .4 4.2 .3-.4 .2-.1 .2 2.7 .3-4.9 .4-.6 .1-.8 .5 3 .1 3.4 .1-2.6 .3 1.8 .4-5.4 .1 0 .5 2.8 .1 3 .1-1.8 .3 1.7 .4-4.2 .1-1.4 .5 4.3 .1-1 .4 2.4 .5-.5 .5 .2 .5 .2 .5 .2 .5-.2 .5-.7 .5 .7 .5-.2 .5 .1 .5 .1 .5 .1 .5 0 .5 .1 .5 .1 .5 .1 .5 .1 .5 0 .5 .1 .5 .1 .5 .1 .5 0 .5 .1 .5 .1 .5 0 .5 0 .5 0 .5 .1 .5 0 .5 0 .5 0 .5 0 .5 0 .5 .1 .5 0 .5 0 .5 0 .5 0 .5 0 .5 0 .5 0 .5 0 .5 0 .5 0 .5 0 .5 0 .5 0 .5 0 .5 0 .5 0 .5 0 .5 0 .5 0 .5 0 .5 0 .5 0 .5 0 .5 0 .5 0 .5-.1 .5 0 .5 0 .5-.1 .5 0 .5-.1 .5-.1 .5-.1 .5-.3 .5-.2 .5 .3 .5-.6 .5-.3 .5 .1 .5 .1 .5-.4 .5 .3 .5-.7 .5 .1 .5 .2 .5-.5 .5 .4 .5-.4 .5-.5 .5 0 .5 1.1 .5 0 .5 .3 .5-.3 .5-.2 .5-.5 .5 1 .5-1 .5 .5 .5-.3 .5 .4 .5 0 .5 .3 .5 .4 .5 0 .5-.2 .5 .6 .5 0 .5 .1 .5 .1 .5 .1 .5 0 .5 .1 .5 .1 .5 0 .5 .1 .5 0 .5 0 .5 0 .5 0 .5 0 .5 0 .5 .1 .5 0 .5 0 .5-.1 .5 0 .5 0 .5 0 .5 0 .5 0 .5 0 .5 0 .5 0 .5 0 .5 0 .5 0 .5 0 .5 0 .5 0 .5 0 .5 0 .5 0 .5 0 .5 0 .5-.3 .5-1.5 .5-5.1 .5-9.7 .5-7.6 .5 1.3 .5 4.5 .5 .2 .5-1.2 .5 3 .5 6.5 .5 5.8 .5 2.9 .5 .9 .5 .2 .5 .1 .5 0 .5 0 .5 0 .5-.1 .5 0 .5 0 .5 0 .5 0 .5 0 .5 0 .5 0 .5 0 .5 0 .5 0 .5 0 .5 0 .5 0 .5 0 .5 0 .5 0 .5 0 .5 0 .5 0 .5 0 .5 0 .5 0 .5 0 .5 0 .5 0 .4 0 .5 0 .5 0 .5 0 .5 0 .5-.1 .5 0 .5 0 .5 0 .5 0 .5-.1 .5 0 .5-.1 .5-.1 .5-.1 .5-.1 .5-.6 .5 .4 .5 .3 .5-1.4 .5-.4 .5 1.1 .5-1.4 .5-.2 .5 .8 .5-1.6 .5-.9 .5-.2 .5 .1 .5 1 .5-1.3 .5 1.3 .5-2.7 .5 .7 .5 1.6 .5-.5 .5 .3 .5 2 .5-2.5 .5-.2 .5-.4 .5 2.2 .5-.6 .5 1 .5-1.9 .5 0 .5 1.9 .5 1.9 .5-1.9 .5 3.4 .5-1 .5-.8 .5 1.3 .5-3.6 .5 .9 .5 .5 .3-1.7 .2-2.9 .4-3.6 .1 3.1 .5 .9 0 .9 .5 .5 .5 1.6 .5-1.4 0-1 .5-3.5 .1-3.4 .4 4.5 .2 3.1 .3-.5 .5-1.5 .5 1 .5 2 .5-2.4 0 2.1 .5-6 .1 3.4 .4 1.7 .2-.1 .3 3 .5-.4 .5-2.7 .5 1.2 .5 1.3 .5 2.3 .5-3 .5 0 .5 1.3 .5-.7 .5 1.5 .5 .6 .5-.2 .5-.7 .5-.2 .5 2.1 .5-.8 .5 .2 .5 0 .5 .4 .5 .2 .5-.2 .5-.3 .5 0 .5 0 .5 0 .5 0 .5 0 .5 0 .5 0 .5 0 .5 0 .5 0 .5 0 .5 0 .5 0 .5 0 .5 0 .5 0 .5 0 .5 0 .5 0 .5 0 .5 0 .5 0 .5 0 .5 0 .5 0 .5 0 .5 0 .5 0 .5 0 .5 0 .5 0 .5 0 .5 0 .5 0 .5-.1 .5 0 .5 0 .5 0 .5 0 .5 0 .5 0 .5 0 .5 0 .5 0 .5 0 .5 0 .5 0 .5 0 .5 0 .5 0 .5 0 .5 0 .5 0 .5 0 .5 0 .5 0 .5 0 .5 0 .5 0 .5 0 .5 0 .5 0 .5 0 .5 0 .5 0 .5 0 .5 0 .5 0 .5 0 .5 0 .1 0 .4-5.3 .3-3.7 .2 2.2 .5 6 .1 .7 .4 0 .5 0 .5 0 .5 0 .5 0 .5 0 .5 0 .5 0 .5 0 .5 0 .5 0 .5 0 .5 0 .5 0 .5-.1 .5-.3 .5-.5 .5-.5 .5 0" fill="none" stroke="#D95319" stroke-width="1.0" stroke-linejoin="round"/>
<path d="M418.6 475.2l.5 0 .5 0 .5 0 .5 0 .5 0 .5 0 .5 0 .5 0 .5 0 .5 0 .5 0 .5 0 .5 0 .5 0 .5 0 .5 0 .5 0 .5 0 .5 0 .5 0 .5 0 .5 0 .5 0 .5 0 .5 0 .5 0 .5 0 .5 0 .5 0 .5 0 .5 0 .5 0 .5 0 .5 0 .5 0 .5 0 .5 0 .5 0 .5 0 .5 0 .5 0 .5 0 .5 0 .5 0 .5 0 .5 0 .5 0 .5 0 .5 0 .5 0 .5 0 .5 0 .5 0 .5 0 .5 0 .5 0 .5 0 .5 0 .5 0 .5 0 .5 0 .5 0 .5 0 .5 0 .5 0 .5 0 .5 0 .5 0 .5 0 .5 0 .5 0 .5 0 .5 0 .5 0 .5 0 .5 0 .5 0 .5 0 .5 0 .5 0 .5 0 .5 0 .5 0 .5 0 .5 0 .5 0 .5 0 .5 0 .5 0 .5 0 .5 0 .5 0 .5 0 .5 0 .5 0 .5 0 .5 0 .5 0 .5 0 .5 0 .5 0 .5 0 .5 0 .5 0 .5 0 .5 0 .5 0 .5 0 .5 0 .5 0 .5 0 .5 0 .5 0 .5 0 .5 0 .5 0 .5 0 .5 0 .5 0 .5 0 .5 0 .5 0 .5 0 .5 0 .5 0 .5 0 .5 0 .5 0 .5 0 .5 0 .5 0 .5 0 .5 0 .5 0 .5 0 .5 0 .5 0 .5 0 .5 0 .5 0 .5 0 .5 0 .5 0 .5 0 .5 0 .5 0 .5 0 .5 0 .5 0 .5 0 .5 0 .5 0 .5 0 .5 0 .5 0 .5 0 .5 0 .5 0 .5 0 .5 0 .5 0 .5 0 .5 0 .5 0 .5 0 .5 0 .5 0 .5 0 .5 0 .5 0 .5 0 .5 0 .5 0 .5 0 .5 0 .5 0 .5 0 .5 0 .5 0 .5 0 .5 0 .5 0 .5 0 .5-.1 .5-.7 .5-3.7 .5-10.6 .5-9.8 .5 4 .5 6.8 .5-3 .5-5.9 .5 3.9 .5 10.4 .5 6.5 .5 1.8 .5 .3 .5 .1 .5 0 .5 0 .5 0 .5 0 .5 0 .5 0 .5 0 .5 0 .5 0 .5 0 .5 0 .5 0 .5 0 .5 0 .5 0 .5 0 .5 0 .5 0 .5 0 .5 0 .5 0 .5 0 .5 0 .5 0 .5 0 .5 0 .5 0 .5 0 .5 0 .5 0 .4 0 .5 0 .5 0 .5 0 .5 0 .5 0 .5 0 .5 0 .5 0 .5 0 .5 0 .5 0 .5 0 .5 0 .5 0 .5 0 .5 0 .5 0 .5 0 .5 0 .5 0 .5 0 .5 0 .5 0 .5 0 .5 0 .5 0 .5 0 .5 0 .5 0 .5 0 .5 0 .5 0 .5 0 .5 0 .5 0 .5 0 .5 0 .5 0 .5 0 .5 0 .5 0 .5 0 .5 0 .5 0 .5 0 .5 0 .5 0 .5 0 .5 0 .5 0 .5 0 .5 0 .5 0 .5 0 .5 0 .5 0 .5 0 .5 0 .5 0 .5 0 .5 0 .5 0 .5 0 .5 0 .5 0 .5 0 .5 0 .5 0 .5 0 .5 0 .5 0 .5 0 .5 0 .5 0 .5 0 .5 0 .5 0 .5 0 .5 0 .5 0 .5 0 .5 0 .5 0 .5 0 .5 0 .5 0 .5 0 .5 0 .5 0 .5 0 .5 0 .5 0 .5 0 .5 0 .5 0 .5 0 .5 0 .5 0 .5 0 .5 0 .5 0 .5 0 .5 0 .5 0 .5 0 .5 0 .5 0 .5 0 .5 0 .5 0 .5 0 .5 0 .5 0 .5 0 .5 0 .5 0 .5 0 .5 0 .5 0 .5 0 .5 0 .5 0 .5 0 .5 0 .5 0 .5 0 .5 0 .5 0 .5 0 .5 0 .5 0 .5 0 .5 0 .5 0 .5 0 .5 0 .5 0 .5 0 .5 0 .5 0 .5 0 .5 0 .5 0 .5 0 .5 0 .5 0 .5 0 .5 0 .5 0 .5 0 .5 0 .5 0 .5 0 .5 0 .5 0 .5 0 .5 0 .5 0 .5 0 .5 0 .5 0 .5 0 .5 0 .1 0 .4-5.8 .3-4.2 .2 2.5 .5 6.6 .1 .9 .4 0 .5 0 .5 0 .5 0 .5 0 .5 0 .5 0 .5 0 .5 0 .5 0 .5 0 .5 0 .5 0 .5 0 .5 0 .5 0 .5 0 .5 0 .5 0" fill="none" stroke="#EDB120" stroke-width="1.0" stroke-linejoin="round"/>
<path d="M418.6 497.2l.5 0 .5 0 .5 0 .5 0 .5 0 .5 0 .5 0 .5 0 .5 0 .5 0 .5 0 .5 0 .5 0 .5 0 .5 0 .5 0 .5 0 .5 0 .5 0 .5 0 .5 0 .5 0 .5 0 .5 0 .5 0 .5 0 .5 0 .5 0 .5 0 .5 0 .5 0 .5 0 .5 0 .5 0 .5 0 .5 0 .5 0 .5 0 .5 0 .5 0 .5 0 .5 0 .5 0 .5 0 .5 0 .5 0 .5 0 .5 0 .5 0 .5 0 .5 0 .5 0 .5 0 .5 0 .5 0 .5 0 .5 0 .5 0 .5 0 .5 0 .5 0 .5 0 .5 0 .5 0 .5 0 .5 0 .5 0 .5 0 .5 0 .5 0 .5 0 .5 0 .5 0 .5 0 .5 0 .5 0 .5 0 .5 0 .5 0 .5 0 .5 0 .5 0 .5 0 .5 0 .5 0 .5 0 .5 0 .5 0 .5 0 .5 0 .5 0 .5 0 .5 0 .5 0 .5 0 .5 0 .5 0 .5 0 .5 0 .5 0 .5 0 .5 0 .5 0 .5 0 .5 0 .5 0 .5 0 .5 0 .5 0 .5 0 .5 0 .5 0 .5 0 .5 0 .5 0 .5 0 .5 0 .5 0 .5 0 .5 0 .5 0 .5 0 .5 0 .5 0 .5 0 .5 0 .5 0 .5 0 .5 0 .5 0 .5 0 .5 0 .5 0 .5 0 .5 0 .5 0 .5 0 .5 0 .5 0 .5 0 .5 0 .5 0 .5 0 .5 0 .5 0 .5 0 .5 0 .5 0 .5 0 .5 0 .5 0 .5 0 .5 0 .5 0 .5 0 .5 0 .5 0 .5 0 .5 0 .5 0 .5 0 .5 0 .5 0 .5 0 .5 0 .5 0 .5 0 .5 0 .5 0 .5 0 .5 0 .5 0 .5 0 .5 0 .5 0 .5 0 .5 0 .5 0 .5 0 .5 0 .5 0 .5 0 .5 0 .5-.1 .5-.7 .5-3.5 .5-10.1 .5-9.4 .5 3.9 .5 6.5 .5-2.9 .5-5.5 .5 3.7 .5 9.8 .5 6.2 .5 1.7 .5 .3 .5 .1 .5 0 .5 0 .5 0 .5 0 .5 0 .5 0 .5 0 .5 0 .5 0 .5 0 .5 0 .5 0 .5 0 .5 0 .5 0 .5 0 .5 0 .5 0 .5 0 .5 0 .5 0 .5 0 .5 0 .5 0 .5 0 .5 0 .5 0 .5 0 .5 0 .5 0 .4 0 .5 0 .5 0 .5 0 .5 0 .5 0 .5 0 .5 0 .5 0 .5 0 .5 0 .5 0 .5 0 .5 0 .5 0 .5 0 .5 0 .5 0 .5 0 .5 0 .5 0 .5 0 .5 0 .5 0 .5 0 .5 0 .5 0 .5 0 .5 0 .5 0 .5 0 .5 0 .5 0 .5 0 .5 0 .5 0 .5 0 .5 0 .5 0 .5 0 .5 0 .5 0 .5 0 .5 0 .5 0 .5 0 .5 0 .5 0 .5 0 .5 0 .5 0 .5 0 .5 0 .5 0 .5 0 .5 0 .5 0 .5 0 .5 0 .5 0 .5 0 .5 0 .5 0 .5 0 .5 0 .5 0 .5 0 .5 0 .5 0 .5 0 .5 0 .5 0 .5 0 .5 0 .5 0 .5 0 .5 0 .5 0 .5 0 .5 0 .5 0 .5 0 .5 0 .5 0 .5 0 .5 0 .5 0 .5 0 .5 0 .5 0 .5 0 .5 0 .5 0 .5 0 .5 0 .5 0 .5 0 .5 0 .5 0 .5 0 .5 0 .5 0 .5 0 .5 0 .5 0 .5 0 .5 0 .5 0 .5 0 .5 0 .5 0 .5 0 .5 0 .5 0 .5 0 .5 0 .5 0 .5 0 .5 0 .5 0 .5 0 .5 0 .5 0 .5 0 .5 0 .5 0 .5 0 .5 0 .5 0 .5 0 .5 0 .5 0 .5 0 .5 0 .5 0 .5 0 .5 0 .5 0 .5 0 .5 0 .5 0 .5 0 .5 0 .5 0 .5 0 .5 0 .5 0 .5 0 .5 0 .5 0 .5 0 .5 0 .5 0 .5 0 .5 0 .5 0 .5 0 .5 0 .5 0 .5 0 .5 0 .5 0 .5 0 .5 0 .1 0 .4-5.8 .3-4.2 .2 2.5 .5 6.6 .1 .9 .4 0 .5 0 .5 0 .5 0 .5 0 .5 0 .5 0 .5 0 .5 0 .5 0 .5 0 .5 0 .5 0 .5 0 .5 0 .5 0 .5 0 .5 0 .5 0" fill="none" stroke="#7E2F8E" stroke-width="1.0" stroke-linejoin="round"/>
<path d="M418.6 520.7l.5 0 .5 0 .5 0 .3-.1 .2-.9 .4-1.9 .1 .7 .4 2.1 .1 0 0 0 .5 1.1 .1 .2 .4-1 .1-.3 .3 0 .1-.8 .4-2.3 .1 .5 .5 2.5 0 0 .5 0 .5 0 .5 0 .2 0 .3-1.9 .2-1.1 .3 1.6 .3 1.3 .2 0 .5 0 .3 0 .2 .4 .3 .5 .2-.3 .2-.3 .2-.9 .1-.5 .2-.7 .3 .8 .3 .9 .2 0 .5 0 .5 0 .5 0 .1 0 .4-1.2 .1-.4 .4 1 .2 .5 .1 0 .2 .2 .4 .3 .1-.1 .4-.4 .1 0 .5 0 0 0 .5-.9 .1-.1 .4 .8 0 0 .1 .2 .4 .3 .1 0 .4-.3 .1-.1 .4 0 .5 0 .1 0 .4-.6 .1-.2 .4 .5 .2 .3 .3-.1 .5 0 .5 0 .5 0 .5 0 .5-.1 .5 0 .5 0 .5 0 .5-.1 .5 0 .5 0 .5 0 .5-.1 .5 0 .5 0 .5-.1 .5 0 .5 0 .5 0 .5-.1 .5 0 .5 0 .5 0 .5-.1 .5 0 .5 0 .5-.1 .5 0 .5 0 .5 0 .5-.1 .5 0 .5 0 .5 0 .5-.1 .5 0 .5 0 .5-.1 .5 0 .5 0 .5 0 .5-.1 .5 0 .5 0 .5-.1 .5 0 .5 0 .5 0 .5-.1 .5 0 .5 0 .5 0 .5-.1 .5 0 .5 0 .5-.1 .5 0 .5 0 .5 0 .5 0 .5 0 .5 0 .5 0 .5 0 .5 0 .5 0 .5 0 .5 0 .5 0 .5 0 .5 0 .5 0 .5 0 .5 0 .5 0 .5 0 .5 0 .5 0 .5 0 .5 0 .5 0 .5 0 .5 0 .5 0 .5 0 .5 0 .5 0 .5 0 .5 0 .5 .1 .5 0 .5 0 .5 0 .5 0 .5 0 .5 0 .5 0 .5 0 .5 0 .5 0 .5 0 .5 0 .5 0 .5 0 .5 0 .5 0 .5 0 .5 0 .5 0 .5 0 .5 0 .5 0 .5 0 .5 0 .5 0 .5 0 .5 0 .5 0 .5 0 .5 0 .5 0 .5 0 .5 0 .5 0 .5 0 .5 0 .5 0 .5 0 .5 0 .5 0 .5 0 .5 0 .5 0 .5 0 .5 0 .5 0 .5 0 .5 0 .5 0 .5 0 .5 0 .5 0 .5-.1 .5-.6 .5-3.5 .5-10.2 .5-9.4 .5 3.9 .5 6.5 .5-2.8 .5-5.5 .5 3.6 .5 9.9 .5 6.1 .5 1.8 .5 .3 .5 0 .5 .1 .5 0 .5 0 .5 0 .5 0 .5 0 .5 0 .5 0 .5 0 .5 0 .5 0 .5 0 .5 0 .5 0 .5 0 .5 0 .5 0 .5 0 .5 0 .5 0 .5 0 .5 0 .5 0 .5 0 .5 0 .5 0 .5 0 .5 0 .5 0 .5 0 .4 0 .5 0 .5-.1 .5 0 .5 0 .5 0 .5 0 .5 0 .5 0 .5 0 .5 0 .5 0 .5 0 .5 0 .5 0 .5 0 .5 0 .5 0 .5 0 .5 0 .5-.1 .5 0 .5 0 .5 0 .5 0 .5 0 .5 0 .5 0 .5 0 .5 0 .5 0 .5 0 .5 0 .5-.4 .5-.4 .5-.4 .5-.4 .5 .1 .5 .4 .5 .3 .5 .3 .5 .3 .5 .5 .5 .3 .5 .2 .5-.7 .5 1.4 .5-.8 .5 0 .5-.2 .5 1.2 .5-.5 .5 .5 .5 1.1 .5 .7 .5 .3 .5-1.3 .5-.3 .5 .3 .5 .4 .5 .4 .5-.3 .5 .1 .5-.8 .5 0 .5-.7 .5 0 .5-.2 .5 .2 .5-.2 .5-.3 .5-.2 .5-.3 .5-.2 .5-.1 .5 .3 .5 .4 .5 .4 .5 .2 .5-.2 .5-.2 .5-.3 .5-.2 .5-.2 .5-.2 .5-.1 .5-.2 .5-.1 .5-.1 .5 .1 .5 .2 .5 .1 .5-.1 .5 0 .5-.1 .5 0 .5 0 .5 0 .5-.1 .5 0 .5 .1 .5 0 .5 .1 .5 0 .5 .1 .5 0 .5 0 .5-.1 .5 0 .5 0 .5 0 .5 0 .5 1.5 .5 .5 .5 0 .5-.1 .5 0 .5-.1 .5 0 .5-.1 .5-.1 .5-.1 .5-.1 .5 0 .5-.1 .5-.1 .5-.1 .5-.1 .5 0 .5 0 .5 .1 .5-.1 .5-.2 .5-.3 .5 0 .5 .1 .5 .1 .5 .1 .5-.1 .5-.1 .5-.1 .5-.1 .5-.1 .5-.1 .5 0 .5-.1 .5-.1 .5 0 .5-.1 .5-.1 .5-.2 .5-.1 .5-.1 .5-.3 .5-.4 .5-.4 .5-.4 .5-.4 .5 .3 .5 .5 .5 .6 .5 .3 .5 .3 .5 .3 .1 0 .4-4.5 .3-3.3 .2 2 .5 5.4 .1 .7 .4 0 .5 .1 .5 0 .5 .1 .5 0 .5 0 .5 0 .5 0 .5 0 .5 0 .5 0 .5 0 .5 0 .5 0 .5 0 .5 .1 .5 0 .5 0 .5 0" fill="none" stroke="#77AC30" stroke-width="1.0" stroke-linejoin="round"/>
<path d="M418.6 547.4l.5 0 .5 0 .5 .4 .3 .1 .2-2.9 .4-7.6 .1 4.2 .4 5.9 .1 .6 0 0 .5 4.5 .1-1.6 .4-3.2 .1 .3 .3-.5 .1-1.9 .4-9.1 .1 4.2 .5 4.2 0 3.2 .5-1.6 .5-1.8 .5 3.2 .2-3.2 .3-5.5 .2-3.1 .3 4.5 .3 4.5 .2-.5 .5 4.3 .3-4.3 .2 1.6 .3 1.3 .2 3.8 .2-3.1 .2-1.5 .1-.5 .2-5.3 .3 2.3 .3 3 .2-.8 .5 2 .5 2.2 .5-2.8 .1 1.5 .4-3 .1-1.7 .4 2.4 .2 1 .1-2.7 .2 2.3 .4 3.9 .1-2.9 .4 .1 .1-2.4 .5 1.8 0-2.1 .5 .2 .1-.2 .4-1.7 0 3.8 .1-2.6 .4 5.6 .1-4.1 .4-1.1 .1 3.7 .4-1.5 .5-3 .1 2.3 .4-.1 .1-3.9 .4 4.4 .2-1.3 .3 .7 .5-.2 .5-1.4 .5 1.4 .5 .4 .5 .2 .5-.4 .5-1 .5 .8 .5-.4 .5 0 .5-.1 .5-.1 .5-.1 .5-.1 .5-.1 .5-.1 .5-.1 .5-.1 .5-.1 .5-.2 .5-.1 .5-.1 .5-.1 .5-.1 .5-.1 .5-.1 .5-.1 .5-.1 .5-.1 .5-.2 .5-.1 .5-.1 .5-.1 .5-.1 .5-.1 .5-.1 .5-.1 .5-.1 .5-.1 .5-.1 .5-.1 .5 0 .5 0 .5-.1 .5 0 .5 0 .5-.1 .5 0 .5 0 .5-.1 .5 0 .5 0 .5-.1 .5 0 .5 0 .5-.1 .5 0 .5-.1 .5 0 .5 0 .5-.1 .5 0 .5 0 .5-.1 .5 0 .5 0 .5-.1 .5 0 .5 0 .5-.1 .5 0 .5 0 .5-.1 .5 0 .5-.1 .5 0 .5 0 .5-.1 .5 0 .5 0 .5-.1 .5 0 .5 0 .5 0 .5 0 .5 0 .5 0 .5 0 .5 .1 .5 0 .5 0 .5 0 .5 0 .5 0 .5 0 .5 0 .5 0 .5 0 .5 0 .5 0 .5 .1 .5 0 .5 0 .5 0 .5 0 .5 0 .5 0 .5 0 .5 0 .5 0 .5 0 .5 0 .5 .1 .5 0 .5 0 .5 0 .5 0 .5 0 .5 0 .5 0 .5 0 .5 0 .5 0 .5 0 .5 .1 .5 0 .5 0 .5 0 .5 0 .5 0 .5 0 .5 0 .5 0 .5 0 .5 0 .5 0 .5 0 .5 0 .5 0 .5 0 .5 0 .5 0 .5-.2 .5-.6 .5-3.9 .5-11.1 .5-10.3 .5 4.3 .5 7.1 .5-3.3 .5-6.1 .5 4 .5 10.9 .5 6.9 .5 1.9 .5 .3 .5 .1 .5 0 .5 0 .5 0 .5 0 .5 0 .5 0 .5 0 .5 0 .5 0 .5 0 .5 0 .5 0 .5 0 .5 0 .5 0 .5 0 .5 0 .5 0 .5 0 .5 0 .5 0 .5 0 .5 0 .5 0 .5 0 .5-.1 .5 0 .5 0 .5 0 .5-.1 .4 0 .5 0 .5-.1 .5 0 .5 0 .5-.1 .5 0 .5 0 .5-.1 .5 0 .5 0 .5 0 .5-.1 .5 0 .5 0 .5-.1 .5 0 .5 0 .5-.1 .5 0 .5 0 .5 0 .5-.1 .5 0 .5 0 .5-.1 .5 0 .5 0 .5-.1 .5 0 .5-.1 .5 0 .5-.1 .5-1.6 .5-1 .5-3.7 .5 .5 .5-2.4 .5 3.8 .5 .4 .5 1.8 .5 2.1 .5 1.6 .5-5 .5 7.2 .5-.9 .5-3.3 .5 6 .5 2.1 .5-2.5 .5 5.7 .5-5 .5 3.9 .5-.6 .5 6.5 .5-3.4 .5 .8 .5 5.9 .5-6.3 .5-.6 .5 .9 .5-5.4 .5 4.9 .5-1.5 .5-2 .5 1.9 .5 0 .5-6 .5 5.1 .5-4 .5 .5 .5-1.8 .5 .3 .5-2.2 .5-2.6 .5 1.7 .5 2.6 .5 1.8 .5 .6 .5-.9 .5-1 .5-.9 .5-1 .5-1 .5-.9 .5-.6 .5-.5 .5-.6 .5-.6 .5 .4 .5 1 .5 .3 .5-.3 .5-.2 .5-.1 .5-.1 .5-.1 .5-.1 .5-.1 .5-.1 .5 .2 .5 .2 .5 .3 .5 .2 .5 .3 .5 0 .5-.2 .5-.1 .5-.2 .5-.1 .5-.1 .5 .2 .5 6.5 .5 2.5 .5-.3 .5-.3 .5-.2 .5-.3 .5-.2 .5-.3 .5-.4 .5-.4 .5-.4 .5-.3 .5-.4 .5-.4 .5-.4 .5-.4 .5-.2 .5 .3 .5 .2 .5-.5 .5-1 .5-1 .5 0 .5 .4 .5 .4 .5 .2 .5-.4 .5-.5 .5-.4 .5-.5 .5-.3 .5-.3 .5-.2 .5-.3 .5-.3 .5-.2 .5-.5 .5-.6 .5-.5 .5-.6 .5-.6 .5-1.1 .5-1.8 .5-1.8 .5-1.8 .5-1.8 .5 1.5 .5 2.4 .5 2.4 .5 1.3 .5 1.2 .5 1.3 .1 .1 .4-2.7 .3-2.4 .2 1.6 .5 4.2 .1 .5 .4 .1 .5 .2 .5 .2 .5 .2 .5 .1 .5 0 .5 .1 .5 0 .5 0 .5 0 .5 0 .5 0 .5 .1 .5 0 .5 0 .5 0 .5 0 .5 .1 .5 0" fill="none" stroke="#4DBEEE" stroke-width="1.0" stroke-linejoin="round"/>
<path d="M418.6 568.7l.5 0 .5-.2 .5 .8 .3 .1 .2-2.8 .4-5.8 .1 2.3 .4 4.2 .1 1.6 0-1 .5 4.8 .1-.3 .4-2.8 .1-1 .3 .1 .1-1.4 .4-6.2 .1-.8 .5 9.3 0 .3 .5-2 .5-1.1 .5 1.5 .2 1.1 .3-6.7 .2-4.8 .3 7.2 .3 2.4 .2 2.5 .5-3.3 .3 1.9 .2 .2 .3 4.4 .2-5 .2 2.7 .2-5 .1-1.5 .2-3 .3 4 .3 4.8 .2 .3 .5-.3 .5-1.6 .5-1.9 .1 1.3 .4-2.7 .1-3 .4 6.5 .2-2.9 .1 .7 .2 .4 .4 .8 .1-.9 .4-.3 .1 .6 .5 2.7 0-1.9 .5-2.4 .1-1.6 .4 1.7 0 2 .1 1.3 .4-2.2 .1 2.7 .4-2.8 .1 1.9 .4-1.5 .5-.9 .1 0 .4 1 .1-1.7 .4-.3 .2 4 .3-2.5 .5 .1 .5-.9 .5 1 .5 .7 .5 .8 .5-1.6 .5 .4 .5-.7 .5 .6 .5-.2 .5 0 .5-.1 .5-.1 .5-.1 .5-.1 .5-.1 .5 0 .5-.1 .5-.1 .5-.1 .5-.1 .5-.1 .5 0 .5-.1 .5-.1 .5-.1 .5-.1 .5-.1 .5 0 .5-.1 .5-.1 .5-.1 .5-.1 .5 0 .5-.1 .5-.1 .5-.1 .5-.1 .5-.1 .5 0 .5-.1 .5 0 .5 0 .5-.1 .5 0 .5-.1 .5 0 .5-.1 .5 0 .5 0 .5-.1 .5 0 .5-.1 .5 0 .5-.1 .5 0 .5 0 .5-.1 .5 0 .5-.1 .5 0 .5-.1 .5 0 .5 0 .5-.1 .5 0 .5-.1 .5 0 .5-.1 .5 0 .5 0 .5-.1 .5 0 .5-.1 .5 0 .5 0 .5-.1 .5 0 .5-.1 .5 0 .5-.1 .5 0 .5 0 .5 .1 .5 0 .5 0 .5 0 .5 .1 .5 0 .5 0 .5 0 .5 .1 .5 0 .5 0 .5 0 .5 .1 .5 0 .5 0 .5 .1 .5 0 .5 0 .5 0 .5 .1 .5 0 .5 0 .5 0 .5 .1 .5 0 .5 0 .5 .1 .5 0 .5 0 .5 0 .5 .1 .5 0 .5 0 .5 0 .5 .1 .5 0 .5 0 .5 0 .5 .1 .5 0 .5 0 .5 .1 .5 0 .5 0 .5 0 .5 .1 .5 0 .5 0 .5 0 .5 0 .5 0 .5 0 .5 0 .5 0 .5 0 .5 0 .5 0 .5 0 .5 0 .5-.2 .5-.6 .5-3.9 .5-11.1 .5-10.3 .5 4.3 .5 7.1 .5-3.3 .5-6.1 .5 4 .5 10.9 .5 6.9 .5 1.9 .5 .3 .5 .1 .5 0 .5 0 .5 0 .5 0 .5 0 .5 0 .5 0 .5 0 .5 0 .5 0 .5 0 .5 0 .5 0 .5 0 .5 0 .5 0 .5 0 .5 0 .5 0 .5 0 .5 0 .5 0 .5 0 .5 0 .5 0 .5 0 .5-.1 .5 0 .5 0 .5 0 .4-.1 .5 0 .5 0 .5 0 .5-.1 .5 0 .5 0 .5 0 .5 0 .5-.1 .5 0 .5 0 .5 0 .5-.1 .5 0 .5 0 .5 0 .5-.1 .5 0 .5 0 .5 0 .5-.1 .5 0 .5 0 .5 0 .5 0 .5-.1 .5 0 .5 0 .5-.1 .5 0 .5-.1 .5 0 .5-1.2 .5-1.7 .5-1.4 .5-1.8 .5 2.5 .5 2.2 .5-2.8 .5 2.4 .5-1.5 .5 4.4 .5 1.6 .5-4.6 .5 4.5 .5-1.6 .5 2.2 .5 2 .5-.2 .5 3.3 .5-1.2 .5 2.6 .5 .2 .5 1.8 .5-.9 .5 3 .5-2.8 .5 3 .5-2.7 .5-1 .5 2.6 .5-5.9 .5 2.3 .5 .1 .5-.3 .5 .4 .5-3.1 .5 2.6 .5-2.6 .5-4.2 .5 1.7 .5-1.5 .5 .5 .5-1.5 .5 1.2 .5 1.5 .5 1.8 .5 .6 .5-.9 .5-1 .5-.9 .5-1 .5-1 .5-.8 .5-.5 .5-.4 .5-.5 .5-.4 .5 .3 .5 .8 .5 .2 .5-.2 .5-.2 .5-.1 .5-.1 .5-.1 .5 0 .5-.1 .5-.1 .5 .2 .5 .2 .5 .2 .5 .1 .5 .2 .5 0 .5-.1 .5-.1 .5-.1 .5-.1 .5-.1 .5 .2 .5 6.2 .5 2.5 .5-.3 .5-.3 .5-.2 .5-.3 .5-.2 .5-.3 .5-.4 .5-.4 .5-.4 .5-.3 .5-.4 .5-.4 .5-.4 .5-.4 .5-.2 .5 .3 .5 .2 .5-.5 .5-1 .5-1 .5 0 .5 .4 .5 .4 .5 .2 .5-.4 .5-.5 .5-.4 .5-.5 .5-.3 .5-.2 .5-.2 .5-.2 .5-.2 .5-.2 .5-.3 .5-.5 .5-.4 .5-.5 .5-.4 .5-.8 .5-1.4 .5-1.4 .5-1.4 .5-1.4 .5 1.1 .5 1.9 .5 1.9 .5 .9 .5 1 .5 1 .1 .1 .4-2.9 .3-2.5 .2 1.6 .5 4.1 .1 .6 .4 .1 .5 .1 .5 .2 .5 .1 .5 .1 .5 0 .5 0 .5 0 .5 .1 .5 0 .5 0 .5 0 .5 0 .5 0 .5 .1 .5 0 .5 0 .5 0 .5 0" fill="none" stroke="#A2142F" stroke-width="1.0" stroke-linejoin="round"/>
<path d="M418.6 585.8l.5 0 .5 0 .5 0 .3 0 .2-1 .4-1.8 .1 .7 .4 2.1 .1 0 0 0 .5 1.1 .1 .2 .4-1 .1-.4 .3 0 .1-.7 .4-2.3 .1 .5 .5 2.5 0 0 .5 0 .5 0 .5 0 .2 0 .3-1.9 .2-1.1 .3 1.6 .3 1.4 .2 0 .5 0 .3 0 .2 .3 .3 .6 .2-.3 .2-.3 .2-1 .1-.4 .2-.7 .3 .8 .3 .9 .2 0 .5 0 .5 0 .5 0 .1 0 .4-1.1 .1-.4 .4 1 .2 .5 .1 0 .2 .2 .4 .3 .1-.1 .4-.4 .1 0 .5 0 0 0 .5-.9 .1-.1 .4 .8 0 0 .1 .2 .4 .3 .1 0 .4-.3 .1 0 .4-.1 .5 0 .1 0 .4-.5 .1-.2 .4 .5 .2 .2 .3 0 .5 0 .5 0 .5 0 .5 0 .5 0 .5-.1 .5 0 .5 0 .5 0 .5 0 .5 0 .5-.1 .5 0 .5 0 .5 0 .5 0 .5 0 .5-.1 .5 0 .5 0 .5 0 .5 0 .5-.1 .5 0 .5 0 .5 0 .5 0 .5 0 .5-.1 .5 0 .5 0 .5 0 .5 0 .5 0 .5-.1 .5 0 .5 0 .5 0 .5 0 .5-.1 .5 0 .5 0 .5 0 .5 0 .5 0 .5-.1 .5 0 .5 0 .5 0 .5 0 .5-.1 .5 0 .5 0 .5 0 .5 0 .5 0 .5-.1 .5 0 .5 0 .5 0 .5 0 .5 0 .5-.1 .5 0 .5 0 .5 0 .5 0 .5-.1 .5 0 .5 0 .5 0 .5 0 .5 0 .5-.1 .5 0 .5 0 .5 0 .5 0 .5 0 .5-.1 .5 0 .5 0 .5 0 .5 0 .5 0 .5 0 .5 0 .5 0 .5 0 .5 0 .5 0 .5 0 .5 0 .5 0 .5 0 .5 0 .5 0 .5 0 .5 0 .5 0 .5 0 .5 0 .5 0 .5 0 .5 0 .5 0 .5 .1 .5 0 .5 0 .5 0 .5 0 .5 0 .5 0 .5 0 .5 0 .5 0 .5 0 .5 0 .5 0 .5 0 .5 0 .5 0 .5 0 .5 0 .5 0 .5 0 .5 0 .5 0 .5 0 .5 0 .5 0 .5 0 .5 0 .5 0 .5 0 .5 0 .5 0 .5 0 .5 0 .5 0 .5 0 .5 0 .5-.1 .5-.7 .5-3.6 .5-10.7 .5-9.8 .5 4.1 .5 6.8 .5-3.1 .5-5.8 .5 3.9 .5 10.3 .5 6.5 .5 1.9 .5 .3 .5 0 .5 .1 .5 0 .5 0 .5 0 .5 0 .5 0 .5 0 .5 0 .5 0 .5 0 .5 0 .5 0 .5 0 .5 0 .5 0 .5 0 .5 0 .5 0 .5 0 .5 0 .5 0 .5 0 .5 0 .5 0 .5 0 .5 0 .5 0 .5 0 .5 0 .5 0 .4 0 .5 0 .5 0 .5 0 .5 0 .5-.1 .5 0 .5 0 .5 0 .5 0 .5 0 .5 0 .5 0 .5 0 .5 0 .5 0 .5 0 .5 0 .5 0 .5 0 .5 0 .5 0 .5 0 .5 0 .5 0 .5-.1 .5 0 .5 0 .5 0 .5 0 .5 0 .5 0 .5 0 .5-.4 .5-.4 .5-.4 .5-.4 .5 .1 .5 .4 .5 .4 .5 .3 .5-.3 .5 .7 .5 .5 .5 .2 .5-.3 .5 .4 .5-.3 .5 .5 .5-.7 .5 1.6 .5 0 .5-.5 .5 .5 .5 1.1 .5-.5 .5 1.5 .5-.2 .5-.5 .5-1.9 .5-.2 .5 .3 .5 .1 .5 .6 .5 .1 .5-.5 .5 0 .5-.2 .5-.7 .5 .3 .5-.2 .5-.2 .5-.2 .5-.2 .5-.1 .5 .3 .5 .3 .5 .4 .5 .1 .5-.2 .5-.2 .5-.1 .5-.2 .5-.2 .5-.1 .5-.2 .5-.1 .5-.1 .5-.2 .5 .1 .5 .3 .5 0 .5 0 .5-.1 .5 0 .5 0 .5-.1 .5 0 .5 0 .5 0 .5 0 .5 .1 .5 0 .5 .1 .5 .1 .5 0 .5-.1 .5 0 .5 0 .5-.1 .5 0 .5 .1 .5 1.2 .5 .5 .5-.1 .5 0 .5-.1 .5 0 .5-.1 .5 0 .5-.1 .5 0 .5-.1 .5-.1 .5 0 .5-.1 .5-.1 .5 0 .5-.1 .5 .1 .5 0 .5-.1 .5-.2 .5-.1 .5 0 .5 0 .5 .1 .5 0 .5 0 .5-.1 .5-.1 .5-.1 .5 0 .5-.1 .5-.1 .5 0 .5-.1 .5 0 .5-.1 .5-.2 .5-.1 .5-.1 .5-.2 .5-.2 .5-.4 .5-.4 .5-.4 .5-.5 .5 .4 .5 .5 .5 .6 .5 .3 .5 .3 .5 .3 .1 0 .4-4.5 .3-3.3 .2 2 .5 5.4 .1 .7 .4 0 .5 .1 .5 0 .5 0 .5 .1 .5 0 .5 0 .5 0 .5 0 .5 0 .5 0 .5 0 .5 0 .5 0 .5 0 .5 .1 .5 0 .5 0 .5 0" fill="none" stroke="#0072BD" stroke-width="1.0" stroke-linejoin="round"/>
<rect x="203.6" y="407.8" width="205.1" height="194.8" fill="none" stroke="#4a4a4a" stroke-width="0.8"/>
<line x1="227.8" y1="602.6" x2="227.8" y2="600.6" stroke="#4a4a4a" stroke-width="0.7"/>
<line x1="227.8" y1="407.8" x2="227.8" y2="409.8" stroke="#4a4a4a" stroke-width="0.7"/>
<line x1="257.9" y1="602.6" x2="257.9" y2="600.6" stroke="#4a4a4a" stroke-width="0.7"/>
<line x1="257.9" y1="407.8" x2="257.9" y2="409.8" stroke="#4a4a4a" stroke-width="0.7"/>
<line x1="288.1" y1="602.6" x2="288.1" y2="600.6" stroke="#4a4a4a" stroke-width="0.7"/>
<line x1="288.1" y1="407.8" x2="288.1" y2="409.8" stroke="#4a4a4a" stroke-width="0.7"/>
<line x1="318.2" y1="602.6" x2="318.2" y2="600.6" stroke="#4a4a4a" stroke-width="0.7"/>
<line x1="318.2" y1="407.8" x2="318.2" y2="409.8" stroke="#4a4a4a" stroke-width="0.7"/>
<line x1="348.4" y1="602.6" x2="348.4" y2="600.6" stroke="#4a4a4a" stroke-width="0.7"/>
<line x1="348.4" y1="407.8" x2="348.4" y2="409.8" stroke="#4a4a4a" stroke-width="0.7"/>
<line x1="378.6" y1="602.6" x2="378.6" y2="600.6" stroke="#4a4a4a" stroke-width="0.7"/>
<line x1="378.6" y1="407.8" x2="378.6" y2="409.8" stroke="#4a4a4a" stroke-width="0.7"/>
<rect x="418.6" y="407.8" width="206.9" height="194.8" fill="none" stroke="#4a4a4a" stroke-width="0.8"/>
<line x1="443.7" y1="602.6" x2="443.7" y2="600.6" stroke="#4a4a4a" stroke-width="0.7"/>
<line x1="443.7" y1="407.8" x2="443.7" y2="409.8" stroke="#4a4a4a" stroke-width="0.7"/>
<line x1="474.0" y1="602.6" x2="474.0" y2="600.6" stroke="#4a4a4a" stroke-width="0.7"/>
<line x1="474.0" y1="407.8" x2="474.0" y2="409.8" stroke="#4a4a4a" stroke-width="0.7"/>
<line x1="504.3" y1="602.6" x2="504.3" y2="600.6" stroke="#4a4a4a" stroke-width="0.7"/>
<line x1="504.3" y1="407.8" x2="504.3" y2="409.8" stroke="#4a4a4a" stroke-width="0.7"/>
<line x1="534.6" y1="602.6" x2="534.6" y2="600.6" stroke="#4a4a4a" stroke-width="0.7"/>
<line x1="534.6" y1="407.8" x2="534.6" y2="409.8" stroke="#4a4a4a" stroke-width="0.7"/>
<line x1="564.9" y1="602.6" x2="564.9" y2="600.6" stroke="#4a4a4a" stroke-width="0.7"/>
<line x1="564.9" y1="407.8" x2="564.9" y2="409.8" stroke="#4a4a4a" stroke-width="0.7"/>
<line x1="595.2" y1="602.6" x2="595.2" y2="600.6" stroke="#4a4a4a" stroke-width="0.7"/>
<line x1="595.2" y1="407.8" x2="595.2" y2="409.8" stroke="#4a4a4a" stroke-width="0.7"/>
<rect x="203.8" y="415.0" width="24.8" height="43.8" fill="none" stroke="#2a2a2a" stroke-width="1.3"/>
<rect x="292.9" y="415.0" width="10.1" height="184.8" fill="none" stroke="#2a2a2a" stroke-width="1.3"/>
<rect x="326.3" y="414.6" width="39.3" height="44.6" fill="none" stroke="#2a2a2a" stroke-width="1.3"/>
<rect x="326.3" y="477.3" width="80.5" height="123.0" fill="none" stroke="#2a2a2a" stroke-width="1.3" stroke-dasharray="4,2.6"/>
<rect x="418.8" y="410.6" width="31.0" height="48.2" fill="none" stroke="#2a2a2a" stroke-width="1.3"/>
<rect x="508.3" y="415.0" width="10.3" height="185.1" fill="none" stroke="#2a2a2a" stroke-width="1.3"/>
<rect x="541.1" y="410.4" width="38.5" height="48.4" fill="none" stroke="#2a2a2a" stroke-width="1.3"/>
<rect x="541.1" y="477.4" width="80.4" height="122.9" fill="none" stroke="#2a2a2a" stroke-width="1.3" stroke-dasharray="4,2.6"/>
<line x1="243.8" y1="421.4" x2="235.0" y2="421.4" stroke="#111" stroke-width="1.4"/>
<path d="M231.0 421.4 L235.5 418.2 L235.5 424.6 Z" fill="#111"/>
<text x="249.5" y="425.0" font-size="8.4" font-family='"Liberation Sans", sans-serif' font-weight="bold" textLength="15.5" lengthAdjust="spacingAndGlyphs" fill="#1a1a1a">H<tspan dy="1.8" font-size="68%">2</tspan><tspan dy="-1.8">O</tspan></text>
<line x1="383.3" y1="421.4" x2="372.3" y2="421.4" stroke="#111" stroke-width="1.4"/>
<path d="M368.3 421.4 L372.8 418.2 L372.8 424.6 Z" fill="#111"/>
<text x="386.5" y="425.0" font-size="8.4" font-family='"Liberation Sans", sans-serif' font-weight="bold" textLength="15.5" lengthAdjust="spacingAndGlyphs" fill="#1a1a1a">H<tspan dy="1.8" font-size="68%">2</tspan><tspan dy="-1.8">O</tspan></text>
<text x="248.7" y="460.6" font-size="7.8" font-family='"Liberation Sans", sans-serif' font-weight="bold" textLength="14.0" lengthAdjust="spacingAndGlyphs" fill="#1a1a1a">CO<tspan dy="1.8" font-size="68%">2</tspan><tspan dy="-1.8"></tspan></text>
<line x1="269.4" y1="457.2" x2="285.2" y2="457.2" stroke="#111" stroke-width="1.4"/>
<path d="M289.7 457.2 L284.7 460.4 L284.7 454.0 Z" fill="#111"/>
<text x="226.7" y="471.0" font-size="7.3" font-family='"Liberation Sans", sans-serif' font-weight="bold" textLength="58.7" lengthAdjust="spacingAndGlyphs" fill="#1a1a1a">(Asym stretch)</text>
<text x="339.6" y="486.3" font-size="8.0" font-family='"Liberation Sans", sans-serif' font-weight="bold" textLength="57.7" lengthAdjust="spacingAndGlyphs" fill="#1a1a1a">FR reactions</text>
<line x1="465.2" y1="421.4" x2="455.7" y2="421.4" stroke="#111" stroke-width="1.4"/>
<path d="M451.7 421.4 L456.2 418.2 L456.2 424.6 Z" fill="#111"/>
<text x="473.1" y="425.0" font-size="8.4" font-family='"Liberation Sans", sans-serif' font-weight="bold" textLength="15.5" lengthAdjust="spacingAndGlyphs" fill="#1a1a1a">H<tspan dy="1.8" font-size="68%">2</tspan><tspan dy="-1.8">O</tspan></text>
<line x1="598.4" y1="421.4" x2="587.0" y2="421.4" stroke="#111" stroke-width="1.4"/>
<path d="M583.0 421.4 L587.5 418.2 L587.5 424.6 Z" fill="#111"/>
<text x="601.6" y="425.0" font-size="8.4" font-family='"Liberation Sans", sans-serif' font-weight="bold" textLength="15.5" lengthAdjust="spacingAndGlyphs" fill="#1a1a1a">H<tspan dy="1.8" font-size="68%">2</tspan><tspan dy="-1.8">O</tspan></text>
<text x="462.0" y="461.6" font-size="7.8" font-family='"Liberation Sans", sans-serif' font-weight="bold" textLength="14.0" lengthAdjust="spacingAndGlyphs" fill="#1a1a1a">CO<tspan dy="1.8" font-size="68%">2</tspan><tspan dy="-1.8"></tspan></text>
<line x1="483.3" y1="457.2" x2="499.8" y2="457.2" stroke="#111" stroke-width="1.4"/>
<path d="M504.3 457.2 L499.3 460.4 L499.3 454.0 Z" fill="#111"/>
<text x="440.6" y="473.0" font-size="7.3" font-family='"Liberation Sans", sans-serif' font-weight="bold" textLength="58.8" lengthAdjust="spacingAndGlyphs" fill="#1a1a1a">(Asym stretch)</text>
<text x="550.9" y="486.7" font-size="8.0" font-family='"Liberation Sans", sans-serif' font-weight="bold" textLength="57.7" lengthAdjust="spacingAndGlyphs" fill="#1a1a1a">FR reactions</text>
<text x="227.8" y="613.9" font-size="6.9" font-family='"Liberation Sans", sans-serif' font-weight="bold" text-anchor="middle" textLength="15.6" lengthAdjust="spacingAndGlyphs" fill="#3a3a3a">3500</text>
<text x="257.9" y="613.9" font-size="6.9" font-family='"Liberation Sans", sans-serif' font-weight="bold" text-anchor="middle" textLength="15.6" lengthAdjust="spacingAndGlyphs" fill="#3a3a3a">3000</text>
<text x="288.1" y="613.9" font-size="6.9" font-family='"Liberation Sans", sans-serif' font-weight="bold" text-anchor="middle" textLength="15.6" lengthAdjust="spacingAndGlyphs" fill="#3a3a3a">2500</text>
<text x="318.2" y="613.9" font-size="6.9" font-family='"Liberation Sans", sans-serif' font-weight="bold" text-anchor="middle" textLength="15.6" lengthAdjust="spacingAndGlyphs" fill="#3a3a3a">2000</text>
<text x="348.4" y="613.9" font-size="6.9" font-family='"Liberation Sans", sans-serif' font-weight="bold" text-anchor="middle" textLength="15.6" lengthAdjust="spacingAndGlyphs" fill="#3a3a3a">1500</text>
<text x="378.6" y="613.9" font-size="6.9" font-family='"Liberation Sans", sans-serif' font-weight="bold" text-anchor="middle" textLength="15.6" lengthAdjust="spacingAndGlyphs" fill="#3a3a3a">1000</text>
<text x="408.7" y="613.9" font-size="6.9" font-family='"Liberation Sans", sans-serif' font-weight="bold" text-anchor="middle" textLength="11.7" lengthAdjust="spacingAndGlyphs" fill="#3a3a3a">500</text>
<text x="443.7" y="613.9" font-size="6.9" font-family='"Liberation Sans", sans-serif' font-weight="bold" text-anchor="middle" textLength="15.6" lengthAdjust="spacingAndGlyphs" fill="#3a3a3a">3500</text>
<text x="474.0" y="613.9" font-size="6.9" font-family='"Liberation Sans", sans-serif' font-weight="bold" text-anchor="middle" textLength="15.6" lengthAdjust="spacingAndGlyphs" fill="#3a3a3a">3000</text>
<text x="504.3" y="613.9" font-size="6.9" font-family='"Liberation Sans", sans-serif' font-weight="bold" text-anchor="middle" textLength="15.6" lengthAdjust="spacingAndGlyphs" fill="#3a3a3a">2500</text>
<text x="534.6" y="613.9" font-size="6.9" font-family='"Liberation Sans", sans-serif' font-weight="bold" text-anchor="middle" textLength="15.6" lengthAdjust="spacingAndGlyphs" fill="#3a3a3a">2000</text>
<text x="564.9" y="613.9" font-size="6.9" font-family='"Liberation Sans", sans-serif' font-weight="bold" text-anchor="middle" textLength="15.6" lengthAdjust="spacingAndGlyphs" fill="#3a3a3a">1500</text>
<text x="595.2" y="613.9" font-size="6.9" font-family='"Liberation Sans", sans-serif' font-weight="bold" text-anchor="middle" textLength="15.6" lengthAdjust="spacingAndGlyphs" fill="#3a3a3a">1000</text>
<text x="625.5" y="613.9" font-size="6.9" font-family='"Liberation Sans", sans-serif' font-weight="bold" text-anchor="middle" textLength="11.7" lengthAdjust="spacingAndGlyphs" fill="#3a3a3a">500</text>
<text x="273.2" y="626.0" font-size="6.8" font-family='"Liberation Sans", sans-serif' font-weight="bold" textLength="65.7" lengthAdjust="spacingAndGlyphs" fill="#333">Wavelength (cm<tspan dy="-2.6" font-size="68%">-1</tspan><tspan dy="2.6">)</tspan></text>
<text x="488.8" y="626.0" font-size="6.8" font-family='"Liberation Sans", sans-serif' font-weight="bold" textLength="65.7" lengthAdjust="spacingAndGlyphs" fill="#333">Wavelength (cm<tspan dy="-2.6" font-size="68%">-1</tspan><tspan dy="2.6">)</tspan></text>
<text x="0.0" y="0.0" font-size="6.8" font-family='"Liberation Sans", sans-serif' font-weight="bold" text-anchor="middle" textLength="65.0" lengthAdjust="spacingAndGlyphs" fill="#333" transform="translate(199.5 505.2) rotate(-90)">Absorbance (N.A.)</text>
<rect x="637.7" y="456.7" width="48.3" height="96.8" fill="#fff" stroke="#444" stroke-width="1.0"/>
<line x1="640.1" y1="463.6" x2="658.6" y2="463.6" stroke="#0072BD" stroke-width="1.3"/>
<text x="660.5" y="466.6" font-size="7.6" font-family='"Liberation Sans", sans-serif' font-weight="bold" textLength="20.8" lengthAdjust="spacingAndGlyphs" fill="#222">150<tspan dy="-3.0" font-size="70%">o</tspan><tspan dy="3.0">C</tspan></text>
<line x1="640.1" y1="475.5" x2="658.6" y2="475.5" stroke="#D95319" stroke-width="1.3"/>
<text x="660.5" y="478.5" font-size="7.6" font-family='"Liberation Sans", sans-serif' font-weight="bold" textLength="20.8" lengthAdjust="spacingAndGlyphs" fill="#222">250<tspan dy="-3.0" font-size="70%">o</tspan><tspan dy="3.0">C</tspan></text>
<line x1="640.1" y1="487.4" x2="658.6" y2="487.4" stroke="#EDB120" stroke-width="1.3"/>
<text x="660.5" y="490.4" font-size="7.6" font-family='"Liberation Sans", sans-serif' font-weight="bold" textLength="20.8" lengthAdjust="spacingAndGlyphs" fill="#222">350<tspan dy="-3.0" font-size="70%">o</tspan><tspan dy="3.0">C</tspan></text>
<line x1="640.1" y1="499.2" x2="658.6" y2="499.2" stroke="#7E2F8E" stroke-width="1.3"/>
<text x="660.5" y="502.2" font-size="7.6" font-family='"Liberation Sans", sans-serif' font-weight="bold" textLength="20.8" lengthAdjust="spacingAndGlyphs" fill="#222">450<tspan dy="-3.0" font-size="70%">o</tspan><tspan dy="3.0">C</tspan></text>
<line x1="640.1" y1="511.1" x2="658.6" y2="511.1" stroke="#77AC30" stroke-width="1.3"/>
<text x="660.5" y="514.1" font-size="7.6" font-family='"Liberation Sans", sans-serif' font-weight="bold" textLength="20.8" lengthAdjust="spacingAndGlyphs" fill="#222">550<tspan dy="-3.0" font-size="70%">o</tspan><tspan dy="3.0">C</tspan></text>
<line x1="640.1" y1="523.0" x2="658.6" y2="523.0" stroke="#4DBEEE" stroke-width="1.3"/>
<text x="660.5" y="526.0" font-size="7.6" font-family='"Liberation Sans", sans-serif' font-weight="bold" textLength="20.8" lengthAdjust="spacingAndGlyphs" fill="#222">650<tspan dy="-3.0" font-size="70%">o</tspan><tspan dy="3.0">C</tspan></text>
<line x1="640.1" y1="534.9" x2="658.6" y2="534.9" stroke="#c46a7c" stroke-width="1.8"/>
<text x="660.5" y="537.9" font-size="7.6" font-family='"Liberation Sans", sans-serif' font-weight="bold" textLength="20.8" lengthAdjust="spacingAndGlyphs" fill="#222">750<tspan dy="-3.0" font-size="70%">o</tspan><tspan dy="3.0">C</tspan></text>
<line x1="640.1" y1="546.8" x2="658.6" y2="546.8" stroke="#4f8fcc" stroke-width="1.8"/>
<text x="660.5" y="549.8" font-size="7.6" font-family='"Liberation Sans", sans-serif' font-weight="bold" textLength="20.8" lengthAdjust="spacingAndGlyphs" fill="#222">850<tspan dy="-3.0" font-size="70%">o</tspan><tspan dy="3.0">C</tspan></text>
<path d="M207.4 722.6l.5 .4 .5-.6 .5-.6 .5 .4 .4 .3 .1 .2 .5 5.5 0 .1 .5-4 .3-3 .2 .1 .5 .7 .5 0 0-.5 .5-1.8 .2 .1 .3 .1 .4 1 .1 .5 .5-.4 .5-1.4 .1 .1 .2 1.5 .2 1 .5 5.1 0 1.5 .5-4.9 .2-2.8 .3-2.3 .5 .6 .5 2.1 .5-2.6 .5 1.8 .5 0 .5-2.7 .5 2.2 .5-1.1 .4-1.3 .1 4.1 .5 1.4 .1 3 0-2.8 .4-1 .3-2.1 .2-2.5 .5 3.1 .5-1.6 .5 1 .5-1.7 .5 3.6 .4-1 .1-1.2 .1 1.2 .4-1.1 .1 1.3 .4-.5 .3-.1 .2-1.4 .4-.3 .1 1.4 .5 3.6 .1 1.7 .4-3.7 .3-1 .2-.4 .5 .7 .5-1.7 .5 .7 .5-1.9 .5 3.9 .5-1.9 .5-.9 .5 3 .5-2.1 .2 2.1 .3-1.2 .4 1.5 .1-1.1 .5 .7 .1-1.6 .4-.1 .5 1.7 .3-2.7 .2-1.2 .5 .7 0-1.1 .5 2.9 .2-2.4 .3-.3 .5 2.2 .5 1.3 .5-3.9 .1 1.9 .4 2 0-2.9 .5 4.7 .2 .4 .3-2.3 .4-3.4 .1-.6 .5 3.1 .2-.2 .3-1.1 .4-2.2 .1 2.1 .5-.1 .1 1.2 .4-.6 .5 1 .5 .1 .5-1.6 .5-.7 .5 1.2 .1-1.7 .4 2 .3 2.9 .2-1 .5-1.6 0-.9 .5 1.1 .5-1 .5 .5 .5-.9 .5 1.9 .5 0 .5-2.8 .5 0 .5 .8 .5-.7 .5 0 .5-.7 .5 2.6 .5 .3 .5-1.1 .5 .5 .5 .1 .5-.3 .5-.9 .5 .5 .5 .4 .1-.1 .4-.8 .5-.2 .5 .3 .5 .2 .5-.2 .5-.3 .5 .2 .5-.3 .5 0 .5 .4 .5-.5 .5 .3 .5 .2 .5-.3 .5 .2 .5 0 .5-.5 .5-.1 .5 .5 .5 0 .5 0 .5-.1 .5-.2 .5 .3 .5-.2 .5 0 .5 .1 .5-.7 .5 .5 .5-.1 .5-.5 .5 .2 .5 .3 .5-.2 .5 0 .5-.2 .5 .2 .5 .1 .5 .1 .5-.3 .5 .1 .5-.5 .5 0 .5 .3 .5 .1 .5-.5 .5 0 .5 .2 .5-.2 .5-.1 .5 0 .5 .2 .1 .2 .4-.4 .5 .4 .5-.5 .5 .1 .5 .2 .5-.4 .5 .2 .5-.2 .5 .1 .5 .4 .5-.5 .5 .3 .5 .2 .5-.5 .5 .4 .5-.4 .5 .3 .5-.2 .5-.1 .5 .3 .5-.1 .5-.3 .5 .1 .5-.2 .5 0 .5 .4 .5 .1 .5-.6 .5 .5 .5-.2 .5-.5 .5 .1 .5 .2 .5 .3 .5-.1 .5-.4 .5 .1 .5 .3 .5-.5 .5-.1 .5 .2 .5 .2 .5 .1 .5 0 .5-.6 .5 .1 .5-.1 .5 .3 .5-.1 .5 .3 .5-.2 .5 0 .5 0 .5-.4 .5 .5 .5 0 .5-.1 .5 0 .5-.5 .5-.1 .5 .2 .5 .3 .5-.4 .5 .4 .5 0 .5-.1 .5-.2 .5-.3 .5 .5 .5-.5 .5 .2 .5 .2 .5-.1 .5-.3 .5 .4 .5-.4 .5 .1 .5 0 .5 .1 .5-.4 .5 .4 .5-.2 .5 .2 .5-.3 .5 .1 .5 .3 .5-.7 .5 .5 .5-.2 .5-.1 .1-.1 .4-.2 .5 .2 .5-.7 .5 .3 .5-.6 .5-.4 .1 .3 .4 .1 .5 .4 .5-.2 .5 .6 .5-.2 .5 .3 .1 .2 .4 0 .5-.1 .5 .2 .5 .1 .5-.2 .5 .1 .5 .1 .5-.4 .5 .6 .5-.7 .5 .2 .5 .3 .5-.4 .5 .1 .5-.1 .5 .5 .5-.1 .5-.5 .5 .3 .5-.3 .5-.1 .5 .1 .5 .4 .5-.2 .5-.1 .5 .2 .5-.4 .5 .2 .5-.2 .5 .5 .5-.3 .5 .2 .5-.3 .5 .1 .5 .1 .5-.3 .5 .2 .5 .2 .5-.5 .5 .1 .5-.2 .5 .4 .5-.3 .5 .3 .5-.3 .5 .3 .5-.2 .5 .3 .5 0 .5 .1 .5-.3 .5 .3 .5-.1 .5-.3 .5 .4 .5 0 .5-.6 .5 .4 .5 0 .5-.1 .5 .1 .5-.3 .5 .3 .5-.1 .5-.3 .5 .5 .5-.2 .5-.5 .5 0 .5 .1 .5 .4 .5 0 .5 .1 .5 0 .5-.5 .5 0 .5-.1 .5 .2 .5 0 .5 0 .5 .3 .5-.2 .5 .2 .5 0 .5-.1 .5-.2 .5-.1 .5 .1 .1 0 .4 .1 .5 .1 .5-.1 .5-.3 .5 .2 .5-.1 .5-.2 .5 0 .5 .2 .5 .3 .5-.1 .5-.5 .5 .6 .5-.1 .5-.1 .5-.4 .5 .2 .5 0 .5 .1 .5-.3 .5 .4 .5-.1 .5 .1 .5-.2 .5 .1 .5-.3 .5 .5 .5 0 .5 0 .5-.1 .5-.4 .5 .1 .5-.2 .5 .5 .5 0 .5 .1 .5-.3 .5 .2 .5 0 .5-.5 .5-.1 .5 .6 .5 .1 .5-.2 .5-.1 .5-.2 .5 .4 .5-.4 .1-.2 .4-.4 .5-1.7 .5-.7 .1-.3 .4-13.2 .5-15.7 .1-3.4 .4-6.3 .5-8.4 .5-8.7 .1-1.8 .4 4.7 .5 5.8 .5 5.8 .1 1.4 .4 2.4 .5 3.4 .1 1 .4-1.6 .5-1.7 .5-1.9 .5-1.9 .2-.6 .3 1 .5 2.7 .5 1.9 .5 2.5 .1 .5 .4 4 .5 4.7 .5 5.3 .5 4.8 .1 1 .4 2.1 .5 2.4 .5 2.2 .5 2.7 .5 2.6 .1 .5 .4-.3 .5 .4 .5 .4 .5 .5 .5 .3 .5 .3 .5 .2 .5 .7 .1 0 .4-.1 .5-.4 .5 .4 .5-.5 .5 .6 .5-.2 .5 .2 .5-.4 .5 .2 .5-.3 .5 .5 .5-.5 .5-.1 .5 .1 .5 .3 .5-.1 .5 .2 .5-.1 .5 .1 .5 .1 .5-.6 .5 0 .5 .2 .5-.2 .5 .3 .5 .2 .5-.4 .5 .2 .5-.2 .5-.1 .5 .1 .5 0 .5 .3 .5 .2 .1-.6 .4 .3 .5 0 .5 .1 .5-.3 .5 .6 .5-.5 .5 .2 .5-.1 .5 .1 .5 .2 .5-.1 .5-.2 .5 .4 .5-.5 .5 .5 .5-.2 .5-.2 .5 .5 .5-.1 .5-.2 .5 .2 .5-.5 .5 .1 .5 .2 .5 .3 .5-.4 .5 .5 .5-.3 .5 .1 .5 0 .5-.4 .5 .5 .5-.2 .5-.3 .5 0 .5 .5 .5-.2 .5 .3 .5 0 .5-.2 .5-.1 .5 .2 .5 .2 .5-.5 .5 .2 .5-.3 .5 0 .5 0 .5 .2 .5 .2 .5 .2 .5-.1 .5 .1 .5-.4 .5 .4 .5-.4 .5 .1 .5 .1 .5 .3 .5-.3 .5-.3 .5 .2 .5 .3 .5-.4 .5 .1 .5 .1 .5 .5 .5 .2 .5 .1 .5-1.2 .5 .5 .5-.2 .5 .8 .5-.2 .5 0 .5 1 .5 0 .5-.9 .5 .4 .5 1.1 .5-1 .5 .8 .5-1.9 .5 1.1 .5-1.2 .5 1.5 .5 1 .5-1.3 .5-1.3 .5 1.2 .5-.7 .5 .6 .3 .1 .2 1.9 .4 1.6 .1-.2 .5-2.5 0 0 .5-1.9 0 1.6 .1 1 .4 8.5 0 1.6 .1-3 .3-2.5 .1-.9 .1 3 .1 1.7 .3 1.6 .2-4.7 .1-1.4 .2-2 .1-.7 .1-1.6 .1 1.6 .2 2.9 .3 2.5 .1 .3 .1-1.7 .3-7.1 .1 .7 .1 .6 .4 5.4 .1 0 .5-4 0 .4 .3-.3 .2 2.8 .3 1 .2 .5 .4-6.5 .1 .5 .5 2.5 .5 .4 .1-.7 .4 6.4 .1 1.7 .4-4.4 .1-1 .1-4.9 .3 .5 .2 1.2 .3 .7 .2 3 0-.6 .3 3.9 .2 .4 .1-1 .2-2.7 .1-.6 0-1.6 .2 4.9 .2 4.2 .1 5 .1-.9 .3-8.2 .2-7.8 0-.7 .3 1.8 .5-1 0 1.5 .5 6.7 .1 .9 0-.3 .4-4.9 .1 .6 .1 0 .3-1.7 .3-3.5 .2 .2 .5 .4 .4 .2 .1-.3 .5 .7 .5 .4 .5-.9 .4-1.5 .1 2.5 .5 .2 0 2.2 .5-5.4 0 .8 .1-.1 0 2.3 .4-1.3 .1 .6 .4-1.2 .2-1 .3 2.6 .5-1.7 .5 2 0-.6 .5 1.9 .1 3.7 .4-5.6 .1 .7 .4-.2 0-3.2 .5 10.6 .1-1.8 .1-.6 0 1.5 .3-4.2 .1 .2 .2-1 0 .1 .2 .7 .2 5.1 .1 2.3 .1-.2 .1-.5 .3-1.4 .1-.3 .1-1.5 .4-4.7 .1-.5 .5-.8 .5 1.6 .4-1.4 .1-.5 .2 1.9 .3 2.9 0 2.8 .3-2 0 .7 .1-3 .1 1.5 0 1 .4 7.7 0-2.3 0 .9 .1 2.3 0 .6 .4-6.9 0 1.8 .1 .2 0-3.5 0 1.6 .5 2.7 0-.3 0 2.6 .1-3.8 0-.7 .4 .2 0 .5 .1 1.3 .4-6.4 .2-3.6 .2 1.3 .1 2.4 .4 6.9 .1-1.3 .5-7.6 0 1.4 .5-.8 .5 .6 .5-2.8 .5 1.9 .4-2.7 .1 3.4 .5 .8 0-.7 .5-2.2 .1 1.9 .2-.5 .2 1.1 .4 1.7 .1 .5 .4-4 .1-1.5 .3 2.5 .2-2.1 .3 2.2 .2-.5 .3 3.4 .2 .5 .4-4.3 .1-2.2 .5 3 .5-2.4 .5 1.5 .5-.1 .5-1.1 .5-.4 .5-.7 .5 2.1 .3-.6 .2 .4 .4 2.7 .1 .3 .5-4.1 0 1.2 .5-2.4 .5 2.3 .5-.7 .5 .5 .5-1.5 .5-1 .1 .1 .4-.8 .5 .4 .5 .9 .5 .7 .5-.6 .5 .7 .5-1.3 .5-.2 .5-.2 .5 .4 .5-.2 .5-.2 .5-.1 .5 .5 .5 .2 .5-.6 .5 .6 .2-.7 .3-.2 .5 .1 .5-.6 .5-.5 .5-.4 .5-.1 .5-.4 .5 .1 .5-.6 .5-.2 .5-.6 .5 0 .5 0 .5-.4 .5 .4 .5 .3 .5 .3 .5-.1 .5-.3 .5 .6 .5 .2 .5 .1 .5 .1 .5 0 .5 .2 .1-.2 .4-.3 .5 .1 .5 .2 .5 0 .5 .3 .5-.4 .5 .1 .5 .2 .5-.3 .5 0 .5-.1 .5 .2 .5-.2 .5 .3 .5-.1 .5-.2 .5 0 .5 .3 .5-.2 .5 .4 .5 0 .5-.4 .5 .2 .5-.3 .5 0 .5 .4 .5 .1 .5-.5 .5 .1 .5 .2 .5-.3 .5 0 .5 .2 .5 0 .5-.2 .5 .2 .5-.2 .5 .1 .5 .3 .5-.1 .5-.1 .5 0 .5 .3 .5 0 .5 0 .5-.1 .5-.2 .5 0 .1-.3 .4 .6 .5-.5 .5-.1 .5 .3 .5-.3 .5 .4 .5-.3 .5 .3 .5-.2 .5-.3 .5 .3 .5 .1 .5-.5 .5 .1 .5 .1 .5 .2 .5-.2 .5 0 .5 .2 .5-.3 .5 0 .5 .1 .5 .3 .5-.4 .5-.2 .5 .1 .5 .2 .5 .3 .5-.3 .5 0 .5-.3 .5 .1 .5 .4 .5 0 .5-.4 .5 .2 .5 0 .5 0 .5-.3 .5-.1 .1 .1 .4-.2 .5 .5 .5-.4 .5 .5 .5-.3 .5 0 .5-.3 .5 .1 .5-.1 .5-.4 .5 .2 .5 .1 .5-.6 .5 .6 .5 0 .5-.1 .5-.2 .5 0 .5 .3 .5-.2 .5-.1 .5-.8 .5 .7 .5-.7 .5 1.1 .5-1 .5 .4 .5 .1 .5 .4 .5-.3 .5-.6 .5 .2 .5 .2 .5 .2 .5-.4 .5 .2 .5-.9 .5 .7 .5-.7 .5 1.1 .5-1.6 .5 .8 .5 1.2 .5-1.6 .1 .8 .4 .1 .5 0 .5-.4 .5 .3 .5-1 .5 .3 .5 .8 .5 .4 .5-.8 .5-.6 .5 1.4 .5-.4 .5 .2 .2-.3 .3-11.4 .4-13.8 .1 1.8 .5 16.5 .2 6.1 .3 1 .5 .3 .5-.9 .5 .6 .5 .9 .5-.7 .5 1.1 .5-.3 .5 0 .2-.7 .3 .9 .5-.4 .5 .8 .5 0 .5-1 .5 1 .5-.8 .5 1.1 .5-.9 .5 .2 .5 .2 .5 .1 .5 .4 .5 .7 .5-.4 .5-.5 .5 .1 .5 .3 .5 .1 .5 .3 .5 0 .1 .4 .4-.6 .5 .6 .5 .3 .5-.5 .5 .3 .5 .8 .5-.2 .5 .3 .5 .2 .5 .2 .4-.4" fill="none" stroke="#0072BD" stroke-width="1.5" stroke-linejoin="round"/>
<path d="M207.4 813.8l.5 0 .5 .2 .5 .1 .5-.5 .4 .4 .1-.8 .5-4.9 0 .1 .5 3.8 .3 1.6 .2-.1 .5 .1 .5 .4 0-1.1 .5 3 .2 .8 .3-2 .4-1.5 .1 .3 .5 0 .5-.1 .3 1.1 .2-1.8 .5-3.9 0-1.1 .5 4.4 .2 1.8 .3 .6 .5-.9 .5 .2 .5 .7 .5-1.7 .5 1.2 .5-.7 .5 .4 .5-.9 .4 .9 .1-2.1 .5-4.2 .1-1.6 .4 4 .3 2.1 .2 .7 .5 .5 .5-1.1 .5 1.8 .5-1 .5 1.6 .4-.2 .1-1.8 .5 .7 .1 1.6 .4 1 .3-2.5 .2-1.3 .4 1.4 .1 .8 .5-2.4 .1-2.2 .4 1.4 .3 3 .2-2.2 .5 2.6 .5-1.8 .5 .4 .5 1.9 .5-3.4 .5 1.6 .5-1.7 .5 1.4 .5 .1 .2 .2 .3-2.9 .4 .7 .1-2 .5 3.8 .1 .1 .4 1.3 .5-.3 .3-.5 .2 .2 .5 .9 0-1.6 .5-1.6 .2 3 .3-.3 .5-2 .5 .2 .5 0 .5-.5 0 1.3 .5-2 .2-1.6 .3 2.6 .4-.6 .1 2.9 .5 .2 .2-.2 .3-1.8 .4 .7 .1-.2 .5 .6 .1-1.6 .4 1.4 .5 .3 .5 .3 .5-.8 .5-2.2 .5 2.8 .1-1.8 .4 1.1 .3-3.8 .2 .9 .5 3.2 0-.2 .5 .9 .5-.6 .5-1.7 .5-.3 .5 1.6 .5-1.1 .5-.3 .5 .3 .5-.8 .5 1.4 .5-.1 .5-.7 .5 1 .5 .1 .5-1.3 .5 .7 .5 .3 .5-.9 .5 .4 .5-.3 .5-.1 .1 .3 .4-.4 .5 .2 .5 .7 .5-.2 .5-.5 .5 0 .5-.2 .5 .2 .5 .2 .5-.5 .5 0 .5-.2 .5 .1 .5 0 .5-.2 .5 .3 .5-.2 .5 .3 .5-.5 .5 .3 .5 .2 .5-.6 .5 .1 .5 .4 .5-.5 .5-.1 .5-.1 .5 .4 .5-.4 .5 .4 .5-.3 .5-.3 .5 .5 .5-.1 .5-.1 .5-.1 .5 0 .5 .1 .5-.5 .5 0 .5 .3 .5-.3 .5 .4 .5-.2 .5-.2 .5-.3 .5 .3 .5-.1 .5 0 .5 .1 .5-.3 .5 .3 .1-.2 .4-.4 .5 .5 .5-.5 .5 .5 .5 0 .5-.6 .5 0 .5 .3 .5-.2 .5-.1 .5 .3 .5-.4 .5-.1 .5 .2 .5 .2 .5 .1 .5-.7 .5 .5 .5-.4 .5 .5 .5-.5 .5-.2 .5 .1 .5 .1 .5-.2 .5 .3 .5-.3 .5 .3 .5-.4 .5 .1 .5 .1 .5-.3 .5 0 .5 .4 .5-.4 .5 0 .5 .1 .5 0 .5 .1 .5-.2 .5 .2 .5 0 .5 0 .5-.1 .5-.2 .5 0 .5-.2 .5-.3 .5 .6 .5-.4 .5-.1 .5 .1 .5 .2 .5 0 .5-.6 .5 .5 .5 .1 .5 0 .5-.1 .5-.3 .5 .2 .5-.2 .5 .1 .5 .1 .5-.5 .5-.2 .5 .4 .5 .1 .5 0 .5-.3 .5-.1 .5-.2 .5 .4 .5-.4 .5-.1 .5-.1 .5 .6 .5-.4 .5 .2 .5-.5 .5 .3 .5 .1 .5 0 .5-.4 .5 .1 .5 .2 .5 .1 .5-.6 .5 .3 .5 .2 .1-.2 .4-.1 .5-.6 .5-.1 .5-.6 .5 .3 .5-.4 .1-.3 .4 .7 .5-.3 .5 .2 .5 .7 .5-.2 .5 .7 .1-.4 .4 0 .5 .5 .5-.1 .5 0 .5 .1 .5 0 .5-.4 .5 .2 .5 .1 .5 .2 .5-.1 .5-.1 .5 .2 .5 .1 .5-.4 .5-.1 .5-.1 .5 .6 .5-.4 .5 .2 .5 0 .5 .1 .5 .2 .5-.2 .5-.3 .5 .2 .5-.2 .5 .2 .5 .2 .5 0 .5 0 .5 .1 .5 .1 .5-.5 .5 .4 .5-.1 .5-.4 .5 .7 .5-.4 .5 .2 .5-.3 .5 .1 .5-.2 .5 .6 .5-.6 .5 0 .5 .5 .5-.1 .5-.2 .5 .5 .5-.2 .5-.2 .5 .2 .5 .2 .5 0 .5-.4 .5 .3 .5-.4 .5 .2 .5 .4 .5-.2 .5-.2 .5 .1 .5-.1 .5 .2 .5-.1 .5 0 .5 0 .5 .3 .5 0 .5-.4 .5 .1 .5 .3 .5-.1 .5 0 .5 0 .5-.3 .5 .3 .5 .1 .5-.2 .5 0 .5 0 .5 .1 .5-.2 .5 .4 .5-.5 .5 .5 .5-.2 .1-.2 .4 0 .5 0 .5 0 .5 .5 .5-.5 .5-.1 .5 .4 .5 .2 .5-.5 .5 0 .5 .2 .5-.1 .5 0 .5 .1 .5 .3 .5-.4 .5 0 .5 .2 .5-.1 .5 .2 .5-.3 .5 .1 .5 0 .5 0 .5-.1 .5-.2 .5 0 .5 .2 .5 .4 .5-.4 .5 0 .5 0 .5 .2 .5-.3 .5 .1 .5-.1 .5 .2 .5-.1 .5 .1 .5 .2 .5-.4 .5 .2 .5 .3 .5-.2 .5 0 .5 0 .5-.4 .5 .3 .1-.2 .4-2.2 .5-2.9 .5-2.3 .1-.4 .4-16 .5-20.3 .1-3.7 .4-6 .5-7.4 .5-7.2 .1-1.5 .4 4 .5 6.1 .5 5.7 .1 .9 .4 3.1 .5 3.5 .1 .2 .4-.6 .5-1.2 .5-.8 .5-1.2 .2-.4 .3 1.3 .5 2.2 .5 1.5 .5 2.4 .1-.1 .4 5.4 .5 5.9 .5 6.7 .5 6 .1 1.4 .4 2.2 .5 2.8 .5 3.5 .5 2.4 .5 3 .1 .6 .4 .7 .5 .6 .5 .1 .5 .7 .5 .6 .5-.1 .5 .9 .5 .1 .1 0 .4 .3 .5 0 .5 0 .5 .2 .5-.5 .5 .5 .5-.3 .5 .5 .5-.3 .5-.1 .5 .2 .5-.1 .5-.2 .5 .5 .5-.2 .5 .3 .5 0 .5 0 .5 .1 .5-.4 .5 .2 .5 0 .5 .1 .5 .1 .5 0 .5 0 .5-.1 .5 0 .5-.2 .5 .1 .5-.1 .5 .3 .5 .1 .5-.3 .1 .1 .4 .3 .5-.5 .5 .3 .5 0 .5-.1 .5-.1 .5 .4 .5-.3 .5 0 .5-.3 .5-.1 .5 .3 .5-.1 .5 .3 .5 0 .5-.5 .5 .2 .5 0 .5 .2 .5-.1 .5 .2 .5-.6 .5 .3 .5 .2 .5-.4 .5-.1 .5 .2 .5-.1 .5-.2 .5 .6 .5-.1 .5-.1 .5 .2 .5-.1 .5-.3 .5 .3 .5 .1 .5 0 .5-.1 .5-.1 .5 .1 .5 0 .5-.2 .5-.2 .5 .2 .5 .2 .5-.6 .5 .2 .5-.2 .5-.1 .5 .3 .5-.2 .5-.1 .5 .3 .5 0 .5-.1 .5-.3 .5 .1 .5 .2 .5-.3 .5 0 .5 .2 .5 .4 .5-.2 .5 .1 .5-.1 .5-.5 .5 .4 .5 0 .5 .2 .5-.7 .5 .1 .5 0 .5 .2 .5-.1 .3-.1 .2 .4 .5 0 .5 0 .5-.7 .5 0 .5 .1 .5 .2 .5-.1 .5 0 .5-.6 .5 .3 .5-.4 .5 .3 .5 .1 .5-.4 .5-.1 .5-.2 .5 .5 .5-.5 .5-.1 .5 0 .1-.1 .4-.3 .5-1 .5-1.3 .5-1.1 .5-1 .5-.7 .3-1.2 .2 .6 .5 1.5 .5 .9 .5 1.4 .5 .9 .1 .5 .4 .6 .5 .1 .5 .3 .5 .4 .5 .9 .5-.9 .5 1.7 .4-1.1 .1 2.3 .4 5 .1-1.5 .1-.1 .4-4.2 0 .1 .5-.1 .1-.9 .4 4.5 .1 2.2 .3-1.7 .1-1.7 .2 1.5 .2 2.5 .1-3.2 .3 1 .2-1.3 0 1 .3 1.1 .2-1 .1 1.1 .3-.2 0-1.1 .1 4.2 .1 0 0 1.7 .3-.3 0 1.8 .1-1.4 .2-1.3 0-1 .2 2.1 .1-.6 0-2.2 .2-2.5 .3-.9 0 1.2 0-.5 .5 2.6 .1 2.2 .4-3.8 .1 0 .4-2.3 .1 2.3 .4-2.2 .5 .9 .5 1.6 .5-.5 .5 1.3 .5-.8 .5 .3 .5-.9 .5 .5 .5 2.3 .5-2.4 .5 2.8 .1 0 .2 2.1 .2 2.3 .1 4.7 .2 .9 .2-6.9 0 1 .2-.4 .2-2.2 .1 1.8 .1-.7 .1-3.2 .3 1.7 .1 3.1 .2-1.2 .2-.1 .3-1.5 .1-3.1 .1 3.6 .5-1 .5-3.1 .5 .5 .5 .8 .5-2.3 .5 .1 .5 3.5 .5-4.6 .5 1.6 .5 1.5 .5 .1 .2-1.5 .3 .2 .3 4.2 .2-3.5 .3-3 .2 3.2 .5-3.2 .5-.2 .5 2.8 .5-2 .1 1.1 .4-.6 .5-1 .5 .7 .5 0 .5-2.2 .5-.3 .5-.7 .5 .3 .5 1.1 .5-2.2 .5 2.2 .5-2 .5 .4 .5-.5 .5-.4 .5-.3 .1 0 .4-.2 .5 .6 .5-.4 .5-.2 .5 .1 .5 .3 .5-.2 .5 .2 .5-.1 .5-.1 .5 .1 .5-.1 .5-.2 .5 .5 .5-.2 .5-.3 .5-.2 .5 .3 .1-.1 .4 .3 .5-.1 .5-.2 .5-.6 .5 .3 .5-.4 .5 .2 .5 0 .5-.6 .5 .5 .5-.2 .5-.3 .5-.1 .5-.2 .5 .2 .5 0 .5-.4 .5 .1 .5-.6 .5-.1 .5 .7 .5-.3 .5 .5 .5 .2 .5-.4 .5 .7 .5 0 .5 .1 .5 .3 .5-.1 .1 .4 .4-.3 .5 .2 .5-.3 .5 0 .5 0 .5-.2 .5 .5 .5-.2 .5 .2 .5-.2 .5 .1 .5-.1 .5-.1 .5 .3 .5-.6 .5 .4 .5-.5 .5 .1 .5 .6 .5-.7 .5 .6 .5 .1 .5-.2 .5 .2 .5-.6 .5 .4 .5-.1 .5-.1 .5-.3 .5 0 .4 .5 .1-.4 .5 .3 .5-.3 .1 .3 .4 1.6 .5 3.1 .1 .3 .4-.3 .5 .4 .5-.6 .5 .1 .5 0 .5-.3 .5 .3 .5-.4 .5 .3 .5 .1 .5-.1 .5-.6 .5 .1 .5 .1 .5-.5 .5-.1 .5 .5 .5-.1 .5-.4 .5 .3 .5-.1 .5-.4 .5 .1 .5 .1 .5-.5 .5 .4 .5 .1 .5-.1 .5 0 .5-.2 .5 0 .5-.5 .5-.1 .5 .3 .5-.5 .1 0 .4 .2 .5-.2 .5 .3 .5-.7 .5 .1 .5 .3 .5-.5 .5 .2 .5-.2 .5 .2 .5-.6 .5 .1 .5-.2 .5 .2 .5 .1 .5-.3 .5 .1 .5-.1 .5-.4 .5-.2 .5-.2 .5 .1 .5-.1 .5 .1 .5 .2 .5-.4 .5-.3 .5 .3 .5-.4 .5 .2 .5-.1 .5-.1 .5-.5 .5-.1 .5 .4 .5-.3 .5 .1 .5 .1 .5-.5 .5-.1 .5 .2 .5-.5 .5 .2 .5-.4 .5 .4 .5-.4 .5-.2 .5 .1 .3 .2 .2-.3 .5-.7 .5-.8 .5-.4 .5-.8 .5-.3 .5-.8 .5-.1 .5-.5 .5-.9 .5-.1 .5-.8 .5-.7 .5-.5 .5-.4 .5 .4 .5 .6 .5 .5 .5-.1 .5 1 .5 .5 .5 0 .5 .7 .5 .3 .5 .4 .4 .5 .1 .3 .5-.4 .5-.2 .5 .6 .3-.4 .2-9.3 .4-18.1 .1 4.7 .5 24 .5-.1 .5 .9 .5 .2 .5 .5 .5 .3 .5 .3 .1 .1 .4-.3 .5 .4 .5-.2 .5 .5 .5-.6 .5 .5 .5 0 .5 .4 .5-.4 .5 .5 .5-.2 .5 .5 .5-.2 .5 0 .5 .4 .5 0 .5 .1 .5 .1 .5 0 .5 .2 .5 .1 .5 .1 .5-.4 .5 .5 .5 .3 .5-.1 .5 0 .5-.2 .5 .4 .5 0 .5-.1 .5 .2 .5 .1 .5-.1 .4 .4" fill="none" stroke="#D95319" stroke-width="1.5" stroke-linejoin="round"/>
<path d="M207.4 917l.5-.2 .5-.8 .5 .2 .5 .3 .4-.4 .1-6.1 .5-18.4 0-2.2 .5 17 .3 9.1 .2 .8 .5-.3 .5 .1 0-.3 .5 9.9 .2 2.2 .3-6.5 .4-5.5 .1 .3 .5-.7 .5-.7 .1-.2 .2-.6 .2-5.8 .5-19 0-2.7 .5 19.8 .2 9 .3-.9 .5 .4 .5 .3 .5-.2 .5-1 .5 .4 .5 .2 .5-.1 .5-.9 .4 .8 .1-6.2 .5-19.9 .1-2.7 .4 18.8 .3 10.6 .2-.3 .5-1.7 .5-.5 .5 2.1 .5-.4 .5-1.5 .4-.7 .1 2.7 .5 4.2 .1 1.8 .4-4.1 .3-2.8 .2-1.8 .4 .6 .1-2.6 .5-11.5 .1-1.7 .4 9.6 .3 7.4 .2-2.4 .5-.4 .5 .5 .5 1.3 .5-1.1 .5 1.6 .5-.9 .5-2.2 .5 2 .5 .7 .2 0 .3-8.8 .4-6 .1 2.7 .5 9.1 .1 1.9 .4-.2 .5 1.4 .3-2.7 .2 2.5 .5 2.5 0 .7 .5-4.9 .2-1.8 .3 1.9 .5 .3 .5-1.3 .5-.5 .5 1.1 0-1 .5-7.2 .2-2.2 .3 5.6 .4 3.8 .1 .8 .5 1 .2-.9 .3 2 .4 1.3 .1-2.6 .5-1.1 .1 .4 .4 .2 .5-.3 .1-.7 .4-1.5 .5 2.2 .5-2.3 .5 .7 .1 .1 .4-4.5 .3-1.4 .2 .4 .5 4.6 0 2.1 .5-2 .5 1.5 .5-.5 .5-.4 .5 .8 .5-1.9 .5 .6 .5 .6 .5-.3 .5-.1 .5 .2 .5-1.2 .5 0 .5 .8 .5-.6 .5-1.3 .5 .4 .5-.3 .5 .4 .5 1.3 .5-.4 .5-1.6 .5 1.3 .5-.9 .5-.6 .5 .5 .5-.4 .5-.1 .5 .8 .5-.8 .5 0 .5 .1 .5 0 .5-.1 .5-.6 .5 0 .5 .4 .5-.1 .5-.4 .5-.2 .5 .4 .5-.3 .5-.5 .1 .6 .4-.4 .5-.5 .5 0 .5-.4 .5-.1 .5-.3 .5-.3 .5 0 .5-.5 .5 .1 .5-.2 .5-.1 .5-.8 .5 .2 .5-.3 .5-.6 .5 .3 .5-.6 .5-.4 .5-.2 .5 .4 .5-.7 .5-.4 .5 .4 .5-.2 .5-.5 .5-.2 .5 0 .5-.3 .5-1 .1 .3 .4-.7 .5 .5 .5-.3 .5-.2 .5 1 .5 .1 .5-1.9 .5 1.2 .5-1.1 .5 .5 .5-.8 .5 1 .5 .9 .5-1.5 .5 .1 .5-.5 .5 .9 .5 .3 .5-1.6 .5 1.3 .5-.6 .5-.6 .5-1.2 .5 2.5 .5 .5 .5-1 .5 .8 .5-1.7 .5-1.3 .1 2.2 .4-.1 .5-.3 .5 .3 .5-2.6 .5 .4 .5 1.9 .5-2.8 .5 2.8 .5-2.7 .5 .7 .5 .5 .5-1.1 .5-.8 .5 2.1 .5-2.9 .5-.2 .5 0 .5 .7 .5 .2 .5 1 .5-1.3 .5-1.2 .5-.3 .5 .9 .5 1.5 .5-1 .5-1.9 .5 .1 .5 1.9 .5-.6 .5-2 .5 .9 .5-.2 .5-1.3 .5 1.5 .5-1.7 .5 .6 .5-1.4 .5 .4 .5-.5 .5 0 .1 1 .4 .1 .5-1.9 .5 1 .5-.2 .5-1 .5 .2 .5 .8 .5-.3 .5 0 .5-1.3 .5 .5 .5-1.4 .5-.1 .5 1.7 .5-1.4 .5 .6 .5-.5 .3 .3 .2-1.2 .5-.8 .5-1.1 .5-.3 .5-.8 .1 .4 .4-1.3 .5-1.7 .5-1.6 .5-1.1 .5-1.5 .5 1.3 .5 1.1 .5 1.8 .5 .9 .5 1 .1 .2 .4 1 .5 .7 .5 1.3 .5 .6 .5 1.2 .5 .7 .1 .2 .4 .3 .5-.5 .5 .2 .5-.3 .1 .1 .4-.6 .5-.9 .5-1 .5-.5 .4-1 .1 .3 .5 1.4 .5 1.1 .5 .4 .5 1.6 .5 .8 .1 0 .4 .8 .5 .1 .5 .2 .5 .8 .5-.2 .5 .8 .5 .4 .5 .4 .1-.1 .4-.1 .5 .1 .5 .5 .5-.1 .5-.3 .5 .6 .5 .1 .5 .2 .5-.1 .5 .2 .5 .1 .5 .2 .5-.3 .5 .1 .5 .5 .5-.3 .5-.1 .5 .6 .5 .2 .5 .1 .1 .1 .4-.6 .5 .7 .5-.5 .5-.1 .5 .2 .5-.1 .5-.1 .5 .1 .5 .4 .5-.4 .5 .6 .5-.6 .5 .2 .5 0 .5 0 .5-.1 .5 .4 .5-.3 .5 .1 .5-.1 .5 .7 .5-.5 .5 .2 .5 .3 .5-.4 .5 .1 .5 .4 .5-.1 .5-.3 .5 .3 .5 .2 .5-.2 .5-.1 .5-.1 .5 .6 .5-.4 .5-.1 .5 .1 .5 .2 .5 .2 .1-.1 .4 0 .5-.2 .5-.1 .5 .4 .5-.2 .5-.1 .5 .3 .5 .2 .5-.1 .5-.5 .5 .5 .5-.1 .5-.4 .5 .6 .5-.2 .5 0 .5-.3 .5 .3 .5 0 .5 .2 .5 .1 .5-.5 .5 .5 .5-.3 .5-.3 .5 .5 .5 .1 .5 0 .5-.4 .5 .4 .5 .1 .5 0 .5-.4 .5 .4 .5-.5 .5 .5 .5-.2 .5 .1 .5 .1 .5-.4 .5 0 .5-.1 .5 .5 .5-.5 .5 0 .5 .5 .5-.1 .5 .3 .1-.6 .4-.3 .5-1.1 .5-.4 .1-.1 .4-13.2 .5-17.1 .1-2.8 .4-10.3 .5-13 .5-12.4 .1-2.3 .4 6.1 .5 7.5 .5 7.4 .1 1.7 .4 2.8 .5 3.5 .1 1.1 .4-2.4 .5-2.6 .5-3.1 .5-2.5 .1-.2 .4 1.7 .5 2.6 .5 2.8 .5 2.6 .1 .9 .4 3.4 .5 4.8 .5 4.5 .5 4.2 .1 1.3 .4 2.4 .5 3 .5 3 .5 3 .5 3 .1 .3 .4 1 .5 .4 .5 1.1 .5 .5 .5 1.5 .5 .7 .5 .4 .5 1.5 .5 .6 .2 .2 .3 0 .5 .2 .5-.2 .5-.7 .5-.1 .5-.2 .5-.2 .1 0 .4-.6 .5-1.1 .5-1 .5-1.1 .5-1.3 .5-1 .5-1.8 .5-.5 .5-1.5 .2-.2 .3 .7 .5 1.4 .5 1.2 .5 1 .5 1.6 .5 .9 .1 .9 .4 .7 .5 .8 .5 1.1 .5 1.1 .5 .9 .5 1.4 .5-1 .5-1.3 .5-1 .5-.8 .5-1.3 .5-1.4 .5-1.1 .5-.6 .5-1.3 .1-.5 .4 1.2 .5 1.3 .5 1.4 .5 1.5 .5 1.2 .5 1 .1 .2 .4 .2 .5 .5 .5 .7 .5 .4 .5 .2 .5 .6 .5-.1 .5 .4 .5 .4 .5 .8 .1 0 .4-.2 .5 .3 .5-.4 .5 .5 .5-.1 .5-.5 .5 .4 .5-.1 .5-.2 .5-.1 .5-.1 .5 .2 .5 .3 .5-.3 .5 .3 .5-.3 .5 .2 .5-.3 .5 .2 .5 0 .5-.1 .5-.1 .5-.2 .5 .1 .5 .3 .5-.1 .5-.3 .5 .4 .5-.4 .5 0 .5 .5 .5-.3 .5 0 .5 .1 .5-.1 .5-.1 .5 .4 .5-.2 .5-.1 .5-.1 .5 .1 .5 .2 .5-.3 .5-.2 .5-.1 .5 .6 .5 .1 .5-.2 .5-.1 .5 0 .5 0 .5-.4 .5 .1 .5 .1 .5-.2 .5 .3 .5 .2 .5-.1 .5-.3 .5 .1 .1 .3 .4-1.1 .5-1.2 .5-.8 .5-1.3 .1 .2 .4-.5 .5-.3 .5 0 .5-.7 .5 0 .5-.6 .5-.1 .5-.3 .1 .4 .4-1.5 .5-2 .5-1.7 .5-1.7 .5-1.4 .5-1.6 .1-.1 .4-3.8 .5-4.6 .5-4.4 .5-4 .5-4.2 .2-1.7 .3 1.4 .5 3 .5 3 .5 3.4 .5 3.2 .1 .3 .4 2.6 .5 3.2 .5 3.6 .5 3.2 .5 3.5 .4 2.6 .1 .4 .5 1 .5 1.7 .5 1.4 .5 1.5 .5 1.2 .5 1.3 .5 1.8 .5 1.9 .5 1.1 .5 1.1 .4 .6 .1-.3 .5 3.4 .5-1.9 .5 1.6 .5 1.8 .5 2.4 .5 .7 .5-.6 .5 3.3 .5-.8 .5 5 .4-2.8 .1 4 .5-2.9 .5 2.8 .5-1.6 .5 5.7 .1 3.3 .4-5.2 .5 2.9 .5 5.2 .5 .5 .5 2.3 .4-2.2 .1 2.7 .5-4.7 .5-2.6 .5 .3 .5-5.6 .1-.1 .4 4.1 .5-3.1 .5-5 .5-.8 .5-.7 .5-1.9 .5-4.7 .3-5.5 .2 7.3 .5-4.5 .5 3.7 .5-1.5 .5-1.6 .5-4 .5 2.8 .5-8.5 .5 1.1 .5-1.1 .5 1.5 .3-1.7 .2 3 .5-2.9 .5 1.2 .5-1.5 .5 .8 .5-.9 .5-2.8 .5-.5 .5 4.1 .5-3.9 .5-.9 .5 0 .5 1.8 .5-2.1 .5-.2 .5-.5 .5-.7 .5 2.5 .5 2.6 .5 2.5 .5 2.1 .5 2.5 .1 .8 .4 .9 .5 .9 .5 1 .5 .8 .5 1.3 .5 .5 .5 1.4 .4 .7 .1-.4 .5-2.2 .5-2.8 .5-2.2 .5-2.3 .5-2.5 .5-2.1 .5-2.3 .5-2.4 .1-.2 .4-1.3 .5-.7 .5-1.1 .5-1.4 .5-.7 .5-1.1 .5-1.7 .5-.9 .1-.1 .4 .2 .5 0 .5-.1 .5 .1 .5-.2 .3 .3 .2 .1 .5 2 .5 1.6 .5 1.6 .5 1.3 .5 1.7 .5 2.1 .1 .3 .4-.8 .5-.8 .5-1.3 .5-.5 .5-.5 .5-1.2 .5-.6 .5-1.5 .5-.3 .5-1.1 .1-.2 .4 .6 .5 0 .5 .7 .5 .5 .5 .5 .5 .1 .5 .3 .5 .3 .5 .3 .5 .5 .5 .3 .5 1 .5 .3 .5 .6 .4 .1 .1-.4 .5-.4 .5 .1 .5-.4 .5-.9 .5-.1 .5-.6 .5-.6 .5-.3 .4-.2 .1-.2 .5 .6 .5-.1 .5-.2 .2-.2 .3 4.2 .5 6.3 .5 6.5 .5 6.6 .4 5 .1 .1 .5 .1 .5 .3 .5-.3 .5 .5 .3 0 .2-.4 .5-.2 .5-.5 .5-.6 .5-1 .5-.5 .5-.1 .5-1.2 .1 .2 .4-.5 .5-.5 .5-.1 .5-.9 .5 .1 .5-.8 .5-.3 .5-.7 .5-.1 .5-.7 .4-.1 .1-.3 .5-.8 .5-1.3 .5-1.1 .5-1.1 .5-.5 .5-.9 .5-1.1 .5-1.3 .5-.5 .5-.8 .1-.5 .4-.3 .5-.6 .5 .3 .5-.7 .5-.6 .5-.2 .5-.3 .5 .2 .5-.4 .4-.2 .1-.4 .5 .5 .5 .7 .5 .9 .5 .3 .5 .7 .5 .8 .5 .5 .5 .3 .5 .7 .5 .6 .5 .8 .5 .3 .1 .2 .4-.6 .5-.6 .5-.7 .5-.8 .5-.6 .5-.6 .5-.6 .5-.5 .1-.1 .4-1 .5-.7 .5-.6 .5-.9 .5-.8 .5-.2 .5-1.3 .5-.5 .5 0 .5-.7 .5-.5 .5-.7 .4-.4 .1-.2 .5-1.9 .5-1.5 .5-1.8 .5-2.2 .5-1.3 .5-2.1 .5-1.8 .5-1.7 .5-1.5 .5-2.8 .5-3 .5-2.6 .5-2.8 .5-2.4 .2-1.4 .3-1.8 .5-3.9 .5-3.1 .5-3.7 .5-4 .5-3.4 .1-.6 .4 3.4 .5 4.3 .5 4.2 .5 4.5 .1 .6 .4 3.1 .5 4.7 .5 3.8 .5 4.5 .1 .6 .4 3.1 .5 2.9 .5 3 .5 3.2 .5 2.9 .2 1.2 .3-6.1 .5-10.2 .5-12.6 .1-2.5 .4 10.4 .2 4.9 .3 8.1 .4 9.8 .1 .1 .5 .6 .5 .4 .5 .2 .5 .3 .5 .8 .5-.1 .5 .5 .5 .7 .5 .5 .5 .1 .2 .2 .3-.2 .5-.2 .5 .5 .5-.3 .5-.2 .5 .3 .5-.4 .5-.1 .5-.2 .5-.1 .5 .4 .5 0 .5-.6 .5-.1 .5 .4 .5-.5 .5 .3 .1 .2 .4-.4 .5 .1 .5 .7 .5-.2 .5 .3 .5 .5 .5-.1 .5-.1 .5 .8 .5 0 .5-.3 .5 .9 .4-.4" fill="none" stroke="#EDB120" stroke-width="1.5" stroke-linejoin="round"/>
<path d="M207.4 638.2 H651.9 V949.2 H207.4 Z" fill="none" stroke="#404040" stroke-width="1.5"/>
<line x1="259.5" y1="949.2" x2="259.5" y2="944.2" stroke="#404040" stroke-width="1.5"/>
<line x1="259.5" y1="638.2" x2="259.5" y2="643.2" stroke="#404040" stroke-width="1.5"/>
<line x1="324.9" y1="949.2" x2="324.9" y2="944.2" stroke="#404040" stroke-width="1.5"/>
<line x1="324.9" y1="638.2" x2="324.9" y2="643.2" stroke="#404040" stroke-width="1.5"/>
<line x1="390.3" y1="949.2" x2="390.3" y2="944.2" stroke="#404040" stroke-width="1.5"/>
<line x1="390.3" y1="638.2" x2="390.3" y2="643.2" stroke="#404040" stroke-width="1.5"/>
<line x1="455.7" y1="949.2" x2="455.7" y2="944.2" stroke="#404040" stroke-width="1.5"/>
<line x1="455.7" y1="638.2" x2="455.7" y2="643.2" stroke="#404040" stroke-width="1.5"/>
<line x1="521.1" y1="949.2" x2="521.1" y2="944.2" stroke="#404040" stroke-width="1.5"/>
<line x1="521.1" y1="638.2" x2="521.1" y2="643.2" stroke="#404040" stroke-width="1.5"/>
<line x1="586.5" y1="949.2" x2="586.5" y2="944.2" stroke="#404040" stroke-width="1.5"/>
<line x1="586.5" y1="638.2" x2="586.5" y2="643.2" stroke="#404040" stroke-width="1.5"/>
<text x="259.5" y="961.8" font-size="9" font-family='"Liberation Serif", serif' font-weight="bold" text-anchor="middle" textLength="18.6" lengthAdjust="spacingAndGlyphs" fill="#333">3500</text>
<text x="324.9" y="961.8" font-size="9" font-family='"Liberation Serif", serif' font-weight="bold" text-anchor="middle" textLength="18.6" lengthAdjust="spacingAndGlyphs" fill="#333">3000</text>
<text x="390.3" y="961.8" font-size="9" font-family='"Liberation Serif", serif' font-weight="bold" text-anchor="middle" textLength="18.6" lengthAdjust="spacingAndGlyphs" fill="#333">2500</text>
<text x="455.7" y="961.8" font-size="9" font-family='"Liberation Serif", serif' font-weight="bold" text-anchor="middle" textLength="18.6" lengthAdjust="spacingAndGlyphs" fill="#333">2000</text>
<text x="521.1" y="961.8" font-size="9" font-family='"Liberation Serif", serif' font-weight="bold" text-anchor="middle" textLength="18.6" lengthAdjust="spacingAndGlyphs" fill="#333">1500</text>
<text x="586.5" y="961.8" font-size="9" font-family='"Liberation Serif", serif' font-weight="bold" text-anchor="middle" textLength="18.6" lengthAdjust="spacingAndGlyphs" fill="#333">1000</text>
<text x="651.9" y="961.8" font-size="9" font-family='"Liberation Serif", serif' font-weight="bold" text-anchor="middle" textLength="14.0" lengthAdjust="spacingAndGlyphs" fill="#333">500</text>
<text x="390.6" y="976.0" font-size="9" font-family='"Liberation Serif", serif' font-weight="bold" textLength="76.7" lengthAdjust="spacingAndGlyphs" fill="#333">Wavelength (cm<tspan dy="-3.2" font-size="70%">-1</tspan><tspan dy="3.2">)</tspan></text>
<text x="0.0" y="0.0" font-size="9.5" font-family='"Liberation Serif", serif' font-weight="bold" text-anchor="middle" textLength="71.4" lengthAdjust="spacingAndGlyphs" fill="#333" transform="translate(202.5 790.7) rotate(-90)">Absorbance (N.A.)</text>
<text x="401.5" y="634.5" font-size="8.6" font-family='"Liberation Serif", serif' font-weight="bold" textLength="56.0" lengthAdjust="spacingAndGlyphs" fill="#1a1a1a">FTIR@850<tspan dy="-3.2" font-size="70%">o</tspan><tspan dy="3.2">C</tspan></text>
<text x="188.4" y="637.2" font-size="13.5" font-family='"Liberation Sans", sans-serif' font-weight="bold" textLength="13.5" lengthAdjust="spacingAndGlyphs" fill="#1a1a1a">(f)</text>
<rect x="415.5" y="650.8" width="231.7" height="13.8" fill="#fff" stroke="#333" stroke-width="1.3"/>
<line x1="418.9" y1="658.1" x2="437.8" y2="658.1" stroke="#0072BD" stroke-width="2"/>
<text x="439.9" y="661.6" font-size="9.5" font-family='"Liberation Serif", serif' font-weight="bold" textLength="44.7" lengthAdjust="spacingAndGlyphs" fill="#1a1a1a">MXene Air</text>
<line x1="490.4" y1="658.1" x2="510.0" y2="658.1" stroke="#D95319" stroke-width="2"/>
<text x="512.1" y="661.6" font-size="9.5" font-family='"Liberation Serif", serif' font-weight="bold" textLength="60.8" lengthAdjust="spacingAndGlyphs" fill="#1a1a1a">MXene/CS/Air</text>
<line x1="577.8" y1="658.1" x2="596.9" y2="658.1" stroke="#EDB120" stroke-width="2"/>
<text x="600.0" y="661.6" font-size="9.5" font-family='"Liberation Serif", serif' font-weight="bold" textLength="43.7" lengthAdjust="spacingAndGlyphs" fill="#1a1a1a">MXene/CS</text>
<text x="336.6" y="656.8" font-size="7.5" font-family='"Liberation Sans", sans-serif' font-weight="bold" textLength="50.6" lengthAdjust="spacingAndGlyphs" fill="#1a1a1a">2363.52 cm<tspan dy="-2.6" font-size="70%">-1</tspan><tspan dy="2.6"></tspan></text>
<line x1="391.1" y1="651.8" x2="401.5" y2="654.0" stroke="#111" stroke-width="1.5"/>
<path d="M406.9 655.2 L400.4 656.9 L401.7 651.0 Z" fill="#111"/>
<text x="439.0" y="677.0" font-size="7.5" font-family='"Liberation Sans", sans-serif' font-weight="bold" textLength="50.4" lengthAdjust="spacingAndGlyphs" fill="#1a1a1a">2330.64 cm<tspan dy="-2.6" font-size="70%">-1</tspan><tspan dy="2.6"></tspan></text>
<line x1="431.6" y1="671.6" x2="421.8" y2="671.6" stroke="#111" stroke-width="1.5"/>
<path d="M416.3 671.6 L422.3 668.6 L422.3 674.6 Z" fill="#111"/>
<text x="604.8" y="685.5" font-size="7.5" font-family='"Liberation Sans", sans-serif' font-weight="bold" textLength="45.4" lengthAdjust="spacingAndGlyphs" fill="#1a1a1a">667.95 cm<tspan dy="-2.6" font-size="70%">-1</tspan><tspan dy="2.6"></tspan></text>
<text x="339.0" y="737.5" font-size="7.5" font-family='"Liberation Sans", sans-serif' font-weight="bold" textLength="51.6" lengthAdjust="spacingAndGlyphs" fill="#1a1a1a">2363.52 cm<tspan dy="-2.6" font-size="70%">-1</tspan><tspan dy="2.6"></tspan></text>
<line x1="392.0" y1="732.8" x2="401.5" y2="735.4" stroke="#111" stroke-width="1.5"/>
<path d="M406.8 736.8 L400.2 738.1 L401.8 732.3 Z" fill="#111"/>
<text x="438.3" y="761.7" font-size="7.5" font-family='"Liberation Sans", sans-serif' font-weight="bold" textLength="51.1" lengthAdjust="spacingAndGlyphs" fill="#1a1a1a">2330.64 cm<tspan dy="-2.6" font-size="70%">-1</tspan><tspan dy="2.6"></tspan></text>
<line x1="432.8" y1="756.5" x2="422.3" y2="756.5" stroke="#111" stroke-width="1.5"/>
<path d="M416.8 756.5 L422.8 753.5 L422.8 759.5 Z" fill="#111"/>
<text x="604.8" y="771.1" font-size="7.5" font-family='"Liberation Sans", sans-serif' font-weight="bold" textLength="45.2" lengthAdjust="spacingAndGlyphs" fill="#1a1a1a">667.95 cm<tspan dy="-2.6" font-size="70%">-1</tspan><tspan dy="2.6"></tspan></text>
<text x="337.8" y="821.7" font-size="7.5" font-family='"Liberation Sans", sans-serif' font-weight="bold" textLength="51.1" lengthAdjust="spacingAndGlyphs" fill="#1a1a1a">2363.52 cm<tspan dy="-2.6" font-size="70%">-1</tspan><tspan dy="2.6"></tspan></text>
<line x1="390.7" y1="816.8" x2="400.9" y2="819.7" stroke="#111" stroke-width="1.5"/>
<path d="M406.2 821.2 L399.6 822.4 L401.2 816.7 Z" fill="#111"/>
<text x="427.0" y="829.9" font-size="7.5" font-family='"Liberation Sans", sans-serif' font-weight="bold" textLength="50.3" lengthAdjust="spacingAndGlyphs" fill="#1a1a1a">2330.64 cm<tspan dy="-2.6" font-size="70%">-1</tspan><tspan dy="2.6"></tspan></text>
<line x1="424.5" y1="830.0" x2="419.7" y2="835.4" stroke="#111" stroke-width="1.5"/>
<path d="M416.0 839.5 L417.8 833.0 L422.2 837.0 Z" fill="#111"/>
<text x="268.5" y="867.4" font-size="7.5" font-family='"Liberation Sans", sans-serif' font-weight="bold" textLength="51.1" lengthAdjust="spacingAndGlyphs" fill="#1a1a1a">2932.82 cm<tspan dy="-2.6" font-size="70%">-1</tspan><tspan dy="2.6"></tspan></text>
<line x1="320.3" y1="868.3" x2="327.5" y2="871.8" stroke="#111" stroke-width="1.5"/>
<path d="M332.5 874.2 L325.8 874.3 L328.4 868.9 Z" fill="#111"/>
<text x="346.2" y="872.1" font-size="7.5" font-family='"Liberation Sans", sans-serif' font-weight="bold" textLength="51.8" lengthAdjust="spacingAndGlyphs" fill="#1a1a1a">2862.94 cm<tspan dy="-2.6" font-size="70%">-1</tspan><tspan dy="2.6"></tspan></text>
<path d="M341.3 875.3 L348.3 878.0 L342.6 883.2 Z" fill="#111"/>
<text x="418.5" y="867.9" font-size="7.5" font-family='"Liberation Sans", sans-serif' font-weight="bold" textLength="44.7" lengthAdjust="spacingAndGlyphs" fill="#1a1a1a">2180.6 cm<tspan dy="-2.6" font-size="70%">-1</tspan><tspan dy="2.6"></tspan></text>
<path d="M428.1 873.1 L436.0 873.1 L432.1 879.7 Z" fill="#111"/>
<text x="423.0" y="912.5" font-size="7.5" font-family='"Liberation Sans", sans-serif' font-weight="bold" textLength="45.6" lengthAdjust="spacingAndGlyphs" fill="#1a1a1a">2098.4 cm<tspan dy="-2.6" font-size="70%">-1</tspan><tspan dy="2.6"></tspan></text>
<path d="M438.2 895.5 L445.6 895.5 L441.7 888.5 Z" fill="#111"/>
<line x1="441.7" y1="895.0" x2="441.7" y2="899.4" stroke="#111" stroke-width="1.5"/>
<text x="472.6" y="845.8" font-size="7.5" font-family='"Liberation Sans", sans-serif' font-weight="bold" textLength="45.1" lengthAdjust="spacingAndGlyphs" fill="#1a1a1a">1726.4 cm<tspan dy="-2.6" font-size="70%">-1</tspan><tspan dy="2.6"></tspan></text>
<path d="M488.0 850.1 L495.8 850.1 L491.9 856.3 Z" fill="#111"/>
<line x1="491.9" y1="847.8" x2="491.9" y2="850.5" stroke="#111" stroke-width="1.5"/>
<text x="497.2" y="875.9" font-size="7.5" font-family='"Liberation Sans", sans-serif' font-weight="bold" textLength="49.8" lengthAdjust="spacingAndGlyphs" fill="#1a1a1a">1300.96 cm<tspan dy="-2.6" font-size="70%">-1</tspan><tspan dy="2.6"></tspan></text>
<path d="M539.2 879.9 L546.2 876.4 L546.6 884.2 Z" fill="#111"/>
<text x="549.7" y="868.7" font-size="7.5" font-family='"Liberation Sans", sans-serif' font-weight="bold" textLength="49.7" lengthAdjust="spacingAndGlyphs" fill="#1a1a1a">1280.41 cm<tspan dy="-2.6" font-size="70%">-1</tspan><tspan dy="2.6"></tspan></text>
<path d="M551.0 875.5 L558.0 878.6 L551.5 883.0 Z" fill="#111"/>
<text x="568.0" y="880.5" font-size="7.5" font-family='"Liberation Sans", sans-serif' font-weight="bold" textLength="43.8" lengthAdjust="spacingAndGlyphs" fill="#1a1a1a">1120.1 cm<tspan dy="-2.6" font-size="70%">-1</tspan><tspan dy="2.6"></tspan></text>
<path d="M571.6 887.3 L577.7 882.1 L579.9 887.8 Z" fill="#111"/>
<text x="590.3" y="919.6" font-size="7.5" font-family='"Liberation Sans", sans-serif' font-weight="bold" textLength="40.5" lengthAdjust="spacingAndGlyphs" fill="#1a1a1a">929.0 cm<tspan dy="-2.6" font-size="70%">-1</tspan><tspan dy="2.6"></tspan></text>
<path d="M592.3 906.6 L599.7 906.6 L595.8 900.1 Z" fill="#111"/>
<line x1="595.8" y1="906.0" x2="595.8" y2="908.4" stroke="#111" stroke-width="1.5"/>
<text x="600.8" y="826.2" font-size="7.5" font-family='"Liberation Sans", sans-serif' font-weight="bold" textLength="40.2" lengthAdjust="spacingAndGlyphs" fill="#1a1a1a">725.5 cm<tspan dy="-2.6" font-size="70%">-1</tspan><tspan dy="2.6"></tspan></text>
<path d="M618.7 829.7 L626.2 829.7 L622.5 836.3 Z" fill="#111"/>
<line x1="622.5" y1="827.5" x2="622.5" y2="830.0" stroke="#111" stroke-width="1.5"/>
</svg></body></html>
